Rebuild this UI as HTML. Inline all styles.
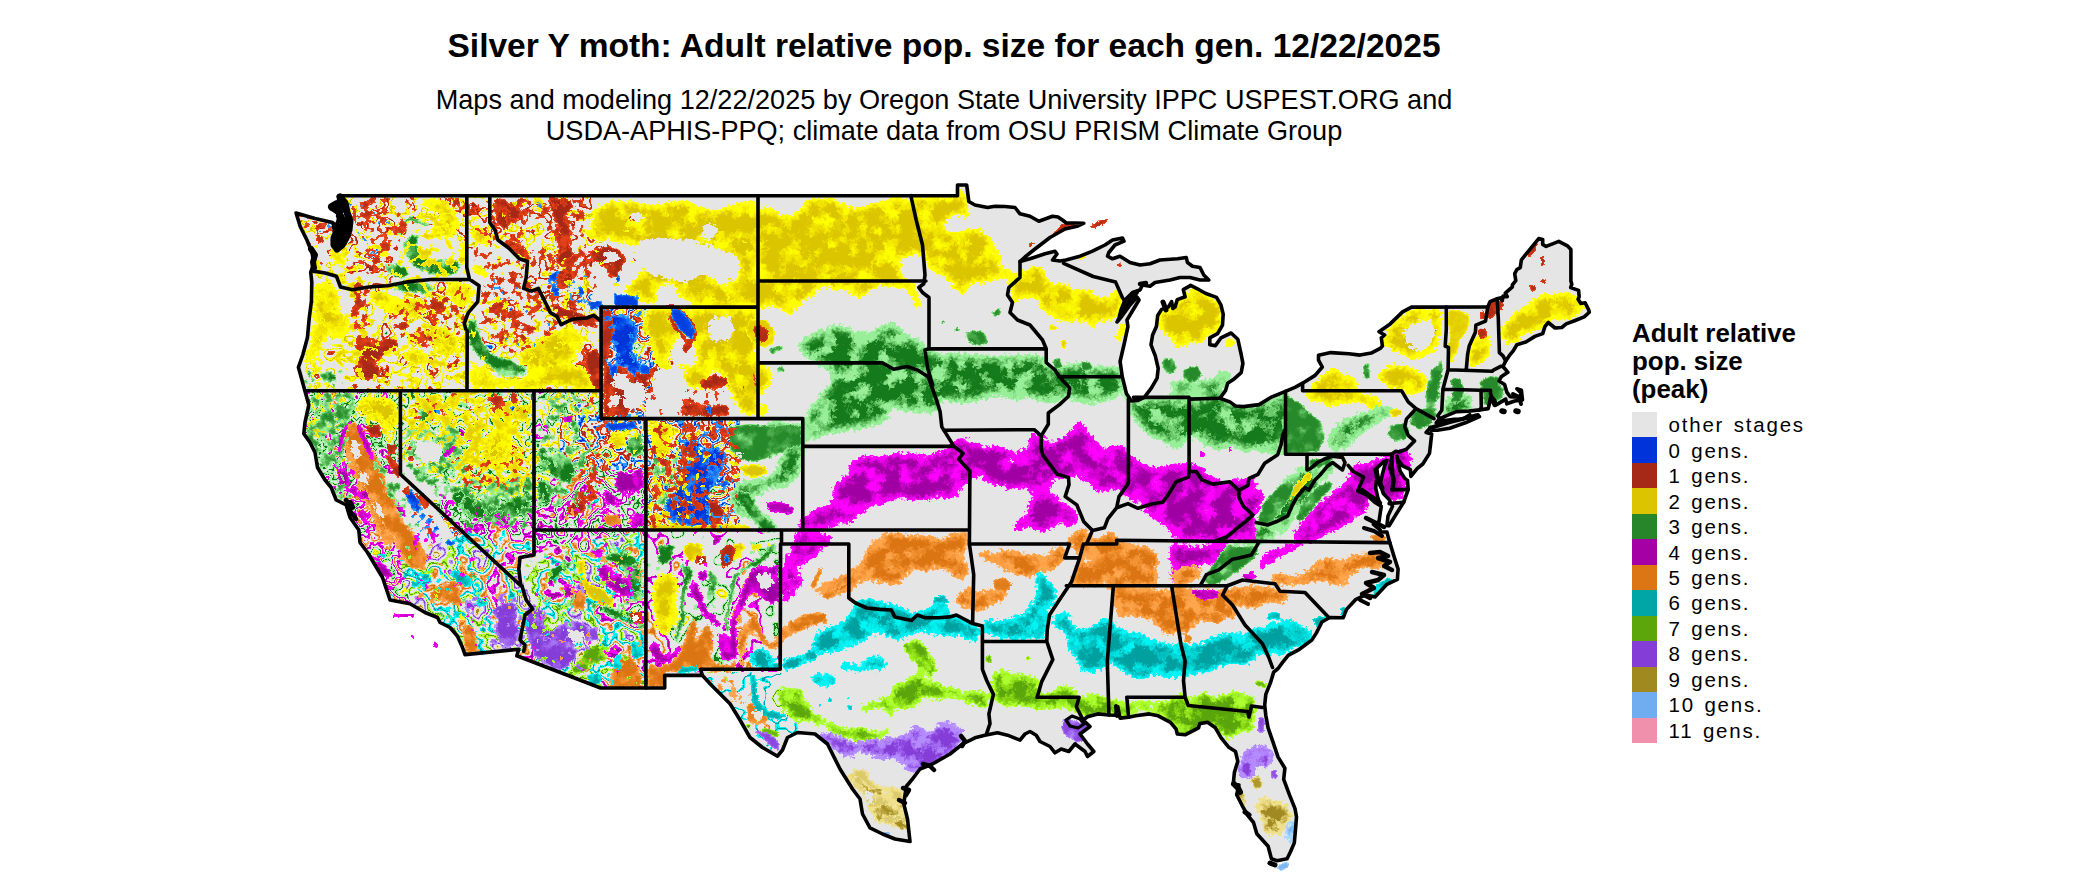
<!DOCTYPE html>
<html><head><meta charset="utf-8"><title>Silver Y moth</title>
<style>
html,body{margin:0;padding:0;background:#fff;}
body{width:2100px;height:892px;position:relative;overflow:hidden;font-family:"Liberation Sans",sans-serif;color:#000;}
#t{position:absolute;left:0;width:1888px;top:28px;text-align:center;font-weight:bold;font-size:33.55px;line-height:36px;white-space:nowrap}
#s{position:absolute;left:0;width:1888px;top:84px;text-align:center;font-size:27.1px;line-height:31.3px;white-space:nowrap}
#lt{position:absolute;left:1632px;top:320.2px;font-weight:bold;font-size:25.9px;line-height:27.8px;white-space:nowrap}
.sw{position:absolute;left:1632px;width:25px;}
.lb{position:absolute;left:1668.5px;font-size:20.5px;line-height:26px;height:26px;letter-spacing:1.8px;word-spacing:2px;white-space:nowrap}
#map{position:absolute;left:0;top:0}
</style></head><body>
<div id="t">Silver Y moth: Adult relative pop. size for each gen. 12/22/2025</div>
<div id="s">Maps and modeling 12/22/2025 by Oregon State University IPPC USPEST.ORG and<br>USDA-APHIS-PPQ; climate data from OSU PRISM Climate Group</div>
<div id="lt">Adult relative<br>pop. size<br>(peak)</div>

<div class="sw" style="top:412.00px;height:25.76px;background:#e5e5e5"></div>
<div class="lb" style="top:412.20px">other stages</div>
<div class="sw" style="top:437.46px;height:25.76px;background:#0033d9"></div>
<div class="lb" style="top:437.66px">0 gens.</div>
<div class="sw" style="top:462.92px;height:25.76px;background:#a62817"></div>
<div class="lb" style="top:463.12px">1 gens.</div>
<div class="sw" style="top:488.38px;height:25.76px;background:#dcc400"></div>
<div class="lb" style="top:488.58px">2 gens.</div>
<div class="sw" style="top:513.85px;height:25.76px;background:#27862a"></div>
<div class="lb" style="top:514.05px">3 gens.</div>
<div class="sw" style="top:539.31px;height:25.76px;background:#a500a5"></div>
<div class="lb" style="top:539.51px">4 gens.</div>
<div class="sw" style="top:564.77px;height:25.76px;background:#dc7614"></div>
<div class="lb" style="top:564.97px">5 gens.</div>
<div class="sw" style="top:590.23px;height:25.76px;background:#00a6a6"></div>
<div class="lb" style="top:590.43px">6 gens.</div>
<div class="sw" style="top:615.69px;height:25.76px;background:#5ca60c"></div>
<div class="lb" style="top:615.89px">7 gens.</div>
<div class="sw" style="top:641.15px;height:25.76px;background:#843dd6"></div>
<div class="lb" style="top:641.35px">8 gens.</div>
<div class="sw" style="top:666.62px;height:25.76px;background:#a08a20"></div>
<div class="lb" style="top:666.82px">9 gens.</div>
<div class="sw" style="top:692.08px;height:25.76px;background:#70acf0"></div>
<div class="lb" style="top:692.28px">10 gens.</div>
<div class="sw" style="top:717.54px;height:25.76px;background:#f090ac"></div>
<div class="lb" style="top:717.74px">11 gens.</div>
<svg id="map" width="2100" height="892" viewBox="0 0 2100 892">
<defs><clipPath id="us"><path d="M338.5 195.7 L957.5 195.7 L957.5 185.0 L966.7 185.0 L968.8 201.5 L975.0 205.0 L987.5 207.5 L995.0 206.2 L1005.0 206.5 L1015.0 207.5 L1020.0 213.8 L1030.0 216.2 L1038.8 221.2 L1045.0 219.0 L1052.5 216.2 L1058.0 217.0 L1062.5 220.0 L1066.2 223.0 L1075.0 223.0 L1083.8 223.2 L1078.0 226.0 L1065.0 229.0 L1050.0 237.5 L1035.0 249.0 L1025.0 257.0 L1020.0 261.5 L1030.0 258.8 L1045.0 253.8 L1055.0 251.2 L1057.0 254.0 L1052.5 260.0 L1060.0 261.0 L1066.0 260.0 L1080.0 256.2 L1092.5 251.2 L1105.0 245.0 L1112.5 240.0 L1122.5 238.0 L1124.0 241.2 L1115.0 245.0 L1108.8 252.5 L1107.5 256.2 L1112.5 258.8 L1120.0 256.2 L1130.0 262.5 L1140.0 265.0 L1150.0 263.8 L1160.0 260.0 L1177.5 258.8 L1186.2 257.5 L1187.5 262.5 L1192.5 266.2 L1200.0 267.5 L1203.8 275.0 L1208.8 280.0 L1200.0 280.0 L1190.0 277.5 L1180.0 277.5 L1170.0 280.0 L1155.0 282.5 L1150.0 286.2 L1142.5 285.0 L1140.0 290.0 L1132.5 292.5 L1125.0 300.0 L1121.0 310.0 L1119.0 318.0 L1117.0 322.0 L1122.0 316.0 L1130.0 305.0 L1137.0 297.0 L1139.0 300.0 L1133.0 310.0 L1127.0 320.0 L1127.9 326.6 L1124.6 342.0 L1120.1 361.5 L1122.3 376.8 L1126.4 393.5 L1131.3 401.0 L1138.0 400.5 L1144.3 397.4 L1151.5 387.9 L1157.1 378.2 L1158.2 368.4 L1155.3 355.9 L1151.0 344.8 L1152.6 335.0 L1156.4 326.6 L1157.7 315.5 L1161.6 309.4 L1168.3 307.1 L1171.6 301.6 L1172.8 308.5 L1175.0 307.1 L1177.3 299.6 L1185.1 296.8 L1183.3 289.6 L1190.7 285.4 L1197.4 288.8 L1205.3 293.2 L1216.5 297.4 L1221.0 305.2 L1223.2 314.1 L1222.5 325.2 L1217.6 333.6 L1209.8 337.8 L1209.8 344.8 L1215.4 345.6 L1221.0 337.8 L1231.1 333.0 L1237.8 339.2 L1241.2 354.5 L1242.9 363.4 L1241.2 372.6 L1233.3 379.6 L1227.7 383.2 L1225.5 390.7 L1219.9 398.2 L1229.9 401.9 L1235.5 406.0 L1243.4 406.6 L1259.1 404.6 L1270.3 397.7 L1285.5 391.3 L1295.4 387.1 L1302.6 383.2 L1315.1 375.4 L1322.3 367.0 L1318.5 360.1 L1318.5 355.3 L1330.8 352.6 L1348.8 353.7 L1360.0 355.1 L1371.2 353.1 L1380.2 348.4 L1382.4 346.1 L1381.3 337.8 L1384.6 335.0 L1379.0 331.7 L1390.2 323.9 L1402.6 311.9 L1411.5 307.1 L1487.8 306.9 L1490.0 301.6 L1497.2 298.8 L1500.1 297.9 L1502.3 300.7 L1503.0 296.0 L1507.3 296.6 L1505.3 293.2 L1512.4 286.8 L1512.4 284.9 L1515.8 280.7 L1514.7 273.7 L1516.9 269.5 L1520.3 267.6 L1521.4 259.8 L1538.7 238.6 L1542.7 239.4 L1542.7 244.5 L1546.1 246.4 L1558.8 241.4 L1567.4 245.8 L1570.9 249.5 L1570.9 281.0 L1571.8 284.3 L1570.7 287.6 L1578.6 290.4 L1579.2 296.6 L1578.1 299.3 L1580.8 303.5 L1585.1 302.7 L1588.7 309.9 L1589.3 312.2 L1584.2 316.9 L1575.2 320.5 L1566.2 323.9 L1561.8 327.5 L1555.0 328.0 L1548.3 322.5 L1544.9 326.6 L1542.7 333.6 L1534.9 336.4 L1525.9 342.0 L1516.9 344.8 L1513.6 350.3 L1509.1 355.9 L1505.7 360.9 L1503.0 366.5 L1507.9 372.3 L1501.2 376.8 L1499.0 381.0 L1504.6 384.6 L1506.8 392.1 L1510.2 396.8 L1519.2 397.1 L1521.4 393.5 L1516.9 388.8 L1521.4 390.2 L1522.5 399.9 L1514.7 401.0 L1506.8 403.8 L1505.7 399.1 L1496.7 404.6 L1494.5 405.5 L1490.5 397.7 L1488.9 406.0 L1488.2 408.6 L1479.7 409.9 L1468.7 411.1 L1456.4 411.6 L1449.7 414.4 L1439.6 418.6 L1436.2 422.8 L1442.9 420.8 L1454.1 419.4 L1463.1 419.1 L1469.8 414.7 L1467.6 418.6 L1479.5 416.6 L1465.4 422.8 L1449.7 428.3 L1437.3 430.3 L1431.3 430.3 L1430.6 427.5 L1426.1 432.5 L1431.7 433.9 L1430.6 443.7 L1429.5 453.4 L1422.8 464.0 L1417.1 468.7 L1410.9 476.3 L1410.4 469.6 L1402.6 465.9 L1397.6 459.0 L1397.0 456.2 L1398.1 463.2 L1400.3 471.5 L1404.8 478.5 L1407.5 480.4 L1408.2 489.6 L1403.7 502.2 L1395.8 514.7 L1389.1 525.8 L1386.9 525.8 L1388.0 516.1 L1392.5 506.3 L1389.1 499.4 L1383.5 493.8 L1380.2 484.1 L1382.4 474.3 L1384.6 465.9 L1386.9 460.4 L1383.5 461.8 L1376.8 468.2 L1376.8 475.7 L1375.7 488.2 L1377.9 498.0 L1380.2 504.1 L1373.4 498.0 L1365.6 493.8 L1374.6 502.2 L1381.3 506.3 L1380.2 513.3 L1379.0 521.7 L1373.4 524.4 L1380.2 530.0 L1380.2 532.0 L1386.9 532.0 L1389.8 542.6 L1393.6 555.1 L1398.1 569.0 L1397.4 579.3 L1386.9 584.3 L1375.0 596.9 L1365.6 594.9 L1355.5 599.7 L1346.5 609.4 L1343.2 617.8 L1329.7 617.5 L1321.9 622.0 L1316.3 633.1 L1311.8 640.1 L1299.4 649.3 L1288.2 655.4 L1282.6 662.4 L1278.1 668.5 L1273.7 672.1 L1270.3 683.2 L1265.8 694.4 L1264.7 705.3 L1265.8 715.3 L1268.1 727.8 L1274.8 747.3 L1278.1 757.1 L1284.9 768.2 L1283.7 779.4 L1289.4 794.7 L1295.0 808.6 L1296.5 817.0 L1295.4 830.9 L1294.3 842.9 L1290.5 851.8 L1287.1 858.8 L1277.0 860.7 L1271.4 858.8 L1268.1 846.2 L1256.8 833.7 L1253.5 822.5 L1247.9 815.6 L1242.3 805.8 L1236.7 794.7 L1238.9 784.9 L1233.3 783.5 L1234.4 772.4 L1237.8 761.3 L1235.5 751.5 L1228.8 747.3 L1221.0 737.6 L1215.4 727.8 L1207.5 722.3 L1199.7 723.6 L1198.6 727.8 L1185.1 734.8 L1177.3 734.0 L1176.1 729.2 L1170.5 722.3 L1158.2 715.8 L1149.2 713.9 L1135.8 715.8 L1128.6 717.2 L1120.1 718.1 L1117.8 706.9 L1115.6 715.3 L1108.9 715.0 L1097.7 713.9 L1087.6 716.7 L1083.1 720.0 L1090.0 726.5 L1080.0 734.0 L1087.5 744.0 L1093.8 751.5 L1087.5 756.5 L1085.0 751.5 L1075.0 744.0 L1068.8 751.5 L1061.2 749.0 L1055.0 752.8 L1050.0 746.5 L1040.0 741.5 L1036.2 735.2 L1030.0 731.5 L1025.0 734.0 L1020.0 740.2 L1007.5 735.2 L997.5 732.8 L985.0 735.2 L975.0 737.8 L962.5 744.0 L950.0 754.0 L932.5 764.0 L920.0 769.0 L912.5 779.0 L906.2 786.5 L903.8 804.0 L907.5 819.0 L910.0 841.5 L895.0 839.0 L882.5 834.0 L870.0 827.8 L862.5 814.0 L860.0 799.0 L852.5 789.0 L840.0 769.0 L827.5 744.0 L815.0 734.0 L812.5 733.8 L797.5 732.5 L787.5 737.5 L782.5 750.0 L777.5 756.2 L762.5 747.5 L750.0 737.5 L740.0 720.0 L730.0 703.8 L720.0 693.8 L710.0 683.8 L702.4 675.4 L664.7 675.4 L664.7 688.0 L600.6 688.0 L516.8 655.7 L518.8 649.3 L465.0 654.6 L462.5 647.5 L457.5 636.2 L450.0 627.5 L440.0 622.5 L437.5 617.5 L425.0 612.5 L410.0 603.8 L390.0 600.0 L387.5 592.5 L382.5 577.5 L375.0 565.0 L367.5 552.5 L360.0 542.5 L358.8 530.0 L350.0 517.5 L346.2 505.0 L336.2 500.0 L331.2 487.5 L325.0 480.0 L317.5 467.5 L315.0 452.5 L310.0 442.5 L303.8 433.8 L305.0 422.5 L308.8 405.0 L305.0 391.2 L301.8 379.6 L298.4 367.3 L302.9 354.5 L307.4 337.8 L309.2 318.3 L311.4 301.6 L311.8 282.1 L310.7 272.3 L313.6 264.2 L312.3 253.4 L306.9 240.0 L300.2 226.5 L296.1 213.0 L315.0 218.4 L332.5 222.5 L336.0 226.0 L338.0 221.0 L340.0 212.0 L338.0 203.0 L339.0 199.0 Z"/></clipPath>
<filter id="f0t" x="280" y="175" width="1340" height="710" filterUnits="userSpaceOnUse" color-interpolation-filters="sRGB"><feGaussianBlur in="SourceGraphic" stdDeviation="1.0" result="b"/><feTurbulence type="fractalNoise" baseFrequency="0.06" numOctaves="4" seed="42" result="n2"/><feColorMatrix in="n2" type="matrix" values="0 0 0 0 0 0 0 0 0 0 0 0 0 0 0 0 0 1.5 0 0.2" result="m"/><feComposite in="b" in2="m" operator="in" result="bm"/><feColorMatrix in="bm" type="matrix" values="0 0 0 1 0 0 0 0 1 0 0 0 0 1 0 0 0 0 1 0"/><feComponentTransfer result="c"><feFuncR type="table" tableValues="0.18 0.18 0.18 0.18 0.18 0.18 0.18 0.18 0.18 0.18 0.18 0.18 0.18 0.17 0.15 0.13 0.1 0.08 0.06 0.04 0.03 0.03 0.02 0.02 0.02 0.01"/><feFuncG type="table" tableValues="0.61 0.61 0.61 0.61 0.61 0.61 0.61 0.61 0.61 0.61 0.61 0.61 0.61 0.59 0.55 0.51 0.47 0.43 0.39 0.36 0.34 0.32 0.3 0.28 0.27 0.25"/><feFuncB type="table" tableValues="1 1 1 1 1 1 1 1 1 1 1 1 1 1 0.99 0.98 0.97 0.96 0.95 0.94 0.93 0.92 0.91 0.9 0.89 0.88"/><feFuncA type="table" tableValues="0 0 0 0 0 0 0 0 0 0 0 1 1 1 1 1 1 1 1 1 1 1 1 1 1 1"/></feComponentTransfer><feTurbulence type="fractalNoise" baseFrequency="0.28" numOctaves="2" seed="2" result="n"/><feDisplacementMap in="c" in2="n" scale="4" xChannelSelector="R" yChannelSelector="G"/></filter>
<filter id="f0m" x="280" y="175" width="1340" height="710" filterUnits="userSpaceOnUse" color-interpolation-filters="sRGB"><feGaussianBlur in="SourceGraphic" stdDeviation="1.5" result="b"/><feTurbulence type="fractalNoise" baseFrequency="0.06" numOctaves="4" seed="43" result="n2"/><feColorMatrix in="n2" type="matrix" values="0 0 0 0 0 0 0 0 0 0 0 0 0 0 0 0 0 1.5 0 0.2" result="m"/><feComposite in="b" in2="m" operator="in" result="bm"/><feColorMatrix in="bm" type="matrix" values="0 0 0 1 0 0 0 0 1 0 0 0 0 1 0 0 0 0 1 0"/><feComponentTransfer result="c"><feFuncR type="table" tableValues="0.51 0.51 0.51 0.51 0.51 0.51 0.51 0.51 0.51 0.51 0.51 0.51 0.18 0.18 0.18 0.17 0.14 0.12 0.09 0.07 0.04 0.03 0.02 0.01 0.01 0"/><feFuncG type="table" tableValues="0.76 0.76 0.76 0.76 0.76 0.76 0.76 0.76 0.76 0.76 0.76 0.76 0.61 0.61 0.61 0.59 0.54 0.5 0.45 0.41 0.36 0.33 0.29 0.26 0.23 0.2"/><feFuncB type="table" tableValues="1 1 1 1 1 1 1 1 1 1 1 1 1 1 1 0.99 0.98 0.97 0.96 0.95 0.94 0.92 0.9 0.88 0.87 0.85"/><feFuncA type="table" tableValues="0 0 0 0 0 0 0 0 0 0 0 1 1 1 1 1 1 1 1 1 1 1 1 1 1 1"/></feComponentTransfer><feTurbulence type="fractalNoise" baseFrequency="0.28" numOctaves="2" seed="3" result="n"/><feDisplacementMap in="c" in2="n" scale="6" xChannelSelector="R" yChannelSelector="G"/></filter>
<filter id="f1t" x="280" y="175" width="1340" height="710" filterUnits="userSpaceOnUse" color-interpolation-filters="sRGB"><feGaussianBlur in="SourceGraphic" stdDeviation="1.0" result="b"/><feTurbulence type="fractalNoise" baseFrequency="0.06" numOctaves="4" seed="45" result="n2"/><feColorMatrix in="n2" type="matrix" values="0 0 0 0 0 0 0 0 0 0 0 0 0 0 0 0 0 1.5 0 0.2" result="m"/><feComposite in="b" in2="m" operator="in" result="bm"/><feColorMatrix in="bm" type="matrix" values="0 0 0 1 0 0 0 0 1 0 0 0 0 1 0 0 0 0 1 0"/><feComponentTransfer result="c"><feFuncR type="table" tableValues="0.91 0.91 0.91 0.91 0.91 0.91 0.91 0.91 0.91 0.91 0.91 0.91 0.91 0.9 0.88 0.85 0.83 0.81 0.79 0.77 0.75 0.74 0.73 0.71 0.7 0.69"/><feFuncG type="table" tableValues="0.26 0.26 0.26 0.26 0.26 0.26 0.26 0.26 0.26 0.26 0.26 0.26 0.26 0.26 0.25 0.24 0.23 0.22 0.21 0.2 0.2 0.19 0.19 0.18 0.18 0.17"/><feFuncB type="table" tableValues="0.1 0.1 0.1 0.1 0.1 0.1 0.1 0.1 0.1 0.1 0.1 0.1 0.1 0.1 0.1 0.09 0.09 0.09 0.08 0.08 0.08 0.08 0.08 0.08 0.09 0.09"/><feFuncA type="table" tableValues="0 0 0 0 0 0 0 0 0 0 0 1 1 1 1 1 1 1 1 1 1 1 1 1 1 1"/></feComponentTransfer><feTurbulence type="fractalNoise" baseFrequency="0.28" numOctaves="2" seed="5" result="n"/><feDisplacementMap in="c" in2="n" scale="4" xChannelSelector="R" yChannelSelector="G"/></filter>
<filter id="f1m" x="280" y="175" width="1340" height="710" filterUnits="userSpaceOnUse" color-interpolation-filters="sRGB"><feGaussianBlur in="SourceGraphic" stdDeviation="1.5" result="b"/><feTurbulence type="fractalNoise" baseFrequency="0.06" numOctaves="4" seed="46" result="n2"/><feColorMatrix in="n2" type="matrix" values="0 0 0 0 0 0 0 0 0 0 0 0 0 0 0 0 0 1.5 0 0.2" result="m"/><feComposite in="b" in2="m" operator="in" result="bm"/><feColorMatrix in="bm" type="matrix" values="0 0 0 1 0 0 0 0 1 0 0 0 0 1 0 0 0 0 1 0"/><feComponentTransfer result="c"><feFuncR type="table" tableValues="0.95 0.95 0.95 0.95 0.95 0.95 0.95 0.95 0.95 0.95 0.95 0.95 0.91 0.91 0.91 0.9 0.87 0.85 0.82 0.79 0.77 0.74 0.72 0.69 0.67 0.65"/><feFuncG type="table" tableValues="0.56 0.56 0.56 0.56 0.56 0.56 0.56 0.56 0.56 0.56 0.56 0.56 0.26 0.26 0.26 0.26 0.25 0.24 0.23 0.21 0.2 0.19 0.18 0.17 0.16 0.16"/><feFuncB type="table" tableValues="0.46 0.46 0.46 0.46 0.46 0.46 0.46 0.46 0.46 0.46 0.46 0.46 0.1 0.1 0.1 0.1 0.1 0.09 0.09 0.08 0.08 0.08 0.08 0.09 0.09 0.09"/><feFuncA type="table" tableValues="0 0 0 0 0 0 0 0 0 0 0 1 1 1 1 1 1 1 1 1 1 1 1 1 1 1"/></feComponentTransfer><feTurbulence type="fractalNoise" baseFrequency="0.28" numOctaves="2" seed="6" result="n"/><feDisplacementMap in="c" in2="n" scale="6" xChannelSelector="R" yChannelSelector="G"/></filter>
<filter id="f2" x="280" y="175" width="1340" height="710" filterUnits="userSpaceOnUse" color-interpolation-filters="sRGB"><feGaussianBlur in="SourceGraphic" stdDeviation="3.6" result="b"/><feTurbulence type="fractalNoise" baseFrequency="0.06" numOctaves="4" seed="47" result="n2"/><feColorMatrix in="n2" type="matrix" values="0 0 0 0 0 0 0 0 0 0 0 0 0 0 0 0 0 1.3 0 0.3" result="m"/><feComposite in="b" in2="m" operator="in" result="bm"/><feColorMatrix in="bm" type="matrix" values="0 0 0 1 0 0 0 0 1 0 0 0 0 1 0 0 0 0 1 0"/><feComponentTransfer result="c"><feFuncR type="table" tableValues="1 1 1 1 1 1 1 1 1 1 1 1 1 1 1 1 1 0.99 0.98 0.97 0.96 0.95 0.94 0.91 0.88 0.86"/><feFuncG type="table" tableValues="1 1 1 1 1 1 1 1 1 1 1 1 1 1 1 1 1 0.99 0.97 0.94 0.92 0.9 0.88 0.84 0.8 0.77"/><feFuncB type="table" tableValues="0.4 0.4 0.4 0.4 0.4 0.4 0.4 0.4 0.4 0.4 0.4 0.4 0 0 0 0 0 0 0 0 0 0 0 0 0 0"/><feFuncA type="table" tableValues="0 0 0 0 0 0 0 0 0 0 0 1 1 1 1 1 1 1 1 1 1 1 1 1 1 1"/></feComponentTransfer><feTurbulence type="fractalNoise" baseFrequency="0.28" numOctaves="2" seed="7" result="n"/><feDisplacementMap in="c" in2="n" scale="9" xChannelSelector="R" yChannelSelector="G"/></filter>
<filter id="f2t" x="280" y="175" width="1340" height="710" filterUnits="userSpaceOnUse" color-interpolation-filters="sRGB"><feGaussianBlur in="SourceGraphic" stdDeviation="1.0" result="b"/><feTurbulence type="fractalNoise" baseFrequency="0.06" numOctaves="4" seed="48" result="n2"/><feColorMatrix in="n2" type="matrix" values="0 0 0 0 0 0 0 0 0 0 0 0 0 0 0 0 0 1.3 0 0.3" result="m"/><feComposite in="b" in2="m" operator="in" result="bm"/><feColorMatrix in="bm" type="matrix" values="0 0 0 1 0 0 0 0 1 0 0 0 0 1 0 0 0 0 1 0"/><feComponentTransfer result="c"><feFuncR type="table" tableValues="1 1 1 1 1 1 1 1 1 1 1 1 1 1 0.99 0.98 0.97 0.96 0.95 0.94 0.93 0.92 0.91 0.9 0.9 0.89"/><feFuncG type="table" tableValues="1 1 1 1 1 1 1 1 1 1 1 1 1 0.99 0.97 0.95 0.93 0.91 0.89 0.88 0.86 0.85 0.84 0.83 0.81 0.8"/><feFuncB type="table" tableValues="0 0 0 0 0 0 0 0 0 0 0 0 0 0 0 0 0 0 0 0 0 0 0 0 0 0"/><feFuncA type="table" tableValues="0 0 0 0 0 0 0 0 0 0 0 1 1 1 1 1 1 1 1 1 1 1 1 1 1 1"/></feComponentTransfer><feTurbulence type="fractalNoise" baseFrequency="0.28" numOctaves="2" seed="8" result="n"/><feDisplacementMap in="c" in2="n" scale="4" xChannelSelector="R" yChannelSelector="G"/></filter>
<filter id="f2m" x="280" y="175" width="1340" height="710" filterUnits="userSpaceOnUse" color-interpolation-filters="sRGB"><feGaussianBlur in="SourceGraphic" stdDeviation="1.5" result="b"/><feTurbulence type="fractalNoise" baseFrequency="0.06" numOctaves="4" seed="49" result="n2"/><feColorMatrix in="n2" type="matrix" values="0 0 0 0 0 0 0 0 0 0 0 0 0 0 0 0 0 1.3 0 0.3" result="m"/><feComposite in="b" in2="m" operator="in" result="bm"/><feColorMatrix in="bm" type="matrix" values="0 0 0 1 0 0 0 0 1 0 0 0 0 1 0 0 0 0 1 0"/><feComponentTransfer result="c"><feFuncR type="table" tableValues="1 1 1 1 1 1 1 1 1 1 1 1 1 1 1 0.99 0.98 0.97 0.96 0.95 0.94 0.92 0.91 0.89 0.88 0.86"/><feFuncG type="table" tableValues="1 1 1 1 1 1 1 1 1 1 1 1 1 1 1 0.99 0.97 0.94 0.92 0.9 0.88 0.86 0.83 0.81 0.79 0.77"/><feFuncB type="table" tableValues="0.4 0.4 0.4 0.4 0.4 0.4 0.4 0.4 0.4 0.4 0.4 0.4 0 0 0 0 0 0 0 0 0 0 0 0 0 0"/><feFuncA type="table" tableValues="0 0 0 0 0 0 0 0 0 0 0 1 1 1 1 1 1 1 1 1 1 1 1 1 1 1"/></feComponentTransfer><feTurbulence type="fractalNoise" baseFrequency="0.28" numOctaves="2" seed="9" result="n"/><feDisplacementMap in="c" in2="n" scale="6" xChannelSelector="R" yChannelSelector="G"/></filter>
<filter id="f3" x="280" y="175" width="1340" height="710" filterUnits="userSpaceOnUse" color-interpolation-filters="sRGB"><feGaussianBlur in="SourceGraphic" stdDeviation="4.2" result="b"/><feTurbulence type="fractalNoise" baseFrequency="0.06" numOctaves="4" seed="50" result="n2"/><feColorMatrix in="n2" type="matrix" values="0 0 0 0 0 0 0 0 0 0 0 0 0 0 0 0 0 1.4 0 0.27" result="m"/><feComposite in="b" in2="m" operator="in" result="bm"/><feColorMatrix in="bm" type="matrix" values="0 0 0 1 0 0 0 0 1 0 0 0 0 1 0 0 0 0 1 0"/><feComponentTransfer result="c"><feFuncR type="table" tableValues="0.76 0.76 0.76 0.76 0.76 0.76 0.76 0.76 0.76 0.76 0.76 0.76 0.6 0.6 0.6 0.6 0.6 0.6 0.6 0.54 0.49 0.43 0.38 0.32 0.2 0.08"/><feFuncG type="table" tableValues="0.96 0.96 0.96 0.96 0.96 0.96 0.96 0.96 0.96 0.96 0.96 0.96 0.94 0.94 0.94 0.94 0.94 0.94 0.94 0.89 0.85 0.8 0.75 0.7 0.58 0.48"/><feFuncB type="table" tableValues="0.76 0.76 0.76 0.76 0.76 0.76 0.76 0.76 0.76 0.76 0.76 0.76 0.6 0.6 0.6 0.6 0.6 0.6 0.6 0.54 0.49 0.43 0.38 0.32 0.21 0.11"/><feFuncA type="table" tableValues="0 0 0 0 0 0 0 0 0 0 0 1 1 1 1 1 1 1 1 1 1 1 1 1 1 1"/></feComponentTransfer><feTurbulence type="fractalNoise" baseFrequency="0.28" numOctaves="2" seed="10" result="n"/><feDisplacementMap in="c" in2="n" scale="9" xChannelSelector="R" yChannelSelector="G"/></filter>
<filter id="f3t" x="280" y="175" width="1340" height="710" filterUnits="userSpaceOnUse" color-interpolation-filters="sRGB"><feGaussianBlur in="SourceGraphic" stdDeviation="1.0" result="b"/><feTurbulence type="fractalNoise" baseFrequency="0.06" numOctaves="4" seed="51" result="n2"/><feColorMatrix in="n2" type="matrix" values="0 0 0 0 0 0 0 0 0 0 0 0 0 0 0 0 0 1.4 0 0.27" result="m"/><feComposite in="b" in2="m" operator="in" result="bm"/><feColorMatrix in="bm" type="matrix" values="0 0 0 1 0 0 0 0 1 0 0 0 0 1 0 0 0 0 1 0"/><feComponentTransfer result="c"><feFuncR type="table" tableValues="0.6 0.6 0.6 0.6 0.6 0.6 0.6 0.6 0.6 0.6 0.6 0.6 0.6 0.57 0.53 0.48 0.44 0.39 0.34 0.3 0.28 0.25 0.23 0.2 0.18 0.15"/><feFuncG type="table" tableValues="0.94 0.94 0.94 0.94 0.94 0.94 0.94 0.94 0.94 0.94 0.94 0.94 0.94 0.92 0.88 0.84 0.8 0.76 0.72 0.68 0.66 0.64 0.61 0.59 0.57 0.54"/><feFuncB type="table" tableValues="0.6 0.6 0.6 0.6 0.6 0.6 0.6 0.6 0.6 0.6 0.6 0.6 0.6 0.57 0.53 0.48 0.44 0.39 0.34 0.3 0.28 0.26 0.24 0.21 0.19 0.17"/><feFuncA type="table" tableValues="0 0 0 0 0 0 0 0 0 0 0 1 1 1 1 1 1 1 1 1 1 1 1 1 1 1"/></feComponentTransfer><feTurbulence type="fractalNoise" baseFrequency="0.28" numOctaves="2" seed="11" result="n"/><feDisplacementMap in="c" in2="n" scale="4" xChannelSelector="R" yChannelSelector="G"/></filter>
<filter id="f3m" x="280" y="175" width="1340" height="710" filterUnits="userSpaceOnUse" color-interpolation-filters="sRGB"><feGaussianBlur in="SourceGraphic" stdDeviation="1.5" result="b"/><feTurbulence type="fractalNoise" baseFrequency="0.06" numOctaves="4" seed="52" result="n2"/><feColorMatrix in="n2" type="matrix" values="0 0 0 0 0 0 0 0 0 0 0 0 0 0 0 0 0 1.4 0 0.27" result="m"/><feComposite in="b" in2="m" operator="in" result="bm"/><feColorMatrix in="bm" type="matrix" values="0 0 0 1 0 0 0 0 1 0 0 0 0 1 0 0 0 0 1 0"/><feComponentTransfer result="c"><feFuncR type="table" tableValues="0.76 0.76 0.76 0.76 0.76 0.76 0.76 0.76 0.76 0.76 0.76 0.76 0.6 0.6 0.6 0.57 0.52 0.47 0.41 0.36 0.31 0.26 0.21 0.17 0.12 0.08"/><feFuncG type="table" tableValues="0.96 0.96 0.96 0.96 0.96 0.96 0.96 0.96 0.96 0.96 0.96 0.96 0.94 0.94 0.94 0.92 0.87 0.83 0.78 0.74 0.69 0.65 0.6 0.56 0.51 0.48"/><feFuncB type="table" tableValues="0.76 0.76 0.76 0.76 0.76 0.76 0.76 0.76 0.76 0.76 0.76 0.76 0.6 0.6 0.6 0.57 0.52 0.47 0.41 0.36 0.31 0.27 0.23 0.18 0.14 0.11"/><feFuncA type="table" tableValues="0 0 0 0 0 0 0 0 0 0 0 1 1 1 1 1 1 1 1 1 1 1 1 1 1 1"/></feComponentTransfer><feTurbulence type="fractalNoise" baseFrequency="0.28" numOctaves="2" seed="12" result="n"/><feDisplacementMap in="c" in2="n" scale="6" xChannelSelector="R" yChannelSelector="G"/></filter>
<filter id="f4" x="280" y="175" width="1340" height="710" filterUnits="userSpaceOnUse" color-interpolation-filters="sRGB"><feGaussianBlur in="SourceGraphic" stdDeviation="3.6" result="b"/><feTurbulence type="fractalNoise" baseFrequency="0.06" numOctaves="4" seed="53" result="n2"/><feColorMatrix in="n2" type="matrix" values="0 0 0 0 0 0 0 0 0 0 0 0 0 0 0 0 0 1.5 0 0.2" result="m"/><feComposite in="b" in2="m" operator="in" result="bm"/><feColorMatrix in="bm" type="matrix" values="0 0 0 1 0 0 0 0 1 0 0 0 0 1 0 0 0 0 1 0"/><feComponentTransfer result="c"><feFuncR type="table" tableValues="1 1 1 1 1 1 1 1 1 1 1 1 1 1 1 1 1 1 0.97 0.93 0.9 0.86 0.83 0.77 0.69 0.63"/><feFuncG type="table" tableValues="0.4 0.4 0.4 0.4 0.4 0.4 0.4 0.4 0.4 0.4 0.4 0.4 0 0 0 0 0 0 0 0 0 0 0 0 0 0"/><feFuncB type="table" tableValues="1 1 1 1 1 1 1 1 1 1 1 1 1 1 1 1 1 1 0.97 0.93 0.9 0.86 0.83 0.77 0.7 0.64"/><feFuncA type="table" tableValues="0 0 0 0 0 0 0 0 0 0 0 1 1 1 1 1 1 1 1 1 1 1 1 1 1 1"/></feComponentTransfer><feTurbulence type="fractalNoise" baseFrequency="0.28" numOctaves="2" seed="13" result="n"/><feDisplacementMap in="c" in2="n" scale="9" xChannelSelector="R" yChannelSelector="G"/></filter>
<filter id="f4t" x="280" y="175" width="1340" height="710" filterUnits="userSpaceOnUse" color-interpolation-filters="sRGB"><feGaussianBlur in="SourceGraphic" stdDeviation="1.0" result="b"/><feTurbulence type="fractalNoise" baseFrequency="0.06" numOctaves="4" seed="54" result="n2"/><feColorMatrix in="n2" type="matrix" values="0 0 0 0 0 0 0 0 0 0 0 0 0 0 0 0 0 1.5 0 0.2" result="m"/><feComposite in="b" in2="m" operator="in" result="bm"/><feColorMatrix in="bm" type="matrix" values="0 0 0 1 0 0 0 0 1 0 0 0 0 1 0 0 0 0 1 0"/><feComponentTransfer result="c"><feFuncR type="table" tableValues="1 1 1 1 1 1 1 1 1 1 1 1 1 0.98 0.95 0.92 0.89 0.86 0.83 0.81 0.79 0.77 0.74 0.72 0.7 0.68"/><feFuncG type="table" tableValues="0 0 0 0 0 0 0 0 0 0 0 0 0 0 0 0 0 0 0 0 0 0 0 0 0 0"/><feFuncB type="table" tableValues="1 1 1 1 1 1 1 1 1 1 1 1 1 0.98 0.95 0.92 0.89 0.86 0.83 0.81 0.79 0.77 0.75 0.73 0.71 0.69"/><feFuncA type="table" tableValues="0 0 0 0 0 0 0 0 0 0 0 1 1 1 1 1 1 1 1 1 1 1 1 1 1 1"/></feComponentTransfer><feTurbulence type="fractalNoise" baseFrequency="0.28" numOctaves="2" seed="14" result="n"/><feDisplacementMap in="c" in2="n" scale="4" xChannelSelector="R" yChannelSelector="G"/></filter>
<filter id="f4m" x="280" y="175" width="1340" height="710" filterUnits="userSpaceOnUse" color-interpolation-filters="sRGB"><feGaussianBlur in="SourceGraphic" stdDeviation="1.5" result="b"/><feTurbulence type="fractalNoise" baseFrequency="0.06" numOctaves="4" seed="55" result="n2"/><feColorMatrix in="n2" type="matrix" values="0 0 0 0 0 0 0 0 0 0 0 0 0 0 0 0 0 1.5 0 0.2" result="m"/><feComposite in="b" in2="m" operator="in" result="bm"/><feColorMatrix in="bm" type="matrix" values="0 0 0 1 0 0 0 0 1 0 0 0 0 1 0 0 0 0 1 0"/><feComponentTransfer result="c"><feFuncR type="table" tableValues="1 1 1 1 1 1 1 1 1 1 1 1 1 1 1 0.98 0.95 0.91 0.88 0.85 0.81 0.77 0.73 0.7 0.66 0.63"/><feFuncG type="table" tableValues="0.4 0.4 0.4 0.4 0.4 0.4 0.4 0.4 0.4 0.4 0.4 0.4 0 0 0 0 0 0 0 0 0 0 0 0 0 0"/><feFuncB type="table" tableValues="1 1 1 1 1 1 1 1 1 1 1 1 1 1 1 0.98 0.95 0.91 0.88 0.85 0.81 0.78 0.74 0.71 0.67 0.64"/><feFuncA type="table" tableValues="0 0 0 0 0 0 0 0 0 0 0 1 1 1 1 1 1 1 1 1 1 1 1 1 1 1"/></feComponentTransfer><feTurbulence type="fractalNoise" baseFrequency="0.28" numOctaves="2" seed="15" result="n"/><feDisplacementMap in="c" in2="n" scale="6" xChannelSelector="R" yChannelSelector="G"/></filter>
<filter id="f5" x="280" y="175" width="1340" height="710" filterUnits="userSpaceOnUse" color-interpolation-filters="sRGB"><feGaussianBlur in="SourceGraphic" stdDeviation="3.4" result="b"/><feTurbulence type="fractalNoise" baseFrequency="0.06" numOctaves="4" seed="56" result="n2"/><feColorMatrix in="n2" type="matrix" values="0 0 0 0 0 0 0 0 0 0 0 0 0 0 0 0 0 1.5 0 0.2" result="m"/><feComposite in="b" in2="m" operator="in" result="bm"/><feColorMatrix in="bm" type="matrix" values="0 0 0 1 0 0 0 0 1 0 0 0 0 1 0 0 0 0 1 0"/><feComponentTransfer result="c"><feFuncR type="table" tableValues="1 1 1 1 1 1 1 1 1 1 1 1 1 1 1 1 1 0.99 0.98 0.97 0.95 0.94 0.93 0.9 0.88 0.86"/><feFuncG type="table" tableValues="0.79 0.79 0.79 0.79 0.79 0.79 0.79 0.79 0.79 0.79 0.79 0.79 0.65 0.65 0.65 0.65 0.65 0.64 0.62 0.6 0.58 0.56 0.54 0.51 0.48 0.46"/><feFuncB type="table" tableValues="0.58 0.58 0.58 0.58 0.58 0.58 0.58 0.58 0.58 0.58 0.58 0.58 0.3 0.3 0.3 0.3 0.3 0.29 0.26 0.24 0.21 0.18 0.16 0.13 0.1 0.08"/><feFuncA type="table" tableValues="0 0 0 0 0 0 0 0 0 0 0 1 1 1 1 1 1 1 1 1 1 1 1 1 1 1"/></feComponentTransfer><feTurbulence type="fractalNoise" baseFrequency="0.28" numOctaves="2" seed="16" result="n"/><feDisplacementMap in="c" in2="n" scale="9" xChannelSelector="R" yChannelSelector="G"/></filter>
<filter id="f5t" x="280" y="175" width="1340" height="710" filterUnits="userSpaceOnUse" color-interpolation-filters="sRGB"><feGaussianBlur in="SourceGraphic" stdDeviation="1.0" result="b"/><feTurbulence type="fractalNoise" baseFrequency="0.06" numOctaves="4" seed="57" result="n2"/><feColorMatrix in="n2" type="matrix" values="0 0 0 0 0 0 0 0 0 0 0 0 0 0 0 0 0 1.5 0 0.2" result="m"/><feComposite in="b" in2="m" operator="in" result="bm"/><feColorMatrix in="bm" type="matrix" values="0 0 0 1 0 0 0 0 1 0 0 0 0 1 0 0 0 0 1 0"/><feComponentTransfer result="c"><feFuncR type="table" tableValues="1 1 1 1 1 1 1 1 1 1 1 1 1 0.99 0.98 0.97 0.96 0.95 0.93 0.92 0.92 0.91 0.9 0.9 0.89 0.88"/><feFuncG type="table" tableValues="0.65 0.65 0.65 0.65 0.65 0.65 0.65 0.65 0.65 0.65 0.65 0.65 0.65 0.64 0.62 0.61 0.59 0.57 0.55 0.54 0.53 0.52 0.51 0.5 0.5 0.49"/><feFuncB type="table" tableValues="0.3 0.3 0.3 0.3 0.3 0.3 0.3 0.3 0.3 0.3 0.3 0.3 0.3 0.29 0.27 0.24 0.22 0.2 0.17 0.15 0.15 0.14 0.13 0.12 0.11 0.1"/><feFuncA type="table" tableValues="0 0 0 0 0 0 0 0 0 0 0 1 1 1 1 1 1 1 1 1 1 1 1 1 1 1"/></feComponentTransfer><feTurbulence type="fractalNoise" baseFrequency="0.28" numOctaves="2" seed="17" result="n"/><feDisplacementMap in="c" in2="n" scale="4" xChannelSelector="R" yChannelSelector="G"/></filter>
<filter id="f5m" x="280" y="175" width="1340" height="710" filterUnits="userSpaceOnUse" color-interpolation-filters="sRGB"><feGaussianBlur in="SourceGraphic" stdDeviation="1.5" result="b"/><feTurbulence type="fractalNoise" baseFrequency="0.06" numOctaves="4" seed="58" result="n2"/><feColorMatrix in="n2" type="matrix" values="0 0 0 0 0 0 0 0 0 0 0 0 0 0 0 0 0 1.5 0 0.2" result="m"/><feComposite in="b" in2="m" operator="in" result="bm"/><feColorMatrix in="bm" type="matrix" values="0 0 0 1 0 0 0 0 1 0 0 0 0 1 0 0 0 0 1 0"/><feComponentTransfer result="c"><feFuncR type="table" tableValues="1 1 1 1 1 1 1 1 1 1 1 1 1 1 1 0.99 0.98 0.97 0.95 0.94 0.93 0.91 0.9 0.89 0.87 0.86"/><feFuncG type="table" tableValues="0.79 0.79 0.79 0.79 0.79 0.79 0.79 0.79 0.79 0.79 0.79 0.79 0.65 0.65 0.65 0.64 0.62 0.6 0.58 0.56 0.54 0.52 0.51 0.49 0.48 0.46"/><feFuncB type="table" tableValues="0.58 0.58 0.58 0.58 0.58 0.58 0.58 0.58 0.58 0.58 0.58 0.58 0.3 0.3 0.3 0.29 0.26 0.24 0.21 0.18 0.16 0.14 0.12 0.11 0.09 0.08"/><feFuncA type="table" tableValues="0 0 0 0 0 0 0 0 0 0 0 1 1 1 1 1 1 1 1 1 1 1 1 1 1 1"/></feComponentTransfer><feTurbulence type="fractalNoise" baseFrequency="0.28" numOctaves="2" seed="18" result="n"/><feDisplacementMap in="c" in2="n" scale="6" xChannelSelector="R" yChannelSelector="G"/></filter>
<filter id="f6" x="280" y="175" width="1340" height="710" filterUnits="userSpaceOnUse" color-interpolation-filters="sRGB"><feGaussianBlur in="SourceGraphic" stdDeviation="3.2" result="b"/><feTurbulence type="fractalNoise" baseFrequency="0.06" numOctaves="4" seed="59" result="n2"/><feColorMatrix in="n2" type="matrix" values="0 0 0 0 0 0 0 0 0 0 0 0 0 0 0 0 0 1.5 0 0.2" result="m"/><feComposite in="b" in2="m" operator="in" result="bm"/><feColorMatrix in="bm" type="matrix" values="0 0 0 1 0 0 0 0 1 0 0 0 0 1 0 0 0 0 1 0"/><feComponentTransfer result="c"><feFuncR type="table" tableValues="0.4 0.4 0.4 0.4 0.4 0.4 0.4 0.4 0.4 0.4 0.4 0.4 0 0 0 0 0 0 0 0 0 0 0 0 0 0"/><feFuncG type="table" tableValues="0.98 0.98 0.98 0.98 0.98 0.98 0.98 0.98 0.98 0.98 0.98 0.98 0.96 0.96 0.96 0.96 0.96 0.94 0.91 0.88 0.85 0.82 0.78 0.73 0.67 0.63"/><feFuncB type="table" tableValues="0.98 0.98 0.98 0.98 0.98 0.98 0.98 0.98 0.98 0.98 0.98 0.98 0.96 0.96 0.96 0.96 0.96 0.94 0.91 0.88 0.85 0.82 0.78 0.73 0.67 0.63"/><feFuncA type="table" tableValues="0 0 0 0 0 0 0 0 0 0 0 1 1 1 1 1 1 1 1 1 1 1 1 1 1 1"/></feComponentTransfer><feTurbulence type="fractalNoise" baseFrequency="0.28" numOctaves="2" seed="19" result="n"/><feDisplacementMap in="c" in2="n" scale="9" xChannelSelector="R" yChannelSelector="G"/></filter>
<filter id="f6t" x="280" y="175" width="1340" height="710" filterUnits="userSpaceOnUse" color-interpolation-filters="sRGB"><feGaussianBlur in="SourceGraphic" stdDeviation="1.0" result="b"/><feTurbulence type="fractalNoise" baseFrequency="0.06" numOctaves="4" seed="60" result="n2"/><feColorMatrix in="n2" type="matrix" values="0 0 0 0 0 0 0 0 0 0 0 0 0 0 0 0 0 1.5 0 0.2" result="m"/><feComposite in="b" in2="m" operator="in" result="bm"/><feColorMatrix in="bm" type="matrix" values="0 0 0 1 0 0 0 0 1 0 0 0 0 1 0 0 0 0 1 0"/><feComponentTransfer result="c"><feFuncR type="table" tableValues="0 0 0 0 0 0 0 0 0 0 0 0 0 0 0 0 0 0 0 0 0 0 0 0 0 0"/><feFuncG type="table" tableValues="0.96 0.96 0.96 0.96 0.96 0.96 0.96 0.96 0.96 0.96 0.96 0.96 0.96 0.95 0.92 0.89 0.86 0.83 0.81 0.78 0.76 0.74 0.73 0.71 0.69 0.67"/><feFuncB type="table" tableValues="0.96 0.96 0.96 0.96 0.96 0.96 0.96 0.96 0.96 0.96 0.96 0.96 0.96 0.95 0.92 0.89 0.86 0.83 0.81 0.78 0.76 0.74 0.73 0.71 0.69 0.67"/><feFuncA type="table" tableValues="0 0 0 0 0 0 0 0 0 0 0 1 1 1 1 1 1 1 1 1 1 1 1 1 1 1"/></feComponentTransfer><feTurbulence type="fractalNoise" baseFrequency="0.28" numOctaves="2" seed="20" result="n"/><feDisplacementMap in="c" in2="n" scale="4" xChannelSelector="R" yChannelSelector="G"/></filter>
<filter id="f6m" x="280" y="175" width="1340" height="710" filterUnits="userSpaceOnUse" color-interpolation-filters="sRGB"><feGaussianBlur in="SourceGraphic" stdDeviation="1.5" result="b"/><feTurbulence type="fractalNoise" baseFrequency="0.06" numOctaves="4" seed="61" result="n2"/><feColorMatrix in="n2" type="matrix" values="0 0 0 0 0 0 0 0 0 0 0 0 0 0 0 0 0 1.5 0 0.2" result="m"/><feComposite in="b" in2="m" operator="in" result="bm"/><feColorMatrix in="bm" type="matrix" values="0 0 0 1 0 0 0 0 1 0 0 0 0 1 0 0 0 0 1 0"/><feComponentTransfer result="c"><feFuncR type="table" tableValues="0.4 0.4 0.4 0.4 0.4 0.4 0.4 0.4 0.4 0.4 0.4 0.4 0 0 0 0 0 0 0 0 0 0 0 0 0 0"/><feFuncG type="table" tableValues="0.98 0.98 0.98 0.98 0.98 0.98 0.98 0.98 0.98 0.98 0.98 0.98 0.96 0.96 0.96 0.94 0.91 0.88 0.85 0.82 0.78 0.75 0.72 0.69 0.65 0.63"/><feFuncB type="table" tableValues="0.98 0.98 0.98 0.98 0.98 0.98 0.98 0.98 0.98 0.98 0.98 0.98 0.96 0.96 0.96 0.94 0.91 0.88 0.85 0.82 0.78 0.75 0.72 0.69 0.65 0.63"/><feFuncA type="table" tableValues="0 0 0 0 0 0 0 0 0 0 0 1 1 1 1 1 1 1 1 1 1 1 1 1 1 1"/></feComponentTransfer><feTurbulence type="fractalNoise" baseFrequency="0.28" numOctaves="2" seed="21" result="n"/><feDisplacementMap in="c" in2="n" scale="6" xChannelSelector="R" yChannelSelector="G"/></filter>
<filter id="f7" x="280" y="175" width="1340" height="710" filterUnits="userSpaceOnUse" color-interpolation-filters="sRGB"><feGaussianBlur in="SourceGraphic" stdDeviation="3.2" result="b"/><feTurbulence type="fractalNoise" baseFrequency="0.06" numOctaves="4" seed="62" result="n2"/><feColorMatrix in="n2" type="matrix" values="0 0 0 0 0 0 0 0 0 0 0 0 0 0 0 0 0 1.5 0 0.2" result="m"/><feComposite in="b" in2="m" operator="in" result="bm"/><feColorMatrix in="bm" type="matrix" values="0 0 0 1 0 0 0 0 1 0 0 0 0 1 0 0 0 0 1 0"/><feComponentTransfer result="c"><feFuncR type="table" tableValues="0.81 0.81 0.81 0.81 0.81 0.81 0.81 0.81 0.81 0.81 0.81 0.81 0.68 0.68 0.68 0.68 0.68 0.66 0.63 0.6 0.57 0.53 0.5 0.45 0.4 0.36"/><feFuncG type="table" tableValues="1 1 1 1 1 1 1 1 1 1 1 1 1 1 1 1 1 0.98 0.95 0.92 0.88 0.85 0.82 0.76 0.7 0.65"/><feFuncB type="table" tableValues="0.51 0.51 0.51 0.51 0.51 0.51 0.51 0.51 0.51 0.51 0.51 0.51 0.18 0.18 0.18 0.18 0.18 0.17 0.15 0.13 0.11 0.08 0.06 0.06 0.05 0.05"/><feFuncA type="table" tableValues="0 0 0 0 0 0 0 0 0 0 0 1 1 1 1 1 1 1 1 1 1 1 1 1 1 1"/></feComponentTransfer><feTurbulence type="fractalNoise" baseFrequency="0.28" numOctaves="2" seed="22" result="n"/><feDisplacementMap in="c" in2="n" scale="9" xChannelSelector="R" yChannelSelector="G"/></filter>
<filter id="f7t" x="280" y="175" width="1340" height="710" filterUnits="userSpaceOnUse" color-interpolation-filters="sRGB"><feGaussianBlur in="SourceGraphic" stdDeviation="1.0" result="b"/><feTurbulence type="fractalNoise" baseFrequency="0.06" numOctaves="4" seed="63" result="n2"/><feColorMatrix in="n2" type="matrix" values="0 0 0 0 0 0 0 0 0 0 0 0 0 0 0 0 0 1.5 0 0.2" result="m"/><feComposite in="b" in2="m" operator="in" result="bm"/><feColorMatrix in="bm" type="matrix" values="0 0 0 1 0 0 0 0 1 0 0 0 0 1 0 0 0 0 1 0"/><feComponentTransfer result="c"><feFuncR type="table" tableValues="0.68 0.68 0.68 0.68 0.68 0.68 0.68 0.68 0.68 0.68 0.68 0.68 0.68 0.66 0.64 0.61 0.58 0.55 0.52 0.5 0.48 0.47 0.45 0.43 0.42 0.4"/><feFuncG type="table" tableValues="1 1 1 1 1 1 1 1 1 1 1 1 1 0.99 0.96 0.93 0.9 0.87 0.84 0.81 0.79 0.77 0.76 0.74 0.72 0.7"/><feFuncB type="table" tableValues="0.18 0.18 0.18 0.18 0.18 0.18 0.18 0.18 0.18 0.18 0.18 0.18 0.18 0.17 0.16 0.14 0.12 0.1 0.08 0.06 0.06 0.06 0.06 0.06 0.05 0.05"/><feFuncA type="table" tableValues="0 0 0 0 0 0 0 0 0 0 0 1 1 1 1 1 1 1 1 1 1 1 1 1 1 1"/></feComponentTransfer><feTurbulence type="fractalNoise" baseFrequency="0.28" numOctaves="2" seed="23" result="n"/><feDisplacementMap in="c" in2="n" scale="4" xChannelSelector="R" yChannelSelector="G"/></filter>
<filter id="f7m" x="280" y="175" width="1340" height="710" filterUnits="userSpaceOnUse" color-interpolation-filters="sRGB"><feGaussianBlur in="SourceGraphic" stdDeviation="1.5" result="b"/><feTurbulence type="fractalNoise" baseFrequency="0.06" numOctaves="4" seed="64" result="n2"/><feColorMatrix in="n2" type="matrix" values="0 0 0 0 0 0 0 0 0 0 0 0 0 0 0 0 0 1.5 0 0.2" result="m"/><feComposite in="b" in2="m" operator="in" result="bm"/><feColorMatrix in="bm" type="matrix" values="0 0 0 1 0 0 0 0 1 0 0 0 0 1 0 0 0 0 1 0"/><feComponentTransfer result="c"><feFuncR type="table" tableValues="0.81 0.81 0.81 0.81 0.81 0.81 0.81 0.81 0.81 0.81 0.81 0.81 0.68 0.68 0.68 0.66 0.63 0.6 0.57 0.53 0.5 0.47 0.44 0.41 0.38 0.36"/><feFuncG type="table" tableValues="1 1 1 1 1 1 1 1 1 1 1 1 1 1 1 0.98 0.95 0.92 0.88 0.85 0.82 0.78 0.75 0.71 0.68 0.65"/><feFuncB type="table" tableValues="0.51 0.51 0.51 0.51 0.51 0.51 0.51 0.51 0.51 0.51 0.51 0.51 0.18 0.18 0.18 0.17 0.15 0.13 0.11 0.08 0.06 0.06 0.06 0.05 0.05 0.05"/><feFuncA type="table" tableValues="0 0 0 0 0 0 0 0 0 0 0 1 1 1 1 1 1 1 1 1 1 1 1 1 1 1"/></feComponentTransfer><feTurbulence type="fractalNoise" baseFrequency="0.28" numOctaves="2" seed="24" result="n"/><feDisplacementMap in="c" in2="n" scale="6" xChannelSelector="R" yChannelSelector="G"/></filter>
<filter id="f8" x="280" y="175" width="1340" height="710" filterUnits="userSpaceOnUse" color-interpolation-filters="sRGB"><feGaussianBlur in="SourceGraphic" stdDeviation="3.0" result="b"/><feTurbulence type="fractalNoise" baseFrequency="0.06" numOctaves="4" seed="65" result="n2"/><feColorMatrix in="n2" type="matrix" values="0 0 0 0 0 0 0 0 0 0 0 0 0 0 0 0 0 1.5 0 0.2" result="m"/><feComposite in="b" in2="m" operator="in" result="bm"/><feColorMatrix in="bm" type="matrix" values="0 0 0 1 0 0 0 0 1 0 0 0 0 1 0 0 0 0 1 0"/><feComponentTransfer result="c"><feFuncR type="table" tableValues="0.82 0.82 0.82 0.82 0.82 0.82 0.82 0.82 0.82 0.82 0.82 0.82 0.71 0.71 0.71 0.71 0.71 0.71 0.7 0.68 0.65 0.63 0.61 0.58 0.55 0.52"/><feFuncG type="table" tableValues="0.73 0.73 0.73 0.73 0.73 0.73 0.73 0.73 0.73 0.73 0.73 0.73 0.55 0.55 0.55 0.55 0.55 0.55 0.53 0.49 0.45 0.42 0.38 0.33 0.28 0.24"/><feFuncB type="table" tableValues="1 1 1 1 1 1 1 1 1 1 1 1 1 1 1 1 1 1 0.99 0.98 0.96 0.94 0.93 0.9 0.87 0.84"/><feFuncA type="table" tableValues="0 0 0 0 0 0 0 0 0 0 0 1 1 1 1 1 1 1 1 1 1 1 1 1 1 1"/></feComponentTransfer><feTurbulence type="fractalNoise" baseFrequency="0.28" numOctaves="2" seed="25" result="n"/><feDisplacementMap in="c" in2="n" scale="9" xChannelSelector="R" yChannelSelector="G"/></filter>
<filter id="f8t" x="280" y="175" width="1340" height="710" filterUnits="userSpaceOnUse" color-interpolation-filters="sRGB"><feGaussianBlur in="SourceGraphic" stdDeviation="1.0" result="b"/><feTurbulence type="fractalNoise" baseFrequency="0.06" numOctaves="4" seed="66" result="n2"/><feColorMatrix in="n2" type="matrix" values="0 0 0 0 0 0 0 0 0 0 0 0 0 0 0 0 0 1.5 0 0.2" result="m"/><feComposite in="b" in2="m" operator="in" result="bm"/><feColorMatrix in="bm" type="matrix" values="0 0 0 1 0 0 0 0 1 0 0 0 0 1 0 0 0 0 1 0"/><feComponentTransfer result="c"><feFuncR type="table" tableValues="0.71 0.71 0.71 0.71 0.71 0.71 0.71 0.71 0.71 0.71 0.71 0.71 0.71 0.7 0.68 0.67 0.65 0.63 0.62 0.6 0.59 0.58 0.57 0.56 0.55 0.54"/><feFuncG type="table" tableValues="0.55 0.55 0.55 0.55 0.55 0.55 0.55 0.55 0.55 0.55 0.55 0.55 0.55 0.53 0.5 0.47 0.44 0.41 0.38 0.36 0.34 0.33 0.32 0.3 0.29 0.28"/><feFuncB type="table" tableValues="1 1 1 1 1 1 1 1 1 1 1 1 1 0.99 0.98 0.97 0.95 0.94 0.93 0.92 0.91 0.9 0.89 0.88 0.87 0.86"/><feFuncA type="table" tableValues="0 0 0 0 0 0 0 0 0 0 0 1 1 1 1 1 1 1 1 1 1 1 1 1 1 1"/></feComponentTransfer><feTurbulence type="fractalNoise" baseFrequency="0.28" numOctaves="2" seed="26" result="n"/><feDisplacementMap in="c" in2="n" scale="4" xChannelSelector="R" yChannelSelector="G"/></filter>
<filter id="f8m" x="280" y="175" width="1340" height="710" filterUnits="userSpaceOnUse" color-interpolation-filters="sRGB"><feGaussianBlur in="SourceGraphic" stdDeviation="1.5" result="b"/><feTurbulence type="fractalNoise" baseFrequency="0.06" numOctaves="4" seed="67" result="n2"/><feColorMatrix in="n2" type="matrix" values="0 0 0 0 0 0 0 0 0 0 0 0 0 0 0 0 0 1.5 0 0.2" result="m"/><feComposite in="b" in2="m" operator="in" result="bm"/><feColorMatrix in="bm" type="matrix" values="0 0 0 1 0 0 0 0 1 0 0 0 0 1 0 0 0 0 1 0"/><feComponentTransfer result="c"><feFuncR type="table" tableValues="0.82 0.82 0.82 0.82 0.82 0.82 0.82 0.82 0.82 0.82 0.82 0.82 0.71 0.71 0.71 0.7 0.68 0.66 0.64 0.62 0.6 0.59 0.57 0.55 0.53 0.52"/><feFuncG type="table" tableValues="0.73 0.73 0.73 0.73 0.73 0.73 0.73 0.73 0.73 0.73 0.73 0.73 0.55 0.55 0.55 0.53 0.5 0.46 0.43 0.4 0.36 0.34 0.31 0.28 0.26 0.24"/><feFuncB type="table" tableValues="1 1 1 1 1 1 1 1 1 1 1 1 1 1 1 0.99 0.98 0.96 0.95 0.93 0.92 0.9 0.88 0.87 0.85 0.84"/><feFuncA type="table" tableValues="0 0 0 0 0 0 0 0 0 0 0 1 1 1 1 1 1 1 1 1 1 1 1 1 1 1"/></feComponentTransfer><feTurbulence type="fractalNoise" baseFrequency="0.28" numOctaves="2" seed="27" result="n"/><feDisplacementMap in="c" in2="n" scale="6" xChannelSelector="R" yChannelSelector="G"/></filter>
<filter id="f9" x="280" y="175" width="1340" height="710" filterUnits="userSpaceOnUse" color-interpolation-filters="sRGB"><feGaussianBlur in="SourceGraphic" stdDeviation="3.2" result="b"/><feTurbulence type="fractalNoise" baseFrequency="0.06" numOctaves="4" seed="68" result="n2"/><feColorMatrix in="n2" type="matrix" values="0 0 0 0 0 0 0 0 0 0 0 0 0 0 0 0 0 1.5 0 0.2" result="m"/><feComposite in="b" in2="m" operator="in" result="bm"/><feColorMatrix in="bm" type="matrix" values="0 0 0 1 0 0 0 0 1 0 0 0 0 1 0 0 0 0 1 0"/><feComponentTransfer result="c"><feFuncR type="table" tableValues="0.96 0.96 0.96 0.96 0.96 0.96 0.96 0.96 0.96 0.96 0.96 0.96 0.94 0.94 0.94 0.94 0.94 0.94 0.94 0.91 0.88 0.85 0.82 0.79 0.7 0.63"/><feFuncG type="table" tableValues="0.93 0.93 0.93 0.93 0.93 0.93 0.93 0.93 0.93 0.93 0.93 0.93 0.88 0.88 0.88 0.88 0.88 0.88 0.88 0.84 0.81 0.77 0.74 0.71 0.61 0.54"/><feFuncB type="table" tableValues="0.73 0.73 0.73 0.73 0.73 0.73 0.73 0.73 0.73 0.73 0.73 0.73 0.55 0.55 0.55 0.55 0.55 0.55 0.55 0.5 0.45 0.41 0.36 0.31 0.21 0.13"/><feFuncA type="table" tableValues="0 0 0 0 0 0 0 0 0 0 0 1 1 1 1 1 1 1 1 1 1 1 1 1 1 1"/></feComponentTransfer><feTurbulence type="fractalNoise" baseFrequency="0.28" numOctaves="2" seed="28" result="n"/><feDisplacementMap in="c" in2="n" scale="9" xChannelSelector="R" yChannelSelector="G"/></filter>
<filter id="f9t" x="280" y="175" width="1340" height="710" filterUnits="userSpaceOnUse" color-interpolation-filters="sRGB"><feGaussianBlur in="SourceGraphic" stdDeviation="1.0" result="b"/><feTurbulence type="fractalNoise" baseFrequency="0.06" numOctaves="4" seed="69" result="n2"/><feColorMatrix in="n2" type="matrix" values="0 0 0 0 0 0 0 0 0 0 0 0 0 0 0 0 0 1.5 0 0.2" result="m"/><feComposite in="b" in2="m" operator="in" result="bm"/><feColorMatrix in="bm" type="matrix" values="0 0 0 1 0 0 0 0 1 0 0 0 0 1 0 0 0 0 1 0"/><feComponentTransfer result="c"><feFuncR type="table" tableValues="0.94 0.94 0.94 0.94 0.94 0.94 0.94 0.94 0.94 0.94 0.94 0.94 0.94 0.93 0.9 0.88 0.86 0.83 0.81 0.78 0.77 0.75 0.73 0.71 0.69 0.68"/><feFuncG type="table" tableValues="0.88 0.88 0.88 0.88 0.88 0.88 0.88 0.88 0.88 0.88 0.88 0.88 0.88 0.86 0.84 0.81 0.78 0.75 0.73 0.7 0.68 0.66 0.65 0.63 0.61 0.59"/><feFuncB type="table" tableValues="0.55 0.55 0.55 0.55 0.55 0.55 0.55 0.55 0.55 0.55 0.55 0.55 0.55 0.53 0.49 0.45 0.42 0.38 0.34 0.31 0.29 0.27 0.25 0.22 0.2 0.18"/><feFuncA type="table" tableValues="0 0 0 0 0 0 0 0 0 0 0 1 1 1 1 1 1 1 1 1 1 1 1 1 1 1"/></feComponentTransfer><feTurbulence type="fractalNoise" baseFrequency="0.28" numOctaves="2" seed="29" result="n"/><feDisplacementMap in="c" in2="n" scale="4" xChannelSelector="R" yChannelSelector="G"/></filter>
<filter id="f9m" x="280" y="175" width="1340" height="710" filterUnits="userSpaceOnUse" color-interpolation-filters="sRGB"><feGaussianBlur in="SourceGraphic" stdDeviation="1.5" result="b"/><feTurbulence type="fractalNoise" baseFrequency="0.06" numOctaves="4" seed="70" result="n2"/><feColorMatrix in="n2" type="matrix" values="0 0 0 0 0 0 0 0 0 0 0 0 0 0 0 0 0 1.5 0 0.2" result="m"/><feComposite in="b" in2="m" operator="in" result="bm"/><feColorMatrix in="bm" type="matrix" values="0 0 0 1 0 0 0 0 1 0 0 0 0 1 0 0 0 0 1 0"/><feComponentTransfer result="c"><feFuncR type="table" tableValues="0.96 0.96 0.96 0.96 0.96 0.96 0.96 0.96 0.96 0.96 0.96 0.96 0.94 0.94 0.94 0.93 0.9 0.87 0.84 0.82 0.79 0.75 0.72 0.69 0.65 0.63"/><feFuncG type="table" tableValues="0.93 0.93 0.93 0.93 0.93 0.93 0.93 0.93 0.93 0.93 0.93 0.93 0.88 0.88 0.88 0.86 0.83 0.8 0.77 0.74 0.71 0.67 0.64 0.6 0.57 0.54"/><feFuncB type="table" tableValues="0.73 0.73 0.73 0.73 0.73 0.73 0.73 0.73 0.73 0.73 0.73 0.73 0.55 0.55 0.55 0.53 0.48 0.44 0.4 0.36 0.31 0.27 0.23 0.19 0.16 0.13"/><feFuncA type="table" tableValues="0 0 0 0 0 0 0 0 0 0 0 1 1 1 1 1 1 1 1 1 1 1 1 1 1 1"/></feComponentTransfer><feTurbulence type="fractalNoise" baseFrequency="0.28" numOctaves="2" seed="30" result="n"/><feDisplacementMap in="c" in2="n" scale="6" xChannelSelector="R" yChannelSelector="G"/></filter>
<filter id="f9l" x="280" y="175" width="1340" height="710" filterUnits="userSpaceOnUse" color-interpolation-filters="sRGB"><feGaussianBlur in="SourceGraphic" stdDeviation="1.5" result="b"/><feTurbulence type="fractalNoise" baseFrequency="0.06" numOctaves="4" seed="70" result="n2"/><feColorMatrix in="n2" type="matrix" values="0 0 0 0 0 0 0 0 0 0 0 0 0 0 0 0 0 1.5 0 0.2" result="m"/><feComposite in="b" in2="m" operator="in" result="bm"/><feColorMatrix in="bm" type="matrix" values="0 0 0 1 0 0 0 0 1 0 0 0 0 1 0 0 0 0 1 0"/><feComponentTransfer result="c"><feFuncR type="table" tableValues="0.94 0.94 0.94 0.94 0.94 0.94 0.94 0.94 0.94 0.94 0.94 0.94 0.94 0.94 0.94 0.94 0.94 0.94 0.94 0.94 0.94 0.93 0.91 0.9 0.88 0.86"/><feFuncG type="table" tableValues="0.88 0.88 0.88 0.88 0.88 0.88 0.88 0.88 0.88 0.88 0.88 0.88 0.88 0.88 0.88 0.88 0.88 0.88 0.88 0.88 0.88 0.86 0.84 0.83 0.81 0.79"/><feFuncB type="table" tableValues="0.55 0.55 0.55 0.55 0.55 0.55 0.55 0.55 0.55 0.55 0.55 0.55 0.55 0.55 0.55 0.55 0.55 0.55 0.55 0.55 0.55 0.53 0.5 0.48 0.45 0.43"/><feFuncA type="table" tableValues="0 0 0 0 0 0 0 0 0 0 0 1 1 1 1 1 1 1 1 1 1 1 1 1 1 1"/></feComponentTransfer><feTurbulence type="fractalNoise" baseFrequency="0.28" numOctaves="2" seed="30" result="n"/><feDisplacementMap in="c" in2="n" scale="6" xChannelSelector="R" yChannelSelector="G"/></filter>
<filter id="f10" x="280" y="175" width="1340" height="710" filterUnits="userSpaceOnUse" color-interpolation-filters="sRGB"><feGaussianBlur in="SourceGraphic" stdDeviation="2.5" result="b"/><feTurbulence type="fractalNoise" baseFrequency="0.06" numOctaves="4" seed="71" result="n2"/><feColorMatrix in="n2" type="matrix" values="0 0 0 0 0 0 0 0 0 0 0 0 0 0 0 0 0 1.5 0 0.2" result="m"/><feComposite in="b" in2="m" operator="in" result="bm"/><feColorMatrix in="bm" type="matrix" values="0 0 0 1 0 0 0 0 1 0 0 0 0 1 0 0 0 0 1 0"/><feComponentTransfer result="c"><feFuncR type="table" tableValues="0.8 0.8 0.8 0.8 0.8 0.8 0.8 0.8 0.8 0.8 0.8 0.8 0.66 0.66 0.66 0.66 0.66 0.66 0.65 0.62 0.6 0.57 0.55 0.51 0.47 0.44"/><feFuncG type="table" tableValues="0.91 0.91 0.91 0.91 0.91 0.91 0.91 0.91 0.91 0.91 0.91 0.91 0.85 0.85 0.85 0.85 0.85 0.85 0.84 0.82 0.8 0.78 0.76 0.74 0.7 0.67"/><feFuncB type="table" tableValues="1 1 1 1 1 1 1 1 1 1 1 1 1 1 1 1 1 1 1 0.99 0.99 0.98 0.98 0.97 0.95 0.94"/><feFuncA type="table" tableValues="0 0 0 0 0 0 0 0 0 0 0 1 1 1 1 1 1 1 1 1 1 1 1 1 1 1"/></feComponentTransfer><feTurbulence type="fractalNoise" baseFrequency="0.28" numOctaves="2" seed="31" result="n"/><feDisplacementMap in="c" in2="n" scale="9" xChannelSelector="R" yChannelSelector="G"/></filter>
<filter id="f10t" x="280" y="175" width="1340" height="710" filterUnits="userSpaceOnUse" color-interpolation-filters="sRGB"><feGaussianBlur in="SourceGraphic" stdDeviation="1.0" result="b"/><feTurbulence type="fractalNoise" baseFrequency="0.06" numOctaves="4" seed="72" result="n2"/><feColorMatrix in="n2" type="matrix" values="0 0 0 0 0 0 0 0 0 0 0 0 0 0 0 0 0 1.5 0 0.2" result="m"/><feComposite in="b" in2="m" operator="in" result="bm"/><feColorMatrix in="bm" type="matrix" values="0 0 0 1 0 0 0 0 1 0 0 0 0 1 0 0 0 0 1 0"/><feComponentTransfer result="c"><feFuncR type="table" tableValues="0.66 0.66 0.66 0.66 0.66 0.66 0.66 0.66 0.66 0.66 0.66 0.66 0.66 0.65 0.63 0.61 0.59 0.57 0.55 0.53 0.52 0.51 0.5 0.49 0.48 0.47"/><feFuncG type="table" tableValues="0.85 0.85 0.85 0.85 0.85 0.85 0.85 0.85 0.85 0.85 0.85 0.85 0.85 0.84 0.82 0.81 0.79 0.78 0.76 0.75 0.74 0.73 0.72 0.72 0.71 0.7"/><feFuncB type="table" tableValues="1 1 1 1 1 1 1 1 1 1 1 1 1 1 0.99 0.99 0.98 0.98 0.98 0.97 0.97 0.96 0.96 0.96 0.95 0.95"/><feFuncA type="table" tableValues="0 0 0 0 0 0 0 0 0 0 0 1 1 1 1 1 1 1 1 1 1 1 1 1 1 1"/></feComponentTransfer><feTurbulence type="fractalNoise" baseFrequency="0.28" numOctaves="2" seed="32" result="n"/><feDisplacementMap in="c" in2="n" scale="4" xChannelSelector="R" yChannelSelector="G"/></filter>
<filter id="fg" x="280" y="175" width="1340" height="710" filterUnits="userSpaceOnUse" color-interpolation-filters="sRGB"><feGaussianBlur in="SourceGraphic" stdDeviation="1.6" result="b"/><feTurbulence type="fractalNoise" baseFrequency="0.06" numOctaves="4" seed="77" result="n2"/><feColorMatrix in="n2" type="matrix" values="0 0 0 0 0 0 0 0 0 0 0 0 0 0 0 0 0 1.5 0 0.2" result="m"/><feComposite in="b" in2="m" operator="in" result="bm"/><feColorMatrix in="bm" type="matrix" values="0 0 0 1 0 0 0 0 1 0 0 0 0 1 0 0 0 0 1 0"/><feComponentTransfer result="c"><feFuncR type="table" tableValues="0.9 0.9 0.9 0.9 0.9 0.9 0.9 0.9 0.9 0.9 0.9 0.9 0.9 0.9 0.9 0.9 0.9 0.9 0.9 0.9 0.9 0.9 0.9 0.9 0.9 0.9"/><feFuncG type="table" tableValues="0.9 0.9 0.9 0.9 0.9 0.9 0.9 0.9 0.9 0.9 0.9 0.9 0.9 0.9 0.9 0.9 0.9 0.9 0.9 0.9 0.9 0.9 0.9 0.9 0.9 0.9"/><feFuncB type="table" tableValues="0.9 0.9 0.9 0.9 0.9 0.9 0.9 0.9 0.9 0.9 0.9 0.9 0.9 0.9 0.9 0.9 0.9 0.9 0.9 0.9 0.9 0.9 0.9 0.9 0.9 0.9"/><feFuncA type="table" tableValues="0 0 0 0 0 0 0 0 0 0 0 1 1 1 1 1 1 1 1 1 1 1 1 1 1 1"/></feComponentTransfer><feTurbulence type="fractalNoise" baseFrequency="0.28" numOctaves="2" seed="37" result="n"/><feDisplacementMap in="c" in2="n" scale="9" xChannelSelector="R" yChannelSelector="G"/></filter>
<filter id="fw" x="280" y="175" width="1340" height="710" filterUnits="userSpaceOnUse" color-interpolation-filters="sRGB"><feGaussianBlur in="SourceGraphic" stdDeviation="1.6" result="b"/><feTurbulence type="fractalNoise" baseFrequency="0.06" numOctaves="4" seed="80" result="n2"/><feColorMatrix in="n2" type="matrix" values="0 0 0 0 0 0 0 0 0 0 0 0 0 0 0 0 0 1.5 0 0.2" result="m"/><feComposite in="b" in2="m" operator="in" result="bm"/><feColorMatrix in="bm" type="matrix" values="0 0 0 1 0 0 0 0 1 0 0 0 0 1 0 0 0 0 1 0"/><feComponentTransfer result="c"><feFuncR type="table" tableValues="1 1 1 1 1 1 1 1 1 1 1 1 1 1 1 1 1 1 1 1 1 1 1 1 1 1"/><feFuncG type="table" tableValues="1 1 1 1 1 1 1 1 1 1 1 1 1 1 1 1 1 1 1 1 1 1 1 1 1 1"/><feFuncB type="table" tableValues="1 1 1 1 1 1 1 1 1 1 1 1 1 1 1 1 1 1 1 1 1 1 1 1 1 1"/><feFuncA type="table" tableValues="0 0 0 0 0 0 0 0 0 0 0 1 1 1 1 1 1 1 1 1 1 1 1 1 1 1"/></feComponentTransfer><feTurbulence type="fractalNoise" baseFrequency="0.28" numOctaves="2" seed="40" result="n"/><feDisplacementMap in="c" in2="n" scale="9" xChannelSelector="R" yChannelSelector="G"/></filter>
<filter id="txA1" x="294" y="194" width="120" height="93" filterUnits="userSpaceOnUse" color-interpolation-filters="sRGB"><feTurbulence type="fractalNoise" baseFrequency="0.05" numOctaves="3" seed="11"/><feColorMatrix type="matrix" values="1 0 0 0 0 1 0 0 0 0 1 0 0 0 0 0 0 0 0 1"/><feComponentTransfer><feFuncR type="discrete" tableValues="0.9 0.9 0.9 0.9 0.6 0.08 0.6 0.9 0.9 0.9 1 0.86 1 0.9 0.9 0.9 0.91 0.65 0.91 0.9 0.9 0.9 0.9 0.9 0.9 0.9 0.9 0.9 1 0.86 1 0.9 0.9 0.9 0.91 0.65 0.91 0.9 0.9 0.9 0.18 0 0.18 0.9 0.9 0.9 0.9 0.9 0.9 0.9"/><feFuncG type="discrete" tableValues="0.9 0.9 0.9 0.9 0.94 0.48 0.94 0.9 0.9 0.9 1 0.77 1 0.9 0.9 0.9 0.26 0.16 0.26 0.9 0.9 0.9 0.9 0.9 0.9 0.9 0.9 0.9 1 0.77 1 0.9 0.9 0.9 0.26 0.16 0.26 0.9 0.9 0.9 0.61 0.2 0.61 0.9 0.9 0.9 0.9 0.9 0.9 0.9"/><feFuncB type="discrete" tableValues="0.9 0.9 0.9 0.9 0.6 0.11 0.6 0.9 0.9 0.9 0 0 0 0.9 0.9 0.9 0.1 0.09 0.1 0.9 0.9 0.9 0.9 0.9 0.9 0.9 0.9 0.9 0 0 0 0.9 0.9 0.9 0.1 0.09 0.1 0.9 0.9 0.9 1 0.85 1 0.9 0.9 0.9 0.9 0.9 0.9 0.9"/></feComponentTransfer><feComposite in2="SourceGraphic" operator="in"/></filter>
<filter id="txA2" x="410" y="194" width="194" height="113" filterUnits="userSpaceOnUse" color-interpolation-filters="sRGB"><feTurbulence type="fractalNoise" baseFrequency="0.045" numOctaves="3" seed="12"/><feColorMatrix type="matrix" values="1 0 0 0 0 1 0 0 0 0 1 0 0 0 0 0 0 0 0 1"/><feComponentTransfer><feFuncR type="discrete" tableValues="0.9 0.9 0.9 0.9 0.6 0.08 0.6 0.9 0.9 0.9 1 0.86 1 0.9 0.9 0.9 0.91 0.65 0.91 0.9 0.9 0.9 0.9 0.9 0.9 0.9 0.9 0.9 1 0.86 1 0.9 0.9 0.9 0.91 0.65 0.91 0.9 0.9 0.9 0.18 0 0.18 0.9 0.9 0.9 0.9 0.9 0.9 0.9"/><feFuncG type="discrete" tableValues="0.9 0.9 0.9 0.9 0.94 0.48 0.94 0.9 0.9 0.9 1 0.77 1 0.9 0.9 0.9 0.26 0.16 0.26 0.9 0.9 0.9 0.9 0.9 0.9 0.9 0.9 0.9 1 0.77 1 0.9 0.9 0.9 0.26 0.16 0.26 0.9 0.9 0.9 0.61 0.2 0.61 0.9 0.9 0.9 0.9 0.9 0.9 0.9"/><feFuncB type="discrete" tableValues="0.9 0.9 0.9 0.9 0.6 0.11 0.6 0.9 0.9 0.9 0 0 0 0.9 0.9 0.9 0.1 0.09 0.1 0.9 0.9 0.9 0.9 0.9 0.9 0.9 0.9 0.9 0 0 0 0.9 0.9 0.9 0.1 0.09 0.1 0.9 0.9 0.9 1 0.85 1 0.9 0.9 0.9 0.9 0.9 0.9 0.9"/></feComponentTransfer><feComposite in2="SourceGraphic" operator="in"/></filter>
<filter id="txB" x="304" y="270" width="300" height="123" filterUnits="userSpaceOnUse" color-interpolation-filters="sRGB"><feTurbulence type="fractalNoise" baseFrequency="0.04" numOctaves="3" seed="13"/><feColorMatrix type="matrix" values="1 0 0 0 0 1 0 0 0 0 1 0 0 0 0 0 0 0 0 1"/><feComponentTransfer><feFuncR type="discrete" tableValues="0.9 0.9 0.9 0.9 0.6 0.08 0.6 0.9 0.9 0.9 0.91 0.65 0.91 0.9 0.9 0.9 1 0.86 1 0.9 0.9 0.9 0.9 0.9 0.9 0.9 0.9 0.9 1 0.86 1 0.9 0.9 0.9 0.91 0.65 0.91 0.9 0.9 0.9 0.18 0 0.18 0.9 0.9 0.9 0.9 0.9 0.9 0.9"/><feFuncG type="discrete" tableValues="0.9 0.9 0.9 0.9 0.94 0.48 0.94 0.9 0.9 0.9 0.26 0.16 0.26 0.9 0.9 0.9 1 0.77 1 0.9 0.9 0.9 0.9 0.9 0.9 0.9 0.9 0.9 1 0.77 1 0.9 0.9 0.9 0.26 0.16 0.26 0.9 0.9 0.9 0.61 0.2 0.61 0.9 0.9 0.9 0.9 0.9 0.9 0.9"/><feFuncB type="discrete" tableValues="0.9 0.9 0.9 0.9 0.6 0.11 0.6 0.9 0.9 0.9 0.1 0.09 0.1 0.9 0.9 0.9 0 0 0 0.9 0.9 0.9 0.9 0.9 0.9 0.9 0.9 0.9 0 0 0 0.9 0.9 0.9 0.1 0.09 0.1 0.9 0.9 0.9 1 0.85 1 0.9 0.9 0.9 0.9 0.9 0.9 0.9"/></feComponentTransfer><feComposite in2="SourceGraphic" operator="in"/></filter>
<filter id="txC" x="301" y="389" width="103" height="133" filterUnits="userSpaceOnUse" color-interpolation-filters="sRGB"><feTurbulence type="fractalNoise" baseFrequency="0.05" numOctaves="3" seed="14"/><feColorMatrix type="matrix" values="1 0 0 0 0 1 0 0 0 0 1 0 0 0 0 0 0 0 0 1"/><feComponentTransfer><feFuncR type="discrete" tableValues="0.9 0.9 0.9 0.9 0.9 0.9 0.9 0.9 0.9 0.9 0.91 0.65 0.91 0.9 0.9 1 0.86 1 0.9 0.9 0.6 0.08 0.6 0.9 0.9 0.6 0.08 0.6 0.9 0.9 1 0.63 1 0.9 0.9 1 0.86 1 0.9 0.9 0.9 0.9 0.9 0.9 0.9 0.9 0.9 0.9 0.9 0.9"/><feFuncG type="discrete" tableValues="0.9 0.9 0.9 0.9 0.9 0.9 0.9 0.9 0.9 0.9 0.26 0.16 0.26 0.9 0.9 1 0.77 1 0.9 0.9 0.94 0.48 0.94 0.9 0.9 0.94 0.48 0.94 0.9 0.9 0 0 0 0.9 0.9 0.65 0.46 0.65 0.9 0.9 0.9 0.9 0.9 0.9 0.9 0.9 0.9 0.9 0.9 0.9"/><feFuncB type="discrete" tableValues="0.9 0.9 0.9 0.9 0.9 0.9 0.9 0.9 0.9 0.9 0.1 0.09 0.1 0.9 0.9 0 0 0 0.9 0.9 0.6 0.11 0.6 0.9 0.9 0.6 0.11 0.6 0.9 0.9 1 0.64 1 0.9 0.9 0.3 0.08 0.3 0.9 0.9 0.9 0.9 0.9 0.9 0.9 0.9 0.9 0.9 0.9 0.9"/></feComponentTransfer><feComposite in2="SourceGraphic" operator="in"/></filter>
<filter id="txCC" x="328" y="468" width="134" height="159" filterUnits="userSpaceOnUse" color-interpolation-filters="sRGB"><feTurbulence type="fractalNoise" baseFrequency="0.05" numOctaves="3" seed="15"/><feColorMatrix type="matrix" values="1 0 0 0 0 1 0 0 0 0 1 0 0 0 0 0 0 0 0 1"/><feComponentTransfer><feFuncR type="discrete" tableValues="0.9 0.9 0.9 0.9 0.9 0.9 0.9 0.9 0.9 0.9 1 0.86 1 0.9 0.9 0.6 0.08 0.6 0.9 0.9 1 0.63 1 0.9 0.9 1 0.86 1 0.9 0.9 1 0.63 1 0.9 0.9 0.6 0.08 0.6 0.9 0.9 0.9 0.9 0.9 0.9 0.9 0.9 0.9 0.9 0.9 0.9"/><feFuncG type="discrete" tableValues="0.9 0.9 0.9 0.9 0.9 0.9 0.9 0.9 0.9 0.9 1 0.77 1 0.9 0.9 0.94 0.48 0.94 0.9 0.9 0 0 0 0.9 0.9 0.65 0.46 0.65 0.9 0.9 0 0 0 0.9 0.9 0.94 0.48 0.94 0.9 0.9 0.9 0.9 0.9 0.9 0.9 0.9 0.9 0.9 0.9 0.9"/><feFuncB type="discrete" tableValues="0.9 0.9 0.9 0.9 0.9 0.9 0.9 0.9 0.9 0.9 0 0 0 0.9 0.9 0.6 0.11 0.6 0.9 0.9 1 0.64 1 0.9 0.9 0.3 0.08 0.3 0.9 0.9 1 0.64 1 0.9 0.9 0.6 0.11 0.6 0.9 0.9 0.9 0.9 0.9 0.9 0.9 0.9 0.9 0.9 0.9 0.9"/></feComponentTransfer><feComposite in2="SourceGraphic" operator="in"/></filter>
<filter id="txJ" x="393" y="438" width="129" height="164" filterUnits="userSpaceOnUse" color-interpolation-filters="sRGB"><feTurbulence type="fractalNoise" baseFrequency="0.06" numOctaves="3" seed="16"/><feColorMatrix type="matrix" values="1 0 0 0 0 1 0 0 0 0 1 0 0 0 0 0 0 0 0 1"/><feComponentTransfer><feFuncR type="discrete" tableValues="0.9 0.9 0.9 0.9 0.9 0.9 0.9 1 0.63 1 0.9 0.9 0.6 0.08 0.6 0.9 0.9 0.91 0.65 0.91 0.9 0.9 0.18 0 0.18 0.9 0.9 0.91 0.65 0.91 0.9 0.9 1 0.86 1 0.9 0.9 0.6 0.08 0.6 0.9 0.9 0.9 0.9 0.9 0.9 0.9 0.9 0.9 0.9"/><feFuncG type="discrete" tableValues="0.9 0.9 0.9 0.9 0.9 0.9 0.9 0 0 0 0.9 0.9 0.94 0.48 0.94 0.9 0.9 0.26 0.16 0.26 0.9 0.9 0.61 0.2 0.61 0.9 0.9 0.26 0.16 0.26 0.9 0.9 1 0.77 1 0.9 0.9 0.94 0.48 0.94 0.9 0.9 0.9 0.9 0.9 0.9 0.9 0.9 0.9 0.9"/><feFuncB type="discrete" tableValues="0.9 0.9 0.9 0.9 0.9 0.9 0.9 1 0.64 1 0.9 0.9 0.6 0.11 0.6 0.9 0.9 0.1 0.09 0.1 0.9 0.9 1 0.85 1 0.9 0.9 0.1 0.09 0.1 0.9 0.9 0 0 0 0.9 0.9 0.6 0.11 0.6 0.9 0.9 0.9 0.9 0.9 0.9 0.9 0.9 0.9 0.9"/></feComponentTransfer><feComposite in2="SourceGraphic" operator="in"/></filter>
<filter id="txD" x="400" y="389" width="204" height="113" filterUnits="userSpaceOnUse" color-interpolation-filters="sRGB"><feTurbulence type="fractalNoise" baseFrequency="0.04" numOctaves="3" seed="17"/><feColorMatrix type="matrix" values="1 0 0 0 0 1 0 0 0 0 1 0 0 0 0 0 0 0 0 1"/><feComponentTransfer><feFuncR type="discrete" tableValues="0.9 0.9 0.9 0.9 0.9 0.9 0.9 0.18 0 0.18 0.9 0.9 0.91 0.65 0.91 0.9 0.9 1 0.86 1 0.9 0.9 0.6 0.08 0.6 0.9 0.9 1 0.86 1 0.9 0.9 0.6 0.08 0.6 0.9 0.9 1 0.63 1 0.9 0.9 0.9 0.9 0.9 0.9 0.9 0.9 0.9 0.9"/><feFuncG type="discrete" tableValues="0.9 0.9 0.9 0.9 0.9 0.9 0.9 0.61 0.2 0.61 0.9 0.9 0.26 0.16 0.26 0.9 0.9 1 0.77 1 0.9 0.9 0.94 0.48 0.94 0.9 0.9 1 0.77 1 0.9 0.9 0.94 0.48 0.94 0.9 0.9 0 0 0 0.9 0.9 0.9 0.9 0.9 0.9 0.9 0.9 0.9 0.9"/><feFuncB type="discrete" tableValues="0.9 0.9 0.9 0.9 0.9 0.9 0.9 1 0.85 1 0.9 0.9 0.1 0.09 0.1 0.9 0.9 0 0 0 0.9 0.9 0.6 0.11 0.6 0.9 0.9 0 0 0 0.9 0.9 0.6 0.11 0.6 0.9 0.9 1 0.64 1 0.9 0.9 0.9 0.9 0.9 0.9 0.9 0.9 0.9 0.9"/></feComponentTransfer><feComposite in2="SourceGraphic" operator="in"/></filter>
<filter id="txE" x="428" y="468" width="220" height="120" filterUnits="userSpaceOnUse" color-interpolation-filters="sRGB"><feTurbulence type="fractalNoise" baseFrequency="0.045" numOctaves="3" seed="18"/><feColorMatrix type="matrix" values="1 0 0 0 0 1 0 0 0 0 1 0 0 0 0 0 0 0 0 1"/><feComponentTransfer><feFuncR type="discrete" tableValues="0.9 0.9 0.9 0.9 0.9 0.9 0.9 1 0.86 1 0.9 0.9 0.6 0.08 0.6 0.9 0.9 1 0.63 1 0.9 0.9 0.6 0.08 0.6 0.9 0.9 1 0.63 1 0.9 0.9 1 0.86 1 0.9 0.9 0 0 0 0.9 0.9 0.9 0.9 0.9 0.9 0.9 0.9 0.9 0.9"/><feFuncG type="discrete" tableValues="0.9 0.9 0.9 0.9 0.9 0.9 0.9 1 0.77 1 0.9 0.9 0.94 0.48 0.94 0.9 0.9 0 0 0 0.9 0.9 0.94 0.48 0.94 0.9 0.9 0 0 0 0.9 0.9 0.65 0.46 0.65 0.9 0.9 0.96 0.63 0.96 0.9 0.9 0.9 0.9 0.9 0.9 0.9 0.9 0.9 0.9"/><feFuncB type="discrete" tableValues="0.9 0.9 0.9 0.9 0.9 0.9 0.9 0 0 0 0.9 0.9 0.6 0.11 0.6 0.9 0.9 1 0.64 1 0.9 0.9 0.6 0.11 0.6 0.9 0.9 1 0.64 1 0.9 0.9 0.3 0.08 0.3 0.9 0.9 0.96 0.63 0.96 0.9 0.9 0.9 0.9 0.9 0.9 0.9 0.9 0.9 0.9"/></feComponentTransfer><feComposite in2="SourceGraphic" operator="in"/></filter>
<filter id="txI" x="558" y="389" width="184" height="144" filterUnits="userSpaceOnUse" color-interpolation-filters="sRGB"><feTurbulence type="fractalNoise" baseFrequency="0.05" numOctaves="3" seed="19"/><feColorMatrix type="matrix" values="1 0 0 0 0 1 0 0 0 0 1 0 0 0 0 0 0 0 0 1"/><feComponentTransfer><feFuncR type="discrete" tableValues="0.9 0.9 0.9 0.9 0.9 0.9 0.9 0.6 0.08 0.6 0.9 0.9 1 0.86 1 0.9 0.9 0.91 0.65 0.91 0.9 0.9 0.18 0 0.18 0.9 0.9 0.91 0.65 0.91 0.9 0.9 1 0.86 1 0.9 0.9 0.6 0.08 0.6 0.9 0.9 0.9 0.9 0.9 0.9 0.9 0.9 0.9 0.9"/><feFuncG type="discrete" tableValues="0.9 0.9 0.9 0.9 0.9 0.9 0.9 0.94 0.48 0.94 0.9 0.9 1 0.77 1 0.9 0.9 0.26 0.16 0.26 0.9 0.9 0.61 0.2 0.61 0.9 0.9 0.26 0.16 0.26 0.9 0.9 1 0.77 1 0.9 0.9 0.94 0.48 0.94 0.9 0.9 0.9 0.9 0.9 0.9 0.9 0.9 0.9 0.9"/><feFuncB type="discrete" tableValues="0.9 0.9 0.9 0.9 0.9 0.9 0.9 0.6 0.11 0.6 0.9 0.9 0 0 0 0.9 0.9 0.1 0.09 0.1 0.9 0.9 1 0.85 1 0.9 0.9 0.1 0.09 0.1 0.9 0.9 0 0 0 0.9 0.9 0.6 0.11 0.6 0.9 0.9 0.9 0.9 0.9 0.9 0.9 0.9 0.9 0.9"/></feComponentTransfer><feComposite in2="SourceGraphic" operator="in"/></filter>
<filter id="txI2" x="600" y="305" width="82" height="88" filterUnits="userSpaceOnUse" color-interpolation-filters="sRGB"><feTurbulence type="fractalNoise" baseFrequency="0.05" numOctaves="3" seed="20"/><feColorMatrix type="matrix" values="1 0 0 0 0 1 0 0 0 0 1 0 0 0 0 0 0 0 0 1"/><feComponentTransfer><feFuncR type="discrete" tableValues="0.9 0.9 0.9 0.9 0.9 0.9 0.9 0.9 0.9 0.9 1 0.86 1 0.9 0.9 0.91 0.65 0.91 0.9 0.9 0.18 0 0.18 0.9 0.9 0.91 0.65 0.91 0.9 0.9 1 0.86 1 0.9 0.9 0.6 0.08 0.6 0.9 0.9 0.9 0.9 0.9 0.9 0.9 0.9 0.9 0.9 0.9 0.9"/><feFuncG type="discrete" tableValues="0.9 0.9 0.9 0.9 0.9 0.9 0.9 0.9 0.9 0.9 1 0.77 1 0.9 0.9 0.26 0.16 0.26 0.9 0.9 0.61 0.2 0.61 0.9 0.9 0.26 0.16 0.26 0.9 0.9 1 0.77 1 0.9 0.9 0.94 0.48 0.94 0.9 0.9 0.9 0.9 0.9 0.9 0.9 0.9 0.9 0.9 0.9 0.9"/><feFuncB type="discrete" tableValues="0.9 0.9 0.9 0.9 0.9 0.9 0.9 0.9 0.9 0.9 0 0 0 0.9 0.9 0.1 0.09 0.1 0.9 0.9 1 0.85 1 0.9 0.9 0.1 0.09 0.1 0.9 0.9 0 0 0 0.9 0.9 0.6 0.11 0.6 0.9 0.9 0.9 0.9 0.9 0.9 0.9 0.9 0.9 0.9 0.9 0.9"/></feComponentTransfer><feComposite in2="SourceGraphic" operator="in"/></filter>
<filter id="txF" x="398" y="528" width="204" height="164" filterUnits="userSpaceOnUse" color-interpolation-filters="sRGB"><feTurbulence type="fractalNoise" baseFrequency="0.035" numOctaves="3" seed="3"/><feColorMatrix type="matrix" values="1 0 0 0 0 1 0 0 0 0 1 0 0 0 0 0 0 0 0 1"/><feComponentTransfer><feFuncR type="discrete" tableValues="0.9 0.9 0.9 0.9 0.9 0.9 0.9 0.6 0.08 0.6 0.9 0.9 1 0.63 1 0.9 0.9 1 0.86 1 0.9 0.9 0 0 0 0.9 0.9 0.68 0.36 0.68 0.9 0.9 0.71 0.52 0.71 0.9 0.9 0.94 0.63 0.94 0.9 0.9 0.9 0.9 0.9 0.9 0.9 0.9 0.9 0.9"/><feFuncG type="discrete" tableValues="0.9 0.9 0.9 0.9 0.9 0.9 0.9 0.94 0.48 0.94 0.9 0.9 0 0 0 0.9 0.9 0.65 0.46 0.65 0.9 0.9 0.96 0.63 0.96 0.9 0.9 1 0.65 1 0.9 0.9 0.55 0.24 0.55 0.9 0.9 0.88 0.54 0.88 0.9 0.9 0.9 0.9 0.9 0.9 0.9 0.9 0.9 0.9"/><feFuncB type="discrete" tableValues="0.9 0.9 0.9 0.9 0.9 0.9 0.9 0.6 0.11 0.6 0.9 0.9 1 0.64 1 0.9 0.9 0.3 0.08 0.3 0.9 0.9 0.96 0.63 0.96 0.9 0.9 0.18 0.05 0.18 0.9 0.9 1 0.84 1 0.9 0.9 0.55 0.13 0.55 0.9 0.9 0.9 0.9 0.9 0.9 0.9 0.9 0.9 0.9"/></feComponentTransfer><feComposite in2="SourceGraphic" operator="in"/></filter>
<filter id="txG" x="558" y="529" width="90" height="163" filterUnits="userSpaceOnUse" color-interpolation-filters="sRGB"><feTurbulence type="fractalNoise" baseFrequency="0.04" numOctaves="3" seed="21"/><feColorMatrix type="matrix" values="1 0 0 0 0 1 0 0 0 0 1 0 0 0 0 0 0 0 0 1"/><feComponentTransfer><feFuncR type="discrete" tableValues="0.9 0.9 0.9 0.9 0.9 0.9 0.9 1 0.86 1 0.9 0.9 0.6 0.08 0.6 0.9 0.9 1 0.63 1 0.9 0.9 1 0.86 1 0.9 0.9 0 0 0 0.9 0.9 0.68 0.36 0.68 0.9 0.9 0.71 0.52 0.71 0.9 0.9 0.9 0.9 0.9 0.9 0.9 0.9 0.9 0.9"/><feFuncG type="discrete" tableValues="0.9 0.9 0.9 0.9 0.9 0.9 0.9 1 0.77 1 0.9 0.9 0.94 0.48 0.94 0.9 0.9 0 0 0 0.9 0.9 0.65 0.46 0.65 0.9 0.9 0.96 0.63 0.96 0.9 0.9 1 0.65 1 0.9 0.9 0.55 0.24 0.55 0.9 0.9 0.9 0.9 0.9 0.9 0.9 0.9 0.9 0.9"/><feFuncB type="discrete" tableValues="0.9 0.9 0.9 0.9 0.9 0.9 0.9 0 0 0 0.9 0.9 0.6 0.11 0.6 0.9 0.9 1 0.64 1 0.9 0.9 0.3 0.08 0.3 0.9 0.9 0.96 0.63 0.96 0.9 0.9 0.18 0.05 0.18 0.9 0.9 1 0.84 1 0.9 0.9 0.9 0.9 0.9 0.9 0.9 0.9 0.9 0.9"/></feComponentTransfer><feComposite in2="SourceGraphic" operator="in"/></filter>
<filter id="txH" x="644" y="529" width="139" height="161" filterUnits="userSpaceOnUse" color-interpolation-filters="sRGB"><feTurbulence type="fractalNoise" baseFrequency="0.03" numOctaves="3" seed="22"/><feColorMatrix type="matrix" values="1 0 0 0 0 1 0 0 0 0 1 0 0 0 0 0 0 0 0 1"/><feComponentTransfer><feFuncR type="discrete" tableValues="0.9 0.9 0.9 0.9 0.9 0.9 0.9 0.9 0.9 0.9 1 0.86 1 0.9 0.9 0.9 0.6 0.08 0.6 0.9 0.9 0.9 0.9 0.9 0.9 0.9 0.9 0.9 1 0.63 1 0.9 0.9 0.9 1 0.86 1 0.9 0.9 0.9 0.9 0.9 0.9 0.9 0.9 0.9 0.9 0.9 0.9 0.9"/><feFuncG type="discrete" tableValues="0.9 0.9 0.9 0.9 0.9 0.9 0.9 0.9 0.9 0.9 1 0.77 1 0.9 0.9 0.9 0.94 0.48 0.94 0.9 0.9 0.9 0.9 0.9 0.9 0.9 0.9 0.9 0 0 0 0.9 0.9 0.9 0.65 0.46 0.65 0.9 0.9 0.9 0.9 0.9 0.9 0.9 0.9 0.9 0.9 0.9 0.9 0.9"/><feFuncB type="discrete" tableValues="0.9 0.9 0.9 0.9 0.9 0.9 0.9 0.9 0.9 0.9 0 0 0 0.9 0.9 0.9 0.6 0.11 0.6 0.9 0.9 0.9 0.9 0.9 0.9 0.9 0.9 0.9 1 0.64 1 0.9 0.9 0.9 0.3 0.08 0.3 0.9 0.9 0.9 0.9 0.9 0.9 0.9 0.9 0.9 0.9 0.9 0.9 0.9"/></feComponentTransfer><feComposite in2="SourceGraphic" operator="in"/></filter>
<filter id="txK" x="698" y="670" width="104" height="88" filterUnits="userSpaceOnUse" color-interpolation-filters="sRGB"><feTurbulence type="fractalNoise" baseFrequency="0.035" numOctaves="3" seed="23"/><feColorMatrix type="matrix" values="1 0 0 0 0 1 0 0 0 0 1 0 0 0 0 0 0 0 0 1"/><feComponentTransfer><feFuncR type="discrete" tableValues="0.9 0.9 0.9 0.9 0.9 0.9 0.9 0.9 0.9 0.9 1 0.86 1 0.9 0.9 0.9 0.9 0.9 0.9 0.9 0.9 0.9 0 0 0 0.9 0.9 0.9 0.9 0.9 0.9 0.9 0.9 0.9 0.68 0.36 0.68 0.9 0.9 0.9 0.9 0.9 0.9 0.9 0.9 0.9 0.9 0.9 0.9 0.9"/><feFuncG type="discrete" tableValues="0.9 0.9 0.9 0.9 0.9 0.9 0.9 0.9 0.9 0.9 0.65 0.46 0.65 0.9 0.9 0.9 0.9 0.9 0.9 0.9 0.9 0.9 0.96 0.63 0.96 0.9 0.9 0.9 0.9 0.9 0.9 0.9 0.9 0.9 1 0.65 1 0.9 0.9 0.9 0.9 0.9 0.9 0.9 0.9 0.9 0.9 0.9 0.9 0.9"/><feFuncB type="discrete" tableValues="0.9 0.9 0.9 0.9 0.9 0.9 0.9 0.9 0.9 0.9 0.3 0.08 0.3 0.9 0.9 0.9 0.9 0.9 0.9 0.9 0.9 0.9 0.96 0.63 0.96 0.9 0.9 0.9 0.9 0.9 0.9 0.9 0.9 0.9 0.18 0.05 0.18 0.9 0.9 0.9 0.9 0.9 0.9 0.9 0.9 0.9 0.9 0.9 0.9 0.9"/></feComponentTransfer><feComposite in2="SourceGraphic" operator="in"/></filter>
</defs>
<path d="M338.5 195.7 L957.5 195.7 L957.5 185.0 L966.7 185.0 L968.8 201.5 L975.0 205.0 L987.5 207.5 L995.0 206.2 L1005.0 206.5 L1015.0 207.5 L1020.0 213.8 L1030.0 216.2 L1038.8 221.2 L1045.0 219.0 L1052.5 216.2 L1058.0 217.0 L1062.5 220.0 L1066.2 223.0 L1075.0 223.0 L1083.8 223.2 L1078.0 226.0 L1065.0 229.0 L1050.0 237.5 L1035.0 249.0 L1025.0 257.0 L1020.0 261.5 L1030.0 258.8 L1045.0 253.8 L1055.0 251.2 L1057.0 254.0 L1052.5 260.0 L1060.0 261.0 L1066.0 260.0 L1080.0 256.2 L1092.5 251.2 L1105.0 245.0 L1112.5 240.0 L1122.5 238.0 L1124.0 241.2 L1115.0 245.0 L1108.8 252.5 L1107.5 256.2 L1112.5 258.8 L1120.0 256.2 L1130.0 262.5 L1140.0 265.0 L1150.0 263.8 L1160.0 260.0 L1177.5 258.8 L1186.2 257.5 L1187.5 262.5 L1192.5 266.2 L1200.0 267.5 L1203.8 275.0 L1208.8 280.0 L1200.0 280.0 L1190.0 277.5 L1180.0 277.5 L1170.0 280.0 L1155.0 282.5 L1150.0 286.2 L1142.5 285.0 L1140.0 290.0 L1132.5 292.5 L1125.0 300.0 L1121.0 310.0 L1119.0 318.0 L1117.0 322.0 L1122.0 316.0 L1130.0 305.0 L1137.0 297.0 L1139.0 300.0 L1133.0 310.0 L1127.0 320.0 L1127.9 326.6 L1124.6 342.0 L1120.1 361.5 L1122.3 376.8 L1126.4 393.5 L1131.3 401.0 L1138.0 400.5 L1144.3 397.4 L1151.5 387.9 L1157.1 378.2 L1158.2 368.4 L1155.3 355.9 L1151.0 344.8 L1152.6 335.0 L1156.4 326.6 L1157.7 315.5 L1161.6 309.4 L1168.3 307.1 L1171.6 301.6 L1172.8 308.5 L1175.0 307.1 L1177.3 299.6 L1185.1 296.8 L1183.3 289.6 L1190.7 285.4 L1197.4 288.8 L1205.3 293.2 L1216.5 297.4 L1221.0 305.2 L1223.2 314.1 L1222.5 325.2 L1217.6 333.6 L1209.8 337.8 L1209.8 344.8 L1215.4 345.6 L1221.0 337.8 L1231.1 333.0 L1237.8 339.2 L1241.2 354.5 L1242.9 363.4 L1241.2 372.6 L1233.3 379.6 L1227.7 383.2 L1225.5 390.7 L1219.9 398.2 L1229.9 401.9 L1235.5 406.0 L1243.4 406.6 L1259.1 404.6 L1270.3 397.7 L1285.5 391.3 L1295.4 387.1 L1302.6 383.2 L1315.1 375.4 L1322.3 367.0 L1318.5 360.1 L1318.5 355.3 L1330.8 352.6 L1348.8 353.7 L1360.0 355.1 L1371.2 353.1 L1380.2 348.4 L1382.4 346.1 L1381.3 337.8 L1384.6 335.0 L1379.0 331.7 L1390.2 323.9 L1402.6 311.9 L1411.5 307.1 L1487.8 306.9 L1490.0 301.6 L1497.2 298.8 L1500.1 297.9 L1502.3 300.7 L1503.0 296.0 L1507.3 296.6 L1505.3 293.2 L1512.4 286.8 L1512.4 284.9 L1515.8 280.7 L1514.7 273.7 L1516.9 269.5 L1520.3 267.6 L1521.4 259.8 L1538.7 238.6 L1542.7 239.4 L1542.7 244.5 L1546.1 246.4 L1558.8 241.4 L1567.4 245.8 L1570.9 249.5 L1570.9 281.0 L1571.8 284.3 L1570.7 287.6 L1578.6 290.4 L1579.2 296.6 L1578.1 299.3 L1580.8 303.5 L1585.1 302.7 L1588.7 309.9 L1589.3 312.2 L1584.2 316.9 L1575.2 320.5 L1566.2 323.9 L1561.8 327.5 L1555.0 328.0 L1548.3 322.5 L1544.9 326.6 L1542.7 333.6 L1534.9 336.4 L1525.9 342.0 L1516.9 344.8 L1513.6 350.3 L1509.1 355.9 L1505.7 360.9 L1503.0 366.5 L1507.9 372.3 L1501.2 376.8 L1499.0 381.0 L1504.6 384.6 L1506.8 392.1 L1510.2 396.8 L1519.2 397.1 L1521.4 393.5 L1516.9 388.8 L1521.4 390.2 L1522.5 399.9 L1514.7 401.0 L1506.8 403.8 L1505.7 399.1 L1496.7 404.6 L1494.5 405.5 L1490.5 397.7 L1488.9 406.0 L1488.2 408.6 L1479.7 409.9 L1468.7 411.1 L1456.4 411.6 L1449.7 414.4 L1439.6 418.6 L1436.2 422.8 L1442.9 420.8 L1454.1 419.4 L1463.1 419.1 L1469.8 414.7 L1467.6 418.6 L1479.5 416.6 L1465.4 422.8 L1449.7 428.3 L1437.3 430.3 L1431.3 430.3 L1430.6 427.5 L1426.1 432.5 L1431.7 433.9 L1430.6 443.7 L1429.5 453.4 L1422.8 464.0 L1417.1 468.7 L1410.9 476.3 L1410.4 469.6 L1402.6 465.9 L1397.6 459.0 L1397.0 456.2 L1398.1 463.2 L1400.3 471.5 L1404.8 478.5 L1407.5 480.4 L1408.2 489.6 L1403.7 502.2 L1395.8 514.7 L1389.1 525.8 L1386.9 525.8 L1388.0 516.1 L1392.5 506.3 L1389.1 499.4 L1383.5 493.8 L1380.2 484.1 L1382.4 474.3 L1384.6 465.9 L1386.9 460.4 L1383.5 461.8 L1376.8 468.2 L1376.8 475.7 L1375.7 488.2 L1377.9 498.0 L1380.2 504.1 L1373.4 498.0 L1365.6 493.8 L1374.6 502.2 L1381.3 506.3 L1380.2 513.3 L1379.0 521.7 L1373.4 524.4 L1380.2 530.0 L1380.2 532.0 L1386.9 532.0 L1389.8 542.6 L1393.6 555.1 L1398.1 569.0 L1397.4 579.3 L1386.9 584.3 L1375.0 596.9 L1365.6 594.9 L1355.5 599.7 L1346.5 609.4 L1343.2 617.8 L1329.7 617.5 L1321.9 622.0 L1316.3 633.1 L1311.8 640.1 L1299.4 649.3 L1288.2 655.4 L1282.6 662.4 L1278.1 668.5 L1273.7 672.1 L1270.3 683.2 L1265.8 694.4 L1264.7 705.3 L1265.8 715.3 L1268.1 727.8 L1274.8 747.3 L1278.1 757.1 L1284.9 768.2 L1283.7 779.4 L1289.4 794.7 L1295.0 808.6 L1296.5 817.0 L1295.4 830.9 L1294.3 842.9 L1290.5 851.8 L1287.1 858.8 L1277.0 860.7 L1271.4 858.8 L1268.1 846.2 L1256.8 833.7 L1253.5 822.5 L1247.9 815.6 L1242.3 805.8 L1236.7 794.7 L1238.9 784.9 L1233.3 783.5 L1234.4 772.4 L1237.8 761.3 L1235.5 751.5 L1228.8 747.3 L1221.0 737.6 L1215.4 727.8 L1207.5 722.3 L1199.7 723.6 L1198.6 727.8 L1185.1 734.8 L1177.3 734.0 L1176.1 729.2 L1170.5 722.3 L1158.2 715.8 L1149.2 713.9 L1135.8 715.8 L1128.6 717.2 L1120.1 718.1 L1117.8 706.9 L1115.6 715.3 L1108.9 715.0 L1097.7 713.9 L1087.6 716.7 L1083.1 720.0 L1090.0 726.5 L1080.0 734.0 L1087.5 744.0 L1093.8 751.5 L1087.5 756.5 L1085.0 751.5 L1075.0 744.0 L1068.8 751.5 L1061.2 749.0 L1055.0 752.8 L1050.0 746.5 L1040.0 741.5 L1036.2 735.2 L1030.0 731.5 L1025.0 734.0 L1020.0 740.2 L1007.5 735.2 L997.5 732.8 L985.0 735.2 L975.0 737.8 L962.5 744.0 L950.0 754.0 L932.5 764.0 L920.0 769.0 L912.5 779.0 L906.2 786.5 L903.8 804.0 L907.5 819.0 L910.0 841.5 L895.0 839.0 L882.5 834.0 L870.0 827.8 L862.5 814.0 L860.0 799.0 L852.5 789.0 L840.0 769.0 L827.5 744.0 L815.0 734.0 L812.5 733.8 L797.5 732.5 L787.5 737.5 L782.5 750.0 L777.5 756.2 L762.5 747.5 L750.0 737.5 L740.0 720.0 L730.0 703.8 L720.0 693.8 L710.0 683.8 L702.4 675.4 L664.7 675.4 L664.7 688.0 L600.6 688.0 L516.8 655.7 L518.8 649.3 L465.0 654.6 L462.5 647.5 L457.5 636.2 L450.0 627.5 L440.0 622.5 L437.5 617.5 L425.0 612.5 L410.0 603.8 L390.0 600.0 L387.5 592.5 L382.5 577.5 L375.0 565.0 L367.5 552.5 L360.0 542.5 L358.8 530.0 L350.0 517.5 L346.2 505.0 L336.2 500.0 L331.2 487.5 L325.0 480.0 L317.5 467.5 L315.0 452.5 L310.0 442.5 L303.8 433.8 L305.0 422.5 L308.8 405.0 L305.0 391.2 L301.8 379.6 L298.4 367.3 L302.9 354.5 L307.4 337.8 L309.2 318.3 L311.4 301.6 L311.8 282.1 L310.7 272.3 L313.6 264.2 L312.3 253.4 L306.9 240.0 L300.2 226.5 L296.1 213.0 L315.0 218.4 L332.5 222.5 L336.0 226.0 L338.0 221.0 L340.0 212.0 L338.0 203.0 L339.0 199.0 Z" fill="#e5e5e5"/>
<g clip-path="url(#us)"><path d="M296 196 412 196 405 240 390 285 312 272 296 213Z" fill="#000" filter="url(#txA1)"/>
<path d="M412 196 602 196 602 250 590 305 540 300 520 262 495 235 470 250 440 225 412 225Z" fill="#000" filter="url(#txA2)"/>
<path d="M306 272 390 285 470 280 480 300 540 300 590 305 602 322 602 391 306 391Z" fill="#000" filter="url(#txB)"/>
<path d="M303 391 402 391 402 474 380 474 350 520 330 490 303 434Z" fill="#000" filter="url(#txC)"/>
<path d="M330 490 360 470 395 520 430 580 460 620 440 625 390 600 360 545Z" fill="#000" filter="url(#txCC)"/>
<path d="M402 440 402 474 520 585 500 600 470 560 430 500 395 470Z" fill="#000" filter="url(#txJ)"/>
<path d="M402 391 602 391 602 415 560 415 560 470 536 500 470 500 402 460Z" fill="#000" filter="url(#txD)"/>
<path d="M430 500 536 500 560 470 646 470 646 531 560 545 521 560 521 586Z" fill="#000" filter="url(#txE)"/>
<path d="M560 415 602 415 602 391 646 391 646 420 740 420 740 531 646 531 646 470 560 470Z" fill="#000" filter="url(#txI)"/>
<path d="M602 307 660 307 680 391 602 391Z" fill="#000" filter="url(#txI2)"/>
<path d="M400 560 470 530 521 560 521 586 540 560 560 545 600 560 600 690 517 656 465 656 440 622 410 604Z" fill="#000" filter="url(#txF)"/>
<path d="M560 545 646 531 646 690 600 690 600 560Z" fill="#000" filter="url(#txG)"/>
<path d="M646 531 781 531 781 672 700 672 665 676 665 688 646 688Z" fill="#000" filter="url(#txH)"/>
<path d="M700 672 781 672 800 735 777 756 740 720Z" fill="#000" filter="url(#txK)"/><g filter="url(#f2)"><path d="M758 207.5l7 0 5-3 10 10 10 1.7 10-6.2 5-8.8 10-3.2 20 0 12.5 5.8 7.5 5.7 15-5 15-4.5 7.5-2.5 21.3-.5 42.4 0 0-9.5 8.8 0 2.5 13.7 0 8.8 3.7 6.2-6.2 3-10-3-7.5 3.8-5 7 7.5 5.5 12.5-2.5 15-1.2 12.5 6.7 5.5 9.5 5.7 12.5-2 11.3 8.3-1.3 6.3 3.7-1.3 6.3-7.5 4.3-10-1.8-7.5 3.8-10-2.6-10 5-2.5 7.6-7.5 .4-5-9.2-5-7-7.5-3-8.8-5.8-3.7-1.2-1.3-10.5-5-1.3-16.2 1.3-5 7.5 2.5 15 12.5 1.2 2.5 8.8 3.7 15-2.4 8.8-5-11.3-8.8-15-12.5 0-12.5-2-10 7-10 5.5-10-3-3.8-7.5-11.2 3-10-1-10 5.5-10 5-9.5 10-4.3 8-5-4.2-6.2-3.8-8.8-5-8.7 3-4.5 2z M1013.8 277.5l7.4-7.5 8.8-3.8 12.5 0 5 6.3-2.5 7.5 7.5 2.5 10-1.3 7.5 6.3 7.5 5 7.5-5 7.5 5 7.5 7.5 10-5 6.2-7.5 3.8 2.5 3.8 10-3.8 10-5 10-15 2.5-10 7.5-10-7.5-12.5-2.5-10 2.5-5-7.5-10-5-5-10-10-5-10 5-2.5 10-3.8-5 1.3-15-3.7-5z M1118.8 322.5l6.2-2.5 2.5 5-3.7 10-3.8 10-3.8-5 0-10z M1157.5 317.5l5-7.5 10-3.8 7.5-7.4 7.5-8.8 5-2.5 12.5 5 12.5 7.5 6.3 10 0 12.5-6.3 7.5-7.5 7.5-3.8 5-6.2 2.5-10-2.5-10 5-7.5-5-7.5-7.5-5-7.5z M1226.2 337.5l6.3-1.3 2.5 8.8-5 3.8-6.2-3.8z M758 365l9.5 5 3.7 12.5-6.2 10.5-7 0z M1382.5 340l5-10 7.5-7.5 10-10 7.5-3.7 30 0 0 11.2-2.5 15-5 15-7.5 5-7.5 5-10-1.2-10-6.3-10-2.5-6.2-2.5z M1377.5 372.5l10-6.3 12.5-2.4 10 3.7 10 5 7.5 7.5 0 7.5-7.5 5-10 2.5-10-2.5-10-5-10-5z M1310 385l10-7.5 10-7.5 10-2.5 5 7.5 10 2.5 2.5 10-12.5 5-15 1.3-15-1.3z M1470 345l7.5-10 7.5-5 7.5 10-2.5 15-10 10-10 2.5-3.8-10z M1500 330l5-10 10-7.5 10-7.5 12.5-7.5 12.5-5 12.5-2.5 12.5 3.8 7.5 8.7 2.5 7.5-7.5 6.2-12.5 3.8-10 1.2-10 3.8-10 5-10 7.5-10 5-10 2.5-5-5z M1300 391.2l10 1.3 10-2.5 10 1.2 15 0 15 0 10 3.8 10 5 5 7.5-7.5 3.7-10-3.7-10-5-12.5 1.3-12.5 3.7-10-5-10-2.5-10-1.2z M1395 380l35 0-2.5 5-10 5-12.5 2.5-10-1.3z M418 200l12-2 12 2 8 6 6 8 4 10-2 10-8 4-8-2-8 2-6-4 2-6 8-4 4-6-4-8-8-2-8-2z M460 240l6-2 0 26-4 4-4-8 2-8z M328 248l8-2 6 8 6 6-2 8-8-4-8-6z M376 248l8-2 6 6-4 6-8-2z M470 228l12-2 8 8 2 10-6 4-8-4-6-6z M470 264l10 2 8 6 2 8-8-2-8-4z M316 280l14 2 8 10 2 12-4 12-6 12-4 12-6 8-6 12-6 6-4-6 6-12 2-16 2-16 0-16z M330 316l12-4 8 8-2 12-8 8-8-4z M370 292l10-4 10 8 12 4 12-2 12 2 4 8-8 8-12 2-12-2-12-4-10-6-6-6z M446 284l12-2 12 2 4 8-4 10-8 6-8-2-6-10z M430 328l12-2 12 6 6 10-4 12-10 4-10-6-6-10z M402 352l12-4 12 4 4 10-8 4-16 0z M518 354l12-8 12-8 14-8 14-2 10 4 4 12-6 10-8 8-12 4-38 0z M490 300l12-4 8 8-4 8-10-2z M598 214l12-6 12-6 12-2 8 6 8-2 12 4 12-2 12 4 12-2 12-2 0 32-8 4-12-2-8 6-12-2-8 4-4 8-8-2-8-6-8-2-8-6-8 4-8-4-8 2-12-2-8-4 8-8 8-6z M654 258l12-2 12 2 12-4 12 2 8-2 0 52-12-2-12-4-8-8-8-8-8-8-6-8z M626 284l12-2 12 6 8 8-2 8-10-1-12-3-8-6z M650 310l16-2 16 4 16-2 12 2 0 54-12 0-2-14-6-12-8-12-12-4-12 2-6-8z M590 212l8-6 16-6 16 3-4 9 4 12 12 2 14-16 10-8 16-2 16 6 12 5 16-3 16-6 16-2 0 106-56 0-4-10 12-8 16-4 12-4 2-12-6-10-16-2-16 4-16 4-10 8-6 10-12 6-12 4-12 8-12-4 8-12 8-8 6-12 6-10-4-10-10-6-10-4-12-2-12 2-12 4z M678 282l16-6 16 2 12 6-4 10-12 6-16 2-12-6-4-8z M646 308l112 0 0 58-44 0-4-10-8-8-4-12 4-12 8-8-8-4-12 4-4 12-8 12-8 12-4 14-16 0 4-14-4-12-8-12 2-12z M470 366l20 0 0 12 36 2 4-14 56 0 4 12 8 12-28 0-20-4-20 4-20-4-20 4-20-2z M660 366l50 0 0 24-20-2-16-10z M358 400l16-4 16 2 8 8 0 20-8 6-12-6-8-8-10-4z M482 438l16-12 12 8 4 16-8 16-16 4-10-14z M650 424l20-2 4 12-4 16-8 8-10-4z M650 424l20-2 4 12-4 20-8 6-10-6z M656 366l102 0 0 50-16-2-8-12-4-12-12-20-16 4-12 8-12-4-12-4z M760 366l10 2 2 10-6 8-6-2z M760 406l8-2 0 12-8 0z M654 580l12-8 10 4 2 16-4 12 6 8-4 12-6 8-8 4-6-8-2-16-2-16z" fill="#000"/></g>
<g filter="url(#f3)"><path d="M1217.5 372.5l8.7-2.5 6.3 7.5-2.5 15.5-15 0z M1212.5 377.5l15-5 5 7.5-2.5 15-10 8-10 0-2.5-13z M765 422.5l15-2.5 15 5 7.5-2.5 0 20 2.5 12.5-2.5 10-5 15-10 5-7.5 7.5-10-2.5-10 5-10 2.5-5 7.5 7.5 5 10 2.5 10 7.5 7.5 5-2.5 5-10-2.5-10-5-10-2.5-10-5-7.5-5 0-20 7.5-5 7.5-5 10 2.5 10-2.5 10-5 7.5-10 2.5-10-5-10-10-5-7.5-7.5z M796.9 343.7l11.7-8.4 16.9-6.7 13.4-5.1 16.8 6.8 13.5 3.3 13.4-8.4 10.1-3.3 13.5 11.7 20.2 10.1 3.3 6.8 30.3 3.3 33.6 1.7 33.7-1.7 16.8 1.7 6.7 11.8 10.1-1.7 16.8-3.4 16.8 3.4 30.3 1.7 0 16.8 3.4 13.4 33.6 0 26.9 0 26.9 0 13.5 3.4 20.2 3.4 40.7-13.5 0 37-7.1 6.7-20.2-6.7-13.4 6.7-20.2 10.1-13.5 6.8-13.4-10.1-13.5-6.8-13.4 13.5-13.5-6.7-16.8-6.8-16.8-23.5-3.4-16.8-16.8 6.7-20.2 3.4-20.2-6.8-13.4 6.8-13.5-3.4-13.4-3.4-13.5 3.4-20.2-6.7-13.4 6.7-20.2 3.4-13.5-3.4-6.7 10.1-13.4 3.4-13.5-3.4-20.2 3.4-13.4 10.1-13.5 3.3-20.2 3.4-20.1 3.3-16.9 6.8-3.3-6.8 0-20.1 10.1-13.5 10.1-13.4 6.7-13.5-6.7-6.7-13.5-3.4-6.7-6.7-6.8-6.7z M1170 395l17.5 3.8 32.5-1.3 12.5 7.5 12.5 1.2 15-2.4 15-8.8 8.8-1.2 0 58.7-8.8 2.5-10-2.5-12.5-2.5-7.5 5-7.5-7.5-10-2.5-7.5 5-7.5-7.5-10 2.5-7.5-7.5-7.5 5-7.5 7.5-10-2.5z M1170 380l52.5 0-2.5 10-12.5 5-12.5-2.5-12.5 2.5-12.5-2.5z M1285 405l15 7.5 10 10 10 5-5 10-10 7.5-10 7.5-10 0z M1330 430l15-10 15-7.5 15-5 15-2.5 5 5-10 10-15 7.5-10 7.5-10 10-10 7.5-10-2.5-2.5-10z M1445 397.5l15-2.5 10-2.5 7.5 10-7.5 10-12.5 5-12.5 2.5-5-7.5z M1342.5 462.5l-7.5 10-10 7.5-7.5 10-7.5 10-7.5 10-7.5 10-7.5 10-10 7.5-12.5 5-12.5 2.5-15 2.5-10-5 10-7.5 12.5-5 10-7.5 5-7.5 5-12.5 5-10 7.5-10 7.5-7.5 7.5-7.5 7.5-2.5 5 5 10-2.5 12.5-7.5z M778 460l12-10 8-8 6-10 0 30-6 12-8 8-12 4-12 4-12-2-12 2-8-4 8-4 12-2 12-2 8-6z" fill="#000"/></g>
<g filter="url(#f4)"><path d="M797.5 530l2.5-10 5-5 10-5 15-5 5-10-2.5-10 10-5 5-12.5 7.5-7.5 10-5 15 2.5 12.5-5 12.5 2.5 12.5-2.5 12.5 2.5 12.5-3.8 7.5-3.7 5-7.5 7.5-2.5 7.5 5 10 2.5 10-2.5 10 5 10 2.5 10 2.5 7.5-5 2.5-12.5 7.5-2.5 5 5 7.5 2.5 10-2.5 7.5-2.5 7.5-7.5 5-10 5 10 5 7.5 7.5 7.5 7.5 10 7.5-7.5 10 0 5 5 7.5 7.5 7.5 7.5 10 2.5 10-2.5 10 5 7.5 7.5 10-2.5 7.5-12.5 5 5 5 7.5 10 5 12.5 0 10 2.5 7.5-2.5 7.5-2.5 0 65-10-2.5-15 0-12.5 0-12.5-2.5-12.5 2.5-12.5-7.5-5-7.5-15 0-7.5-5-5-7.5-7.5-7.5-10-5-10-10-10-2.5-7.5 5-7.5-2.5-5-10-10 0-7.5-5-10 5-7.5-5-5 10 5 7.5 10 12.5 10 5 5 10-10 7.5-15-2.5-10 7.5-7.5-2.5-7.5-5-10 7.5-7.5-5 5-7.5 7.5-5 2.5-10 7.5-7.5-5-7.5-7.5-2.5-10 2.5-10-2.5-10-2.5-7.5-5-7.5-5-7.5 5-7.5 10-7.5 7.5-7.5 2.5-7.5-5-10 5-10 2.5-10-2.5-10-2.5-10 2.5-10 5-10 5-10 5-10 7.5-10 2.5-10 2.5-12.5 2.5-12.5 2.5z M795 535l10-2.5 12.5 2.5 17.5 1.2-5 8.8-12.5 5-12.5 10-5 7.5-7.5-2.5-2.5-10 2.5-10z M782.5 565l12.5 5 7.5 10-2.5 10-7.5 7.5-5 5.5-5 0z M1293.5 535.5l10.1-16.9 16.9-16.8 16.8-10.1 13.4-16.8 13.5-10.1 13.4-6.7 13.5-6.7 13.4-3.4 6.8 10.1-3.4 16.8-3.4 20.2-10 6.7-10.1-3.3-13.5 3.3-6.7 13.5-13.5 6.7-13.4 6.7-13.5 6.8-13.4 6.7-13.5 3.3z M1170 462.5l10 2.5 10-2.5 7.5 5-2.5 7.5 10 5 15 5 10-5 12.5 0 10-2.5 7.5 7.5 5 12.5-5 10-7.5 7.5-7.5 5-5 10-10 10-10 2.5-12.5-2.5-12.5 2.5-12.5-2.5-12.5 2.5z M1170 545l15 0 15 1.2 15-1.2 12.5 1.2 7.5 3.8-7.5 10-12.5 5-10-2.5-10 5-10 2.5-7.5 10-7.5 7.5z M1292.5 535l7.5-10 10-10 10-10 10-10 10-7.5 10-7.5 7.5-5 7.5 5-5 10-5 10-5 10 0 10-7.5 7.5-10-2.5-7.5 5-10 10-10 2.5-10 0z M1257.5 565l7.5-10 10-5 12.5-5 12.5-2.5-2.5 7.5-10 5-10 5-7.5 5-7.5 5z M1355 462.5l10 5 5 12.5-2.5 10-7.5 2.5-5-7.5-5-10z M1372.5 465l10-5 7.5 2.5 2.5-7.5 7.5-5 7.5-2.5-2.5 12.5 2.5 15-1.3 12.5-6.2 12.5-7.5 2.5-2.5-12.5-7.5 2.5-5-12.5z M792 550l30-2-4 6-12 8-12 6-10 4-1-16z" fill="#000"/></g>
<g filter="url(#f5)"><path d="M812.5 590l12.5-7.5 15-5 10-7.5 10-5 5-10 2.5-10 10-8.8 15-3.7 17.5 2.5 17.5 1.2 15 2.6 12.5-6.3 11.2-1.3 2.6 11.3-3.8 12.5 5 15-5 10-10-2.5-10-7.5-10-2.5-10 5-10-2.5-10 7.5-10 10-12.5-5-12.5-2.5-10 2.5-10 7.5-12.5 5-12.5 2.5-10-2.5z M972.5 550l17.5 2.5 15-2.5 15 2.5 15 2.5 15-2.5 12.5-7.5 5 7.5-5 10-10 7.5-12.5 2.5-10 5-15-2.5-12.5-5-7.5-7.5-15-2.5z M1065 542.5l11.2-12.5 8.8-2.5 6.2 7.5 1.3 5 12.5-5 8.8-5 5 10 11.2 5 12.5 0 12.5 5 5 10-5 10 5 10-10 7.5-15-2.5-15 5-15-2.5-12.5-2.5-12.5 2.5-10-5 5-12.5 5-15-5-5z M960 590l10-2.5 10 5 12.5-2.5 10 5-2.5 8-40 0z M1270 577.5l7.5-5 10 2.5 12.5-2.5 12.5-2.5 2.5-7.5 10-5 15 2.5 15-5 12.5-2.5 12.5 0 7.5 7.5-5 7.5-7.5 2.5-10-2.5-10 5-10 5 5 7.5-10 2.5-10-5-10-2.5-10 2.5-15 2.5-15 0-7.5-2.5z M1222.5 592.5l12.5-5 17.5-2.5 17.5 2.5 10 7.5-5 8-47.5 0z M1170 570l10-2.5 15-2.5 7.5 5-5 10-12.5 5-7.5 10-7.5 8z M737.5 647.5l2.5-12.5 5-10 7.5-7.5 2.5 10 7.5 10 7.5 5 10-7.5 10-7.5 12.5-7.5 12.5-5 10-1.2 1.2 6.2-11.2 2.5-10 5-10 5-10 7.5-10 7.5-7.5-2.5-10-5-7.5-10-5 10 0 15-5 5z M955 595l15-2.5 10-2.5 15 0 15 2.5-5 7.5-15 2.5-5 7.5-10 2.5-10-5-7.5-2.5z M1112.5 590l60 0 7.5 7.5-2.5 12.5-7.5 5 5 12.5-10 10-5-10-10-7.5-10-2.5-10-2.5-10 2.5-7.5-7.5z M1172.5 590l47.5 0 10 10 10 10-5 10-15-2.5-10 5-10-2.5-10 5-10-10-2.5-12.5z M730 682.5l5 2.5 5 10-2.5 7.5-7.5-2.5z M1227.5 590l27.5 0 0 15-12.5-2.5-10-5z M1220 590l70 0-2.5 10-12.5 5-10-2.5-12.5 7.5-10-2.5-10-5-7.5-5z M1170 590l10 2.5 2.5 12.5 7.5 10 5 12.5-10 7.5-10-2.5-5 2.5z M344 426l8-2 6 8 6 14 6 10 4 14 4 12-8 4 8 8 6 12 6 12 12 8 12 6 8 8-4 4-36 0-4-14-4-12-8-12-6-12-4-12-6-12-4-16-4-12z M398 544l24 0 4 12-4 10-12 2-8-8z" fill="#000"/></g>
<g filter="url(#f6)"><path d="M1035 575l7.5-3.8 5 8.8 7.5 7.5 2.5 15.5-22.5 0 2.5-13z M812.5 645l3.7-10 13.8-5 12.5-7.5 7.5-10 10-12.5 10-2.5 15 5 15 5 15 5 12.5-2.5 7.5-7.5 5-5 5 7.5-2.5 10 7.5 2.5 7.5-1.3 10 6.3 10 5 2.5 10-10 5-10-7.5-10 2.5-10-2.5-12.5-2.5-12.5 0-10 5-10 2.5-10-5-10-2.5-10 7.5-10 7.5-12.5 2.5-12.5 2.5-10 2.5-5-2.5z M782.5 660l10-2.5 12.5-2.5 10-5 2.5 7.5-10 5-12.5 2.5-10 2.5z M982.5 617.5l12.5 5 15-5 15-2.5 5-10 7.5-10 7.5-5 12.5 0-5 15-5 15-2.5 20-15-2.5-15 2.5-15-2.5-15-5z M1052.5 620l7.5-10 7.5 2.5 5 12.5 12.5 5 12.5-7.5 7.5-7.5 7.5 7.5 12.5 10 15 0 15 7.5 15 5 10-2.5 12.5 2.5 12.5-5 15-5 15-2.5 20-2.5 0 32.5-15 2.5-15-2.5-15 7.5-15 5-15-2.5-10 5-15-2.5-15 5-12.5-5-12.5-10-10 2.5-12.5 5-12.5-2.5-5-12.5-7.5-10 0-12.5-10-5z M837.5 665l10-2.5 7.5 2.5 10-5 10-5 7.5 2.5 5 10-7.5 5-10-5-10 5-10-2.5-10 0z M810 677.5l10-5 12.5 0 5 7.5-7.5 6.2-12.5 0-6.3-3.7z M750 655l7.5-5 5-2.5 7.5 5 7.5 10-2.5 5-7.5-2.5-7.5-2.5-5 5-5-2.5z M1170 657.5l10-5 15-5 15-7.5 15-2.5 15-5 10-2.5 10-2.5 15-5 12.5-5 7.5 5 15 7.5 5 7.5-10 7.5-10 2.5-12.5 7.5-12.5 2.5-12.5-5-12.5 2.5-12.5 7.5-12.5 5-12.5 5-12.5 2.5-12.5 2.5-12.5 2.5z M814 636l12-8 12-4 12-8 8-8 8-8 12 2 12 6 12 6 16 6 12-2 4-14 8-6 6 10 2 8 12 4 16 6 4 12-12 0-12-4-12-2-12 2-12-2-12-4-8 8-12-6-12-6-8 8-12 6-12 2-12 8-8 4-10-4z" fill="#000"/></g>
<g filter="url(#f7)"><path d="M777.5 690l10-3.8 10 1.3 5 7.5 2.5 7.5 7.5 5 2.5 7.5 10 2.5 10 5 7.5 5 7.5 2.5 10-5 10 5 10 2.5 10-7.5 0-10-7.5-7.5-12.5 2.5-10 2.5-2.5-5 12.5-5 10-2.5 7.5-5 5-10 12.5-2.5 5-7.5 7.5-2.5 2.5-10-10-7.5-5-10 10-6.2 10 3.7 5 12.5 7.5 7.5-2.5 10-5 7.5 10 5 10 2.5 10 2.5 10 0 10 2.5 10-2.5 2.5 10-2.5 10-10-2.5-10-5-10-2.5-10-2.5-10 2.5-10-2.5-10 2.5-5 7.5-10 2.5-10-2.5-2.5 12.5-2.5 12.5-10 7.5-15 2.5-15-2.5-10-2.5-10-5-12.5-7.5-12.5-5-10-7.5-10-7.5-6.2-7.5z M992.5 672.5l12.5-2.5 12.5 5 12.5 0 10 5-2.5 10 7.5 5 10-5 10-5 10 5 5 10 10-10 10 5 10 5 10 0 10 2.5 15-2.5 15 2.5 20-2.5 12.5-2.5 12.5-5 12.5 5 12.5-2.5 12.5 2.5 12.5-2.5 0 35-10 2.5-15-2.5-12.5-5-12.5 5-12.5 7.5-15-1.3-5-11.2-12.5-7.5-15-5-15 2.5-10 2.5-10-2.5-12.5 2.5-12.5 2.5-5-7.5-12.5-2.5-12.5-2.5-12.5 2.5-12.5-2.5-12.5-2.5-12.5 2.5-10-5-2.5-12.5z M1170 697.5l12.5-5 12.5 5 10-7.5 10 7.5 15-5 12.5-2.5 10 10 5 7.5-2.5 12.5-10 10-10 7.5-10 2.5-5-7.5-10-7.5-12.5-5-12.5 10-10 5-5-5z M778 690l12-4 12 4 2 12 6 10 12 6 8 4-36 0-8-12-8-8z" fill="#000"/></g>
<g filter="url(#f8)"><path d="M812.5 732.5l12.5 2.5 10 7.5 12.5 5 12.5 2.5 12.5 0 10-7.5 10-5 12.5-2.5 7.5-7.5 10-2.5 7.5 7.5 10-2.5 5-10 5-2.5 7.5 7.5 7.5 10-2.5 5-7.5 10-10 10-10 5-10 5-10 2.5-10-2.5-5-7.5-10-5-10 2.5-10-5-12.5 0-10 2.5-10-5-7.5-7.5-10-5z M1240 762.5l7.5-5 7.5-2.5 0 22.5-10 2.5-7.5-5z M1245 750l12.5-5 12.5 2.5 5 12.5-5 7.5-12.5-2.5-12.5 7.5-7.5-2.5 2.5-10z M827.8 731.4l13.5 6.7 20.2 3.4 20.1-3.4 20.2 0 13.5-10.1 16.8 3.4 10.1-13.5 13.4 6.7 10.1 10.1-10.1 10.1-20.1 23.6-20.2 0-13.5-13.5-13.4-10.1-20.2 6.7-26.9-3.3-23.6-15.2z" fill="#000"/></g>
<g filter="url(#f9)"><path d="M1257.5 799l10-2.5 7.5 5 10 2.5 7.5 7.5-2.5 12.5-7.5 10-12.5 2.5-7.5-5-2.5-12.5-5-10z" fill="#000"/></g>
<g filter="url(#f10)"><path d="M1285 829l8.8-10 3.7 10-3.7 15-7.6 0z" fill="#000"/></g>
<g filter="url(#f9l)"><path d="M845 776.5l10-7.5 10 0 5 10 10 7.5 12.5 0 10 5 2.5 12.5 5 15 1.2 12.5-11.2-2.5-12.5-5-12.5-2.5-7.5-12.5-5-15-7.5-7.5z" fill="#000"/></g>
<g filter="url(#f2m)"><path d="M308 422l14-4 8 8-4 10-12 2-6-6z M610 432l16 2 0 12-12 4z M738 466l12-2 14 2 4 6-10 6-12-2z M576 562l8-2 2 14 4 14 12 10 12 6-4 4-12-4-10-8-8-16z M684 544l18 0 0 12-12 6-6-8z M734 544l12 0-4 12-10 4-4-8z M590 584l12 4 12 12-4 4-12-6-8-4z" fill="#000"/></g>
<g filter="url(#f3m)"><path d="M410 236l8-2 0 12 4 10 12 4 12-2 12 2 4 8-8 6-12 2-12-2-10-2-8-8-8-10-2-10z M386 264l10-2 10 6 4 8-8 2-10-2-8-6z M394 284l12-4 12 2 12 2 4 6-8 4-12-2-12 0-10-2z M466 324l8-6 4 10 4 12 8 12 12 6 12 2 4 6-28 0-8-6-8-8-6-12z M318 374l12-2 8 4-2 6-12 1z M490 366l36 0 2 8-14 4-16-2z M418 412l10-8 6 2 0 12-6 6-8-2z M414 468l12-2 2 12-10 4z M450 494l12-8 8 8 12 8 12 4 12-4 12-8 12-4 2 16-10 8-12 6-12 4-12-4-12-2-12-8-8-6z M550 454l12-2 12 8 2 14-6 10-12-2-8-8-4-10z M538 450l8-4 2 14-8 6z M538 478l12 6 4 12-8 10-8-4z M628 438l14-6 2 22-10 4-8-8z M738 490l12 4 8 12 8 12 12 8 0 6-16 0-12-14-8-12-8-8z M550 570l12-8 12-2-4 8-10 6-4 10-6-4z M602 556l16-4 16 4 8 12 0 32-8 4-4-20-8-16-12-6z M602 604l16 6 12 2 12 8 0 8-12-4-16-6-12-6z M658 544l16 0-2 16-8 6-6-4z M680 564l10 2 4 6-4 8-4 12-2 12 2 12-4 12-4 12-4 4 2-14 4-14 0-14 2-14 2-12z M770 544l8 0-8 12-12 10-8 2-12 8-4 12-2 16-4 16 2 10-4 2-2-12 4-18 2-16 4-12 14-10 14-8z M708 568l10 10-4 16-4 10-4-8 4-12-4-10z" fill="#000"/></g>
<g filter="url(#f4m)"><path d="M370 462l8 4 6 12 6 12 8 12 8 12-4 4-8-8-8-12-6-12-6-12z M338 466l8 4 4 12-2 8-6-4-4-8z M356 492l14-2 2 8-12 2z M462 524l16-2 2 10-14 0z M498 518l8 0 0 10-8 0z M618 470l12 4 12-8 2 20-6 8-8-4-8 4-8-8z M602 490l12 4 4 12-12-2z M630 516l14-2 0 12-12 2z M362 552l12 4 12 10 8 10-8 2-10-8-10-8z M590 550l12-2 4 8-8 4z M598 568l12-2 8 8 12 6 4 16-12 0-12-8-8-8z M564 584l10 2 4 8-4 6-10-4z M690 580l8 4 4 12 4 12 8 8 8 8-4 4-10-8-8-10-6-12-6-10z M698 572l10-2-2 10-8 2z M744 584l6-12 12-6 8 2 8-4 2 36-10 4-8-6-8-6-6 4-4 12-6 8-2 12 2 28-4 4-4-20 0-16 4-14 6-12z M648 638l10 6 4 12 12-4 4-8 4 4-6 10-10 6-8-2-8-10z M720 632l10 4 4 20-4 6-8-4-4-14z M596 568l10-2 12 12 12 10 4 10-10-2-12-8-10-8z M783 580l15-2 4 6-12 6-7 6z" fill="#000"/></g>
<g filter="url(#f5m)"><path d="M430 592l12-6 12-6 8 10-2 8 6 6-12 0-12-4-12 2z M462 624l10 2 4 10 2 16-12 1-2-13z M608 674l10-2 8-8 8 4 8 8 0 12-32 0z M570 588l10-2 6 12-2 12-10-2z M648 664l10 2 12-2 8-8 6-16 6-16 4-6 4 10-4 16 8-12 4-8 6 6 2 14-4 12 8 8 12 2 4-6 4 4-8 8-20 0-12-2-32 2 0 16-18 0z M738 632l8-8 8-10 6 10 6 16 6 4 7-6 0 10-9 2-8-6-6-12-6-2-4 10-4 16 4 10-6 0-2-16z M616 658l14-2 8 8 2 16-10 8-20 0 2-16z M782 628l8-6 12-6 12-4 12 2 2 8-10 2-12 4-12 6-12 6z M343.6 425.2l12.1-3.1 15.1 24.2 12.1 24.3 9.1 24.2 9.1 24.2 15.1 18.1 12.1 18.2-3 15.1-15.2-3-15.1-24.2-15.1-24.2-12.1-24.2-12.1-30.3-10.3-24.2z" fill="#000"/></g>
<g filter="url(#f6m)"><path d="M420 574l8-2 2 8-8 2z M410 582l10-2 2 6-10 1z M450 570l16 4 8 8-4 6-10-4-8-6z M476 598l10 2 2 6-10 0z M454 612l10-2 2 6-10 2z M586 676l12-4 4 10-12 4z M630 644l12-4 2 16-10 4z M750 656l8-8 8 4 4 12 9-2 0 8-13 0-10-4z M782 664l8-6 12-2 8-6 8 2-2 8-10 4-12 4-10 4z" fill="#000"/></g>
<g filter="url(#f7m)"><path d="M538 626l12-2-2 10-8 2z M586 648l12-4 12 4-4 12-12 4-10 8-10 4-4-8 10-8z M902 644l16-4 8 8 4 12 8 12-8 4-8-8-12-8z" fill="#000"/></g>
<g filter="url(#f8m)"><path d="M492 610l10-6 10-2 6 6-2 12 4 12-2 12-12 4-8-6-4-12 4-10z M526 610l12-4 8 8-4 10 8 8 10-8 10-4 10 2 10 6 8 8-8 6-8-4-8 6 4 12-8 8-8 8-12-4-8-8-8-4-4-12-4-12z" fill="#000"/></g>
<g filter="url(#f9m)"><path d="M850 779l10-2.5 7.5 10 7.5 2.5 7.5-2.5 3.7 5-8.7 3.7-10-2.4-8.7-7.6z M872.5 809l10-5 12.5 1.2 7.5-6.2 2.5 10-7.5 7.5-12.5-1.3-5 6.3-5-2.5z M890 821.5l10-2.5 7.5 5 2.5 7.5-10-2.5z" fill="#000"/></g>
<g filter="url(#f1m)"><path d="M356 336l10-2 12 6 12-2 8 4-2 8-10 4-8 6-4 6-16 0 2-10-4-8z M406 336l12-4 12-4 8 4-4 8-8 2-8 2-8-2z M492 200l10-2 8 6 10 4 4 8-6 6-8 2-4 6-8-4-2-10z M514 242l10 4 6 8-2 10-8-8-10-8-10-8z M548 198l10 0 12 2 4 8-8 6 2 10 4 10-2 10 4 10-4 10-8 4-6-8 2-12-4-10 4-10-4-10-4-10z M556 272l10-2 8 4-4 10-6 8-8-4z M598 248l12-2 10 4 6 8-4 8-4 10-8 2-4-10-6-4-10-4-2-8z M550 300l12 8 12 2 12 6 12 0 0 12-12-2-12-2-12-4-8-8z M586 352l12-4 4 18-18 0z M352 366l28 0 0 10-10 4-12-2z M586 366l16 0 0 24-8-2-4-10z M604 366l14 0 4 16 8 16-2 18-18 0-6-10z M618 384l12-6 16-8 10-4 6 4-12 8-14 10-10 6z M366 426l14-2 2 12-12 2z M384 454l10 4 6 8 2 12-6-2-6-10z M414 494l12 2 4 10-4 4-8-6z M570 504l14-4 2 10-10 6-10-2z M702 502l16-2 6 14-4 14-12 2-6-12z M604 366l26 0 12 8 8 12-12 6-12 14-12 10-10 0z M700 382l14-8 12 4 2 8-14 4-12-2z M682 404l16-2 12 4 16-2 4 12-48 0z" fill="#000"/></g>
<g filter="url(#f0m)"><path d="M610 316l16-2 8 10-4 12-10 4-8-8z M614 346l14-2 6 14-4 8-14 0z M404 490l6-2 8 10 4 10-4 6-8-8-4-8z M682 442l12-2 4 12-10 4z M686 462l24-4 0 72-12-4-12-12-16 4-8-12 12-12 8-16z M698 450l16-4 12 8-4 16-8 16-12 8-8-12-4-16z M670 506l24-4 8 12-4 12-20 0-12-8z M609.2 317l20.4-2.9 8.7 17.5-5.8 17.5 8.7 17.5-5.8 11.7-11.7-11.7-8.7-17.5-7.3-17.5z" fill="#000"/></g>
<g filter="url(#f2t)"><path d="M1048.8 325l6.2-1.2 2.5 6.2-7.5 0z M1061.2 340l5 0 0 7.5-5 0z M1077.5 256.2l7.5-1.2 1.2 3-7.4 .8z M747.5 320l17.5-1.2 10 11.2-1.2 12.5-8.8 5-12.5-5-6.3-10z M1448.8 310l11.2 0 10 5-2.5 15-7.5 10-2.5 15-5 10-5-10 2.5-20-2.5-15z M1390 410l10-1.2 2.5 6.2-10 2.5z M1287.5 495l7.5-10 10-10 6.2-3.8 1.3 5-7.5 8.8-7.5 7.5-7.5 7.5z M426.2 252.3l.9-.5 2-.1 1.2 .1 .5 .3-1.3 .5-1.8-.2z M430 212.8l5.6-2.6 7-2 1.4 .5-8 2.9z M361.2 288.6l-1.8-4.6-.6-8.5 .8-.6 1.5 8z M466.6 279.9l-2.9-.4-3-.5-3.4-1.1 .7-.4 3.2 .6 3.1 .8z M390.1 245.7l-1.6-.7-2.4-1.5 .4-2 .2-2.1 2.4 2.2 1.4 2.6z M464.5 276.9l-.5-1.6 .2-4.2 1.4-3.4 1.3-.7-.4 4.8-.9 4.3z M464.9 224.8l-1.5-.8-2-1.9 .4-1.4 1.4 .3 1.4 2.3z M418.2 233.4l-.8-.6-1.5-6.7-.4-3.7-.3-4.3 2.1 6.8 .9 6.2z M409.9 224.6l-2.8-.9-1.6-1.9 0-2.1 2.1 .4 1.8 1.7z M432.6 228.1l0-1.1 1.7-.7 .8 1.2-1.5 1.2z M436.1 236.4l0-1.9 1.7-1.6 1.7 .2 2.1 .5-1.6 2.2-2.1 1.2z M330.8 266l1.1-1.8 4.9-1.6 .8 1.6-4.9 2.4z M420.6 283l-2.8-1-2.1-2.4 .4-2.6 3.8 3.2z M447 230.3l-2.3-2.6-2.5-3.4-.9-3.3 2.4 1.9 2.6 4.6z M391.7 266.6l-1.4-1.7-.9-2.2-.3-2 1.4 .9 1.3 3.1z M371.4 236.3l-1.4-1.8-1.5-6.1 .3-1.8 1.2 2.8 1.4 4.2z M449.1 276.7l-1.2 .2-4.5-2.4-.7-1.2 1.1-.3 5.3 2.7z M463.7 274.2l-.3-1.3 1-5.5 1.1-2.8 .6-.4-.3 3.5-1.2 3.7z M341.7 249.9l-.8-.4-1.4-1.8-1.4-1.8 .9 .5 .9 .5 1.9 2.4z M452 270.7l.7-2.7 1.9-2.3 1.8 1.1 .6 1.9-2.3 3z M317.3 260.9l1.1-1.1 1.4-1.1 1.6-.3 .7 .5-1.5 1.3-1.9 .7z M402.5 236.6l.3-3 .5-2.1 1.1-1.6 1.2-1-.3 3-1.3 2.6z M338.1 277.1l1.2-3.8 3.4 .1 1.7 2.7-2.7 2.6z M423.8 243.6l-.8-.1-.6-1-.4-1.3 .9 .1 .8 .5 .9 1.3z M432.9 259.2l-1.5-1-1-1.4-.8-1.5 1.4 .8 1.1 1.4z M429.9 216.7l1.9-.8 1.7-.8 1.2 .8 .9 .9-1.8 1-1.8-.7z M456.6 251.8l5.5-3.3 5.3-2.8 4-1-2.2 2.2-7.6 3.5z M372.3 259l-1-.3-3-2.6-.7-1.2 1.4 .6 2 2.1z M438.7 268.5l-1.3-2.7 .1-3.1 1.6-1.2 2 .9-.2 4.4z M425.4 277.3l.3-1.5 .9-2.5 1.2-2.5 .6-.3-1.3 3.2-1.1 3.3z M403.9 254.2l-1.1-.8 2.7-4.3 2.1-3.2 .7 .9-1.1 3.2-1.9 3.9z M323.5 260.6l1.5-1.8 5.9-2.1 .2 .8-5.2 3z M448 270.2l-.6 1-1.4-.2-.3-1.8 1.9-.3z M441.6 225.7l2.4-1.8 4.7-1.5 2.3 .4-6.4 2.6z M344.5 245l1.8-.9 2.5-.4-.1 1-2.3 .6z M341.8 276.6l-.6 .4-3.3-1-2.2-.9 .8-.2 1.7 .2 2.5 .8z M382.7 277.6l-1.3-.7-1.3-2.7 .2-2 1.6 .8 1.7 3.6z M326 271.7l-1.1-.2-2.7-2.2-3.1-2.3 .6-.2 2.9 2 2.3 1.7z M457.3 209.4l1-2.8 3.4-5.6 1.1-.7-1.1 2.4-2.1 3.7z M379.7 246.1l-2.3 .1-3.6-.9-2.3-.8 1.9 0 4.1 .7z M324.9 280.2l.9-4.7 2.4-6.3 .6 2-1.5 4.8z M402.2 238.1l-1.5-.1-.7-2 .8-.9 1.3 1.6z M380.1 251.8l.8-1.5 5.9-3.2 5.2-2.4 1.2 .4-4.8 3.5-6.8 3.3z M376.3 278.5l1.1-2.1 3.6-2.2 3-1.7-.1 1.3-1.7 1.9-3.3 2.3z M409.6 244.3l-1-.2-.9-1.5 .6-.7 .9-.1 1 1.7z M428.9 259.7l-6.7-1.1-6.8-2.5-.6-1.5 8.3 2.1z M429 250.4l.9-2.1 2.3-3.3 .1 .9-1.8 3.1z M397 230.3l2.2-1.9 2.7-1.1 1.7 1.3-1.1 1.8-3.1 1.3z M464.3 226.5l-2.4-4.1-.9-7.1 1.6 1.3 2 5z M425.8 265.8l-.6-.5-.8-2.1 .1-1.4 .9 1.4 .6 1.9z M369.1 240.8l1.7-1.6 5.6-1.7-1.5 1.7-3.5 1.8z M402.1 232.8l3.3-1.1 5.9-.8 3.9 .2 2 .7-5.4 1.3-5.8-.1z M442 259.4l-1.1-.3 .8-1.1 .6-.7 1 .2 .4 1.1-.8 .8z M427.8 226l.5-.8 3.8-1.2 3.2-.3-.9 .8-1.9 1.1-3.1 .4z M412.8 246.8l-2.3-1.1-3.4-2.3-1-1.6 .6-.1 1.5 .6 3.1 2.4z M386.5 229.9l2.7-1.3 7.9-1.4 5.7-.5 1.2 .7-6.3 1.6-6.5 .8z M365 285.5l-2.7-3.1-2.9-4.2 1.2 .9 2.6 3z M405.2 270.9l-.3-1.6 .6-3 2.7-.8 1.9 .9-.3 3.2-2.9 1.5z M347.2 285.2l-1.5-2.3-1.3-2.2-.7-2.5 1.5 1.7 1.6 3.2z M324.9 251l.7-.9 1.4-.6 1.5 .4-.1 1-1.3 .5-1.6 .4z M336.1 284.2l-.6-3-.1-3.5 0-4 .6-.2 .4 4.1 .2 3.7z M463.3 215.1l-2.2-.6-.9-3.2 2.1-1.3 2 .9 1 2.9z M374.8 248.8l2-1.3 5.8-1.2 2.7 .7 .2 .7-2.8 1.1-5.4 .6z M373.8 248.5l-1.7 0-4.5-1.8-6.1-3 3.3 .5 3 .3 6 3z M347.3 280.2l-.7 .5-2.6-3.5-.6-2.2-.1-1.6 2.5 2.5 1.9 3.6z M312.8 275.1l.5-1.1 3.5-3.7 3.6-3.1 1.4-.4-3.8 4.4-3.5 2.8z M338.6 253.1l2-.9 6.3-.9 3.6 .2-1.7 1.2-8.5 .9z M420.8 277.6l-.4 1-1.9-.2-1.7-.8 1.3-1.2 2.6 .1z M342.6 249.2l.2-1.1 1.9-.5 1 .5-.6 .9-1.6 .9z M329.7 251l1.9-2.8 5.3-4.5-.6 1.8-3.6 3.7z M427.7 272.2l-1.4-.1-2.2-.7-1-1.5 1-.2 1.2-.1 1.9 1.5z M418.2 259.3l-1.5 .9-1.7 .3-.1-1.4 .4-1.1 1.9-.2z M449.1 281.9l1.5-1.5 3.9-.9 .1 1.5-3.5 1.4z M404.5 280.7l1.2-1.5 3-.6 2.2 1-2.4 1.3-2.4 .8z M455.3 261.9l-3.2-2-3.2-4 .1-1.2 4.3 3.9z M436 216.2l-2.6 .6-5.1-.7-.1-.9 4.8 .3z M464.6 252.3l-1.9 .3-1.6-.4-1.8-1.2 .3-1.7 2.4-.3 2.6 1.3z M404.1 265.1l2.7-2.4 5-3.1 4.1-.8-3.5 3.1-4.6 2.1z M343.2 257.2l.1-1.8 2.4-2.5 2.5-1 1.2 .8-2.2 2.4-1.9 1.5z M406.5 278.4l-3.7-1-4.7-1.4-4.7-3.1 1.2-.7 4.8 1.6 5 2.6z M461.9 241.5l-.3-.7 2.1-2.2 1.9-2 .1 .8-.8 1.8-2.5 2.9z M440.7 209.9l.8-1.5 3.1-2.4 2.4-1.6 .2 .6-1.4 1.8-2.9 1.9z M386.8 232.5l-2.2 .2-3.9-.2-3.2-.5-1.5-.6 4.9 .2 3.4 .4z M364.8 266.5l-2.3 1.3-4.7-.9-2.3-1.1 2.6-.6 4.4-.2z M421.7 252.6l-2.3 .9-1.9-1.3-1.1-2.2 1.8-1.7 2.4 0 .7 2.1z M405.2 246.3l2.2-1 7.9-.8 4.8 .1 2.4 .6-6.9 1.1-7.5 .5z M430.9 231.8l-3.3-1-3-1.1-1.8-1-.8-.6 2.4 .5 3.1 1.5z M340 257.9l1.9-1.9 2.3-1.9 2.4-1.3-1.4 1.8-3.3 2.5z M394.7 275.7l-2.7-1.1-1.8-4.5 2.1-1.6 3.1 4.4z M401.8 234.2l-4.5 .5-5.1 0-6.3-1 1.2-1.2 5.6 0 5.2 .4z M369.3 261.2l-1.9-.3-1.6-1.4 .2-.6 2.1 .7z M442.9 241.9l-1.5-.5-4.5-3.8-2.6-2.9 3.3 2.2 4.8 3.7z M365.2 234.8l-2.2-1.7-.8-3.4 1.4-2.3 1.7 2.3 .5 2.2z M347.5 273.7l-2.3-1.6-2.5-4.1-.8-3 2.2 .8 3 5.3z M424.5 254.5l-1.5 .7-2.8-.5 .3-2.4 1-1.3 2.4-.8 2.4 2.5z M341.6 275l1-1.6 4.8-3.6 6.1-3.5-2.2 2.6-2.7 2.7-5.4 3.2z M421.5 259.2l-.2-2.2 1.2-3.1 .7-1.3 .4 1-.8 3.5z M463 255.1l-1.8 .2-5.5-.4-2.4-.9-1.4-.7 4.7 .4 4.7 .7z M446.6 274.9l-1-1 1.4-1.6 1.4 .6 .9 1.3-1.5 1.5z M445.4 231.2l.8-2.8 3.2-4.8 .7 1.2-2.5 4.8z M423.7 268.1l-1.8-2.6-.5-4 2 0 1.3 3.6z M413.3 249.1l-1.6-1.9-1.2-1.7-1.9-2.8 1 .7 1.3 1.6 2.2 3.1z M419.4 268.3l3.9-3.3 4.9-3.4 3-1 3.9-1.3-6.2 4.1-4.3 2.4z M360.4 258.6l-1.8-.9-3.4-7.4-1.5-5.2 3.1 3.8 3.9 7.6z M399.7 238.8l1-3.8 1.9-3.9 1.1-1.1-2 5.8z M373.7 275.6l-1.1-.7-1-3 1.3 .7 .9 1.6z M352.3 277.4l-.8 .4-4.1-.8-1.9-.8 1.9-.1 4.1 .7z M335.9 273.8l-3.2 2.2-2.4-1.7-.7-2.6 3.7-.9z M344 261l-.9 .2-2.2-2.4 .3-.8 .9-.2 1.5 2.1z M403.6 249.3l-.5 .5-2.1-.5-2.1-.6 .3-.6 1.9 0 1.6 .6z M428.7 228.7l-2.2-3.2-2.2-3.3-.9-3.4 1.2 .7 1.6 2.3 1.5 3.4z M322.7 243.1l.6-1.2 .6-.9 1.2-.1 .2 .9 0 1.2-1.3 .5z M397.5 265.7l1.2-2.2 1.3-2.3 2.6-2 .1 1.4-1 2.1-2.3 2.1z M338.8 267.3l-.9-1 1.9-1.1 1.6-.4 .5 .9-.7 1.3-1.8 1.5z M365.9 285l-3.5-2.9-4.5-4.6 0-1.8 1.4-.3 5.8 6.7z M423.7 253.7l-.6 .1-.1-2.5 .4-1.1 .6-1.5 .4 2.5 .1 2.8z M362.4 282.5l-2.3-.7-1.9-1.7 1.5-.8 1.9 .9z M437.2 283.1l-1.4-1.8-.5-2.3 .9-1.7 2 3.8z M422.2 248.4l-.6 1-2.3-.8-2-1.2 .8-1 1.9 .1 1.8 .9z M326.2 264.4l-6.5 .1-6.6-.2-2.6-.8 2.2-.7 8.6 .6z M384.7 261.2l-1.2 .5-1.3-.9-.2-1.3 1.3-.2 1.2 .6z M432.1 231.9l-1.4-.2-2.1-2.1 0-1.1 1.2 .2 2.2 1.9z M408.8 221.8l.4-2.4 2.2-4.1 2.8-1.7-1.2 3.6-2.2 3.7z M426.3 281.2l5.8-3.1 5.7-3 5.9-1.7-2.3 1.9-3.4 2-6.7 2.7z M441.2 238.9l-4.4-2.8-5.2-4.5 2.4 .9 3.9 2.7z M440.1 250.5l-3.2 .4-3.8 .2-1.2-2.3 2.9-.5 3.3 .1z M347.5 272.9l1.3-3.9 4.1-5.2 1.4 1.6-3.5 4.8z M422.6 230l-1-1.5-.4-7.6 .2-5.2 1.2 3.9 .4 7.8z M395.9 229.5l-.9-1.5 .2-2.1 1.3-1.4 1.2 .5 .3 1.7-.5 2.1z M440.9 207.5l1.5-1.2 3.6-.9 3.5-.9-1 .9-2 1-2.6 .5z M452 233.2l-1 0-2.8-2.1-1.4-1.5 0-.7 2.1 .9 2.7 2.3z M325.7 282.6l-1.2-.3-.5-1-.3-1.2 1.1 0 .9 .3 .5 1.1z M420.9 257.5l.5-1.5 7.7-5.2 4.9-2.2-5.5 4.5-6.2 4.6z M420.6 267.1l-1.2-.3-2.2-2-.8-1.6-.1-1.2 2.2 1.6 2.7 2.8z M418.6 237.3l.4-1.6 5.2-3.2 3.3-1.4 1.8 .1-3.7 3.2-3.8 1.6z M358.4 284.4l-.8-2-.1-3.7 .7-.5 .5 1.1 .2 2.7z M344.9 282.9l-1.9 .1-4.5-1-4.7-1.4-.1-.7 5.2 1 5.4 1.2z M400 262.9l.6-4 2.7-6.5 2.2-4.6 .3 1.4-1.1 3.9-2.4 6.4z M370.3 275.3l-1.4 .4-3-.5 .3-1.1 3.2 .2z M416 284.4l1.2-3.2 1.7-3.6 2.8-3.3-.3 2-1 2.6-2.1 3z M349 251.7l-.4-6.3 .6-6.8 .8-4.3 .9 1.8-.8 9.4z M452.2 242.9l-3.2-.8-3.8-2-1.9-1.7-.7-1.3 3.3 .8 3.6 2.7z M396.5 278.3l-1-1.2-.3-1.6-.2-2.1 1.2 1.5 .6 1.9z M415.4 218.1l-.2-1.5 2.7-.9 1.8 1.1 1.1 1.4-2.4 1.3-2-.7z M436.7 280.7l3.3-2.2 3.1-1.2 1.4 .4-4.1 2z M319.4 264.1l-3.2-.4-3.1-4.7 1.5-1.5 4 3.3z M395 237.7l.8-5.8 1.3-6.6 1.9-6.5 .1 2.6-.8 4.7-1.5 6.8z M426.2 224.1l1.5-2.4 3.9-4.7-.6 1.7-2.9 4z M362.6 272.3l-7.5-.5-8.9-1.5 2-.7 7.9 .7z M353 279.5l0-.9 4.7-1.8 2.9-.3 .7 .6-3.4 1.5-3.8 1.3z M426.8 255.1l.2-1.1 1.7-3.5 1.6-2.3-.6 2.1-2 3.8z M316.6 268.5l-.3-2.5 2.6-1.2 2.1 1 1 1.8-1.6 1.6-2.2 .8z M404.8 245.9l1.8-3.4 3.3-4.5-.2 1.2-2.3 3.5z M409.5 259.4l-1.1 .1-1.2-1.5 .2-1.3 1.3 .4 1.5 1.3z M453.1 233.7l-2.2-2.2-3.3-5 1.9 1.3 2.1 2.9z M414.9 234.8l.6-1.8 2.6-2.3 1.2-.3-2.7 3.5z M395.7 237.4l-4.3-.2-7.7-2 1.4-.6 6.2 1.3z M342.2 248.5l-.1-2.7 1.7-2.5 2.9-1.4-.6 3.3-1.3 2.9z M462.7 233.4l-1.2-.4-1.5-1.8-.6-1.2 .5 0 .9 .5 1.1 1.4z M338.2 248.2l-1.3-2 .9-6.3 1.3 1 .2 4.8z M403.3 284.1l2.7-2.9 7.9-4.6 3.7-1-2.9 2.9-6.5 3.6z M368.5 250.6l3.6-1.7 4-1.5 2.7-.4-2.3 1.3-3.9 1.2z M447.4 243.1l-.3-3.2-.1-2.3 .3-2.8 .6-.4 .1 3.3-.1 2.8z M328.7 282.3l-2.2-1.1-2.7-4.6 2.4 .3 2.3 2.8z M470.3 272.9l-2.5-.2-4-.8-1.4-1.6-.2-.8 2.8 .5 4.1 1.4z M399.7 264.8l-1.6-1.4 .1-4.5 1.7 1 .8 3.1z M387.4 232.8l1.1-1.1 2.1-.8 1.5-.2-.8 1-2.5 1.2z M343.2 257.9l-5-.1-6.8-1.1-.5-.9 8.3 .6z M468.8 208.7l-1.8-1.2-4.5-6.9-1.8-4.2 1.6 1.4 2.1 2.7 3.7 5.7z M415.6 277.7l.6-2 2.6-1.8 .7 1.5-1.6 3.4z M456.7 280.2l-1.4 .8-.6-1.6-.3-1.6 1.4-1.4 2 .9-.4 2z M334.4 258l-1.1-1.2-1-2.5 .3-.4 1.3 2.4z M363.5 258.3l-.3-1.4 1.3-3.4 .3 1.3-.4 2.2z M458.1 257.4l-3.5-.5-5-1.3-2.8-1.2-.9-.8 4.1 .9 3.9 1.3z M435.1 276.8l.9-2.7 2.5-3.5 0 1.3-1.3 3z M433.3 222.4l-1.2-.5-.5-2.6 1.3-1.8 1.4-.1 .8 2.2-.8 2z M381.1 248l-3 0-4.7-1.4-1.1-2.3 2.9-.1 4.9 1.6z M393.1 264.7l2.3-.6 5.2-.3 1.9 .7-1.7 .8-5.7 0z M355.7 274.5l-1.7-3.2-.3-3.3 1.3-2.4 1.9 2 .4 3.9z M354.2 250.8l.5-4.4 3.2-7.1 .8 1.7-1.9 5.8z M429.3 284.8l-3.3-2.5-2.8-2.4-2.6-2.9 3.1 2.2 3.7 3.1z M461.5 268.3l1.1-.6 3.2-1 2.5-.4-2.6 1-3.5 1.2z M437.9 339.5l-1.9-.8 0-4 1.7-1.4 1.5 1.5 .9 4.2z M356.7 331.4l-2.7 1-4.5-2-3.4-2.8 4.2-.3 5.3 1.6z M374 363.5l3.8-2.2 5.7-1.2 4.5-.2-3.3 2.1-5.9 1.2z M323.9 363.2l-2.3 0-3.8-2.2-2.6-2 .1-1.2 3.4 .9 4.2 2.5z M384.1 351.4l-6.2-.5-8.9-2-3.5-1.9-4.5-2.2 9.4 2.1 5.6 1.7z M421.8 306.7l.6-3.7 3.8-8.6 3.1-5.3 .5 1-1.8 5.4-3.6 7.5z M326 335.1l-2.3 .1-3.2-.3-1.4-.7 1.4-.5 3.6 .6z M377.9 360.8l-2.9-1.1-4-2.7-2.8-2.5 2.2 .1 6.3 4.4z M322.8 322.5l-1.5-.3-1.4-1.7 .6-1.1 1.1 .1 1.3 1.6z M343.8 331.6l3.7-3 5.4-3.6 2.8-.8 1.5-.2-3.7 2.7-5.6 3.3z M462.6 342.5l1.2-3.5 3.3-.7 2.7 2-3.4 3.5z M423.2 341.7l-.9-.8 .4-3.5 .5-2.2 .6 .4 .3 1.9-.3 2.4z M400.3 287.5l-1.5 .8-4.1-1.3-2.3-1.2 2.7-.1 4.2 .4z M368.9 373.2l-1.8-5.8-1.8-9.3 1.3 .7 1.9 8.7z M448.7 358.3l-1.7-4-.6-6.5 1-3.4 1.6 3.2 .5 6z M314.2 338.4l.8-3.5 3.2-6.4-.3 2.8-1.5 4.9z M464.2 320.2l-3.3-1.2-3.9-4.4 4-.2 3 2.2z M376.8 331.9l-.7-2-.2-3.2 .4-1.4 .6 1.7 .1 2.3z M357.1 286.3l-2-1.3-2.5-2.2-1.2-1.5-1.1-1.8 3 2.2 2.4 2.6z M447 306.2l-2.8-1.6-3-6.2-.5-2.7 2.1 1.4 2.6 4.6z M338.3 361.7l-2.3-1.8-.7-4 1.9-.5 1.5 3.4z M379.2 341l1.1-1.1 1.7 0-.1 1.2-1.4 1.2z M400 351.9l-.8-.8 6.5-5.7 6.9-5.7-2.4 3.6-2.1 3.4-6.3 4.9z M428.3 355.1l1.1-1.7 2.6-2.2 3.3-.4 0 1.5-2.2 1.9-3.6 1.9z M393.8 337.9l.6-1.9 2.3-3.3 2.9-2.7-.2 1.6-1.6 2.5-2.5 3.2z M360.1 337.7l2.7-2.2 4.4-2.6 1.1 1.7 .1 2-5.7 2.1z M412.4 300.9l.3-1.7 1.4-1.3 2.4-.9-.2 2.3-.6 1.3-1.8 1.6z M457.4 306.9l-2.1-2.6-2.7-7-.4-3.2 1.9 2.5 2.6 6.2z M435.3 330l.7-3.4 3.6-7.3 3-5.2-1.9 5.7-2.7 5.7z M348.9 318l.3-2 2.1-3 1.5-1.6 .7 .1-.9 2.2-1.9 3z M420 336.7l-3.5-.2-3.2-2.3 1.1-2.7 5.1 1.5z M384.1 356.8l-1.3-.1-.6-2 .7-1.7 1.4 .3 .4 1.3 .6 1.6z M329.9 302.6l-1-1.6 .5-3.3 1-1 1 1-.2 3.5z M372.8 343.6l-1.8-1.1-.6-2 1-1.7 1.4 2.6z M441.6 346.4l-1.1 .3-5.6-1.6-3-1.6 3.3 .2 6.2 1.9z M386.5 305.4l-1.3-4.1-.8-3.7 1.1-3.8 1.7 .6 1.3 3.2-.8 3.8z M425.8 303l-3.6-.9-4.2-2.1 .3-2 2.2 .1 3.5 1.8z M455.4 336.2l.1-2.8 1.8-7.2 1.3-2.2-.2 3.1-1.6 6.6z M347.8 282.9l-2.8 1.2-2.5-.3-.1-2.5 3-.5z M442.1 316.8l-2.1-1.4-2.1-2.1-1.7-2.4 .8-.3 2 .9 2.5 3.4z M369.3 314.2l-1.7-2-1.2-1.8-.2-1.3 .9 .6 1.7 2.4z M342.9 368.4l-4.6-4.9-5-7.5-3.6-6.6 5.3 6.6 4.3 5.8z M442.6 328.7l-3.2 .2-8.4-1.6-6.7-1.8 5.5 0 9.5 1.9z M415.2 330.8l-2.1-.8-4.4-3.1-2.7-2.5 2.9 1.2 4 3.1z M464.8 346.7l.3-2 1.1-1.3 .9 .7-.3 2z M460.8 339.7l-1.1-.2-1.8-4.6-.3-2.8 1.8 1.9 1.9 4.7z M412 350.2l-1.6-.4-3.3-2.1-4.1-2.5 1.1 0 3.2 1.6 2.7 1.8z M321.9 367.4l-3.1-9.1-2-11.3 .9-2.3 2.8 12.4z M365.6 358.8l-2.8-2-3.7-3.7-2.3-2.9-1-2 4.1 3.6 2.9 3.5z M429 295.8l-1.4-1.4 1.8-3.3 2 .8-1 3z M455.2 309.2l-2.3 .2-2.8-1.2-.9-.7 1.1-.1 3.4 .5z M392.8 323.9l.7-1.2 1.6-1 1.4 .3 .9 .7-1.6 1.1-1.9 .8z M356.3 334.3l1.6-.6 3.1-.8 3.3-.3-1.2 .6-2 .7-3.5 .5z M459.6 302l-1.8-.9-4.5-4.2-.2-1.6 1.9 .8 4.4 4.5z M382.8 357.1l4-4.4 5.8-5.6 4.6-2.9-4.1 4.7-6.8 6.4z M312 326.9l-.6-.6 3.8-4.7 1.6-1.2-.8 2-2.6 3.3z M404 314.1l.1-3.7 2.5-8 2.2-5.4-.4 4.6-2.5 8.3z M461.7 365.4l1.9-2.1 8.6-2.7 1.7 .7-2.1 1.5-5.4 1.8z M343.5 347.3l-1.8 .8-3.3-.8-1.4-2.4 2.4-1.5 4.6 1.7z M380.6 317.1l-1.2 .2-1.8-.2-1.9-.6 .5-.4 1.5 0 1.7 .5z M385.2 348.9l4.3-1.6 9.4-1.3 .5 1-9.4 1.9z M348.5 330.3l.6-4.4 2.3-6.5 .5 1.2-1.4 5.6z M435.6 322.5l-1.6-4.2-2.1-7-.2-3.9 .1-2.8 2.1 6.4 1 6.4z M387.4 310.9l-6.2-2.4-11-6.7 4.3 1.1 9.1 4.1z M443 299.8l-4.7-1.4-8.3-6.6 1.9-1.8 8.7 5.7z M420.5 320.7l-2.7 .2-2.3-.4-2.5-1.1 2.4-.3 2.5 .6z M403.2 340.4l-3.8-.7-4.8-2.1 1.1-.9 4.1 1.6z M342.4 352.6l.5-1.7 7.4-.5 4.4 .3-2.6 1.9-8.3 1.4z M402.4 332.8l0-2.3 4.4-8.4 2.3-2.6 .6 1.7-5.5 10.6z M328.3 310.8l1.4-1.2 6-2.2 5.9-1.4 1.9 .4-6.1 3-8.2 2.1z M370.7 338.5l3.2-2.9 4.4-3.7 5.7-3.2-1.9 2.4-3.3 2.7-5.5 3.9z M437.6 339.3l-4.5-.6-5.6-3.5-4.6-3-.6-2.4 6.2 2.3 6.6 3.8z M331.6 300.3l1.2-3.2 2.7 .9 .8 2-2 1.9z M373.6 336.9l-2 .2-1.2-2.5 1.6-1.5 2.3 1.9z M365.7 307.3l1-1.5 2.1-.3 .4 1-1.8 1.2z M451.1 319.3l-2.6-2-2.4-3.7 .4-3.4 1.7-.8 2.4 2.5 1 4.1z M348.5 335.5l-1.6-1.1-.2-3.4 1.4-.3 1 2.9z M352.5 360.7l-.9-.4-.7-1.5-.4-1.2 .4-.6 1 1.2 .9 1.6z M462.7 354.6l2.4-2.7 4.3-3.4-.1 1-3.4 2.8z M355.2 362.4l-1.9 1.1-4-1.2-3-1.6 2.4-1.1 5.5 1z M396.9 355l.9-2 2.1-1.1 .6 1.3-1.4 2.2z M417.9 342.8l-2.3-.4-4.3-3.4-.3-1.9 1.7-.5 5.8 4.4z M441 353.2l-1.3 1-2.9-.2-1-2.3 2.2-1 2 1.2z M384.8 364.7l-1.8-2.2-2.4-3.2-1-2.4 .8 .5 1.4 1.9 1.8 2.9z M331.3 308.9l1.8-1.9 2.6-.3 2.8 .8-.9 2.1-1.6 1.9-2.5-1.2z M433.4 364.3l-.1-1.6 1.2-2.8 .6 .1-.7 3.3z M380 327l-1.9-.5-2.4-2.2 .2-1.1 3.9 2.1z M353.9 346.1l-1.5 .3-2.8-.2-1.1-1.6 1.9-.5 2.4 .9z M445.1 365.8l-2.9 .6-5.8-1.9-5-2.9 .4-2 5.9 1.2 5.6 2.6z M368 287.2l1.5-2.2 3 .3 .2 2-2.2 .5z M358.3 284.8l-5.7 1-5.2-.9 .5-1.8 5.2-.4z M363.2 329l-5.5-1.2-5.8-1.6-.8-1 1.1-.4 7.5 2.2z M312.7 334.8l-.8-1.1-1.1-2.4-1.1-2.8 .6 .6 1.1 1.8 1.6 3.5z M458.4 296.2l-2.3-1.9-2.4-2.4-1.2-2.3 0-1.1 2.5 2.6 1.9 2.4z M419.6 347.1l-.1-1.1 .9-1.4 1.8 0 .3 1.9-1.7 1.6z M468.9 368l-2.9-.9-2.9-1.3-2.6-2 1.4-.1 2.1 .4 3.2 2z M311.1 355.2l-.7-3.6 2.5-4.6 1.6 1.4-.5 4.6z M466.1 346.4l-2.2-5.2-1.1-9.3 1.2-2.1 2.5 11.3z M310.4 319.7l-1-.9-.7-1.4 .4-1.4 .9 .3 .8 .8 .3 1.5z M343.4 285.6l-1.4-1.1-1.5-3.6-.1-2.3 1.6 1.3 1.2 3.6z M323.4 362.9l2.3-1.1 2.8-.2 .4 .6-3.2 1.1z M311.7 357.2l.4-1.7 1.9-3.4 1.8-.7-.2 2-2.6 4.1z M355.2 334.5l-1.8-3.2-.4-7.2 .9-2.4 2 9.3z M434.8 330.5l-4.3-1.1-3.6-4.1 1.9-2.1 4.5 3.2z M392.9 356l.8-1.1 1.6-1.1 1.5-.3 .9 .2-1.3 1.5-2.8 1.4z M348 316.3l1.5-2.6 3.1-2.5 .6 .8-2.4 2.5z M406.3 363l-1-1-1-1 .9-.7 .7-1 1.1 1-.1 1.5z M346.2 287.4l.6-1.1 7.5-.9 2.7 .7-3.6 1.2-6.5 1.1z M409.5 344.1l-1.6-.2-.4-8.6 .3-4.1 1.6 1.6 1.6 10.7z M345.6 358.2l.4-2 2.2-.7 2 .7 .4 2-1.4 1.9-2.6 .2z M356 294.5l-1.9-1.2-.8-2.3 1.2-1.5 1.3-.3 1.4 1.2-.4 2z M443.8 356.3l.3-1.1 4.3-2 3.2-.6-1.9 2-4.3 1.8z M418.7 333.1l-1.8-2.8-1.8-4.7-1.2-4.2 1.9 2.9 2.2 5.6z M439.1 346l.5-1.4 3-3.4 1.9-1.5-1.6 2.4-2.5 3.1z M448.8 346.9l-1.9-2.5-1.3-3.8 .9-2 .9-2.1 1.7 3.3 .1 3.7z M349.5 328.4l.4-1.5 1.6-2.4 2.3-2.3 1 .4-2 2.9-1.9 2.2z M418 297.6l.8-.8 1.5-.4 1.4 .5-.2 .9-1.2 .4-1.5 .2z M388.7 315.1l.5-3.1 1.8-2.8 2.2-3.5 .5 1.8-.1 2.6-2.6 3.6z M456.5 359.7l-.7-3.2 1.2-3.1 1.6 .5-.3 3z M440.9 345.8l-.4 1.1-6-1-2.6-1.3-.1-.9 3-.5 5.5 1.4z M428.3 315.4l-.4-1.5 0-2.9 .2-1.9 .3 .1 .4 1.6-.1 3.5z M413 358.5l-.2-1.5-.1-1.7 .8-.9 .7 0 0 1.4-.3 1.5z M434.1 335.4l-2.2 1.1-2.5-3.8 1.3-3 2.9 1.6 1.1 2.4z M437.4 293.6l1.2-2 3.5-3.4 4.8-3.8-1.2 2.4-2 2.9-3.9 2.7z M367.1 285.1l1.1-2.5 2.7-2.2 1.5 .2-.3 1.5-2.2 1.7z M351.8 356.1l4.3-3.1 8.3-4.3 8.4-3.3-8 5.1-9.8 5.3z M344.5 358.8l.9-1 1.6-1.2 .9 1.3 .9 1.2-1.5 1.2-1.6-.7z M411.4 349.2l0-1.1 .7-3.8 1.6-3.4 .1 1.6-.4 2.6-1.5 4.7z M409.7 292l-2.5-1.7-3.8-6.8 1.4-1 4.3 6.3z M408.5 298.9l3.2-1.4 4.1-1.2-.1 .7-3.8 1.3z M360.2 307.6l-3.7-3.8-2.6-7.8 .5-1.9 5 8.2z M470.3 316.7l-2-3.1-2-4.5-.1-2.2 1.5 .6 2.4 6.4z M430.3 293.4l-4.8-4.4-7.1-9.7-1.3-3.3 3.6 3.5 5.8 7.2z M362.5 356.2l-5.1-.3-5-2.9-2.1-2.1 1.8-1.2 5.2 3.1z M432.2 370.1l1.4-2.5 4.5-4.7 6-6.2-1.7 3.3-3.1 3.9-4.3 4.3z M437.3 351.1l1.8-2.1 3.8-1.9 2.3-.3-5.2 3.4z M328.1 294.6l-2.6-.5-4.7-4.8 1.1-2.2 2.7 1.3 2.5 3.2z M339.5 324.4l.5-1.9 2.4-2.7 1.6-1.1-.4 1.6-2 2.3z M463.3 324.5l-.2-1.9 2.4-1.4 3.2-.8-.3 3.1-3.3 1.3z M388.1 353.6l2.4-.7 5-.3 3.5 .4-3.2 .8-5.8 .3z M446.6 345.2l-2.6-4.5-1.8-4.2 .2-1.2 2.9 5.6z M316.6 342.7l-1.3 1.6-2.1-1.5 .4-2.4 2.6 .4z M459.7 358.8l-.3-1.8 .3-3.7 .4-.6 .1 4.6z M461.2 358.2l-3.2-3.2-3.2-5.8 1.6-.4 3.8 5.1z M326.1 326.5l-1.5-.8-3-3.8-1.5-4.8 1-1.3 3.5 4.5 2.3 5.3z M426.1 363.2l1.4-2.2 5.8-2.6 3.8-.2-3.4 2.7-4.8 2.2z M456 317l-1.6-2.2 .8-3.3 2.1-1.4 1.3 2.2-.5 3.1z M361.9 331.7l-3.2 .9-.3-3.4 1.1-1.8 2.8-1.2 1.3 3.2z M352.7 290.2l-.4-1.7 1.8-2.8 1.8-1.3 2.8-1.3-1.1 4.2-3.1 2.2z M419 347.8l-1.2-1.3 .8-2 1.7 .4 .4 2.1z M360.5 292.4l-.7 .7-4.7-1.4-2.4-1.6-1.4-1.4 4.4 .8 4.1 2z M342.3 323.3l.8-4.2 3.8-7 1.3 1.2-2.9 7.2z M421.8 315.6l1.6-1.1 5.6-1.4 3.6-.5-3.5 1.5-5.4 1.7z M368.4 327.9l1.3-4.1 4.9-4.2 .3 2.1-2.7 4.5z M315.4 362l-.1-2.3 1.2-5 .5 1.1-.5 4.2z M347.4 316.7l4.1-2.2 7.4 .4-.6 3-6.4 .4z M465.7 297.5l-.9-.9-1.3-2.7 1.1 .2 1.6 2.3z M349.3 360.4l.5-3.3 5.4-5 5.1-4-3.8 5.7-3.3 3.7z M462.3 292.4l-.1-1.7 1.8-1.9 1.4-.8 .1 1.5-1.6 2.6z M379.7 310.2l1.9-2.1 3.4-2.6 2.6-1.4-2.3 2.3-3.7 3.3z M403.2 351.9l-1.4-2.7-1.7-7.2 1.5 1.5 1.6 5.4z M458.7 340.7l.6-2 7.3-4 3.8-1.1 1.3 .5-4.3 3-6.2 3.8z M376.9 333.5l.3-2 .7-1.6 1-.9 .1 1.2-.6 2.5z M370.6 315.3l-.8-.9 2.8-6.4 2.3-2.2 2-1.6-1.8 5.3-3.2 5.7z M393.2 360.1l-3.4-1.9-5-3.7-3.6-4.6 4.5 1.8 5.4 5.5z M429.9 289.8l3.2-.9 6.4-.5 1.5 .6-1.9 .7-5.3 .4z M392.5 306.4l-3.7-4.1-4.8-6.1 .3-1.4 1.2-.3 5.8 8.3z M410.7 318l-1.2-.7-.6-2.8 1.5-.5 1.6 .2 .6 3.5z M446.1 354.4l1.2-3.3 1.2-3 3-2.7 1.9 .7-1.2 4.2-3.3 2z M462.8 324.2l-3-4.1-2.8-4-.8-2.7-.5-2.2 3 3.9 2.6 5.2z M423.3 365.2l-4.3-4.2-2.7-5.3-.7-3.6 4.8 7.3z M461.1 357.4l.1-1 3.3-2.9 2.5-1.2 .5 .5-2 2.2-3.7 2.7z M377.7 331.2l-.9-1.4-.4-2.9 0-2.4 .6-.3 1 2.1 .1 3.2z M434.9 320.1l-1.9-.6-1.8-3.5 1.3-1.2 1.8-.6 1.5 4.2z M412.2 308.3l-3.2-.4-3.7-3.1 0-4.1 4 1.1 2.8 3.3z M335.7 352.4l-6.7-.8-9.2-2.1-7.8-2.8 .2-1.1 8.7 1.9 6.3 2z M397.4 289.4l-.5 .6-2.6-1.5-1.9-1.3 2.3 .6 2.2 .8z M380.2 288.5l1.7-2.5 4.8 1.5 .4 2.1-4.9 1z M396.9 354.6l-1.1 0 1.3-5.2 1.7-4.3 .9 .7-.5 4.1-1.4 3.5z M387.1 297l-1.8 .9-2.3-.4 .1-1.7 2.6-.4z M345.2 367.4l-1.9-.8-6.1-5.3-1.8-3.4-1.2-2.5 5.3 4.5 6.2 6.5z M432.9 296.2l-1.7-.8 .9-2.8 1.8-.9 1.7 .2 .9 2.2-1.9 2.2z M318.4 301.9l-.1-3.6 2-8.2 1.9-4.4-.4 5-1.8 7.5z M422.3 319.1l1.2-2.2 2.3-2.5 .9 .4-2.5 3.5z M320.8 292.2l-3.5 0-3.3-.8-1.1-1.4 4.8 .8z M455.4 366.2l1.6-3.4 5.9-1.7 2.8 .6-6.4 4.5z M336.1 356.7l0-2.4 2.7-3.3 3.8-1.2 .7 2.2-.8 3.2-4.3 2.5z M465.5 322.7l-3.3-1.5-2.8-2.4-.5-1.3 4.3 2.7z M319.9 369.3l-2.5-1.7-3.4-3.1-2.8-3.5 1.6 .8 2.4 2 3.2 3.1z M354 287.7l-.4 .6-1.4-1.7-.8-1.2 .1-.7 1.4 1.2 1.8 1.5z M362.8 340.3l-.9-7.7-.7-9.5 .7-7.4 1.2 7.7 .7 11.9z M315.7 342.6l-.7-2.3 1.7-1.5 2.3-.6 .7 2.2-.5 1.6-1.5 2.2z M359.4 361.8l3.3-2 6-2.5-.4 1-4.9 2.3z M468.4 323.5l-1.5-1.3-.6-3.6 .1-1.9 .7-.5 1 2 .4 2.3z M377.4 347.6l-1.6-2.2-.8-1.7 1-1.8 2.4-.5 .8 2.2 0 2z M379.3 334.6l-.5-.7 2.3-.3 1.3 .1 .7 .5-1.5 .8-1.9-.1z M425.5 352.7l-1.6-.4-2.8-4.6 1.7 .3 2.4 2.9z M448.9 352.8l-2.6-1.9-5.2-8.8-4.1-7.8 2.4 1.7 3.7 4.1 4.8 8.7z M462.2 288.8l-3-1.5-2.7-1.8-2.4-2 .3-.5 2.6 1.3 3.8 2.7z M398.7 365.3l-.2-1.3 3.6-1.5 1.6 .7 1.7 .5-2.6 1.6-3.5 1.2z M437.9 348.2l-3.7-2-4.3-2.9-4.8-3.7 2.1 .7 3.2 1.5 4.3 3.5z M427.1 328.7l-1 1.4-3.1-2.9-3.4-3 2.4-.4 2.8 .3 2.2 3z M436.7 300l2.2-1.3 5.4-.8 3.3 .3-1.7 1.5-6.4 .7z M388.7 354l1-3.2 2.2-2.7 .9 .9-1.5 2.9z M373.7 310l-1.1 .4-.5-1.7-.1-1.3 1.3 .4 .8 1.2z M431.6 296.4l-2.5-1.2-3.1-3.3-2.8-3.4 .5-1.1 3.5 2.6 2.4 3.4z M433.2 335.4l-1.1-.9-1.6-1.8-.4-1.7 1.5 1.5 1.2 1.7z M366.2 320.8l2.2-1.8 8.2-.2 .3 1.6-7.7 1.3z M451.2 358.4l-5.2-2.3-5.4-3.2-1.1-2.1 2.4 0 5.4 3.9z M443 363.2l-1.1-.6 1.5-2.3 1.3-1.9 1.3 .3-.6 2.5-1.2 2.3z M313.1 293.9l2.9-2.6 2.2-2 3.4-1.3 1.2 .9-3.1 2.7-3.1 1.1z M317.2 318.1l-1.5-2-1.4-4.1 1.1 0 1.5 3.6z M448.6 305.1l-1.3-3-.4-4.8 .4-3.9 1.3 3.3 .8 5.6z M342.2 288.4l-2.3 .3-5.6-.5 1-.5 4.7 0z M422.5 296.9l4.2-3.1 4.1-3 3.7-1.5-3.6 2.9-4.5 3z M454.7 365l-7.3 .1-6.7 .2-7.5-1.7-.3-1.5 8.4 .1 8.8 1.1z M369 334l-.6 1.3-6.9-4.9-1.6-3-2.4-3.6 6.5 4.7 3.7 3.4z M418.1 354.9l-1.1-.8 .4-1.4 1.3-.8 .4 2z M315.9 345.6l1.8-1.9 5.9-1.8 .4 1.4-5.5 2.6z M447 350.6l-1.2-1.3-2-3.6-2.6-4.7 1.2 .7 2.2 3.5 1.7 3.3z M405.2 313.2l2.1-3.2 2.9-2.2 1.9 .8-3.4 3.2z M363.6 337.1l-1.7-3.5-1.4-4.4-1-3.9 .5-.6 1.7 3.4 1.7 6.2z M438.1 324.5l-1.6-.4-3-8.8-.6-5.2 .4-2.9 2.9 8 1.7 5.8z M438.4 372.5l-2.9-1.9-5.5-6.3-3.1-5.7 2.4 1.4 3.3 2.6 3.1 5.2z M386.5 288.1l.6-2.5 2.7-.7 2.3 .7 1.3 2.1-2.5 1.4-2-.2z M339.3 348.1l-2.9-.9-6.7-3.3-1.6-1.9 2.3 .3 7.8 4.3z M428.7 365l1.4-2 4.3-2.3 1.1 .4-4.2 2.9z M355 367.5l-.2-4.7 1.4-5.6 1.5-1.2 1.3 .9-1.7 7.2z M463.5 340.2l-1.1 1.3-2.9-.9-.2-1.2 2.7 .1z M408.4 348l-1.6 1.4-2.9 1.1-1.5-2.5 .4-2 2.2-2 3 1.7z M371.9 293.7l-6.1-1.5-7.6-2.1-1.5-1.5 3 .3 6.3 2.3z M443.9 338.5l-2-3.8-.4-6.5 1.7 .2 .9 5.3z M368.8 326.3l-3.9-1.2-5.9-2.7-4.7-2.8-.7-1.2 6.3 2.8 5.8 2.9z M392.6 299.1l1.5-1 1.5-.9 1.7 .3 .2 1-1.6 .8-1.6 .2z M482.7 242.8l0-1.6 1.8-2.6 2.6-1.6 1.1 1-2.2 2.6-1.9 2.6z M558.3 276l-1.2-.2-2.9-1.2-1.6-1.4 2.2 .6 3.1 1.4z M519.8 218.5l1.9-4.2 2.7-5.2 1-.6 0 1.2-2.8 4.7z M543.9 250.3l-1.3-3.6-1.2-4 .2-3.8 1.1 1.7 .9 2.1 1 5.4z M487 246l-1.6 .3-2.4-.8-1.2-1.4 2.2 .1 2.3 .5z M525.5 282.1l1.1-1 2.5-1 1.8 .3 .5 .6-2.1 .9-2.6 .6z M495 209.9l-3.6-3-4.7-6.2 .1-2.5 2.8 2.3 3.3 4.6z M482.5 300.9l4.1-4.8 4.7-4.5 5.6-4.7-1.5 2.5-3 3.5-4.1 3.3z M585.8 317l.3-1 1.5-.4 .1 1.5-1 .5z M495.3 307.9l3.7-3.8 6-3.5 2.8-.9-7.8 6z M478 238.2l-.3 .6-3.3-.7-1.9-.8 0-.6 2.1 0 3.2 .9z M525 368.3l-1.3-2.6-.8-4.6 0-2.7 .4-1.5 1.3 3.6 .4 4.4z M485.2 227l2.1-1 3.5-1.3 3.6 .7-1.8 1.3-1.5 1.4-4-.3z M567.1 265.3l-1.8 .6-2.6-1.3-1.7-1.1 .1-1.2 2.2 0 2.9 1.2z M532.5 305.2l-.3-.9 .8-1 .7-.7 .9 .2-.3 1.2-.8 1.1z M535.1 331.6l-.3-1.9-.1-3.1 .2-2.2 .4-1.7 .3 3.7-.1 4.3z M504.5 321.8l0-1.4 .8-3.6 .5-1 .2 .9-.8 3.2z M492.9 240.2l-1.3-1.8-.5-2.9 1.6-2.2 2.3 1.6-.4 3.9z M546.3 207.4l-4.1 .3-3.4-3.2 2-2 3.7 1.3z M496.3 327.9l-.3-2.5 .1-2.1 .8-.8 .7 .8-.3 2.8z M484.8 249.8l-1.4 .4-1.5 0-1.1-.8 0-.8 1.5 .1 1.4 .2z M504.3 342.2l-.2-2.6 1.2-5.2 .5 .7-.4 4.8z M486.9 368.7l-6.1-1.9-7.3-2.8-5-2.9 5.8 1.6 8.2 3.3z M566.2 292.8l1-4.4 1.8-5.1 2.1-3.8-.5 3.7-2.3 5.3z M484.4 331.2l.4-1.7 1.2-1.8 .6 .6-.8 2z M538.7 202.8l-1.3 .7-1.1-3.7 .3-2.4 1.1-1 1.6 2.5 .4 3.3z M515.7 322.3l-2.5-3.4-1.2-5.9 2 0 1.6 4.9z M510.1 222.4l-.7-1 .1-3.9 .5-3.9 .9 0 0 4-.2 3.3z M573.2 288l-1.7-1.8-1.9-3.3-1.7-2.9 0-1.1 2.2 3.1 2.5 4.1z M525.4 321.6l-1.6-.4-2.7-3.1 1.2 .1 2.7 1.9z M562.4 269.3l.3-1 2.3-1.9 1.8-.4-1.2 1.6-2.1 1.6z M583.7 325.7l-2-1.4-4.2-4-2.3-3.1 1 .4 2.4 1.7 3.3 3.9z M525.6 271l-.1-1.3 5-5.5 4.6-4.3-.5 2-3 3.8-4.6 5.1z M521.4 211.9l-1.6-2.2-2.3-5-1.2-4 2.1 3.4 2.2 4.9z M563.7 238.5l-3.1-3.7-3-3.7-3.1-5.1 1.8 1.3 2.6 2.8 4.2 6.1z M555.6 246.3l-1.8-1.9-3.3-4.2-1.1-3.2 .5-.3 2.4 2.7 3.4 5.6z M552.1 348.1l.6-1 3.5-.2 2.5 .4-.3 .9-2.1 .7-2.8-.1z M563 324.4l-1.8-1.7-1.3-4.1 .9-1.7 2.6 5.3z M582.4 300.5l1.1-1.3 1.8-.8 1.7 .7-1.3 1.4-1.7 .4z M572.7 303.7l-2-2.3-2.5-3-1.2-4 1.4 .3 2.1 2.9 1.8 3.7z M576.4 354.9l1.5-4 2.7-4.1 3.5-3.9-1.5 4.3-3.2 5.1z M487.9 329.1l-1.2 .1-2.6-1.2-.7-1.5 1.9 .4 2.1 1.2z M533.3 304l0-.7 3.5-1.9 3-1.6 .8 .3-2.9 2.1-3 1.5z M555.3 368.7l-2.5-1.3-4.7-4.5-2.7-3.3 1.5 .6 2.5 1.8 4.3 4.1z M555 285.7l-1.9-2.8-.6-4.4 .4-1.9 1.4 .4 1.2 5.3z M546.3 335.3l-.2-.8 .2-1 1.1 0 .5 .8 0 .9-.7 1.2z M480.1 360.4l1.4-3.6 4.4-1.9 2.1 1.2-4.1 3.4z M489.2 312.1l-1.3-1.3 1-2.9 1.8-.2 .1 3.5z M531.1 218.8l-1-1.3-.9-3 .6-1 1.2 3.5z M576.9 341.7l1.2-1.1 1.7-.8 1.2 .8 .1 .8-1 .9-1.5-.2z M536.3 358.7l-3.8-1.8-1.5-3.7 1.7-.7 3.2 2.1z M495 330.2l-2.1-.7-1.2-2.5 1-.2 2.1 1.2z M572.8 341.3l.4-2 4-1 2.8 1.6-2.4 2.2-3.4 .7z M524.8 348.5l-2.4 1.1-3-1.4 .3-1.3 3.7-.7z M526.3 258.1l-4.8-.6-4.5-1.5-4.7-2 3.9 .1 5.5 1.9z M478.8 314.3l3.7-2.9 4.7-3.3 3.4-1.3 2.1-.3-4.4 3.3-5.3 2.7z M562.2 305.6l.2-3.1 3-6.6 1.4 .1-2.5 7.7z M567.4 281.5l2-4.3 2-3.4 2.3-2.5-.9 2.9-2.5 4z M533 357.4l-2.1-1.6-2.9-3.8-.8-2.1 1.3 .2 4 5.1z M483.9 271.4l-5.5-3-5.5-4.2 1.1-.8 6.4 3.9z M503.1 233.1l.8-1.6 1-1.8 2.3-1 .7 1.2-1.3 1.9-1.9 1.2z M509.1 264.7l.6-1.1 3.4-.9 3.3 0-3 1.6-3.7 1.4z M532.2 291.9l.5-3.3 2-5.5 .7 .7-1.5 6.3z M490.1 216.9l-2.1-3.2 .5-4.2 1.8 .8 1.2 3.1z M496.7 318.1l-1.3-1.2-1.9-2.8 .7 0 2.1 2.4z M554.3 312.9l.9-2.4 1.8-2 2.3-2.3-.2 1.9-.8 1.6-2 2.8z M488.4 341.6l.6-2.5 1.9-3.7 2.3-1.9 1.1 .2-.9 3.1-2.6 2.4z M569.8 342.9l-3.2 .7-5-.4-2.3-.6 1-.8 6.4 .3z M496.6 246.9l-1.7-.5-2.6-2 0-1.3 1.4 .1 2.7 2.2z M476.6 246.3l-.1-2.1 1.2-3 .4 1.2-.3 2.2z M551 369.2l-.4-1.9 0-4.7 .6-2.7 .2 3.8 .2 4.4z M550.6 277.2l-3.8-1.8-5.6-4.1 .9-1.2 5.9 4.1z M520 292.4l-.3 .9-2.3-.7-1.9-.9 .6-.7 1.7-.3 2.8 .7z M552.7 225.2l1.2-.8 4.2-1 1.3 .2-.5 .7-4 .7z M497.6 263.3l.1-3.8 4.1-4 1.6 2.1-2.5 3.6z M500.4 332.2l-2.1-.9-4.8-4.5-1.2-1.9-1.1-1.9 3.4 2.6 3.4 3.7z M524 366.4l3.1-5.3 7.3-7.2 .7 1.2-5.6 6.3z M491.6 290.1l-1.8-1.6-2.1-3-.4-1.9 1.7 1.5 2 3z M540.5 288.3l1.2-1.4 4-1.9 2 .3 .7 .6-2.1 1.5-3.4 .8z M492.9 319.8l1.4-.8 2.7-.8 .7 .7-3.5 1.3z M565.3 303.7l1-2.2 3.2-2.2 2.2-.4-1.3 2.1-2.8 2.5z M499.4 268.4l-1.5 .6-2.8-1.1-2.9-2.2 .1-2.1 4.1 .7 2.1 2.5z M492.5 247.8l1.9-2.1 2.2-1.2 1.7 0-.7 1.5-2.4 1.7z M536.4 283.8l1.2-1.3 3.7-1.7 3.1-.8-1.9 1.7-3.9 1.5z M520.2 228.2l-3 1-2.6-1.5-.9-3 2.9-1.5 2.1 2.3z M562 316.5l.5-.6 2.2-.9 1 .5-1.1 .8-1.9 .4z M525.5 306.2l.3-1.8 2.5 0 .5 1.7-.5 1.5-2.5 .6z M518.8 321.6l-2.1-1.2-2.7-1.7-.8-.9 1.5 .7 2.9 1.7z M555.7 345.1l1.5-2.4 3.5-3.1 3.1-2.7-.6 1.4-1.8 2.1-2.9 2.8z M575.3 365.7l.5-1.2 3-2.2 3.3-1.6-.9 1.5-1.9 1.5-2.7 2z M579.9 319l-3-1-3.9-2.7-3-2.5 2.9 1 4.1 2.8z M517.2 312.7l-.2-.8 2.4-2.2 1.5-1 1.3-.3-1.9 2.3-2.5 2.5z M492.2 353.4l-1.4-.2-.1-1.6 1.1-1.4 1.6 1-.2 1.5z M582.9 290.6l-2.1-.5-3.7-5.2 .3-1.5 5.2 5.1z M527.6 320.1l-2.3-3.4-2.6-5 1.4 .9 2.6 4.1z M475.8 208.6l.9-.8 4.1-1.4 4.3-1.3 .3 .6-4.1 1.7-4.7 1.5z M500.3 213.8l1.6-1.9 4.3-1.6 1.4 1.1-4.9 2.4z M550.3 368.7l-2.5-4.8-2.3-6.5 .9 .4 2.4 5.5z M502.6 341.8l.6-1.9 1.9-1.9 .4 .4-1.2 1.9z M516.5 271.1l-.7 .7-3.4-2.8-1.7-2.3 2.8 1.3 3 2.1z M485.5 316.8l0 .5-2.7-.3-1.5-.3-.7-.4 2.3 0 2.5 .1z M513.7 264.5l-1.8-2.2-2.9-4.1 .7-.3 3.2 4.4z M574.1 290.9l-1.2-1.5-1.4-4.2 1 .6 1.3 2.9z M563.2 335.8l2.2-.6 2.8-.2 1.9 .1-1.4 .5-3 .2z M584.8 339.2l-3.8-2-3.1-2-.9-1.8 2.2 .5 3.6 2.4z M522.1 359l-3.1-.5-3.1-.9-4.1-1.9 2-.3 2.6 .3 4.1 1.7z M517.3 269.5l1.3-2.1 4.6-2.8 .6 .9-4.2 3.7z M538 363.7l-1.2-.6-2.2-2.3-1.6-2.3 1.8 1.3 2.5 2.6z M524.5 296.5l2.9-3.8 4.9-3.8 2.2-1 .1 1.4-6 5z M553.5 310.6l-4.7 1.2-4.9-.8-.5-1.7 5.4 0z M520.6 250.5l1.2-2.3 1.7-3.1 1.7-1.7 1.3-1.1-2.5 3.8-1.7 2.6z M556.4 362.8l-.8-1-.8-2 1-1.4 .8 .1 1.2 1.2-.5 2.3z M505.6 245.4l0-.9 2.5-4.6 .9-.5-.1 1-2.1 3.5z M529.3 329l-.4 .4-3.4-1.4-2-1.2 2.3 .4 3.2 1.2z M528.6 281.8l-3.1-.9-4.9-2.6-2.3-2.1 3.4 1.2 4.7 2.3z M471.8 336.9l-.8-4-.1-8.5 1 1 .9 8.6z M530 248.4l-1.9 .5-2.8-1.1 .8-1.5 3.2 0z M526.9 245.4l1.8-1.2 3.2-1.2-.3 1-2.8 1.4z M508.3 305.9l-2.4-1.1-1.1-3.4 .4-2.1 2.1 .4 1.4 3.5z M553.2 355.6l-1.7-1.9-1.3-3.1-.9-3.2 1.8 2.5 1.7 3.3z M497.6 249.2l-1.1-1.3 .7-1.7 .7-.8 1.3-.5 .5 1.7-.7 1.8z M473.1 295.9l-1-2.3-.8-8.2 .6-1.9 .9 2.9 .9 7.1z M502.1 305.8l-.3-.2 3-2.6 2.7-1.9 .3 .4-2.7 2.3-2.1 1.6z M478.1 298.6l-2.6-3-2.4-5 1.9 .1 3.2 4.4z M513.4 209.5l.3-3.4 1.6-6.7 .6 .9-1.3 6.1z M563.7 242.4l-1.8-.6-1.9-1.3-1.7-1.5 1.7 .4 2 1.5z M526.9 323.6l-.5-1.5 0-1.7 .5-.9 .4 1.1 0 1.4z M562 297l1-1.7 3.5-1 4.1 0-2.7 2.5-4.2 1z M553.2 358.3l-.2-2.5 .1-3.7 .6-.4 .3 1.2-.2 2.8z M571.7 284.4l-2.1 .7-3.3-1.2-2.5-1.9 1.9-.7 1.8-.5 2.9 1.6z M518.4 354.4l.7-1.6 .8-1.9 2.2 .5 0 1.9-.4 1.4-1.7 .8z M501.9 264.1l-2.8-3.1-3.3-4.8-1.6-4 3.2 3.5 2.4 4.3z M528.8 240.2l-2.1-.5-5-2.6-3.5-2.1 .3-.4 3.4 1.2 4.3 2.5z M576.1 284.4l-5.8-1.1-6.4-2.3 0-.8 7.9 1.9z M523.5 334.2l-1-3.3-.8-4.2 1.5-1.9 1.6 1.9-.4 4.3z M499.5 229.5l1.2-2 3.3-4.3 3-2.7-1.7 3-4.2 4.9z M511.2 215.9l.2-1.1 1.6-2.1 1-.8 .7-.3-1.2 1.8-1.4 1.9z M470.9 222.4l.6-4.6 1.4-4.7 .9 .4-1.1 4.4z M542.2 202.1l-2.9 1.4-4.9-.3-2.6-1.2 1.9-1.6 5.8 .1z M492.7 335.7l-1.1 .1-1.7-.2-.2-1.5 1.5 .1 1.3 .4z M541.7 211.2l-.7 1-3.1-1.5-1-2.1 .2-1.4 2.7 1 2.2 2z M543.5 300.9l-1.9 1.1-5.6-.6-3-1.8 1.4-.9 2.5-.6 3.5 1.3z M586.5 342.3l-1.6-1.1-1.6-2.1-.7-3.3 1.8 .7 1.9 .9 .5 3.1z M583.1 303.9l-1.1-.5-1.6-2.8-1.4-2.8 2 2.3 2.2 2.8z M497.7 353.9l-1.3-.4-2.3-2.1 .4-.4 2.4 1.6z M535.9 284l-2.8-1-3.2-2.6 .5-.9 3.3 2.2z M540.2 204.1l-.6-1.9 1.7-3.5 1.1 1.8-.1 3z M519.7 335.6l1.9-1.2 3.8-.5 3.5-.2-.9 1-2.5 .7-2.5 .3z M586.1 307.5l-.5 .5-5-1.9-4.7-2.7 .4-.9 5.2 1.8 3.9 2.2z M581.4 333.8l-1.2 0 .3-2 .5-1.9 1.2 .5 .4 1.5-.3 1.4z M484.2 287.1l-.9-1.9 .9-3.1 1.3-.4-.3 3.4z M519.2 207l3.7-3.8 6.9-3.5 0 2-5.6 4.1z M573 353.3l-1.6-.2-2.4-1.2-1.4-1-.2-.7 2.1 .9 2.1 1.1z M516.8 339.1l-1.4 .7-4-.4-1.2-.7 1.6-.4 2.9 .2z M508.4 314l-2.1 .3-3.6-.6 .7-.4 3 .1z M482.7 319.6l-1.3 .3-1.8-.5-.3-.8 .7-.6 1.8 .7z M555.4 355.6l-.8-.3-1.4-3.2 0-1.5 1.1 1.2 1.5 3.2z M478.4 275.7l0-2.4 3.8-6.1 1.6-1.1-3.5 8z M549.6 312.9l-1.6 .3-2.5-.2-2-.3-.9-.6 2.9 .2 1.9 .1z M581.3 319.8l.2-1.5 1.3-2.9 1.3-1.1-.4 2-1.3 2.6z M524.8 289.8l-.1-2.1 1.3-1.9 1.3-.5-1 2.9z M550.2 241.5l.1-1.9 1.6-2.7 2.3-1.2 1.6 .4-1.5 2.9-2.4 2.6z M565.8 307.7l1.3-1.8 2.9-3.1 2.6-1.5 0 .8-1.9 2.2-3.1 2.7z M523.7 260l-.5-.8 .9-2.9 1.2-1.7-.1 2.1-.7 2.8z M568.8 346.6l-3.5-2.5-2.7-2.3-.9-1.6 4.4 3.5z M557.8 344.5l-1.6 .1-2.2-.3-1.2-.7 .9-.4 3.1 .6z M473.5 278.4l-1.3-1.8-1.9-5.7 .4-1.6 1.2 1.1 1.8 6z M564.7 335.7l-2.7 .3-4.9-1-.7-.7 5.9 .4z M486.8 318.4l-1.1-2.2 1.2-5.7 1.5-4.3 .4 4.7-.7 4.3z M478.8 303.4l.4-1.2 .8-1.3 1.5 .3 .4 .9-.3 1.4-1.9 1.1z M574.2 315.7l-1.3-1.7-1.4-3.3-.7-2.1 1.3 2.1 1.1 2.3z M588.8 321.5l-.6-.7 .2-4 .6-2.7 .4 2.7-.2 3.4z M512.2 267.1l4.1-2.4 7.2-2.5-2 1.9-4.8 2.3z M505 270l.7-.9 1.7-.8 1.1 .3 .6 .4-1.4 .8-1.5 .3z M542 329.4l1.3-2.7 1.8-2.2 .6-.3-1.8 3.1z M491.3 258l-1.5-.8-1.9-2.7 .5-.2 2.3 2.1z M539.9 335.9l-1.9-1.7-3-3.9-3-5 1-.3 3.4 4.6 2.3 3.6z M548.2 300.2l.9-2.8 2.5-3.6 1.7-1.1 0 1.4-3.1 4.7z M548.8 271.7l-.1-5.2 1.5-7.6 1.4-4.7 .5 3.3-1.6 10.1z M562.2 259.6l.4-1 5.3-.6 2.6 1.1 .1 .9-2.8 1.1-4.2-.8z M512.6 215l-5.4 .2-7.9-.6 1.5-.7 6.4 .3z M527.2 277.3l-1-2.8-.3-6.7 .9-3.9 1.1 4.1 .3 6.9z M538.4 224.3l-.8-.9 .5-2.9 .7-1.5 .7 1.3-.4 2.5z M475.5 268.5l2.3-2.8 4.1-2.8 .8 .8-4 3.7z M558.8 288.4l-1.3-.2-1.6-.7-.1-1 1-.5 1.3 1.2z M488.8 347.8l-2.5-.9-5.1-2.7 1.3 0 4.2 2.1z M536.8 307.1l-1-1.5-.9-1.4 .4-2.1 1.6-.3 1.1 1.9 .1 2.4z M481.1 296l-.3-1.3 1.1-2.6 1.1-.6 1 .6-1.8 3z M471.1 219.9l.1-1.2 4.3-1.6 2.7-.5 3.2-.1-4.7 2.5-4.4 1.3z M545.4 275.4l-.9-1.8 1.3-2 1.5-1.4 .4 2-.2 2.6z M499.3 276.1l1.2-2.2 4.6-3.6 1.3 .3-5 5.3z M559.7 346.4l.7-.6 1.5-.9 1.6 .1-.2 .7-1 .9-2.2 .3z M550.3 269.6l1.7-3.3 2.5-4.1 1.8 .3-.4 2.2-2.6 3.1z M542.7 261.9l-.1-3.4 1.6-5.7 1.8-2.8 1.3-.7-1.1 4.6-1.4 5.6z M514.2 349.3l-2.2-2.9-2.5-5.4-2.5-6.2 1.5 1.1 2.6 3.8 2.4 6z M540.5 242.3l-.1-1 2-3.1 3-2.9 .4 1.1-1.9 3.2-2.2 2.1z M486 325.2l1.7-1.2 5.9-1.5 2 .5-3.1 1.3-4.1 1.1z M511.8 343.5l-.5-1.3-.2-2.6 1.1-1.2 .5 2 .1 2.3z M493.5 355.3l2-5.4 2.3-3.9 .8 .2-1.8 4.6z M482.7 271.8l.5-1.8 1.4-1.8 1.5 .4 1.3 .3-1.4 1.5-1.3 .9z M561.8 344.6l-.3-1.2-.1-1.4 1.4-.4 1 .6 .8 1.4-1.3 1.5z M507 217.3l-1.8 .2-2.1-1.8-.8-1.7 1.8-.2 2.4 1.7z M499.8 319.5l-2.5 .3-1.6-3.2 2-1.3 2.1 2z M577.6 292.3l.5-2.5 2.6 .5 1 1.8-.9 1.7-2.4 .9z M569.5 319.8l-2.8-.3-4.4-2.7 .5-1.2 5.6 1.9z M533.4 345.7l-.3-2.6 1.7-5 1.5-1.7 1.9-2.2-.5 4.5-2.4 4.5z M473.2 339.9l.1-3.2 1-4.9 2-2.2-.1 3.5-1.4 4.4z M532 204.3l-2.1-.9-1.5-2.3-1.1-2.3 2.1 1.4 1.4 1.6z M714.5 212l.3-.7 4.7-1.1 5.1-.8-1 1-3.3 1.4-5.5 .8z M629.3 233.6l2.4-1.4 4.6-2.1 2.4-.2 1.3 0-3.6 1.7-4.5 1.5z M666.9 263.3l.4-2.3 2.1-3.2 1.9-2.3-1.2 3-1.4 3z M737.9 210.3l-.9-.5 .2-1.5 .9 .3 .7 1.1z M661 258.8l-1.3-1.9-.9-3.2 .5 0 1.8 3.1z M683.1 298.3l-2-2.8 .2-2.9 2.5-.9 1.1 3.6z M714.5 289l2.4-.9 3.4-.7 3.8-.1 .1 .9-3.5 .9-3.7 .2z M712.2 242.1l-1.9 1.1-3.8-.7 .3-2.3 4.6-.5z M728.4 302.3l-1.5-3.5-.6-7.2 1.2-.4 1.6 7.5z M633.9 299l-1.1-.2-1.1-.8-.2-1 1-.4 1.1 1.3z M750.2 308.3l-.7-.8-1.2-3.2 0-2.4 .7 .3 1 1.9 .7 3.5z M588 293.9l1.9-1.8 2.4-1.7-.4 1-1.5 1.3z M599.4 251l-1.9 1.2-6.3-1.1-3.4-1 2.6-.9 6 .6z M728.1 275.5l.5-2.1 1.1-3.2 1.3-1.1-.3 2.2-1.3 2.7z M630.5 266.1l.4-5.1 1.4-5.6 .6 .6-.7 6z M636 292.7l2.1-1 5-1.7-.8 .9-4.1 1.4z M708.9 268.2l2.9-2.2 3.6 .5 .3 3.4-3.7-.2z M618.2 290.9l-.9-1.9 .4-4.7 1-4.4 .9 3.7-.3 5.5z M737 211l-1.2-1.6-2.2-4.4 .8 .1 2.4 4.2z M631.2 231.4l-2.9 .9-5.4 .4-.4-1.8 1-1.4 5.5 .4z M686.8 274.8l-.9-1.3 .7-1.6 .8 .3 .3 1.4z M639.1 245.6l.2-1 1.6-3.1 .9-1.1-.3 1.5-1.5 2.5z M748.5 243.1l-3.1 0-2.4-.5-2.7-1.5 1.6-.9 1.9-.6 2.6 1.5z M709 308.6l-.5-.4 2.9-5.2 2.5-3.9 1.4-1-2.8 5.5-2.3 3.8z M608.6 209.3l.2-1 .7-2 .8 0 0 .9-.9 1.9z M666.4 219.3l0-2.5 .8-4.5 1.9-1.1-.2 3-.9 3.9z M705 236.6l.8-1.6 1.7 .4 .8 .9-.6 1-1.5 .5z M632 263.1l-1.5 .1-.4-2 1.1-1.2 1.2 1.9z M636.9 272.4l-1.1 .6-1.3-1 .9-.9 1.3 .2z M691.8 232.1l-3.6-.2-4.5-.5-3.5-1.2 .3-.6 3.7 .2 4.3 1.1z M752.3 262.3l-.6-.6-.4-1.5-.2-1.9 .7 .2 .7 1.3 .2 1.8z M660.2 204.6l-1.2-.4-1.3-3.1-1-3.2 1.4 1.2 1.4 .9 .6 2.8z M599.9 236.1l-.3-1.5 .3-4 .6-2.2 .4 1.7-.5 4.2z M643.7 271l.2-1.8 2.8-1.8 1.2 1.4-2.4 2.6z M615.8 286.4l-1.6 0-1.8-.7 0-2.1 1.5-.8 2.2-.3 .2 2.3z M672.6 204.1l-1.4 .5-1.3-1.8 .7-1.9 1.5 .2 1.1 .7 .6 1.7z M742 227.9l-.2 1.1-1.3 .1-.8-.9 .2-1 .8-.8 1.4 .3z M656.7 289.3l-.7-2.6-.1-3.7-.1-3.7 .7 .1 .6 3.1-.1 3.3z M661.5 256l-2.4 1.5-5.5-.3-.9-1.7 1.2-1.5 4.9 .5z M596.7 266.6l2.4-2.6 7.5-4.5 4.2-1.4-3.7 3.3-6.4 3.8z M633.3 296.1l-2.5-5-2.2-6.5 1.2-.8 2.2 6.7z M650.9 291.5l1.4-2.2 2.5-.9 .9 1.1-2.2 2.4z M702 238.9l1-3.7 1.5-5 2.6-4.8 0 2.1-1.2 3.8-2.1 5z M609.3 284.7l-.9 .4-2.2-.8-.6-.9 1.1-.3 2.1 .7z M638 233.8l4.3-2.4 4.2-2.4 3.3-.6-3.7 2.3-4.3 2.2z M617.7 210.7l-1.3 .3-4.5-1.4-1.7-1.4-.5-.8 3.2 .9 3.4 1.4z M596.6 213l-1.9-2.8-1.5-3.9 .6-.1 1.9 3.6z M694.9 278.6l1-1.2 3.4-2.1 4-1.6-.9 1.3-2.4 1.7-3.3 1.6z M649.1 244.6l-2.1-.4-1.4-3-.9-2.9 1.5-.9 1.7 2.7 .9 1.9z M618.7 202.6l3.9-1.8 3.6-1.4 .8 .2-4.4 1.8z M601.7 240.8l-.3 .7-3.7-2.1-2.2-1.9 .9-.1 2 .4 4.2 2.6z M635 220.4l-2.8-.5-2.4-.2-2.5-1.2 1.5-.1 1.7 .2 2.5 .7z M741.4 261.3l-2.6-1.6-5.3-4.4-3.2-3.7 5 3.7 4 3.4z M603.7 304.5l1-2.4 2.4-3.5 2.9-3 .9 .3-2.8 3.9-2.6 3.5z M736.2 298.8l.5-1.2 3.2-1.9 3.6-2.1-.4 1.1-2.1 2-2.8 1.3z M738.3 256.9l-.7-1.2-.3-1.9 .7-.6 .7 .5-.1 1.7z M661 212.8l-1.3 0-1-1.8 .9-1.3 1.6 1.8z M611.9 218.6l.2-1.6 1.8-2.7 2.1-2.8-.1 1.5-.4 1.9-2.6 3.8z M759.9 266.8l-1.3 1-2.5 0-.8-1.3-.5-1.3 2.1 .2 2 0z M706.8 233.5l.4-2.2 3.2-4 3.2-4.1 1.2 0-2.7 4.7-3 3.5z M324.3 398.4l1.9-1.8 6.7-3.1 5.2-1.9-1 1.2-3.8 2.1-6.2 3z M391.5 399.8l-2.1 .1-3.4-1-1.4-1.1 1.2-.6 5 1.4z M350.7 405.8l-1.6-.4-4.1-2.6-1.6-1.8 2.2 .6 4.8 3.1z M392.3 440.7l-2.4-1.4-4.7-5-.6-1.7 1.3 .3 4.6 5z M347.6 413.1l-2.1-1.9-2.9-4.2-.8-2.6 5 6.4z M393.9 396.9l-1.1-.7 5.3-2.9 2.9-.2-.2 1-1.7 1.8-3.9 1.1z M389.6 427.4l0-4.2 1.3-7.3 1.4-3.1 .2 3.7-1.4 7.4z M317.5 435.1l-2.1 .1-2-.9-.4-1.8 1.7-1.6 3 1.9z M379.8 425.5l3.2-3 4.4-2.9 5.7-3.9 .2 1-4.3 3.7-6.3 4.1z M350.3 419l-3.1-4-4.2-7 .1-1.6 2.1 2.6 3.5 5.6z M353 418l-.2-1.7 1.1-2.3 1.9 .5-.9 3.1z M364.4 419.1l1.7-1 3.3-.3 .3 1.7-3.8 .9z M336.4 414.2l.1-1.6 1.3-2.1 1.2-.6-.4 1.6-.9 1.5z M395.8 435.2l-2.2-2.9-1.7-2.1 .7-1.9 .8-2.5 2 3.1 .8 3.2z M393.5 441.8l-2.9-1.2-4.2-5.6 1.7-.7 3.9 4.3z M343.3 424l1.9-1 3.1-.6 1.7 .5 0 .6-1.5 .9-2.5-.2z M353.3 418.1l-1.1-1.7-2-4.7 1.3 1.5 1.8 3.4z M335.7 426.7l-.6-1.4-.7-3.9 .2-1.5 .6 1.6 .8 4.1z M390.1 416.8l-1.2-.7-1.8-1.6-1.9-2.3 1.2 .5 1.5 .7 1.9 2.4z M376.7 409.3l.4-1.1 1.3 .6 0 1-1.1 .4z M321.9 407.8l1.5-2.1 3.3-1.3 1.9 .7-1.6 1.7-2.2 1z M318.2 417.3l-.9 .7-1.6-.5-.6-1-.5-1.1 1.7 .1 1.8 .6z M390.1 434.5l-1-.6 .3-1.6 .7-1.3 1 1-.1 1.9z M375.6 431.1l-3.7-3.2-2.6-4.8 .1-2.1 4.4 5.6z M387.5 420.8l0-1 1.9-4.3 1.6-1.8 0 .8-.8 2.1-1.8 3.7z M326.6 416.8l-.7-.4 .2-1.2 .9-1 .6 1.2-.2 1.3z M394.9 439.7l-1.4-2.4-2.1-5.3 .9 .5 1.9 4.4z M320.8 428.7l-1.8 .5-1-3.1 .3-1.8 .8-2.5 1.7 3.2 1.7 2.9z M385.8 406.1l.8-1.2 2.4-.2 0 1-1.8 .8z M328.2 402.4l-.9-.4-1.7-1.8-.2-.8 .7 .3 2 2z M348.9 395.5l2.4-.9 3.5 .3 1.6 1.3-5.5 .5z M333.6 414.3l-1.5-.4-2.2-1.4-2.2-2.1 .6-.7 2.5 .7 3.4 3z M381.1 402.5l-.5-1.1 2.9-5.9 2.2-3.3 1.6-1.1-2.2 5.3-2.3 4.1z M380.6 410l2.9-4.8 5.2-5.5 1.5 .3-5.3 6.3z M312.3 437.9l1.4-2.3 2.9-1.5 3-.7-1.8 2.4-2.6 1.5z M327.1 406.5l.8-1.2 5.6-.5 2.3 .8 2.8 1-5.1 .8-5.9 .4z M372.7 419.2l-1.7 .7-2.9-.2-2.9-.8 2.1-1 3.6 .5z M373.7 407.4l-1-1.1-.8-4 .9 .3 .8 3z M331.1 413.2l-.6 0-2.2-1.3-1.4-1.1 0-.3 1.8 .8 1.9 1.3z M357.4 408.9l1.6-2 3.4-.3 2.5 .5-1.6 1.7-3.8 1.3z M319.9 397.4l-3.2-.4-1.1-3.3 1.5-1.1 2.9 1.6z M394.8 413.9l1.1-1.6 1.8-1.3 2.2-.4-.1 1.2-.8 1.6-2.4 .8z M323.3 396.9l-1.3-.9 .6-2.2 1.8 0 .8 1.3-.7 1.4z M323 396.4l1.7-1.4 2.5-.8 .5 1-2.6 1.4z M377.9 422.7l-3.3-3.1-3.3-6 1.2-1.7 3.9 6.4z M342.5 402l-.8-.5-2.2-5.3-1-3.1 .6 .2 1.4 2.6 2.5 5.5z M314.3 406.9l-1.6-.3-3.1-2.7-1.4-1.6 1.7 .4 3.7 2.6z M314.7 402.1l.8-2.7 4.2-3.5 1.8 .2-4.1 4.9z M394.4 416.9l-1.2-.2-1.3-.6-1.3-1 .5-.2 1.2 .4 1.7 .8z M309 404.1l.2-1.4 1.9-1 2.2-.5-.5 1.9-2.3 1z M367.6 423.8l-.3-.9 1.6-1.5 1.4-.2 .6 .5-1 1.2-1.2 .8z M325.2 431.6l-1.5-1.1-1-2.5-.6-2.7 1.3 .4 1.3 1.4 .7 2.5z M342.9 421.5l-1.4-.1-2.5-1.8-1.7-1.6 .1-.8 2.2 .6 3.2 2.6z M383.1 418l-1.2-.2-.8-1.3 .6-1.4 1.4-.1 .7 1.1 .6 1.4z M317.6 425.3l-2-1 .1-2.4 1.7-.6 1.3 2.1z M373 401.3l1.7-1.2 3-.3 1 .5-3.4 .9z M350 401.3l-.8-.8 1-1.6 .7 .7 .3 1.5z M376.9 406.7l-1-2.7-.6-3.4-.2-3.8 .8 1.2 .9 2.1 .1 3.7z M391.4 406.9l-1.1 .1-3.7-1.8-3.5-1.9 3.9 1.2 4.1 1.6z M309.5 443.5l1.7-1.6 6.1-3.3 4-1.3-3.5 2.5-6.7 3.7z M365.6 413.4l-4.2-1.8-5.6-3.2-2.8-2.5 4.1 1.8 6.1 3.3z M346.6 428.7l-1.5-2-1.3-3.9-.2-2.2 1.4 1 1.4 4.5z M357.2 397.3l-2.8-1.4-6-4.9 1.3 0 5.5 3.9z M314.9 401l1.4-3.3 3.6-4.4 1.6 .6-3.7 5z M391.1 398.2l-.7-1.9 1-5.1 1.4-1.8 1.1 1.7-1.2 6.5z M356.6 406.5l2-1.2 4.8-.7 3.6 .4-3.7 1.3-4 .5z M383.4 433.7l-.9-1.6 1.1-3.1 2.2 .6 1.2 1.7-1.6 2.7z M346.7 400.1l-1.6 .8-6.9-.2-1.2-.9 1.8-.7 5.3 .4z M385.3 418.4l-3.2-.7-6.2-2.3-2.7-1.8 .4-.4 2.9 .4 5.5 2.8z M396.7 431.7l-.5-3.9 1-7.4 1.2-3.7 .6 3.3-1 6.8z M388.1 432.3l-1.4 1.2-4.1-1.5-2.2-2.7 1.5-1.2 2.8 0 2.5 2.4z M373.7 410.9l-2 .2-4.4-2.2-2.7-2.2-.6-1.5 4.5 1.9 3.8 2.1z M320.8 413.2l.1-2.1 1.2-1.9 2.6 .2 .9 2.2-.5 2.3-2.4 0z M329.1 411.6l-.5-.4-1-2.5-.8-2.7 .7 1 .9 1 .5 2.3z M327.5 407.2l-3.7-4.7-2.6-4.2-.3-2.2 1.9 1.7 2.6 4z M336.8 429.3l-5 .1-6.1-2.2-1.3-1.4 7.9 1.2z M342.8 412.4l-1.6 0-4.5-2.2-3.8-1.9 1.4 0 2.5 .5 5.2 2.4z M316.8 424.6l-2.4-3.4-1.2-4.4 1-.6 1.7 4z M319.3 423.4l-2.7-1.1-5.9-4.5-3.6-3.6 2.6 1.2 2.6 1.5 4.1 3.4z M370.4 414.6l-2.2-2.5-3.6-7.4-2.7-5.5 1.4 1.3 2.3 2.5 3.9 8.1z M334.2 425.6l.9-3.5 1.5-3.4 1.7-1.4-.5 2.6-1.4 3.8z M372.2 420.7l.9-1.4 1.2-.5 1.2 .8-1.5 1.4z M319.5 434.5l.8-1.1 1.9-.8 1 .5 1 .4-1.7 .7-1.3 .2z M373.4 409l-2.9 .8-4.3-1.7-4.7-1.6 .9-1.6 4.3 .7 4.8 1.2z M364.6 412.5l-3.8-1.4-4.1-1.8 .1-.9 .7-.6 4.1 2.5z M368.4 407l-.9-1.6-.8-4.3 .3-3.6 1.1 4.1 1.1 4.6z M392.3 427.2l1.4-1.8 3.7-3.3 3.4-2-.7 1.2-1.4 2-4.2 2.8z M402.7 417.3l.7 1.1-7.1-.4-4.1-.5 .2-.7 3.5-.7 5 .7z M384.3 430.6l.5-1.9 3.2-2.9 2.2-1.5-1.1 2.2-2.5 2.5z M389.6 432.3l-1.9 .3-3.4-1.3 .6-.5 3.1 .4z M347 415.6l-1.5 .4-2.9-1.2 0-1.9 2-.1 2.7 1.2z M325.3 408.1l-1.2 0-2.8-2.2 .1-.7 .5-.5 2.9 2.2z M327.4 403l-.2-1.6 .7-1.7 1.2 .7-.5 1.5z M342.8 405.9l-1.5-.8-4-4.9-3.1-4.7 .5-.5 3.9 4.7 2.4 3.3z M360.7 427.5l-.3-2.4 .5-3.3 .7-2.7 .1 2.6-.2 3.7z M376.3 426.1l-1.6-3.5-.6-6.9 .2-3.4 1.2 2.5 1 6.5z M368.3 427.8l-1.2-1.1-.5-4.3-.2-4.4 1.3 1.3 1.2 2.4 .2 4.4z M342.6 402.2l-1.6-1.3-1.5-3.1 0-3.7 1.7 1 1.2 2.3 .8 2.8z M387.2 401.9l-4-.7-4.9-1.6-2.2-1.6-.9-1.1 3.9 1 4.5 1.9z M383.8 427.4l-2.4-3.5-1.7-3.4 .5-.2 2.3 3.4z M344.1 413l1.8-1.9 3.7-1.1 1.1 .8-4.4 2.8z M363.1 421l2.1-2.5 3.7-2.2 1.6 .4-.2 1.6-4.1 2.3z M397 422l-2.7-4.8-1.4-6.5 1.5-.1 2.7 6.2z M385.9 419.4l1.8-.8 3.2 0-.5 .8-2.7 .6z M330.1 404.6l-1-3.5 1.6-5 1.9-.6-.8 5.7z M343.5 423.7l-.6-1.6 1.4-1.7 2-.4-.2 2-.9 1.9z M385.7 406.1l-.5 .7-2.6-1-1.7-1.2-.1-1.1 2.6 .6 2.1 1.1z M383.6 425.1l-2.5-.5-3.7-4.1-1.1-3.3 3.1 .9 3.7 4.4z M342.3 420.7l-.9-1.7 1-6.7 1.3 .2-.2 6.6z M347.6 406.9l1-.6 3.3-1 2.3-.5 1.6 0-3.6 1.2-2.7 .7z M468.6 458.6l-1-1 2.5-2.3 2.1-.5 1.4 .4-1 2.6-2.8 1.2z M490.7 427.8l-2.1 0-4.4-.7-1.6-1.7-.7-1.1 3.5 .4 5.4 1.9z M505.6 487.1l2.9-3 7.7-4.5 8.2-3.6-.1 1.9-7.4 4.5-7 3.6z M488.9 485.5l-.8-1.9-.8-5.9 .7-4.2 .9 .5 1.1 3.4-.3 7z M491.7 477.1l-.9-.7 1.2-4.9 .9-2.3 .6 1.8-.8 5.1z M468.1 479.2l-1.7 1.7-2-2.7-1-2.8 2-1.2 2.3 1.3 2 2.3z M430.1 397l2.5-1.3 2.8-1.2 1.7 0 .5 .4-2 1-3.6 1.3z M421.8 431.7l-2.9-1.4-.3-5.3 1.5-4.1 3.1-1 .5 5.4 .9 4.9z M444 408.6l-.6-.8 4.4-5.5 3.8-3.9 1.7-.4-3.9 5.5-3.9 4.2z M449.4 419.5l.2-2.6 1.6-4.8 2.3-5.8 .9 .7-1.8 5.7-2 6.8z M505.1 417.1l-.7-3.6 0-3.6 3.3-1.5 2.5 1.9 .7 3.1-1.9 3.6z M507.1 467.9l-1.6-3-2.4-6.8-1.3-5.5 .6-.6 2.3 5.7 1.5 5.6z M486.7 440.8l-2.3-.2-3-.9-1-.8 .8-.4 3.7 1.2z M425.8 440.7l2.3-1.9 2.7-1.9 2.7-1.1 .3 .5-2.6 1.9-4.1 2.7z M441 445.9l-6.2-.8-6.1-2-1.4-1.2 7.4 1.8z M507.9 405.7l.5-2.4 1.8-3 1 .5-1.5 3.8z M455.7 446.3l-5.1-3.7-4.6-3.9-4.9-4.9-.3-1.6 6.1 4.8 7.6 6.7z M441.4 420.6l.3-3.1 1.7-3.6 .6 .6-.9 3.3z M533.1 425l-2.9-.8-4.1-2.3 .4-.5 3.6 1.7z M503 408.6l.3-1 4.3-2 3.7-1.3-.4 1-2.5 1.8-3.8 1.4z M505.6 478.3l1.8-.7 3.6-.7 4 .2 1 1.1-4.6 1-4-.3z M478 433.1l-1.7 0-4-1.7-2.3-2.3-.7-1.7 4.3 1.3 3.5 2.9z M486.6 450.6l1.7-3.6 3.1-4.1 3.2-2.4-.2 1.7-1 2.6-3.5 3.4z M441 446l.4-1.5 2.5-.4 2 .5-1.3 1.5-2.2 .6z M483.3 404.7l-2 .3-.7-1.9 1.5-1.1 1.8 .8z M461.2 472.8l-2.6-2.4-2.5-5.2-.7-3 .6-.6 2.1 2.4 1.6 4.1z M427.2 399.4l-.2-.7 1.9-2.1 2-.7 0 .9-1.3 1.4-1.8 1.7z M479.9 419.7l-1.6-1 .7-2.1 .9-1.5 1.1 1.5-.1 1.6z M473.7 451.8l-.6-.9-.6-2.6-.1-1.6 .2-1 .9 2.1 .2 2.4z M480.3 449l2.7-6.1 4.2-7.7 3.7-4.7-2 5.4-5.4 9.5z M447.7 447.9l-1.9-3.8 .2-3.7 3.5-1.1 2.1 2.6 0 3.9z M485.4 416.4l-.2-1.7 2.5-.2 2.2 0-.1 1.6-1.3 1.4-2.2 .1z M522.6 423.1l-3.2-6-1.9-4.9 .2-1.1 2.9 6z M455.6 410l-.2-4.3 1.7-8 3-6.4 .9 2.4-1.3 5.9-1.6 5z M466.4 403.1l-1.4 .2 .9-3.9 1.3-1.2 1.1-.7 .3 2.5-1.3 2.5z M502.8 401.4l-1.2-.5-2-2.4 1.1-.2 1.7 1.8z M466.7 454.3l2.2-1.3 3-1.1 2-.4-1.2 1-3.6 1.3z M524.4 411.4l-3 1.6-3.5-1.5-3.1-2.5 1.1-3.2 4.2 .1 2.3 2.6z M436.3 413.8l-4.9 .6-8.3-1.9 1.5-1.8 8 .4z M470.3 482.5l.4-4 2.2-5.4 .7 .8-1.3 5.1z M431.1 417.5l.6-2 3.2-1.5 2.1 1.5-1.3 2.1-2.8 1z M475.1 483.7l-1.1 .1-4-1.7-2-1 0-.4 2.1 .4 3 1.4z M472.9 453.7l-1.6 .4-9.4-3.3-6.4-3.1 1.3-.5 6.2 1.7 7.7 3.1z M426.2 418.6l5.1-2 8.8-1-1.2 1.3-6.6 1.6z M527.6 435.7l-.6-2-.2-2.5 .5-2.2 .6 2.4 .1 2.3z M506.7 424l-1.1-2.8-1.1-3.6-1-4.8 .5-.4 1.5 4.8 1.1 4.5z M425.4 410.5l4.9-1.5 10.2-1.3 7.5 .1-2.2 1.2-5.8 1.1-7.4 .5z M411.2 399l-1.4-.2-1.9-2.8-2.1-3.4 1.4-.2 2.3 2.3 2.3 3z M438.8 410.4l1.7-2.9 3.5-2.5 1.4 2.6-3.3 2.8z M512.4 404.7l-2.2 .6-3.6-2.5-1.8-3 3.8 1.3 3 1.4z M494.1 470.3l-.5-1.6 4.5-3 3.7-.3 1.7 1.1-4.3 2.7-3.2 1.3z M492.1 407.9l-4-1.4-2.7-3.2 .4-1.1 3.3 2.2z M490.8 412.6l-1-.2-.2-3.1 .2-2.3 1.2 1.5 .6 3.5z M429.1 408.9l.3-1.1 3.5-3.7 2.3-2 .2 .5-1.7 2.3-3.4 3.6z M478.8 458.5l-2.4-5-2.1-10.3 1.3-.6 3 10.4z M510.4 425.6l-3 2.2-5.4-.5-2.5-2.8 3.4-1.7 3.8 .9z M505.8 496.2l1.1-1.9 3.9-3.5 4.2-2.8 .7 .7-2.6 3.5-5.9 3.9z M492.8 408.9l-2.5-8.9-2.4-13.7 2.1 3.6 2.7 10.9z M466.4 478.8l.3-3.2 3-.2 1.6 1.3-1.9 2.1z M513.9 493.2l2.7-1.7 3.7-.4 .6 .5-3.5 1.3z M461.1 467l.2-1.3 .1-1.6 1.1-.8 .7 .2 .1 1.4-1.2 1.7z M486.5 465.4l-1.3 .8-2.8 .2-1.7-1 .1-.9 1.9-.4 2.4 .4z M457 441.2l-1.7-2.9 4-3.9 1.7 2.9-.8 4.1z M509.6 487.9l-3.3-.6-3.6-2.5-1-3.4 2-.7 2.4 1.4 2.8 2.4z M452.6 460.1l.6-2.4 2.2-3.9 .5 .4-1.7 3.8z M527.2 400.8l-1.5-1.1 .2-1.8 1.6-.8 1 1.2 .1 1.5z M500.1 485.4l2.5-5.1 7.7-7.2 .1 2-5.2 6.4z M462.1 435.1l3.1-1.6 5-1.3 2.7 .4-1.3 1.7-6.5 1.3z M476.7 423.8l2-2.9 3.5-1.8 1.4 1.6-3.4 2z M437.6 407.8l0 .7-5.5-.6-4.8-.8 1.3-.5 3.8 .1 5 .5z M445.6 431.7l1.9-1.3 3.5-.9 .2 .4-3 1.3z M494.6 403.3l.8-2.1 2.3-3.1 1.8-1.2 1.3-.4-2.2 2.9-2 2.5z M483 419.8l-5.5-3.2-6.7-6.5 1.7 .1 5 4.1z M486.6 426.7l-1.5-.9-.9-1.2 .4-1.5 1.5-.7 1 1.3 1.2 1.7z M468 470.5l0-1.5 5.8-4.1 2.5-.9-2.2 2.6-3.6 2.9z M481.8 432.6l-2.5-3.1-4-6.2-1-5 3.9 5.5 2.5 5z M498 419.1l-1.9-1.8-.9-3.2 1.2-.3 1.8 2.8z M499.6 477.7l-3-4.1-1.8-4.2 1.3-.3 3.1 4.1z M502 418l-2.8-1.3-1.4-1.4-.8-2.3 1.8-1.8 2.7 1.2 .3 2.5z M497.7 457.2l0-2.3 3-2.2 2.2-.9 2.9 0-2.9 3.3-2.6 1.5z M509 481l3.1-2.7 6.9-.4 1.4 2.6-7.1 1.2z M519.4 429.8l-3.4 .9-6.1-.3-3.7-2.2 4.4-1.1 5.3 1.1z M521.7 486.3l-.5-.5 3.5-5.5 2.3-2.9 .3 .6-1.5 3.1-2.6 3.6z M487.4 485.1l-7.6-3.6-5.8-4.5-.2-1.4 7.7 4.2z M461.2 440l-3.5-.2-6.4-3 1.7-1 6.2 1.8z M458.6 405.8l3.8-5.8 5.3-6.4 4.9-4-3.9 5.9-4.7 5.4z M441.4 408l-2.2 .9-4.9-2.1-2.3-2 3.3 0 3.3 1.4z M450.8 410.6l.2-4.2 3.1-8.4 3-6.2-.9 6.1-3 9.8z M481 412.5l1-2.9 3.8-3.5 .9 1.5-2.9 3z M482.4 456.1l2.6-2.7 5.6 .1 .6 2.5-5.1 1.4z M441.6 439.2l-2.7 .3-4.9-1.8-.5-1.9 5.9 1.6z M476.7 427.2l-1.5-.8-1.1-2.3 1-2.4 2 1.8 .5 2.3z M449.4 399.1l-1.5-.6-1-1-.4-1.4 1.1-.3 1.1 .4 .4 1.2z M460.2 441.7l-.8-.6-1.2-2.8-1-2.8 .6-.2 1.4 2.3 1 2.8z M419.3 436l-3-2.4-4.4-4.5-1.9-3.4 .6-.5 2.9 2.1 6 7.2z M445.3 432.8l2.9-1 8.8-.2 5.1 .4 .8 .8-5.4 .8-9.6 .2z M464.4 427.2l-2.3-.6-2.8-2.1-.6-1.2 1.3-.1 2.6 2z M424.3 405.2l-2-.1-1.6-4.5 1.8-2.3 1.6-.5 1.9 2.3-.1 4z M490 449.2l-.8-.2-1.8-1.7-1.7-1.7-.1-.8 2.2 1.7 2.2 2.1z M459.5 436.4l-2.2 0-3.4-2.2-.1-3.2 1.4-1 2.9 .7 1.2 3.4z M476.7 480.9l-2.4-2.7-2.4-2.9-.4-1.9 1.9 1.9 2.3 2.9z M495.5 445.1l-2.5-3-4.4-7.2 1.5 0 5.1 7.4z M454.2 437.2l-3.2 .4-4.5-.6-5.9-.9 1.1-.9 4.3-.2 6.5 .9z M528.9 483.4l-2.4-1.8-3.7-3.8-1.3-2.2 2 1.1 4.5 4.7z M463.7 422.5l.1-1.6 1.6-3.2 2.4-.4 1.9 .2-1.7 3.1-2.9 2.6z M475.7 482l.6-1.4 2.5-2.6 2.9-2.8-.6 1.4-1.3 2-2.4 2.1z M497.7 472.7l1.3-1.2 3-1.5 1.1 .4-.7 1.1-3.7 1.8z M466.7 445.4l-2 .4-5.1-.4-3.7-.9-.8-.7 4.1-.2 4.8 1.1z M476.8 481.1l.8-1.3 5.8-.2 2.8 .8 .4 .9-3.6 .5-5.1 .4z M474.7 406.8l-2.7-2.7-2.3-3.3-.3-3.2 .8-2.3 2.4 4.5 2.6 4z M460 396.9l.1-1.4 1-2.5 1.8-1.9 1.3-.2-1 3.1-2 2.1z M512.1 433.2l-3.7-4-4.1-5.7 1.2 .2 3.8 4.8z M451.6 430.4l-2.9-3.1-4-5.9 .6-2.2 2.4 1.9 3.8 6z M514.7 478l-1.8-4.1-2.1-6.8-2.6-10.4 2.3 4.7 2 5.3 2.7 9.5z M464.2 445.6l-3.9-2.2-4.2-4.5-4.1-4.5 .4-1.4 4.9 4.2 4.6 4.6z M524.3 422.3l-1-1.6-1.3-2.8-.6-2.7 .8 .8 1 1.5 1 3.1z M467.8 404.5l-2.5-4.6-1.7-6.9 1.5-2.6 1.9 3.3 .8 4.9z M489.9 482.1l-.1-1.7 1.1-4.5 1.3-3.6 0 1.7-.2 2.2-1.2 4.4z M441.9 422.5l-.8-.1-2.3-3.7-1.7-3.1 .7 0 1.9 2.2 2.3 3.7z M423.7 409.9l0-1.7 1.3-1.9 2-1 1.2 .9-.8 2.3-2.1 1.5z M445.7 410.5l-1.8-1.9-.1-3.4 1.1-4.2 2.4 3.1 .4 4.8z M446.8 412.6l-1.8-3.3-2.1-4.7 .9-.3 2 4.7z M429.1 433.8l-1.7-.5-6.3-5.4-2.5-3.9 .7-.4 4.1 3.4 7 6.5z M459 464.8l-1.5 2.2-5.8-.7-2.8-1.9 2.5-2.1 5.7 .7z M518.5 479.5l-2.1 1.1-3.6 .6-3.1-1.5 .9-1.5 2.7-.9 5 .1z M507.5 458.6l-1.1-.6 .7-2.7 1.1-1.2 .7 .7 .5 1.2-.7 2.6z M467.1 415.7l-2.1-.9-.4-1.8 .2-1.8 1.9-1 1.1 1.9 .2 1.6z M504.2 416.1l-4.9-2.4-3.6-3.1-1.5-3.6 3.3-.6 4 5z M485.1 494.5l1.4-3.7 2.2-4.4 2.3-2.1 1.8-1-1.8 4.4-2.9 3.3z M437.6 416.9l.3-2.9 4.3-.6 1.9 3-4.3 3.1z M490.1 430.1l1.2-3 4.8-5.8 .9 1-4.4 6.3z M463.6 456.6l0-2.1 .6-4.3 1.4-3.1 1.4-2.1-1.2 6-1.3 5.6z M465.4 439.4l2.2-2.2 6.1-.3 2.8 .9-7.8 2.3z M528.3 461.6l-.5-1.6 .8-4.4 1.6-6.5 .6 3 .2 3.5-1.4 6.6z M426.6 403.6l-2.2-.2-3.8-1.2-1.8-2.9 1.9-.3 2.3 .2 2.3 2.4z M496.4 470.1l1.5-5.2 4.3-3 2.6 1.8-3 5.8z M443.7 434.9l-.2-1.8 1.6-4.3 1.1-1-1.5 5.5z M471.4 464l-2.6-.8-3.4-3.2-1.7-2.3 2 .2 3.7 3.5z M511.2 469.7l-1.7-.7-2.3-.9-1.3-1.7-.2-1.2 2.8 1.9 2.7 1.6z M505.7 466.6l-.4-7.4 3-12.6 1.3 3.1-.9 10.1z M427.5 413l-.5-7.8 .6-8.1 1-4.8 1 3.3-.4 12.2z M450.4 429.4l.9-4.1 1.8-4.6 3.9-.1-.6 4-2 4.7z M490.9 486.7l-1.3-2.7-.1-4.3 2.8-2.8 2.5 .4-.6 4.2-1.1 3.2z M503.4 492.9l-2.3-.9-1.8-1.8-.7-3.4 2.8-.3 2.7 1.1 .8 3.2z M423.5 405.6l-.2-1.9 4-1.5 2.7-.8 1.9 .8-3.2 2.3-3.4 1.9z M442.5 404.8l-3.8 .5-7.3-1.6-.8-1.6 8.3 1.1z M502.2 480.8l-3.1-3-1.3-3.8 2.3-.3 2.8 2.9z M477.9 475.5l-.9-2.3 3.5-5.4 2.5-.4 .5 2.6-3.2 4.5z M474.8 430.5l-.5 .6-3.2-2.1-.9-1.8-.4-1.3 2.8 2.1 3 1.9z M518.8 413.2l1.1-4 5.8-4.1 2.4 .2-5.4 6.8z M447.5 408.8l-.9-1.8-.7-4.6 .9-2.3 1.1 2.8 .2 3.9z M481.6 442.3l-4.1 .8-4.8-.8-1.8-1.7 7 .2z M449.5 399.9l.4-.8 3.6-2.5 2.2-.9 .2 .4-1.7 1.6-4.4 2.7z M443.3 437.2l-3.4 .2-4.6-1 .4-.5 3.9 .3z M453.8 470.5l3.4-3.9 4.2-4.4 6.6-5-.1 2-4.1 4.9-7.2 5.7z M486.6 400.4l1.4-1.2 2.9-.5 1.1 .2-3.3 1.3z M502.5 452l.3-3.5 2.9-4.4 1.3 .9-1.8 4.3z M469 479.5l6-2.1 10.3-2-.3 1.2-9.6 2.2z M431.8 400.3l0-2.7 .3-3.6 .9-3.9 .3 1.2 0 2.8-.9 5.3z M429 399.6l1.4-2.5 5.3-.7 3.9 1.8-3.5 2.6-5.5 1.1z M448.7 418.1l6.2-2.2 5.1-.3 1.5 1.3-6.6 1.7z M511.6 474.8l-.1-4.5 4.4-4.9 3 1.2-3 6.7z M533.9 411.7l-3.4 .8-4.1-.4-.9-1.4 5.3-.1z M517.5 479.9l-3.6-2-3.7-3.3-1.9-2.6 2.5 1 4.2 3.6z M433.2 409.2l-1.1 .7-7.9-2.6-4.2-1.7-2.9-1.7 7.3 1.8 8.3 2.4z M451.5 396.5l.5-2 3.2-1.4 4 .3-3.1 2.8-3.2 2.6z M499.1 497.4l-2.3-3.1 .6-6.2 1.3-3.5 1.7 .6 2.2 2.5-1.1 6.5z M515.5 429.2l-2.5-2.3-2.9-3.7-.8-1.8 1.9 1.9 2.9 3.4z M406.9 402.7l-.3-1.3 2.2-2.8 1.9-1.3-1 2.4-1.3 1.8z M526 486.4l-1.4 .1-2.1-2.6 .1-2.4 1-1.4 1.8 2.7 1.8 2.6z M503 427.5l1.1-1.9 2.1-2.3 .6 .3 .4 .6-2.1 1.7z M506.3 439.2l.5-5.3 3.4-8.4 2.3-2.9-3.4 12.5z M428.5 416.5l3.4-2.3 4.2-1.3 .5 1-4.5 2.8z M494.8 468.7l.6-1.4 1.1-1.1 1.7-1.1 .1 1-.7 1.2-1.7 1.9z M472.8 438.7l-.9-1.1 .1-3.5 .8-2 .9 1.8-.4 3.1z M505 407.7l.2-3.4 1.7-2.2 2.7 .1 1.6 1.8-.2 2.8-2.7 1.3z M518.8 421.8l-4.3-4.5-2.2-4.8 1.6-1.1 4.3 4.7z M497.2 419l.9-1.5 3.7-3.3 1.3-.3 .2 1-4.9 4.1z M477.1 433.1l-1.6-3.5 .2-4.4 2.6-.5 .9 5.3z M428.1 427.7l-3-.6-5.6-2.5-3.6-2.5 5 1.7 4.2 1.9z M451 419.4l-.6-3.2-.4-3.9 .8-2.2 .6 3.1 .1 3.4z M433.7 435.7l-3.5-.8-8.2-7.9 1.5-1.8 8.6 7.1z M479.8 464.5l3-2 5.2-2.1 .9 1.1-6.1 3.1z M529.2 469.8l-4 .1-8.5-1.5-9.7-2.5 .9-1.2 8.9 1.1 10.7 2.4z M454 465.5l.8-1.7 2.3-2.2 1.1 .2-.4 1.3-2.2 2.1z M505.2 457.7l.9-1 5.3-1.6 5.6-1.4-.5 1-4.7 1.7-5.9 2z M427.1 421.8l-1-1.9 2.5-3.2 2 .6-1.3 4.2z M468.9 474.2l-.6-2.1 1.6-5 1.8-4-.4 4.4-1 3.9z M408.9 430.3l1.7-1.5 2-.8 3 .1 .3 2.1-2.6 1.4-3 .4z M501 425.5l-4.6 0-4.7-4.1-.6-2.8 2.7-.8 5.9 3.4z M516.3 447.7l-.8-1.2-.9-3.8 .7-.8 .9 .1 .7 4.8z M438.8 441.4l1.4-2.8 6.7-2.2 4.5-1.4 2.8 .7-5 3.7-6.7 2.2z M410.1 424.9l-2.2-5-1.2-8.6 1.2-.5 1.8 8z M429.1 413.6l-1.5-1.5-1.8-4.5-.3-2.8 1.7 2.4 1.5 3.7z M424.3 410.8l-2.2-2.8-2.7-4.1-2.2-4.6 1.7 1.8 1.8 2.5 2.7 4.4z M467.4 433.1l.9-1.3 1.4-1 1.2 1.1-.2 1.1-.7 .8-1.1-.1z M438.4 409.2l-2.3-2.8 1.5-4.7 2.7-1.1 .8 6.1z M502.6 492.1l-2.8-.8-2.8-4 1.4-2.3 2.6 .1 2.5 4.2z M467.8 443.6l-.3-5.7 1.5-9.2 1.8-9.5 .6 4 .3 5-1.9 10.9z M465.5 420.2l-3-.6 .4-4.3 1.2-3 2.5 .1 1.4 2.8-.9 2.7z M500.1 485.4l.3-2.2 2.5-3.3 1.8-.7-.3 2.1-2.3 3.3z M508.8 493.4l-.3-1.4 2.3-3.6 2.4-2-.1 2.8-2.8 3.7z M483 488.6l-.5-4.7 0-6.5 .9-6.7 1.1 .4-.2 7.1-.2 7.5z M491.6 451.5l2.6-4.8 6.8-4.4 1.8 1.8-5.9 5.2z M470 438.3l.8-4.3 3.8-9 2.3-2.9-1 4.2-3.6 9.2z M447.9 439l-2.4-.6-1.5-2.4 .9-2.6 3.8 3z M425.4 436l-.8-.9 2.4-2 2.2-.7 1.4 .5-2 2.3-2.6 1.7z M505.9 469.7l-7-.1-9.8-2.6 .2-1.5 10.5 1.5z M475.8 432.6l-2.7-.2-6.8-2.5-3.9-2.3 1.5-.2 3.6 1 7 2.6z M511.8 432.7l1.1-3.1 3.9 .9-.1 2.7-2.7 1.4z M479.8 398.7l-2.2-1.1-2.1-1.6-2.5-2.2 .6-.6 2.6 1.4 2.4 2.3z M488.9 477.3l-1.5-.2-3.6-2.1-1-1.2 1.6 .5 4.1 1.9z M475.4 418.6l0-1.8 .7-3 .9-2.4 .4 .3-.4 2.5-.7 2.9z M519.2 431.7l-2.9 .7-11.3-1.5-11.5-2 5.4-.4 5.5-.4 13.5 2.1z M522.9 458.3l-1.4-.8-1.4-2.2-.8-2.1 .8-.5 1.4 1.9 .8 1.7z M408.3 425.9l-.3-.5 4.5-4.1 3-2.1 1.3-.4-4 3.6-3.3 3z M461.8 427.6l-.9 0-2.2-4.6-.5-2.5 1.7 1.7 1.6 3.7z M408.7 436.8l4-3.1 10.4-5.3 7-1.7-5.6 4.2-11.9 5.5z M516.9 437.8l-4.9-2.3-4.5-3.8 1.3-.6 4.5 2.6z M490.3 436.5l-3.8-.4-3.5-.5-1.6-1 2-.2 4 .8z M526.1 430.7l1.9-.7 2.3-.4 2.9-.1 .3 .7-3 .6-3.2 .5z M444.9 403.4l.5-3.1 3.8-3.8 2.5-1.2-3.9 5.5z M464.5 484.7l-2-5.7-2.1-7.1-.7-6.9 1.3 .8 1.7 6.5 1.9 7.8z M446.7 426.6l-1.4-2.5 .5-8 1.1-3.4 1.3-2.8 .6 6.1-.8 6.8z M458.2 445.6l-.9 1.8-4-1.9-2.8-1.9 1.2-1.3 2.7-1 2.9 2.5z M428.2 428.6l-3.2 .6-4-1.8-1-3.4 1.7-1.5 2.7 1.3 2.8 1.6z M526.4 424.9l-.6-3.4-.4-6.2 .7-3.8 .6 5.2 .4 5.8z M503.4 427.9l-1.6-1.7-2.4-3.2-.8-4 1.5 .2 1.9 3.3 1.2 3.1z M486.6 435.1l2.3-2 6.7-.9-.9 1.6-4.8 1.7z M500.3 484.2l-3.7-1.7-5.1-3.6-2-1.9 2.3 1 4.5 3.1z M523.6 454.9l-1.8-2.2-1.3-2.4 .6-2.3 1.4-.3 1.5 1.8 0 2.6z M446.5 427.6l-2.9-.5-2.7-4.3 1.8-3 3.1 1.6 1.1 3.3z M451.6 452.1l-2.6-2.7 3.1-7 3.2 2.3-.9 5.6z M484 408.9l-2.3 .3-3.5-.5-2.2-1.5-1-1.4 3.8 .3 3.8 1.5z M449.4 405.9l1.5-3.2 3.4-2.5 .4 1-2.1 2.4z M501.2 496l-1-.8-.8-1.4 1.1-.8 1.1-.5 1 1.1-.2 1.7z M452.6 407.8l-1.5-4.8-.7-9 1.1 .3 1.4 8.3z M435.4 439.1l0-1.6 7.7-2.9 5.4-1.7-.8 1.4-2.8 2.5-5.6 1.4z M481.1 435.3l-1.5-.1-2.6-.9-2.4-1 .7-.3 1.8 .2 3.4 1.3z M453.8 441l-4.3-.3-5.6-.6-1.7-2.8-1.2-2.1 4.7-.1 5.8 3.4z M460.3 397.7l1.2-1.8 1.3-1.8 1.3 .7-.5 1.3-1.3 1z M419.4 399l-2.7 1.3-1.5-2.7-1.3-2.9 2.7-2.2 2.7 1.9 .7 2.3z M478.4 484.7l4.4-6.4 5.2-4.7 2.4-.3-6.2 7.8z M506.3 425l-1.6-2.1 .6-3.5 3 .4 1 3.9z M444.2 408.2l-1.7-.9-2.7-1.9-.4-2.6 .8-1 2.3 2.1 1.2 2.5z M428.2 435l-1.2-.7-2.1-9.5 .1-2.4 1.3 2.8 2.1 7.4z M530.3 462.4l-5.8-2.2-7.4-4.2-3.4-2.8 2.9 .5 8.5 4.9z M462 444.1l-2.5-1.6-2.7-2.5-.7-1.2 4.1 3.2z M443.5 424.6l.4-1.5 3.3-3.5 2.1-2.1 .7 0-1.8 2.6-2.9 3.2z M444.5 422.4l.1-1.2 1.9-1.2 1.8-.7 1.1 .6-1.9 1.6-1.6 .7z M419.5 428.6l1.2-1.8 1.7-.9 1 .3-1.9 1.7z M527.6 495.2l-5.2 .8-10.7-1.2-5.9-1.2 5.4-.6 9.3 .8z M430.3 417.6l.4-2.4 1.6-4.3 1.5-.5 0 2-1.9 4z M454.4 439.2l-2.9-1.2-.6-4.7 2.1-1.7 1.7 1.8 1 3z M476.7 414.3l-3.2-1.7-.7-3.1 1.9-1.8 3.1 2.9z M517 450.6l2-4.7 2.9-4.4 .9-.1-2.8 5.6z M465 457.2l-.7-1.3 4.8-7.4 5.1-6.1 .5 1.8-3.3 6.1-4.4 5.7z M467.8 468.9l-5.4-2.3-4.3-4.6 .3-2 6.1 4.1z M528.9 439.8l-3.1-.7-2.9-1.5-2.8-2.2 2.9 .3 3.1 2.1z M527.3 478.9l-.9-2.2 .1-3.5 2.8-.4 1.7 .7 .1 2.4-1.4 2.8z M482.7 410.4l-2.1 .7-3.9 .2-.5-.9 .8-.9 4.2 0z M414.1 417.4l-.2-2.2 1.7-2 2.3-1.1 .5 2.4-2.2 2z M527.7 435.9l-1.3-1.6 0-2.9 1.3 .1 .6 2.4z M512 454.8l0-2 3.1-2.3 2.2-1.1-1 2.2-2 2.1z M501.2 431.3l2.6-1.9 7.1-.4 1.2 1.4-7.2 1.4z M493.7 452.8l-3.7 .3-2.5-3.9 1.9-1.4 3.1 1.6z M460.3 431.8l1-1.2 2.1-1.4 .5 .6-2.3 2.1z M498.4 490.5l-3.3 2-3-3.8 2.9-2.5 2.7 1.5z M495.7 428.1l1.1-2.3 4-2.2 0 1.5-2.5 2.6z M513 451l-.8-.1-.4-2.2 .1-2.1 1.1 1.7 .6 2.2z M433.9 443.9l2.6-.9 6.5-.5 1.4 .8-1.9 .9-5 .1z M468.1 401l1-1.1 8.6-.7 4.8 .8-6.1 1.2-5.9 .4z M502.7 458.9l-2 .5-3.7-5-1-5 2.5 .4 3.1 2.2 1.3 4.5z M521.2 424.1l-1.2-5.3-.4-4.7 1.8-4.5 1.3 5.1 .3 5z M528.9 427l-2.1-4-1.2-4.5 1.1-.6 2.3 5.1z M437.7 417.1l-2.2 .7-9.8-4.4-2.2-2.5 2.7-.4 8.6 4.3z M516.3 403.8l.3-1.4 1.8-.5 .6 1.8-1.6 .7z M465.9 430.3l1.3-.8 2 .1 .4 1-2.3 .3z M447.9 425.2l-7.3-3.7-8.5-5.4-4.8-4.9 6.6 2.8 7.7 5.7z M419.6 436.5l3.4-1.8 4.7-1.3-.6 1.1-3.3 1.2z M453 407.1l-6.3-2.9-6.3-3.6 .1-1 7.9 3.8z M516.6 496l-2.1 .7-7.5-3.9-4.2-3.2 4.6 .7 8.8 3.8z M526.1 436l1.8-2.8 4.1-.6 .2 1.6-2.7 1.8z M501.2 405.2l-.6 1.1-1.8-1.2-.7-1.4 1-.5 1.2-.3 1 1.4z M510.2 434l-4.5-1.5-8.6-5.7 .4-1.3 8.9 5.2z M512.2 484.4l.1-3 2.1-5.2 3-4.3-.9 5.2-2.2 5.7z M469.4 421.1l-5.1-1.1-4.4-3.3-.3-1.8 5.7 2.6z M505.5 486.4l-3.4-.2-4.9-.9 .1-.8 5.4 .7z M481.3 402l-2.7 .2-4.2-1.5 0-.7 5 .6z M439.6 421l-.9 1-2.3-.4-3.1-.6 .6-1.5 2.6-.4 2.6 .6z M515.7 447l-1.1 0-1.9-1.9 .4-.8 .8-.3 1.2 1.8z M455.8 411.3l-.5-2.3 0-3.2 .9-2.3 .5 2.8 .2 3.3z M475.4 417.9l-1 .7-1.4-.3-.7-.8 .1-.9 1.2-.4 1.7 .5z M415.6 423.8l-2.1 2.4-3.1-1.4-.5-3 .9-3 3.1 .9 2.3 1.4z M472 417.7l-3-1.7-2.4-5 .4-2.2 2.1 1.2 1.8 3.6z M450.8 422.4l-4.4 1.2-4.2-2.7-1.1-3.4 3.5-1 4.4 1.8z M468.1 449.6l1.4-2 3.5-1.3 1.7 1.7 2.1 1.6-3.6 1-2.9 .2z M477.1 422.9l-2-2-1.4-2.9 .2-1.5 2.1 3.6z M505.3 424.5l5.3-5.7 8.5-6.7-1.6 3.2-5.7 5.4z M480.9 439.8l-1.1-9.4 .4-13 1.5-1.4 0 13.6z M444.6 434.5l-.8 .7-5.3-6.6-2.8-5.2 .2-1.7 4.9 5.8 3.5 5.3z M505.2 469.8l4.8-1.7 6.5-.9 6.7-.1-2.7 1.6-2.9 1.8-7-.2z M470.4 427.4l-2.7-.6-3.3-3.6 .5-2.5 2.5 1 3.1 3z M468.4 452.5l-3.5 .1-9.7-1.8-3.8-1.9 4.5 0 9 2.2z M463.8 482.4l.5-2.8 1.5-4.3 1.5-3.6 1.6-2.7-1.9 6.3-2.1 5.5z M494.3 498l-2-5.1-1-7 1.9 .7 1.6 6.2z M477.2 426.4l1.8-3.4 5 1 3.9 1.8-3.3 2.5-4-.2z M504.4 496.3l-1.7-1.9-2.7-5.4 0-1.8 1.4 1.3 2.8 5.5z M475 453.9l.9-1.8 2.1-1.6 2.4-1.4 .1 1.2-1.6 1.5-1.8 1.3z M499.6 410.3l-2.4-3.8-2.3-6.4 .7-.9 2.9 6.5z M452 429.1l-1.8-1.4-1.6-3.1-.8-2.8 2.1 2 1.8 3z M508.2 450.4l-.4-1.3 1-2.3 1.3 .7-.8 2.1z M522.3 438.7l-3.2 .2-3.5-3.3 .5-3.2 5 3.3z M448.6 418.9l-2.4 2.6-5.2-1.5 .8-2.6 4.6-1.2z M446.6 448.1l1.7-1.4 2.3-.2 1.2 1.6-1.5 1.2-2.2 .5z M429.8 420.8l-.6-.3 .5-4.5 .5-4.1 .5 1.5 .5 2.2-.7 5.1z M481.2 423.8l1.2-2.2 3.3-3.2 .7 .2-3.2 3.9z M459.7 440.4l-1.1 0-5.5-4.5-1.8-2.3-1.2-1.7 4.3 3.3 5.8 4.6z M489.9 463.5l-5.1 .9-10-.8-8.1-1.8 .8-1.4 7.6-.2 10.4 1.3z M501.6 432.6l-3.3-2.2-3.2-5.5-2-5.7 2.3-.2 3.5 3.5 3.1 6.4z M473.4 485l.7-1 2.9-.4 .6 .4-2.6 1z M500.1 470.1l-1.3-2.2 .4-3.6 1-1.1 1.1 4.9z M482.4 448.1l-1.3-4.6-1.5-5.5 .5-3.4 .6-1 1.4 4.2 .8 7.3z M490.3 437.9l-1.6-1.2-.7-2.7 1.5-.8 1.3 2.8z M514.6 498.7l-6.1-2.3-5.3-2.6-4.6-2.7-2-1.9 6.5 2.4 7.5 4.1z M526.6 419.8l-3.3-1.2-3.4-2.5 2.3-4.4 5 .5 1.3 4.2z M487.7 432.9l-1.9-.9-1.3-1.9 .5-2.3 2.2 .8 .6 2.2z M488.9 465.9l1.8-4.2 2-4.1 2.6-2.6 .8 .5-.9 3.3-3.2 3.6z M413.1 401.4l-1.4-1.5-3.4-4.8-1-3.2-.8-2.9 3.6 5.5 3.3 5.8z M492.4 419.1l1.7-5.5 3-4.6 1 0-2.2 5.4z M486.4 461.8l4.3-1.4 7.2-1.5 .3 .9-8.2 2.1z M501.4 488.3l-4.9-3.5-3.8-5.1 3.8-1.7 4.4 4.4z M410.2 414.8l-1.2-4.6 2.6-2.1 3.3 .6-.4 4z M500.1 455.6l.1-3.3 5.2-7 2.8-1.8-.4 3-4.4 7.2z M498.5 463.1l-1.3 .2-1.6-.1-.9-1.5 .5-1.4 1.9 .4 1.7 1z M526 416l.7-5.4 1.3-5.6 3.6-4.8 .3 3.8 .5 3-3 5.2z M455.9 445.6l4.3-5.1 8-6.2 6.5-4.6-4.7 5.1-7.4 6.3z M482.4 457.3l1.4-1.8 2.8-2.7 2.7-1.1 2.6-.5-3.9 3.4-3.9 2.6z M476.3 463.6l-.2-5 2.4-7.6 1.2 2.5-.7 6.2z M525.1 445l1.1-1.4 3.6-1.1 2.7 .4-.6 1.2-1.7 1.1-3.3 .6z M485.3 394.9l.9-2.9 2.9-.8 2.2 1.8 .2 2.5-2.1 1-2.1 .2z M448.6 456.7l1.5-3.4 5.1-5.8 3.2-1.3-2.1 3.8-4.6 5.2z M482.9 443.8l-.5-.6 .3-1.9 1-.9 .5 1.1-.6 1.8z M516.4 405.3l-1.7-1.5-2.4-5.2 .8-3.8 1.5 .6 1.5 3.2 1.5 5.3z M424.2 442.2l-.7-2.7 1.6-3.8 2-1.2 .8 2.2-1.2 4.4z M512.1 490.5l-1.2-.8 1.1-6.7 1.6-4.7 .8 1.8 .6 3.2-1.6 6z M482.7 490.4l3-1.2 12.4 .2 .5 1.3-11.9 .4z M476.3 436.1l0-2.4 2.2-1 2.6 1.1-2.4 2.4z M466.4 477.6l1.8-3.7 10.4-10.5 .7 1.7-8.7 9.2z M495.2 480.9l-3.8 1-5.2-2.3 2.2-3.1 4.9 .9z M526.6 491.1l-1.7-4-1-11.7 2.1 .3 1.1 10.6z M489.1 440.9l.3-1.4 1.5-1.8 1.3 0-.3 1.4-1.4 1.3z M483.7 423.1l-2.5-2.6-2.3-3.9-.1-.9 2.8 3.9z M501.7 457.9l-1.9-2.1-2.6-4.6 .9-.1 2.8 4.2z M494.3 434.8l.9-.9 1.9-.7 1.7 .1 .1 .7-1.5 .7-1.8 .3z M509.3 427.1l.7-7.7 4.5-10.2 2.5-1.6-3.7 11.7z M442.1 407.2l-5.5-3.1-5.7-3.7-2.3-2.9 3.5 1.2 6.3 4.7z M505.5 423l-2-4.9-.1-9.8 1-5.1 1.7 4.4 .8 10.1z M477.8 415l-.8-1.1-.1-7.6 .4-6.8 .9-.2 .3 7.3-.1 5.6z M433.9 399l2.7-1.5 2.4-1.4 3.4-.4-.7 1.4-2.4 1.2-2.5 .5z M508.8 454.2l.6-1 4.2-3.1 4.6-2.3-1.5 1.8-2.6 2.1-3.8 2.2z M405.5 423.1l1.8-1.3 2.9-.5 .4 1.8-3 .6z M517.7 453.8l-2.4 .1-1.7-2.3-.9-2.5 2.6 0 3 2.3z M481.6 450.7l-.1-1.4 6.3-6.3 5.7-4.3 2.8-.7-6.3 6.9-7.6 6.8z M500.7 472.1l4.4-3.9 9.1-5.6-.7 2.3-8.2 6.1z M489.3 470.5l-3.5 .7-3.2-1.5-.5-3.7 2.7-2.5 3.4 .6 .4 3.1z M516 412.2l-2.1-5.5-.7-8.3 1.5 .9 1.8 7.1z M458.9 437.4l-1.7-2.4 1.2-2.5 2.6 .5 .7 3z M506.3 466.9l-.5-1.7 .1-4.8 .3-4.7 .6 1.8 .1 3.2 .1 5.4z M524.5 477l1.4-3.3 2.8-2.7 1 2.4-1.9 2.2z M466.9 464.3l-4.4-3.6-4.6-4.8-3.2-4.1-1.5-3.1 5.9 5.9 5.6 5.9z M508 490.4l-7.6-4.2-9.4-7.6 2.4 .5 7 4.7z M459.7 437.9l-1.1-.8 .4-1.8 1.4-1.1 0 2.6z M506.7 424.6l-3.7 1.5-4.2-1-1.5-3 6.9-.8z M488.4 442.1l.6-2 2.2-3.2 1.9-1.5-.7 2.2-2.6 4z M527.5 445.1l-1.6-1.6-1-2.4 .8-1 1.4 2.7z M450.3 408.2l1.9-2.6 3.3-3.4-.4 1.7-2.3 3.2z M430.9 426.8l-3.1-4.1-2.6-6.9 1.3-.1 2.7 5.5z M515 412.7l-4.5-.3-5.5-2.1-4.9-2.6 1.8-.8 4.1 .7 6.2 2.4z M470.9 433.3l-1.9-.6-3.7-2.3 .1-.9 3.9 2.5z M498.5 430.8l-1.2-2.5 .3-3.2 1-1.5 1.2 1.3-.1 3.1z M503.2 484l-4.4 .6-6.1-3.4-2.6-3 9.7 2.7z M520.1 484l-3-1.2-3.6-2-2.9-2.1 .6-.4 2.8 1 5.3 3.2z M485.9 418.7l.2-1.8 1.6-1.3 1.5-.5-.4 1.5-1.1 1.8z M460.9 461.3l.9-1.3 4.5-3.2 3.1-1.4 .2 .5-2.3 2.3-5.3 3.2z M478.1 447.9l-2.3-1.4-.9-2.8 .4-3.4 2.7 1.8 2.2 3.8z M414.6 428.4l-1.3 .5-4.3-2.8-1.3-1.8 2.8 .9 2.7 1.6z M411.8 438.2l-.8-3.1 1.1-7.8 1.7-2.6 .6 3.4-.9 8z M528.1 439.2l-.8-2.4-.6-2.5-.7-3.8 .3-.4 1 3.8 .6 3.1z M489.5 449.5l-2.5 .1-3-1.6 .2-1.1 3.2 1z M511.5 495.5l3.6-2.2 4-1.5 1.1 .9-4.6 1.9z M475.1 445.2l-.3-1.4 3.3-4.1 1.7-1.6 .6 .3-1 2.2-2.8 4.2z M456.6 448.1l3.2-6.1 7.1-9.2 3.5-3.1-3.6 5.8-4.4 6.1z M456.6 418.6l-.8-3.3-.7-2.6 0-2.6 .5 .3 .7 2.2 .4 3.5z M480.4 452.7l-4.2 .6-3.6-3.8 1.4-2.7 4.5 2.2z M485.2 438.7l-5.4 1-6.1 .3-4.3-1.5-2-1.8 6.1-1 5.4 1.6z M433.5 455.6l3-6.8 3.6-6.5 2.6-2.4-.5 3.1-4.3 6.8z M420.4 409.7l1.3-2.3 5.6-5.1 4.6-4 .6 .5-4.5 4.5-4.4 4.2z M473.1 463.6l-.9-2.5-.5-3.8 3.2-.9 1.6 1.6 .7 2.2-1.5 2.7z M479.1 442.6l-1.7-.4-3.1-3.1 1.1 0 2.4 1.8z M485.6 466.9l-3.1 .8-5.8-1.5 .3-1.7 5.5 .8z M501.9 483.5l2.2-3.3 3.5-3.8 2 .7-1.1 2.4-3.3 3.6z M477.6 411.9l1.5-1.9 4.2-.3 0 1.9-3.3 1z M491.5 421.1l-2.5-2.3-4.1-6.6-2.2-3.8-.8-2.4 3.8 5.1 2.7 4.6z M508.1 468.4l2.4-3.7 6-4.7 3.2-.5 4.5-1.3-5.4 5-5.7 3.1z M474.8 437.9l2.5-2.2 4.3-2.2 .5 1.5-4.4 3z M464.3 478.6l.1-2.2 1.9-.4 2.2-.2-.4 2.2-1.7 1.2z M473.7 460.2l-1.9-1.3-3.3-3-2.9-3.7 .5-.6 3.8 3.9 3.7 3.5z M490 464.7l-.1-4.5 3.3-4.4 2 .2-1.8 5.7z M508.7 419.9l-1.7 .2 .7-3.5 .9-2.3 1.1 .7 1.1 1.6-.9 3z M453.2 460.6l-1.8-1.9-1.2-3.9 1.1-1.6 1.3 1.8 1 2.9z M517.5 479.1l-2.7-8.2-1.2-12.3 1.5 1.7 2 9.2z M414 414.3l-2.4-4.1-2.4-6.3 1.2 1.1 2.1 4.4z M482.1 477.8l-3.5 .6-2.9 .4-2.6-.7 1-.7 1.5-.8 2.9 .6z M530.1 468.4l-3.3 1.2-7-.1-5.6-1.1 .7-1.4 5.6-.1 4.6 .3z M421.6 431.6l-1.3-2.9 1.6-5.7 1.5-3.4 1.5-.4-.5 4.5-.7 4.7z M468.7 444.1l.9-1.3 3.4 0 2.4 .5-2.2 1.1-2.9 .5z M522.1 475.4l-.8 2.1-6.8 .1-4.1-2 1.4-1.6 3.2-1.5 6.5 .8z M504.3 435.4l-1.3 2.8-2.8-1.9 .4-2.5 1.6-1.6 2.9 .6z M417.1 401.4l.5-2 3-1.3 1.9 0-3.3 2.8z M605.1 465.5l2.2-2.2 4.3-1.9-1 1.7-2.4 1.9z M619.8 426.3l-2.1-1-.6-2.8 1.1-1.5 1.5-1.5 1.8 2.1-.4 2.7z M609.2 466.5l-.1-1.5 2.7-1.2 1.6 .4-2.8 2.6z M580.9 411.1l.9-1.6 5-3.5 1.9-.1-.2 1.5-6 3.6z M606.5 457.8l.1-.8 2.3-2.6 1.5-1.2 1.1-.5-1.8 2.4-2.4 2.5z M634.4 431.5l.7-1.3 .9-1 1.4-.3 .1 1.1-.3 1.1-1.3 .5z M622.2 440.9l-1.6-1.6-2.3-3.6-.6-1.8 3.2 4.7z M638.9 444.8l.2-2 2-.3 1.1 .6-1.4 1.8z M629.8 458.8l-.9-1.6 .8-1.5 1.6-.1 .1 2.1z M633 436.9l.9-1.9 1.4-2.3 3.3 .3 .9 2.5-2.7 1.6-2.3 1.8z M596.2 433.2l3.8-4.1 4-3.7 1.9-.5-1.1 2.1-4.3 3.7z M576 413.2l2.5-.8 3.2 .1-.2 1.1-3.1 .5z M613.2 467.8l1.4-1 3.8-1.7 2.5-.8 .1 .3-2.3 1.3-3.8 1.6z M607.1 467.5l-.5-2 .5-5.3 1-2.2 .1 3.4-.4 3.3z M640.8 464.2l-3.5 .4-6.2-.6-.2-.8 6.1 .3z M617.8 411.3l-2 0-4-.9-2.6-.8 2.4 .1 4.1 .9z M645.6 453.8l-.5-2.4 .3-6.3 1.1 2.2 .1 4.5z M571.1 398.6l-1.8 .1-2.9-.8-1.2-1.2 .3-.4 1.5-.3 3 1.4z M619.5 439.1l-1.8 .6-4.3-1.1 .6-.9 3.5 .5z M606.8 412.9l-.1-.6 3.9-2.4 1.4-.1-1.4 1.3-2.8 1.7z M614.2 437.4l-1.2-1 .4-1.3 .9 0 .5 1z M631.7 454.6l.5-1.7 4.4-3.4 4.3-3.1-2.4 3.3-4.5 3.9z M628.3 434.5l-2-.6-2.6-1.1-1.1-1.7 2.2 .4 2.4 1.5z M638.6 465.5l-.8-1.6 .1-1.7 1.2-1.7 1.5 .7 0 1.9-.4 1.8z M599.3 410.3l2.2-1 1.7-.4 2.1-.3-1.8 .9-2.5 .9z M633.6 422.9l-.6 0-.6-5.5-.1-4.2 .5-.7 .6 5.2 .3 3.3z M591.4 455.9l1.2-5 2.4-5.8 1.2-.5-2.4 7z M604.7 408.7l-3 1.5-1.7-2 .2-3 3 .7z M624.1 435l-1.2 .4-1.3-.9 .5-1.6 1.5 1z M614.3 442.1l-1.8-.8-2.5-1.7-1.9-1.5-.3-.7 2.5 1.4 3.8 2.6z M643.8 420.8l-.5-.8 .2-1.6 1.3-.7 1.2 0-.4 1.9-.9 1.3z M625.5 446.9l-.4-1.5 .3-3.1 .9-1.6 .1 2.3-.2 2.2z M602.6 417.8l3.2-2.7 4.5-2.4 1.7 .1-5.7 3.7z M609.5 440.6l.8-2.8 3.3-1.7 1.7 1.9 2 1.4-2.1 2.2-2.6-.6z M594 431.2l-1.7-2.3-2-2.8-.6-1.9 1.4 1.5 1.8 3.1z M640.8 431.4l-.6-.6 .7-1.8 .6-.9 .7-.6 .1 1.7-.8 1.9z M596.6 458.9l2.7-.8 2.8-.1 0 1.1-2.9 .4z M599.7 438.3l1.1-1.2 1.2 .3 1 1.6-2 .4z M626.3 448.7l.8-2.4 3.3-4.7 2.8-3.5 1.7-1.1-2.6 4.9-4 5.2z M590.4 434l-2.2-.1-5.6-4-2.6-2.3-.1-.9 3.6 1.7 5.8 3.7z M586.5 439.5l-.3-1.7 2-1.1 2.2 .8-2.2 2.1z M626.5 443l-3-.6-5.8-3.5-2.4-2.7-.5-1.7 4.6 2.4 5.1 3.4z M644.9 433.4l-1.9-1.4-1.8-3.4-.3-2.1 1.6 1.1 2 3.2z M644.2 461l-2-.9 .9-2.8 1.1-1 1.8 .4-.2 3.1z M615.6 420.4l-2 .7-1.6-1 .2-1.6 .5-1.6 1.6 .4 .8 1.2z M630.7 454.2l-1 .5-3.6-1.5-2.2-1.2 1.7-.3 3.6 1.5z M592 453.1l-.9-2.2 1.6-2.5 2.3 1.2-.3 3.3z M624.3 449.4l-.9-2.2-1.1-3.3-.1-3 .7 1.3 .8 1.8 1 4.3z M588.2 415.9l-1.7-.4-1-2.4-.5-2.8 2.2 1.9 1.7 2z M605.6 445.6l.3-.9 1-1.2 1-.4 0 .8-1.5 1.6z M613.8 440.5l-.8-2 .1-6.4 1.1 1.4 .6 5.4z M638.5 429.9l-.5-2.3-.2-3 .2-3.1 .4 1.5 .3 1.7 .2 3.5z M606.9 462.7l-1-1.2 1.2-1.5 1.5 .2-.5 1.8z M567.9 401.4l-1.4-1.9-1.3-4-.9-3.2 1.4 2.4 1.8 4.2z M619.4 432.5l1.6-1.7 2.2-.3 .3 .8-1.7 1z M625.8 430.7l1.3-2.8 4-.7 .2 1.7-2.6 3z M611 456.4l0-2.4 1.8-1.3 2-.2 1.3 1.7-1 1.9-1.9 1.1z M585.5 424.4l-.8-2.8 1.9-6.1 1 .5-.6 5.4z M633 419l-.5-.5 2.3-2 2.5-2 .1 1.1-1.2 2-2.7 1.9z M639.6 421.9l-1.7-3-1.4-4.2 1.6 0 1.5 3.9z M628.5 422.1l-.1-.7 2.6-1.6 2-1 .3 .4-1.2 1.5-2.7 1.5z M584.8 423.3l.5-3.3 1.9-3 .9 1.1-1 2.5z M629.8 436l1.3-2.3 2.7-2.8 2.1-2.1 1.3-.6-2.2 3-2.7 2.5z M636 470.6l-.9-.5-2.7-5.2-2.5-6.1 2 2.6 1.9 3.1 2.5 5.4z M605.1 427.4l-1.9 1-2.6-1.8-.8-1.9 3.6 1.3z M644.7 436.3l-3-1.8-2.7-3.3-.1-1.1 3.8 3.3z M633.9 453.1l-.9-1.1-.2-2.9 .7-.3 .6 2.8z M635.7 459.1l.2-.8 1.9-.2 2.1 .3-.9 .9-1.1 .7-2.3 0z M578.4 424.2l.9-1.6 4.4-3.3 .3 .6-3.7 3.4z M579.4 415.6l1.8-2.8 3.5-3.4 .4 .7-3 3.3z M688.7 485.1l-1.4 .3-1.3-1.3 .2-1.2 1.9 1z M668.1 486.4l-.6-.3-1.1-3.2-1-3.1 .4-.3 1.4 3 1.3 3.5z M650.5 521.7l3.4-3 8.2-3.7 2 .3-2.7 2.1-5.5 2.8z M683.4 520l1.2-2.1 2.1-2.6 2.2-1.1 .9 .5-1.6 2.3-2.6 2.1z M670.4 499.1l-3.3-1.2-5.3-2.5 .9-.4 4.5 2.2z M652.6 513.5l.1-1.3 1-1.1 1.3 .4 .2 1.3-1.4 .7z M666.9 513.4l0-1.4 2.3-.3 1.6 .2-.5 1.5-2.5 1z M678.9 512.3l-.9 .6-4.1-1.3-2.2-1 1.5-.4 5.2 1.2z M668.2 508.8l-.5-.4-1.3-2.8-.8-2.4 .8 .8 .8 1.6 1.1 2.5z M652.2 494.3l2.6-1.5 2.3-1 3.5-1.5 .2 .5-2.9 1.6-3.8 1.5z M686.8 487.5l-2 .1-.6-3 1.3-1.5 1.6 2.7z M678.1 478.6l-5.1 .4-7.5-.4 1-.9 6.2 .1z M674.6 481.8l2.5-2.6 5.7-4.5 3.5-1.4-3 3.2-5.1 3.3z M676 490.4l.8-1 1.3-.5 1.3 .5-.4 1.2-.7 .7-1.7 .4z M664.7 506.6l-1-1.4-1.2-4.4-.4-5 1.1 .5 1.5 3.8 .3 4.7z M659.6 520.5l-3.7-1.4-1.3-3.9 2.8-2.1 2.1 3.5z M666 516.5l-2.6-1.9-1.6-2.9-.4-2.2 1.8 1 2.5 3.2z M673.6 516.6l1.2-.9 1.9-.8 2.2-.5 .4 .5-2.2 1-2.4 .9z M674.7 496.4l-.5-4.3 .8-6.2 .7 .3-.2 5.2z M657.5 525l1.7-4 3.7-6.2 .8 .6-3.5 6z M670.3 504.7l-.5-1-.1-1.6 .3-1.6 .6 .6 .4 1-.1 1.8z M652.8 499.3l-.9-2.6-.9-2.6-.1-3.4 .8 .5 .8 3 .3 2.5z M668.3 508.2l-.7-2.1-.4-2.6 .8-1.9 .8 2.2 .1 2.5z M673.3 474.5l-2.6 .5-2.7-1.8 .1-2.4 3.6 1.6z M677.4 481.6l2.5-2.8 6.1-4.2 3.1-.7-3.2 3-4.7 3.3z M651.9 477l2.1-1 4.5-1.1-.3 .9-4.4 1.4z M655.9 522.4l-.8 0-1.3-.5-.4-1.3 .5-.3 1.1 .6 1.3 1z M660.7 521.4l.1 .4-4.1-.1-2.4-.5 .8-.3 1.7-.2 3.6 .2z M690.9 503.2l-7.3-.5-10.8-1.6 .9-1.2 11 1.4z M675 478.5l.5-.6 4-.1 2.5-.1 .1 .4-2 .6-3-.1z M663.4 483.1l.6-1.3 1.9-.2 1.6 .5 .4 1.3-1.7 .8-2.2 .2z M684.1 516.1l1.7-2.8 1.9-2.3 1.2-.2 0 1.2-2.3 2.4z M663.4 479.8l-3-.1-3.1-.8-.9-.5 4 .6z M675.4 489.6l-.5-2.7 1.7-3.4 3-.3 .8 2.9-2.5 2.5z M649.6 478.3l.1-1 .6-2 1.3-1 .7 0-.7 2-1.2 1.5z M697.5 505.1l-4.1-.6-7.9-2.8-4-2.3-.5-1 5.8 1.9 7.1 2.5z M674.9 495.7l-.7-1.2-.1-1.1 .8 0 .4 .9z M669.7 530.1l2.5-3.9 6-4 .1 2.4-4.2 3.9z M655.5 504.8l-2.7-.3-3.5-3.1 2-.4 2.5 1.4z M687.6 479.5l-1.4-1.1-1.6-1.7-1.9-2.2 1.3 1 .9 .7 1.9 2.1z M657.9 532.1l.4-4.9 1.2-6.5 .9-.2-1.1 6.7z M681.5 490.5l.7-3 2.2-5.1 2.1-2.8-1.3 4.1-2.2 5.4z M659.3 493.7l1.4-3.1 3.3-.2 1.4 1-2.6 2.2z M664.6 518.8l-1.4-1.8-1.3-2.8 .3-1.2 1.9 3.7z M653.9 479.5l-1.5-1.3 1.8-2.1 1.8-.5 1.1 1.6-1.6 2.1z M682.4 475.8l.2 .7-3-1.7-1.5-1.1-1.2-1.1 3.1 1.4 2.6 1.3z M667.4 527l-.6 .3-2.6-2.3-2.1-2.2 .2-.6 2.6 1.9 2 1.9z M660.1 502.2l-1.8-.9-2.5-4.2 .9-2.9 2.6 1.7 2.5 5z M680.1 519.1l-1.3 .5-1.5-.4-.3-1.3 .1-1.2 1.6-.1 .5 1.3z M680.7 490.8l1.5-1.4 2.6-1-.3 .8-1.7 1.1z M685.5 479.8l-.1-.8 .4-1.1 1 .5 .8 .5-.1 1.3-1.3 .2z M651.3 519.4l.3-2.9 2.6-2.9 1.1 .9-1.5 3.3z M681.6 511.8l-2.4-2.5-2.4-5.6-.4-3.1 2.1 2.4 1.8 4.3z M685 484.1l-2.2 .2-2.3-1.6-.4-2.4 2.5 .2 1.6 1.5z M685 527.5l-1.5 1-4.4-1.9 2.1-1 3.5 0z M676.5 476.6l.6-1.5 1.6-1.8 1.3 .3 1 .1-1 1.5-1.9 1.3z M690.6 496.3l-3.2-.4-2.2-3.2-.6-3.1 3.1 .2 2.7 3.3z M663.2 477l-2.9-1.8-3.3-3.4-.5-1.5 1.4 .2 3.9 3.7z M652.8 507.9l-1-.8-.5-2.8 .6-2.6 1.7 1.8-.2 3.1z M675.5 479.4l-1.2 .9-3.5-.2-2.2-.4 .4-.7 1.9-.3 2.2 .3z M415.9 383.3l-2-1.4-1.6-2.7 1.3 0 1.9 1.7z M454.8 377.9l.4-3.5 2.7-2 2.8 .4 .9 3-3.2 2.9z M314.9 383.8l-.1-1.2 1.1-2.1 1.5-.4 .1 1.5-1.5 2.1z M396.1 375.9l2.1-1.3 7.5-1.5 3.5 .1-2.4 1.5-8.4 1.6z M308.8 386.7l.5-2.5 2.5 0 .6 1.8-1.4 1.2z M440.1 385.8l-.5 .7-1.4 0-.8-1.1 .5-.9 1.3-.1 1.3 .5z M412.2 388.4l-.9-4.3-.3-5.2 .8-2.1 .9 2.1 .4 5.9z M430.9 371.9l.7-1.3 1.9-2.6 1.9-1.7-.2 .8-1.3 1.8-1.9 2.1z M450.2 389l-1.5-2.6-1.4-2.9-.6-3 .5-.8 1.7 3.3 1.1 3.5z M396.7 376l.7-1.7 4.3-3 2.3-1.2 2.4-.9-3 3.2-4.9 3.4z M462 387.4l-5.2-3.8-4.3-5.6-.6-2.5 5.7 6.1z M441.4 378.8l1-5.4 3.2-5.9 1 .6-2.1 5.8z M421.8 372.4l.4-4.2 2.4-7.4 .9 2-1.7 5.9z M318.1 388.6l-3 0-7.9-2.8 .4-1.1 7 2.3z M357 379.7l-1.6-.5 3.8-4 3.4-3.5 .1 1.9-1 3-3.2 2.5z M353.9 391l-.9-2.3 .9-5.2 .7-2.4 1-.9 .2 3.3-.7 3.6z M407.5 382l4.6-3.1 7.1-1.4 2 1.5-7.8 2.6z M357.1 377.7l1.4-5.4 3.6-7.9 .4 2.4-2.4 6z M396.8 389l.1 1-4.2-2.4-2-1.7 1-.1 1.8 .3 3.2 2.2z M456.8 369.2l.1-.4 4.2-.9 4.1-.4-2.2 .7-1.7 .7-4.7 .7z M350.2 370.1l-4.1 .4-6-.1-2.1-.6 2-.6 6 .3z M452.6 371.2l-.3-3.5 1.6-7.9 1.6 0-1.2 8.9z M462.1 385.7l.5-1.7 1.6-1.9 .7 0-1.4 2.5z M349.1 386.5l-.3-1 .3-1.1 .9-.6 .7 .8-.6 1.9z M365.6 369.8l-.7-1.1-.6-2.1-.6-2.6 .6 .2 .8 2.2 .6 2.2z M320.3 372.3l-.5-3.8 1.5-6.4 1.4-1.4-.9 7.8z M378.3 380.5l-.5-.5 4.5-.9 3.2-.4-.5 .7-1.9 1-4.9 .8z M405.8 388.2l.7-1.6 4-2.7 2.7-.7 .4 .7-2.1 2-3.8 2.3z M352.7 370.9l1.7-2.4 3-1 2.6 1.2-1.5 2.4-3 1.1z M434.1 381.6l-3-1.1-1.6-3.3 .6-1.8 1.9 .1 2 2.9z M441.6 384.4l-1.1-2.2 .9-3.1 1.5-2.7 .9 2.7-.4 3.6z M373.2 383.2l-.7-4.5 2.4-6.3 1.4 1.6-.1 6z M343.1 376.4l-.8 0-2.9-3.7-3.1-4 1.7 1.1 2 1.4 3.9 5z M420.5 381.7l-7 .4-9.1-.7-3.6-.9 1.7-1 10.2 1z M355.9 374l-.6-1 .3-3.3 1.3-2.3 .7 1 .2 1.9-.9 2.7z M332.1 383l-2.8-1.4-4.7-3.6 .2-.6 4.7 3.2z M336.8 367.7l-1.5 .2-3.2-.8-1.3-.7 1.2-.2 3 .8z M364.1 380.4l-2.7-1 .3-2.6 .5-2.4 2.5 .2 1.2 1.7 .2 2.3z M376.3 370.6l2.6-3 4-2.5 1 .5-4 3.5z M428.9 376l-2.3-2.2-.9-4.8 2-.1 1.2 3.8z M313.7 375.3l-2.7 0-6-3.7-1.4-2.6 3.2 .3 4.5 3.3z M320.1 387.8l-2.8 0-.8-2.8 .7-1.8 1.6-1.1 2 1.1 0 2.2z M324.1 388l-1.8-.1-3.5-.8-3-1.1 2.6 .1 4 1.2z M387.2 384.4l.3-1.8 1.3-4.2 .8-.4-.2 1.6-1.2 3z M394.3 377.6l-1.5-3.8-1.2-6.3 .8-.8 .9 1.2 1.4 6.5z M372.8 387.1l-1.1-.6-.6-1.6-.3-1.5 1.1 .5 1.2 2z M387.3 377.5l.4-3 1.8-4.1 1.3-1.5-1.9 6.3z M406 390.4l-2.2-1.2-2.2-2.3-1-2 .9-.1 1.6 .5 2.1 2.8z M434.6 379.1l-2.1-.4-2.1-1-.6-1.8 0-1.8 2.4 1.7 2.5 1.5z M409.9 372.7l1.7-1.1 3-.8 2 .6-1.4 1.4-4.5 1.3z M402.1 389.2l-.6-2.1-.4-2.7 .6-2.2 .8 2.2 .2 3z M396 392.2l-.3-2.8-.2-4.1 .5 .6 .3 3.9z M387.9 374.2l-1 2.2-2-1.7-.4-1.8 1.5-.9 2.1 .3z M364.7 395.9l-.4-2.5 .1-6.4 1.1-3.6 1-2.7 0 6.5-1 8.3z M337.9 388.6l1.8-2.3 3.2-3.3 3.2-2.1-1.6 2.7-5.1 4.8z M424.9 382.9l.9-4.8 2.6-6.7 .5 2.5-1.3 5.7z M315.3 369.7l-1 .2-1.8-3-.5-2.8 1.1-.3 1.6 2.4 1.3 2.7z M323 391.4l2.4-1.7 4-1.8 .1 .5-3.5 1.9z M410.6 382.1l-2.3-.3-1.2-1.4-.2-1.9 1.6-.9 2.2 0 1.2 2.3z M398.6 378.7l4.1-2.3 6.7-3.3 8.5-2.6-1.5 1.8-6.3 3.2-7 2.2z M357.9 374.3l1.2-2.6 2.3-1.3 .8 1.8-1.3 2.4z M421.1 391.4l-1.6-.5-3.3-5.3-.5-3.4 .3-1.9 3.1 3.7 1.6 4.8z M343.3 375.1l.3-1.7 .6-2.6 1.1-2.5 .3 .4-.8 2.7-.8 2.8z M310.5 376.7l2.6-3.2 3.3-3.8 3.1-1.5 2.2-.5-4 4.1-3.5 2.5z M421.6 373.4l1.8-1.8 2.4-1.7 .7 .7-2.6 2z M385.7 388.8l-3.5 .5-4.7-1.5 1.2-1.4 4 .5z M381.2 378.8l.1-1.4 2.9-.4 1.4 1.1 1.4 1.3-2.8 .7-2.3-.3z M316 372l-1.4-4.2-1.3-6.4 1.1 0 1.2 6.1z M419.9 388.5l-1.5 .8-2.1-1-.2-1.8 1.8-.3 1.1 .9z M446.2 387.9l-3.2-.4-6.5-2.1 .7-1.2 7.2 2z M650 524l40 2 40-2 20 2 0 5-100 0z M718.1 485.1l-1.5-.4-1.2-1.2 1.3-.9 1.4 .9z M695.1 442.3l-1.1-.2-1.8-1.1 .3-.7 1.9 1.2z M684.8 520.7l.3-1.3 4.1-2.7 3.2-1-2.3 2.6-3.8 2.4z M739 530l-1.8-.3-1.4-2 .6-1.4 2.6 1.8z M669 481.4l-.6 0-2.9-2.7-.5-1 .9 .3 2.6 2.4z M663 453.3l-.2-.6 .3-2 .3-1.5 .2 .4 0 1.2-.2 2z M729.3 451.1l-.3-2.3 1.2-3.6 1.2 0-.6 4.3z M708 476.3l.5-.7 2.3-1.7 2.6-1.6 .3 .2-2.3 1.9-2.6 1.7z M662.9 493.2l-2.2-7.3-1.9-10.5 1.3 1.1 1.9 8.6z M686.6 436.7l-1.8 .2-3.8-.5-2.6-1.4 .1-.8 3.2 .2 4.2 1.2z M727.1 530.2l-1.2-.7 0-1.8 .9-.4 1.1 1.7z M724.8 494l-.7 .3-2.4 0-1.3-.6-1.1-.6 2.6 0 2.5 .5z M682.4 479.9l-.7-3 0-3.6 .5-2.5 .9-1.8 .4 4.1-.1 5.1z M712.7 516.4l-1.9-.1-1.9-2.6 1-1.4 3 2.1z M706.8 508.4l4.4-1.5 4.2-1 2.3-.2-1.7 .9-5.4 1.4z M711.1 484.8l.2-1.4 1-1.5 1.4-.6-.4 1.6-.9 1.3z M652.4 467l1.1-3.5 2.3-4.6 2-2.7 1-.3-1.1 3.4-2.7 3.9z M664.7 522.1l.1-4.8 1.9-7.5 1.4 1.6-1.4 6z M734 466.9l-2.4-.9-1.6-3.9 .4-2.9 3.3 5.1z M699.8 435.1l-.6-1.4-.9-2.7-.4-2.3 .9 1.5 1.3 4.2z M729.5 505.2l-1.7 1.2-3.5-.9-.6-1.4 3.8 .1z M718.5 444.7l1.7-1.4 4.8-2.8 .4 .6-5 3.2z M691.9 509.1l-.5-.3 3.8-2.6 2.2-1.3 2.5-1.1-3.8 3-2.8 1.7z M690.6 454.5l-2.2-.2-1.9-2.4 .5-1.3 2.4 1.9z M738.1 467.2l-2.4-1.2-1.4-1.9 .7-2.9 2.8 1 .8 2.3z M703.6 490.3l-1.4-.3 .1-1.9 1.8-.3 .5 1.6z M707.6 466.2l-2.2-1.5-2.3-1.7-1.1-2 .1-1 2.4 2.1 1.4 1.7z M737.2 526.7l-.2-1.3 1.1-2.1 1.8 .1 .8 .9-.4 1.6-1.9 1.3z M658.6 449.3l1-5.3 1.7-6.5 1.2-1.7-.2 2.8-1.9 7.5z M668.7 513.7l-2.3 1.8-3.8-.7-.8-1.6 .9-1.6 3.3 .6z M680.3 471.5l.5-2.4 1.6-1.8 2.1-.4 1.8 .9-2 2.1-1.8 2.1z M678.9 444.2l-2.9 1.1-1.7-2.7 .5-2.4 2.3-.3 2 1.5z M720.1 478.3l.2-1.2 .4-1.3 .8 .4 .7 .7-1 .8z M661.8 487.8l-2.1-.7-2.2-1.1-.4-1.6 1.6 .1 1.6 1.6z M729.1 529.2l-2.1 .3-.2-2.9 1.5-.3 1.2 1.4z M683.1 455.7l-.9 .1-3.4-6-1.1-3.2 2.7 3.4 2.6 4.2z M681.9 471.4l3.1-4 4.2-3.4 1.9-.7-5.3 5.7z M677.7 438.8l.7-1.4 1.8-.8 .1 .8-1 1.2z M722.1 483.1l1.3-2.2 3.9-1.5 2.1 .3 .8 .9-2 1.5-2.7 .7z M651.3 481.6l1.2-1.9 2.5-1.7 1.2 .4-.5 1.2-2.1 1.5z M723.6 512.2l.3-1.3 1.2-2.5 1.4-2 0 .8-.2 1.5-2.3 3.9z M727.5 426.5l-.2-2.3 2-4 2.4-.5 .5 2.4-2.6 2.9z M696.7 482.5l-.9-4.1 .5-4.3 1.2-1.8 1.5 1-.5 5.8z M665.8 452.9l-2 .1-2.3-.2-.1-.6 .7-.3 1.7 .4z M739.7 526.6l-.1-4.8 1.5-5.7 1.4-2.8-1.3 8.2z M723.8 474l-1.6-.3-2.4-1.6-1.4-1.5 1.5 .1 3.5 2.2z M715.1 503.8l-4.3-1.3-4.4-1.6-3.3-2 .3-.6 3.7 1.2 5 2.2z M725.9 511.8l-1-1.1 1.1-2.3 1-1.2 .8 .5 .6 1.3-1 2.4z M738.5 456.4l-1.8 1.2-2.1-.4-1.3-1.1-.1-1.5 1.8-1.2 2.2 1.2z M661.9 515.3l3.4-1.2 3.2-.3 2.1 1.1-1 2.1-5.4 .1z M698.3 496.4l.6-2 1.2-2.2 .2 .9-.6 2z M675.9 460.1l0-1.5 .8-2.7 2-2.4 .5 1.2-.9 2.5-1.3 2.4z M712.5 443.2l-2.2 .5-4-.3-3.2-1.4 3.6-.5 4.2 .6z M664.2 454.9l-1.2-.4-1.9-3.4-1.9-3.6 2.2 1.8 2.6 4.2z M703.8 490.6l-2.1-1.8-.4-3 1.9-1 1.8 .8 .7 2.9z M674.7 458.4l1.1-4.2 2.6-6.2 .2 1.8-1.7 4.9z M698 450.6l1.6-1.4 2.1-1.1 .3 .6-1.9 1.1z M683.4 516.1l-2.5-.8-4.2-3.3 .1-1.4 5 3.4z M682.7 463.3l1.4-.8 2.1-.6 1.5 .5 .7 .8-2.3 .4-2 .3z M653.2 528.4l-1.3-1.8-.6-6.5 .5-4.7 1.3 5.6 1.2 5.9z M653.5 458.7l-1.8-1.8-1.8-4 .1-1.6 3.1 5.1z M650.8 438.3l-.7-1.5 .2-5.4 .7-.9 .6 .9 0 5.1z M720.7 509.1l-.5-1.2 1.6-.8 .6 .9-.6 1.2z M666.6 466.5l-4-1.3-3.9-1.6-1.9-1.1 1-.2 5.4 2.3z M672.4 507.4l0-1 .6-2.2 .9-2.5-.3 2.2-.8 3z M654.5 524.3l-1-.8-1-1.8 .2-1.3 .5-.4 .8 1.3 1 2z M700.6 455.6l-1.9-1.6-.7-3.5 1.4-.9 1.3 .8 1.1 3z M668.5 493.2l-2.1-.6-1.7-.5-2-1.1 1.2 .1 1.2 .2 2.2 1z M658.2 458.4l-.6-.2-.4-3.8 .2-3.2 .6 .8 .5 2.6 .3 3.5z M668.6 448.1l.2-1.1 1-1.1 .4 1.1-.5 1z M709.5 461.6l-2.2 .1-3.6-3.6-1.7-3.7 1.6-1.1 3.1 2.9 2.3 2.7z M689.1 463.3l.2-1.2 1.5-1.3 2.1-.2-1.2 1.8-1.3 1.4z M687.8 448.2l-1.8 .1-1.9-2 1.7-1.3 1.9 1.4z M707.1 465.2l-2.1-1.1-2.8-3.4 2.1-.1 2 2.3z M676 453l-1.2-.6-1.3-1.2-.6-.9 .8 .1 1.7 1.5z M711.5 454.3l3.3-2.2 6.7-2.1 1.8 .2-7.1 2.8z M672.7 526.1l1.1-1.4 1.8-1.1 .4 .7-1.7 1.8z M680.1 526.1l-2.5 1.1-3.4-1-1.7-2.9 2-1.2 2.4-.9 1.9 2.4z M659.4 494.6l4.3-1.7 4.2 .6 1.2 1.4-5.4 1z M712 457.3l-3.1 .2-3.5-2.5 1.5-1.8 3.1 1.6z M658.3 507l2.5-4.8 5.3-6.3 4.9-5.3-2.7 5-5.2 6.2z M676.4 511.9l-.7-3.6 .9-4.8 1.1-1.4-.1 6.5z M663.1 439.9l-1 .2-5.3-2.5-2.8-1.6-.6-.9 3.9 1.6 4.6 2z M666.1 504.6l-1.8 .4-4.7-1.5-1.8-1.5-.8-1.1 3.5 .7 3.2 1.4z M677.4 486.2l-1.1-.5-1.1-1.6-.1-1 1 .4 .9 1.4z M713.5 431l-2.5-.8-1.9-2.8 .7-2.4 2.2 1.3 2.1 2.1z M725.3 424.2l1.2-.2 2-.3 1.2 .2 1.3 .3-2.6 .2-2.6 .1z M687.6 515.3l1.8-1.8 2.6-2 .9-.1-3.3 2.8z M703.5 525.4l-1.5 .2-3.3-.6 .9-.3 2.2 .2z M697.3 473.7l3.8-1 5.7-.7 1 .6-.9 .8-5.1 .3z M443.1 578.1l-2-1-1.3-1.4 .1-1.6 1.1-.4 1.5 .2 1.3 2.2z M414.1 557.2l-1.2-.8-1.8-1.6-1.5-2.2 1.3 .6 1.2 .7 1.2 1.9z M419.3 589.8l-1.3-1.9 .3-2.2 1.4-.3 .6 2.3z M461.9 609.7l-1.1-1.3-1.5-2-.7-1.7 1.3 1.4 1.2 2z M440.4 600.6l-1.8-1.3-2.8-2.9-4-4.1 2.3 1.6 2 1.4 3.3 3.6z M387.2 574.3l-.1-.4 2.1-1.9 .9-.5 .2 .2-.9 .9-1.2 1z M394.1 587.1l1.8-2.3 2.3-1.9 2.6-1.5 1.3 .2-2.3 2.7-3.1 1.7z M495.4 592.7l.6-.8 1.2-.8 1.7-.3-.5 .9-.6 .9-1.6 .5z M461.5 616.9l0-1.3 .9-2.3 1-.2-.1 1.2-.8 1.9z M499.8 574.6l-.4-1.5-.4-1.7 .1-1.2 .2-.6 .3 1.9 .5 2.5z M482.9 580.4l-1-1.1-1.3-2.8 .3-.5 .5 .2 1.3 2.8z M459 595l1.6-2.7 4.2-4.6 1.3-.5 0 1-4.1 4.2z M459.5 592.1l.7-1.5 2-1.5 .3 .7-1.4 1.6z M411.2 558l1.3-1.3 2-1.7 2-1.2-1.9 1.8-2.5 2.3z M472.5 602.7l-1.5-2.9-1.6-3.1-.2-3.1 .9-.1 1.5 2.6 1.2 4.5z M502.3 592.9l-.2-1.5 .3-2.5 .7-1.6 .5 .8-.6 4.5z M515.3 588.5l.9-.5 2.7-.5-.2 .7-2.6 .6z M468 565.6l.1-.6 .5-1.1 1.2-.1 .5 .4-.7 1.1-1 .3z M446.2 588.8l-.4-2.5 .7-5.2 .8-.7-.2 6.2z M473.3 591.2l1.9-2.7 2.8-1.8 1.9 .5-3.6 2.8z M456.7 643l1.5-1.8 4.1-3.2 0 .9-3.7 3.5z M387.5 548.5l.2-.4 1.6-.6 .9 .3 .1 .4-1.1 .4-1.5 .4z M461.7 621.5l1.9-2.7 3.3-3.8 1.7-.8-1.3 2.1-3.5 4.1z M451.1 549.6l-2.4-.4-2.2-1-.9-1.1 3.6 1.2z M458.7 618l1.8-1.6 3.2-.6-.2 1.3-2.8 1.9z M417.7 547l-.2-1.7-.3-1.4 .9-1 .9-.3 0 1.8-.2 1.9z M390.2 586.6l-.6-1.2 .6-1.2 1-.8 1.1 .6 .2 1.3-1 .8z M435.4 597.9l-.3-1.7 3-3 1.1 .6-2.1 3.9z M453.3 575.2l-1-1.4-.1-2.6 1.4-.8 .9 3.5z M479 652.4l-.3-2.5 .4-4.3 .4-3.2 .5-.2 .3 3-.6 4.1z M431.6 601.4l-1.3-.6-1.3-1.1-1-1 0-.6 1.5 1 1.6 1.2z M483.3 572.6l-1.1-.2-.7-1.3 1.2-.6 .8 .3 .8 1z M443.2 614.2l-2.3-2-2.9-4.2 .6 .1 3.2 3.4z M483.1 561.1l-1.5-1.4-1.5-2.7 .5-.9 1 .5 1.4 2.5z M411.6 606.1l-.7-.4-.3-4.7 .3-2.4 .5-1.3 .6 3.5 .2 4.4z M464.7 649.1l2.4-.7 3.5-.4 .2 .4-3.6 .6z M477 573.2l-2-.5-2.5-1.1-.6-.8 3.4 1.3z M476.1 626.9l-.4 .2-1.6-1.8-.5-1.2 .4 .1 .9 .8 1.1 1.4z M459.7 616.8l-.6 .1 1.3-5.6 1.4-4.4 .9-.9-1.2 5.6-1.2 5z M431.9 558.2l.1-1.2 1.2-1.8 .5 .8-.8 1.9z M750 544l12 0-2 6-8 0z M720.2 278.8l.3-1.8 8.6-8.7 3-1.6-3.5 4.5-5.9 6.1z M678.8 279l4.4-3.2 3.3-2.3 4.2-1-.6 1.8-2.3 2.1-3.8 1.2z M720.2 274.9l.9-3.5 4.3-6.7 1.7-1.1-4.5 8.9z M672.6 261.4l-2.9 3.2-4.1-.8-3.6-1.5-.4-3.9 4.1-2.4 4.8 1.5z M665.6 262l-4.3-1.8-11-10.3-1.2-3.4 14.3 11.7z M730.8 266.6l.5-4.8 1.7-6 1.3 1.7-1 5.5z M729.9 273.2l-2.1 1.3-4.7 .9-3.4-2.8-1.2-3.2 5.9-.4 4.4 2.1z M672.1 266.1l-5.3 .5-8-2.8 1.2-1.8 7.6 1.2z M697.5 270.7l-3.9-3.6-1.6-6.2 1.9-1.5 4 6.1z M652.2 254.8l3.7-2.6 9.4-1 9.6-.7-2.8 2.5-6 2-7.7 .5z M732.4 255.7l-2.6-.9 .6-3.9 1.6-3.8 3.5 2.1-.4 5.5z M664 251.4l3-1.4 6-1.7 9.4-1-1.4 2-7.7 1.9-6.4 .7z M662.7 260.1l-3.9 1.4-6.6-5.7 3.7-1.7 4.9 2.4z M647.4 264l-.9-1.3-.9-4.3 .6-4.9 1.3 2.7 .7 2.5 .1 4.3z M712.8 280.2l-7.1-4.9-4.9-6.9 .1-2.2 6.2 6.2z M660.3 253.7l1.4-4.9 3.3-6.7 .1 1.8-2 5.6z M733.4 282l-4.2-.5-3.2-5.5 2.1-1.3 3.9 3.2z M731.3 254.5l-4.5 1.2-10.6 .3-5.4-2.1 7.3-1.3 10.5-.1z M712.6 258.8l-4.5-1.1-7.4-2.9 .9-.9 7.3 2.7z M700.7 272.1l2.2-1.9 5.4-2.8 3.1-1.1-.7 1.3-8.4 4.6z M705.4 255.4l0-1 4-2.2 1.9-.2-1.2 1.6-3.9 2.2z M709 253.9l-2.3 1.9-5-1.2-.9-2.8 6 .1z M650.1 248.9l-.3-2.7 2.7-3 2.7-2.8 1 1.7 .2 3.1-3.6 3.2z M649.3 255.2l-7.8 1-7.4 .6-1.7-2.7 1.2-3 10.1 1z M650.5 262.9l-3.9 .7-6.1-2.1 1.8-2.2 5.9 .5z M438.6 218.8l-4.3 1.5-9.3-2.1-7.7-3.1 8.8 0 8.7 .9z M437.9 262.3l-2.1 .9-2.5 .2-4-.9 1.3-2.1 3.1-.4 2.4 .8z M425.6 216.6l-1.7 .8-2.8-2.8-1.5-2.4 2.6 .5 2.5 1.9z M452.6 212.7l-4.9 1.8-4.9-2.6-.6-4.2 7.5 .4z M444.8 264l1.8-4.6 6.9-.3 2.5 3.4-6.7 2.9z M452.2 216.7l-1.2-1.8 2.3-2.8 1.9 1.2-.8 3.4z M421.8 237.5l1.4-2.3 6.3-.9 4.1 .4 2.2 1.6-5.6 1.8-4.8 .1z M460.5 208.1l.9-2.8 2.9-2.5 1 .4-2.3 4.1z M454.9 273.7l-1.7-1-2.7-5.7-1.7-4.3 .9-.3 2.6 2.9 2.3 5.9z M464.1 256.2l.1-1.2 2.6-2.2 1.6 .2 .1 1.7-3.2 1.8z M423.4 263.1l5.1-3.6 9-.6-.4 4.8-8.4 2.5z M436 206.8l5.1-2.7 6.5-2 7.9-2.1 .4 1.5-7.8 2.6-5.7 1.8z M428.8 242l-2.1-2.9-1-3.8 1.3-1 2.2 4.4z M427.2 201.3l-1.6 .6-2.5-1.8-.4-1.9 1.8-.7 2.6 2z M435.9 210.1l-2.9-3.5 3-4.1 4.1 1.7 1 3.2-1.4 3.3z M454.3 249.7l-4.8-1-4.5-5.3 .6-2.8 2.7-.7 3.9 4.7z M450 241.3l-4.2-1.5-6.3-3.6-.9-1.4 7.4 3.8z M446.2 232.1l-4.1 .3-7.6-2.5 3-.7 4.4 .8z M435.6 265.6l-5.8-3.9-11.7-11.7 3.7 1 9.2 8.7z M443 225.7l-2.4 1.3-4.4-1.3-2.7-2.5 1.1-1.8 3.4-.3 3.1 2.3z M447.3 209.2l-.7-1.4-1.2-3.7-.3-3.3 .5-.5 1.2 4 .8 4.1z M456.3 260.2l3.6-3.3 5.3-.1 .9 4.3-5.6 2z M436.7 232.4l.4-1.7 3-5.1 4.2-6-1.5 3.8-1.1 2.9-3.9 5.5z M430.6 255.4l-.8-1.2 .6-9.1 1.2-10.7 .8 4.3 .1 6.5-.8 11.2z M423.8 255.5l-1.4-5.1 5.2-1.1 3.4 2.5-2.3 4.9z M445.2 204l-2 .5-6.1-5.6-2.3-3.2 3.3 1.1 6.7 5z M445.7 275.9l-3.7-.9 .9-5 3.6 .6 1.8 3.4z M446.7 278.9l-3.2-2.2-5.1-9.6-1.3-5.8 4.3 5.2 4.5 7.8z M456.5 254.4l-2.2-.6-2.2-1.1-2.9-1.6-.2-1 3.5 1.5 3.2 1.6z M462.5 200.3l-1.7 1.6-8.8-1.8-4.8-2.1 5.6-.3 8.1 .8z" fill="#000"/></g>
<g filter="url(#f3t)"><path d="M965 332.5l10-2.5 10 2.5 3.8 10-8.8 3.7-11.2-3.7z M991.2 312.5l7.6-3.7 3.7 3.7-7.5 5z M941 320.2l4 0 0 4-4 0z M955 327.2l4 0 0 4-4 0z M1052.5 360l7.5-2.5 2.5 10-7.5 2.5z M1080 362.5l10-1.3 2.5 8.8-10 1.2z M1162.5 360l10-2.5 5 10-7.5 7.5-7.5-5z M1182.5 370l10-2.5 5 10-10 5z M767.5 350l12.5-5 3.8 3.8-11.3 6.2z M775 367.5l8.8-1.3 1.2 5-8.8 .8z M1430 370l7.5-5 3.7-10 1.8 15-3 15-5 12.5-7.5 5.5-2.5-8 5-10z M1450 380l10-2.5 5 12.5-5 13-10 0 2.5-10.5z M1480 380l12.5-5 7.5 2.5 0 10-7.5 7.5-10 2.5-2.5-7.5z M1362.5 365l7.5-2.5 0 15-5 2.5z M1182.5 370l15-5 5 10-7.5 7.5-10-2.5z M1287.5 395l12.5 7.5 10 10 12.5 10 2.5 15-7.5 15-32.5 1.3 0-58.8z M1390 425l15-2.5 5 7.5-5 10-10 2.5-7.5-7.5z M1410 412.5l12.5-5 12.5-2.5 2.5 10-7.5 10-10 5-10-5z M1427.5 380l10 0 2.5 15-7.5 15-7.5-5z M1482.5 392.5l12.5-7.5 10 2.5-2.5 10-10 7.5-10 0z M1308.8 460l11.2-2.5 12.5-1.3-2.5 8.8-10 2.5-10 2.5z M1277.5 487.5l10-7.5 7.5 5-5 12.5-7.5 12.5-7.5 10-10 7.5-7.5-7.5 5-15 7.5-10z M1305 497.5l15-12.5 10-5 2.5 7.5-12.5 12.5-10 12.5-10 10-5-5z M1237.5 547.5l15-2.5 7.5 5-7.5 10-12.5 10-15 10-15 7.5-7.5-7.5 25-37.5z M396 232l6-10 8-6 12 6 12 4 4-2-1 3-15-2-12-5-6 5-5 10z M335.7 430l2.2-3.5 3.7-3.8 1.3 0-4 4.7z M330.6 445.6l-2-.5-1.9-1.8 .5-.4 2.1 1.1z M339.9 468.5l-1.6-.1-3-2.5-1.2-2.5 .1-1.9 3.2 2.9 2.9 2.6z M318.9 445.6l-1.8-.3-4.8-3.6-3.1-4.2 2.7 1 2.6 .6 5.4 5.4z M319.4 436.2l1.5-3.1 6.7-.7 .8 3.1-6.1 2.4z M344.1 479.4l-1.3-.9-1-1.4-.5-1.5 .3-1.1 1.5 1.5 1 2.1z M332.5 464.9l-1.2-.1-4-1.8-3.5-2.1 2.4 .7 1.5 .2 4.1 2.2z M311.2 440.5l-.6-3.6 1.2-5.2 1.3-2.4 1.2 1.3-1.2 7.5z M321 404l-2.8-.3-5.9-2.8-2.6-2.2 3.9 1 5.8 2.4z M333.9 456.9l-1.5 .1-2-.3-1-1.6 .9-.6 1.6-.7 2.3 1.7z M332.6 409.2l3.8-2.1 4.4-2.2 1.6 .1-1 1.2-5.3 2.1z M323.3 413.7l-4.3-3.3-4.6-4.1-2.9-3.7 4.4 3.4 3.4 3.3z M307.1 408.6l1.5-1.1 3.5-1.3-.6 .9-3 1.7z M335.7 395.7l.5-1.4 2.9-1.6 1.7 1.3 1.8 1.1-3 1.2-3 .5z M336.5 425l-3.9-5.8-3.7-7.5 .9-2.1 5 9.3z M324.3 429l-2.4 .2-5.7-2.1-2.1-2.7 3.3-.4 5.7 3.1z M314.9 442.7l6.2-2.7 5.1-1.9 5.3-1.3-3.7 2.1-6.5 2z M348.4 443.9l-4.7-3.7-4.7-4.8 0-1.2 5.5 5.2z M325.7 448.1l2.8-3.4 5.2-4.6 3.2-1.6-2.3 3-5.7 5z M325.9 421.2l-1.2-1.6-.7-3.1-.2-1.9 1 1.3 1.2 3.3z M325.8 478.2l.4-1.7 1.7-2.4 .2 .6-1 2z M329.1 401.2l-1.1 .1-3.5-1.7-2.9-1.7 .4-.4 3.1 1.2 2.3 1.3z M317.8 450.8l-2.7-2.7-3.9-6.9-2.3-5.6 .4-1.8 4 6.9 3 5.5z M339.7 441.1l-2-2.6-.4-5.1 1.3-1.4 1.7 5.9z M339.4 486.1l2.4-2.2 5.6 .4 1.5 1.7-6.3 1.1z M348 513.4l-1.6-1.1-1.3-1.4-1-2.1 1.2 .4 1.4 .3 .6 2z M322.8 401.4l-1.6-2.8-1.7-6 1 1 1.5 4.1z M344.5 446.9l-2 1.3-4.2-1.1 1.8-2.6 3.6-.1z M324.1 471.8l-1.3 1.3-3.9-2.1-2.5-1.9 2.8-.3 3.4 1.4z M334.7 452l.1-2.1 3.6 .8 1.5 1.1-.7 1.9-3.4-.3z M308.9 429.1l-.9-1.1 6.5-2.2 5-1-1.2 1.6-2.7 1.9-4.7 .9z M325.1 490.1l4.9-3.1 5.7-2.9 .1 .9-5.6 3.2z M321.8 425.7l.1-2.1 1-2.9 1.6-3.5 .9 .7-.6 3.2-1.7 3.3z M335.1 401l-.5-.6 5.7-3.7 4.7-2.3 1.7 0-6.1 3.9-4.6 2.9z M311.1 452.7l2.3-2.2 4.1-1.8 4.1-1.8 .8 .8-3.9 2.4-4.5 2.3z M325.8 469l-2.7-3.9-2.6-5.5-.5-2.1 1.2 1.1 2.5 5.2z M326.9 419.6l-4.7-1.3-6.3-3.8 .4-1.3 7.4 3.3z M319.5 403.7l-4-4-3.9-4.6 1.6 .2 3.5 3.8z M329.6 443.9l-1.4 .5-1.9-.7-1.8-2.2 1.9-1.1 2.1 .3 2.3 1.6z M326.5 428.8l.3-.8 2-1.7 1.5-.4-1.2 1.4-1.7 1.3z M346 415.8l-2.2-.7-1-2.9 2.4-1.2 2-.1 1.3 1.7-.3 2.6z M346 420.8l1.1-4.1 4.6-4.7 2.5-1.3-4.6 6.7z M319.8 430.9l-2.9-2.9-.2-7.6 2.3 1.9 1.7 4.4z M334.7 456.4l.8-2.9 2.8-3.6 1.8 .5-3 4.4z M320.3 444l-1.5 .3-2.3 0-1.6-.8 .2-.6 1.5-.6 3.5 .7z M319.5 419.5l1.1-2.4 7-3.6 5.2-1.8-2.4 3.3-8.4 4.8z M335.2 451l-3.5-.1-4.2-1.7 1.3-1.1 3.8 .6z M317.1 470.9l1-1.9 4.3-3.4 4.1-3.2 .1 .9-2.8 3.1-3.3 2.1z M335.1 483.2l-1.5-.2-1.6-.9-2-1.2 .3-.8 2.2 .9 2 1.1z M339.2 487.5l1.2-1.3 3.9-2.3 2.6-1.1-2.6 2-3.8 2.5z M329.9 406.3l-3.5-2.4-4-3.3-3.7-3.8 4.6 3.4 3.5 3z M317.3 471.4l1.1-3.6 5.9-9.4-.4 2.8-3.8 7.3z M341.9 445.5l.7-.8 2.6-.5-.3 .8-2.2 1z M335.6 446.2l-1.5-1.7-.9-3 1.1-2.9 2 2.3 1.1 3.9z M348.4 497.4l-.5-1.9 1.9-1.8 2.1 .2 .6 2.1-2.3 2.1z M343.6 414l5.9-4.5 9.4-4.5-.1 1.5-7.9 4.7z M327.8 476.1l.3-.5 2.5-.7 1.9-.3 .2 .4-1.7 .7-2 .4z M328.4 423.6l-1.2-2-.9-4.2 1-1.2 1.5 .4 .8 5.5z M335.9 462.1l-6-1.5-6.3-5 .4-2 7 3.8z M331.5 412.1l-2.8-1.5-2-2.8 .9-1.6 2.7 3z M322.8 421l-.9-.7 1-3.6 1.1-3.1 1 0-.7 3.6-.6 2.1z M340.3 417.4l-1-1.9-1.1-3.8-.6-3 1.2 2.3 1.1 3.9z M323.8 463.1l.2-.8 4.3-1.1 2.8 .3 1.3 .6-4.1 1-2.9 .2z M341.3 461.7l-1.2-4 .2-4.8 .5-3.7 1.2-.7 .9 3.8-.1 6.4z M339.3 438.7l1.1-4.2 2.6-1.6 2.3 1.5-1.5 3.7z M328.6 400.8l1-1.9 2.2 .3 1.1 2.2-2.8 1.1z M344.8 427.5l-1 1.1-5.3-.2-3.1-1.1 1.2-.7 2-.8 3.7 .8z M322.5 477l-.1-.9 2.3-3.7 1.5-1.9 1.5-1.3-1.8 3.7-2.6 4.1z M343.6 397.7l.6-2.9 3-1.9 2.7-1.3 2 1.2-2 3-3.2 2.1z M332 413.3l-2.7-.6-2-4.8 1.7-.4 2.7 2.9z M344.8 401.4l-.8-1.3-1.2-2.4 .4-.7 .8 1 .6 1.9z M317.6 410.3l-1.1-.8-.7-2.5 .6-1.1 .9 1 1.1 2.4z M317.3 458l0-1.5 .9-3.1 .6-.1 0 .9-.6 2z M312.5 428.7l-.7-1 1.1-1.3 1.5-.7 .3 1.2 0 1.2-1.2 1.2z M327.3 463.4l-2.2-3-2.2-6.1 .3-1.5 2.9 6.4z M319.4 452.1l-2.5-1.3-3.3-2.5-.8-1.9 4.9 3.6z M318 425.3l4.7-6.2 6.6-7.1 .1 1.9-5.9 7.1z M351.3 405.7l-1.2 .2-2 .2-1.2-.6-.2-.4 1.5-.4 3 .4z M341.2 404.7l1.5-2.1 2.3-1.7 .1 .9-1.6 1.8z M341.8 504.2l-1.2-.9-1.3-7.3 .9-2.3 1.4 2.6 .6 5.6z M341 452.6l-.1 1.5-2.1-.4-1.7-1 .7-1.3 1.5-.8 1.8 .8z M350.2 399.6l-3.2-1.4-4.4-3.9 .3-1.3 4.8 3.7z M323.1 405.8l2.8-1.1 7.5-.4 5.2 .7-4.5 1.3-7.4 0z M324.2 405.3l-5.6-2.7-6.9-6.6-1.3-2.6 8.4 6.6z M313.8 404l.6-1.8 2.4-1.7 1.2 1.6-2.3 1.9z M335.8 412.1l-.9-1.3 2.9-8.5 2.4-3.9-1.1 5.9-1.6 5.6z M334.6 427.5l2.8-2 6.9-2 6.9-1.5-6.6 2.9-6.9 2.6z M344 422.6l.5-3.1 .8-3.3 1.5-1.3 1.3-1-.9 3.3-1.5 3.6z M338.2 419.2l-1.9-2.1 1.8-3.7 2.1 .7 .6 3.8z M325.7 426.2l-2.7-.1-3.1-.8-1.5-1.1 1.6-.4 4.1 1.1z M315 454.5l-1.5-.6-1.6-1.6 .5-.6 2.3 1.3z M327.3 424.7l-1.3-.3-2.9-2.1-2.3-2.1 2.6 1.1 3.6 2.4z M339.7 439.3l-1.7 0-1.1-1.7-.1-1.3 2 1.5z M310.6 401.7l.9-.8 2-.1-.5 1-1.4 .7z M347.2 417.4l-2.4 .4-2.4-.5-.7-.6 3.2 0z M320.6 455.6l-.4-2.6 .7-2.7 1.1-1.3-.2 4.7z M325.3 418.6l.3-1.9 4.4-3.5 1.3 .5 .2 1.3-4 2.9z M326.7 448.6l-2.3-2.5-2.3-3.1 1.1 .5 2 2.3z M354.3 411.4l-1.6-5.3-1.2-8.1 .8-2.3 1.9 10.4z M323.7 406.6l-2.3-1-1.9-3.1 1.1-1 2.6 2.6z M345.3 504.8l-.2-4.5 1.4-5.3 1.1-1.1-.7 6.9z M308.7 433.4l-.8-.3 1.5-7.1 1.7-6.1 .1 3.2-.3 3.4-1.4 7z M324.1 466l1.7-.6 3-.8 .7 .3-1.2 .6-3 .8z M331.2 430.7l-1.3 .9-4.1-.3-2.1-1.4 2.7-.6 3.2 .4z M350.4 416.7l-3.2 .3-6.4-.2-2.6-1.2-2.4-.9 6 .3 5.3 .8z M318 436.7l-6.7-2.6-6.8-4 .2-.9 6.6 3.4z M317.7 441.4l.1-1.1 2.1-1.6 1.2 0 .2 1-2.5 2z M338 492.2l-1.9-1.1-2.3-2.5 .5-.3 2.2 1.9z M335.3 427.7l-2.6-3-2.3-5.7-.4-3.1 .8-.6 2.1 2.2 1 4.7z M327.5 457.5l0-2.6 .2-3.3 .5-1.4 .3 .7-.5 4z M334.7 396.5l2.4-2.1 4.3-2.2-.4 2.2-3.5 2.8z M310.5 440.6l-3.5-1.3-1.7-3.2 2.5-2.2 2.7 3z M338.2 456.7l.4-1.1 2.2-.8 1.2-.1 1.2 .2-1.6 1.3-1.8 .3z M338 413.9l-.6-3 2.6-5.7 2.5-2.7 1.4 .5-.3 3.7-2.8 4z M342.9 427.6l-1.2-.9 2.1-2.6 2.2-2.8 1.5 .9-1.2 3.2-2.1 2.2z M329.7 469.4l-1.8-1.9-1.1-2.1 0-1.2 .9 .6 1.3 2.1z M343.8 417.9l-1.6-.5-3.7-2.7-1.7-2 .6-.1 2.1 1.2 3.4 2.6z M316.3 471l2.2-.5 2.3-.4 1.8 .2 .6 .5-2.4 .5-2.3-.1z M341.3 442l2.2-2.3 6-1.6 1.1 1.2-6 2.6z M345.8 484.3l-2.8-3.5-3.7-7.4 .2-2.1 5.2 9z M337.2 492.7l0-1.6 .7-2.4 1.9-1.3 .7 .9-.7 1.9-1.2 2z M331.2 430.9l-.9-1.9 1.5-4.3 1.4-1.3 1.1 1.3-1.4 4.7z M342.7 501.2l-1.4 1-1.6-1.5-.5-1.5 1.4-.9 2.2 1.3z M323.9 422.9l-1.6-2.3-1.4-5.4 2-.4 1.8 5.6z M334.5 492.4l1.7-2.5 4.6-2.8 5.1-2.8 1.1 1-4 3.8-6.2 3.4z M330.2 457.9l-6.5-3.8-6.6-4.8-5.6-5 5.2 2.5 9.2 6.7z M328.2 420.6l.1-4.9 1.2-6.5 1.3-2.4 .2 3.1-1.2 5.4z M343.6 499.4l-5.7-2.8-7.4-5.1 2-.1 7.3 4.1z M348.5 409l.5-1.9 3.4-3.5 2.6-2.3-.9 2.3-3.9 4.8z M339.4 490.2l-4.8 .6-8-.6-6.9-1.2 7.5-.2 6.7 .4z M343.5 498.3l-2.7-.8-.8-3 2.2-.6 1.2 1.8z M326.7 399.8l1.2-1.3 2.4-1.4 1.3 1.6 1.4 1.4-2.4 1.5-2.8-.5z M312.6 421.8l-1.2-1.1-1.3-1.7-.3-1.8 1.5 1.5 1.1 1.6z M324.3 406.1l-.9-.7-1.1-5.3 .3-2.6 .5-.3 .9 3 .4 4z M342.4 415.3l-.3-2.9 .1-2.5 .4-2.4 .5-.1 .4 2.2-.6 2.9z M332.7 433.8l0-2.2 .9-2.9 1.3-.1 .8 1-1.3 3.3z M357 517.3l-1.4-.1-.2-1.6 1.2-.5 1.3 1z M342.4 511l1.6-1.4 4.2-.2 2.6 .8 .5 1.2-3 1-5.3 .3z M342 423l-1.2-4-.8-3.4 .9-1.9 1.2-2.3 1.2 3.9-.4 4.1z M315 412l-3.2-1.1-6.5-5.2 2.1-.1 6.3 3.7z M335.8 444.8l1.3-3 4.2-5.2 .2 .8-3.4 5.6z M310.7 443l-2-.4-.6-2.4 1-1.5 1.4 2.3z M315 409.1l-.4-1.9 1.9-5.4 1.8-4.8 .3 1.6-.6 3.5-1.4 4.3z M330.3 401.8l2.4-2.3 2.6-2.3 2.1-.6 .1 .5-1.3 1.6-3.8 2.5z M345.9 438.4l-.9-2.6-.7-4.3 .5 .3 1.2 4.4z M349.9 417.6l-1-.3-.3-2.1 .8 .1 1 1.3z M340.2 424.6l-1.7-2.4-2.7-8.4 1.3 1.1 2.7 6.5z M313 427l2.7-.7 3.7 .4 1.2 .6-4.6 .2z M343.5 444.5l-1.3 .1-1.9-.5-.6-.9 1.2-.2 2.1 .6z M326.9 427.4l-2.9-1.7-2.3-4.4 2.4-.2 3.1 3z M316.4 436.8l1.7-3.2 3.2-4.9 .2 .9-3.1 5.6z M319.4 467.1l2.8-2.2 6.1-1.3 3.8 .2-3.3 2.1-4.6 .8z M344.1 421.2l-.6-1.3 1-3.1 1.5-3 .5 1.6 .4 2-1.5 3.5z M330.1 468.6l-4.3-1.6-4.4-1.9-3.5-2.5-.2-1 4.6 1.8 5.1 2.9z M354.3 511.9l-1.6-.3-2.1-1.6-.1-3.1 2.2-.8 1.9 2.1 .5 2.3z M329.4 486.6l-.4-1.6-.5-3.4 .3-2.3 .5 2.8 .3 2.8z M331.5 424.8l2.4-2.2 4.4-2.6 3.7-1.5-3.2 2.6-3.8 2.3z M322.2 433.1l.2-1.7 .5-2.1 .5-1.1 .2 .6-.8 3.1z M331.4 445l.2-1.2 4-3.6 1.4 0-1 1.7-3.1 2.7z M325.7 409.7l-2.3-2.1 1.1-2.9 1.6-2.6 2.4 1.9-.2 4z M316.3 457.6l-.7-2.2 .3-4.1 1.2-2 .5 2.6-.3 3.6z M332.8 432.3l-1.9 1.2-2.1-2-.9-2.6 2.7 .2 2.2 1.2z M324.6 403.9l.3-2.5 5.4-2.4 1.2 1.8-4.5 3.2z M345.4 414l-1.2-1.7-.7-1.8 .2-2.1 1.1-.6 1.1 2.1-.1 2.1z M339.1 473l-2.3-6.2-1.7-6.5-1.2-6.2 .2-2.5 2.4 8.3 1.4 6.1z M326.8 461.7l-.6-.6-1.1-3-.7-2.6 1.1 1.4 1.7 4.3z M347.8 431.9l-1.1 1.3-2.1-.7-1.2-1.9 2.3-.4 1.6 .2z M331.3 446.5l4.3-3.1 5.8-3.3 3.1-.5-3.2 2.5-6 3.6z M302.1 418.6l5.7-.8 4.5 .2 .2 .9-5.2 .6z M347.3 502.7l-.7-.9-.9-3.6-.7-4.3 1 2 .8 2.1 .5 3z M336.7 486.7l.3-3 3.1-.2 1.1 2.3 0 2.6-2.9 .3z M323 434.8l-2.3 .7-3.2-1.6-.5-1.6 4.1 .9z M338.9 408.9l-.2-1.2 1.5-2.7 1.4-1.6 .9-.2-.5 2.4-2.1 3z M341.4 460l-1.6-3.8 .6-8.4 1.8-1.4 .2 9.1z M311.1 433.3l-2 0-4.1-1.6 1.2-.5 3.6 .8z M324.5 428l-2.8-1.8-.8-3.5 2-1.3 2.4 3.3z M330.7 460.9l1.4-2.5 2.9-1 1.7 .5 .5 2-3.9 2.1z M312.8 444l-2.3-3.1-2.2-3.5 .8-2.6 2.1 2.6 1.4 3z M326.5 475.3l-1-.9 .6-1.9 1.1-.8 1.2-.1-.2 1.7-.4 2z M314.6 430.2l-1.9 .2-1.4-1.2 .5-1.4 1.3-1.1 .8 1.7z M316.2 422.3l1.8-1.4 3-1.8 1.9-.7 1.5-.4-3.3 2-2.4 1.3z M329.8 426.8l-.7-6.2 1.2-7.7 1.5-2.9-.6 9.9z M318 420.6l3.6-1.9 4.9-1.2 4.7-.6-3.3 1.9-5.3 1.2z M341.3 413.1l-1.4 1.7-2.3-1.1 0-2.9 3 0z M351.2 400l-2.6-2.5-2.9-3.4-1.7-4.6 1.5-.8 3 4.2 3 4.5z M320.2 451.4l0-2.3 .8-3.4 .4 .2-.3 3.8z M314.5 406.4l1.7-3.5 3.6-1.1 .6 1.7-2 2.8z M332.3 488.6l-3-.6-4.6-2.6-1.5-2.3 2.3-.3 5.2 3.4z M325.9 433l.1-1.1 1.5-2.4 1.6-1.5 .3 .6-.7 1.7-1.7 2.1z M351.5 494l-4.1-3.8-4-6.2 .7-.3 3.9 4.7z M350.2 410.7l-3.1 0-5-1.4-3.4-2.2 4.4 .4 5.2 1.3z M320.2 419.5l.4-2.6 1.1-3.9 2-1 1.3-.4-.7 3.1-2.3 3.8z M327.1 450.8l-.1-.8 1-3.2 .8-2-.3 2-.9 3.6z M331.7 432.3l-1.8 .2-6.6-1.8-3.1-1.9-1.7-1.3 6 1.6 8.1 2.4z M322.9 396.5l.5-1.2 4.3-2.6 1.5 0-1 1.3-4 2.6z M337.6 414.7l-3-.4-3.6-2.5-1.2-1.5 5.8 2.4z M337.9 442.5l-2.4 1-9-1.4-6.9-1.7 7.2-.1 7.6 .8z M326.8 398.6l1-3.2 3.2-3.5 1.9 .4-.5 2.2-2.5 3.1z M328.9 397.3l-2.9 .6-2.1-1.8-.8-2.4 2.4-1.5 3.9 1.8z M333.5 434.1l-1.3-.8 1.9-3.3 1.6-1.1 1.5-.4-.5 2.8-1.8 2.3z M358.9 521l-3.7-2-4.5-2.5-1.6-2-.6-1 3.3 1.5 5.8 4.2z M332.3 434.2l-1.5-.2-5.3-6.7-1.3-3.5-.9-2.8 4.5 5.8 3.9 5.1z M315.6 446l-1.7-2.5 .4-2.6 1.2-1.7 .6 3.8z M349.5 432.2l-1-.9-1.5-1.6-.2-1.6 .4-.9 1.3 2.2 1.5 2.2z M340.1 463.1l-1.2-.3-.8-1.7 0-1 .4-.9 1.1 1.1 1 1.6z M346 444.8l-2 1-3.2-2.6-1.3-3 1.1-1.9 3.1 2.1 2.2 2.3z M327.3 413.9l-1.6-2.3-.1-6.4 1.3 .1 1 5.5z M308.3 424.2l1.8-1.3 4.5-.4 1.8 .6-6.1 1.6z M311.3 461.5l2.5-1.5 6.7-1.7 4.6-.8 1.8 .3-5.7 1.9-4.7 .8z M342.7 487.9l-3.5-.6-4-1-2.4-1.1 3.1 .5 5 1.1z M320.4 442.7l-.4 0-2.4-1.5-1.3-1.2-.9-.9 2.6 1.7 2.6 1.6z M329.8 468.4l-3.6-1.4-3.6-1.8-1.4-1.3 1.5 .1 5 2.5z M330.1 454.1l.2-7.3 2.8-10.6 2-2.7-2.4 13.9z M327.7 419.7l2-2.6 3.5-3.3 5-3.8 .8 .8-4 4.4-4.9 3.6z M356.2 507.4l-2.1 .2-5.9-2.7-.7-1.5 1.5-.5 5.4 2.7z M314.2 414.6l2.2-3.8 6-5.3-.4 2.6-4.1 5.1z M333.5 415.8l1.2-2.1 3.2-1.4 4.1-1.5-.4 2.2-2.5 1.8-3.4 1.8z M351.5 422.1l-2.6-1.4-2.6-3.9-.7-2.3 2.1 1.3 2.5 3.1z M341.1 493.5l-.2-1.1 2.6-2.1 1.4-.1 0 1.3-2.8 2.3z M320.2 424l-.6 .1-2.5-3.2 .2-.8 1.1 .9 2.1 2.6z M330 462.4l-.8-.2-2.1-2.8-1.3-2.6 .1-1.2 2.3 2.8 1.7 3z M355.5 404.4l-2.7-5.2-2.5-5.5 .7-1.8 1.7 1.8 2 5.4z M346.2 451.9l-2.7-.5-6.3-3.6 1.2-.3 6.1 2.6z M324.1 421.3l-.3-3.7 .2-4.4 1.9-1.4 1.1 2.2-1.2 4.1z M313.8 401.4l.4-2 1.3-2 2-1.4-.4 2.4-1.6 2.4z M337.3 439.3l-.5 .3-3.1-.9-2.4-1.2 1.2 0 1.6 .1 2.8 1.1z M331.4 435.2l-2.6-2.1-2.9-3.4 1.5-1 3.5 3.5z M356 409.7l-3.1-2.9-2.7-4.2 1.1-.7 3.6 4.2z M349.4 499.2l-.8-2-.8-5.2 .4-2.1 .9 3.1 .8 4.7z M304.6 400l3.6-.7 4.7-.6 5.6 .2-.5 .8-5.1 .7-5.7 .2z M400.7 517.1l-2-.6 .4-4 1.5-2.1 1.2 2.4 .2 2.9z M398.7 501.3l-3.5-2-5.3-4.2-4.6-4.4 2.3 .8 3.7 2.5 4.3 3.8z M415.3 508.6l-2 .3-4.6-.6-2.3-.8-1.5-.7 4.2 .4 4.3 .6z M397.7 486.9l-1.5-2.4 2.7-1.2 2.1 1.2-1.1 2.2z M392.7 487.7l-3.1-.1-3.2-3 1.5-2.7 3.5 3z M380.7 479.3l-1.1 .6-.8-1.4 .6-1.2 1.8 .7z M379.9 472.9l0-2.2 2.6-1.3 2.4-.5 1.6 1.4-2.3 2-2.3 1.2z M403.5 518.8l3.5-1 4.1-.7 1.1 .4-4.9 .9z M405.4 507.5l-5.3 0-5.4-2.3-1.6-1.9 7 1.8z M383.3 475.7l2.9-2.7 3.6-2.8 .3 .5-3.5 2.8z M377.1 464.6l-1-.1-2.4-2.2-1.9-2.2 1.4 .6 1.3 .8 2 1.9z M391.6 488.9l-.9-2.2-.9-3.8 .2-.8 .5 1 .8 3.4z M384.6 478l-1.4-2.7-.9-4.1 1-1.9 2 6.1z M399.3 515.4l1.3-.8 2-.5-.2 .8-1.6 .6z M405.5 501.6l-1.7 .1-3.1-.8-2.8-.9 1.5 0 1.5 0 3.2 .8z M385.9 471.6l-2.5 .1-5.2-2.7-2.5-1.9 1.7-.6 6.2 3.2z M382.4 471.4l2.4-.8 3.4-.3 1 .4-1.1 .6-3.5 .5z M385.2 484.4l-3.5-1.9-4.3-3.4-4.5-4.2 .8-.7 4.8 3.3 4.8 4z M391.3 493.3l-1.4 .6-6.1-1.4-3-1.6 3-.5 6.5 1.7z M399.8 494.6l-.7-3.1-.6-7.3 .8-1.8 .7 3.5 .8 7.7z M385.1 472.1l-1.8-.6-2.8-1.5-2.3-1.6 2 .6 4.1 2.1z M373.5 470.7l-.1-1 .5-2 .9-1.2 .8-.5-.6 2.2-.9 1.9z M410.3 529.4l-1.2-2.4-.7-1.7 .5-2 1.5-.2 .9 1.9 .3 2.4z M392.3 499l-2.8-1.2-2-2.6 2.5-2.3 3.1 .4 .7 3z M380 475l-1.1-.4-.4-1.9 .7-1 .9 1 .9 1.6z M412.1 526l2.1-1.8 2.1-1.3 3.1-.2 .8 1.8-2.6 2-3.4 .5z M376.8 464.3l-.2-1 1.4-.9 1.2 .3 0 .8-.1 1.1-1.4 0z M396.4 497.4l-1.6-3.4-1.8-9.2 1.1-.4 1.9 8.6z M380.7 471.8l-2.1 .5-2.7 .1-1-.6 1.4-.4 2.8-.3z M397.8 490.5l-.7-1.1 .1-2.8 .5-2.6 .9 .5 .4 2.1-.3 3z M394.5 502.7l3.8-2.2 7.2-2.7 3.6-.3-3.6 2.1-5.8 1.9z M389 491.6l-.3-2.3 4-6.4 .8 2.1-2.3 5.8z M395.6 504.5l-.7-2.7 .3-3.8 .7 .1 .5 3.8z M390.1 498.9l-.9-1.5-.7-2.6 .6-.6 .7 .5 .4 2.5z M413.8 518.2l-1.2-.2-3.9-1.6-.3-.7 .6-.1 4.2 1.9z M403.7 513.6l.3-5.5 2.3-8 1 1.3-1.5 6.6z M394.4 481.9l-1.2 0-1.5-.8-.4-1 .3-.6 1.2 .2 1.1 1z M394.2 493l-1.7-2.9-2.1-3.2 .2-4.1 1.6-.3 2 3.6 0 3.5z M396 489.4l-1.2-1.7-.1-2.5 1.4-3 1.7 2.2 .7 1.7-.8 2z M409.9 514.1l-.7-.8 1.2-2 1.2-2 1 .5-.1 2.1-1.5 2z M377.2 464l-3.1 .2-4.4-.2-1-.9 1.9-.2 4.1 .3z M404.2 509.1l-.2-1.6 .5-4 .8-1.1 .7 .5-1 5.8z M407.2 501.3l-2.7-1.5-3-3.9-.7-2 5.1 4.7z M387.8 473.9l-4.1-2.5-6.6-5.1-3.4-4 5 3.2 6.4 5.1z M405 524.8l2-1.2 3.6-1.1 .5 1.4-3.8 .9z M382.9 486.6l.9-2.2 2 .2 .7 1.4-1.4 .9z M384.8 471.4l-1.9-1.8-1.7-4.2 .8 0 2.4 3.5z M375.2 471.6l-1.7-.7-.3-3 .3-1.6 .9-1.3 1.5 2 .2 3z M402.2 509.5l0-3.3 1.6-2.6 1.2 .3-.7 3z M388.5 490.3l-.7-.8-.5-3.4 .6-1.7 .9 1.7 .3 3.5z M452.7 467.5l1.4-2.7 3.7-5.3 2.6-2.5-2.4 4.1-3 4z M412.2 450.5l.2-2 2.3-2.5 1 1.5-1.2 3.4z M452.4 457.1l1.2-3.4 2.8-1.9 3 1.8-3.2 3.7z M417.5 466.5l1.1-3.1 3.6-3.2 .2 2.1-1.8 3.2z M451.8 433.6l-1.8-1.8-3.1-5.4 .6-1.1 4.3 6.3z M446.2 451.2l-.6-.3-1.2-4.3-.3-3.8 .6-.3 1.1 4 .5 3.4z M406.1 451l-.7-1.2-.6-3 .2-2 .6-.8 .7 2.7 .2 2.8z M442.2 465.8l-1.8-2.4-1.3-2.7-1.1-2.8 .3-1.4 2 3.2 2 4.1z M438.1 440.4l1.5-.8 2.4-.8 3.7 .1-1.8 1.2-1.9 .7-2.5 .2z M404.3 433.5l4.2-2.3 8.5-2.2-.1 1.3-7.6 2.5z M457.9 464.1l-1.5-.9-1.5-3.6 1.2 .7 1.8 2.1z M418.1 481.7l-2.5-4.5-1.7-8 .5-2.9 3.2 10.1z M443.2 449.8l1.4-.9 6.5-.4 5.6 .6 .9 1.1-6.8 .5-5.6-.2z M411.6 458l3.7-1 6.2-.3 1.8 .7-1.7 .9-6 .2z M447.6 460.8l-2.2-1.4-2-1.5-2.2-2 .9 .2 1.6 .7 3.1 2.7z M447.6 470.6l-4.5-.5-5.8-1.6-2.4-1.5 2.8-.1 5.5 1.7z M438.2 459.1l-1.7-.8-4.6-7.8-1-2.9 2.2 2.2 4.2 6.4z M404.6 439.4l.3-1.4 3.3-3.8 2.8-.9 2.5-.6-4.1 3.9-4 3.9z M409.4 451.6l2.6-.6 2.1-.2 1.5 .2-1.5 .5-2.8 .6z M410.1 469.1l-1.1-3 2.2-2.9 2.9 1-1.4 3.3z M449.7 432.5l.9-1.7 3.8-.8 3.6 .4 1.2 2-4.6 .8-3.2 .6z M460.4 435l-2-.2-2.3-1.1-2.5-2.1 1.1-1.2 2.8 1.2 3.5 1.7z M412.9 454.6l-1.4 .8-5-2-3-1.9 1.4-.4 2.4-.1 3.3 1.9z M449.8 468.7l-6.9-.3-8.6-2.7-.5-1.3 8.3 1.8z M441.8 466.4l-1.3-1.2-1.4-3 .4-.5 2.2 3.2z M451 480.2l-.2-5.4 1.9-7.4 .8 2.5-.5 4.9z M424.7 443.7l-.3-1.9 2.3-.2 1.6 .4 .8 1.6-1.2 2-2.7 .1z M401.5 445l1.3-.6 3-.6 4.8-.2-.8 .9-4.1 .6-3.6 .5z M447.8 447.7l-1-.6-.3-2.4 .4-1.7 1.1 1.3 .2 2.1z M440.5 463.4l1.2-3.4 1.9-4.6 3.4-6.2-1.1 3.8-.9 3-3 5.8z M418.1 437.1l-.4-2.7 1.9-1.6 2 .7 1.7 2.2-2.5 1.9z M442.4 440.7l-3.1-.1-5.2-1.6 1.4-.3 3.7 .7z M445.2 431l.4-1 3.3-1.4 3.1-1 .4 .7-2.7 1.6-3.8 1.6z M441.4 473.4l-1.3-2.1-1.7-5.1 1 .4 1.9 4.5z M413.3 432l-3.5-.4-6.1-1.5-2.7-1.4-1.5-1 4.7 .9 4.6 1.6z M443.7 441.2l-.7-2.3-.7-2.1 1.3-2.1 1.8-.1 .3 2.7-.3 2.8z M412.4 454.8l2-1 1.4-.6 1.6 .3-.4 1-.6 1.3-2-.4z M439.4 457l.2-.9 2.5-2.6 1.7-.8-1.5 2.1-2.2 2.5z M448.4 469l-1.5-.7-1.2-1.7-.7-2.4 1.3-.1 1.5 1.4 .3 1.6z M433.3 439.5l7.4-3 9.8-2.5 2.4 .9-12.4 3.8z M418.9 469.3l5.6-3.7 6.6-3.6 .1 1-6.8 4.1z M424 451.3l-.9-6.7 .2-7.2 1-.4 .8 8.4z M404.5 452.2l6.2-1.7 10.3-1.2-.4 1.2-9.5 1.6z M417.9 478.8l-.1-1.4 2.2-.3 1.4 .5-.5 1.4-2.2 .9z M430.1 457l-5.9-.7-5.6-1.4-3.4-1.5 2.4-.4 7.5 2z M424.1 431.9l-.1-1.1 1.3 0 .6 .6-.1 1-1.2 .3z M455.1 433.4l-3.6-2.8-4.7-6.8 2.2 .1 5.2 5.5z M433.2 483.3l-1.7-1.5 1.2-2.6 1.4-2.2 1.5 1.4 .7 1.8-.8 3z M432.6 451.7l-2.3-1.3 1.3-3.1 2.1-1.4 2.4 .1 1.2 3.1-2.2 2.7z M450.4 431.3l-2.2-1.4-2.6-2.5-1.3-2.3 2.1 1 3.2 3.2z M417.7 428.5l-.7-1-.4-1.2 .4-.9 .6-.8 .6 1.5 .2 1.7z M426.1 432.2l6.3-.8 7.8 0 1.7 .9-9.9 .5z M417.7 470.5l4.1-2.3 4.9-1.5 2.4 .1-7.4 3.3z M411.5 446.4l-2.1-1.6 1.3-5 2.7 .1 1.8 1.6-1.7 3.6z M434.2 485.1l-3.2 .6-3.4-3.4-1-2.8 2.9-.3 3.9 2.7z M436.8 480.6l-2.5-1.3-2.5-1.9-2.2-2-.2-1.1 3.1 2.3 2.5 1.9z M458.4 430.4l-2.8-.8-2.8-.8-2.9-1.4 1.2 0 2.3 .6 2.7 1.2z M433.3 443.8l2-2.1 2.8-2.6 .9-.2-.1 .8-3.3 2.6z M408.2 455.8l.8-1.1 6-3.4 3.2-.7-2.5 2.2-6.5 3.3z M416.7 444.9l-.6 .3-1.4-.2-.7-.8-.2-.8 1.5 .5 1.2 .4z M439.4 474.1l-2.1-.9 .7-2.5 1.8-2.3 2.3 1.3 1.1 2.6-2.1 1.6z M447.6 463.5l1-2.9 4.1-3.4 1.8-.3-.5 1.9-3.4 3.8z M450.2 448.4l-1-1.2-1-2.7 .9-3.2 1.9-.3 1 3.5-.3 3.6z M424.5 464.2l-2.5-5-2.3-5.1-1.1-4 2.3 4.6 2.2 4.7z M415.7 450.6l2.1-3 2.9-2.5 1.7 3.1-.6 2.4-2.8 2z M416 477.7l-2.4-1.8 0-4.5 2.7-2.1 1.7 2.9 .1 3.4z M451.2 458.9l-.5-1.4-.2-3.5 0-2.9 .4-.9 .5 3.4-.1 2.8z M432.3 446.6l1.7-3.6 3.3-4.4 3.1-3.2-1.4 3.5-4 5.5z M431.9 457.8l-.4-1.2-.3-3 0-1.7 .2-.4 .3 2 .4 3.1z M407.7 451.9l.9-1 1.8-.5 1.7 .2 .1 1-1.6 .6-1.6 .2z M451.6 454.2l-1.2-.1-2.5-1.9-.3-1.2 1-.4 3 2.6z M422.6 444.7l-2-.8-.6-2.3 .8-.6 2.3 1.5z M446.5 461.1l-1.2-.5-.2-2.3 1 0 1 1.7z M411.2 446.3l.2-.4 4.3-.7 2.4 0 .2 .3-2.5 .6-4.9 .8z M456.5 440.3l-2.2-2.1-3.3-8.1 2.3 1.4 3.5 6.1z M435 460.5l-.7-1.2 .2-4 .2-3.3 .7-.2 .3 3.3-.2 3.2z M438.1 451.3l5.4-3.9 7.4-3.5 .1 1.8-6.2 3.2z M404.6 475.9l-1.9-1.4 .2-2.4 2.2-.1 .5 1.9z M445.3 456.1l-.6-1.3-.9-4.1 .8-1.7 .9 2.6 .6 3.9z M416.8 487.3l1.9-4.2 3.2-6 1.5-.5-.9 2.7-3.4 6.3z M431.1 465.2l2-1.6 2.3-1.2 1.8-.4-.3 1.2-4 2.1z M428.7 451.7l-1.4-.8-2.7-6.6-.5-2.6 1.6 1.5 2.8 6.2z M451.3 441.1l.3-1.4 2.8-1.5 2.4-.2 .2 1.1-1.2 1.9-3 .4z M426.5 458.5l-2.9 .2-5.8-.7 1.7-.4 4.6 0z M428.8 481.1l-.6 .4-3.5-1.8-1.7-1.3 2.5 .7 3.2 1.3z M427.1 471.7l-.1-1.6 2.9-3.2 1.8 .5-.5 2-2.3 1.9z M457.4 475.2l2.9-3.6 8.7-8.7 .7 1.3-9.1 9.2z M416.8 434l-.9-1.9-.3-3.5 .4-.7 .7 .2 .5 3.8z M423 471.3l-.9-1.1-1-2.1-.9-2.5 1.3 1.7 1.3 2.8z M450.1 455.8l-.6 1.6-4.1-2.5-3.4-2.2 1.1-1.2 3.4 1.2 4.4 1.7z M435 481.1l-.4-1.8 2.4-.5 2 0 1.1 1.5-1.6 1.8-2.7 .5z M430.2 431.4l-.8-.3-2.2-2.8-1.2-1.9 1.5 1 2 2.6z M426.1 478.4l-3.2-1.8-3.9-3.3-4.9-4.9 1.4-.5 4.8 3.3 3.7 4.2z M423.1 462.9l-.8-2.7 .4-5.2 1.6-2.9 1.2-.1 .3 3.7-1.2 4.9z M441.2 448l-3.6-1.5-2.6-1-3.3-2 1.7 .2 2.1 .6 3.5 1.9z M445.9 462.2l-1.8 .8-4.4-4.2-2.7-3.7 4.1 1.8 3.3 3z M461.4 472.3l-.2-.7 3.5-2.5 3.8-2.6-1.2 1.7-2 1.8-2.6 1.9z M431.8 465.4l-.3-2.3 .5-3.6 1.8-1 .4 2.2-.7 3.5z M421.5 460.3l-.6-2.1 1-2.3 1.5-1.9 1.8 .2-.7 2.8-.9 2.9z M457.8 461.5l1.3-5.7 2.1-6.1 2.1-3.4-.6 4-2.3 6.4z M457.8 449l-1.6 .2-2.1-.8-1.9-1 .5-.7 1.9 .1 1.9 1z M408.8 464.2l-.6-1.1 .6-5 .9-2.7 .5 2.5-.7 4.5z M445.9 480.4l-2.2 .4-.7-3.1 1.6-1.5 1.8-1.7 2 2.4-1.3 2.5z M452.3 466.8l-1-1.4-.9-2.7 0-1.4 .7 .9 .7 2.4z M445.2 450.7l1.3-1.7 4.7 .1 3.1 1.4-2.9 1.6-4.4 0z M463.4 478l-.7-5.1 .1-9.5 1.1-5.5 .5 7 .1 9.6z M446.1 452.7l3.7-1.7 9.4-1.9 1.5 1.2-10.4 2.3z M425.4 464.7l-.5-2.5 1.8-4 1.6 0-1.2 4.7z M460.6 449.3l-4.1 .3-4.2-.7 .4-.6 3.9 .1z M413.3 456l-1.4-1.4 .5-2.6 2.7-.4 1.7 2.2-1.6 2.1z M432.9 474.9l.5-1.7 2.2-2.5 .1 1.9-1.1 1.8z M452.4 431.4l-2-2.8-1.3-4.3 1.8 .4 1.6 3.3z M433.4 485.1l-.7-.5 .8-4.4 1-3.9 0 4-.5 3.4z M410.3 448.5l-.2-3.3 2.8-11.3 1.1 1.2-2.2 9.9z M408 468.4l-1.7-.9 .6-2.7 1.6-2.1 1.6 1.2 .1 2-.6 1.9z M464.5 455.8l-1.3 .6-6.9-2-3.6-1.8 4 .3 5 1.6z M413.5 471.7l-.9-1.2-.5-2.7 .8 .4 1.1 2.2z M430.7 484.3l-1.8 .3-2.5-1.5-.6-2 2.1-.1 2.1 1.5z M401.9 460.7l.8-3.4 3.4-5.7 2.2-2.8 2.3-2.3-3.3 6.1-2.4 4.3z M417.6 444.8l-1.3 .6-2 0-1.6-1.2 .4-1.2 2-.1 2.5 .4z M468.4 470.9l-.4 .8-3.7-1.2-3.8-1.7 1.1-.8 3.4 .9 4.1 1.1z M435.5 451.7l-3-1.9-2.7-3.2-2.6-3.5 .7-1.4 3.5 3.1 3.4 4z M446.6 454.6l-1-7.5-.6-7.1 .8-2.4 .9 3.4 .7 7.8z M425.9 435.7l-1.6-.2-2-.7-.8-1 .5-.2 1-.2 1.6 1.1z M444.1 457.6l-.9 .8-6.9-2.2-4-2.2 .1-1 4.5 .6 4.6 2.4z M414.1 445.4l.1-.8 1.4-1 1.5-.1 .1 .8-1 .8-1.1 .4z M457.4 454l-.6-.7 2.7-1.6 2.7-1.9-.8 1.5-.9 1.3-2.4 1.8z M417.6 445.5l.2-1.5 2.8-2.2 3.3-1.6-1.3 2.8-3.3 2.1z M435.5 460l-.5-.7 1.9-3.3 .8-.4-.2 1.3-1.1 2.8z M420.7 461.3l-2.1-1.1-4.1-3.4 .2-.9 5 3.7z M426.1 449.5l2.4-2.4 4-.7 1 1.4-3.9 1.8z M453.3 467.9l.8-3.3 3.1-6 .8 1.4-2.5 5.1z M461.3 455.2l-1.3-1.8-1.8-7.2 1.1 .5 1.6 5.6z M443.4 430.2l4-2.3 5.9 .1 2.3 1.8-7.5 1.2z M418.1 482.3l2.7-3.2 4.8-3.1 3.8-1.1 1.8 .6-4.6 3.1-4 2.4z M434.1 455.5l-1.4-1.4-.3-2.9 1.8-1.8 1.9 1.8-.5 3.1z M453.8 451.4l.4-2.8 1.5-3.1 1.4 .6-1.1 3.8z M409.2 471.3l-2.6-.2-5.5-2.2 1.5-.4 4.5 1.2z M455.9 472l.2-6.3 .5-5.1 .9-1.5-.5 7.1z M427.6 465.4l.3-3.2 5.1 0 1.5 3-4.8 2.5z M411.9 442.2l3.4-2.7 5.4-3.2 6.1-3.2-.4 1.1-4.2 3.2-8.5 4.8z M449.6 447.5l1.9-3.4 2.5-2.9 1.8-1.2 .3 1.3-3.7 4.2z M446.6 470.3l-.6-2.8-.2-7.6 .9-1.9 .7 2.6-.2 6.6z M423.3 456.6l-.7-2.3 .8-2.3 2.2-.3 1.2 1.9-1 2.5z M435.8 466.9l-2.4-1.8-2.4-6.2 .1-4.1 2.9 3.6 1.4 4.6z M440.1 439.4l-3.9-2-5.1-3.2-5.4-4.3-.8-1.9 7 4.3 5.2 4.3z M420.3 449.2l-1.6 1-5.7-1.2 .9-1.2 4.6 .3z M421.8 431.8l1.7-1.7 1.8-1.4 1.4 .7 1.6 .6-1.7 1.8-2.9 .7z M456.4 470.5l-4.2-1.4-2.8-1.4-3.9-2.8 1.2-1.6 4.1 1.5 3.5 2.7z M451.4 467.3l1.6-2.6 8-6.5 3.7-1.6-2.5 3.2-8 6.6z M492 519.9l-3 .1-5.7-2.6-.7-1.6 6.9 2.2z M491 504.3l-.6-.8 1.6-6.6 1.5-4 1.3-2.1-.9 6.1-1.8 5.2z M511.5 523.6l-1.9-1.8-2.1-4.3-1.5-4.6 2.9 3.8 2.9 5z M475.9 521.3l1.2-1.7 3.1-.8 2.3-.2-1.7 1.5-2.6 1.3z M518.2 516.7l-2.1-4.2-2-5.4-1.1-4.6 2 3.3 2.1 6.3z M498.4 516.7l-.5-2.5 .9-2.7 3.1-1.4 1.3 3.1-2.2 3.1z M496 499.1l-4.5-.2-9.4-2.6-6-2.1-1.4-1.3 7.5 1.3 10.6 2.9z M445.4 488.2l-2.6-.8-2.7-1-1.4-1.2 1.5-.1 3.4 1.7z M514.7 492.3l-2.2 2.6-4.7-1.7 2.2-4.2 4.1 .1z M468.5 499.1l.6-1.3 2.6-1.5 1.7-.1-.7 1.5-3.1 2z M506.9 511.1l.3-2.3 .8-2.1 .7-.1-.6 2.9z M497 526.2l-2.5-.5-4.9-4.6-4.2-4.9 5.4 3.3 4.6 4z M476.9 498.2l-.9 .9-6.6-1.6-3.8-1.2 .2-.7 3.3-.1 6.9 1.6z M431.6 496.1l1.8-3.5 3.7-4.9 2.9-2.8-.7 2.6-5.3 6.9z M484.2 510.9l-2-.1 5.2-7.1 3.6-3.5 3.1-1.7-4.5 7-3.7 4.5z M505 487.2l-1.9-.5-5-3.8-4-3.6 4.8 2.8 5.5 3.7z M489 491l-1.1-1.8 .6-3.5 2.5-1.9 2.7 0-1.4 4-1 3.5z M510.5 526.5l-1.2 .5-7.2-2.1-6.4-2.7 .7-.9 6.4 1.5 5.9 2.3z M512.5 530.8l-6.4-4-5.7-3.8-3.7-3.8 5.1 2.7 6.3 4.5z M508.1 527.4l.4-3.6 4.5-2.9 .5 2.5-1.9 3z M498.5 505.5l-2.8-.6-2.2-3.5 1.8-1.6 3.1 2.9z M512.1 522.9l-.3-1.6 3.2-2.4 3.4-.7-.3 1.9-1.4 2.1-2.8 .7z M436.2 499.6l-1.5-5.2 .8-7.6 1.7-.2 .5 7.7z M481 516.4l-.5-.1-1.3-2.2-.9-2.2 .2-.6 1.5 2.3 1 2.2z M517.5 506l1.6-2.5 1.8-2.3 1.7-1.5-1.2 2-1.9 2.3z M458.1 509l-.3-1.8 1.1-4.4 .8-.6 0 1.7-.6 2.4z M494.2 506.4l.9-6.9 2.8-10.4 2.4-3.6-1.2 6.7-2 8.3z M467.1 489.6l.5-2.5 3.2-6.3 2.8-3.4 2.8-2.8-3.2 7.2-4.4 6.6z M443.6 490.1l1.7-2.2 2.6-2 .2 1.6-2 1.9z M452.1 490.6l.1-2.1 3.2-2.1 3 1.7 .6 2.5-2.6 2-3.3 0z M508 518.9l-1.5 .4-1.2-1 .1-1.1 1-.9 1.2 1.1z M506.3 514.6l2.3-4.1 3.3-4.6 1.6-1-4.5 7z M472.3 496l-.1 .6-2.5-.5-2.5-.4 .1-.6 2.5 .3 1.9 .1z M524.6 500.7l4.5-4 7.8-3.8 1 2.5-7.3 4z M469.7 495.1l-3.7-.3-3.7-2.3-.3-2.8 2.8-.6 3.7 2.5z M478.6 494.9l-3.6-2.1-8.8-7.6 3.4 1.3 6.9 5.4z M469.1 526.7l.5-1.4 8.8-4.6 7.8-3.5-5.9 4.4-8.4 4.4z M487.7 523.9l-2.3-1.5-1.1-2.6-1.3-4.1 2.5-.6 2.4 2.8 .7 3.6z M473.4 491.1l-3.7 .8-9.3-1.4-2.7-1.5 11.5 .8z M471 506.5l.5-3.4 3.7-2.1 2.3 1.1-3 4.2z M481.9 509.1l.3-3.7 2-2.6 1.6-.4-1.2 4.3z M499.1 526.9l-.5-1.9-.2-2.4 .7-.9 .7 .9 .3 3.3z M512.7 501.7l-1 0-.9-1.2 .8-.9 .7-1.2 .8 1.4 .2 1z M454 497.4l1.6-1.4 5.7-1.1 3.2 .1-3.3 1.5-4.3 .9z M472.3 485l-.1-3 5.1-2.5 1.8 1.9 .5 2.5-4.5 2.1z M506.4 504.8l.3-1.4 1.3-1.8 1.4-.6-.5 1.5-1.1 1.4z M520.4 527.8l.3-.9 4.5-1.1 1.9 .2-2.3 1.1-3.5 1.3z M536.7 487.6l-4.7-.7-7.3-3.4 2-.3 4.9 1.8z M489.3 495.3l.7-1.7 2.8-.6 .4 1-2.2 1.7z M513.3 485.6l-1.8-2.3-.6-4-.1-4.7 1.9 1.5 1.1 2.8 .1 3.4z M511.2 530.1l-.4-1.3 3.3-1.9 2.7-.7-1.4 2.3-2.8 1.5z M479.7 501.8l1.6-2.4 3-.3 0 1.9-2 2z M521.3 515.9l-.2-3.3 6.1-6.6 1.8 1.8-4.5 6.4z M470.5 497.4l-.5-1.4 1-1.5 2.3-1.4 1.2 2.1-.5 2.3-2.1 .9z M503.8 523.5l-4.3-1.1-6.3-3.2 .3-1.2 1.8 .2 5.7 2.4z M525.2 486.1l-.6-.8-1-2.6-.1-1.5 .2-.5 .8 2 .9 2.6z M464.6 489.3l-1.3-.5 1.5-8.6 1.6-1 1.2 1.4-1.6 8.8z M519.1 486.8l4.9-1.9 11.3-.7-2.7 2.1-8.1 1.3z M529.1 490.5l-1.8 .6-2.8-2.9-.5-3.5 1.7-1.1 2.8 2 2.1 3.7z M487 514.7l2.7-1.5 6.2-1.9 5.2-.7-2 1.3-2.7 1.5-4.8 .7z M488.6 512.6l-1.4 .7-1.7-.1-1.3-1 0-1.5 2 .2 1.7 .3z M443.4 490.2l-1-.4-2.5-1.9-1.7-2.4 .3-.7 2.7 2.5 2 2z M529.6 494.3l-.3-1.1 .7-2.8 .6-1.7 .3 .1 0 1.6-.7 2.6z M472.4 520.5l-2.5-2.7-1.9-5.5-1.9-5.5 1.2-1.1 2.6 5.8 1.5 4.2z M507.1 492.6l-4.1-2.2-4.1-4-2.4-4.6 4.6 2.5 4.7 4.5z M480.8 505.4l2.4-2.7 7.2-3.4 1.1 .3-6.5 4.2z M481.6 498.4l-1.3-1.1-2.4-4.8-.6-2.5 1.9 2.5 1.5 3.2z M440.6 498.1l-.5-2.6 .5-4 .7-.4-.1 4.3z M474.7 518.8l-.8 .6-3.3-2.1-3.3-2 .8-.7 3.1 1 3.7 2.1z M462.3 509.6l-.2-2.6 0-5 1.3-2.5 1.5-3.2-.2 6.1-1.3 7.3z M505.8 500.2l-.4-1.9 1.6-.9 1.6-.7 1.1 1.4-.5 1.7-1.6 1.1z M501.4 525.4l-.9 1.4-1.8-.9 .2-1.6 1.7-.3z M508.8 490.1l3.2-1 3.7 .3 1.1 1.3-5.4 .8z M494.9 512.8l.4-2 1.2-2.7 1.2-1 .5 0-.1 1.6-1.8 2.7z M513.1 521.8l2.4-2.7 5.3-3.8-1.3 2.4-3.1 2.5z M515.4 492.2l-2.1-1.8-4-6.3-1.8-3.7 2.7 2.9 4.9 6.8z M482.5 506.7l2.5-1.9 3.7-2.3 2.5-.7-3 2.1-2.7 1.5z M479 489l-1-.2 1.5-3.9 1.8-2.8 .1 2-.3 1.9-1.2 2.4z M496.2 491.6l3.7-4.4 7.1-6.4 4.2-2.6-2.7 3.7-8.5 7.8z M471.3 515l-1.3 .7-7.5-4.7-4.8-4 1.6-.3 4.5 1.5 6 4.6z M517.7 500.8l-3.2-2.2-2.7-3.9-.5-1.9 1.7 .6 2.3 3.3z M438.5 491.1l-2.8-1.6-3.4-5.7 1.5-1.2 1.9 .1 2.2 4.8z M452.7 489.4l-.6-.9 .2-2.7 1.7-1.5 1.5-.1-.8 2.9-.8 3.2z M513.5 486.4l2.6-2 3.3 .8 1.3 2-4.5 1.3z M495.8 487l-.7-.9-.6-2.7 0-1.6 .4 0 .7 1.3 .3 2.4z M490.1 502.4l-3.5-1-2.9-6 1.6-2.4 5.2 5.7z M487.8 491l-.6-.8-.4-3.2 .8-3 .7 1.5 .5 1.9-.3 2.7z M509.9 490.9l-3 .6-3-.6-3.1-2.6 2.5-1.9 2.8-.1 3.8 1.4z M462.7 504.9l-.2-3.3 1.7-4.4 1.3-.1-1.3 4.3z M500.1 506.9l-3.4-.8-3.4-2.3-2.5-3.7 1.6-2 3.9 2.8 2.1 2.5z M529.7 498.4l-2.1 1.7-3.9-2.5 1.3-2.4 4.4 .4z M474.2 498l1.8-1.6 2.7-1.5 2.6-1.3-.2 .6-1.7 1.4-2.5 1.1z M521.2 482.3l-3.9 .5-3.3-2.5 1.8-3.4 3.4-1.9 1.7 3.5z M436.8 496.7l2.8-1.5 4.1-1.2 2.9 1.5-2.8 2-3.7-.2z M491.6 491.4l-.2-4 2.8-6.9 2.7-1.2-2.6 9.2z M467.9 526l-2.9 .3-.2-3.2 .3-3.1 2.9-.3 2.3 2.1-1.1 2.5z M501.9 516.3l-2.1-2-3.1-3.3-.7-1.5 1.8 1.6 2.8 3z M492.3 490.9l3.4-5.1 6.1-7.3-1.3 3.4-3.7 5z M445.2 496.3l.2-2.8 1.6-3.5 1.1-.3-1.1 5z M524 524.1l-1-.7 1.1-7.2 1.6-3.8 .1 4.8-.7 5.9z M472.4 499.9l-4-2.5-5.9-5.2 .1-1.1 .8-.5 6.8 6z M533 486.7l-1.3 1.3-3.4-4.7-.8-2.6-.3-3 3.6 3.8 2.8 3.6z M502.3 527.1l-1.3 .7-5-2.2-2.5-2.8-.5-2 5 2.6 4.6 2.2z M511.2 500.2l-2.8-.8-2.2-1.3-1-1.2 3.7 1.6z M482.9 506.5l.3-1.4 5.5-1.9 3.6 0-.5 1.3-2.1 1.8-5.5 1.1z M519.2 515.8l-1.5-4-.2-7.4 .8-1.5 .8 7.5z M524.6 484.7l0-3.1 1.2-3.9 2.4-1.7 .8 1.1 0 2.4-1.9 2.9z M511.5 484.3l1.7-2 2.5-1.5 .3 .4-2.1 1.9z M498.4 504.4l-1.8-7.3 0-10.6 1.6 1.4 1.1 8.9z M501.7 497.3l-.1-3.5 3.5-5.5 2.1-2-.2 2.8-2.4 5.7z M468.1 491.2l-.4 .8-2-1.3-1-1.2 .2-.7 1.7 .3 1.2 1.3z M453.7 492.6l1.1-2.9 4.4-2.4 3 1-2.3 2.7-3.1 2.3z M531.9 490.5l-1.8-1.1-2-7.5 .8-5 2.6 5.5 .9 5.2z M524.9 528.3l-.9-3 1.8-2.7 1.2 .2 .2 3.3z M491.5 497.4l.7-1.5 6.6-2.9 3.7-.5 3.5-.1-5.8 3.3-6.1 1.6z M492.5 494.8l3.3-4.7 4.7-4.8 .5 .7-3.9 4.5z M501.2 491.4l-3.9 1.3-7.8-.1-4.6-1.7 5.2-1.3 7.7 .2z M490.7 516.8l1.2-2 2.8-2.7 1-.3-3.1 3.7z M498.6 507.5l.1-1.1 1.3-3.4 2-4.6-.3 1.9-.6 2.7-2.1 5.2z M486.1 514.8l-1.1 .8-1.3-.6-.4-1.2 1-.8 1.9 .1z M533.5 479.9l-1.5-.9-1.5-1 .5-.9 1 0 1.2 1.2z M526.8 517.4l-3.6-3.8-2.1-6.6 .7-2.9 3.4 7.5z M514.9 518.9l-1.2 0-3.6-1.6-2.6-1.4 2.4 .5 3.8 1.6z M530.7 495.9l-1.8-.3-1.7-.4-1.6-.9-.3-.7 2.3 .7 1.6 .7z M534.5 512.1l-1.4 2.8-3.9-1.3-2.5-2.8 1.2-3 3.7-.4 3.9 1.6z M456.5 491.5l-5.3 .5-9.2-.9-.4-1.1 8.7 .5z M497.7 500.1l6.5-4.1 8.4-4.8 4.9-1.3-5.7 3.8-7.8 4.1z M524.7 532.3l-1.3-2.9-1.3-3.9 1 .6 1.3 3.4z M453.8 493l-2-.9-6-10.5-2.1-5.8 4.9 7 5 7.7z M515.1 492l-3.1 1.8-3.5-2.1-2.4-3.2 3.8-1.3 3.7 1.7z M462.7 504.6l-1.8-.5-1.3-1.7 1.1-.8 1.7 1.2z M520.4 490.6l-.5 .9-6.8-1.7-4.6-1.7 5.2 .5 4.9 1.1z M526.1 502.3l1.6-1.7 3.4-1.9 5.6-2.7-1 1.9-3.2 2.5-4.2 1.7z M528.3 498.4l.7-1.3 2.4-2.3 1.3-.5-3.1 3.5z M489.2 517.8l.8-.9 2.5-.7 1.8 0-.2 .7-1.4 .8-2 .3z M507.5 490.9l3.2-2 2.9-.5 1.6 1.8-4.1 1.6z M479.4 490.3l-.1-3 1.2-5.4 1.9-2.4 1.6-1.4-.6 4.7-2.1 4.7z M501 530.3l.4-3.8 .6-4.1 1.4-2 .8-.2-.5 3.1-1 3.8z M474.3 528.5l-1.4 1.2-5-3.3-2.3-2.5-1-2.4 4.9 2 4.7 3.2z M501.7 490.6l-6.5 .5-7.1 .2-5.7-.8-2.5-1 8-.4 8.5 .6z M464.7 505l-.7-1.3-.4-6.6 .6-2.3 .9 2 .1 6.1z M488.9 518.6l.1-1.4 3.1-2.5 2.1-1-1.4 2.2-2.4 2.7z M444.5 487.6l.7-2.3 2 1.3 0 1.6-1.8 1.7z M523.7 529.1l-.5-4.9 1.3-6 1.7-6.4 .5 5.4-1.3 6.5z M486.2 498.4l-.7-.6 .6-2.5 1-1.1 1-.7-.2 2.3-.8 2.2z M507.4 482.6l3.5-1.7 3-1.6 3.1-.8-.2 .6-2.4 1.4-3.5 1z M459.2 504.6l1.9-2.4 2.8-1.1 .5 1-2.2 2.4z M521 504l-2.6-8.6-2-7.4-.7-6.3 .9 .7 1.9 4.6 2.1 10.6z M488.2 516.9l.6-2.6 3-1.6 3.2 .5 .4 2.5-1.9 2.2-2.8-.2z M475.1 501.8l.6-.8 1.6-1.2 2-.7 .2 .5-1.8 1.3-1.6 .7z M576.3 498.8l-1.7-1.6-.9-2.7 .4-1.9 1.8 .1 1.6 4.4z M571.6 459l-2.6-4.6-2.8-5.8-.3-4.6 1.4 .8 1.9 3.6 1.3 4.6z M554.1 405.9l-2.2-2.8-1.8-5.4 .8-.9 2 5z M550.2 468l-.3-1.1 1.4-1.1 1.4-.4 .1 .9-.1 1.2-1.4 .5z M577 406l-2.4-3.9-4.6-12.2 2.6 3.2 4 8.7z M558 421.6l-1.1-1.9 .6-2.3 1.5-2.3 .6 2.7-.3 2z M564.6 436l.6-1.8 2.4-2.8 2.7-1.5-1.1 2.7-3 2.9z M581.3 422.1l1.3-1.5 3.5-2.1 3-.9 3-.3-4.4 3.2-4.8 1.8z M567.4 481.4l-1.5-.4 0-2.1 1.4-.9 1.1 1.1 .5 1.8z M574.5 451.1l.1-1.8 .6-1.8 1.4-1.5 .8 .5-.2 1.9-1.3 1.9z M535.8 506.8l3.1-4.3 5.3-4 1.7 .6-5.4 5.1z M550.8 505.6l2-1.7 4.8-.2 4.3-.1-1.1 1.4-2.7 1.2-4 .2z M558.1 487.7l-.3-2.5 2.1-4 2.2-.2 .6 2.1-2.4 2.9z M563.8 414l-1.6-.8-2.1-2.5-.7-3.1 1.8 .7 1.8 .8 .9 3z M541.1 506.2l-2.2 .2-2.1-1.3 .9-2.4 3.3 .8z M594.9 461.4l-2.1-1.1-4-3.1 .6-.4 4.6 3z M551.5 491.4l-2.5-5.7-2.4-6.6 .7-.6 2.7 7.1z M560.3 431.6l.4-1.8 1.7-1.2 .6 .8-1 1.6z M550.8 455.6l.3-1.3 1.7-3.1 1.3-1.6-.1 1.5-2.3 4.4z M573.9 411.2l.1-1.9 .9-2.3 2-.4 1.7 .4-.9 2.4-2 1.9z M581.8 441l-2-.5-5.6-3.5-2.6-2.8 4.1 2 5.1 3.2z M562.9 459.9l-.6-3.1-.4-4.2 .6 1 .6 3.7z M590.9 477l1.8-1.4 3.2-.4-.4 1-2.3 1.1z M546.9 409.2l.9-.6 4.1-.5 1.7 0-1.2 .6-3.7 .6z M556.5 470.8l-1.4-3.6-1.6-5.4 .3-3.6 1.8 3.7 1.7 6.7z M565.7 398.5l-1.8 .1-2.8-2.8-1-2.3 2.2 .4 3.4 2.8z M567.2 430.7l-.4 1.1-2.4-.4-1.3-.9-.5-1.2 2.1-.2 1.7 .7z M561 498.5l-4-.7-4.1-1.3-1.8-1.1 6.6 1.7z M587 463.9l-3.6 .1-4.6-.7-.4-.6 5.1 .3z M584.3 481.3l-3.2-.9-3.2-1.8 .7-.5 2.9 1.2z M557.2 495.4l.9-3.4 3.7-5.6 2.2-2.4-.3 2.3-3.9 6.6z M557.9 495.8l-2-1.6-1.2-6.8 .5-3.8 2.1 3.7 1.5 5.7z M574.2 417.2l.7-1.7 3.9-4.2 1.6-.8-1.3 2.1-2.6 2.7z M549.2 493.9l.9-3.5 3.8-2.2 2.3 2.5-3.5 2.7z M588.8 485.2l-1.8 1.1-1.8-1.2-1.4-2.3 2.5-1.5 3.1 1.3z M581.3 465.9l1-5.4 2.3-7.5 1.3 .1-2.4 8.2z M571.6 458.1l3.6-3.3 3.8-2.8 2.6-1.5-1.6 1.9-4.2 3z M537.3 475.7l2.3-4.5 7-7.6 2.4-1.5-1.6 3.1-5.7 7.2z M551 456.9l-1.7 .5-3.2-1.3-3.2-1.5-.4-1.6 4.2 1.1 3.3 1.4z M575.4 402.4l-1.5-.8 .2-3.8 1.1-2.6 1.9-1.8 .1 4.6-.1 4.2z M578.5 411l-2.4-1.6-2.9-3.3-.2-1.3 .8-.4 3.1 3.9z M596 472.9l-2.6-2.9-1.7-5.4 1.9-1.3 2.3 5.7z M550.5 406.7l1.5-1.6 5-1 .3 1.2-4.4 1.4z M559.2 465.3l-.9 .9-1.8-.7 .3-1.2 1.9-.1z M605.5 455.1l-4.1-.1-5.8-1.3-5.2-1.4 1.7-.4 3.6 .3 7.1 1.4z M548.8 425.6l-2.4-1.3-3.3-3.2-2-3 3.1 2.1 3.3 3z M548.1 431.6l-1.8-2.4-.7-2.6 .1-2.2 1.2-1.6 2 2.6-.2 3.2z M592.9 452.4l2.3-4.1 5.6-7.5 .7 1.2-5.2 6.9z M560.8 458.4l2.9-1.3 3.7-1 3.5-.4-2.7 1.4-4.5 1.1z M572.3 426.7l-2.2-1.3 .3-2.8 1.4-1.9 1.8 .9 2.3 1.3-1.8 2.3z M590.4 479.8l-2.9 .5-4.4-.4-3.7-.5 .6-.6 2.8-.2 4.4 .4z M540.2 401.5l1.1-1.1 2.8-1.4 3.2-1.1-1.2 1.2-1.7 1.1-3 1.5z M582.7 403.6l-2 .4-2.2-1-1.9-1.3 .1-1.4 2.7 .8 2 .8z M565.4 424.5l-1-1.6 .1-6.8 .2-7.3 1.2 .7 .7 6 0 7.8z M597.3 470.6l-2.2 .6-2.9 .5-.9-2.9 .7-2.6 3.2 0 3.1 1.7z M562.3 507.1l-1.3-5.8-.9-8.7 .3-5.9 1.3 6 .8 8.4z M567.4 495.3l-3.4-.6-2-3.7-.3-2.5 2.4-.5 2.5 3.8z M559.9 500.2l-.8 .2-1-1.9 .1-.8 .7-.2 1.2 2z M580.9 413l-2.4-1.7-2.3-2.4-1.1-2.3 0-1.5 2.7 2.4 2.6 3.2z M587.1 456.4l1.8-6 2.6-6 2.3-4-1.4 4.8-2.2 5.4z M580.4 455.1l3.3-2.9 6.1-3.7 2.6 .2-2.7 2.5-5.5 3.3z M582.5 458.1l-.8 .3-2-1.6-1.1-2 .9-.6 1.9 .9 1.6 2.1z M546.1 442.4l-.8-3 .4-3 1.5-1.2 1 1.6 0 3.7z M568.2 408.3l3-1 6.7 0 1.6 .7-7.7 .6z M550.9 418.5l1.3-2.8 5-.6 2.7 1.3-1.8 2.5-4.2 .8z M561.2 400.2l-6.3-2-4.9-1.7-6.7-3.4 2.3-.1 5.1 1.5 6.1 2.9z M553.7 408.8l2.3-2.4 4.4-2.6 4-.3 1.1 1.3-3.5 2.7-4.9 1.4z M557.4 505.5l-.4-1 .6-5 .7-.8 .4 1.2-.7 4.5z M573.4 414.6l-1.6-1.7-.7-1.8 .6-.5 1.3 1.8z M580.8 475.9l-2.3-1.9-4.6-6.1-3.4-6 4.5 4.5 5.2 7.2z M588.4 477.1l.1-2.9 3.1-3.3 1.3 .6-2 3.9z M575.3 426.2l-1.7-.9-2-4.2-1-4.7 2.1 1.3 1.7 2.7 1.6 4z M560.3 418.1l-1.6-2.7-2.1-4-.2-2.9 .6-.9 1.7 3.6 .9 3.3z M553 400.9l-2.3 .5-6.1-1.2-2-1.5 3.1-.1 4.6 1.1z M538.5 502.9l.8-2.6 2.7-3.9 2.2 1 .2 2.3-3.2 2.4z M570.2 430.7l1.1-3.6 2.9-4.1 .8 1.2-2 4.4z M579.3 511.5l-1.9-1.7-2.9-5-.7-4.4 1.3-.4 2.4 4 1.9 4.9z M593.3 441.2l.2-1.7 4-5 .3 .9-2.9 5.1z M573.4 401.9l2.3-1.7 3-2.1 2.4 .9 .2 1.2-1.9 1.6-3.1 .2z M537.3 431.1l-.2-2 2.2-1.9 2.4 0 .6 1.6-.4 2.4-2.7 .4z M562.7 468.9l-1.5-.1-3.1-.7-1.7-.8 .3-.3 1.8 .3 3.3 .9z M547.1 453l1.2-2.4 3.2-4.3 2.9-2.2-2 3.5-3.7 4.7z M557.6 462.4l-1.7-.8-2.6-3-.1-1.1 3.3 3.2z M554.2 450.1l-1.5 1.1-6-1.6 1.6-1.2 4.8 .1z M539.2 481.2l3.9-1.4 4.6-.1 .8 1.3-5.8 1.4z M553.7 422.9l-3.6-6.9-3.9-9.2 1.5 .8 3.8 8.3z M596.1 458.2l-.8-1.8-.9-5.9 .4-3.1 .5-2.4 .8 5.8 .6 5.6z M585.9 444.8l.1-1.7 4.6-2.3 1.9 .6-1 1.9-3.7 1.6z M562.5 420.4l.1-2.1 3.2-2.1 .6 1.6-1.9 2z M574.8 454l-3.2 .8-4-1.3-3.1-1.7-.8-2.2 4.5 .1 3.6 2.1z M567.9 451.1l4.1-1.9 4.2-2 5.1-.1-.7 1.7-4.2 1.6-4 .6z M538.1 446.2l2-1.9 3.2-2.3 1.9-1 .4 0-1.7 1.5-3.2 2.2z M577.5 501.6l-.7-1.4-.5-2.2 .4-1 .7 1 .1 1.8z M583.4 491.7l-3.9-.1-5.6-1.1-1.6-1 2.1-.2 4.7 .9z M577.6 474l1.7-2.3 5.1-3.9-.4 1.4-3.6 3.1z M592.5 494.1l-2.7 .9-5.5 .2-5.8-.9 2.4-1.1 4.1-.2 5.5 0z M590.3 480.7l-.8-1.9 .5-1.7 1.1-.9 1.3 .4 1.4 1.5-1.6 1.5z M547 469.3l-2.7-.8-4.3-2-4.2-3.8 2.3-.2 3.8 1.4 4 3.3z M575.7 431.6l1-1.1 2.7-.8 1.7-.3-1 1-2.7 1.2z M554.9 463.1l-2.1 .3-4.6 0-3.8-.3 1.8-.3 1.9-.4 4 .3z M538.5 410.1l-.4-1.3 1.4-.4 1.3-.1 0 1.1-.4 1-1 0z M564.1 440.6l2.9-1.4 5.2-2 4-.7-1 .9-3.2 1.3-4.8 1.6z M546.5 453.8l-1.8 .3-4.7 0-2.8-.4-.9-.5 3.7-.2 4.4 .3z M558.8 502.6l8-3.1 6.9-1.7 3 .5-9.8 3z M560.5 447.9l-1.6-.7-.9-1.2 .7-.5 1.7 .6z M593.8 439.3l-.6-4.6-.2-3.6 .2-5.7 1.2 .3 .3 5.3-.3 4z M553.2 464.1l-3.9-.2-6.8-1.9-3.1-2 4.5 .6 6.7 1.7z M553.7 441.2l-3.3-.9-3-2.3 .2-3.7 3.6 .5 3.4 3z M554.8 505.4l.3-1.1 2.8-2.6 2.6-1.5 .2 .7-1.6 2.1-3.1 2.1z M547.4 425.2l-.2-1.5 1.6-1.6 .6 .8-.7 1.4z M581.4 496.4l-2.6-.3-3.1-1.2-2.7-2.8 2.5-.2 2.2-.3 3.5 2.6z M579.3 427.6l-.8-.5-1.5-2.6-.5-2.5 .7 .1 1.3 2 1.2 2.8z M583 470.9l-.9-7 2-9.8 1.8-.7-.6 10.7z M541.1 461l2.4-1.3 4.1-1.4 .5 .4-.6 .6-3.2 1z M570.8 439.1l.6-1.9 2.9-1.2-.2 1.4-1.3 1.2z M561.1 411.3l-1.7-.6-1.3-3 .7-2.7 2.5 1.3 1.6 4z M591.1 410.1l-1.5 .2-3-1.9-.4-1.6 2 .5 2.6 1.4z M586.3 508.2l1.4-3.2 5.1-3.5 1.4 1.8-4.5 4.5z M549 489.4l-.1-1.6 .8-2.3 1.2-1.1-.9 4.1z M546.7 505.7l-3.5-6.8-2.1-8.9 1.1-.8 3.2 8.7z M547.6 459.8l-.6-1.1-.1-1.8 .9-2.2 1.2 .3 .3 2.2-.9 1.7z M543.2 440.4l-1.3-1-1.3-2.2 .1-1 1 .5 1.3 2.1z M555.3 423.3l-1.1-.5-2.6-2.9-2.4-3.7 1.1 0 2.6 2.9 2.7 3.3z M570.7 454.8l-6.6 .4-5.1 .2-5.1-.4 1.3-.6 3.5-.5 7.7 .1z M557.7 406.8l-1.9 .7-1.8 .2-1.2-1.5 .7-1.7 1.8-.2 1.2 .8z M593.9 403.4l-5.1-.1-6.7-.8-4.8-1.4 2.2-.3 2.9-.2 7.5 1.3z M582.3 429.5l2.7-1.9 4.8-2.3 2.4-.1-.1 .7-1.7 1.4-5.5 2.1z M579.5 468.9l-2.2-3.2 .9-5 1.3-3.2 2 2.2-.6 4.9z M578.4 410.5l-4.8-3.8-5.9-7.5 1.9 .5 5.5 5.5z M571 409.9l0-2.5 1.6-4.6 1.5-.7-1.6 6z M565.4 473.3l1.4-1.1 6.4 .1 4 .5-1 .7-3.1 .6-4.4-.2z M545 436.8l2.4-1.2 5.9-1 2.9 .2-2.4 1.1-6.4 1.3z M577.1 476.4l-2.7-.6-2.1-1.6 1.2-1 2.2 1z M557.3 463.3l-2.7-2-.5-3.3 .2-3.4 2.3 2.5 1.8 3z M571.2 466.1l.8-3.2 3-2 2.5 1 .3 2.8-3.3 1.6z M562.3 455.2l-1.3-.9-1.3-1-.2-1.4 .7-.3 1.1 .6 1.2 1.8z M577.1 470.1l-.3-1.9 1.9-3.1 2.5-.7 .8 1.2-1.1 2.1-1.7 1.5z M572.9 504.2l1.1-5.5 2.6-7.1 2-4.1-1 4.7-2.2 7.6z M541.3 457.4l-1.2-.7-.7-1.5 1.5 .1 1.1 .7z M569.2 449.4l-.3-1.4 .5-1.7 .7-1.1 .5 1-.5 2.2z M547.5 494.8l-.8-2.8-.5-2.3 1.2-1.6 1.2 .5 1 1.5-.2 3.1z M572.8 466.5l.4-1.6 5.2-2.7 3.3-1.2-2 2.3-4.6 2.8z M562.5 506.7l-1.8-.5-3.4-2.6-.8-2.5 .7-.7 2.4 1.9 2.4 2.5z M547 418.6l-1.1-1.7 3-.8 2 0 .1 1.4-1.1 1.3-2.5 1.6z M581.6 471.7l-1.9-.7-1.5-1.1-1.1-1.6 .4-1.1 2.2 .4 1.8 2.5z M578.5 410.8l-2.1 1.2-2.2-.8-.1-1.4 2.5-.6z M570.8 446.6l.4-2.3 4.4-6.1 3.3-3.7-.5 2-1 2.7-3.4 4z M552.8 488.4l-2.6 1.8-3.6 .4-.8-2.5 .8-2.9 4.4 .5z M584.1 419l.7-1.3 2.3-2.2 1.7-.9 .6 .2-1.7 1.8-2.6 2.5z M561.9 451.2l-1.8 1-3.3 0-.5-2.4 1.9-1.2 2.6 .8z M546.6 405.8l4.2-3.2 7.6-4.4 7.8-3.6-3.8 3-3.5 2.5-8.9 5z M576.9 436l-2.1-3.1-1-3.9 2-3 2.8 2.1 .3 4.9z M584 512.7l-2-3.3-2.1-4.8-2.4-5.7 2 3 1.4 2.6 1.5 3.6z M560.6 404.6l2-1.9 5.5-2 2.4-.1 .5 .6-1.9 1.7-5.8 1.9z M590.8 450.2l-1-.3-1.2-2.6 .8-.2 1.5 2z M579.8 410.5l6.2-3.7 6.6-2.8 .3 1.5-6.4 3z M548.3 400.6l-.7-.5-.1-1.8 .3-.8 .6 .7 .3 1.6z M543.4 441.2l-.7-1.7 .7-3.1 1.1-1.2 .6 1.6-.4 3.2z M568 406.5l-3.3 1.3-4.3-.7-1.4-1.6 6-.6z M592 472.2l1.7-3.6 2.6-3.2 1-.3-2.6 4.3z M545.3 414.8l-4.9 .3-5.1 .1-3.5-.8 3.8-.5 6 .1z M547.9 471.3l-1.8-.1-2.1-1.8-1.9-2.8 2.9 .3 3.7 2.7z M581.2 421.8l.1-5.5 1.8-7.7 1.2 .9-1.2 6.8z M570.7 483.9l.1-1.9 1.9-1.5 1.5-.6 1.1 .5-1.1 1.7-1.5 1.4z M587.4 494.1l.6-2.6 2.6-4.1 .9-.7-2.3 4.9z M552 436.6l-2.1 1.3-5.3-1.3-.3-1.9 6.2 .1z M572.5 402l-3-1.5-6.7-6 1.8 .2 5.6 4.5z M546.6 462.9l-1.8 .5-3-.4-.5-.8 .7-.7 3.2 .4z M542.7 443l-1.1 .1-2.3-2.4-1.3-1.8-.6-1.8 2.9 2.4 2.9 2.7z M567 450l2.3-2 4.2-2.1 3.7-1.6-2.1 2-5.5 3.1z M671 486.1l-2-.2-1.4-.5-1.4-1.9 1.9-.8 1.8-.2 .6 1.7z M660.8 473.2l-1.6-1.6-1.7-3.4-.1-2.1 1.6 1.6 1 2.7z M670.3 478.6l-1.5-1.4 .4-2.4 2.3-.7 1.7 1 .3 2.1-1.5 1.4z M665.3 507.1l-1.1-1.3-.7-5.4 .1-2.5 .3-2.3 1.4 3.9 .4 5.3z M658.4 498.7l.7-3.6 2-2.8 1.3-.8-1.7 4z M671.2 470.8l-1.9-1.5-2.1-3.1-1.6-2.6 .6-.3 1.9 2 1.5 2.6z M666.5 499.9l2.6-1.5 2.9-1.4 1.1 0-.7 .7-3.2 1.4z M650.9 462.9l2.1-2.6 3.7-3.6 2.3-1 2.3-1-3.6 3.5-3.8 3z M660.4 474.3l-3.6-.3-6.5-1.5-4.4-1.9-1.3-1.3 6.9 1.7 4.2 1.5z M664.6 496.9l.5-1.5 2.1-3.4 1.5-1.5 .3 .3-1.2 2.1-1.7 2.4z M657.2 505.9l-.5 .1-1.2-2.3-.8-1.9 .6 0 1 1.4 1.3 2.4z M654.1 468.2l1-.7 2.2-.9 1.9-.4 .5 .2-2.2 1-1.8 .5z M655.9 489.1l-.3-2.1 .7-3.5 1.4-2.4 .9 .4-.5 2.8-.8 3.4z M659.5 489.6l1.8-1.6 2.8 0 1.5 .6-.6 1.5-2.9 0z M657.3 461.3l-.9 .2-1.5-.9-1.1-1.5 1.7 0 1.9 1.2z M659.3 504.6l-.3-1.3 1.5-.7 .6 1.1 .2 .9-1.1 .3z M654.8 483.8l-2.2-1.6-3.7-3.6-2.1-3.1 3 2.2 4.1 4.4z M657.6 477.6l-.8 0-2.9-3.2-.1-1.1 1.1 .3 2.4 3z M660 504.5l.8-2.1 2-2.8 3.1-2.9-1.1 3.3-3.2 3.9z M668.3 473.3l-1.8 0-2.2-.6-2-.9 1.6-.3 2.9 .9z M672.5 462l-4.8-1.6-5.1-2.7 2.5-.3 4.4 1.3z M668.5 481.6l2.7-.5 3.2 0-.1 .7-3.1 .2z M655.8 488.5l3.8-2.3 5.8-2.3-.3 1-5.2 2.5z M657.4 460.4l-1.2-.4-1.1-1.7-.1-1.9 1.2 .4 1.1 .5 .8 2.1z M664.1 491.1l-6-1.8-6.8-3.5 1.6-.3 5.7 2.2z M647.9 486.8l1.9-1.3 6.3-1.5-.8 1.5-5.1 1.5z M669.5 498.1l-2.8-.4-3.7-2.6 1.3-1.5 3.7 2.1z M655.6 474.1l.6-.8 3.8-.7 2.7-.2-1.5 1-4.2 .8z M650.3 470.1l1.8-.9 3.2-.3 0 .6-2.9 .7z M660.2 502.7l-2.1-1.2-1.7-1.4 .3-.2 1.8 1.2z M316.3 393.2l-6.2-3.6-7.8-5.4 2.6 .5 7.1 4.3z M341.4 377l-.6-.6-1.2-3.5-.6-3.3 .7 .4 1 2.7 .6 2.9z M308.8 370l1.7-.5 1.5-.5 1 .2 .1 .2-1.2 .4-1.6 .2z M336.6 371.7l2.1-1.1 5.6 .4 .9 .9-6.6 .8z M310.8 385.5l2.2-1.2 4.3-1.3 1.3 .8-1.4 1.2-4.3 1z M352.5 368.3l-2.8 .4-5.5-.5-2.1-.9 2.8-.2 4.2 .5z M344.6 384.2l-1.2 .3-3.6-2.1 .1-1 .7-.7 2.9 2.1z M312.1 389.4l-1.9-.6-1.4-1.2 .2-.6 1.8 .9z M309.2 374.9l-1.7-.5-.3-3 1.2-1.7 1.8 1.1 .6 3.2z M322.9 384.7l-1.4-.5-2.7-1.8-2.1-1.6 0-.4 2.4 1.3 2.5 1.7z M316.3 391.2l.3-.9 1.7-2.2 1.2-1 .8-.4-1.5 2-1.3 1.5z M311.3 377l-2.1 .4-2.3-1.9 .7-1 2.9 .4z M349.5 376.9l-.4-1.7 0-2.1 .9 .2 .2 2.2z M346.3 389.3l-.2-1.8 .9-2.3 .8-.3-.6 2.7z M312.1 386.8l-3.5-1-2.7-3-.1-1.6 4.4 2.5z M301.9 384.3l1.4-3 4.1-2.6 1.5 1-3.8 3.7z M349.4 377l-.9-1.7-1.4-5.2 .9 1.5 1.2 3.5z M310 381.5l1.3-1.8 2.1-1.4 2.2 .7-1 2-2.6 1.5z M311.6 389.3l-2.1 .5-2.5-1.2-1.6-1.2 1.8-.3 2.3 .8z M333.2 388.3l-1.3-1.5 0-2.1 1.2-1.4 1.8-.1 0 2.1 0 1.9z M661.3 501.3l-1.2-1.6 .4-3.3 1.1-.5 .8 3.7z M674.9 501l-2.3-.8-3.1-2-1.8-1.8 .6-.3 1.9 .3 2.4 2.5z M677.3 469.3l-1.4 .8-2.4-1.4-.3-1.3 3.3 .5z M678.5 471.6l-3.7-6-2.8-5.7 .4-1.3 4.2 7.3z M663 474.6l-1.5-2.5 .5-3.9 2.3-1.9 1.2 2.8-.8 3z M665.5 482.6l-.4-.1-.9-1.5 .1-.8 .1-.8 .8 1.3 .7 1.7z M667.7 479.9l-.8-.2 3-2.7 2.9-2.6-.6 1.5-1.7 1.9-2.2 2.3z M653.4 468.6l1.8-4 5-6.7 .3 1.8-3.8 5.4z M658.5 486.7l.4-1.3 1.3-2.5 1.4-1.8 .1 .6-.7 1.7-1.7 2.7z M672.3 507.2l-1.3-6-.5-8.2 1 1.3 1 6.9z M661.2 480.5l.5-2.3 .5-2.3 .8-2 0 .9-.3 1.6-.8 2.9z M666 503.8l-.6-4.8 .2-4.9 .7-2.3 .7 1.6-.1 5.9z M665.3 504.1l-2.3-.2-3.4-.9-2.5-1.7 2.7 0 4.4 1.5z M670.1 478l2.6-1.3 6.2-.8 1.2 .7-6.5 1.2z M651 510.1l.7-2.4 4-5.9 1.9-2 2.5-2.6-3.3 5.5-3.4 5z M659.8 464.4l-.8-1.6 .5-3.4 .7-1.2 .9 .7-.2 4.5z M667.8 458l.9-2.2 1.4-2.1 2-2-.4 2.1-2.3 3.1z M670.1 496.4l.8-3.2 1.4-3.6 1.2-2.3 1-1.3-.9 3.5-2.3 5.2z M676.2 504l-.6-.8-.2-2.3 .7-1.8 .7 .7 .5 1.3-.4 2.2z M673 485.5l1.1-2.6 1.7-2.4 2.7 1.2-.4 2.7-2.3 2.3z M675.8 461.5l-2-1.4-.3-2 1.4-1.7 1.9 2.7z M654 489.7l-.5-.5-.8-1.7-.6-1.5-.3-1.1 1.2 2.4 1 2z M644.6 500l4.1-2.4 7.7-1.5 .3 1.1-7.2 2.6z M675.6 462.4l-.7-1.4 2.1-5 2.1-2.1-.7 3.7-1.4 3.7z M676.7 462.1l-1.4-.9 1.2-1.2 1.4-.8 .8 1.2 .1 1.3-1.1 .7z M666.4 500.2l-1.4-2.9-1.5-4.7 .2-1.5 .9 .5 1.3 5.2z M656 474.5l-1.1-3.4-.9-8.6 .5-4.3 .7 .7 .8 4.1 .2 6z M655.7 456.3l-2.9-.9-3-1.4-.2-1.2 1.4 .1 3.3 1.5z M670 489.5l.9-2.1 1.7-2.1 .8-.4-1.9 2.9z M667.6 485.7l-2.4 .3-3.1-1.1-1.9-2.1 3.2 .3 3.2 .5z M670.8 475.9l1.2-3.5 1.6-3.2 1.6-2.3-.1 1.7-2.5 4.8z M667.4 489.8l-.1-1.5 .3-2 1.4-2.2 .7 1-.4 2.1-.8 2.7z M669.1 469.8l.5-1.3 2.3 0 .1 1.5-2.1 1.1z M669.3 498.3l-1.2-1.3-1.7-3.8-1.3-4.2 1.4 1.8 1.2 2.2 1.8 4z M675 495.6l-3-.7-4.4-3.1 .3-1.1 4.7 2.5z M666.4 469.5l3.8-4.4 5.2-4.6 .9 .3-5.3 5.2z M680.6 481.1l-1.3-.1-2.2-2.9-2-2.9 1.4 .2 1.9 1.4 2.3 3z M654.3 496.6l1-3.5 2.2-4.1 2.3-2.5-.1 2.8-2.8 4.2z M658.3 474.6l-1.5-2 .2-3.2 1.6-.1 .3 2.8z M669.7 481l1.4-1.9 3.6-3.3 3-2.5 1.1-.4-2.7 3.2-4.7 4.1z M730 426l20-2 20 2 20-2 12 2 0 20-16 4-16 8-16 4-12-2-12-10z M512.3 602.2l.6-4.6 1.4-4.8 1.3-2-1.7 7.3z M467 606.3l-1.7 .3-2.2-.6-2-1.3 2.5 .1 2 .4z M386.7 556l.9-2.8 1.7-1.8 2.1 .8-1.7 3.1z M414.2 575.1l-1.4-2.2-.3-4.9 .5-2.2 1.4 6.3z M504.9 598.7l.9-.9 1.6-.2 .9 .4-.4 .8-1.9 .4z M428 599l-2.7-.4-4.2-2.5-2.3-1.8 2.7 .7 3.9 2z M448.1 570.3l.3-1.2 1.5-3 .3 .1-1.3 3.2z M467.1 572.8l-.2-1.5 .6-2.7 .7-.8 .3 1-.6 2.8z M386.6 545.7l.7-1.4 2.1-1.1 .8 .4-.4 .8-1.4 .7z M489.1 555.9l-1.7 .6-2.5-1.1 .6-1.3 2.4 .4z M496.2 569l-1.2-.9-2.2-4.3 .5-.6 .8-.3 1.6 4z M490.7 601.5l-1.3 .4-1.4-.1-1.5-.5 .5-.8 1.2-.3 1.6 .5z M411.5 548l-2.5 1.1-3.5-.8-.7-2.2 4.6 .1z M501.2 581.7l-.5-.1-.7-1-.3-1.1 .4-.2 .8 .5 .9 1.7z M450 609.7l.5-2 2.1-1 2 .6-2.4 3z M461.1 601.5l0-1.5 5-2.4 1.9 .3-1.8 1.8-3.6 2.3z M518 603.2l-1.4-.1-2.3-1.6 1-.6 2.1 1.1z M482.4 560.4l-.9-1 .9-1.5 .9-1.2 1.2 .6-.4 1.5-.3 1.6z M476.8 560l.7-.8 2-1.3 1.4-.6-1 1-1.9 1.2z M438 609.4l2.1-.3 2.3-.2 1.3 .2-.7 .4-2.8 0z M470.8 621.5l-1.9-2.1-2-4.2-1.2-3.7 2.4 3.4 2.8 4.4z M461.8 586.7l-1.7 .1-4.2-.5 .4-.4 3.8 .4z M451.3 547.1l-1.8-1.1-3.6-4.9 1.2-1.1 4.3 5.2z M471.2 594.4l4.5-1.2 5.4-1.1 2.2 .6-1.6 1.2-5.7 .4z M453.1 632.1l-.9 .6-1.3-.8 .6-.9 1.3 .1z M470.6 576.8l2.2-1.4 2.2-.8 1.6 1.3-.1 1.3-1.4 1.2-2.9 .2z M432.3 574.6l-6.4 .4-6.4-.2-.2-.7 7.5-.3z M443.6 614.2l-1.6 2.1-2.8-1.9-.3-2.3 3.4 .1z M409.5 595l1.1-2.2 2.5-2.8 .6 .2-2.3 2.9z M464.1 578.2l-1.9 0-2-.5 .4-1.2 .6-1.1 1.8 1.3z M464.8 641.2l-.9-.2-.4-2.2 .2-1.1 .9 .4 .6 2.2z M409.1 564.7l-.7 .6-2.1-.7-2.1-.8 1.6-.4 2.1 .7z M450.1 619l-1.7-.9-1.7-1.1 .8-2 1.7-.7 2 .8 .2 2.3z M478.4 559l-3-.9-2.5-.8-3.9-1.6 1.6 .1 2.4 .5 3.4 1.5z M362.7 555.2l1-3.5 1.9-3.1 1.7-1.1-2.4 4.5z M457.8 645.3l-.3-1.3 1.9-3.7 1.1-.2 .5 1.1-1.9 3z M385.7 554.7l-.6 1.1-2.8 0-.3-1.2 .9-.8 2.2-.2z M458.7 592.8l-.8 .4-2.2-.1-.7-.4-.6-.4 1.4-.3 2 .3z M441.8 624.2l1.1-2.9 2-3.5 1.4-1.1-.4 1.8-2.4 4.3z M452.1 643.7l1.1-1.8 6-2.8 3.9-1.3-3.5 2.5-4.9 3z M444.7 619.4l-3-1.7-2.8-3.8-.4-1.8 1.5-.3 2.9 4z M404.6 589.3l-1 .2-1.5-.1-1.7-.2 .6-.3 .9-.4 2.1 .4z M435 605.8l1-2.7 1.6-2.7 1.4-1.9 .1 1.2-2.4 4.3z M475.4 635.2l.2-1.7 2-.2 .5 1.4-1.4 .9z M408.1 571.7l-1.7 1.2-4-1.2 .2-2 4 .5z M472 641.4l2.4-1.4 3.9-2 4.8-1.6 .4 .6-4.7 2.3-5 1.9z M506.4 584.3l-1.2-.7-2.1-2.3-.6-1.3 1.6 1.4 1.5 1.5z M481.6 596.1l-2.1-1-3.6-3.1-.7-1.2 4.6 3.5z M464.9 568.6l-3.5-3.3-4.7-5.6 .1-1.4 1.4 .3 4.3 5.8z M389.3 552.3l-.1-2.7 .5-2.5 .9 .3-.4 2.4z M515.2 594.4l1.4-1.9 2.4-1.2 .3 .9-1.9 1.9z M397.1 594.5l-1.1-2.4-.6-4.1 .7-2.2 .7-1.6 .9 3.6 .2 4.6z M440.1 600.8l.4-1.5 .9-.8 .6 .5-.4 1.4z M486.7 595.7l-1-4.2-.2-7.6 .8-2 .8 9.3z M479.8 646.8l-1.3-.6-2.9-3.4-.1-2.3 2.1 .9 2.4 4.1z M465.7 641l-2.3-.1-3.6-1.4 .4-.7 3.3 1z M394.2 585.4l-.7-.4-1.7-3.3-1-2.3 .4 0 1.3 2 1.3 2.6z M461.6 592.2l.7-.6 1.7-.5 2.2 0 .2 .7-2.2 .5-1.9 .2z M479.3 563.5l-.4-1.1 .2-1.6 .7 .4 .4 1.5z M445.9 576.4l-2.7-.7-2.6-2-2.1-2.4 3 1.1 2.9 1.8z M588.4 564.9l-.4-1.4-.3-1.5 .6-.7 .4-.3 .6 1-.3 1.8z M641.7 552.9l-2-1.2-.7-2.8 2.1-.7 2.2 0-.6 2.7z M620.1 570.8l.1-1.5 1.8-3.2 1.7-1.1 .5 .4-.2 1.9-2.8 3.9z M570.3 605.5l-2.8 .2-2.4-.1-3.5-1 1.7-.8 1.9-.6 3.9 .9z M579.2 629.2l-.1-1.7 1.7-2.2 2 .7 0 2-1.8 2.1z M562 618.5l.9-2.6 2.6-.8 1.1 1.1-1.9 1.9z M631.9 566.8l-.6-1.9 1.6-1.7 2 .6-.4 3.5z M590.7 631l3.5-1.6 7.1-1.5-1.5 1.7-5.3 1.4z M570.9 563l.4-1 2.6-2.8 1.4-1 1.1-.7-2 2.3-2 2.1z M618.9 592.7l-1-1-1.8-4.9-.5-2.7 1.5 2.3 1.2 3.9z M563.3 599.1l-.5-4.2-.1-3.2 .7-3.6 1 .5 .7 2.9-.4 5.1z M531.6 561.7l-1.1 .2-2.9-3.4-1.4-2.1 2.1 1.3 3.4 2.9z M569.6 604.7l-.1-2.7 1.4-2.8 .7 0-.6 2.8z M601.9 561.6l-1.1-2.1-.7-3.3 .9 .8 1.2 2.5z M599.3 567.6l.7-1.4 4.2-2.4 2.7-.8-.3 .9-1.4 1.6-3.2 1.1z M582.9 614.5l-2-1.2-2.1-5.5-.5-2.7 1.6 1.4 2.7 5.1z M637.5 628.5l.6-2 5.3-2.7 2.2 .4-.2 2-5.9 2.9z M641.6 574.4l-1.2-1 1.3-2.5 1.2-2.4 1.1 1.1 .6 2-1.5 2.5z M647.1 597.1l-5.1-1.4-7.8-3.3 .4-1.8 9.3 3.5z M596.1 608.7l.4 1-5.8-.4-2.9-.6 .5-.6 2.2-.7 5.9 .3z M538.7 586.8l2.2-2.7 5.8-3.7 .2 1.2-5.1 4.2z M598.7 579.1l-2.5-1.9-2.7-3.7 1.3-.3 2.5 2.9z M598.5 605.6l-2.8-.3-3.6-1.5 1.1-.2 2.9 .5z M550.7 555.6l-1.9 .8-3.3 .4-1.3-1.4-1.3-1.3 3-.7 2.5 1.2z M600.7 619l-2.7-2-4.4-6-.1-2.5 2.8 2.9 3.8 4.6z M620.7 625.4l-.6-3.1 0-8.3 .9-4.2 .3 6.4 .2 6.8z M547.1 616.7l-1.1-.1-.7-2.2 .4-2 1.2-.2 .7 2 .1 1.5z M617.5 552.4l5.2-2.1 7.5-.9-1.9 2-5.3 1.4z M540.4 599.4l2.7-2.6 7.2-4 5.3-2.4-1.3 1.6-3.8 2.5-5.8 3.4z M599.3 625.8l-2.5 .5-2.2 .2-1.5-.8-.5-1 2.3 0 2.9-.2z M570.2 574.7l-1 .2-1.1-1.4-.4-1.3 1.4 .7 .8 .8z M624.9 610.9l-3.5-2.8-1.4-4 1.5-.8 3.1 3.3z M578.7 575.4l-2.2 .8-2.1-1.4 .8-1.9 3 0z M572 628.2l-3.1-1.7-1.2-3.6 2-.5 2.5 2.3z M573.5 568.7l-1.7-.7-3-3.3 1.4-.3 2.7 2.6z M624.2 581.4l-1.3 .2-2.7-2.1-.2-1.1 1.1 0 2.5 1.7z M536.6 599.2l0-1.5 4.7-2.5 3.8-1.9-1 1.7-1 1.9-5.3 3z M615.1 552.5l-1.4-.8-1.7-5.5 0-4 1.3-.2 1.9 3.3 .6 5.5z M597.9 588.6l-4.1-1.5-3.4-1.9-1.1-1.5 5.2 2.5z M606.9 553.8l-.9 .5-3.8-.6-1.7-1-1.1-.9 3-.1 3.9 1.3z M626.8 605l.9-1.5 2.3-1.3 1.8 .5-3.3 2.3z M536 562.3l-1.5-.1-1.3-1.1 0-.8 1.6 .8z M633.8 545.9l-2.2 1.3-2.6-.4 .2-2.1 .9-1.6 2 .9z M591.1 551.1l1.4-1.8 2.8-1.9 3.4-.8-.3 1.7-1.6 2-3.3 .8z M643.1 587.3l-2.3-3.9-1.3-4.9-.1-3.6 1.8 3.3 2.3 5.4z M634.3 609.9l1.3-.5 2.5 .1 1.8 .4-1.7 .3-2.4 .2z M636.6 591.5l1.5-1.1 2.9-1.1 1.7-.2-1.6 1-2.3 1z M637.7 571.3l-2.1-3.7-1.3-3.6-.6-3.4 1.2 .7 1.3 2 1.9 5z M546 611.3l-.9-1.4-.3-4.8 .1-2.7 .6-.9 .7 3.3 .2 4.5z M574.9 630.4l.2-3.1 2.1-5.4 .6 1.3-1.2 4.2z M568 618.4l-3.3 0-4.9-.7-2.2-1.2-2.5-1.3 5.5 .9 4.5 1z M636.4 620.9l-2.3 0-7-3.5-4.9-2.5 .3-.8 4.4 1.1 5.8 3.3z M591.6 607.3l-.5-1.4 2.3-1.5 2.9-1.4-.1 1.9-.7 2.1-2.8 1z M575.8 574.4l-1.7-1.6-2.6-3.5-.3-3 2.3 1.4 3.1 5.4z M609.4 623.4l-.6-.9 .8-1.7 1.2 .5-.5 1.6z M587.4 623.6l-.6 .4-.9-5.2-.1-3.3 .8 1.5 .8 1.7 .2 3.6z M614.2 599.6l.3-.5 1.3-.6 1.2 .5 0 .6-1.1 .6-1.5 0z M621.8 605.6l3.3-3.8 4.7-2.8 1.7 1.6-5 3.9z M617.5 555.7l-2.1-2-1.6-2.3-.1-1 2.1 2.7z M591.4 595.1l2.3-1.3 2.8-.7 1.9 .3-1.6 1.2-3.5 1.4z M554.1 599l-4.7-.1-5.1-1.3-.3-1.1 6.4 .7z M636.6 580.4l1.8-1 2 .3 1.2 .8-3 .4z M609.4 616.6l0-1 4.1-.4 2.4 .5 .7 .8-3 .8-4.5 .4z M540.3 575.1l-1.4 .5-1.9 .3-.3-1.1 1-.5 1.5-.1z M605 618.7l-1.9-.6-2.2-1.1-.3-.9 3 1.4z M611.9 556.8l-2.4 1.1-2.6-2.3 .3-2.3 3.6 1.3z M629.4 616.7l-1.1-.3 .4-1.4 .7-1 1.1 .2 .8 1.2-1 1.1z M561.2 609.2l-2 .5-2.7-4.5 1.1-2.5 2.7 .8 1.3 3.9z M623.1 558.7l-2.4-2.3-2-3.6-1.5-4.4 1.4-.8 2.8 3.5 1.9 4.9z M570.2 613.5l1.6-1.3 4.5-1.1 2 .6-2.6 1.2-3.5 1.1z M603.7 627l-2.7-3.7-3.2-6.7-2.3-6.1 3.5 5.3 2.9 6.1z M576.1 585.8l1.8-2.9 2.9-3.3 .7 .1-3.1 4.2z M619.8 585.5l1.5-2.1 4.5 .5 .9 1.9-4.5 .6z M624.9 552.4l-1.1-1.4-1-1.9-.3-1.2 .1-.9 1.1 1.7 1 2.2z M565 584.5l.3-.9 1.3-.6 1.5 .3-.6 1.1-.6 .6-1.4 .4z M570.5 579.5l2.4-2.8 3.4-1.1 1.4 1-3.5 2.5z M616.9 558.9l-.6-.4-.9-4.4-.1-2.4 1 2.3 .7 3.6z M590.6 615.3l-1.1-1.2-1.7-2.4-.5-1.3 .9 .7 2 3z M598.8 591.1l3.8-.9 3.9-.1 .3 .5-4.3 .8z M620.7 584.5l-2.3-1-3.2-3 .3-1.4 4.2 3.3z M555.3 551.3l-1.5 0-2.2-1.4 .4-1 2.4 1.1z M598.9 583.9l-.1-.8 .9-1.5 1-1.3 .2 .7-.2 1.1-1.1 1.5z M638.7 603.2l1.3-.8 2.2-.9 1.8 .1-.6 .7-1.1 .6-2.6 .8z M546.6 576l1.7-2.5 3-1.1 2.4 .9-.7 2.6-3.6 1.2z M596.7 570.9l1.8-3.6 2.2-4.3 .6 .2-.4 1.4-2.1 3.8z M565.1 564.3l-1.7-.4-1.7-2 .9-2.9 2.5 .5 1.3 1.7 .8 2.4z M566.6 556.3l-1.6-2.3 0-3.2 1.4-.3 1.7 3.5z M587.2 612.2l-2.2-.1-2.5-2.8 1.8-1.7 3.6 2.1z M580.1 583l-1.1-.7 2.9-3.6 2.6-2.7 1.4 .2-2.2 3.8-2.3 2.4z M540.6 606.5l2-2.3 5.9-5 3.1-1.4-2.5 2.9-5.7 4.3z M571 614.8l.8-1.2 3.1-2.4 2.7-.9-2.4 2.4-2.8 1.8z M550.9 569.9l-1 .7-2.4-.2-2.3-.3 0-.8 2.1-.6 1.9 .7z M592.4 630l.2-1.2 .6-1 1.3-.6 .2 1.4-1.1 1.2z M603.3 632l-1.1-.8-1.6-3.4-.7-1.8 1 .6 2.3 4.1z M590.7 604.8l2.6-.7 5.2-.2 6.1 .4-5.6 .9-6.3 .2z M602.7 563.4l.4-1 3.8-1.3 1.1 .3-.4 .9-3.6 1.2z M566.5 570.1l-2.5-1.2-1.1-4.5 1.8 .1 2.2 2.9z M603.2 557.6l.6-.9 1.7-.5 1.8-.2-1 1.2-2.2 .8z M566.2 570.1l-2.2-.8-4.2-3.7 1.1-.5 4.5 3.1z M543.9 552.1l1.6-1.2 1.4-1.2 1.6-.3 .2 .5-1.1 1.1-1.9 .6z M619.1 605.8l.6-2.2 2-2.3 .7 .4-1.4 2.7z M569.1 608.8l1.4-5.1 1.8-5.5 2.6-5.4 1.6-1.2-2 7-3.3 7.4z M610 633.8l-.8-2.7-.2-4.2 .1-3.2 .7 3.6 .6 3.9z M591.7 605.9l-.7-1.8-.2-2.3 .7-1.6 .6 1.8 0 1.9z M619.2 550.9l-1.5-.3-1-2.4 .6-1.5 1-.5 .9 1.4 .6 1.9z M620.5 587.8l-.7-1 3.4-1.5 2.9-.7-.5 1.3-1.6 1.4-2.9 1.3z M603.7 587l-2.8-.9-2.2-1.4-.1-.8 2.8 1.4z M579.6 559.3l-1.9-.6-3.2-2.5 .4-.7 3.6 2.3z M596.4 557.2l-1.5 .6-1.3-1 .4-1.2 1.6 .1z M641.7 569l-3 .1-3.9-.3-4.2-1.1 .6-.8 3.9 .2 4.6 .8z" fill="#000"/></g>
<g filter="url(#f4t)"><path d="M767.5 502.5l12.5 0 2.5 7.5 10 0 0 3.8-22.5-1.3z M1242.5 575l10-5 5 7.5-10 5z M1200 451.4l5 0 0 6.2-5 0z M1228.8 447.6l2.4 0 0 3.8-2.4 0z M1190 590l30 0-2.5 7.5-15 2.5-7.5-3.8z M340 434l8-13 4-1-8 16-4 18-2 0z M356 426l4-2 10 22 4 14-4 0-6-14z M372.2 542.2l1.8-.7 2.3-.8 2.6-.6-1.4 .7-1 .6-2.8 .7z M356.6 495.2l-2.4-.7-4.7-3.3-1-1.7 1.8 .1 4.5 3.4z M348.4 505.5l1.1-2.9 5.1-5.8 .6 1.6-4.3 6.1z M348.6 491.5l-.8-.5-1.5-3.4-.9-3.1 .9 .7 1.3 1.8 1.5 4z M364.7 514.4l-.9-.5-1.5-3.4-.3-1.9 1.3 1.6 1.2 2.7z M340.3 472.4l.5-2.2 2.2-2.3 1.3 1.8-1.8 2.3z M362.7 498.9l-2.3-.5-1.1-2.6 1.1-2.4 2.6 .8 1.7 2.8z M347.6 476.5l-.3-1.6 1-2.2 1.5-.9 .6 1.5-1.3 2.8z M354.7 493.3l-2-.1-3.5-1.2-2.7-2.1 2.2 .2 1.8 .4 2.9 1.4z M346.6 498.8l1.5-2 3.8-3.1-.6 1.3-2.2 2.1z M363.8 539.2l.9-.7 2.3-.6 .4 .7-.3 .6-2.4 .4z M340.1 468.5l-.3-2.3 1-1.8 1.8 .4-.7 2.2z M353.7 519.5l.5-.7 2.9-1.3 2.1 0-.6 .8-1.4 .8-3.1 .9z M343.7 464.4l-1.8-.6 1.3-2.4 1.4-.4 1.4 .9-1.1 2z M364.7 544.5l.3-1.6 1.8-2.8 2-1.7 .2 1-.7 1.9-2.2 2.7z M354.5 481.7l-2.2-4.7-1.4-6.4 .4-1.6 2.6 7.5z M371.6 523.5l-5.3-1.9-4.4-2.5-2.2-1.8 7.2 3.3z M367.4 543.1l.5-4.1 1.8-7.5 .7 .8-1.6 7.1z M361.4 521.8l-.1-2.1 2.3-2.2 1.2 1.1-1.4 2.8z M366.4 527.3l-2.8-1-3.4-1.6-1.3-1.2 .9-.4 4.5 2.5z M364 518.9l.2-1.7 1.2-2.9 .5-.6 .1 .6-1 2.6z M345.1 475.4l-1.1 .2-.9-.5-.7-.7 .8-.3 1 .6z M358.6 495.6l-1.8 .8-2-1.6 1.7-1.3 1.9 .1z M358.8 537.7l4.5-1.9 4.9-.9 1.3 .9-5.7 1.5z M353 491.7l1.5-1.3 2.9-2 .9 .4-.7 1.1-3.4 2.1z M339.4 467.4l-.6 .2-.8-1.4 0-.7 .6-.2 1 1.5z M357.8 504.9l-2.1 .7-4.7-.4-1.1-1.4 2.5-.3 2.8 .3z M368.3 526.6l-1.9-.2-2.3-.5-.5-.4 .2-.3 2.4 .7z M344.6 470l1.9-2.8 2.6-2.4 1.2 .1-3 3.6z M367.5 521.2l1.2-.7 2.7-.2 .6 .7-3.1 .4z M354.6 481.5l-2 0-2.1-.4-.3-.6 2.5 .4z M361.3 518.5l-2-2.1-.2-4 1.3-2.8 1.8 2.5 .8 4z M371.5 528.8l-2.1-2.7-2-2.8-.5-2.7 1.2 .8 1.5 .8 1.2 3.6z M346.5 496.3l-.8-3.6 .7-4.1 1.3-.7 0 4.9z M360.7 517.1l-2.1-.9-4.4-2.8 .9-.2 3.6 2.2z M346.2 490.3l-.9-2.9 1.5-3.9 1.7-3.1 .9 2.7-1.5 3.9z M351.9 491.4l.7-.8 1.1-.1 1 .3 .4 .9-1.2 .7-1.2-.4z M369.4 520.4l-2.3-1.9-3.1-4.5-.9-3.1 .4-1.1 2.6 3.6 2 3.4z M360.2 507l.7-2 3-3.4 1.7-1.3-3.7 5.5z M361.4 516.9l2.6-1.1 4.8-.6-1.1 1.2-3.4 .7z M351.4 490.8l1.3-2.2 1.5-1.3 2.6-1 .5 1.9-1.6 1.6-2 1.3z M364.3 518.2l2.7-1.5 6.3-1.5 .7 .9-7.4 2.6z M364 511.3l-1.3 .3-.2-1.1 .4-1.2 1 .9z M360.6 517.3l0-.5 5.4-1.7 4-.8-1.3 .9-2.2 1.1-6.4 1.9z M353.9 504.8l2.1-2.8 3-3 1.7-1.3-1.1 1.7-3.1 3.4z M353.7 492.9l.2-1.5 1.2-1.6 1.9-.3 1.3 .9-1.5 1.8-1.7 1.4z M352.6 491.1l-.7-.4-.2-2.1 .9-1.9 .8 1.3 .6 1-.3 2.3z M341.2 477l-.1-1.1 1.4-2.7 1.3-2.5 .4 .3-.6 2.3-1.4 2.7z M347.1 469.1l-2.3-3-3-5.8 1.9 1.3 2.6 4.2z M351.7 492.5l-.7-1.1-.5-2.2 .2-1.2 1.4 3.5z M352.2 509.9l1.5-1.5 1.9-1.5 2.3-.5-.8 1.3-.9 1-1.9 .8z M360.4 530.8l2.9-.9 6.3 .4-.4 1-6.1 .5z M338.4 483.3l1.2-1.2 2.4-1.8 2.3-1.3 .2 .2-2.3 1.8-1.7 1.1z M337.9 468.1l-1.7 .1-3-1.8-.8-2.3 2.5 .5 2.1 1.8z M354.5 504.3l.8-1.6 1.8-2 .9 .2 .4 .7-2.6 2.5z M338.8 480.6l1.4-1.7 3.9 .1-.3 1.8-3.1 .8z M355.2 473.8l-2.3 .8-3.1-2.3 1.7-2.7 3.7 1.5z M353.2 463.9l-1.1 .6-2.8-.1-1.4-.6-1-.7 2.7 .1 1.8 .2z M355.1 506.3l-.7-1-1.5-3.7 .1-.9 .6 .6 1.6 4.3z M367.6 534.2l-.8-2.3 1-5 1.3-.7 .5 1.9-.5 3.8z M412.6 521.9l.9-1.2 1.3 0 .3 .5-1 1.1z M416.2 516.5l-1.3 0-2.7-.5 .4-.3 2.6 .3z M432.2 542l-1.6-.6-1.4-.7-2-1.3 .7-.1 1.6 .4 2.2 1.5z M411.7 533.2l.9-1.2 2.9-1.9 1.1-.3-3.3 2.6z M419.6 539.1l-.8 .9-2.2 .5-.4-1.5 .8-1.3 2.4-.1z M421.9 538.6l.7-1.1 1.8-1.2 .2 .3-1.5 1.7z M432 540.8l-1-2.1-.5-4.5 .5-.6 1 4.7z M426.3 524.9l.8-1.7 2.4-.1 .8 .7-2.1 1.2z M427.5 524.5l.7-1.2 1.8-1.5 0 .8-1.2 1.3z M427.8 527l-.8 .2-3.4-.3-1.7-.7 2.5 .1 2.9 .3z M426.8 525l-.8-2.4-.6-2 .3-2.4 1.1-.4 .4 2.7 .5 2.9z M416 539.5l1.7-5.3 3.1-6.1 .5 .6-2.2 5.3z M419.5 536.1l-.8 .5-3.7 0-3.8-.7 .4-.7 3.3-.3 4.8 .5z M434.1 542.1l-.5-.8 .2-3.5 .5-2 .4 2 0 3.7z M416.2 545.2l-2 0-2.4-2.5 1.3-.9 2.7 1.4z M439.3 530.7l-1.7-.4-1.4-.7-1.8-1.3 .4-.8 2 .8 2.2 1.2z M410.3 518.2l-.3-1-.1-2.1 1.1-1.7 .5 .9 .2 1.4-.7 2.1z M415.4 524.8l-.6-.7-.8-2.4-.4-1.6 .3-.1 .7 1.3 1.1 3.2z M414.7 518.1l-2-.4-2.5-2.4 .2-1 2.9 2z M433.5 540l-1.5-1.8-1.4-5.3 .2-2 1.2 1.5 1.5 4.8z M427.2 544.7l2.7-1.7 5.5-2-.2 .8-5.4 2.6z M424.8 542.7l-1-1.7 1.5-3 2.2 .3-.6 4z M416.3 541.2l.5-1.4 1.2-.8 .9 .8-1.2 1.2z M434.3 536.5l-1-1.6-.8-2.2 0-1.7 .6-.3 .8 1.7 .6 2.4z M418 545l-1.9-1.3-2.9-3-1.3-2.6 2.8 2.5 2.8 2.6z M431.1 538.4l-1.3-3.8-.4-4.8 1.1-1 .6 5.3z M404.4 518.8l-.6-1.4-.4-5.2 .3-3.8 .8 4.1 .2 4.4z M420.5 544.5l-.6-.6-1.1-2-.7-2.1 .5 .4 .9 1.5 1 1.9z M416.4 524.2l-1.1-.7-.3-1.7 1.4-.5 1.2 1.8z M425 541.9l.9-.9 1.3-1 .6 .8-.2 .9-1.4 .8z M446.2 541.8l-1-.3-2.4-2.7-1-1.5 1.4 1 2.7 2.5z M432.7 545.6l.5-1.8 2-3.2 2-2.7-1.2 3-1.9 3z M410 522.6l-1 .3-1.1-2.1 .1-1.8 1.5 1 1.4 1.9z M415.2 551.1l-.7-3.4-.5-6.1 .4-3.3 .5-1.5 .6 4.7-.2 4.2z M433.7 535.6l.2-1.3 3.8-.9 2.6 .5-1.5 1.9-3.6 .2z M442 454l12-9 2 3-10 10z M469.3 533.9l2.7-2.9 3.1-1.5 .3 1-2.5 2.6z M454.8 516.4l-1.2-6.4-.3-9.1 1.1-.5 .9 9.8z M466.2 527.1l.3-1.1 2.3-1.3-.2 1.2-1.3 1z M483.6 516.8l.6-.7 1.5-1 2 0 .6 .8-2.1 1-2.2 .6z M505.4 527.4l.4-1.2 1.8-1 1.2 .4 1 .5-1.8 .9-1.6 1z M515.7 527.7l-1.5 .8-3.6-.9-.7-1.4 1.7-.5 2.5 .9z M472.1 525.8l1.9-.9 1.8-.9 1.3-.2-.1 .3-.9 .6-1.9 .6z M442.7 494.6l-1.9-1.3-3.3-2.9-1.3-1.9 2.1 1.6 3.2 2.9z M445.1 507.7l2.5-3.1 2-2.7 1.9-.7 .6 .2-1.2 2-2.9 2.4z M460.5 521.2l2.7-.8 3.1 .3 .7 1.1-4 .3z M452.5 510.1l-.6-4.3 .3-8.6 .9 1.4 0 6.9z M440.1 486.6l-1.5 .3-2.7 .2-3.9-.4 .1-.8 4.1 .1 4-.1z M459.7 513.4l-1.1-1.2-.8-2.7-.6-2.5 .8 .8 1 1.1 .6 2.6z M460.3 517.7l1.1-1.2 1.2-1 1.9-1.2 .1 .4-1.5 1.3-2 1.5z M473.9 531.7l-.6-1.1-.5-3.5 .3-1.5 .7 1.6 .2 2.8z M444.9 496l-1.8 .3-3.6-.5-2.5-1-.4-.8 3.1 0 3.2 1z M529.5 527.8l-1.8-1.3-3.2-2.7-2.8-3.5 .3-.7 3.8 3.6 2.7 2.9z M479.1 518.5l-1.8-1.1-1.7-4.3-1.2-3.8 2.4 2.8 1.5 3.4z M494.5 524.6l-.8 .1-2.4-.7-2.2-.7 1-.1 1.1-.1 2.9 1z M477.6 530.8l3.9-2.5 4.3-.9 2.4 .5-6.4 2.9z M489.6 523.6l-.3-.7 .4-1 .8-.8 .4 .6 .4 .9-.9 .6z M460.7 518.8l0-1.6 1.1-3.2 .9-1 .1 1.2-1.2 2.7z M486.4 531.2l.9-.8 1.7-.7 1.5-.2-1.4 1-1.8 .8z M504.8 518.7l.5-1.3 2-2.6 1.8-2.1-.1 .7-.6 1.5-2.8 3.4z M465.3 517.1l2.2-3.9 3.3-3.6 0 1.1-2.1 3.2z M473.3 512.4l1.3-3.3 3.4-3.9 1-.2-2.9 4.4z M500.7 536.9l4.1-3 3.2-2.2 4.5-2.6 .8 .3-4.3 3.1-4.2 2.4z M510.8 514.2l-1.2 .8-2.6-.5-.5-.8 3.4-.5z M473.2 530.3l1.2-2.6 2.5-2.8 2 .3 .1 1.9-3.1 2.1z M492.5 518.8l.5-2.9 3.2-1.7 3.1-1-1 2.9-2.8 1.8z M431.2 491.3l1.6-1.8 3.5-2.9 1.2-.4-.4 1.1-3.7 2.8z M516.4 529.9l-1.3-3.2-.4-2.8 .6-2.3 1.4 1.3 .6 4.3z M467 527.5l1.5-.5 4.1 .2 .5 .5-4.3 .1z M499.7 531.8l.8-2.5 .9-2.4 1.4-1.9-.2 2-1.6 3.3z M522.6 524.9l-1.5 .1-7.3-3.9-.1-1 .8-.5 6 3.6z M509.4 527.7l-3.1-.7-4.8-1.6-4.4-2-.1-.7 5 1.6 4.5 1.9z M508 518l.5-.6 1.1-1.2 1-.1 .6 0-.9 1.1-1.8 1z M467.5 530.2l-.7-1.3 1.9-2.6 2-2.8 1.1 .8-1.2 2.9-1.7 2.8z M457.3 519l.7-1.7 1.5-.9 .9 1-1.3 1.2z M484.9 520.9l-.3-3.5 .4-5.7 .7-3.6 .7-1.5 0 4.9-.5 7.4z M518 531.5l.5-1.3 1.9-2.1 1.2-.8-.6 1.3-1.8 2.1z M479.1 509.1l-1-.1 .1-1.1 .3-.7 .9-.2 .8 .7-.1 1.2z M505.8 522.8l-.2-1.2 2.5-3.2 2.4-2.3-.5 2.4-3 4z M512.2 527.6l-.1-.7 .6-1.3 .9-1.3 .4 .5-.3 1.3-.8 1.2z M452.8 502.7l4.5-3 8.2-3.6 .2 1.2-8 4.1z M476.5 521.9l-.2-1.7 1.3-1.4 .8 .4-.4 1.9z M488.7 520.7l-1-.4-1.2-.7-.3-.7-.2-.7 1.2 .5 1.3 1.2z M510 525.4l-2.4 .5-4.9-.5 .4-.7 4.2 .1z M491.9 523.6l.4-.9 7.6-.6 .9 .8-2.4 .6-4.7 .6z M443.1 499.9l0-2.3 1.5-.8 1.7 .4-.9 2.3z M564 416l8 0 0 6-8 0z M545 425l3 0 0 4-3 0z M629.4 522.3l-1.4-.7-.9-3.2 .9-.5 1.7 2.8z M556.1 521l1.5-2.1 3-3.2 1.5-1-1.4 1.9-2.3 2.4z M601.3 513.7l-1.2 .3-.4-2 .9-.8 .8-.7 .9 1.2-.2 1.6z M612.7 520.4l-1.7 .6-4.5-.1-3.5-.3-1.8-.7 5-.3 3.9 .3z M629.6 502.2l-1.2 .2-1.3-1.9 .3-.9 .9-.1 .9 1.4z M577.8 524.9l-.9-2.4-.2-3.3 1.4-.8 1.3 .9-.3 3.5z M631.7 496.2l-1.2 2.4-3-.6-.2-2.3 .8-2.4 2.8 .6z M634.6 519.1l-.4-2.5 .6-4.1 1.7 .2-.5 4.5z M549.9 529.3l1.9-1.1 2.7-1.2 2.3-.3-.2 .6-1.9 .9-2.8 .8z M542.6 524.5l-1.6-.4-.3-1.4 .3-1.1 1.1 .3 .8 1z M622.6 499.2l-1.1-1.7 .7-2.1 1.1-2 1.4 1.6-.5 3z M611.3 505l-.9 .1-2-1.8-1.4-1.5 .7-.2 1.4 .3 1.6 1.9z M580.8 529.2l-.4-2.7 .1-4 .9-2.2 1.2-2.7-.3 5.3-.4 4.7z M628.3 505.2l-.1-.8 2.7-3.6 2.3-2.4 .4 .5-1 2.5-3.5 3.9z M617.7 508.4l-.9-1.2-1.3-3.6-.3-2 1.1 2.2 1.1 2.6z M632.6 502.5l.2-1.8 1.1-2.8 .6-.8-1 3.6z M542.8 526.4l0-1 .5-2.9 .9-1.4 .9-1.8-1.1 4-.8 3.4z M620 506.9l-.6-.5-.8-2-.2-2.1 .8 .7 .6 1.4 .5 1.8z M578.3 502.1l-.9-.3-1.5-2.9 .5-.1 1.6 2.3z M587.2 512l-.6 .6-2.1-2-2.3-2.2 1.2 0 1.9 .7 2.1 2.1z M642.4 514.9l-1.8-2.7-1.1-3.2 .2-.7 2.1 3.7z M607.7 499.8l1.2-2.4 3.2-2.2 1 .6-2.7 2.6z M553 515.5l.5-.8 2-.9 .5 .3-.5 .5-1.4 .7z M555.1 523.6l1.8-2.7 4.7-4.8 3-2.2-2 3-4 3.8z M564.3 513.5l1-.7 3.4-.5 3.9 .2-1.5 1-2.1 .9-4-.1z M547.5 511.3l-2.9-.5-3.6-1.1-1.2-.9 .9-.4 4 1.6z M602.4 528.4l1.1-.8 3.3-.8 1.4 .1-1.1 .7-3.3 1z M603.4 522.1l1-1.6 1.9-1.3 .5 .8-1.6 2z M590.6 505.3l-1.4 .1-2.2-1-1.2-1.7-.2-1.7 2.9 .9 2.5 2.1z M648.2 502.9l-2-3.3-2.5-5.7 .4-1.7 1.3 .6 2.1 6.5z M607.1 512.3l-1.8 1.5-3.6-.7-1.1-1.9 2.3-.5 3.1-.4z M580.3 511.8l-1.4 1.1-2.3-1.1 .4-2 0-2.2 2.6 .7 .8 2.1z M644.5 508.6l-3.2-.5-2.6-1.4-.9-1.8 4.2 1.7z M545.6 520.7l.4-1.3 .3-1 .8-.9 .5 .5-.3 1-.7 1.4z M619.1 497.4l-1.7-.6-3.1-3.2 1.2-.1 2.8 2.2z M624.5 536.6l-2.1-2.5-2.6-5.1-1.9-3.9-.2-1.7 3 5.2 1.8 3.4z M571.4 510.7l.9-1.3 4.3 .1 .2 1.3-4.2 .8z M639.7 516.5l-1.1-1.7 .6-2.1 1.9 .6 .7 1.1-.1 1.9z M626.7 520.7l-2.3 .4-3.2-3.3 .9-1.8 3.9 2.4z M594.3 503l1.4-.7 2.1-.7 .9 .9-1.1 .9-1.9 .1z M614.5 511.4l.2-1 1.4-1.4 1.6-.9-.3 1-.6 .9-1.2 1z M592.9 531.7l3-2.5 4.8-3 5.1-2.7-.9 1.4-2.7 2.4-5.7 3z M565.3 527.3l3.2-1.1 5.8-.5 5.9-.5-2.6 1-2.5 1.1-4.4-.1z M630.4 497.2l-.5-1.3 1.6-2.4 .6 .4-.7 2.2z M552.3 524l-1.7-3.5-1.4-4.4 1.2 .6 1.6 3.7z M541.1 521.2l.8-.7 1.1-.3 1.6 0-.6 .9-.6 .8-1.3-.3z M547.8 519.2l-.1-2.6 1.3-5.5 .9-2.2 .9-1.9-.7 4.4-1.2 5.2z M641.1 510.6l.4-2.2 1.2-2.6 1.4-1.4-.4 2-1.1 3z M542.6 528.5l.9-1.6 1.8-.6 1.1 .9-.4 1.4-1.8 .7z M591.3 507.7l-.6-1.6 3-2.5 2.1 .1-.4 2.2-2.6 2.2z M579.5 501.6l.2-.9 3.5-.1 2.4 .1-1.6 .9-3.9 .6z M557.5 508.1l4.3-.7 6.1 .3-.6 .6-4.8 .2z M570.7 510.1l-1.8-3.1-1.4-5.9-.2-3.7 1.7 2.1 1.6 6.8z M601.7 515.2l.1-1.6 2.5-4.4 .5 .4-1.8 4z M644.8 521.9l-2.2-1.3-2.2-3.3-2.3-3.4 1.4 .1 2.3 2 2.8 3.7z M642 500.2l-1.4-.8-3.1-2.7-1-1.3-1-1.4 2.6 2.1 3.2 2.9z M566.9 529.2l.4-3 1.2-2.8 .8-.3-1 3.2z M636.9 532.5l-2.6-4.1-1.4-5.9 1.3 .4 1.9 4.4z M611.1 530.3l1.8-2 3.5-.9 1.8 1.1-1.5 1.7-2.9 .9z M594.4 523.9l-2.2 .2-2.1-.1-.5-.6 .4-.6 2.3 .5z M617.7 514.9l-2.8-.4-3.9-1-4.9-1.7 2.6 .2 2.6 .4 5.5 1.7z M623.9 520.1l-2-1.6-.2-2.7 .4-1.7 1.4 1 .6 2.2z M566.7 505.2l-.7-1.5 .3-3.8 1.3 1.4 .5 2.9z M545.8 526.6l.8-1.6 4-4.9 2.8-2.1-2.8 3.8-3.2 3.6z M609 527.1l3.8-3.2 6.9-3.6-1.2 1.7-4.8 3.2z M608.2 532l-.3-2 1.5-6 .4 .9-.5 5.5z M593.9 510.4l-.4 .8-2.6-1.8-2.4-1.6 1.4-.1 1.5-.1 2.8 2z M545.8 529.8l1.4-2.1 3.1-3.3 .6 .4-3.2 3.6z M608.9 526.8l3.9-1.6 6.1-.9 .6 .6-5.8 1.4z M578.9 526.6l1.3-2.6 5.1-4.8 .6 1.3-4.5 5z M550.8 508.9l-.4 .1-1.4-.7-.7-.7-.9-.8 1.9 .8 2 1.1z M613.1 507.4l1.8-2.7 3.8 .1 1.5 2-3.9 1.3z M635.4 522.1l-1.8-.1-2.5-1.5 1.1-1.5 2.6 1.4z M587.5 508.1l-1.2-.6-2.1-2.6 1.1-.1 2.3 2.1z M560.8 529.9l1.5-4.6 2.7-5.2 1.8-1.1-.7 2.8-2.2 4z M581.2 521.9l-3.6-2.9-3.2-4.3 .2-1 4 4.2z M636 517.5l-.6-2.3 3.2-.7 1.8 .5 .1 2.1-2.8 1.8z M544 514.5l-.7-1.4 .3-3.3 .8 0 .1 3z M558 516.7l-.2-1 .3-1.2 1.3-.2 0 1.2-.2 1.3z M593.7 519.8l-.1-1.1 .3-1 .9-.2 .9 .1-.3 1.1-.6 1.2z M766 504l16-2 12 6-2 6-22-2z M444.1 595.8l.8-2.9 1.3-3.5 2-4.4 .6 .4-1.6 4.4-1.8 4.4z M457.2 588l1.7-2.7 4.1-4.9 2.7-1.5-1.9 3.1-3.7 3.7z M491.9 610l-2.3-1.7-3.1-4.1-3.2-4.1 1.4 .6 2.6 2.4 2.8 3.8z M393.6 550.4l-2 .7-1.2-1.2 .2-1.5 2.1-.2z M454.1 629.5l-1.5 .2-1.2-2.1 .8-1 2 1.4z M420.4 585.8l1.9-1.2 3.4-1.3 3.6-1-1 .9-1.9 1.2-4.7 1.6z M510 581l-1.9-.2-1.3-1.1-.6-1.6 1.6-.5 1.3 1.7z M443.3 607.6l2.1-1.1 3.2 0 2.8 .6-3 .8-2.4 .2z M450.2 550.6l-1.2 .2-1.9-.5 0-1.8 .7-1 1.5 .7 .8 1.2z M408.8 550.8l.2-2 .5-2.9 .4-.7 .1 .8-.6 3.2z M417 581.7l2.4-2.4 2.4-.8 .3 1.2-1.8 1.4z M478.7 569.9l.1-1.4 3-1.8 1.4 .4 .1 1.5-2.9 1.2z M483.8 615.5l1.8-2.5 3.6-4.1 2.8-1.5-1.7 2.9-4.6 4.7z M470.2 559.8l.3-1.5 2-.9 1.7 .2 .1 1.7-2.8 1.5z M465.7 578.3l-.6-1.3-.1-3.3 .4-1.1 .6 4.3z M436.7 611.7l.3-1.9 1.9-3.8 2-2.9 1.1-.4-1.8 4-2.3 4.6z M395.9 598l-.3 .4-2.5-1.8-1-.9-1.2-1.4 2.5 1.4 2.3 1.7z M493.6 572.8l2.4-.9 5.6-.3 2.2 .3-1 .8-6.3 .4z M486.3 565.7l-1 .5-1.9-.2 .6-.7 1.3-.2z M383.2 565.6l-1.2-.7-4.1-5.9-1.2-3.3 3.2 4.2 3.8 5z M411.7 604.7l-1.5-2.2-.7-3.5 1-1.6 1.4 4.8z M458.4 605.9l-.9 .4-.7-1.2 .5-.6 1.1 .6z M484.8 602.5l-1-.9-1.1-2.2 .8-2.9 1.9-.1 1.2 2.7-.4 3z M452 586.3l-.6-.7 4.5-2.1 3.9-1.6 1.3 .3-4.4 2.6-4.6 2.5z M502 568.8l-2.6-.1-1.7-.5-1-.7 3.1 .4z M443.7 579l-.8-.9 .8-7.3 .8-5.2 1.1-2.1 0 6.7-1.1 5.3z M395.6 573l-.6 .3-2.6-.6-2.1-.6 .6-.2 1.4 0 2.9 .7z M459.3 554.3l-.1-2.1 .4-4 .6-3.7 .6-.4-.4 4.4-.5 4.1z M429.4 584.1l-1-1 .4-2 .6-1.4 .9 .2 .7 1.3-.7 1.6z M427.8 589.5l-1 .6-.9-.7-.3-.9 .2-1.3 1.5-.1 .3 1.4z M415.5 591.1l-1.8 0-2.3-1-.8-1.4 1.8 .3 2 .7z M490.1 579l1.9-1.4 2.2-1.4 1.6-.6-1.4 1.2-2.7 1.7z M417 571.9l.2-.7 3.8-2.4 .9 0-1 1.1-2.7 1.6z M474 566.4l-2.6-2.7-2.8-3.8-3-4.6 1.2 .5 2.8 2.9 3.8 5.5z M415.8 577.1l-.5-.8 .9-1.9 1.5-1.5 1 .5-.7 2.1-1.3 1.7z M439.3 561.9l.6-.7 2.1-1.2 1.2-.2-1.3 .9-1.8 1.1z M483.1 552l-2.4-1.5-2.6-1.9-.7-1 1 .2 2.7 2.3z M380.2 556.4l-1.1 1-1.5-.2-1.3-1 1.2-1 .9-.6 1.1 .5z M513.6 608.8l1.9-1.3 6-1.8 4.1-.8-3 1.6-6.7 2.3z M463.1 549.2l-.4 .4-1.3-1.1-.5-.8 .2-.5 1 .6 1.3 .9z M481.2 614.2l.9-1.3 2.2-2.3 1.2-.7-.7 1.2-2.7 2.9z M475.2 647.7l-1-2.3 1.4-2.2 2.5 .3-1 2.8z M413.8 605.6l.6-2 1.2-2.1 1.3-1.5 1.1-.3-1.2 2.5-1.5 2.1z M507.4 586.7l-.6 .3-2.6-.3-2.2-.7 2.2-.1 2.6 .4z M456.6 618.5l-2.8-3.2-3.3-5.7 .6-.4 3.1 4.9z M443.9 556.8l.3-.7 3.7-.1 2.7 .3 0 .6-2.6 .5-2.5-.3z M378.6 563.8l-1.7-.5-.2-1.9 .6-1.9 1.9 .2 1.6 1.3-1.1 1.8z M473.7 647.8l-1.5-.1-1.4-1.9-.6-1.5 1.5 .4 1.3 1.5z M512.1 605.4l-.5-5.3 0-6.5 .9 1 .1 5.7z M427.9 555.3l-4-.7-8.6-3.4 1.3-.5 7.9 2.5z M457 650.5l.3-2.5 2.4-5 2.3-3.3 .9 0-1.4 4.1-2.2 3.2z M469.1 550l.6-4 1.6-4.3 1.2-1.1-1.7 5.5z M418.1 600.4l-1.1-2.8 1-2.9 2.3 1.5 0 2.2z M506.7 594.9l-1.1-.1-3.1-1.2 .5-.2 2.9 .9z M508.1 595.1l-1.2-1.4-1.2-4.7 .5-1 .9 1 1.1 4z M379.8 553.7l-1.2-.5-2.6-1.7-.8-1.2 1.7 .8 2.3 1.7z M432.7 559.2l-2.9 .6-3-1.6 .4-2.5 2.1-1.4 2.3 2.1z M467.9 619.8l-.5-2 .9-3 .9-.3-.4 3.2z M515.7 607.1l-2.9-.8-2.1-.6-2.1-.9 .1-.3 2.1 .5 2.1 .9z M471.8 612.2l-.2-1.7 .4-2.5 1.6-1.8 .9 .5-.6 2.4-.8 2.6z M402.2 552.5l-3.1-.1-2.2-2.6 .6-1 2.7 1.1z M390.8 570.7l.6-.8 1.6-1.2 2.2-.7 .8 .5-2.5 1.5-2.4 1.3z M393.6 590l-1.7-.6-1.2-1-.2-1.4 .9-.7 1.6 .2 .4 1.8z M458.2 627.4l-.6-1.9 2.2-1.7 .8 1.7-.3 2.4z M391 590.4l-1.8-.6-2.3-1.2-2.5-1.9 .5-.8 2.7 .9 3.5 2.5z M462 579.5l-.2-2.6 0-2.5 1.2-3.3 1 1.4-.1 2.5-.5 2.8z M483.1 558.1l1.9-3.9 3.6-4.3 2.2-1.5-4.7 7.1z M497.9 562.9l-2.5 1.6-4.7-.9 1.1-1.7 3.9-1.1z M419.2 561.1l.3-1.2 1.9-.1 1.4 .8-1.4 .9-1.6 .7z M440 614.8l.3-.6 4.7-1.7 4.3-1.2 .6 .5-4.6 1.8-5.2 1.9z M486.4 587.7l.5-.6 2.4-1.3 2.2-.5 0 .4-2 1.1-2.4 .9z M473 604.9l-.5-.7-1-2.5-.2-2 .4 .3 .7 1.8 .9 3z M496.2 577.3l-2.9-.1-1.1-3.1 1.6-2.5 3 .6 1.4 3.1z M423.2 603l.2-1.6 1.9-2.3 .4 1.4-1 2.1z M489.3 573.7l-.9 0-.6-.9 0-.8 .5-.4 .9 .2 .8 1.2z M470.5 624.5l.5-1.5 1.3-2.6 2.9-1.7-.5 2-.8 1.7-2.5 3.1z M474.8 630.3l-1.7 1.6-3-.9-1.5-1.1 .9-1.6 3.3 .6z M461.3 587.2l.5-1 1.2-.9 1.2-.1-.4 1.1-1.5 1.3z M463.2 606.4l-1.7-.1-1.6-.7-.8-1.8 1-1.1 1.9 .5 .5 1.5z M515.8 597.6l.7-.5 1.7-.6 1.4-.2-.4 .4-.9 .5-2.1 .6z M462.5 600l-.6-2 .8-2.5 1-.4-.2 3.1z M401.6 587.6l.3-1.6 1.2-2.7 1.4-.9 0 1.6-1.9 3.2z M397.3 582.2l3.8-3.1 5.5-3 5.4-2.7-4.6 3.3-5.7 3.7z M478 602.8l.2-.6 2.7-1.3 2.1-.7-2.2 1.4-2 1.1z M387.1 564.6l2.5-1.3 3.4-1.1 .6 .7-4.1 1.8z M460.8 619.5l2.4-1.8 3.3-2 3.8-1.4 .2 .9-3.7 2-3.3 1.7z M378 562.1l-.2-.8 1.6-.4 1.3 .2 .1 .9-1 .9-1.5-.1z M455.1 572.9l-1.7-1.5-.6-2 .2-1.3 1.4 2.4z M472.9 550.6l3-.8 3.8-.3-.4 1-3.8 .8z M468 554.7l0-1.8 1.7-2.5 1.8-.6 1.2 .3-1.5 2-1.2 1.4z M514.4 601.6l-2.1 .3-2.5-.7-2.3-1.3 2.5-.2 2.6 .7z M470.6 607.6l-2.3-.9-1-1.8 .7-2 2.3 2.2z M492.5 566.6l2.3-1.4 2.3-1.1 .1 .5-2.4 1.4z M435.5 596.7l1.9-.9 4-.7 1.9 .1-1.4 .8-4.6 1z M415.8 551.4l-.4-1.7 1.8-3.1 .9 .2-1 3.2z M374.2 548.8l-1.4-3-1.1-5.2 1 1.2 1.6 4.1z M422.3 591.1l1.3-3 2.6-2.9 1.3-.4-.3 1.4-2.2 3.1z M459.5 560.5l-2.5-.1-3.3-2.1-2.1-1.7 2.7 .7 3.5 1.3z M366.5 557.5l-3.3-5.9-2.7-6.7 .7-.9 3.1 6.8z M503.5 589.1l-.9-2.3 .6-4.7 1.4 .8 .1 4z M401.2 599.6l-2.1 .2-1.7-.8 0-1.8 1.6-.6 2.2 .6z M412.2 560.3l-2.7-1.5-3.3-2.8-2.1-2.7 3.1 1.9 2.7 2.4z M394.6 587.2l.5-2.2 1.6-3.7 1.1-1.5-.2 1.6-1.6 3.4z M399.3 579.7l1.2-1.2 2.1-1.4 1.2-.1-.6 .9-2.7 1.7z M367 552.3l-2.5-3.9-2.8-5.2 .7-.8 1.2 .4 1.9 4.9z M473.5 575.8l1.4-1.8 4.5-3 1.5-.2-5.2 4z M479.2 607.7l-1-.5 .2-2.1 1.2-.4 1-.4 .5 1.5-1.1 1.1z M416.5 585.1l.9-1.5 4.6-3 2.6-1.3-1.2 1.7-4.8 3.3z M450 549.1l.5-.9 2.1-.6 .2 .9-1.9 .9z M461.7 577.1l-1.1-.3-.4-2.5 .1-1.8 1.3 .7 .8 2.9z M606.4 652.2l-1.3 .7-2-2.1 .5-1.1 1-.9 2.1 2.1z M619.9 581.1l0-1.2 1.2-1.4 2.1 .5-1 1.8-1.2 1z M598.1 613l-.8 .4-2.7-1.8-2.7-2.1 1-.4 2.5 1.3 3 1.8z M573 660.1l-1.8 .6-5-2.1-1.7-1.2 2.2 .1 3.8 1.1z M579.3 628.9l-2-1.3-1.7-1.2-1.6-1.9 .3-.7 2.2 1.4 2.2 2.2z M534.5 649.3l-2.1-2.6-2-3.7 1.1 .5 1.8 2.7z M621.5 608.2l3.1-4.7 2.7-3.6 3.7-4-2.9 4.5-2.9 3.9z M594.6 547.7l-.4-.9 .4-5.2 .8-1.7 .5 1.6-.6 6.1z M570.7 594.4l-.5 .3-.6-.3-.5-.6 .3-.9 1 .3 .6 .5z M601.1 658.9l2.3-3.4 3.1-4 2.5-.7-1.9 3-2.9 3.3z M599.8 572.5l-1.1 0-.6-1.8 .5-1.3 1-.8 .7 1.7 .6 1.8z M631.7 650.6l-1 .1-1.4-1.2-.9-1.5 1.6 .2 1.8 1.3z M646.9 627.1l-3.1-5-3.3-6.5 1-.3 3.2 6.3z M536.5 567.1l2.5-1.9 3.1-.6 .7 .9-3.4 2z M535.9 574.3l.8-.6 1.6-.7 1.6-.6 .8 .2-2.1 1-2 .7z M582.9 667.2l-.8-1-.9-2.4-.6-2.1 .5 .3 .8 1.2 .9 2.7z M561.7 573.8l-1.4-.1-1.2-1.7 1.3-.6 1.9 .9z M584 547.9l-2.1 .4-3.6-.5-1.6-.7 1.8-.3 4.2 .2z M634.9 615l-.4-.7 .1-1.6 1 .2 .6 .6-.4 1.7z M615.7 551l-.7-.2-2.3-1.6-1.7-1.5 .9 .3 1.2 .6 1.6 1.4z M629.9 603.4l-2.1-.6-3.2-3.7-1.3-2.9 2.6 1.1 3.8 3.9z M630.5 681.2l-2.6 0-3.6-.1-2.9-.7-.3-.5 3.4 .1 5.1 .5z M618.1 643.6l-2.4-2.1-2.2-2.8 .7-.5 2.8 2.7z M635.3 621.8l.7-2.5 4.1-2.6 1.9 .5-1.1 2.1-2.9 2.3z M565.8 613.4l-.5-3.2 .1-4.1 .7-4 .4 3.7-.1 4.4z M584.3 671.2l-2 .4-3.5-2.2 1-1.6 4.3 1.3z M572.2 592.7l1.4-1.5 2.9-1.3 3.6-.9-.7 1.4-2.4 1.3-2.4 .8z M571.2 633.4l-1.3 .5-.9-1.1 .7-.7 1.2-.1z M574.2 675.6l.7-.7 5.6-.2 2.6 .1-1.2 .8-6.8 .5z M579.9 603.8l-1.7-.7 .4-1.9 1.7-.5 .8 1.8z M637.2 599.6l.4-1 1.2-1.8 1.5-1.7-1 2-1.4 2.3z M599.9 586.6l-1.6-.1-1.1-1.5 1.4-.9 1.4-.5 .9 1.6z M609.6 591l1.6-1.1 2.9-1.3 .4 1-.4 .9-2.8 .8z M543.1 605.7l1.5-3 1.5-2.7 1.7-2 0 .8-.6 1.7-2.4 3.5z M637.7 639.5l3-1.2 4.2-.9-.2 .8-3.7 1.1z M567.9 652.2l.2-1.6 .9-1 .8 .5-.4 1.6z M632.5 560.3l2.6-.6 4.6-.1-.9 .5-3.2 .3z M629.5 653.6l-1.3 .4-1.4-.2-1.4-.3 .1-.6 1.3-.2 1.8 .1z M598.4 662.2l-.7-1.2-.7-2.6-.1-2.5 .5-.1 .7 2.5 .5 2.7z M535 648.1l-.8 .5-.6-1.4 0-.9 .4-.8 1.2 .6 .4 1.5z M605.5 565.7l.3-2.2 4.7-2.1 .2 1.9-3.1 2.8z M532.8 559.7l-1-1.9-1-2.1-1.1-3 .5 .3 1.2 2.4 1.1 2.9z M621.9 650l3.1-2.4 4.6-2.7 5.4-2.9-1.9 1.9-2.6 2-4 1.9z M630.5 680l1.8-3.2 3.2-3.7 .2 .4-2.4 3.4z M592.3 599.3l3.9-1.9 3.1-1.2 3.9-1.2 1.7 .1-4.5 2.2-4.1 1z M547.2 559.7l.8-2.2 4.2-4.2 1.4 .9-4.2 4.5z M616.2 550.2l.1-1.6 1.3-1.3 1.7 .1 .5 1.2-.9 1-1 .4z M601 609l.9-2.9 1.8-4.5 3.2-6-.7 3.3-1.2 3.5-3.1 6.7z M573.1 614.5l-.6-.5 2.1-5.8 1.3-1.5-.2 2.3-1.9 5.5z M582.2 583.7l-2.7 .1-6.9-2.7-1.6-1.2 .5-.8 8.7 2.9z M612.9 663.5l-.7-1.3-1.3-3.5 0-2.3 .3-.9 1 3.2 1.2 4.7z M633.9 570.7l-2.8 .5-3.2-1.8-1-1.5 1.1-1.2 4.5 1.7z M545.5 579l1.7-2 3.4-2.5 3.4-2.3 1 .2-3.6 2.9-2.7 1.8z M569.8 569.7l.1-2.4 1.5-2.5 .4 .7-.5 2.1z M628.3 580.3l-.6-.9 1.4-7 1.4-3 1.6-2.9-1 6.4-1.8 6.8z M616.9 675.4l-1.3-2 .9-3.6 1.9-.7 .6 2-.6 2.1z M613.7 628.6l-1.8-.8-3.7-4-.9-1.9 2.3 1.7 3.5 3.3z M573.6 599l.2-1.1 1.7-2.8 2.1-1.1 .7 .3-1.2 2.4-2.4 2.1z M536.9 588l1.3-1.9 1.4-2.2 2.3-1.9 .4 .5-2 2.4-2.2 2.5z M599 654.9l.2-1.1 3.5-2.8 3.1-1.6 0 1-2.3 2.2-3 2z M554.2 634.7l-.4-.4 3.3-3.3 2.2-1.9 1-.3-2 2.8-3.2 3z M537.8 648.3l-2.1 .3-1.8-1.8 .1-1.6 1.6-.6 1.3 1.7z M636.1 624.7l-1.6-.5-1.4-1.9 1.5-1.1 1.6 .1 1.3 2.1z M629.5 559.2l-1.6-1-3.6-5-1.6-3.3-.3-1.7 3.3 3.8 2.2 4.1z M607.7 663l.8-1.7 2-1.7 1.2-.2-.2 1.1-2.4 2.6z M530.8 557.5l-1.5 .3-2.8-1.6-2.8-2.1 3.4 .9 3.8 1.2z M604.3 663.7l-.5-.8 .6-2.2 .9-.4 .7 .8-.9 2z M536.3 598.5l-1-2.5-.7-4.5 .8-2 .9 2.5 1 4.8z M601.3 643.7l-.4-.5 2.2-1.3 1.9-.6 .1 .6-1.3 1.2-2.3 1.2z M602.4 548.6l.1-2.4 3.5-3.6 2.2 .1-.1 2.2-3.2 3.1z M630 640.1l-.5-1.5 1.5-1.1 1.4-1 .6 1.3-.5 1.2-1 1.3z M612.9 644.5l-2-2.2-2.1-4.2-.5-2-.2-1.6 2 2.9 1.1 3z M548.6 559.1l-.9-.4-1.2-1.6-.7-1.2 .3-.3 1.1 .6 1.4 2.1z M593.2 612.6l-.1-1.3 1.7-.5 1 .7 .5 .9-.9 .9-1.5 .3z M596.4 631l-.7-1.5-.5-2-.2-1.6 .1-.9 .8 2 .3 2.2z M585.2 644.7l1.5-1.6 5.7-1.5-.5 1.4-4.3 1.8z M638.8 676.4l-1.5 .7-.9-1.7 1-1.1 .9-1.2 1.1 1.2 .4 1.4z M617.2 551.6l-.4-4.4 0-5.1 .8 .3 .2 5.3z M633.1 635.2l2.1-.5 2.2 0 .1 .5-2.4 .4z M522.3 633.7l-.1-1.3 1.9-2.4 .9-.3-1.5 3.1z M536.6 615l-.4 .3-1.4 .1-1.4-.3 .4-.4 1-.3 1.7 .3z M555 568.9l-.4-3 2.5-4 2.1 .3-2 4.4z M637 664.2l-.3-1.5 1.4-1.4 1 .3-.8 1.8z M617.5 568.4l-2-1.3-1.7-1.7 1.2-1.7 2.2-.4 .7 2.8z M607.6 585.5l-.8-1.1-1-3 .9 .4 .9 2.4z M582.6 586.6l.8-1.2 1.5 .1 .9 .9-1.8 .6z M616.6 565l-3.1-.3-1.7-2.6 2.1-1.8 2.1 1.8z M540.8 622l-1.9-3 .5-5.6 1.6-1.4 .3 5.9z M628.7 624.4l-3.8-1.2-3.4-1.5-3.6-1.9 3.3 .8 4.7 2z M622.2 671l2.5-.8 3.6 0 .5 .5-4 .6z" fill="#000"/></g>
<g filter="url(#f5t)"><path d="M992.5 580l12.5-2.5 7.5 7.5-7.5 7.5-10-2.5z M1370 535l12.5-2.5 3.7 7.5-6.2 2.5-7.5-1.3z M747.5 707.5l7.5-3.7 7.5 3.7 5 7.5-2.5 8.8-10 2.4-6.2-6.2z M1207.5 612.5l12.5-2.5 5 10-10 5z M1185 632.5l7.5 5-2.5 6.3-6.2-1.3z M602 518l16-4 4 10-12 4z M533.4 515.8l2.6-1.5 5.8-2.2 3.7-.6 .8 .3-4.2 1.8-5.7 1.8z M573.4 514.4l-1.4-.9-1.4-4.8 .4-1.6 1.2 1 1.7 4.7z M617.8 519.8l-.3-.6 .2-1 .6-1.3 .4 1.1-.2 1.7z M571.4 518.3l-2.4 .6-7.3-.7-5.2-1.1 6.4 0 6.2 .2z M571.2 516.7l-.7-.7 .7-3 .9-.9 .7-.2 .1 1.7-.8 2.4z M637.1 534.1l-.1-3.1 1.4-6.6 1-1.3-.1 2.5-1 5.9z M625.5 525.7l1.2-2 2.5-3.5 3.9-2.9 .3 1.2-3.1 3.5-2.7 2.3z M538.7 525.4l-.6-1 1.8-1.5 1.6 .4 1 .8-1.4 1.4-1.7 .7z M553.6 516.6l-1-1.1-1.4-1.8-1-1.8 .5 .1 1.1 1.4 1.6 2.3z M578.4 524.8l-.1-1.1 1.4-4.3 1-1.3-.7 2.7-.9 3.2z M575.8 509.4l-.8 .1-1.6-.7-1.3-1.1 1.5 .1 1.8 1z M586.4 517.2l1.3-1.7 4.9-3 5-3.2-.8 1.4-3.1 2.6-3.7 2z M608.6 519.4l-1.3-5.2 .1-6.8 .8-2.1 .7 8.3z M623.6 507.6l-1.3 .5-.9-1 .5-.8 1.3 0z M546.9 527.4l-2.2 .1-2-.8-2-1.3 .8-.9 2 .2 3.2 1z M563.8 516.6l.8-.6 2.3-.6 1.3 .3-1.2 .9-2.7 .7z M564.9 531.4l2.6-3.5 3.9-3.1 .6 .6-3.2 3.1z M551.1 525.1l-3-3.7-3.6-6.2 2.2 1.8 2.4 3.5z M559.6 517.6l.1-1.7 .3-1.7 .7-1.5 .3 .8 0 1.1-.5 1.7z M552.5 518.4l-1.9-2.1 1.5-4 2.4 .8 .1 3.6z M612.6 526.5l-1.9 0-1.7-1.2 1.2-.9 1.9 .2z M587.6 522.8l-.2-1.4 .8-4 .8-2.5 0 2.1-.7 3.6z M600.1 526.1l-1.4-1.4-2-2.7-1.6-2.7 .8 .4 1.6 1.7 2 3.2z M568 515.8l-.9-.3-.9-1.5-.4-1.7 1.4 .8 1.3 1.8z M608.2 516.4l-1.5-.3-2.6-1.2 0-.7 3.3 1.3z M618.8 527.1l.3-2.7 2.1-6.4 1.9-4.3-.6 4-2.3 7.4z M589.1 512.5l.5-1 3-.4 3.1 .1-.3 1.2-2.8 .6-2.9 .5z M625.6 514.8l-.9 .6-1 .5-.5-.9-.3-.8 1-.3 .8 .3z M602.9 517.7l1-5 1.8-5.4 .6-.2-1.5 6.3z M609.5 508.5l.3-.8 1.8-.6 1.9-.6 0 .7-1.5 .8-1.7 .8z M429.1 552l-.6 .2-.8-.8 .1-.8 .2-.5 .9 .3 .4 1z M382.3 560.6l1.7-1.2 3.9-.6-.8 1.6-2.9 .9z M401.6 600.3l2.8-2.5 2.5-1.3 .7 .6-2.7 2.5z M466.8 608.4l.4-.5 3.4-.6 3-.2-1.2 .6-2.1 .5-2.8 .4z M388.7 585.1l3.6-2 4.6-1.4 .7 .7-5.2 2.3z M358.2 551.4l1.1-1.3 4.8-1.8 3.3-.3 1.7 .5-5 1.7-3.8 1.3z M389.6 551.4l-2.3-.7-1.8-1.6-.3-2 2-.1 1.6 2.1z M415.4 555.1l-2.4-1.9-2.9-2.8-3.6-3.8 .5-.4 3.7 3.2 3.3 3.6z M464.2 601.8l1.3-2.9 5.1-6.7-.1 1.6-4 6z M402.9 555l-.7 .6-2.8-2.1-2.3-2.2 .8-.7 2.6 1.6 2.8 2z M516.6 582.3l-.9-1.9 0-2.9 1.9 .5 .6 2.7z M464.6 626.7l-.5-1-.1-2.1 .5-1.7 .8-.5 .3 2.3-.2 2.5z M508.5 602.2l-.9-2.1 1.3-2 2.5-1.1 .9 2.6-1.8 1.7z M399.7 597.5l-2.5-2.2-2.2-2.4 .3-.3 2.7 2.5z M494.6 571.1l1.1-.5 2.3-.1 .5 .6-2.9 .3z M416.2 550.5l.4-.9 1.2-.7 .4 .6-1 1.1z M417.5 599.6l-.7-1.1 3.2-3.8 3.1-2.7 1.1 .7-2.5 3.7-2.4 2.2z M444 565.4l-2.2 .7-4.8-2-1.5-1.4 1.8-.3 4.8 1.3z M465 629.5l-.4-.8 2.5-2.6 1.3-.5-.6 1.5-1.8 2.2z M488.8 569l-3.5-.4-4.5-.7 .1-.6 5.1 .7z M476.8 616l-.6-.7 1.3-1.5 1.4-1.4 .8 .7-.5 1.8-1.6 1.6z M483.8 569.1l-1-.5-.3-1.1 .5-.7 1-.8 .5 1.2 0 .9z M476.5 618.6l-1.9-.5-2.7-1.8 .3-1 3.2 1.8z M472.5 629.6l.5-.8 1.2-.8 .9 .9 .5 1.1-1.2 1-1.3-.7z M471.1 560.3l-.8-1.4 .4-2.1 1.5-.6 .6 1.5-.4 1.8z M474.3 600.2l.5-2.4 2.9-2.7 2.7-1.9-1.1 2.8-2.5 2.8z M472.6 590.6l.7-.6 1.6-.3 .9 .6-.2 .5-.7 .7-1.6-.3z M476.7 642.6l-1.2-.7-.5-1.8 .5-.8 1.3 1.9z M376.8 550.9l-1.4-1.4-1.1-1.8-.3-1 .7 .3 1.6 2.4z M433.6 609.7l1.3-2.4 2.1-1.1 1 .7-1.7 2.5z M406.1 547.4l-.9-1.9-.8-3.4 .5 .3 1 2.8z M453.8 576.8l-.4-2.8 1.6-5.9 .6 1.5-.5 4.4z M384.5 576.6l-1.2-1.1-.8-1.3 .4-1 1.1 .4 .7 1.5z M446.8 622l.3-.9 1.6-1.9 1.8-1.6-1.5 2.2-1.7 2.3z M447.4 603.8l-2.5-1.6-3.1-2.9-3-4 1.4 0 3.1 2.3 3.8 4.4z M448.7 595.2l.2-1.9 2.2-2.9 1.8-.1-.8 2.1-1.5 2.3z M469.5 586.6l-.4-.6 1.5-3.5 1.3-2.4-.4 2.3-1.2 3.1z M457.5 571.9l2.1-1.6 4.3-2.2 .5 .4-4.1 2.2z M463.7 598.1l-1.7-.9-3.8-3.9-3.2-3.8 1 .1 3 2.2 3.5 4.3z M479.1 643.2l-1-1-1.3-1.3-1.3-1.8 .7 .5 1 1 1.6 1.7z M416.4 564.1l-2.1-.1-5.3-1.4-.1-1 1.5-.3 5.4 1.7z M402.5 585.5l.5-4.1 .9-3.7 1.2-4.9 .3 1.1-.2 3.4-1.5 5.3z M449.4 558.2l-.5-1-.4-1.4 .4-.5 .6 .3 .1 1.6z M473.1 547.6l-3.4-2.1-3.9-3.5 0-.9 4.7 3.7z M411.5 584.4l1.3-1.1 3.3-1.8 3.5-1.8 .6 .3-3.2 2.1-2.8 1.1z M398.7 581l1.1-3.5 2.8-4.5 .4 1.5-1.8 3.5z M430.8 545.8l-1.7 1-2.3-.4 1-2.1 2.2-.7z M401.6 552.9l5.1-2.5 6.1-2.1-1.1 1.3-4.9 2.3z M437.3 593.1l-.9 .2-4.5-1.6-2.9-1.5 3.1 .6 4 1.5z M458.1 633.6l.2-4.2 .2-3.6 1.1-4.2 .7 .2-.3 4.3-.8 3.4z M426.2 558.8l1.7-1.4 2.2-.3 1.5 .4-.8 1.2-2.7 .9z M423.2 565.6l.5-1.2 1.8-1.1 1.6 .1-.1 .9-.5 1.2-1.8 .1z M462.9 616.4l-1-1.8 0-3.1 1.2-.1 .6 3.2z M428.6 554.1l2-2.5 2.4-2.5 1.1 0 .2 1-3.1 2.5z M503.4 590.3l.7-1.4 2.1-1.5 1.4 0-2.7 2.2z M477.5 610.4l-.9-1-1.3-2.1-.9-2.1 .3-.3 1.3 2.1 .7 1.5z M375 549.3l-.6-.1-.9-2.7-.9-3.2 .9 .9 1 2 1 2.8z M428 604.2l3.4-3.3 4.3-3.4 1.4 .2-.8 1.6-4.3 3z M507.8 609.5l-.2-1.9 1.1-2.7 2.3 .6 .5 2.1-1.7 2z M454.7 593.9l-1.6-1.5-2.4-3 0-1.1 1.1 .7 2.3 3.3z M449.2 579l.3-1.4 .6-1.5 .8-1.5 .4 0-.4 1.7-.9 1.7z M498.3 596.6l.6-6.1 1.5-5.6 1.4-2.1-1.6 7.7z M501.5 600.8l-3.8-2.6-2.6-2.9-1.6-2.5 1.8-.1 4.3 4.6z M487.7 570.3l-5.1-.1-6.2-1.5-.4-1 6.6 .9z M429 545.4l2.2-1.1 1.6-1.4 1.7 .9 .1 1.1-1.2 1.4-2.8 .3z M426.9 597l4.8-1.3 4.3-1.3 2.5 .2 .2 .4-3 .9-3.6 .5z M487.5 569.6l2.9-1.1 5.1-.1-.4 .9-4.4 .8z M462.4 628.4l1.1-2.3 3.5-1.6 1.6 .6-3.6 2.5z M428.4 606.6l-.2-1.5 0-2.6 .3-3.2 .3 .9 .2 2.3-.2 3.1z M452.1 619.3l-.5-1.7 0-3.6 1.1-2.5 .3 3.4-.2 2.5z M525.7 652.9l.2-1.9 1.6-2.2 1.8-1.4 1.3 .3-1.3 2.5-1.7 1.6z M621.7 623.1l.4-.8 1.8-.3 .8 .3-2.1 .9z M589.2 663l-.5-1.2 1.4-4.9 1.1-.2 .8 .8-1.7 4.2z M545.3 591.6l-.5-2 .4-4.6 1.4-3.7 1 .4-.5 4.2-.7 3.7z M543.9 646.5l1.6-2.3 1.2-1.4 2.2-1.9-.2 1.2-.7 1.6-2.1 1.6z M609.5 609.8l-3.1-1.8-3.9-3.2-.9-1.8 1.9 .7 3.7 3.3z M632.9 553l.1-2.9 2.5-2.6 2.1 1.2 .4 2.1-2.1 2.7z M638.7 569.3l-.9-1.7 .2-3.9 1.3-.8 .9 1.3 0 4.3z M581 576.9l.5-1.4 .7-1.1 .8-.3 .5 .7-1.3 1.2z M635.9 566.4l1.8-4.9 2.6-4.9 1.1-.8-2.8 6.1z M529.5 558.1l1.1-2.2 1.9-1.2 2.1 .5-.2 2.3-2.4 .6z M603.8 551.4l-2.2-.7-1.5-2.3 1.1-.7 2 1.5z M633.1 601.6l-1.4-.5-2.2-2.5 .7-.4 2.6 2.1z M623.3 560.3l-2.1-.3-2.7-3.6 1.1-.6 2.9 2.4z M582.7 629.6l-1.8-3.1-.9-5.5 .6-.3 2.1 5.5z M638.3 649.4l-.2-3.7 2.5-7.5 1.3 .2-1.6 8.2z M534.4 648.4l.2-3 1.1-3.8 1.1-2.6 .2 1.7-1.4 5.3z M538 560.5l1.5-2.2 3.3-3.3 2-1-.5 1.6-4.1 3.6z M534.2 618.2l-2.3-4.5-1.8-4.2-.3-3.8 2 2.7 2.3 6.1z M613.1 658.5l-.2-2.4 .6-4.2 .9-.5-.3 5.3z M583.2 663l-2.6 1-1.4-2.8 2.1-1.5 2.2 1z M619.8 654.8l2.2-2 2.9-1.8 2-.2 .9 .3-2 1.7-3.2 1.4z M637.3 577.8l.2-2 3.8-5.3 2.6-1.4-1.2 3.3-3.4 4.3z M586.7 665.1l-.2-1.4-.1-3.2 .4-1.3 .3 1.3-.1 3.3z M596.1 648.3l-3.8 .4-4 .1-2.8-.3-1.4-.6 3.8-.4 5.4 .1z M607.3 677.2l2.9-2 3.3-.8 2.2 .9-4.9 1.7z M583.3 586.7l-2.7-1.4-1.7-3.9 2-.4 2.7 2.7z M642.7 578.5l-2.8 .5-5-.7-.5-1.2 5.8 .3z M596 572.8l-1.3-.7-1.8-1.2-.7-.8-.9-1 2.1 1.5 2.2 1.5z M637.5 567l0-1.7 1.8-1.2 1 1-1.2 1.7z M601.6 580.9l.8-.9 8.4 0 2.5 .7-2.2 .8-8.1 0z M554.2 601.8l2.7-.9 3.1-.4 2.6-.1-2.5 .8-3.5 .7z M533.5 658.7l2.8-1.7 5.1-1.6-.8 .9-3.8 1.7z M541.9 636.2l1.3-1.2 1.6-.8 1.3 .3 1.5 .5-2 1.3-1.9 .1z M560.7 663l-.6-2.3 0-3.9 1.4-2.1 .8 .7 .8 1.8-1.3 2.9z M592.8 558.2l-1.5-.1-2.4-2.9-2-3.1 1.1-.7 2.7 2.2 1.6 2.7z M623.1 560.7l.1-.9 1.2-.8 .8 0-.1 .8-1.1 .8z M606.2 561.2l-.9 .2-1.9-2.6-1.2-2.9 1.3 .2 1.7 1.5 2 3.3z M564.3 599.8l-1-1-.4-1.3 .2-1.4 1.1-.5 1 1.3-.1 1.7z M625.3 591.2l1.1-1.1 4.8-1.6 3.6-.5-2.9 1.7-4.7 1.4z M568.5 615.7l.9-6.3 1.6-6.9 .4 1.6-.8 6.8z M605.3 564.6l-1.9 .1-2.1-.6-.2-.7 2.4 .5z M552.7 606.9l1.7-3.1 2.7-3.7 2.3-2.5-1.7 3.2-2.6 3.7z M554.9 637.5l-1.6-.2-2.8-3.2-.2-1.8 2.1 1.4 2.2 2z M584.8 672l0-1.8 1.8-1.7 2-.3 1 1.1-.9 1.9-2 .7z M645.3 633.8l-2.9-1-2.9-3.4 .5-1.4 3.4 3z M596.7 655.6l-.1-2.6 1.1-4.7 .6-1.2 .1 1.4-.7 4.5z M644.4 636.7l-1.9-1.6-1.2-2.5 1.6-.2 1.7 1.8z M598.5 578.9l-.1-1.6 2-3.9 .4 .9-1.2 3.3z M589.4 623.3l-1.4 1.4-2.9-1.5-.7-1.5 3.4 .5z M560.3 641.3l1.4-1.2 2.4-.2 1.5 .5-1.3 1-2.3 .6z M562.7 665.8l2.2-.4 2.6 0 2.2 .4-1.8 .5-3.2-.1z M558.1 638.1l-.3-.7 .1-2.5 .9-1.2 .4 0 .3 1.5-.9 2.5z M584.5 578l-1.7-.5-1.8-3.5-.6-2.8 2.2 2 1.4 2.6z M558.5 580.8l-.4-.9 .8-1.3 1-1.3 .1 1.6-.5 1.5z M588.6 593.5l-1-1.1 1.1-2 1.4-1.1 .8 1.5-.8 2.5z M541.8 601.8l.3-1.8 4.7-3.5 .8 1-4 4z M589.4 547.4l-1.6-.7-.8-2.1 1.1-.4 1.5 1.5z M556.5 577.6l-2-.2-5.4-2.7-.7-1 5.7 2.5z M613.2 559l-2.6-1.5-1.6-1.8 .9-.6 1.9 1.4z M589.7 562.7l-1.1 .5-1.4-.4 .1-1 .6-.8 1 .8z M568 665.8l.9-3.2 1.8-1.9 1 .5-1.1 2.5z M630.8 572.4l-1.8-.8-1.5-1.7 0-1 1-.1 2.2 1.9z M595.4 569.7l-1.5-1-1.3-1-1-1.2 .1-.5 1.5 1 2 1.8z M560.5 615.9l-.6-1.9-.4-1.5 .2-1.5 .7 1.3 .2 2z M592.4 628.8l.3-3.1 .8-3.3 .6-.4-.7 4.3z M623.1 601.2l.6-1.4 2-2.1 1.9-1.1-.1 .9-1.1 1.4-1.4 1z M607.8 657.6l-.9-.4-.4-3.2 1-.8 1 1-.1 2.5z M639.7 679.8l.3-5.4 1-6.1 .7 .3-.8 5.8z M589 549.5l-2.2-1.1-3.7-3.1 .5-.3 4 2.8z M538.4 660.2l2.5-1.7 4.6-1.2 1.5 .3-.8 1.1-4.4 1.2z M566.7 589.1l-3-.7-2.6-2 1.1-.5 2.7 .8z M600.6 603.3l-1.9 .7-2.4-1.7 1.1-1.6 1.3-1.1 2.4 1.6z M641.2 667.8l-.9 0-2.2-1.3-1.9-1.7 1.5 .4 1.2 .6 1.4 1z M616.7 666.9l2.3-2 3-2.1 2.1 .3 1.2 .6-2.4 1.8-3.8 1.7z M585.7 637.4l.5-2.3 2.7-2.9 3.2-1.6-.7 2.2-.6 1.8-2.6 1.9z M529 630.1l.9-2 1-1.4 1.5-1.2-.4 1.7-1.3 1.5z M552.5 568.2l-.9-.8-.9-2.2 0-1.3 .8 .7 1.2 2.5z M577.8 568.2l.5-1.1 3.8-1.2 .7 .7-.9 .8-2.9 1.3z M575.1 555.2l-.4-1.7 .9-2.3 .9 .2 0 2.7z M548.4 617l-.6 .7-3.5-.6-3.6-1 1-.7 3 .3 4.3 .4z M636.9 602.2l-2-3.2-1.7-4.5-.3-2.2 3.2 6.5z M623 649l.6-2.1 1.8-2.5 1.2-1.3 .4 .2-.5 1.6-1.6 2.1z M575.7 590l-1-.3-.1-1.3 .6-.8 1.4 0 0 1.8z M596.2 551.4l-1.3 .3-2.4 .1-2.1-.3 .7-.3 1.7-.1 2.3 0z M594.1 639.7l-3.4-2.1-4.5-4.5 .5-.8 5.1 4.2z M575.5 675.9l-3.3-3.7-2.6-3.6-1.7-3.5 2.3 1.8 3.6 5.3z M556.9 641.8l3.3-1.1 5.8-.3 3.1 .4-2.5 1.1-6.4 .5z M531.2 607.7l-.8-3.6-.8-4.4 .4-1.3 .7 1 .4 4.5z M617.3 568.7l-1.3-2.7-.9-6 .3-3.4 .7-.7 .8 4.5 .8 4.6z M810 586l12-22 2 4-10 20 12 6 14-14 8-6 0 10-10 8-10 8z M748 704l12-2 6 12-4 8-14 0z M737.7 704.6l.2-2.9 1.6-5.7 1.2-1.6 .9 .8-2.4 6.6z M735.8 711.3l1.3-1 3.6-1.1 1.2 .4-1 .9-3.5 1z M735 700.3l2.2-1.4 3.1-1.4-.1 .5-2.8 1.5z M750.1 719.8l-3.6-1.4-3.8-2.6 .8-.7 3.6 2.1z M741.4 690.8l.1 .5-2.4 0-1.5-.3-.1-.4 1.7-.2 2.6-.1z M736.7 700l-1.2 .5-3.1-.7 .2-1 2.9 .5z M728.6 681.3l-.3-1.2 2.3-.3 2.3-.1-.1 1.3-1.6 1-2.5 .6z M725.9 683l-2.4 0-2-2.9 1.6-1.2 2.1 1.8z M710 683.1l-.8-1.3 .8-1.6 1.2-1.1 .5 1.5-.1 2.2z M744.9 712.2l-.6-1.9 .4-5 .6-2.2 .5 2.1-.3 4.1z M709.2 680.4l.4-.6 1.2-.7 .9 .6-.6 .9-1.5 .5z M711.9 696.5l2.5-3.1 3.6-3.6 2.2-1.5 2.4-1.5-3.2 3.8-3.7 2.9z M740.7 720.8l.3-.4 2.7-.2 .9 .4-1.4 .3-1.8 .2z M724.1 683.6l.2-3.2 1-3.4 1.1-1-1 5z M722.4 690l-.7 .7-2-.7 .4-.6 1.8-.3z M736.5 706.3l-.5-1.2-.1-2.7 .4-2 .4 1 .2 1.2 .1 2.3z M724.4 678.3l-.5-.5 .7-1.8 .8-1.4 .4 .5 .2 1.2-.9 1.7z M708.7 679.1l3.1-2.4 3-2 4.7-2.8-2.2 2-1.8 1.5-4.4 2.8z M724 699.6l.1-1.1 1.4-2.1 1.6-1-.3 1.7-1.7 1.9z M717.8 684.4l1.3-1.7 3.2-2.5 2.4-.4-.1 1-1.7 1.5-2.3 1.2z M730.7 677.2l-1 .1-2.1-.1-1.7-.4 1.2-.3 2.8 .4z M735.2 689.5l.9-1 1.3-.1 .1 1-1.1 1z M736 682.4l-2.7 .6-5.2-.8-3.2-1 2.8-.5 5.9 .6z M748 688.9l-.9-.8-1.4-3.3 0-2 .2-1.7 1.3 3.6 .9 2.8z M722.8 712.3l2.7-1.8 7.3-2.4 4.3-1 1.5 .1-5.7 2.2-5.6 2z M733.2 699.8l.2-1.1 1.3-1.1 .7 .4-1.1 1.4z M770.1 725.2l-4.1-1-7.2-3.3-1.9-1.6 3 .8 6 2.6z M747.8 696.5l1.7-2.5 3.2-1.3 1 .4-2.9 2.9z M746.9 712.7l1.7-1.9 3.5 .2-.2 1.2-2.6 1.4z M723.5 688.3l-2.7 0-4.3-2.1 1-1.7 4.3 1.7z" fill="#000"/></g>
<g filter="url(#f6t)"><path d="M935 597.5l10-2.5 5 8-17.5 0z M1375 585l15-7.5 2.5 5-12.5 10-7.5 7.5z M752.5 675l3 0 2.5 27.5 7 7.5 15 2.5 7.5 2.5-7.5 5-12.5-2.5-10-2.5-4.5-10z M828 698l4 0 0 4-4 0z M847.8 705.2l4.4 0 0 4.6-4.4 0z M846 696.5l3 0 0 3-3 0z M818.5 703.5l3 0 0 3-3 0z M1312.5 620l10-5 3.7 5-8.7 7.5z M1267.5 612.5l12.5 0 0 7.5-12.5 0z M1340 608.1l5 0 0 6.3-5 0z M437.8 589.6l-.8-2.5 2.3-1.3 2 1.1-1.4 1.9z M458.7 549.5l-1.4 .2-.9-1.2 .2-1.2 1.8 .8z M392.9 560.5l-.8-.8-.7-3.5 .5-2.4 1 2.4 1 4z M485.3 578.9l-.2-1.3 2.6-.9 2.5-.5 .3 1.3-1.5 1.7-2.3-.1z M435.5 586.2l-.3-1.1-.3-2.7 .2-1.4 .4 1.4 .1 2.8z M409.7 560.3l-.5-1.1-.2-3 .6 1 .5 2.1z M411.9 556.2l-2.2-.6-2.3-1.3-.8-1.1 4 1.6z M398.5 605.9l-4-5.8-4.2-7 2.1 1.4 3.6 5.4z M475.8 552.5l.3-2.1 3.5-6 1.5-1.3 .2 1.3-3.5 5.5z M485.8 620.7l-2.1-1.7-1.8-2.7-.2-1.2 2.8 3.2z M386.8 588.2l.1-1 .8-1.5 1.2-1 .7 .2-.6 1.6-1.3 1.9z M439 597.4l0-.8 .3-1.6 .7-1.4 .3 .2-.1 1.6-.8 1.8z M433.1 585.5l-2-1.8-2.2-3.6 .4-.7 2.3 3.3z M393.1 595.7l-2 .1-3.5-.8-.1-1.4 1.6-.2 3.8 .7z M442.3 582.3l-.1-.8 2-1.2 1.4-.5-.9 1.2-1.6 1.3z M498 575.8l-1-.1-1.2-3.4-.1-1.3 .9 .1 1.4 3.3z M448.1 592l-1.6-1.1-.5-2.1 2-.8 1.6 .2 1.7 1.4-1.6 1.5z M422.7 589.7l-.4-2 .2-2.7 1.3-2.4 .8 1.1 0 2.1-.8 1.9z M511.7 588.3l-2.6-1.6-3.4-2.3-.2-.7 .8 0 3.3 2.6z M391.3 591.4l.9-.9 1.6-.6 1 .2 .1 .5-.5 .9-1.7 .2z M487.8 612l-.7-.4 .8-1.2 .6-.4 .7 .5-.7 1.5z M421.1 583.9l-1.4 .1-1-1.7-.6-1.9 1.5 .2 1.3 .2 .8 1.9z M480.7 599.4l-.9-.2-2.3-3.6-1.4-3.8 1.6 1.3 1.6 2 1.2 2.9z M481.2 594.5l-1.2-1-1.6-1.4-1.1-1.9 .8 .5 1.2 .6 1.9 2.5z M424.8 592.7l-.9-.1-.7-3 .8-1.5 .9-.7 .7 2.2-.2 2.2z M437.7 604.6l-1 .7-2.2-.5 .7-1.3 1.8 .1z M516.8 591.9l.2-1.8 2.2-.7 2.6-.2 0 1.9-1.3 1.7-2.1-.1z M496.7 586.5l-.8 0-1.5-1.2 .6-.5 1.4 .9z M472 560.4l-1.5 0-2.7-1-1-1 .8-.6 4.1 1.5z M472.9 606.6l.2-1.6 2.5-2.8 2.5-2-1.4 2.8-2.2 2.7z M469.7 571l1.5-.8 3.7-.4 3.5-.2-3 1-4.5 .9z M463.6 622.7l.2-2.9 1.3-3.1 1-.5-1 4z M418.9 574.4l.4-1.2 2.2 .1 1.8 .3-.1 1.1-1.6 .5-1.4-.2z M480.2 583.8l0-3 .7-4.5 .8-2.8 .6-1 .1 3.4-1.2 5.1z M444.8 599.3l.9-.4 2.6-.4 2.4 0-1.8 .6-2.9 .3z M481.6 623.6l1.4-1.4 2.6-.7 1.5 .8-1.4 1.2-2.2 .8z M454.2 612.4l.5-1.5 3.2-3.7 .1 .9-2.4 3.2z M481.7 588.1l-4.1-.8-5.3-2.9 1.9-1.1 4.9 1.8z M453.7 576.5l-1.5-1.3-1.1-1.5 .1-2.3 1.6-.9 1.7 2-.1 2.2z M445.3 602.5l.3-.7 4.1-1.3 2.4-.2 .7 .4-2.9 1.1-3.6 .9z M438.5 574.4l1-1.8 2.2-.9 .5 1.8-.5 1.1-1.5 .7z M392.9 583.7l2.1-1.7 3.5-1.7 1.6-.6-1.4 1.1-3.2 2z M523.8 605.9l-4 .1-5.2-1.1 1.4-.4 3.5 .3z M469.2 565.3l1.7-1.6 3.3-1.5-.4 1-2.1 1.3z M386.1 557.5l-2.7-.1-3.3-1.3-3.9-1.8 1-.8 3.3 .3 3.8 2z M412.5 574.4l-.3-.5 2.8-2 2.3-1.7 .8 .1-2.2 2.2-2.7 1.9z M430.5 609.4l.4-2.1 2.2-4.2 1.6-2.1 .4 .3-.8 2.3-2.2 3.9z M386.9 557.2l-1.4-.4-3.7-3.4 1.2 .3 3.1 2.2z M462.7 590.5l-1.7-.4-.4-1.5 1.1-1.1 1 1.3z M456.1 547.8l-.9-.7 2.3-3.2 1.3-.5 .2 1.3-1.8 2.9z M437.3 552.9l-1.9-.3-3.2-1.7 1.3-.1 2.1 .8z M428.9 556.8l-.5 .1-1-.5-.5-1.1 .6-.3 .9 .6 .7 .7z M441.5 613.5l1.1-.7 2.9-.8 2.3-.4-1.6 .9-3 .7z M519 579.7l-1.2 .1-4.2-3.6-1.7-1.8 1.5 .2 3.9 3.2z M452 563.1l-1.2 .5-5.3-1-2.9-1.2 3-.2 5.4 .9z M399.9 550.8l-1 .1-1.9-4.3 .3-1.7 1.5 1.5 1.1 2.9z M466.6 637.4l-2.4 .4-3.5-1-.7-.8 4.4 .3z M473.1 577.9l-1.7-2.2-2.5-8 1.3 1.4 2.3 5.5z M437.7 581.1l-2.5 .5-3.9-.4-.2-.9 4.1 .1z M376.6 564.1l.5-1.9 1.8-1.9 1.3 .4-1.7 3.1z M614 656l8-2 0 14-8 0z M589.6 588.8l-.8-.2-2.6-2.4-2.4-2.4 1.6 .9 1.4 1.1 2.1 1.9z M590.2 671l-1.2-1.3 1.5-1.4 1.8-.9 .3 1.9 0 1.2-1.2 .8z M630.7 648.7l-.7-5.8 0-7.1 1.1-.9 .4 8.3z M623.8 662.9l-.4-2.2 2.7-.8 1.8 .7-2.1 2.3z M544.5 590.8l-2 .7-2.5-.7 0-.9 2.9-.3z M602.1 566.9l-2.2 .8-6.6-.8-4.2-.9 3.7-.4 5.9 .5z M561.2 634.2l.2-2.1 2-2.9 .3 .8-.9 2.9z M569.3 612.3l-1.5-.6-1.7-2.9-1-2.6 1 0 1.7 1.3 1.6 3.2z M545.6 628.1l1-1.2 2-1.2 2.1-1.2 .1 .5-1.4 1.3-1.9 .9z M610.2 557.1l-.8-.9 .8-1.5 1.7 .5-.6 1.5z M611.4 577.6l1.6-3.3 4-4.3 3.4-2.4-2.7 4-3 3.6z M572.3 587.3l-2.5-3.4-3.5-6.8 1.8 1.4 3.4 5.2z M526.2 618.9l-1 .8-1.5-.3-.9-1 1.1-.7 1.6 .1z M604.6 624.4l1.4-.7 2.5 0 .9 .4-3.2 .6z M613 598.2l-1.5-1.2-.1-3.6 1.5-1.8 1.1 2.2-.1 2.5z M575.9 638.8l-.6-.1-.9-.4-.4-.9 .3-.6 1 .6 1.1 .8z M639.6 588.6l.1-.6 1.7-.4 .9-.1 .4 .3-.8 .7-1.7 .5z M608.8 643.8l-2.8-2.9-4-7.7 1.2-.3 4.2 6.8z M573.2 669.3l-3.4-3.8-4-4.7-.1-1.3 1.8 1.4 3 4.1z M633.5 585.6l2-.9 2.8-.8 1.9 .8-1.9 1.1-3.2 .8z M558 570l-.7 .2-1.9-4.9-.7-3.6 .7 0 1.6 3.1 .9 3.6z M630 592.3l0-2.2 1.8-1.3 2.1 1.3-1.1 3.3z M571.3 564.1l0-5.1 .9-6 1-2.9 .5 2.4-1 7.5z M584.9 579.5l-1.6 .6-3.5-.9-1.1-1.5 2-.3 3.6 .6z M592.9 563.6l-.7-1-.9-1.6-.4-2.2 .7 .3 .8 1.8 .9 2.2z M634 551.3l1.5-2.4 2.2-2.4 .7-.2-2.4 3z M581.3 555.5l2.5-1.8 4.1-2.2-.3 .7-3.3 1.9z M618.6 617l-1.4-.9-1.6-1.7-.5-1 2.6 2.3z M609.5 551.5l-.7-1 .8-3.6 1.1-.4 .6 .9-.7 3.4z M573 605.6l-1.4 .5-1.7-1.8 1.1-1.2 1.8 1.2z M513.6 652.3l5.7-1 6.3-.4 1.9 .5-1.8 .8-7.8 .8z M628.7 631.7l-1.1 1.1-1.9-.8-.4-1.2 2.1 .1z M589.3 548.5l-.3-1.4 1.1-1.2 1 1-.3 1.5z M541.6 557.3l0-1.4 1.2-.7 .9 .4 .4 1-1.2 .6z M603.6 603.1l-1.1-.4-.5-2.4-.3-2.5 1.2 .5 1 1.4 .5 2.4z M592.9 624.6l.7-1.1 2.2-.5 1.5 .2 .1 .8-1 1-2.3 .2z M619.5 642.2l-.9 0-1.5-.1-.9-.5-.2-.3 1.2 .1 1.6 .4z M595.5 564.4l1.8-3.7 3.9-5.5 2.2-1.3-2 3.5-3 4.7z M619.9 655.3l.3-1.2 .8-1 .9 .7 .3 1.1-1.1 .4z M552.2 578.6l2.6-1.7 4.2 .6-.4 1.8-3.4 .3z M593.8 625.2l-1.1-.5-2.2-2.3 .9 .1 1.8 1.7z M631.4 584l-.1-1.4 .1-2.1 .4-2.7 .4 0-.2 2.9-.3 1.7z M620.5 672.7l-2.4-1.4-3.1-3.2-1.9-2.7 0-1.1 3.1 3 1.9 2.3z M597.7 607.4l-.8-.9 1.3-2.6 1.6-1.3 .7 .7 .6 1.8-2.2 1.9z M621.2 553.8l-2.2-1.9-2-1.7 0-2.3 .8-1.5 2.1 2.2 1.7 2.9z M596.5 648.8l-1.1 1.4-3.1-.5 .5-1.8 2.4 0z M542.6 636.4l.5-.9 2.1-1.3 .7 .4 .2 .8-2.5 1.1z M570.8 609.1l.2-1.2 1.1-1.3 2.3-1.5 .3 1.4-1 1.8-1.9 1.2z M568 578.9l-.5 .9-3.6 .1-3.1-.8 .7-1 2.8-.3 3.3 .1z M563.9 616.8l-.7-2.6-.2-2.5 .9-2.5 1 1.1 .5 1.7-.2 3.1z M535.3 579.1l-.8-4.5-.3-3.5 .3-2.2 .9 .8 .5 6.1z M569.1 564.5l-.2-.4 1.1-.8 1.3-.5 .3 .6-1.2 .8-.9 .6z M525.5 571.3l1.4-1.5 3.8-2.5-.9 1.1-2.1 1.6z M523.2 625.1l.8-1.9 2.7-.3 2.1 .6 .2 1.6-1.7 1.3-2-.6z M593.3 603.1l-.7-2.3 .5-7.4 .8 .2 .1 7z M585 583.7l-1 .1-.5-1.2 .4-1 .9-.2 1 .5 .3 1.3z M577.8 592l-1-2.8-.7-4.6 .4-.7 1.6 6z M548.9 561.4l-.1-.9 1.5-3.4 1.1-2.2-.4 2.1-1.3 3.1z M631.4 668l.6-2.1 1.6-2.8 .1 .7-.9 2.2z M530.5 657.8l-.1-1.3 .1-2.5 .5-2.4 .4 .1 .1 2.2-.5 3.2z M578.5 573.9l1.6-1.1 1.4-.2 1.4 .3 .7 1.4-1.6 1.1-2-.4z M562.6 588.6l-.4-1.3 1.2-2.9 .9-.5 .6 .9-1.2 2.5z M641.1 567.8l-1.5-.1-2-.6-.4-1-.1-.7 1.4 0 1.7 1.2z M588.4 569.7l-1.2 1-1.8-.4-.4-1.2 .8-.9 1.3 .6z M564.3 645.6l-1.5-.8-1.8-2.2-1-2.3 1.4 .8 1.1 .5 1.5 2.4z M589.3 545.6l3.7-.7 5.2-.1 2.2 .7-7.2 .4z M616.7 593.2l-.4 .7-1.7-.2-.7-1.1 1.1-.7 1.7 .4z M598.7 585.6l-.2-.4 2.1-3.7 2.6-3.6-.6 1.8-1.4 2.7-2.2 3.7z M560.1 659.4l1.1-1.4 3.9-1.4-.1 1.1-3.1 1.7z M635 616.6l-3.1-1.4-5.9-5.2-.9-1.9 8 5.9z M585.1 645l.7-.7 1.6-1 .9 .3 1.5 0-2.2 .9-1.3 .5z M627.7 619.5l-1.3 .5-4.3-.5-1.5-1.2-1.3-1 3.3 0 4.9 1.2z M588.3 620.4l-1.3-1.5-.5-3.2 .7-1.6 .7-.5 1.1 1.7 .3 3.7z M641.2 666.7l-1.4 .4-2-.1-2.2-.2 .4-.4 1.8-.1 1.9 0z M583.6 644.8l-1.9 .9-2.3 0-1.3-.9-1.2-1.2 2.6-.6 2.8 .6z M629.7 639.8l-4 .1-4.4-.4-.8-1.2 2.1-.3 3.6 .4z M623.8 665.6l3.3-1.4 5.9-1.4 3.4-.1-3.4 1.5-6 1.5z M524.7 579.9l-.8-.3-.5-3.2 .3-2.3 .7-1.2 .6 3.5 .6 3.4z M555.7 613.7l.1-1.6 .7-3.2 .9-3.6 .5-.2-.5 3.6-1 3.7z M599.4 562.8l-1.8 .2-1.3-1.2 .8-1 2 0z M610.3 638.7l1.4-2.4 6.6-4 1.1 1.2-6.1 4.4z M544.1 658.1l-2.7-2.3-3.7-4.8 .9-.1 3.5 3.9z M549.3 629.4l-1.6 .1-3.2-.6-2.2-.7 0-.5 2.5 .4 2.5 .6z M616.3 689.4l-3.8-4.6-2.9-6.1 .3-2.1 4 6.9z M593.4 556.8l.8-.4 1.8-.4 .8 .3 .1 .2-1 .3-2.2 .3z M531.7 624.6l-3.8-1.5-4.3-2.9-1-1.6 6 3.3z M546.1 635.9l-.1-1.6 2-2 2.6-.8 .1 1.7-1.1 1.5-2.3 2.3z M632.5 623l-1.3-3-1-3.9 .4-.6 1.2 4.1z M612.4 611.1l2.7-1.3 3.5-1.3 4.4-.9 .3 .8-4.6 1.4-4.6 1.6z M524.6 650l3.1-.6 3.6-.4 4.5-.3-.6 .6-3.8 .5-3.3 .2z M678 668l20-2 0 6-20 2z M754 674l2 22 10 14 16 6-4 4-14-6-12-14-2-24z" fill="#000"/></g>
<g filter="url(#f7t)"><path d="M985.5 655.5l6.5 0 0 6.5-6.5 0z M1025.2 656.2l4.6 0 0 3.6-4.6 0z M767.5 728.8l12.5 3.7-2.5 5-12.5-2.5-10-3.8z M1255 680l10 2.5 1.2 6.3-8.7-2.6z M500.9 582.2l-1-.3-2.8-3.2-2.9-3.9 1.2 .3 2.7 3 2.2 2.7z M425.6 587.5l2.4-.8 2.3-.3 1.2 .6-.4 1.1-3.2 0z M386.5 576.7l-.2-2.6 .7-4 .7-4.5 .1 2.3 .3 1.8-.8 3.3z M483 600.2l-.6-1 .1-2 .5-.8 .3 1.2 .2 1.6z M454.6 630.1l-2-1.6-2.1-2.1-2.5-3 1.6 1.1 1.5 .7 2.1 2.8z M463.6 621.4l2.8-.9 4-.7 2.2 .3-2.5 .8-3.4 .5z M447.6 562.8l1.4-1.2 2.9-2 1.2-.3-.7 .9-3.5 2.3z M381.5 557.1l-1.4-2.5-.9-5.5-.5-3.7 1.2 3 1.1 4.6z M388.1 561.6l-1.9 .9-1.5-.6-.4-1.1 .8-.9 1.9-.1z M398.1 560.3l-1.9 .6-3.1-.1 0-1 3.4-.5z M510.6 604.1l2.2-2.3 3.7-1.9 0 .6-2.9 2.4z M378.1 556l-.9 .3-3-.4-1.7-.4-.3-.3 1.7-.1 3.2 .5z M502.4 601.3l-.3-.7-.3-2.3-.2-3.3 .5 1.3 .6 1.4-.1 2.6z M429 569l.6-.9 1.6-.1 1.3 .2-.1 .8-.9 .7-1.4-.2z M416.4 589.2l.5-2.3 2.4-2.1 2.4-.8-.1 2.3-3 3.4z M413 557.6l-2.1 1.6-4-1.8 1.4-1.5 2.9-.1z M479.3 594.6l-1.5 .7-2-.1-1.4-1.5 1.9-.7 1.6 .6z M478.5 570.2l-1.7-2-1.5-3.6 .4-.6 2.3 3.8z M371.1 559.6l-1.7-.4-1.9-3.9 1.1-.7 2.2 3.1z M452.9 610.5l3.2-2.8 5.5-3 2.4-.6-7.7 5.3z M479.9 600.8l-.5-.7 1.3-1 .8-.3 0 .9-.8 1z M478 620.8l-1.3-.1-2.4-.5-1.5-.6 0-.4 1.6 .1 2.1 .8z M432.5 590.9l.8-1.2 2.1-1.7 1.4-.8-.5 1.1-2.3 1.9z M457.9 577.8l2.4-.5 4-.1-.7 .8-3.2 .2z M436 592.6l1.3-1.1 2.3-.2 2.1 .2 1.1 1.1-2.6 1.1-2.9-.1z M439.7 550.1l-.5-.7 .7-1.7 .6-.7 .7-.3-.2 1.4-.6 1.3z M425.1 558.1l-.6-2.1 1.5-3.4 1.8-1.6-.3 2.7-.8 2z M473.6 593.1l-.2-1.8 .3-3.6 .4-1.2 .4 .7-.3 4.3z M390.4 583.6l-1.5-.5-2.1-1.3-1.2-.8 1 .2 2.3 1.4z M416.8 587.8l1.6-1.2 3.3-.2-.2 .8-2.8 1.1z M469.4 645l-1.2-.1-1.7-1.6 .3-.8 2 1.4z M471.7 640.6l.4-1.7 1.9-2.7 1-.3-.1 1.2-1.7 2.3z M469.2 614.8l-.7-2.7 .7-2.4 1.2-.7 0 3.4z M496.8 575.9l-.7-3.2 .2-4.4 .6-2.4 .3 6.8z M428.7 579.5l-.9-1.7 2.4-4.1 1.9-.5-1.9 4.9z M466.2 626.1l2.9-1.2 3.6-.8 4.3-.5-.6 1.1-3.4 1-3.5 .4z M465.5 645.2l-1.6-.9-2-2.8-1-2 .1-1 2 1.9 2.6 3.5z M472.2 571.4l-.6-.2-.6-.8 .2-1 .9 .1 .5 .6 .1 .8z M469.8 546.3l-.5-1 .5-1.8 1-.9 .2 1.5-.1 1.8z M405.1 547.3l-.7-.7 .7-.7 .8 0 .7 .4 0 .9-.9 .2z M486.6 575l.9-1.2 3.1-2.6 2.5-1.5-1.7 2-3.3 2.5z M438.6 602.5l-2-.5-1.2-2.8-.8-2.8 2.3 .7 2 3.3z M389.2 559.3l-1-1.4-.4-6.8 .8-1.3 .7 2.8 .5 4.5z M482.1 613.3l1.2-1.8 2.8-2.8 3.4-3.2-.1 .8-2.2 2.8-4.2 4.1z M459.5 567.6l1.3-1.3 1.7-1 1 .1-.2 .8-2 .9z M469.1 629.1l-.8 .3-.8-2-.7-1.9 1 .3 .8 1.1 1 1.7z M436.4 561.6l.1-2.5 .5-3 .5-2.2 .1 1.6-.5 3.1z M397 556.2l-1-.1-2.5-.7-2.7-1.2 1.1 .1 1.9 .4 3 1.1z M394.3 593.5l-1.3-.2-2.4-1-2.8-1.6 1.8 .2 1.6 .4 3 1.4z M523.4 594.8l-2.4 .9-2.6 .7-2.4-1.1 .4-1.4 2.5-.3 2.5 0z M423.1 574.3l2.2-1.8 4.6-2 4.4-1.2 .7 .9-4.6 2.2-4.9 2z M403.9 569.6l-1-3.4-.5-4.9 .5-.8 .7 4.9z M480.5 633.1l.4-2.3 2.7-.4 1.9 1.2-2.7 2.1z M486.9 599.6l-1.2 .5-3.6-.9-2.5-2 2.8-.4 4.6 1.6z M436.6 591.4l-2.7-.3-.2-3 1.7-1.9 2.6 2.8z M409.4 546.7l.9-.9 2.7-.3 .2 .8-2.8 1z M489.6 553.6l-1.4 .6-3.6-.4 .3-.6 2.8 0z M372.3 561.9l.6-1.5 2.5-.6 1.9 1.5-1.7 1.8-2.5 .3z M403.4 575.1l-1-.9-1.1-1.1 .1-1.1 .5-.3 .8 .9 .7 1.3z M472.1 610.9l.6-1.1 1.2-1.4 1-.7 .3 .3-.6 1-1.5 1.6z M629.9 638.7l-1.7-1.1-1.3-1.9 .2-.7 2.2 1.8z M566.6 579.7l2.5-2.1 3.8-2-.6 1.2-2.4 1.6z M563 569.5l-.7-2.5 .5-3.1 .8-3 1 2.1-.4 4.3z M570.9 641.9l-.5-1.8-.2-2.7 .3-1.4 .5 4.2z M529.7 560.4l4.9-2.3 8-2.9-.6 1.5-7 2.4z M561.4 562.8l-.8 0-1.2-1.3-.1-.9 1 .5 1 .9z M623.1 618.1l-4.1-2.8-3-2.7-.4-1.1 4.6 3.3z M604.6 639.5l-1.5 .2-3.3-1.5 .2-.9 3.2 1.2z M596.1 649.3l2.2-1.6 3-.8-.3 1.4-2.2 1.2z M636.4 660l-2.5-.3-3.3-.9-2.4-1-1.5-.9 3.7 .5 5 1.7z M543.4 612.8l1.8-1.4 1.4-1.2 1.4-.4 .1 .3-1.3 1-1.8 1.2z M575.3 594.3l-1.8 0-1.4-1.3 .5-.7 1.8 .4z M642.3 602.2l-2.3-.8-5.5-5.6 1.6-.6 5.7 4.8z M552.4 662.7l-1.4-1.4 1-2 1.8 .7 .8 2.1z M585.6 662.2l1.2-3 1.4-3.1 2-2.6 .1 1.1-.7 2.3-2.2 3.4z M569.5 670.9l-1.3 .3-3.6-.1-1.2-.3 1.1-.3 2.8 .2z M603.3 680.6l-.8-.5 .9-7.4 1.1-5.6 .7 .8-.5 5.5-.6 6.7z M632.7 605.8l-2-1.2-4-3.8-2.6-3.5 .3-.8 3.7 3.4 4.6 4.7z M596.4 554.7l-.1-2.1 .8-2 .9-.5-.5 2.7z M632.2 639.4l-.5-1-.2-1.3 0-1.6 .6 1.5 .4 1.5z M616.8 563.3l-1.5 .4-1.1-1.7-.1-1.9 1.9 .3 1.7 1.4z M581.2 569.1l-1.6-.2-5.1-4.6-2.7-3.7 1.2-.1 3.5 3 3.4 3.3z M598 579.5l-3 .6-6-.6 .3-1.1 5.8 .2z M604.1 589.8l-1.6-1.3-2.5-5.6-.4-2.3 1.6 1.4 1.8 4.5z M576.6 557.3l-1.7 .7-2.8-.7-.3-1.3 1.1-.7 2.5 .6z M568.5 639.5l-3.2-.1-3.3-.7 .8-.8 3.3 .1z M535 622.5l-1.7-5.2-1.2-6.8-.2-4.4 1.4 4.3 1.5 6.9z M633.6 600.5l-1-.7-.6-.9 0-1.3 1.1 .4 .7 1.4z M618.5 659.8l-3.6-2-2.6-2.6 .8-.7 3 2z M552.7 575l-2.1 .9-3.5-3.2 1.2-2.1 4 2.2z M596.9 649.2l.4-2 5.4-3.6 .7 1.2-4.1 3.6z M646.2 626.5l-2-.4-2.4-.7-1.3-.6-.8-.6 2.3 .6 2.5 .8z M530.9 556.2l-1.7 .4-1.6-1.1 .8-1.9 1.9 1z M527.1 581.4l-1.6-2-1.2-5 1 .6 1.5 3.6z M627.9 591.5l-1.8-.1-1.2-1.5 .4-1.1 1.8 1.1z M637.3 599.4l-1.1 .2-1.1-1.4-.1-1.3 .9-.4 1.1 .6 .6 1.3z M523.9 566.6l1.9-1.5 2.8-.5 1.9 .9-1.2 1.6-3.3 .5z M576 595.3l.3-1.3 1.6-1.1 1.3-.7 .2 .6-.5 1.1-1.4 .7z M574.3 560.5l-1.4-.1-1.8-.9-.7-1.2 .1-.9 1.7 .5 .9 1.3z M629 658.7l-.1-1.5 3.2-5.3 2.8-4.3-.5 2.2-.3 2.3-3 3.9z M526.7 653.1l-2.6-.1-9.4-3.6 3.6 .3 6 1.7z M563.1 609.4l-1.8-2.7 2.5-2.3 2.7 .5-1 3.1z M533.7 573.4l-.6 .7-1-.3-.8-.4 .2-.6 .7-.3 1 .1z M641.5 553.5l-1 0 1.2-3.4 1.2-2.5 .4 1.2 .4 1.6-1.4 3.8z M626.2 679.4l.4-1.9 1.2-1.8 2.6-1.6 1.2 1.8-1.1 2.5-2.5 2.2z M593.7 649.3l-.8-.4-.7-1.3 .2-1.7 1.3-.5 .7 1.8 0 1.4z M535.8 567.2l-.6-2.3 .7-2.5 .9-3 1.4 .1 .2 3.1-.9 3.6z M623.4 619.7l-.7-4.6 .7-8 .8-1.5 .7 1.4-.3 8.3z M635.9 623.6l.2-1.5 2-3.9 .9-.9-.3 1.4-1.8 3.7z M571 550.8l.6-1 7.2-1.1 3.9-.1-2.4 1.3-7.8 1.4z M578.2 551.5l-1 .2-.5-1.9 .4-1.4 .9-.1 .9 1.1 .1 1.7z M638.7 595.4l2.9-.6 4.2-.2 0 1-4.7 .4z M611.4 685.4l2.3-3.8 4.6-5.4-.2 1.7-3.4 4.2z M561.2 584.6l-.7-1.4 .9-1.2 1.9 .2-.6 1.9z M553.7 587.5l-.1-1.4 .4-3.3 .4 0-.3 3.4z M562.6 608.4l2.3-1.1 4.8-.2 .9 1.2-5.9 1.1z M628.7 587.2l-5.6-.4-6.3-1-3.4-1.2-2.1-1 6.1 .9 4.7 1z M542.9 657.7l-3.2 .4-6.1-.6-4.4-.9 4-.3 6.1 .6z M633.4 562.4l-.2-1.4 .2-3 .4-1.2 .1 1.7-.1 2.5z M642.6 646.6l-4-.5-4.5-1.9-2.3-1.4 6.8 2z M626 557.5l.3-1.6 5-5.8 1.5-.4-1.1 2.3-4.6 5.7z M643.8 619.5l-.9 .2-1.1-1.4-.1-1.2 .4-1 1.4 1 .3 1.4z M628.3 611.8l.6-.6 1.1-.6 1.3 .3-.1 .8-.9 .6-1.5 .1z M550.9 559.7l-1.6-.7-1.5-1.8 .5-.6 2.2 1.6z M563.6 600.5l-.5-4.9 1.3-5.7 1.4-.4-.7 5.8z M633.9 580.4l-3.5-1.3-4.6-2.4 1-.5 4.8 2.1z M599.3 583.5l1.5-1.1 4.8-1.4 2 .5-1.4 1.4-5.2 1z M633 617.7l.7-.6 2.2-.1-.4 .7-1.7 .4z M635.1 663.3l1.7-2.3 1.8-2.5 3.2-2.6 .2 1-2.2 2.8-2.9 2.7z M583 670.1l-3.1-1.4-4.5-3.5 .7-.2 4.2 2.6z M608.2 583l-.4-5.1 1.1-7.9 1.6 .6-.6 7.8z M609.3 682.6l-1.7-2.5-1.1-5.3 .8 .4 1.4 3.8z M576.7 616.8l-2-2.5-2.2-5.6-2.2-5.7 1.7 1.7 1.9 2.7 1.6 4.8z M625.5 636.8l-.7-4-.5-5.9 .6-1.3 .6 2.2 .6 6.2z M541.9 606.4l-.9 0-2.4-4.5-2.9-5.7 1.5 .8 2.7 3.3 1.7 4.5z M532.5 627.9l1.4-1.6 4.6-3 2.4-1.1-1.3 1.5-5.9 4.3z M597.9 654.9l1.1-2.5 2.2-2.4 .4 .2-1.5 2.3z M610.9 581.6l.9-1.5 3 .2 .2 2.3-3.1 .6z M535.3 572.4l-2.2-1.2 0-2.2 1.2-1.2 1.8-.9 1.2 1.8-.1 2.1z M608 594.4l-1.5-.9-2.1-2.8-1.9-2.8 2.1 1.8 2.8 3.2z M535.4 619.4l-1-.1-1.7-3.7-.5-2.7 .7-.2 1.8 1.5 1.1 4.1z M616.7 650.8l-1.7-.5-2.5-2.9 1.8-.3 2.7 1.9z M646.6 657.4l-3.9-.6-4.2-.8-1.5-.8 1.7-.1 4.9 1.1z M562 625.1l-1.7-2.2-1.5-2.4-.4-1.3-.4-1.4 1.6 2.6 1.5 2.5z M531.9 629.3l-1-.5 1-2 1.6-.8 .7 .9-.3 1.5-1.3 1.2z M634.5 570.9l1.9-.6 5.2-.1 2.4 .5-3.2 .4-4.1 .2z M542.4 615.4l-1-1 1.8-2.7 1.9-.3 .1 2-1.6 1.8z M568.8 583.9l-1.1-1.8-1.7-3.5 .2-.8 2.2 4.4z M621.5 668.2l1.2-4 2.3-5.5 2.4-3.7 1.2-.6-2 5.1-2.4 3.9z M536.5 594.1l.5-1.4 3.5-.8 1.1 1.2-1 1.3-2.8 .4z M536.4 613.8l-.7-2.8-.4-2.7 1-3 1.1 1.2 1.1 1.9-.8 3.5z M528 638.5l-.4 .6-1.2-.3-1.1-.7-.1-1.2 1.7 .2 1.5 .5z M623.4 658.5l-1.5-1.7 1.2-1.9 1.9-.8 2.3 1.5-1.4 3z M565.5 574.8l-.6-.4 1.7-5.1 1.7-3.2 .5 .5-.4 3.1-2.3 5.9z M597 595.5l-1.5-.2-2.3-.8-.6-.8 1.3 .1 1.7 .7z M571.2 574.7l-1.6 .2-4.4-.6 0-.7 .7-.4 4.6 .7z M619.1 550.2l5-3.8 6.7-3.1 1.2 .4-7.1 4.4z M538.6 644.1l-.9-.5-1.1-4.2 .4-3 1 1.3 .8 1.8 .6 3.8z M552.1 582.2l-1.8 .2-4.5-1-2.7-1.5-1.2-1.3 4.3 .7 3.3 1.7z M533.6 653.4l-.4-1.3-.5-1.9 .1-1.6 .2-.4 .4 2.3 .3 1.9z M599.3 641.5l-.4-.5 1.4-2.1 .9-.8 .8-.3-.7 1.7-1.2 1.3z M541.2 631.8l2.2-2.3 2.1-1.5 3.2-1.4 1.1 1.2-3 2.3-3.3 2.1z M609.7 599.8l1.3-1.2 1.4-.6 1.1 .6-.7 1.1-1.5 .5z M550.1 609.3l-.6 .1-.8-1.5-.5-1.1 .5-.2 .9 .6 .4 1.2z M565.1 608.2l-.8-.4 .3-1.2 .9-.7 .8 .8-.5 1.1z M585.7 664.7l1-1.3 .9-1.3 1.9-1.1-.5 1.2-.7 1-1.3 1.1z M556.3 579.8l.2-.4 2.1-.7 1.7-.4 .1 .2-1.4 .7-2.8 1z M567.1 654.8l-3-.5-5.1-2.8 1.6-.8 4.2 2z M562.5 631.7l-.5-2.4 1.9-2.2 2 2.1-.9 2.5z M604.6 601.9l3.9-3.2 6.9-4.4 .2 .9-6.9 5z M644.7 590l-2.1 .3-3.9-.2 .4-1 4 0z M558.4 577.4l-1.2-3.7-.9-6.4 .9-.2 1.4 6.9z M543.7 660l-.7-2.3 2-2.3 2 2.1-.4 3.2z M607.1 560.5l-.3-2.4 .1-2.3 .6-.8 0 3z M571 590.2l0-1.4 1.9-4.6 .7 .1-1.6 4.4z M534.6 628.8l.5-1.1 1.5-.3 1.3-.1-.2 .8-.6 .8-1.5 .5z M556.2 629.5l-3.2-3.1-4.9-7.4 2.5 1.8 3.3 4.3z M586.5 628.7l-.7-2.8-.7-4 .6-.3 .7 4.3z M537.5 629.1l.1-.5 3.2-1.2 2.8-.6-.2 .6-2.2 1.2-2.8 .6z M617.1 566.1l.7-2.4 1.3-2.9 1.8-1.4-.4 2.3-1.8 3.2z M600.8 686.9l-1.7 0-.7-2.1 1.7-.9 1.6-1 .5 2-.1 1.5z M626.9 681.5l.6-.6 1.4-.5 1.6-.3-.1 .5-1.1 .7-1.6 .4z M597.8 672l-2.2 .6-2.3-1.5 .3-.8 2.7-.1z M595 686.8l.2-1.5 3.1-2.3-.3 1.7-1.5 2.2z M578.7 634.6l-1.6 .8-1.7-1-1.1-1.8 1.1-2.4 2.7 .5 1.9 1.9z M532.6 628l-1.1-2.3 1.1-4.7 1.5 .8 .2 4.4z M566.9 621.3l-4-1.2-3.7-1.4-4.4-2.1 1.4 0 3.6 1.3 3.9 1.6z M633.7 686.9l.5-2.5 2.1-2.9 2.4-2.9-.8 3.1-2.2 3.7z M549.8 642.3l-1.8-1-2.2-2.1-.6-1.2 1.5 .8 2 1.7z M528.5 617.5l-2.1 .5-2.6-.3-2.3-1.1-1.5-1.8 4-.1 3.4 1.3z" fill="#000"/></g>
<g filter="url(#f8t)"><path d="M1062.5 720l7.5-2.5 10 5 10 2.5 7.5 2.5-2.5 7.5-10 5-10 2.5-10-7.5-3.8-7.5z M1040 745l7.5 2.5 7.5 5-2.5 3.7-10-6.2z M767.5 732.5l10 7.5 2.5 12.5-7.5-5-10-10-10-7.5z M1258 717.5l6.5 0 0 15-6.5 0z M1270.5 770l6.5 0 0 8.5-6.5 0z M491.5 645l-.4-.6 .6-.9 .9 .2 .4 .6-.1 .8-.8 .1z M514.4 640.2l-1-.3-4.6-5.3-1.6-2.8 2.9 2.7 4 4.6z M506.2 600.7l-2.6 .5-2.9-.6-3-1.2 .1-1.6 3.5 .3 2.2 1z M503.9 603.2l-2.2 .8-1.8-.4-1.3-1.3 1.5-1.2 2 .6z M490.5 632.3l-.5 .2-1-1.5-.7-1.6 .5-.3 1.1 1.4 .7 1.2z M474.9 601.6l-.9 .4-.9-.8 .4-.9 .5-.6 .9 .2 .2 1z M512.6 608.6l-.3 .2-2.1-1.2-1.3-1.1 .5-.1 1.3 .7 1.2 .8z M521.3 601.1l-.8-.3-1.6-.9-1.7-1.2 .4-.2 1.7 .9 1.4 1z M495.9 612.5l.3-1.1 2.3-2.4 0 1-1.4 2.2z M496.6 643.7l-.8-.7-.2-2.2 1.1-1.7 1 .4 .2 1.8-.4 1.7z M498.8 630.4l-1.7-1.2-2.9-4-1.2-2.9 1.1 .5 1.7 1.8 1.7 2.9z M499.1 597l2-1.9 6.4-3.5-.2 1.4-6 3.9z M519.7 615.6l-.4 .2-.1-4.3 .1-3.4 .5 .8 .2 2.8 .1 3.3z M484.6 644.2l-.6-.2 0-1.5 .2-.9 .5-.9 .4 1.6 0 1.4z M470.6 600.3l.7-1.6 3.5-3.3 .5 .6-3.4 3.9z M501 602.3l-.1-3.8 .2-4.1 1-3.4 .5 1.2-.1 2.7-.4 3.9z M480.8 626.2l1.3-1.6 5.9-1.5 .3 1.2-5.2 1.9z M516.9 622.2l1.1-2 2.3-2.7 .9-.4-2.7 4z M483.9 618l-.5-1 .1-1.5 1-.5 .4 1 0 1.5z M483.5 607.2l-1.2-.9-2-4-.6-2.5 .1-1.2 2 2.7 1.1 3.5z M499.7 597.7l-2.3-2.2-2.9-3.8 .6-.6 2.9 3.7z M501.4 636.9l-.3-1.3 .4-2.4 .4 0 0 2.3z M510.6 640.2l.7-.8 2.3-.5 .9 .3-.6 .7-2.3 .6z M471.1 621.5l1.3-2.8 4.5-4.5 1-.1-4.2 5.6z M522.3 615l-2.3-.7-4.2-4.5-.2-1.5 5.1 4.4z M499.3 613.7l-1.1-.8-2.4-5.2-1.3-3.2-.8-3.2 3 5.4 2.9 5.9z M472.6 598.8l2-1 1.9-1.2 2.2 .8-.8 1.3-1.2 1.1-2.4 .1z M507.7 650.5l-1.2-.9 .6-1.7 1.3-2.1 .6 2.4-.2 1.6z M498.3 596.2l.8-1.4 1.3-.8 .8 .1-1.4 1.2z M511.1 601.9l.2-1.1 3.2-3.5 3.2-1.9 1 .3-2.8 3.3-3.5 2.6z M493 630.6l-1.5-2-1.4-2.6-1-2.4 .5 0 1.3 2.1 1.6 3z M507.3 627.5l-.6-1.8 .8-1.9 1.9-1.6 .3 2.5-.4 2.8z M479.8 601.3l1.4-1.3 2.3-1.5 2.4-.6-.8 1.1-1.3 .9-2.6 1.4z M505.7 643.3l.1-2.3 2.6-3.4 2.5-2.2-1 3.1-2.1 3.1z M495.8 643.8l-2.3-.3-2.2-1.6-1.2-1.4 .6-.8 1.8 .2 2.8 1.8z M497.2 612.8l.3-1.6 1.5-1.1 1.6-.4-.2 1.6-1.6 1.7z M485.4 612l-1 .1-2.1-.3 0-.5 .2-.5 2.2 .6z M477.8 625.4l.9-.7 2.9-.6 1.1 .4 .2 .3-1.1 .6-2.4 .2z M497.9 645.1l-1.9-1.9-2.8-3.6-1.3-2.4-.4-1.5 2.7 3 2.6 4z M500.4 648.2l-.1-1 1.5-.5 1.1 0-.5 1-1.1 .5z M491.2 621l-2-1.2-1.1-2.8-.6-3 2.2 1.7 1.6 3z M522.3 639.8l-2.2-1.4-1.4-1.4 .2-.2 2 1.2z M505.5 640.6l-2.5 0-3.2-.3-3.2-.8 1.4-.2 1.9-.1 4.2 .6z M477.8 633.9l-.8-5.5-.6-6.4 .7-1.3 .7 1.8 .2 5.9z M512.7 612l1.1-2.8 .9-2.5 1.6-1.3 1-.1-1.3 2.6-1.4 2.3z M517.8 603.9l-1.5-.1-3-2.9-.4-1.6-.2-1.2 2.2 1.2 2.3 2.8z M481.6 649.2l2.3-.6 3.8 .2-.7 .5-2.8 .2z M517.2 651.2l-.7-1.1-.7-2.1-.3-2.4 1.1 1.6 1 3.1z M522.3 619l-1.8 .2-2-1-1.4-1.6 2-.5 3 1.2z M479.5 608.4l-2-1.5-1.2-1.5-.8-1.8 .2-1.4 1.8 2.2 2.2 2.3z M581.1 626.6l-1.2 .5-3.8-.2-3.1-1.4 .1-.9 3.6 .2 3.2 .9z M591.4 649l-3.5 .7-5.1-1.5 .3-1.2 5.1 .3z M588 673.3l1.4-.5 3.1 0-.1 .5-2.7 .3z M525.2 623.1l-1.2-1-1.4-4.7 .9-.8 1.7 4.7z M541.8 606.8l-1.5-2-2.1-3.4-1.5-3.5 .7 .2 1.9 3.4 1.9 3.3z M535.4 650l1.1-1.3 2.1-.1 1.3 1-3 1.5z M536.3 610.4l-.9 .8-1.8-.6-.3-1.3 .3-.8 1.2 .1 1.4 .5z M566.1 615.1l3.4-1.1 7-.8 6.2-.4-1.2 .8-4.7 1-4.8 .2z M542.6 657l-1.8-1.7-3.5-4.9 1 .4 3.2 3.9z M535.2 645.5l-.7 .1-1.9-.6-.2-.5 .5-.3 1.9 .7z M576.8 650.1l.2-.7 2.8-2.1 2.4-1.4-1.4 1.7-3 2.4z M548.7 632l-2.1-2-1.8-3.1-.1-1.4 2.5 3.7z M602.1 662.2l-.6 .3-3.9-2.9-3.1-3.3 1.9 .7 2.5 1.6 2.4 2.4z M550 640.1l-1.8 1.1-6-.7-.4-1.3 5.9 .1z M563.5 654.5l-1-1.2-1.4-2.6-.8-2.4 .8 .7 1 1.5 1.3 2.7z M579.1 670l-.3-2 1.1-2.7 1.2 .9-.2 2.8z M562.7 650l-1.2-1.3-1.1-2.5-.2-1 1.9 3z M550.3 640l-3.2 .2-2.9-2.2-.9-2.1 4.9 1.7z M585.4 640.4l.9-1.2 2.3-1.4 1.7-.9 .9-.1-2 1.6-2.1 1.2z M580.4 654.6l-4.3-3.4-5-6.5 1.8 .5 3.8 4.2z M575.8 667.4l.5-1.9 1.9-1 1.6 .9-.2 1.5-.4 1.5-1.9 .2z M531.2 624l.3-1.6 2.9-3.2 1.9-1 1.8-.7-2.1 3-3.1 2.8z M561.4 623.4l.1-1.9 1.2-5 1-.7 .3 1.4-1.6 5.2z M541.9 617.6l-.1-1.5 1.6-3.3 2.2-4.2 .5 1.4-.9 3.3-2.2 4.2z M579.2 648.9l.5-2 .3-1.8 1.4-1.2 1 .2-.4 2.1-1.4 2.4z M589.3 672.4l-.8 0-.6-2.5 .2-1.7 .7-.9 1.1 1.9 .1 2.7z M555.6 635.8l-2.6 .3-5-1.5-.8-1.1 5.8 1.1z M544.7 617.7l-1.7 .1-5.6-2.7-2.8-1.6 2.4 .4 5.9 2.4z M563.8 642.1l.3-2.1 .8-2.2 1.6-2.8 .5 1.2-.1 2.2-1.8 3.3z M569.2 654l-3.7-2.1-3.4-2.3-4.7-3.5 .8-.3 4.3 2.4 5.4 4z M544.2 663.1l-1.1-.2-2.6-3-.2-2.1 .1-1.4 2.3 2 1.9 3.7z M598.8 656.3l-.4-.9-.1-2.2 .5-.4 .3 2.5z M596.5 621.5l-2.4-.8-2.6-1.5-.9-1.3 1.8 .4 2.1 1.4z M556.8 659.7l-.7-1.6-.7-1.7 .7-1.9 1 .9 .8 1-.1 2.3z M592.3 632.2l0-1.8 2.8-.3 1.1 .9-.2 1.5-2.5 .7z M530.2 630.3l-.5-.2 .2-1.4 .5-.8 .5 0 .1 1.1-.3 1.4z M600.7 628.6l-2.3 .3-5-2.1-3.1-1.7 3.3 .3 4 1.5z M539 649.5l1.1-.6 3.7-.4 1.8 .5 1.1 .4-3.1 .5-4.2 .2z M527.5 623.6l-.9 .8-2.7-2.4-1.4-2.1 .6-.9 2.4 .7 2.1 2.8z M542.7 639.9l.9-1 2.8-1-.3 .8-2.1 1.2z M594.7 640.8l.2-2.4 1.9-3.2 1-.1-1.4 4.4z M568.9 655.7l-1.1-.9 1.1-1.7 1.6-1.8 .8 2.1-.9 2.5z M518.9 605.4l1.1-2.4 1.4-2.1 2.3-.7-.2 2.3-2.2 1.9z M589.9 663.7l-.4-.9 4-.5 1.8 .2 .3 .5-1.4 1.1-3-.1z M546.3 609.6l.5-1.1 3.4-2.3 3.1-1.9 .4 .5-2.5 2.2-2.9 1.6z M596.9 682l-1.1-2.9-1.2-4.7 .1-2.9 1.2 3.7 .8 3.5z M567.2 637.2l-.1-1.9 1.1-3.9 1.3-1.3 .2 2-1.2 3.8z M547.3 623.2l3.1-3.7 2.6-2.7 2.6-2.4-1.4 2.3-3.8 4z M601.3 658.6l-1.2-1.5-1.4-2.7 .8 .2 1.4 2.4z M546.9 642.6l-.4-.1-.7-3.1-.3-2.8 .5 .5 .7 1.9 .4 2.8z M574.2 660.2l-.9-3.4-.5-4.2 .4-3.9 .9 4.2 .8 4.6z M570.4 615.3l.9-.8 1.9-.6 .9 .2-2.4 1z M544.1 659.4l0-1.5 1.5-.9 .8 .1-.9 1.9z M545.6 644.6l.6-2.6 2.3-4.6 2.2-3-1.5 4-1.9 4z M536 627l-2.6-2.6-2.8-3.4-.6-2 2.1 2 2.3 2.9z M571.1 673.6l1-1.5 2.2-2.5 2.4-2.1 .1 .5-1.8 2.3-2.6 2.6z M542.1 624.4l-1.3-.1-4.6-3.5-2.6-3 4.2 2.7 3.3 2.5z M576.7 666.1l.7-.7 2.5-1.1 2.1-.2-1.9 1.2-2.7 1.2z M544 635.3l-1.5 .7-4.2-1.3-.1-1.2 4.7 .6z M585.9 671.2l-2.5-1-5.3-4-.3-1.2 .8-.5 4.6 4z M590 628l8 2 0 10-8 0z" fill="#000"/></g>
<g filter="url(#f9t)"><path d="M1236.2 791.5l8.8 2.5 2.5 10-5 5-5-7.5z M1250 779l10-2.5 2.5 10-7.5 2.5z M483 632.4l.6-.6 1.4-.6 1.6-.6-.7 .7-.7 .5-1.5 .6z M498.9 637.4l-.3 1.3-2.1-.5-.6-1 .3-1.3 2.3 .3z M509.3 604.2l-.1-1.5 1.7-1.7 1.1 .2-.2 1.1-.9 1.1z M509 604l-1.2-1.4-1.5-2.3-.5-1.4 1 1 1.2 2.2z M495.5 610.9l0-2.6 .5-2.9 .8-.3 .5 .8-.5 3.4z M487 623.2l1.2-1.1 1.6-.3 .9 .6-2.2 1.4z M483.8 609.5l2.3-1.3 3.4-1.1 2.5-.6-2.1 1.1-3.8 1.5z M479.3 619.3l.9-3.4 2-4.8 .2 1.1-1.4 4.1z M496.2 629.5l.7-1.4 1.5-1.9 2.4-2.3 .5 .6-1.9 2.5-2.3 2.4z M496.4 622.1l.4-.7 1.6 .2 .3 .5-1.6 .4z M505.6 606.5l.4-.3 2.7-.1 1.8 .2-2 .3-2.5 .2z M504.3 610.1l-1.8-.4-2.1-1.1 .8-.7 2 .9z M486.8 603.8l-.1-1.3 1.6-.8 1.8-.7 .5 1.2-1 1.4-1.5 .2z M493.6 624.9l-.1-.7 1.2-1.8 0 .8-.5 1.3z" fill="#000"/></g>
<g filter="url(#f10t)"><path d="M883 832.2l7.5 0 0 3.6-7.5 0z" fill="#000"/></g>
<g filter="url(#f1t)"><path d="M753.8 326.2l8.7-1.2 6.3 5-1.3 10-6.3 2.5-6.2-7.5z M1051.2 236.2l8.8-10 7.5-3.7 15 .5-7.5 3.2-10 5-10 6.3z M1028.5 242.5l5 0 0 3.5-5 0z M1060.2 249.5l4 0 0 3.5-4 0z M1117.8 262.8l3 0 0 4-3 0z M1525 255l7.5-10 5-2.5-1.3 7.5-6.2 7.5z M1540.8 256.2l3.4 0 0 10-3.4 0z M1530.2 285.2l5.6 0 0 5.6-5.6 0z M1541.2 278.8l3.6 0 0 5-3.6 0z M1488.8 302.5l6.2-2.5 7.5 2.5 2.5 7.5-10 5-5 5-3.8-5z M1480.8 310.5l3.4 0 0 9-3.4 0z M1477.5 330l7.5-2.5 2.5 7.5-7.5 5z M1425 330l10-2.5 0 7.5-7.5 1.2z M1417.5 342.5l5-2.5 1.3 7.5-5 2.5z M394 324l12-2 4 4-8 4-8-2z M430 300l12 2 4 8-8 2-8-4z M632 256l10-2 6 4-6 4-8-1z M628 216l10-2 4 4-6 3-6-1z M602 308l8 2 4 18-4 20-4 18-4 0z M329.1 222.6l.8-2.1 3.5-1.2 .6 1.4-2.7 2.2z M308.3 242.4l-1.2-.2-3.5-3.1-2.3-3.2 1.6 .6 2.2 1.7 1.7 2.2z M316.8 235.6l-.2-1.3 1.7-1.8 .8 .6-1.1 1.9z M318.4 218.9l-4.6-.4-6.2-1.2 .9-.6 5.8 .8z M322.9 251.3l-6.6-2.8-6.4-3.1 1.1-.4 6.8 2.9z M310.8 243.4l-.3 1.1-2.1-.9-.6-1.1-.4-1.3 2 .1 1.9 1.1z M303.1 238.5l-.8-.6-.7-2.8 .4-2 1 2 .4 2.3z M310 262.5l1.5-1.5 1.7-.1 .6 1.2-1.9 1.3z M325 227.1l-1-.9-.2-5.1 .9-.6 .9 1 .1 4z M308.6 248.2l-.8-1.8-.9-1.7 .7-1.3 .8-.4 .5 1.8 .3 1.8z M334.9 230.1l-2.3 .3-6-.5 .4-.6 6 .1z M328.5 229.7l-.3-1.2 1.5 0 1.5-.3 0 1.3-.7 1.1-1.2-.4z M310.9 252.6l-2.8-.5-4.6-3.7 1.4-.8 4.1 2.6z M302 224.3l.9-.8 1.7-1.1 2.7-.9-.4 .9-1.6 1.3-2.2 .6z M304.1 222.5l.8-2 3.6-5.6 2.9-2.8-2.6 4.7-3.2 4.4z M320.4 244.6l-.8-2.3-1-2.8 .4-2.6 .7-1.4 1.1 3.6-.2 3z M311.2 260.6l.4-1.6 1.8-3.1 1-.9 0 .9-2.1 3.9z M326 238.1l0-2.5 .5-3.4 .6-.5 .1 1.1-.4 2.9z M312.9 231.9l1.8-2 1.9-1.5 2.9-1.8-.7 1.5-1.1 1.5-2.7 1.7z M326.9 224.7l-1.2-.7 0-1.3 1.3-.4 .5 1.2z M297.2 223.5l2.4-1.8 4.6-1.3 0 .9-4.1 2z M309.9 234.1l-1-.4-.8-1.7 .1-1.3 1.1 .5 1 1.9z M307.6 227.9l-2.1-.8-2.9-2.2-.1-1 4 2.4z M320.5 230l-.9 .2-2.2-3.6-.1-1.5 1.5 1.1 2 2.8z M300.8 224.7l1.9-1 3.3-1.4 3.5-.2 .9 .8-4.4 1.3-3.4 .7z M334.8 231.5l-2.5 .1-3-.5-.5-.7 3.3 .4z M311.8 251.1l0-.9 1.9-.4 1.1 .2 .4 .4-.9 .9-2.2 .6z M314.7 256.5l-1-1.6-1.1-2.5 .4 .2 1.2 2.1z M317.4 239.2l-.9-1.8 .3-3.8 .8-2.6 1 2.2 0 4.9z M302 224.2l-1-.1-1.5-.6-.4-.7-.4-.8 1.5 .5 1 .8z M325.2 238.9l-2.9-.5-4.9-3.3 1.6-.2 3.9 1.8z M327.1 232.4l1-2.5 2.2-4.2 2.4-2.8-1.1 3.2-3.3 5.6z M315.6 226.4l1.8-1.3 3.3-.8-.5 .9-2.3 1.3z M310.8 240.7l-.2-1.2 .1-3.8 .4 .6 0 3.2z M314.9 229.3l-.1-1.3 2.8-2.5 3.2-1.4-.6 1.9-1.4 1.7-2.4 1.4z M307.1 243.6l-.6-1.9 2-1.7 1.5 1.9 .8 2.2-2.4 1.5z M333.6 235.2l-1.2 .5-1.2-.9 .8-.7 1.1-.1z M317 222.4l-.9-.6-.2-1.3 .5-.9 .9 1.7z M307.1 256.7l.5-.3 2.4-.1 2.4 .1-.6 .3-1.7 .3-2.9-.1z M320.7 245.6l-1.7-1.9-3-6.4-.8-3.6 2.2 2.8 3.2 6.9z M305.5 251.6l.8-2.8 1.3-3 1.8-1.9 1-.2-1.3 3.1-1.7 2.7z M317.9 230.2l.8-1.8 1.4-2.4 .7-.2-.4 1.2-1.2 1.7z M304.8 237.4l2.4-1.7 2.7-.5 1.8 .6-4.1 1.8z M303.2 216.2l-3.2 .8-5.3-1.9 1.6-1.2 3.8 .5z M303 216.6l-1.3 1-1.6-1.1 .7-1.5 .8-.9 1.5-.3 .3 1.6z M307.4 220.9l-.8-.5 2.1-2.4 1.8-1.8 0 1.2-.1 1.5-2 1.7z M320.5 240.2l-1.1 .8-2.5 0-.8-1-.6-.7 1.8-.3 2.2 .3z M328.8 231.1l-1-.3-.1-1.5 .6-.7 1 .2 0 1.4z M318.6 227.8l.6-2.7 2.2-2.8 2 .1-2.4 4.3z M301.8 223.2l-1.8-1.3-2.7-2.7-1-2 2.1 1.5 2.9 3z M310.5 236.1l-.7-1.3 .3-1.1 .8-.4 .1 1.4z M320.3 241.5l.2-2.3 2.1-2.4 1.6 1.3-1.6 3.1z M309.4 226.9l-1.6 .2-2.1 .3-2.3-1.2 1.3-.7 1.6-.4 2.9 .8z M306.4 227.9l-.6 .8-4.6-.3-3.6-1 1.2-.7 2.9-.2 4.7 .5z M381.7 211.6l-2.7-1.2-3.9-3.1-2.5-2.7 2.6 1 4.1 3.5z M358.6 270.4l.7-.8 1.8-1.3 2.2-.9 1 .1-2.9 1.7-1.8 1z M361.6 246.4l.6-.9 1.6-.8 .7-.2-.1 .5-1.5 .8z M402.8 235.8l-.4-1.5-.4-2.5 .2-1.7 .4-1 .5 2.5 0 3.4z M368.5 262.5l3.1-.5 3.7-.4 2.7 .4 1.2 .6-3.6 .7-4.2-.4z M384.5 226.9l-1-.2-1-1.4-.3-1 .8 .1 1.1 1.4z M368.4 239.5l-1.1 .2-3-.8-1.6-1.1 .4-.4 1.9 .4 2.1 .7z M406.5 228.2l-1.9-1-1.6-2.8 1.9-1.5 2.8 3.1z M383.4 242.5l.1-2.3 1.6-1.9 1.6 1.2-1.1 2.4z M376.4 203.9l-.8-.1-.7-1.1 .2-.9 .9-.1 .5 1.5z M376.1 240.3l-.7-.5-.5-2.3-.2-1.6 .5-.4 .6 1.8 .7 2.3z M355.9 218.2l-1.3-.5-1-2.1 .5-1.5 .7-.6 1.1 1.4 .4 1.8z M398.7 223.2l-.9-.7-.1-1.1 .1-.8 .5-.4 .7 .7 .2 1.3z M384.4 219.9l-2 .5-1.5-1.5 .1-1.8 2.7 .9z M354.7 273.6l-4.4-3-4.2-3.1-2.2-2.5 2.4 1 5.3 4.3z M380.3 219.1l1.7-1.5 1.4-.4 1.8 0-.2 1.5-.8 1.6-2.3 .3z M395.7 229.9l-.6-1.5 .4-2.3 1.4-.3 1.1-.3 .5 1.8-1.5 1.5z M395.8 230.8l0-1.4 1.6-3.7 1.2-1.3-.4 2-1.5 3.8z M390.6 260.7l.2-.5 2.8-1.6 1.5-.6-.8 .8-2.7 1.6z M360.7 241.2l-.7 .4-3.3-1.2-3.1-1 1.1-.3 2 .2 3 1.1z M376.3 257.3l2.9-5 4-5.3 .9 .9-4.1 6.3z M360.2 216.6l-1.6 0-1.4-.1-.8-.4 0-.3 1.1 0 1.5 .2z M404.6 232.2l-2.4-.5-5.3-3.4-1.1-1.7 2.5 1 4.1 2.4z M372.3 242.9l-1.4-1.2-1.9-3.3-.7-2.5 .8 .1 1.3 2.1 1.1 2.2z M378.9 273.7l-1.6-.6-2.1-2.5-.8-1.7-.4-1.8 2.5 2.2 2.2 2.9z M376.6 200.5l-2.5-.1-2.6-1.1-.3-.7 3.3 .7z M382.5 271.6l-3.3-1.3-3.8-3.1 .9-.8 3.8 2.5z M390.1 272.3l-1.7-1.1-1.6-1.5-.8-1.5 1.1 .2 2.2 2.4z M381.2 265.5l.3-2 .7-2.4 .1 .5-.4 2.2z M389.1 215.5l.6-1.1 2.9-2 1.9-.6 .7 .1-2.3 1.7-1.8 1z M403.6 228.2l-.9-1.2 .1-1.4 .6-1.3 .7 1.2 .4 1.6z M388.8 247.7l-1.1-.4-1.9-1-.2-2 .6-1.3 2.1 1.5 1.5 2.5z M367.9 215.1l-2 .8-3-.7 .9-1.2 2.5-.3z M391 245.8l-.8-2.7-.5-2.5 .4-2.3 .8 .7 .8 1.4 0 3.2z M385.7 259.5l0-1.6 3.8-1.6 1.3 .5-.2 1.3-3.4 2z M401 221.3l0-2.3 1.2-2.4 1.1-.3-.7 3.7z M364.4 264.2l-.1-1.6-.1-1.7 .3-1.7 .4-.5 .1 2.3-.3 1.8z M391.2 209.5l.5-1 2-1.4 1.3 .5-.5 1.2-2.3 .8z M369.7 231.3l-.6-1.6 1.2-1.7 1.8-.4 1.1 1.8-1.5 2.5z M405.5 202.2l-.9-.2 .3-2.1 .9-1.9 1.1 .2 .2 2.1-.6 2.1z M407.7 211l.4-1.8 .9-2.4 1.3-.7 .2 1.4-1.4 2z M380.7 223.8l2.1-.7 2.4 .1-.2 .9-2.1 .3z M374.4 234.2l-.7 .1-1-1.8-.1-1.4 .5-.5 .9 1.4 .7 1.5z M388.3 247.6l-2.3-.7-3.1-1.9 .3-.2 3.3 1.4z M387.9 237.5l-.6 1.3-2.2-.4-1-1.4 1.2-1.2 2.5 .2z M356.8 210l-2-1-3.2-2.7-.5-1 1.2 .2 2.9 2.5z M373.8 201.6l-2.4 .3-2.6-1.9 .8-2.2 3.4 1.4z M364.9 267.6l-3.3-2.5-3.1-2.9-3.8-3.9 .7-.3 3.7 3 3 3.4z M357.6 246.4l.9-2.9 2.2-3 1.1 .9-1.9 2.9z M359.1 224.1l-2.1-.3-2.4-1.5 .3-.7 2.6 1.1z M401.8 242.6l-1.2-.1-1.5-.8-1.6-1.3 .2-.9 2.1 .6 1.9 1.6z M376.4 275.2l-.7-.1-1.4-1.5-.5-.8 .6 0 1.7 1.7z M363 205.8l.9-1.5 2.8-1.6 1.5 .6 1.5 .4-1.9 1.7-2.6 .4z M369.1 215.8l-1.3 .2-3.2-.3-2.1-1.3-.5-.9 3.5 .8 2.5 .8z M381.3 201.4l.3-1.8 1-1.8 1.7-2.3 1 .4-.6 2.6-2.1 2.4z M386.6 223.5l-.3-2.2 .1-3.9 .5 .5 0 3.2z M392 262.3l-1.2 .1-1-1.6 1-.8 1.3 1.1z M361.5 218.1l1.1-1.3 4.7-2.6 2.6-.8 .1 .5-1.8 1.7-4.5 2z M371.5 269.9l-3 .1-4.7-1.5 1.1-.3 3.1 .5z M370.3 259.3l-.8-1.3 .6-2.3 1.3-.6 .6 1.3-.5 1.9z M381.1 238l.1-1.3 1.2-2.3 .8 .2 0 1-1 2.1z M383 232l-1.1 .2-1.1-.5-.4-.9 .2-.9 1.3-.1 1 1.1z M389.4 256.8l0-.7 1.4-2.4 1.2-.8 1.1-.7-1.6 2.4-1.7 2.5z M374.8 261.8l.6-1.1 2.9-1.4 1.9 0 .7 .5-2.2 1.2-2.7 1.2z M352.9 213.7l1-.6 .9-.3 1.2 0-.3 .6-.6 .5-1.2 .1z M353.7 281.8l-.3-4 1.1-6.8 1-1.8-.8 8.3z M393.6 204.5l.5-.6 1.7-1.4 1.8-.6 .2 .4-1.8 1.2-1.5 .8z M388.2 259.2l2.4-.5 2.7-.2 2.2 .1-2.1 .5-3.4 .4z M369.4 219.5l-1.3-2.1-.3-2.9 1.1-1.3 1.7 4.4z M370.1 275.3l-1.1 0-4.7-3.2-2.1-2.2 3.7 2.1 3.6 2.2z M367.9 228.9l-3.4-1.5-3-1.6-2.9-1.9 3.3 1.5 3.8 1.8z M386.7 205.4l-1.1 1.1-1.7-.4-1.5-1.6 2-.8 2.1-.1z M371.6 216.1l-1.1-2.1 1-2.8 1.2-.9-.2 3.5z M402.1 204.9l1.3-.5 2.5-.2 1.5 .1-.9 .4-2.9 .3z M368.8 266.6l-2.4-1.9-3.9-4.8 .9-.2 3.8 4.2z M373.8 253l-.4-.1-1.3-2.3-1-1.9-.1-.9 1.5 2.5 1.1 1.9z M371.9 214.9l-3.4 .4-4.1 0-2.8-.9-.1-.8 3.1-.3 3.9 .7z M381.3 220l2-3.6 2.7-3.9 .4 .3-2.7 4.5z M366 238.9l1.6-2 2.4-2.4 .9-.5-.4 .9-2.5 2.5z M360.1 218l-1.3-.5-.5-2.2 .3-1.6 1.4 .7 .3 2.1z M363 216l-1.6-1.3-3.2-5.8 1 .4 3 4.4z M404 201.8l-2.3 .1-5.5-1.7-1.7-1.1 7.3 1.5z M398.1 232.5l3.3-3.9 4.2-4.3-.8 1.7-3.2 3.8z M374.4 250.8l-1.8 .3-3.1-.8-.3-1.2 1.2-.5 2.4 .9z M362.3 247.9l-.3-1.5 .7-1.4 1.5-.5 .2 1.5-.5 1.7z M392.4 236.2l0-.6 1-.8 .8-.2 .8 0-.8 1.1-1.3 .8z M381.7 234.3l1-.8 2.8-.8-.7 .9-1.8 .8z M358.2 263.2l-.5-1.6 1.2-1.7 1.6-1.1 .3 1.5-.2 1.1-.8 1.2z M378.3 239.6l-.8-1.7 1-2.9 1.3-.8 .8 1.3-.9 2.8z M382.6 253.1l-.6 .3-4.8-1.6-5.5-2.1 1.7 0 4.4 1.3 4.2 1.4z M367.8 250.6l-1.8 .2-2.8-1.2 1.4-.9 2.2 .4z M393.6 232l.7-.9 2.6-.5 2.7-.6 .1 .8-2.1 1.1-2.6 .3z M373.7 241.4l-.8 .5-1.8-.9-.9-2 1.3-.6 1.6 .6 .9 1.5z M373.6 223.9l-3-.9-5.6-2.7-3-2-.7-.9 4.5 2 5.4 2.6z M362.1 238.9l-.9-.5-.4-1.9-.1-1.2 .3-.6 .8 1.4 .5 1.6z M372.9 244.3l1.5-3.6 3-3 1.4-.5-2.9 4.4z M360.6 240.3l-1.5-.5-2.1-.9-1.8-1.2-.3-.6 2.4 1.1 2.6 1.4z M380.6 211.9l1.4-1.4 2.7-1.5 3.5-1.6-.3 1.2-2.4 1.7-2.9 1.4z M362.3 239.2l-1.1-.6 1.3-1.6 1.4-.6 .5 1-.1 1.2-1.1 .8z M391.2 204.1l-.2-1.1-.1-2.3 .3-2.5 .3 .9 .1 1.9 0 2.2z M380.7 262l-1.5-1.4-2.2-2.9 .1-1 1.1 .4 2.4 3.5z M378.1 242.7l-3.1-.4-4.7-2-3-1.4 2.7 .4 5.3 1.7z M367.1 236.9l-1.3 .2-1.9-.5-.7-1.2 1.5-.2 1.8 .7z M371.2 240.9l1.9-1.5 5.5-2.3-1.1 1.2-3.7 2z M366.4 225.8l-2.6 .9-1.4-2.1 .2-1.9 2.3 1z M373.9 231.2l.2-1.5 .9-2.4 1-1.9 0 1.1-.3 1.3-.7 1.4z M349.1 268.9l3.4-1.9 4.4-2.3 4.2-1.2-2 1.4-1.7 1.3-5.7 2.3z M372.9 222.6l1.9-2.5 3.7-3.1 2.6-1.5-2.2 2.6-2.9 2.7z M348.8 269.1l1-1.4 2.5-2.5 2.7-2.2-.3 .9-2.2 2.2-2.8 2.7z M416.3 212.1l-.9-.6-1.6-1.5-1.6-2.4 .6-.2 1.9 1.8 1.4 2z M367.9 267.6l-.2-.8 1.1-1.7 1.1-.4 .9-.2-.9 1.6-1 .9z M381.9 236.5l1.7-.6 3.3-.2 .2 .5-3.5 .6z M357.3 228.3l.8-1.2 1.5-1.5 .7 .2-1.8 2.1z M401.1 247.1l-1.4-.2-2.5-.7-2.1-1.2-.3-.7 2.8 .8 2.6 1.2z M360.6 253.8l-.8 1.2-3.4-1.4-1-1.8-.5-1.7 3 .6 1.9 1.8z M389.9 229.9l.6-1.5 .5-1.7 1.6-.1 .8 .7-.5 1.6-1.5 1.3z M396.8 210.8l-.3 .4-2.7-.2-1.6-.3 .3-.3 1.5 0 1.9 .1z M382.1 246.4l.3-1 1.1-1.3 1.2 .7 .1 .9-.5 .9-1.4 .7z M385.6 226.3l-.6-1.3-.5-4.9 .6-.6 .6 1.4 .5 4.6z M400.5 241.1l-1.5-.1-1.1-2.3 1.6-.5 1.4 1.5z M371.3 205.7l-1.3-2.4-.8-3.9 .5 0 1.1 3.3z M357.1 222.5l-3.1-3-2.7-3.7 .8-1.1 3.8 4.2z M385.8 236.7l-.8-1.1-.1-2 1.4-1.2 1.5 0-.3 2.1-.6 1.4z M372 257.1l.7-3.4 2.6-5.7 .7 .6-2.1 5.5z M371.6 201.2l1.6-.7 2.8-.2 1.6 .3-1.7 .6-2.2 .2z M387.7 214.7l-3.1-.8-2.4-2.6-.1-1.6 4.1 2.2z M384.1 212.9l2.1-.8 3.3 .3 1.7 .9-5.4 .5z M354.5 212.5l-.7 .9-1.8-4.9-.9-3.8 1.3 1.3 1.2 2.1 1.2 3.4z M375.9 268.1l-1.5-1.7-.1-3 .8-.7 1.5 3.3z M346.3 268.9l.2-.8 1.5-1 1.4-.3 1 .3-1.3 1.5-2.3 .9z M415.2 199l-2.2 1.2-2.6-.3 .2-2.5 2.8-.3z M395.3 219.1l.2-1.6 2.1-3.3 1.9-1.6 .5 .6-.8 2.2-2.4 3.1z M372.3 246.6l-1-.1-2.4-1.2-.6-.7 .9 .1 2.1 1.2z M359.7 225.9l-.8-3.3-.5-5.4 .9 .1 .7 5.6z M358.6 254.1l.8-.8 1.6-.5 1.4-.1-.1 .6-.6 .9-2.7 .6z M357.9 231.4l.8-.9 2.6-.7 .2 .7-2.3 .9z M394.1 233.4l-1.4 0-2.5-1.9 .6-.5 2.1 1.1z M373.4 261.7l-.9-.5 3.1-3.1 3.1-2.4 .3 1.2-2.4 2.6-2.3 2.3z M389.1 218.5l.7-.9 1.3-1.3 1.6-.8 .2 .4-1.1 1.3-1.6 .9z M371.3 258.5l-2.2-2-3.4-6 .1-1.6 1.6 1.3 3.3 5.4z M384.8 245l-2.7 1.3-1.9-2.5 1.6-1.5 2 .3z M388.8 265.3l-.7-.4-1.6-2.4 0-.8 .8 .5 1.6 2.4z M408.8 210.5l.4-3.6 1.5-4.7 .9 .4-1.3 4.8z M376.5 218.3l-.9-2.1 .4-2.3 2.3-.4 .7 2-.5 1.8z M386.4 244.6l.3-1.9 2-2.5 1.2 0-.6 1.5-1.1 1.5z M385.3 201.8l-3.6-.9-4.5-1.6-1.8-1.2 2 .1 5.1 2z M356.4 265.7l-1.1-.4-2.6-2.2-2.1-2.8 1.2 .2 2.1 1.1 2.7 3.2z M399.5 238.1l-.7-1.4 .5-1.5 .7 .1 .5 1.6z M397.6 215.3l.8-.5 2.3-.3 2.3 0 .1 .5-2.4 .5-2.1 0z M381.2 229l-1.4 .7-2.6-.4-.1-1.9 3.3 0z M412.9 211.6l1.5-1.4 2.4-1.5 .5 .7-2.6 2z M362.9 272.1l-1.4-.7-1.9-2.2-.3-1.8 1.7 1 1.6 2.2z M346.7 264.6l1.1-.5 4.3-.6 2.3 .2-2.8 .7-3.8 .4z M400.5 228.6l-1.1-1.2-.4-2.9 .8-.3 1.1 3z M388.8 230.2l-.1-1.4 1.3-1.1 1.5 0-1.3 2.2z M387.8 214l-3.4-.8-5.2-1.8-3-1.6-2.1-1.4 5.7 1.9 6.4 2.3z M372.6 269.1l.1-1.3 1.2-.7 1.2 .9-.3 1.3-1.1 .2z M384.9 246.4l3.3-1.9 4.5-1.8-1 1.1-3.3 1.7z M409 227.8l-1.6 .2-1.9-.3-1.4-.5 .5-.3 .9-.3 1.9 .5z M383.4 236.3l-2-2.6-1.9-3.2 .3-.4 2.1 3.3z M359.6 208.7l-.2-1.9 .7-4.1 1-1.7 1.2-2.1-.9 4.5-.8 3.8z M372.3 212.5l-.9 .4-2.5-.8-2.3-1.5 2.5 0 3.4 .9z M378.5 224.6l1.6-2.4 1.7-1.9 .5-.1-1.9 2.7z M354.3 218.9l.3-3.1 .8-4.5 1.2-3-.4 3.7-.9 5.2z M372.7 274.6l-1.3-1 0-2.2 1.9-1.2 .9 2 .1 1.9z M390.5 233.2l2.4-1.7 3.3-1.6-.2 .7-2.6 1.5z M365.7 230.2l-1.3-1.4 1.8-1.5 1.6 .8-.8 1.8z M385.7 246.2l-.6-.2-1.2-2.8-.6-1.6-.2-1.4 1.5 2.2 1.3 3.2z M360.2 210l1.1-1.9 2.2-2.4 1.8-.9 1.5-.3-1.9 2.6-3.1 2.5z M409.4 225.4l-4.2 .3-6-.3 .6-.7 5.5 .1z M376.4 258.1l-2-1-1.7-3.1 .9-.6 2.2 2.4z M381.9 274.9l-1.1 .1-2.8-.6 .2-.8 .6-.5 2.2 1z M369.9 214.4l3.5-.8 4.2 0 1.4 .7-1.6 .6-3.5 .1z M374.1 252.2l-2.3-.5-3.1-1.1-1.3-1.2-.5-.7 2.6 .9 2.8 1.3z M369.2 207.3l-2.3-1.6-2.9-3.8-.4-2 0-1.3 2.2 2.6 1.7 2.7z M359.8 215.7l1.6-1.3 2.3-.6 .1 1.7-2.1 1.4z M396.3 223.9l-.6-2.5-.1-2.9 .3-1.3 .5 1.2 .1 2.5z M365.5 223.9l-1 .5-1.9-1.6 .3-1.6 .3-1.6 1.7 1.8 1 1.4z M403.9 223.4l.4-1.3 2.2-1.4 1.2 .1-.7 1.3-1.8 1.6z M370.7 243.7l.3-1.4 2.6-2.5 .5 .6-2.1 2.3z M372.9 222.7l-1.7-.3-2.8-2.2-.8-1.5 4.5 2.7z M383.9 213.3l-.2-1.6 1.2-1.8 .9 1.4-.4 1.4z M377.9 260.3l-.7-1.6 1.5-.9 1.4 .4-.7 1.6z M408.3 228.4l-1.9-.9-3-1.7-1.6-1.6 2.1 .9 3.7 2.3z M397.8 232.7l2.2-1.4 3.5-1.1 .3 .8-3.5 1.6z M351.2 221.2l.9-3.2 2.5-3.9 1 .4-2.1 4.9z M397.9 248.1l-1.5 .5-.9-1.3 .3-1.2 1.6 .6z M368.6 204.6l-1.6 .7-3.3-1.1-.9-1.7 .4-.9 1.9-.4 2.1 1.7z M392.1 233.3l.6-5.1 2.5-8.2 .1 2.6-1.1 4.9z M355 270.8l-1.5-.8-1-1.8 .4-.5 1.4 1.4z M366.6 219.9l-1-4.1-.3-8.8 .6-2.9 .7 3.8 .5 7.1z M383.7 206l-.3-1.9-.3-2.5 .4-1.5 .4-.5 .4 2-.2 3z M397.8 243.3l-.6-1.6 .9-3.6 .8 1.2-.2 2.4z M359.4 260.3l1.5-.4 2.6-.1 3 0-1.1 .4-1.4 .5-2.9-.2z M379.9 202.7l-6.9 .1-7.6-.6 .3-.9 7.3 .4z M394.6 237.4l-.5-1.8 1.1-3.4 1.4-2 .3 2.3-1 3.1z M364.2 263.6l-.6 1.1-1.9 .8-1.4-1.5 .4-1.6 1.7-.2 1.7 .2z M368.5 244.3l.2-1 1.9-1.1 1.9-.7-.7 1.6-2.4 1.9z M384.1 273.6l.7-1 .9-1.1 .9 .2 .7 .3-.8 1-1.5 .9z M375.9 224.3l-.4 .6-2.2-1.7-1.4-1.7 .7-.4 1.8 1.2 2.1 1.4z M385.4 223l-3.5-.8-5.1-2.4-.8-1.2 6.5 2.5z M378.1 262l-1.4 1.1-1.6-.6 .5-1.1 1.3-.9z M378.8 251.8l.6-.4 .9-.3 .8 .3 .3 .5-1 .4-1.4 .2z M378.6 206.5l-1.5 .5-1.3-.4-.1-.8 1.7-.4z M372.6 262.3l0-1.4 1.3-1.6 1.5-.1 .8 .7-.4 1.5-1.7 .5z M401.6 212.4l-1 .3-1.9-1.1-.6-1.3 1.4 .1 1.6 1z M392.4 247.5l-.7-.3-1.2-2.2-.3-1.2 .9 .8 1.7 2.5z M399.3 232l1.6-1.2 3.7-1.1 1.2 .7-.9 1.2-4.2 1.2z M370.8 225.9l-.5 .1-1.3-.8-.7-.8-.1-.4 1.2 .6 1.3 .9z M410.2 207.6l-1.8-2.5-1.7-3.9-1-3.5 1.7 1.4 2.2 5.5z M361.7 255.9l-1 .4-1.8-.1-1-.4 .6-.5 2.2 .1z M364 278.4l1.2-3.4 2.5-4.6 .9-.2-2.6 5.4z M355.9 205.7l4.7-1.6 4-.6 2.3 .1-6.2 1.5z M375.3 247.5l-1.4-.1-1.5-.3-.5-.6 .6-.4 1.6 .6z M366.2 223.7l0-.9 1.2-2.9 1.9-4.3 .2 .9-1.2 3.6-1.7 4z M392 248.3l-3.9 .6-7-.4 0-.8 6.7 0z M364.9 247l5.5-3.7 4.6-2.5 .3 .6-5 3.3z M398.1 246.9l-.6 .7-1.3-.4 .5-.9 1.1-.4z M400.9 226.7l-.7-3.2 .7-3.5 2.2-.4-.1 4.7z M381.6 246.2l-.9 .5-2.4-2.8-1.8-3.3 1.3-.4 2.4 2.7 1.5 2.2z M353.8 221.7l.1-1.3 1-1.7 .9-1.1 .1 .9-1.1 2.5z M402.9 233.5l-.8-1.7-.5-1.8-.3-1.7 .1-1.1 1 2.3 .7 2.8z M362.6 209.1l.7-1.4 3.9-1.7 1.4 0-1.1 1.2-3 1.8z M367 257.5l-.2-1.1 1.7-1.6 1.8-.3-1 1.8-1.1 1.1z M356.2 260.1l-.6 .9-2.3-.1-.5-1 .5-1.1 2.3 .5z M362 221.9l-1.9-1.4-2.1-2.2 .2-.8 2.4 2.5z M370.1 254.4l1.8-3.1 2.1-2.7 .9-.3-2.5 3.8z M356.7 255.5l.9-1.2 2.3-1.7 2.6-1.3 .6 .5-2.2 2-3 1.7z M383.4 236.1l-1.2-.1-3.2-1.4 .8-.1 2.4 .8z M382.5 263.6l-.1-1.5 .4-1 .7-.5 .7 .5-.8 1.3z M381.8 272.1l-.6-.9 1.2-4.1 1.8-2.6 1.3-.7-1.1 4.2-1.5 3.6z M392.3 250.4l-2.2 .6-7.8-.5-2.8-.9 2.9-.5 7 .5z M385.5 258.9l-.3-1.2 1.6-1.1 1.6 0 1 .9-.7 2-2.5 .7z M369.7 214.1l-1.8 .1-.8-1.8 .1-1.8 1.8 .3 1.4 1.5z M360.5 330.1l-1.3-.5-2.9-2.2-2.2-2 1 .3 1.8 1.1 2.1 1.8z M351.1 318.9l0-4 2.1-4.9 1.5-1.4-1.6 6.5z M354.1 330.4l2.3-.6 3.2-.4 .5 .6-.8 .5-3 .2z M363 289.5l.9-1.3 1.4-1 .9-.1-.5 .8-1.1 .8z M363.9 324.3l1-1.2 3.2-.6 1.9 .9-1.5 1.3-3.1 .2z M369.1 314.3l-1.3-1.8-1.1-3.3-.8-3 .9 .9 1.1 1.5 1.2 3.6z M353.7 296.4l.5-2.2 2.3-2.2 .2 1.2-1 2.4z M357.9 335.2l-.9-.7 .4-3 .9-1.5 .4 2 .1 2.4z M359.5 327.3l-1-4.9-.3-5 .5-.8 .9 6.2z M360.1 330.6l-1.7-1-1.3-3.3 .1-3.3 1.6-.1 1.6 2.6 .5 3.3z M358.1 315.8l-2.7 0-2.4-.1-3-.8 .9-.7 2.4 .1 3.1 .5z M360.4 310.1l-2.3 0-3.5-1.5-2.3-1.8 0-1.2 3.2 .8 3 1.9z M355.3 296.3l-.9-1.4-.5-4.9 .4-4.6 1 1.1 .7 3.6-.2 3.5z M365.3 320.6l-.9-.2-2.7-3.3-.6-1.2 1 .7 2.5 2.6z M364.1 329.5l-.8-.9-.6-1.4 .3-.8 .3-1 .7 1.6 .2 1.3z M363.6 323.1l-.5-.9 1-1.6 .7 1-.4 1.2z M368.8 326.2l-1.5-.1-2-.2-1.7-.8 .2-.3 2 .3 2 .5z M357.2 322.4l-.9-1.2-.5-1.6-.3-1.6 .7 .5 .6 .7 .7 1.9z M355.6 286.7l.7-1.2 1.3-.3 .9 .5 .9 1.2-1.5 .6-1.3 .1z M357.4 309l-1.1-.2-1.8-1.4 .1-.5 2.2 1.2z M356 316.9l-1-1.5-.5-2.2 .2-1.8 .7-1 1 2.2 .1 2.6z M372.8 296.8l-1.6-1-3.2-4.5-1.5-2.4 1.5 .9 3.9 4.9z M360.7 316.1l3.3-.9 4.5 .1 .6 1-5.2 .5z M369.6 307.9l-1.3-.3-1.2-.8-1.3-1.2 .3-.7 1.7 .8 1 1z M353.9 305.7l1.4-2.4 2.6-2.8 3.8-2.5-.9 2.3-1.3 2.2-3.4 2.8z M360.5 329.7l1.7-2 2.3-1.1 1.3 .6-2.9 2.5z M360.7 326.1l-.9 .1-2-1.1-1.4-1.4 1.7 .1 3 1.5z M365.9 320.8l-1-1.1 .3-1.4 .8-.5 .8 .4-.1 1.4z M358.3 308.1l.1-.6 1.3-.8 1.4-.2 .3 .6-1.2 .8-1.4 .6z M350.1 305.5l2.7-1 4.7-1-.5 .9-3.9 .9z M356.2 331.3l-1.6-.3-2.4-1.3-.2-1 3.3 1.4z M355.5 327.6l-1.2 .7-2.7-1.2-.7-1.2 3.4 .8z M355.9 315.4l-1.3-1.1 1-2.3 1.7 .5 .5 2.5z M365.7 304.7l1.1-.4 3.4-.2 3.4 0-1 .4-2.3 .3-2.3 0z M361.8 306.9l-1.3-1.8-1.4-2.1 .2-.8 .7 .4 1.1 2.4z M365.7 292.4l-.7-.8 .9-1.7 1.3 .6-.5 1.7z M358 288.7l.9-.9 2.2-1.3 3.3-1.2-1.3 1.3-1 1.3-3 .9z M359.1 321.4l1.3-3.2 2.7-5.3 2.4-3.1-1.9 4.4-2.8 5.5z M359.3 314.2l-.4-1 0-2.5 .5-2.5 .2 2.8 .1 2.5z M369.3 296.4l-1.7-.1-4-1.2-2.5-1.5-1.1-1.1 4.4 1.3 3.5 1.5z M372.4 292.5l-2.4-1.1-2.6-1.6-.8-1 3.8 2.1z M345.7 314.8l3.7-2.4 6.9-3.4 4.2-1-4 2.6-5.7 2.3z M353.1 284.9l2.8-1.2 5-.6 .7 1.7-5.7 .9z M358 300l-.4-1.2 2-7.4 1.9-3.3-.4 4.4-2.1 7.1z M361.1 319.4l1-2.1 2.5 .3-.2 1.8-1.5 .8z M352.1 288.2l.9-1.8 3.1-1.8 1.6 .3-1.5 1.6-1.7 1.1z M359 286.1l-2.1 0-3.2-.8 0-.8 3.2 .8z M364.7 316.7l1.4-.7 4.2-.8 4.7-.5-4.2 1.4-5.8 1.3z M361.5 318.7l.3-.9 3.4-.9 1.7 0-1 1.1-3.6 1.4z M357 327.6l-.6-.1-1.5-4.8-1.2-4.9 .9 1 1.4 3.1 1.5 5.6z M364.6 296.6l-.4-.3-.3-2.2 0-2.4 .6-.1 .3 2.5 .1 1.9z M356.9 315.3l-1.8-2-1.5-2.4-.6-1.8 1.3 1.3 1.9 2.7z M355.8 314.1l-.7-.2-3.3-3.3-3.2-3.6 1.9 1.3 1.9 1.4 2.6 3.1z M363 325.9l-.3-4.5 .6-6.7 1 .3-.3 6.8z M367.7 302.3l-3.6 .1-4-1.1 .9-1.4 4.4 0z M358.3 305.1l1-1.5 1.9 .6 1.8 .6-1.1 1.4-2.4 .1z M366.1 293.8l-.8-2 .2-3.4 1.8-.9 .5 5z M358.5 290.4l-.4-1.9 1.4-3.5 1.5-.6 1.4-.8-.5 2.6-1.6 3.2z M366.1 305l-3.6 0-4.5-.6-2.3-1.6 3.7 .1 4 .6z M356 316.6l-.4-.6 1.7-3.3 1.5-1.7-.6 2.3-1.4 2.5z M369.6 306l-1.1-.3-1.4-.8-1.3-1.1 1.6 .5 1.9 1z M361.2 328.6l-3.2 .1-4.9-1 .2-.6 5 .4z M358.5 300.5l-1.7-.1-.2-3.8 .1-3.4 1.9 2.5 .9 3.4z M363.1 307.9l-.6-.7 1.5-4.9 1.4-4 .7 .3-.9 4.1-1.2 4.8z M362.4 307l-1.9-.1-3.1-1.6-.5-.9 1.3 .2 2.4 .9z M358 307.1l-.7-1.1 1.2-1.1 .9 .2-.2 1.7z M355.7 303.2l-.5-1.6 1.3-2 .9 1.1-.5 1.5z M355.3 328.3l-1.1-1.9 .4-2.5 1.6-.3 0 2.7z M361 300.6l-1.3-.9-2-3.7-2.5-4.8 1.7 1.6 2 1.9 2.8 5.4z M372.8 297.7l-1.5 .6-5.9-.6 1.1-.6 4.2 .2z M436.7 339.4l-1.6-.1-1.4-1.1-.4-1.3 .4-1.1 1.6 .5 .6 1.4z M448.3 300.4l-1.2 0-2.7-2.8 .3-.8 1.2 .5 2.5 2z M402.4 313.1l-2.1-1.6-.2-2.6 1.7-2.1 2.9 .2 0 2.8-.6 1.6z M464.6 301.7l-.9-1 0-3 1.2-.2 1.3 .3-.5 3.1z M455.2 317.6l-.1-2 1.1-2.6 .8-1.8 .8-.3-.5 2.3-.8 2.7z M427 340.5l-.1-2.2 1.6-2.9 1.3-.6 .3 1.4-1.3 2.9z M449.1 331.7l-1.1-1.2-1.1-2.8 .5-.3 1.6 2.7z M444.1 303.1l-.9-.8 .5-3.3 1.3-.1 1.2 .6-.9 3.4z M427 308.4l-3.2-1-5.4-3.6-1.5-2-1.8-2.2 4.6 2.7 3.8 2.9z M403.8 313.9l-1.7 1.4-2.8-1.4-1-1.1 1.1-1 3.3 .2z M443.1 299.5l-4.7-1.6-5.6-3.3 .4-1.4 6 3.3z M393.6 319.8l-.7-1.4-.4-3.9 .1-3.6 .7 .6 .7 2.7-.2 3z M440.2 328.2l-.9-.9 1.8-2.7 1.6-1.3 .8 .7 0 2-1.9 1.7z M434.4 328.1l.5-4.1 1.5-6.2 1.7-1.9 .7 0-.7 3.5-1.6 5.1z M452.4 301.3l-2.4-1-2.4-2.8-.6-1.7 4.5 3.4z M454.9 320.6l-1.2-.3-3.3-2.2-2.7-2.2 .7-.2 2.8 1.6 3.4 2.4z M430.9 336.7l-1.9-3.5-2.1-4.4-1.1-3.8 2.2 4.3 1.6 3.3z M439.2 321.3l.8-2.1 1.5-.8 1.6 1.2-1.5 2.1z M455.3 305.8l-1.3 .3-2.5-1.2-.5-1.1 1.6 .2 2.2 .5z M451.6 337.3l-1.7 .5-2.5-.5 0-.6 2.5-.1z M425.4 311.5l-1.9-1.7-1.2-1.5-.3-1.6 1.3 .2 1.7 2.6z M449.3 320l-1.4 .7-2.6-.7-1.8-1.4 1.2-.7 1.5-.4 1.6 1.2z M394.1 315.6l-3.2-1.1-2.7-1.6 0-.6 3.7 1.4z M409.9 303.9l-1.2 .3-2.4-1.7-1-2.7 1.2-1.1 2.2 2.1 1.8 2z M458.4 295.1l.3-3.5 .8-4.4 1.5-1.9 .3 2.6-1.3 5.5z M443.7 298.5l2-1.4 1.8-.6 .9 .5-2.5 1.4z M406.1 328.5l-1.8 .4-1.9-.5 .5-.9 1.8-.2z M404.1 330l.2-3.3 1-4.4 .9-1-.9 6z M419.4 330.5l-1.3-1-1-1.9 1.9-.5 1.7 .2 .4 2.3z M420.8 310.3l-1 0-2.7-1.3-1.7-1.5-.2-.8 2.6 .9 3.2 2.1z M461.2 301.2l-.8-3.1 1.3-6.1 1.3 1-.5 4.8z M414.4 315.8l.4-4.3 .4-4.6 1.5-3.1 1.3-1.9-.6 5.5-1.5 6.2z M437.4 325.3l-2.9-3.5-2.1-5.7 2.1 1 2.3 3.7z M457.5 312.7l-.9 .6-4-3.5-2.9-3.9 1.5-.3 3.4 3 3.4 3.2z M406.7 319l-.6-2.7-.6-3.9 .7-3.5 1-.8 .7 4.3-.3 5.3z M456 328.4l-.7-.4-.3-1.5 .7-.7 .7-.7 .3 1.5-.1 1.2z M393.8 318.8l.3-1.4 3.2-3 2.7-1.2-2.1 2.8-3.1 3.4z M387.5 303.4l.6-2.4 4.1-4.5 1.4 .1-3.9 5.5z M433.3 339.7l1.7-1.9 3.2-1 1 .3-3.3 2z M416.1 338.6l.8-.9 2.2-1.4 2-.6-1.3 1.3-2.9 1.7z M411.6 304.6l-3.2-1-3.3-2.3-.1-1.7 5.1 2.5z M462.3 323.8l.4-4.6 2.6-7.9 .6 1.6-1.5 7.4z M429.5 311.6l-1.7-1.6-3.3-7.6-.5-3.7 .4-1.2 2.4 4 2.2 6.7z M427.9 321.6l2.4-4.1 4.1-3.6 .6 1.7-2.9 3.2z M451.1 328.3l-.1-1.1 1-3.1 1-2.2-.1 1.8-1.1 3.6z M445.3 302.8l-1.3 .3-1.6-1.3-.9-1.4 .8-.7 1.6 .1 1 1.6z M438.9 310l-1.7-1-.4-2.4 .5-1.2 1.2 .4 .7 2.1z M458.9 329.4l-2.2-1.7-3.5-7.3 2.5 1.3 3.4 5z M450.8 312l-.3-2 .2-2.4 .5 .4 .2 2.3z M390.6 302.4l1.2-1.3 3.2-2 1.6-.3-1.7 1.5-2.4 1.4z M442 314l-2.2 .5-3.2-1.7-1.2-2.4 3 .5 2.7 1.1z M420.8 306.5l-1.3 .4-1.7-1.7 .8-.9 1.8 .9z M399.6 339.2l1.2-3.1 4.8-5.5 .3 1.5-3.6 5.9z M427.6 297.3l-4.7 .6-7.1-.4 2.1-.9 4.8-.2z M458.3 320.9l.4-1.3 6-2.9 3.4-.5-2.5 2.3-4.9 1.8z M406.1 321.3l1.4-1 2.1-.4 1.3 .6 .5 .7-1.7 .7-2 0z M420.1 316.5l-1.1-1.7-1.3-2.1 1.1-1.1 .8-.6 1.3 1.2 0 2.6z M445.3 337.9l.2-1.4 2.8-2 2.1-.8-.8 1.8-2.8 2.4z M432.7 294.7l-.9-2.8 3.1-1.5 1.4 1.7-1.2 2.1z M409.2 320.3l-2.8 1.2-2.9-.7-1.4-2.7 2.9-1 2.1 1z M392.2 326.8l.7-1.1 1.2-.4 1 .3-.3 1-1.2 .2z M418.7 347.8l4.9-1.6 7.2-1.6 4.4-.2-4.5 1.6-7.2 1.4z M469 290.2l-1.5-2-.2-3 1.1-.4 1.4 3.1z M449.7 297.3l2.6-2.5 6.4-3.8 3.9-.8-3.9 3.1-5.2 2.7z M451.4 311.9l-2-1.1-3.5-3-3.2-3-.2-.9 3.7 2.8 4.1 3.5z M459.7 307.6l.3-1.3 2.1-1.4 1.5 .1-.3 1.5-2.3 1.3z M399 302.5l.1-1.5 1.8-3 .3 .4-1.1 3z M433.8 344.7l-1.2-.3-.6-1.1 .6-.8 .9-.7 .6 .9 .5 1.1z M448.9 318.7l-2.3-.3-4.7-2.2-3.1-2.4 .6-.8 3.8 1.5 5.9 3z M444.2 295.9l-1.1-1.3-.2-2.7 1.2-2.8 1.4 2.6 .1 3.3z M420.1 345.1l1.3-1.9 3.9-1.8 1.4 1-.4 1.8-4.4 1.8z M457.3 308.4l1-1.8 1.9-2.7 .6 0 0 .7-2.2 2.6z M417.5 331.8l1.7-3.5 3.5-3.9 2.3-1.6-4.6 6.3z M399.7 307.2l-1.5 .2-1.9-2.3 1.9-.4 1.9 .9z M433 332.5l-2.1 .3-3-.5 .7-.9 2.7 0z M443.9 300.8l-.1-1.2 .4-1.3 1.8-.8 .4 1.8 .5 1.7-1.7 .7z M452.4 333.1l-2.8-2-3.9-5.5 1.9-.7 3.8 4.9z M467.5 329.6l-.6 0-1-.5-.9-.9 .1-.9 1.5 .8 .9 .9z M458.2 313.6l-1.5-.5-1.7-3.3-.4-2.6 .5-2.1 2.6 3.1 .7 3.6z M438.2 301.5l-2 .6-2.7-1-1.3-2.1 1.3-.9 1.8 .5 2.4 1z M434.9 304.2l-.8 .9-2.1-.4-1.8-.5-.1-1 1.8-.6 2.1 .6z M423 344.3l1.4-3.6 2.9-5.3 2-1.3-1.1 3.2-2.5 4.1z M414.1 335.3l-1.5 1.4-1.9-.2-1.3-1.6 1.1-1.4 1.4-.8 1.7 .7z M393.2 326.9l-.2-.4 3.6-.9 1.6 .1 .1 .3-1.8 .6-2.3 .4z M430 293.7l-1.4-.1-3-1.6 .8-.4 2.7 1z M448.4 316.7l.1-1.8 1.8-2 2.3 .4-.8 2.3-1.7 1.8z M411.8 299.3l1.8-2.3 5.5-3.5-.7 1.9-3.7 2.9z M443.6 334.5l-1.1-1.9 .4-1.8 1.2-1.1 1.2 1.2-.5 1.8z M443.7 347.8l-2-2.5-2.5-4.8-1.8-4.3 2.4 3 3.3 6.1z M433.6 318.9l.4-2.4 3.4-4.7 2.4-2.2-1.3 3.3-2.5 3.6z M463.1 319l-1.5-6.5-.4-6.5 1.1-1.8 1.1 8.4z M411.2 331.5l3.4-1 8.8 .5-1.3 .9-6.4 .2z M456.7 289l-.8-.1-.5-2.2 0-1.4 1 .6 .4 2.2z M544.3 334.3l-.2-1.4 1.9-1.9 1.5 .2 2-.1-1.4 2.3-2.4 1.2z M527 322.7l-1.1-.2 0-1.5 .3-1.4 1 1.1 1 1.4z M509.6 329.5l-.4-1.3 .2-2.2 .5-.8 .3 3.3z M539.8 336.7l2.3-1.4 4.2-1.6 3.4-.7 .8 .5-3.4 1.8-4.7 1.1z M486.8 285.4l-.1-.8 1.5-2.1 .6-.3-1.3 2.6z M499.6 309.6l.1-1.9 1.5-2.5 1.6-.7 .6 .7-.1 1.6-2 2.5z M511.5 306.8l-.9-1.4 0-1.7 1.8 0 .4 1.9z M539.4 296.2l-2.4-1.7-2.5-1.8 .3-2.8 1.7-.7 2.6 1 .9 3.3z M540.7 339.6l-2.3 .5-4.9-.7-3.9-1 1.3-.6 3 0 4.6 .6z M497.6 295.3l-1.3 .8-1.7-.8 .1-1.5 .3-1.5 1.7 .4 1.1 1.3z M528.7 308l-1-2-.3-4.4 .1-2.4 .8 1.4 .6 4.8z M490.9 341.4l.2-3.4 .4-4.5 1.8-4.2 .2 2.7-.2 2.6-.9 5.2z M483.9 323l.6-.9 1.4-.3 .4 1-.5 .7-1.3 .5z M538 329.4l-3 .3-3.4-.3-1.8-1.6-1.2-1.7 3.8 .4 4 1z M498.9 305.4l-1.5 2-2.4-.4-1.3-1.8 1.2-2.1 2.1 1.1z M505.2 312.2l.9-3 1.7-3.9 1.7-2.5-.6 2.6-1.9 3.6z M500.1 338.2l-2.4-.2-5.8-3.3 .4-.7 5.8 2.4z M509.3 296.2l2.3-4.6 5.2-5.5-.4 2.3-2.9 4.5z M483.5 325.1l-.3-.4 .6-1.7 .8-1.4 .1 .8-.2 1-.5 1.2z M487.5 290.8l-2.7-2.1-4.6-6 1.6 0 3.8 4.7z M527.4 283.2l-2.6-2.4-2.7-4.1-.5-1.9 4.1 5.2z M516.3 350.4l.6-1.3 2.2-2.8-.3 1.1-1.4 2.2z M518.1 331.2l-1-5.7 .3-4.7 1.2-2.7 .5 7.8z M528.2 336.2l-.9-.6 .5-2.8 1.1-1.6 .4 2.1-.3 2.2z M551.5 311.1l-1 .4-4.3-.9-2.4-2 .3-.9 3.4 .6 3.7 1.8z M500.5 283.2l-1.3 .2-4-5.9-.6-2.9 2.9 3.1 2.6 3.6z M555.1 324.2l-1.7-1.6-1.2-4.5 .7-1.4 2.7 5.4z M521 307.3l1.9-1 4.7-.4 4.9-.2 1.3 .9-5.7 1-5.6 .6z M542.1 307.8l-1.6-2.2-2.9-5.6-2-5.7 3.4 5.6 2.4 5.2z M492.9 313.5l-2-1.9-2.5-4.6 .8-.5 3.2 4.4z M520.3 332l.3-1.4 2.1-1.8 1.2-.6 .3 .5-.4 1.1-1.6 1.1z M509.8 329.3l.9-2.1 4.2-3.2 3-2 .5 .6-2.2 2.5-3.8 3.1z M514.7 311.6l-.3 .7-2.6-.2-1.7-.8 .3-.7 1.8 0 2.3 .2z M513.3 333.7l.3-2.4 2-1.1 1 .6-1.1 1.8z M506.1 347.3l-.4-.7 .1-2.6 .6-1.4 .3 1.5 0 2.9z M499.4 342.9l-.2-2.5 1.9-3.6 1.5-2.2 1.3-.4-1 3.3-1.5 4.2z M528.5 302.8l.7-1.3 1.4-.8 .8 .3-1.5 1.2z M555.4 328l-1-.7-.5-1.2 .6-.8 .7 .6 .3 .9z M523 314.1l-.8-.2-1.3-1.6-.4-1 .1-.4 1 .7 1.2 1.6z M524 286.9l.6-1.9 3.2-3.9-.3 2-1.8 3.4z M504.4 322.9l-.2-5.9 .1-5 1.1-4 .3 4.6-.2 5.1z M507.4 345.3l1.6-1.3 2.3-.2-.4 2-1.8 1z M494.5 290.2l-3.1-1.2-5.1-4.5 1-1.2 5.1 4z M508.6 330.8l-1.1-.1-2.6-1.2 .5-.5 2.5 1z M497 298.8l-1.1-1.6-1.4-4.5-.5-3.4 1.5 2.6 2 5.9z M501.3 317.9l2.3-1.2 5-1.8 3.1-.2 1.1 .4-3.7 1.6-6.1 1.5z M510.6 319.3l-1.1-.7-2-3.8-1.3-2.8-.1-1.4 2.3 3 2.2 4.3z M501 305.1l-.2-.8 1.5-1.8 1.8-1-.1 1-.9 1.2-1.5 1.8z M523.9 341.6l-1.7-1.2-1.5-3 .2-2 1.6 .9 1.9 3.5z M533 319l-3-2.7-2.8-3.1-.3-1.4 1.7 1.3 2.5 2.7z M495.6 338.9l.3-1.6 .6-1.8 1.9-1.6 1.2 .8-1.1 2.3-1.4 1.7z M484.1 316.8l-2.2-3.1-.8-4.4 1.9-.3 1.3 4z M499.8 315.2l-2.4-2.5-2.8-4.6-.6-2.5 4.4 6.4z M504.9 350.9l.7-2.3 1.3-2.7 .1 .9-.8 2.4z M512.6 341.9l1.1-2.4 3.5-.5 2.1 1.7-2.1 1.9-2.2 .2z M539.2 309.1l-.7-1.1 .5-1.5 1.3 .8 .2 1.4z M530.2 323l-.4-2.5 .9-2.6 1.1-.7-.5 3.4z M517.9 353.4l2.1-2.3 3.8-3.5 5.4-3.8-1.8 2.3-2.3 2.7-5.6 4.1z M531.6 334.5l-.6-1.8-.3-2.3-.2-2.4 .4 .7 .4 1.6 .4 2.6z M511.4 279.4l.5-3.4 .8-2.6 1.4-2.2-.2 2.6-.8 3.7z M527.9 293.5l-1.1-.2-1.5-6.4 .2-2.4 1.4 1.8 2 6.7z M531.9 328.7l-2.5-.2-6.9-3.8-.4-1.5 7.4 3.6z M550.7 322.7l-1 1.2-3.4-1.3-2.5-1.6 .8-1.3 2.7 .3 2.7 1.2z M555.3 334.5l-.6 0-2.4-2.9-2-2.4-.1-.6 2.4 2.3 2.6 2.9z M507 346l-2 1.4-3.2-.6 .6-1.8 2.4 0z M500.9 314.4l.2-1.9 2.5-2.8 3.2-1.4-.8 2.3-.5 1.7-2.5 1.4z M539.8 343.2l.4-1.5 3.5-.6 .8 1.1-.7 1.2-2.4 .3z M512.7 292.8l4.7-1.6 5.3-.8 1.5 .8-7.3 1.8z M543 338.4l2.4-.7 6.7 .1 3.6 .3-.4 .5-2.5 .8-7.5-.2z M519.8 350.3l1.1-.4 2.6 0-.3 .7-2.2 0z M514.3 286.4l.9-3.2 3.8-1.3 1.3 1-2.7 2.5z M529.9 337.7l-1.3-1-1.5-2.2 .2-.8 1.9 2.5z M514.2 293.8l-1.1-.8-1.1-2.2 .2-.8 1.7 2.5z M517.6 284.8l1.7-1.9 2.4-1.2 1.2 .1-2.9 2.4z M531.9 317.9l.5-1.7 2.1-2.5 1.8-.2-.7 1.9-2.1 2.8z M535.7 310.4l-1-1.1 2.6-2.1 2.9-.7 .9 1.5-1.9 2.3-2.7 .9z M502.9 303l1.6-2 2.7-2.1 .2 1-2.3 2.3z M513.8 334.8l.2-3.3 1.6-4 .8 1.7-.7 2.7z M526.7 309.3l-1.6 .2-1.4-.9-.6-1.7 1.7-.4 2 1.1z M485.9 294.1l.4-1.6 3.1-.6 3.2-.2-.8 1.6-1.9 1.1-3.1 1z M540.2 297.1l-5-.1-6.2-.9-4.8-1.6 5.8 .4 7 .7z M547.8 342.1l2.3-.5 2.9-.2-.2 .5-2.5 .3z M507.3 312.4l-.7 .3-3.4-1.6-2.4-1.2-.8-.9 3.2 1 3 1.5z M532.9 310.1l-.2-1.2 .4-1.7 .6-1.1 .1 1.4-.2 1.8z M489.2 291.9l1.7-5.1 3.3-5.9 .3 2-2 5.3z M506.5 312.5l-.2-.9 1.1-1.9 .3 .4-.5 1.8z M523.4 316.8l5.6-4.5 8.1-4.7-1.3 1.9-6.4 4.7z M521.8 286.9l-3.6 .8-5.8-1.1 1.8-1 4.2-.2z M482.8 304.5l-.4-2.1 3.4-4.6 1 2-2 3.9z M493.7 292.5l-1.7 .6-4.1 0-1.4-.8-2-.7 4 .1 2.6 .3z M502.8 294.5l-1.3-2-.5-5.7 1.8 1.4 1.2 4.4z M520.3 279.7l-.8-.4 .1-4 .7-4 1 .6 .3 3.4-.7 3.1z M498.8 311.8l.3-1.6 1.9-.8 1.5 .5 .2 1.1-.8 1.2-1.8 .5z M492 322.1l-.7 .7-3.4-2.4-2-2.7 .7-.8 3 2 2.3 2.1z M552.5 329.9l-.3-.9 3.1-5.2 3.4-4.8 1 0-2.5 5.3-3.3 4.3z M520.3 277.9l0-.3 2.2-.1 2.6 .1-.8 .4-1.7 .2-2.5 .1z M497.9 282.4l.2-1.9 1.2-1.1 1.3-.5 1.4 .5-.4 1.9-1.8 .8z M486 296.5l.7-.7 2.3-.6 1.3 .5-1.2 .8-2.7 .8z M498.6 285.7l-1.7-.8-1.9-2.5 .3-.9 2.4 2.4z M502.9 334.4l-1.6-1.4-.8-5.4 .6-2 1.5 1.4 .8 4.8z M522.6 283.2l1.3-1.4 1.7-1.5 1.8-.8-.4 .7-.9 1-2.2 1.8z M531.5 310l.1-1.3 3.1-2.6 2.6-1.3 1.4 .2-3.1 2.7-2.1 1.4z M529.6 333.3l-1.5 .4-.8-1.7 .4-1.5 1.9-.7 .6 2.2z M511.7 318.7l-1.2 .4-.9-1.4 .5-1.2 1.4-.5 .7 1.7z M491.6 320.3l.3-2 .6-2.4 1-1.5-.3 2.2-.7 2z M524.7 344l-1-1.4 .1-1.8 1.5-.8 1.6 .5-.1 1.6-.6 1.1z M506.9 338.3l-.6-1.6-.6-2.8 .4-2 .9 2.1 .6 3.3z M504.7 347l3.1-2.5 6.1-3.3 5.8-2.6-3.1 2.8-8.8 4.7z M520.8 300.8l-1.4-1.9 2-2.5 2.2 .7-.8 3.1z M491.5 312.6l-.6-.8-.3-3 .5-2 .8-1.4 .1 3.7 .1 2.9z M514.1 355.5l.5-1.8 1.4-3 2-2.5 .9-.1-1.8 3.6-1.7 2.8z M545.7 321.7l-1.9-.4-1.5-1.5 1.6-.8 2 .6z M487.2 296.6l-2-1.1-3.7-3.3-2.6-3.1 .6-.4 3 2.1 4.1 4.3z M522.9 287l-3.3 1.1-4.3-1.5-.1-1.2 4.1 .2z M494.3 293.5l1.4-.5 1.8 0 .2 .4-1.9 .3z M534.7 312.7l-2.8-.2-3.3-1.3 .1-.9 3.8 .9z M532.9 304.4l-2.1-1.2-2.7-2.4-.1-.9 3.7 2.7z M547.6 313.5l-1.7-.5-3.1-1.7-2.3-1.8 2.9 1.3 3 1.6z M497.5 335l-.2-1.3 2.5-6 1.8-3.2-.8 3.3-2.4 7z M536.1 307.5l-.2-1.9 3-3.1 1.4 .8-2.5 3.2z M500.2 340l.9-.8 1.7-1.2 1.3-.3 1.3-.1-1.9 1.4-2.3 .9z M500.9 324.5l-1.5-.4-2.3-1.2-.1-1.3 1.3-.2 2.6 1.8z M529.5 299.1l-.1-.9 .6-1.7 .8-1.5 .5 .2-.3 1.5-.8 1.7z M505 343.9l-1.7-1.6-3.3-4.4 .7-.1 3.2 4.1z M529.3 330.1l-2-.9-3.8-3-.4-1.3 .9-.3 3.6 3.4z M506.9 299.6l.8-3 2-1.7 .9 .5-1.3 2.1z M524.3 337.4l-1.1 .7-2.5-.9-1.2-1.7 .4-1.3 2.3 .1 2.2 1.7z M495.3 285.4l1.4-.6 2-.1 .3 .5-2.4 .6z M490.3 328.3l2-1.9 3.9-.7-.9 1.4-2.2 1.3z M487.1 304.4l-.6-2-.9-4.7 .4-2 .2-2 .9 4.1 .2 4.5z M501.7 318.2l.7-1.7 1.3-2.2 1.8-1.6 .7 .1-1.2 2.4-2.1 2.4z M479.7 297.4l1.6-2.3 5.6-2.9 1.3 .6-5.9 4.4z M509.6 314.4l3.6-2.1 7.4-1.4 .3 1-6.6 2.1z M507.6 300.6l-2.2 .2-1.8-.1-1.5-1.3 1.9-.6 2.2 .4z M512.2 313.3l-.8 .1-2.3-1.6-.3-.7 .9 0 2 1.4z M503.2 338.6l-.8-1.3 1.4-1.1 1.7 .6-.9 1.7z M519.4 295.5l1.5-3.2 2.2-2.6 .9-.1-2.1 3.7z M558.4 330.3l-1 .4-3.4-1.3-1.6-1.3 .8-.2 1.4 0 2.2 1.3z M482.6 305.8l-.3-1.5 .2-2.6 .5-3.3 .3 2.6-.1 4.2z M501 285.9l-.7-1.1-.4-2.5 0-1.5 .3-.4 .6 1.7 .3 2.3z M547.7 307.9l-3.5 .2-3.2 0-1.2-.6 1.4-.4 3.4 .1z M506.7 340.2l-.4-1 2.4-4.7 1.5-1.8 0 1.8-2.2 4.3z M526.1 325.1l1.3-1.4 1.7-1.4 1.8-1.2 .4 .2-1.9 1.6-1.7 1.3z M506.5 307.9l-6.7-2.6-5.2-2.9-.1-.9 6.3 2.7z M527 298.7l1.4-1.6 2.8 .1 1.3 .6-.9 1.1-2.5 .6z M519.1 330.6l3-1.2 11.3-.7-1.6 1.3-10 1.4z M507.2 334.3l-1.7-.2-1.2-3.2 .6-2.3 1.4 0 1.4 1.5 .6 2.9z M518.6 314.6l-.9-2.7-.1-8.4 .5-5.2 .7 5.7 .3 7.1z M518.1 329.6l-1-.1-3.1-5.4-1.7-3.4 .2-1 2.5 2.7 4.2 7.1z M516.5 320.5l-.8 .4-.7-.1-.9-.5 .6-.7 .7-.8 .7 .9z M537.4 310.7l.4-1.6 2.2-2.4 1.9-2-1.3 2.4-1.8 2.6z M523.5 317.9l-.5-.6-.1-3.2 .2-2.9 .5 1 .4 1.9-.1 2.7z M539.8 340.3l.5-1.9 1.2-2.9 .8-.8-.6 1.8-.8 2z M501.6 317.5l-3.2-.5-4.9-3.3 .4-1.5 5.4 2.8z M485.5 323.9l-.5-1.3 1.2-4.2 1.3-.2 .7 1.1-1.5 3.4z M501.8 307.6l-1.1 .5-2.9-.8-2-1.8 .9-.7 2.2 0 3.9 1.7z M496.2 336.5l.3-.9 6.6-3.4 1.6-.1-.7 1.1-5.8 2.8z M513.1 343.7l-.8-.4 .1-2.3 0-2 .7 .3 .7 1.3-.1 2.7z M509.5 341.8l-.4 .5-2.4-.7-.8-.7-.5-.6 1.5-.1 1.9 .9z M552.3 319.1l-1.2-1.5-1-1.5 .4-.5 .6 .2 1 1.7z M548.4 318.3l.6-1.5 1.2-2.2 1.2-.6-.5 1.6-1.3 1.9z M525.5 339.5l-1.4 .2-1.2-2.2 .6-1.3 1.5-.4 1.4 2.6z M492.3 327l-2.1-.9-1.2-1.4 .4-1.1 2 1.4z M484.9 310.2l-.8-1.3-.6-2-.2-1.8 .9 .9 .6 2.7z M515 353.1l-2.1-1.9-1.7-2.6 .4-1 2.5 3.1z M507.3 328l2.2-1.2 5-1.4 1.5 .3-5.9 1.9z M490.4 313l-.7-1.3-.9-2.7-.7-3.2 .5 .2 1 3.1 1.1 3.4z M516.9 296.9l-1-1.5 1-1.7 1.8-.4-.2 2.6z M534.5 303.1l.6-1.1 3.2-1.2 .7 1.2-.4 1.2-2.9 .4z M499.4 285.8l.3-2.8 .7-2.9 1.3-1.5 1.1-.7-.1 2.8-1.7 2.5z M501 324.4l-.7-.8 .2-1 .4-.8 .6 .7 .1 .9z M531.4 315.2l2.9-4.9 3.9-4.8 2.3-1.9 0 1.4-4.7 5.6z M489.6 324l2.4-2.2 5.8-2.2-.2 1.5-4.4 2.1z M499.8 298.3l-.8-1.7-.8-1.4-.2-1.5 .4-.2 .8 1.4 .3 1.6z M509 305.5l3.7-1.7 4.8-1.6 2.3 .1-2 1.4-5.7 1.9z M524.4 347.5l-2.1 .5-2.3-.9 .1-.9 2.5 .1z M496.7 319.7l-3.5-.4-2.9-.4-3.2-.9 .2-.5 3.3 .6 2.8 .6z M509 279.3l-1 .4-.8-.8-.3-1.2 1.3-.5 .8 1.1z M498.9 346.1l1.4-2.9 2.7-4.1 1.7-1.2-.8 2.2-2.8 3.7z M514.9 317.4l2.8-2.2 4.4-.8 1.1 1.2-4.7 1.8z M491.6 327.8l-.2-1.9 0-2.3 .3-.9 .4 .7-.1 3z M508.6 351.7l-.5-2.1 2.3-2 1.9 .9 .9 .9 0 2.2-2.7 .8z M486.1 286.9l1.1-1 1.9-.5 1 .3-2.5 1.2z M494.5 304.7l.6-.7 1.5-.6 .7 0 0 .6-2.2 1z M539.3 322.6l.3-2.7 1.3-4.3 1.2-3.2 0 1.2-.5 2.5-1 3.3z M516.4 318.1l-1.5 .3-2.4-2.4-1.3-1.9 2.1 .7 2.3 1.6z M526 325l-1.4 .3-5.8-2.2-2.5-1.8 3.2 .3 5.4 2.2z M490.3 314.3l-.2-2 1.1-4.3 1.4-1.6 .7 1.6-1.8 4.8z M498.3 285.1l-.3-1.6 0-1.5 .3-1.9 .7 .1 .1 1.9 0 2z M521.8 331.1l-1.4-1.5-1.2-2.6 .3-.4 1.7 2.4z M529.9 288.7l.1-2 2-1.5 .8 1.8-1 1.7z M494.7 310.3l.9-3 3.2-4.2 2.4-1.7 .9 .3-1.5 3-2.7 2.9z M531.7 288.9l-1.4 .1-2.9-4.1-.9-3 .8-.8 2.5 2.3 1.4 3.3z M532.8 301l-.3-1.4 2.5-2.5 1.7-1 1 .2-1.2 2.1-2.5 3.2z M512.9 317.3l2.6-1.8 4-2.2 1.7 .2 2.8-.5-4.5 2.1-3 1.2z M529.8 348l-1.2 .9-2.5-.7-.2-2.2 1-1.4 2.2-.1 1.2 2.1z M525.4 298.9l.7-3 .9-3 2-1.8 1.3-.1-1 3.2-1.9 2.7z M494.1 314.6l-.7-.5-.5-6.6 .1-3.9 .5-.8 .7 4.5 .8 7.3z M519.2 336.7l-2.3 1-2.1-1.7-.4-2.1 3.6 .6z M508.2 281.5l1.3-2.3 5.5-1 .1 1.9-4.4 2.3z M488.1 280.2l2.4-.8 3.7-.4 1.6 .7-1.8 .8-4.4 .6z M511 326.1l.9-4.3 1-4.3 2-3.9 1.1-.5-1.3 5.2-2.1 5.5z M533.5 341.6l-.6-2.7 .1-6.7 .7-2.7 .5 3.7 .2 7z M477.9 324.7l3.5-2.6 6.5-2.8 .9 .6-7.4 4.3z M504.2 321.8l-1.4-1.1-.2-3.1 2.2-.2 .4 2.9z M516.5 327.7l-.9 1.2-1.4-.9 .3-1.2 .7-.6 1.2 .4z M546.1 311.5l-.7-3.5 .5-4.3 .8-.7 0 4.4z M510.8 282.7l.1-2.6 3.5-1.2 2 1.2-.8 2-2.6 1.7z M491.5 332l2-2.3 2.8-2.7 2.8-1.5-.3 1.1-1.7 1.9-2.8 2z M507.4 293.4l-1.8 2-2.4-1.5 .5-2.3 2.7-.8z M498.6 322.3l-.5 .4-4.2-.2-1.8-.4 1.8-.3 3.5 .2z M533.5 332.7l-3.1-2.8-2.7-3 .6-1.6 1.5-.5 2.7 4.4z M502.6 280.7l-.1-1.2 .1-1.8 .8-.5 .2 1-.3 1.6z M522.3 306.7l1.6-.4 3.3-.3 2.2 .1-.6 .4-1.7 .3-2.9 .1z M502.9 318.8l-1.2 .8-1-1.1 .8-1.3 1.5 .3z M502.7 313.1l.4-.8 1.8-.5 1.1 .7-.1 .6-.8 .9-1.8-.3z M507 293.1l-1.2 .7-6.2-2-2.5-1.4-.3-.7 3.3 .5 4.9 1.6z M501.4 350l2.7-2.8 3.5-2.1 .7 .8-3.6 3.4z M519.2 347.3l-1-.2-1.3-5.9 .1-2.3 1.2 2.1 1.7 5.6z M507.7 314.5l2.7-3 5.8-1.4-.2 2.1-3.9 1.7z M488 320.3l-1.3-.3-3.2-2.8-1.8-2.3 2.7 1.4 3.8 3z M492.2 328.8l.6-2.5 3.5-5.6 .3 1.9-2.5 4.9z M541.2 335.2l.6-2.3 1.4-3.3 .3 .7-1.1 3.2z M525.5 309.5l1.6-.7 3.4-.7 1.9 0 1.2 .1-3.2 .7-3.5 .7z M496.7 284l-1.5-1.4-2.3-2.7-1-2.2 .7 .1 1.6 1.8 1.3 2.1z M537.7 345.1l-1.3-.4-2.8-1.9-1.4-1.7 .5-.3 1.9 1.1 2.7 2.1z M524.7 300.9l-3-2.5-4.4-5.7 1.6 .3 3.9 4.4z M499.4 314.9l-1.7 .9-2.2-.5-.7-2.1 1.9-1 1.5 1.2z M537.1 307.8l.4-.5 2.8-.4 2.7-.1-1.2 .5-1.1 .7-3.4 .2z M547.1 335.4l.4-1.2 4.1-.8 3-.7-.6 .9-1.4 1.4-3.6 .6z M512.9 352.5l-2.1 .4-2.4-1.6 .1-1.2 .9-.8 2.1 1.4z M495.4 311.8l2.6-2.6 4.9-3.2 .5 1.3-5 4.1z M538 303.1l3.1-.9 3.7-.7 3 0-.1 .6-2.4 1-4.5 .3z M542.6 336.5l4.3-5.4 3.5-4.5 2.3-1.7 1.8-1.1-2.9 4-5.7 6.2z M526.2 221.2l-.8 .1-1.2-.6-1-1.1 1 0 .8-.3 1.1 1.1z M501.8 256.8l.9-1.4 2.7-.3 .3 .7-2 1z M519.3 249l.2-.8 1.4-1.6 1-.5 1-.4-1.3 1.7-1.3 1.1z M529.7 201.1l-3.6 .5-3.8-.6-.9-1.3 .8-1.3 5 .8z M476.4 213.3l-1.4-.3-1.4-1.9 .7-.4 1.5 1.2z M520.6 250.3l-2.2-.7-3.5-4.1-1.3-2.5 5.7 5z M531.2 248l1.5-1.8 3.1-1.2 0 1.2-2.2 1.7z M486.9 234.3l1-1.3 1.5-1.1 1.3-.1 1.2 .1-1.6 1.4-1.8 .8z M472.6 249.5l1.3-1.6 1.9-2.1 2.3-1.3 .5 .5-1.9 2.1-2.5 1.8z M488.2 230.5l-2.6 0-2.4-2.2 .8-1.8 3.5 1.4z M505.7 212.9l-1-1.7-.2-2.9 .4-3 1.3-.3 .3 3.4 .1 2.7z M491.5 248.7l-1.6-2.7-1.3-6.5 .8-.7 2.3 6.9z M483.3 217.8l-1.1-.2 .2-1.3 .9-.1 .7 .9z M498 230.3l2.1-2.3 2.8-2.2 2.4-.9-1.1 1.9-3.8 2.7z M511.3 263.9l-2.1-1.7-1.6-1.7-.3-.8 2.7 2.4z M517.2 254.9l-1-2.1 1.2-3.5 1.3-2 1.7-1-.8 3.7-.7 2.6z M526.1 242.5l-3.5-.1-4.4-.9-2.5-1.7 3.5 .2 3.8 1z M496.6 265.6l1.6-2 4.4-.8-.1 1.9-3.3 1.2z M548.5 260.8l-.6-1.7 .5-1.8 1.8-.8 .9 1.7-.6 2.2z M494.7 269.4l-1.3-1.8 .6-4.8 1.4 .9 .5 3.8z M502.5 214.6l-1-2.1 .7-3.3 1.6-1.2 1.4 1.4-1.3 3z M492.3 212.8l-4.4-2.6-5-4.2-.2-1.4 6 4.5z M531.5 254.2l-1 .1-.8-1.5-.4-1.3 .4-1.2 1.5 1.3 .5 1.7z M475.1 267.5l1.4-1.1 2.6-1 1.6-.6 1.2 0-2.3 1.2-3.1 1.4z M513.6 234.7l.6-1.1 .7-.8 .9 .4 .6 .5-.4 1.1-1.1 0z M507.5 216.6l.4-2 .6-2.1 .7-2 .2 .3-.1 1.6-1.1 3.2z M514.9 248.8l-2.3-.1-2.1-.6-2.1-1.6 1.5-.6 1.7-.5 2.8 1.5z M494.5 265.7l-.8-.6-.9-2.3-.2-1.3 .8 1.2 1.2 2.2z M489.9 269.4l-1.5-1.1-1.3-1.4 1.1 0 1.3 .8z M520.6 207.8l-2.2-1.4-1.5-2.3 .4-2.9 2.6 1.3 2.2 3.1z M517.3 202.7l.4-1.1 .8-.6 1.2 .1-.3 1.1-1 .8z M524.1 200.5l-1.6 1.1-3.4 .2-2.5-2.1 2.9-1.5 3.5 .6z M511.2 263.5l-.9 1.6-2.3-1.5-1-1.4-.2-1.9 2.6 .2 1.8 1.5z M482.7 208.8l-1.9 .1-2.2-.5-1.5-1 2 0 2.4 .3z M498.5 256.6l2-1.4 3.4-1.5 .5 .4-3.6 1.9z M500.6 249.8l-2.8-1.8-3.3-2.7-1.7-1.8-.8-1.3 3.2 2.5 3.6 3z M482.4 270.5l.1-1.8 1-2.7 .8 .1 .6 .6-1.3 3z M527 256.2l1.3-1.2 3.6-2.3 .6 .2 0 .6-4 2.3z M472.5 253.3l1.5-1.9 2.3-2.2 4-2.8 1 .9-3.8 3.3-3 2.1z M535.2 226.7l-2.8-.4-3.6-1.9 .3-.6 3.4 1.3z M515.9 242.7l-1.5-1.2 .1-1.5 1-1 1.3 .6 .1 1.5z M529 267.6l3-1.6 4.3-1.4-.7 .7-2.9 1.2z M490.8 263.2l-.4-.6 0-2.6 .1-2.3 .4 .2 .4 2 .1 3.2z M508 214.9l-1.1-.9 0-2.8 1.6-1.7 1.4 .4-.1 2.4-.5 2.2z M502.4 270.6l-.1 1.5-2.2-.3-.9-1.6 1.6-.6 1.5-.4z M540.6 271l-.4-.8 4.3-2.5 3.4-1.7-2.8 2.6-3.7 2.8z M487.5 231l-.6 .4-1-.4-.1-1 .9-.3 1 .6z M509.1 278.8l2.8-1.6 3.3-1.8 2.1-.5 .5 .2-2.6 1.4-2.7 1z M527.8 270.7l4-.8 5.7-.2 .1 .6-5.4 .4z M505.4 244l1.2-1.9 4.5-4 2.6-1.4 2.5-1.2-4.1 3.9-4.8 3.9z M497 234.3l-.8-3.1-.9-4.3 .4-2 .4-1.2 .7 3.4 .8 5.7z M473.8 210.7l1.9-2.8 1.4-1.8 1.8-1.5 1.6-.5-2.1 2.9-2.2 1.9z M493.3 213l.3-2.4 2.9-1.2 2.7-.1-1.6 2.4-1.9 1.8z M544.8 261.8l-6-2-5.1-2.6-1-1.4 6.4 2.8z M514.9 225.3l1.4-1.2 4.1-2.1 3-1.2-1.9 1.6-5.3 2.8z M524.1 224.9l-2-1.1 .3-2 .8-1.9 2.4-.4 1 2.2-.3 2.3z M486.4 258.5l0-2.3 2-2.4 .6 1-.7 2.1z M537.7 213.5l-6-.2-7.1-1.9-2.2-1.3 8.5 1.5z M522 213.8l1-1.9 4.5-4 5.1-4.3-.2 1.3-4.1 4-4.9 4.8z M510.9 207.2l-1.6-1.1 .9-3.3 1.9-2.9 .7 3.4 .2 3.7z M528.7 277.4l-.6-1.1 .3-1.1 1.1-.4 .4 1.8z M528.3 230.7l-1.5 .4-1.9-.6 .3-.7 2.3-.3z M485.7 227.1l1.1-1.1 2-1 .6 .2-.4 .6-2 1.3z M526.3 259.7l-.5-1.4 1-2.1 2-.9 .3 1.7 0 1.3-1.3 2z M511.5 222.7l.3-3.5 3.3-.9 1.2 2.2-1.6 2.2z M521.8 234.6l-1.8-4 .1-5.9 1.2-.1 .9 5.2z M536.5 264.7l-2.2-1.2-1.4-4.2 2-.7 1.8 3.6z M508.3 219.1l-1.6-.6-3-1.6-1.5-1.2 .5-.1 1.8 .9 2 1.2z M540.4 273.8l-1.1-2.3-1.2-3.8-.5-3.5 .6 .2 1.1 3 1 4.2z M523.2 239.2l.4-.5 4.7-1.2 3.9-.4 .5 .5-4.5 1.1-5.1 1.2z M542.8 251.6l-2-2.5-1.9-3.7 .2-1.1 3.2 4.7z M484.9 269.1l-.5-1.2 1.7-2.5 .7 .9-.8 2z M481.6 228.9l-1 .1-2-.2-.9-.6-.9-.6 2.2 .3 1.5 .6z M545.4 213.9l-1.3-3.1 0-3.6 2.2 0 .7 3.9z M487.5 270.3l-.6-2.8 .8-5.2 1.3-1.2 .7 1.9-.9 3.7z M548.2 210.3l-1.4 1.2-1.7-1.8-1.5-2.3 2.6-.3 2.7 1.4z M524.7 270l-.8-.3-2.1-2-.6-.9 .9 .3 2.1 2z M501.6 266.7l.3-1.2 3.2-3.6 2.4-.9 2.4-.8-3.9 3.7-3.8 3.6z M509.9 282.3l2.5-3.6 5.7-5.6 3-1.9-3.1 3.7-4.5 4.9z M470.9 257.1l4.9-1.3 4.7-.5 1.6 1-6.2 .8z M472.2 220.8l-1.2-1.1-1.6-1.8-.7-1.5 1.5 1.5 1.2 1.6z M511.4 277.7l-.6-1.9 2.2-4.1 .6 1.9-.7 2.5z M490.4 246.5l.9-1 2.5-2 1.1-.4-.7 .9-2.8 2.1z M516.1 251.2l-.3-2 .2-2.4 .6-1.7 .7 .1 .4 1.7-.5 3.2z M534.8 232l-.6-1.1 .4-1.7 1-2.5 1.3 .8 .1 2.2-1.1 1.6z M495.3 228.4l-2.7-1.1-5.8-6 .6-1 6.3 5.4z M491.6 250.9l.6-1 2.1-.6 1.3 .5-1.2 .9-1.5 .3z M500.7 236l.6-1 3.7-2.1 1.8-.1 .8 .2-2 1.5-3.7 1.6z M517.8 208.6l1.3-2 1.6-1.6 1 0-2.1 2.5z M520.4 204.9l1.1-.4 1.9-.1 .6 .6-2.7 .4z M501.6 268.8l-1.2 0-3.7-1.7-2.4-1.4 1.8 .2 3.8 1.9z M525.2 216.3l-2.4-.7-1.1-2.6 .4-1.7 2.2 2.6z M516.7 215.2l1.4-1.5 2.2-.9-.1 1-1.5 1.4z M518.6 216.7l-.7-1.4 0-2.5 1 .4 .5 2.1z M538.1 236.1l-.7 .3-2.5-.9 .3-.6 2.5 .5z M478.4 204.6l-1.2-.6-.8-2.1 .5-.6 .7 .3 .6 1.4z M526.3 214.2l-1.2 1.3-2-.7-1.6-1.8 2.1-1.3 2.1 .8z M505.6 235.4l1-1.1 3.8-2 3.2-1-1.4 1.2-1.2 1.2-3.3 1.2z M474.9 253.7l-.7-.3-1.4-3.9-.4-2.2 1.1 1.6 1.7 4.1z M545.1 206.1l.1-1.1 1.7-1.9 .3 .5-1.1 2.1z M472.5 214.5l-1.7-2 1.9-2 2.1 .9 .4 2.7z M507.4 227.1l-.7-2.2 0-6.8 1.1-3.9 .8 .2 .5 3.9-.7 6.9z M501.9 264.8l3.2-3.5 2.8-2.4 2.4-1.2-.9 1.9-3.6 2.8z M498.9 252.4l3.4-.7 4.2-.1-1 .5-2.9 .4z M544.6 221.1l-1.4-3.4-1.3-4.9 .3-2.7 1.4 2.6 1.3 5.5z M473.1 243.8l-2.7-5-2.6-7.5 1.2 .9 2.4 5.7z M517.4 259.1l-1.3-2.7-.8-2.3-.5-2.7 .6-.7 1.1 3.1 .9 2.9z M485.6 254.4l2.3-1.1 2.4-.5 2.1 0 .6 .8-1.9 1.3-2.6-.4z M517.5 233.4l3-.7 3.9-.1-.6 .6-3.3 .5z M491.3 277.7l-.4-.5 2.8-3.2 2.7-3.1-.5 1.5-1.6 2.2-2.2 2.8z M542.6 231l-3.2-1.2-2.6-4.1 1.7-1 2.6 2.9z M521.1 269.7l-.6-1.2 2.2-2.8 1.6-2 1.5-.2-1.2 3-1.9 2.6z M531.5 269.2l1.2-2 3.9-3.9 .5 .5-3.6 3.9z M543 200.8l-2.4 .9-4.7-.7 1-1.1 3.4-.1z M528 220.9l.5-3.6 .2-3.4 1.9-2.6 .9 .6-.3 3.1-1.4 4.1z M534.8 264.8l-1 .5-2.4-.7-1.6-1.8 .5-1.3 2.5 .7 1.7 1.5z M544.4 206.8l-2 .3-4-1.8 .9-.8 3.3 .9z M521.3 263.9l-1.8 .4-2.3-.8-.3-1 2.7 .5z M509.6 221l2.1-2.3 3.8-2-.2 1.4-2.6 1.8z M498.5 268.3l-2.4 .5-4.6-1.9-1.8-1.9 3.2 .2 2.8 1.3z M475.2 255.6l-1.4-.5 1.7-5.1 1.6-2 .3 2.7-1 3.7z M491.2 272.5l-.3-1 1.3-3.6 .9-.2 .2 1.1-1.2 3.7z M524.2 234l1.6-1.3 1.4-.8 2-1.2 .1 .4-1.7 1.3-1.6 .9z M503.1 224.8l-.2-.4 .8-2.1 .9-2 .1 .7-.3 1.4-.8 2z M529.1 214.7l.7-2.5 1.8-3.2 1.5-1.3-.6 2.1-1.5 2.7z M547.3 263.7l-2-2.8-2.1-3.2-1.3-3.5 .9 .1 2 2.4 1.4 3.8z M525.3 271.6l-3-1.6-3-2.2 0-.5 3.6 2.2z M494.2 203.6l-3.3 .2-6.7-1.6 2-.7 4.9 .5z M483.3 214.6l-.2 .6-3.3-.3-2.7-.6 1.3-.3 1.4-.4 2.4 .6z M529.6 228l-1.4-.7-1.5-1.5-1.5-1.7 .8 0 1.4 1 1.5 1.5z M493.6 255.5l-.7 0-2.1-1.5-1.5-1.3 .7 .1 1.2 .4 2.2 1.7z M518 263.7l-.8-1.2-.6-1.4 .1-1.9 1.2-.3 .9 1.8 .5 2.4z M532.9 220l1-1.4 5.5-2.3 4.8-1.4-.6 1.2-3.5 1.9-4.6 1.7z M511.5 221.6l-1.7-.9-3-4.1-3.1-4.1 1-.1 3 2.9 2 3.3z M480.6 261.1l-2.4 .5-4 0-3.3-.5 .6-.5 2.3-.6 5.1 .4z M480.7 234.9l5.6-1.5 8 .3 .4 .9-7.8 .9z M472.9 204.9l-.2-.9 2.1-4.9 1.3-2.2-.8 2.9-1.6 4.3z M500.9 243.7l-2.7-.7-2.5-.9-4.4-1.7 1.2 0 3 .7 4.6 1.8z M515 261.9l-1.6-1.7-1.7-3.5-1-3.3 2.1 3.2 1.6 2.9z M509 226.5l-1.6-.8-.1-6.6 1.5-1.6 1.3 2.2-.1 4.6z M471 224.7l.8-1.7 2.4-1.4 1.3-.3-.2 1.2-2.2 1.2z M494.7 240l-2.1-.6 .3-2.9 2.3-.3 1.4 2.5z M508.4 207.8l-1.1 .7-1.2-.8-.4-.7 .2-.7 1-.7 1.1 1z M536.6 236.1l-4-.9-6.5-4.2-.6-2 8.3 4.2z M477 242.8l-.7 .2-1.3-2.1-.4-1.5 .2-1 1.5 1.6 .8 1.8z M512.9 239.3l2.9-2.6 5.1-3.7 3.7-1.3-2.4 2.8-6.7 4.2z M488.4 278l0-.8 3.5-3.2 3.7-2.5-.1 1-2.6 2.8-3.4 2.4z M516.4 228l-.7-3.5-.5-3.5 .3-1.9 .7 1.7 .4 4.2z M490.8 225.6l.3-1.7 1.8-2.8 1.9-2.5-1.3 3-1.6 3.2z M505.6 253.8l.1-1.7 1.7 .4 1 1.2-1.6 1.3z M495.5 218.4l-2.4 1.4-3.1-.4-2.5-1.2 2-1.5 4.1-.2z M547.2 275l-3.1-1.4-3.7-2.8 .5-.3 3.9 2.2z M535.1 256.7l-1-.4-1.1-1.3 .7-.1 1.2 .8z M488.4 204.1l-1.4-1.5-.9-3 1.1 .2 1 2.1z M521.2 212.3l-1.8-.9-3-2.7-2.6-3.9 1.7 .3 2.7 2.7 2.8 2.9z M544.7 243.3l-.8-.2-.5-1.1 .1-.9 .9-.2 .9 1.7z M503.1 279.7l-.5-.9 .3-1.8 .6-1.9 .7 .4 .4 1.5-.8 1.8z M535.6 213.7l-1-.2-2.1-2.1-.4-1.1 1.2 .5 1.8 1.8z M497.3 224.6l-3.7-.2-3.9-.8-.2-.5 4.1 .6z M486.1 257.9l-.6 .8-3.3-2.7-3.4-2.9 1.4-.2 2.8 1.1 3.8 3.2z M499 253.3l-2.2-.2-2.2-.6-1.9-.9 2.1 .1 2.8 .5z M469 212.3l-.3-1 2.8-2.1 1.8-.4 2.1-.3-2 2.7-3.7 2.1z M540.9 254.4l1.5-3.1 3.9-4.3 1.7-.6-1 2.2-2.8 3.2z M500.5 206.4l.6-1.9 1.2-1.9 .8 .6-1.1 1.8z M517.8 238.2l.7-1.6 .5-1.5 1.6-.2 .4 1.1 0 1.3-1.5 .9z M472.7 229.4l1.8-.7 2.4-.6 3-.2-.3 .8-2.4 .8-3.4 .5z M518.5 257.5l3.4-1.8 7-.7-1.4 1.3-5.3 1.8z M482.7 242l2.9-.7 4-1 3.1 .4 1.4 .6-5 .7-5.6 .9z M515.8 241l-1.7-.3-2.6-2.4-1.5-2.2 .6-.7 2.3 1.6 2.4 2.3z M498 219.4l-1.6-.9 .3-4.4 1.5 .3 .6 3.5z M497.7 229.3l-4.5-.6-6.4-2.4 1.6-.3 5.2 1.3z M472.2 223l.3-1.4 2.3-.1 .7 .9-2.1 1z M486.8 239.2l-1.6-4.5-.8-4.9 .7-.2 1.7 5.5z M526.1 256.4l-1.2-3.9-.8-5.2 .9-2.2 1.2 2.6 .6 5z M540.5 258l-.7-1.1 2.4-3.2 2.2-1.5 .8 .8-.5 2.4-3 3z M527 264.5l-4.4-1.1-4.6-1.6-3.4-2 4.1 .9 4.1 1.7z M529 260.2l.6-1.5 1.3-.8 1.5-.3-.6 1.3-1.2 .8z M541.5 274.5l.9-1.6 2.4-1.8 1.8-.4-1.4 1.7-1.7 1.4z M500.3 208l-.2-.5 .7-2.3 .8-1.4 .1 1.2-.9 2.3z M504 274.1l3.3-1.3 6.7-.8 4.1 .7 1.2 1-5.9 .7-4 0z M504.3 281.3l-1.8-.3-4.1-2.1-2.5-2.3 .1-1 3.8 2.1 3.5 2.1z M479.4 212l2.9-1 4.2-.1 .9 .6-5.2 1z M488.9 237.4l-2.2-.6-8.1-5-3.9-3.5 5.3 2.5 6.5 4.4z M492.9 234.4l1.7-4.3 3.1-6.4 2.4-2.9-1.3 3.9-3.8 7.5z M525.4 234.8l-4.8-.1-5.2-1 .3-.9 5.4 .5z M540.8 265.4l.1-.9 1-2.8 .8-1.2-.3 1.5-1.1 2.6z M509 256l-.4-1.2 2.3-7.1 1.9-3.3 .8-.4-1.3 4.7-1.7 4.2z M533.9 244.6l1.1-2.5 2.1-2.7 .7 .3-2 3z M536.4 253.3l.6-1.3 5.3-2 1.9-.2-2 1.5-4.4 2.3z M539.2 255.5l.4-2 2.2-4.3 2-3.2-1.1 3.1-2.3 5.1z M483.3 214.6l-.2-.5 2.5-.6 1.6-.1 .1 .4-1.3 .7-2.1 .3z M500.8 260.6l-2 0-1.6-.9-1.1-1.8 1.9-.3 2.1 1.3z M524.2 250.7l-4.6-5.5-4.9-8.2 2.1 1.8 3.6 5z M516.2 202.7l1.8-2 4.9-1.2 3.2-.1-2.2 1.9-4.6 1.5z M500.1 225.9l-.9-.5-2.1-2.6-1.1-2.2 1.8 1.6 2.3 2.9z M497.5 214l-1.5-1.7-1.5-2.4 .3-2.5 1.1-1.2 2 2.4 .2 3.5z M490.4 274.4l-1.6 .3-2.2-1.2-1.2-1.7 1.9-.5 2.8 1.4z M528.1 204.8l-1.3-1.2 1.2-2.1 1.8-.6 1.4 .6-.3 1.9-1.2 1.7z M494.6 205.5l-.4-1.1 .9-1.5 1.5 .6 1.4 .7-1 1.6-1.6 1.2z M542.7 213.7l-.3-1.4 .8-3.6 .7-2.5 .7-.5-.2 3-.8 3.9z M515.6 219.4l1.4-2.3 3.5-4 4-3.9-.9 1.9-2.4 3.1-4 4.4z M511 272.8l1.5-.6 1.6 0 .7 .5-.4 .8-1.9-.2z M573.4 247l-1.3-1.2-2.3-3.7 0-1 1.1 1 2.3 3.4z M573.8 264.5l-2.4-.2-7.3-2.7-4-2.6 5.2 1.2 7.5 2.9z M576 284.6l-2.3 .4-3.3-.2-2.9-.3 2.5-.3 3.8-.1z M575.7 202.1l-1.7 .6-2.6-1.9-.5-1.3 1.2-.6 2.6 1.5z M577.5 259.5l-2.2 1-2.5 .7-1-2 .2-1.4 1.8-.3 2.4 .1z M555.3 264l-2.1-.3-1.8-.8-.3-1.4 .2-.8 1.5 .4 1.1 1.1z M570 296.6l.2-2.3 .1-2.7 .7-1.9 .2 .5 .1 1.5-.7 3.9z M582.8 274.2l-.1-1.1 2.6-2.2 1.3 0 .2 1.1-2.8 2.3z M566.3 208.3l-3.1-.2-2.2-2.8 1.3-2.7 2.8 .2 .8 2.5z M568 212.5l3.4-2.8 3.4-2.2 2.8-1.3-2.5 2.1-3.9 2.9z M584.2 300.9l-.7-1.1 .1-2 .8-.7 .9 .7-.4 2z M569.4 244.8l-.9-1.3-1.2-3.3-.9-3 1.3 2.5 1.1 2.8z M569.9 281l3.5-1.4 4.1-.7 .7 .8-4.5 1.1z M578.4 235.1l.4-3.3 3.1-6.9 2.1-1.8-.2 3-3.1 6.3z M551.1 202.7l-1.9-1-1.8-1.6 .3-1.4 1.5-.2 1.2 2.1z M574.9 296.8l.9-3.7 2.7-4.7 1 0-2.3 5z M549.9 212.3l.4-4.1 .7-3.9 1.6-5.3 .9 .2-.7 5.2-1.4 4.5z M577.9 287l-1.5 .9-3.4-.8 1.1-.9 2.5-.3z M559.4 280.3l-2.6-1.8-2.7-1.9-1.9-2.1 .2-.3 2.4 1.5 2.7 2.6z M574.9 281.3l3-1.7 3.4-1.8 2.4-.4 .2 .4-2.4 1.3-3 1.2z M555.8 298l0-1.3 1.1-.8 1 .7 .3 .8-.4 .7-.8 .2z M562.7 229.1l-1 .1-.7-2.9 .5-2 1.1 2.2 1.1 2.3z M554 235.1l-1.6-2.4-.4-2.5 .9-1.1 1.6 3.4z M551.2 252.1l.8-.9 1.4-.9 1.4 .3-.5 .9-.4 .8-1.6 .4z M567.3 282.8l2.3-1.9 3.8-1.9 .9 .4-4 2.2z M556.5 245.5l.9-1.2 2.2-1.2 .3 .4-2 1.6z M560.2 204.2l-.7-2.3 2.7-4.8 2.1 0-2 5.8z M568.8 300.6l.5-1.3 2.8-1 1.6 1.2-1.6 1.4-2.4 .7z M593.6 293.2l-1 .7-4.5-.5-3.1-.5 2.4-.6 3.8 .4z M556.4 208.8l-1.2-1.5-1.9-4.8 .4-.4 2.5 4.9z M558.5 270.1l-1.3-2.3-.6-3 1.2-.5 1.6 3.5z M597.1 280.8l-1.9-1-1.6-2.2 .3-.3 2.2 1.6z M572 202l1.5-1 3.1-1.3 1.9 .5 .9 .5-2.3 1.3-4.3 .8z M573.4 294.9l-.6-.9-.6-1.3 1.1-.6 1.3-.7 .5 1.7-.3 1.8z M577.6 210l.2-1.3 1.4-.2 1.5 .7-1 1.2-1.4 1.1z M567.2 260.8l-1.1-.9 0-2.6 0-2.7 1.2 1.7 .3 2.9z M561 298.8l-5.6-1.5-4.4-2.5-1-2.2 7 2.7z M588 276.4l-2.3-3.6-1.2-8.1 .8-2.5 2.9 10z M581.7 220l-.1-1.8 1.5-1.4 1.3-.1 .6 1.3-1.5 2z M570.3 273.2l-2.2-1.7-2.1-3-1.6-3 2.3 1.7 2.5 3.4z M564.8 217.4l1-.5 3-.2 2.2 .3 .2 .5-2.4 .5-2.8-.2z M569.6 275.6l-2-3.2-3.1-7.1 .3-1.3 1 .3 3.3 8.2z M585.4 301.5l.9-2 7.2-3.4-1.2 2.2-4.2 2.7z M560.4 281.3l-.7-1.2-.7-2.9-.5-4.2 1.1 2.2 .6 1.9 1 4.2z M584.9 259.3l-2.6-3.7-2.7-3.7-1.6-5.2 2.2 1.9 2 2.3 1.9 4.6z M587.6 302.2l2.7-1.9 3.2-1.5 1.6 0-1.5 1.2-3.2 1.6z M557.9 284.6l-2.8-1-2.2-2.5-1-2.3 1.4-.2 1.8 .5 2.9 2.9z M552.4 269.8l-.4-4.4 0-4.4 .5-4 .6 .5 .2 3.7-.1 5.9z M572 236l-2.4-1.6-2.9-4 1-.2 2.9 3.1z M582.3 303.8l-1.3 .5-2.7-.3 .1-1 2.6 .1z M554.9 281.4l-.9-3.1-.6-3.4 .5-.3 1 4z M567.4 223.9l.2-2.3 1.7-2.4 1.7 2.5-1.1 2.1z M582.2 266.3l5-4.6 4.9-3.2 1.6 .2-6.1 5.5z M570.1 293.5l-2.8-.2-3.2-.5-2.4-.6-2.2-.8 4.3 .4 4 .9z M555 231.6l.3-2.4 2.5-4.3 1.3-.2-2.4 5.3z M569.2 310.1l-1.4-.9-1.5-4.8 .8-.1 2.4 4.1z M563.3 223.8l.2-1.4 1.3-2.2 1.4-1.9-.3 1.8-1.5 2.5z M558.9 273.3l-1 .1-1.1-1.8-.1-.8 .8 .1 1.5 1.4z M571.9 206.8l.3-1 1.8-3 1.4-1.3 .5 0-.9 2-2.3 3z M584.5 212.7l-3.1-.6-2.8-.9-2.3-1.1 2.1 .2 3.1 1.1z M546.5 230.4l2.1-4 2.8-4.3 3.1-2.4-1.5 3.6-3.9 5.4z M553.7 263.7l1.6-2.2 2.4-2.2 1.8-.9-3.8 4.1z M550.8 232.7l1.4-.5 2.9-.1 1.7 .4-1.3 .5-3.6 .2z M581.9 304.6l-1.9-.1-4.5-2.1-1.1-1.1 1-.3 5.8 2.4z M564.5 279.4l-3.2-.5-3.2-4.2 1-.9 3.7 2.6z M566.3 206.2l-2.2-1.6-.6-4.1 1.7 .4 1.8 2.6z M577.7 219.4l-3.1-1.4-4.6-5.5 2.8 .6 3.8 3.1z M584.5 216.4l-2.1-1.2-3-1.7-.6-3.1 .8-2 3 3.1 1.7 2.8z M566.1 303l1.7-1.9 3.4 .3-.2 3.1-3.2 .7z M560.8 264.1l3.5-1.1 5.5-.8 .9 .9-2 .8-5 .9z M574 261.4l-2.8 .4-1.1-3.3 .6-2.2 2.4-.2 .9 2.7z M582.9 268.9l-4.6-1-3.9-1.2-2.1-1.2-1.7-1.3 4.1 .9 5.2 2z M585 300.8l-1.5-.9-1.5-2.4 .4-1.3 2.5 2.9z M569.1 235.4l.4-.7 1.9 .1 1.6 .4-1.2 .8-2.1-.1z M573.9 288.9l-1.6 .1-2.6-1.4-.1-.6 2.8 .8z M555 256.2l-.6-1.4 1.2-3.3 1.2-.6 .3 1.5-.9 2.3z M586.5 278.3l.4-1.1 .7-.9 1.6-.2 .2 1.6-.8 .9-1.1 .2z M553.4 210.2l1.5-2.7 1.2-2.4 2.2-1.6 1 .4-1.8 2.7-2 2.5z M589.8 256l-5.8-2.7-7.1-3.9 2.9 .7 5.2 2.4z M581.8 238.6l-1-1.8 .6-3 1.9-1.2 .6 2.2-.6 2.3z M565.9 262.2l-.4-1.7 3.7-.7 4 .1-.8 2.1-2.8 1.2-3 .3z M574.3 271.9l-2.5-1.8-3.8-4.2-.8-1.5 .9 0 3.5 4.1z M546.1 233.3l1.6-2.8 3.2-3.5 2.2-.9-1.5 2.5-2.8 3z M553.7 207.3l-.3-1.1 2.3-1.7 2.2-1-.1 1.4-.8 1.4-2.6 2.3z M579.2 310.4l-4.5-3.6-4-3.6-2.2-3.1 3.3 2.1 4.5 4.3z M555.7 262.3l-.9-.9-.6-1.4 .5-1.1 .9 .8 .4 1.4z M550 227.8l-.4-1.9-.4-3.2 .3-1.4 .4 1.7 .5 3.8z M565.2 268.4l1.8-3.4 1.3-2.8 1.6-1.5 .5-.1-1.2 2.6-1.9 2.7z M576.4 230.6l-1.9-.3-4-1.2-3.9-1.7 .4-.4 4 1.1 4.2 1.5z M557.7 301.1l-1.6-.3-2.3-2.6-.5-1.6 1.8 .9 1.4 1.6z M576.5 268.1l.7-.9 1.4-1.2 1.5-.9-.1 .4-.6 1-2.2 1.5z M562.7 292.5l-2.5-5-3-7.6-2.1-7.6 1.4 1.3 2.7 5.9 2 6.8z M549.4 304.8l1.9-3.9 3.4-4.2 .6 1.3-2.7 4.5z M564.5 243.9l2.6-1.4 2.9-1.5 4.1-1.3-1.9 1.4-1.8 1.1-4.3 1.7z M576.8 211.5l-.9-2.7-.2-3 .5-1.9 .7 .3 .9 1.3-.3 3.3z M579 205.4l.3-.9 1.4-1.1 1.8-.8-.1 .8-1.1 1.1-1.8 1.5z M574 288.1l-.3-.7 1.6-4.3 1.4-2.1 .9-.8-1 3.5-1.8 3.4z M550.7 229.6l-1.8-1.3 1.1-2.2 1.4-1.3 .8 1.8 .4 2.1z M591.3 276.1l-1-.4-2.3-4-.7-2.5 1.9 1.9 2 3.7z M580 265.9l2.2-1.2 3.2-.5 1.2 .4-3.7 .9z M559.7 292l-1.7-.2-.9-1.3 1-1.1 1.1 .9z M572.5 214.2l.4-.9 1.3-1.6 1.9-1.7-.6 1.2-.4 1.1-2 1.7z M546.4 255.9l1.3-1.1 4.6-.4 1.5 .8 1.3 .7-2.9 .7-3.2-.2z M552.7 254.8l-2.1 .5-3.1-.7-1.2-1.2 2.1-.1 2 .3z M593.9 291.9l-.6-3.6 .8-4.9 2.1-.7 .9 2.2-1 3.8z M554.1 299.7l-3.2-.3-3.2-2.5 1.8-1.5 2.9 1.5z M566.4 241.3l-2-2.4-2.6-4.7 1.2 .9 2.3 3.2z M577 257.9l-2.3-.1-2.9-2 1.4-1 3.1 1z M550.9 262.6l-.8-1.7-.5-3.4-.1-3 .6 1 .7 1.7 .6 4.5z M585 249.8l-.6-2.6 0-4.5 1-1.3 .9 1.3-.5 4.5z M585.8 251.7l-1.3-2.1-1.3-3.3 .3-1 1 1.4 .7 2.2z M568.7 222.7l-3.6-.7-3.9-3.9 1.3-1.1 3.9 2.6z M571.9 272.8l-2.5-1.8-1.5-2.1-1.6-3.3 2.2 .4 2.1 .9 .6 2.8z M571.9 273l2-1.4 3-.8-.2 .7-2.4 1.2z M570.3 227.8l-1.5-1.9-1.8-3.5 .9-.2 2.2 3.6z M569.8 278l-2.2 .3-2.7-1.4-.5-1.4 4.1 .8z M554.3 238.1l-.7 .4-1.5 .3-.6-.6-.4-.5 1.2-.2 1.2 .1z M588 280.3l-.1-2.5 .5-3.6 .6-3.1 .5-.6-.2 3.7-.6 4.8z M576.7 279.7l.8-1.5 3.1-3.6 2-1.7 .8-.3-2.3 2.8-2.7 3z M566.5 288.1l-2.2-.5-1.9-2.7 1-.7 2.2 1.8z M568.9 269l0-3.4 2.9-2.9 1.4 1.1-1.3 3.4z M563.1 285l-.4-5.9 .2-4.9 .5 0 .2 5z M563 306.1l-.7-1 .6-3.8 1.1-1.4 .9-.6-.3 2.7-.6 2.7z M587.3 266l-1.9-1.1-2-2-1.1-1.7 0-.9 2 1.6 2.7 2.7z M571.8 217.9l-4.9 .1-4.6-.7-1.5-.9 6.9 .3z M573.7 304.9l-1.1 .3-1.4 .1-1-1.3 1.2-.6 1-.5 1.3 .8z M560.4 276.4l1.4-1.6 1.9 .7 .8 1.5-2.4 .7z M568.8 249.7l-1 .6-6.9-.7-.3-.6 .8-.6 6.3 .6z M581.5 217.2l-2 1.5-3.1-.2-.7-2.3 1.6-1.6 2.6 .8z M578.1 268.8l1.4-2.1 1.7-2.4 1.9-2-.1 .7-1.3 2-2 2.2z M576.4 255l.2-1 1.6-.7 1.6 .4 .7 1.2-1.8 1-1.8 0z M568.5 277l.8-1.4 1.9-2 1.7-1.5-.7 1.3-2.5 2.6z M548.4 271.3l2.4-3 3.7-2.1 1.5 .6-4 3.1z M584 276.3l1.9-1.9 4.8-3.2 4.7-2.6-3.7 3.2-5.5 3.6z M567.4 251.2l-2.8-2.1-2.3-2.4-2.5-3.6 2.1 .6 2.1 1.7 2.8 3.1z M590 267.8l-6.4-2.3-7.3-3.8-1.4-1.9 8.9 4.4z M577.1 223.8l-.6-2 0-2.2 1-.9 1 .8-.2 2.9z M580.6 218.7l.3-3.2 1.1-3.9 .8-1.6 0 1.5-1 4.2z M579.6 267.4l-.5-.9 .3-2 .7-.8 .4 1.1-.2 1.8z M573.4 279.8l-1.2-3.3 2.2-2.8 2.4 1-.7 3z M583.7 279.3l-1.4 1-3-1.3-.3-1.3 1.3-.5 3.1 .3z M577.9 284.3l2.1-.7 2.1-.7 1 .6 .4 .5-1.4 .7-2.7 .2z M560 254.3l.1-1.3 3.5-4.6 3.4-4.1-1 2.5-1 2.3-3.8 4.9z M572.4 232.8l-6.6-.5-5.4-1.1-2.5-1.1 7.9 1.2z M548.6 269.9l.4-2.3 1.8-2.1 .9 1.6-.5 2.7z M550.6 270.4l1.1-2.2 2.3-2.3 1.9-.6-3.3 4.1z M580.1 263.4l2.3-1.6 3.8-2.5 4.4-1.8 .7 .5-5.2 2.8-3.5 1.8z M576.4 232l-1.9-2.7-2.4-4-1.8-4.2 1.1 .8 1.9 2.7 1.6 3.8z M548.2 211.2l-.9-.6 .5-2.3 .6-1.5 .7 1.4-.1 2.2z M584 216.5l-4.2 .3-4.3-.2-2.6-1.2-2.5-1.4 5.6 .4 5.2 .6z M547.7 298.9l1.5-3.5 5.5-6.8-.1 1.5-4 6.5z M572.5 274.3l.9-1.5 4-2.6-.4 1.6-2.9 2.6z M578.1 203.6l-.3-1.3 2.3-2.8 1.7 .6 .1 1.8-2.4 1.7z M564 275l-1.4-1.6 .8-2.7 1.5-.7 .8 1.4 .3 2.9z M572.9 263.5l-1.8-1.1 .9-3.1 1.9 .4 1.2 .9-.5 2.3z M554.8 208.9l-.8-1-.5-1.6-.1-1.9 .9 1.4 .7 1.9z M573.9 242.6l-1.1-.3-.8-2 .3-.9 .9 .4 1.4 2z M549.8 242.5l-.1-2.9 .7-3 1.1-.6-.5 4.1z M577.2 277.1l-.8-.2-.8-5.9 .6-3.7 .9 1.1 .9 2.7-.1 5.1z M589.1 292.6l-.9-1.1-1.6-2.7 0-1.9 .4-.3 1.4 1.4 1.1 3.9z M562.7 240l-2-2.1 2.1-2.3 2.9 .8-.9 2.6z M575.8 256.9l3.4-1.4 5.5-.8 3.5 .1-8.7 2z M567.7 290.7l.1-1.2 .9-.8 1.5 .3-.2 1.5-1.2 .9z M572.6 235.2l-.7-2-.4-2 .2-1.6 .7 .9 .4 2.9z M559.2 220.1l2.3-1.3 2.9-1 2.3 .7-.2 1.1-2.2 .7-2.1 .1z M573.2 313.6l-.6-5.3 .6-4.9 1-1.3-.2 5.7z M588.3 293.9l-.3-1.3 1.3-3.5 1.3-1.5-.4 2.6-.8 3z M563.6 221.9l-.8-2.1 .3-4.9 1-1.2 .7 1.4-.2 4.9z M554.1 235.5l1.6-4.6 5.3-6.2-.2 2.6-2.8 5.4z M571.8 305.5l.4-2.5 4.3-5.2 .7 1.2-3.1 4.9z M551.2 252.4l.4-1.1 2.3-1.5 1.5-.9 1.2-.2-1.8 1.9-2 1.1z M462.3 208.6l0-1.2 1.1-1.7 .5 .9-.4 1.7z M460.6 212.2l.7-2 1.2-3 1.9-3.1 .2 .8-1.5 3.1-1.6 3.5z M453.6 205.9l.8-2 2.3-3.4 1.8-1.8-1.6 2.9-1.5 2.2z M454.5 207.7l-.5-1.8 0-3.2 .6-2.4 .7-.6-.1 3.4-.2 2z M467.6 204.1l-1.6-.4-3.5-1.7-1.7-1.3-1.1-1.1 3.3 1.4 3 1.9z M459.8 210.9l-.8-1.7-1-6.1 .8 1.3 1.3 4.8z M458.2 202.4l-.8-1.1 .2-3.5 .5-1 .9 0-.4 3.6z M456.4 205l-1.4-1.1-.5-2.4 1-1.5 1.3-.5 1.3 1.7-.1 2.8z M455.1 200.7l-1.2-.3-1.7-1.5 .5-.2 1.9 1z M456.2 208l-3.3-2-4.7-3.4 1.4 .1 3.8 2.7z M464.3 209.5l-2.5-2.1-3-3.8 1.4 .8 2.2 2.2z M440.3 201.7l-.7-1.7 .4-1.7 1.4-2 .6 2.3-.3 1.9z M426.1 200.7l2.5-2.2 2.6-1.8 3.7-2-3.2 2.6-2.8 2z M455.3 206.6l-1.1-2.3-1.2-3.6-.6-3.1 1.4 3.3 1.4 3.9z M457.4 207.7l-.9-3.4-.7-3.1-.1-2.5 .5-.1 .6 2.7 .7 3.7z M450.9 202.2l-1.1-.3-2.5-2.4-.2-.9 1.1 .5 2 1.8z M450.3 199.5l.1-.5 2.1-.4 1.7-.2-1.5 .7-1.8 .7z M458.9 206.3l-1.5-2.4-.5-3.4 1.4-.3 1.4 3.6z M451.4 198.3l-1.1 .4-4.6 .2-4-.4 .3-.5 4.1-.2 5.2 0z M461.7 210.6l-1.1-.1-3.1-3.8-.2-1.2 1.5 1.2 2.8 2.8z M467.2 209.7l-1.8-2.2-1.6-3-.8-2.4 1.4 1.3 2.2 3.9z M452.9 203.4l.9-.6 2.1-1 2.3-.8-.9 .7-1.1 .7-2.3 .8z M439.8 200.2l-.4 .3-2.4-.5-2-1 .2-.5 2.1 .3 2.2 .9z M460.7 210l1.6-2.2 3.3-1.4 .8 .7-3.1 2.5z M423.3 198.8l-.3 .9-3-1.2-1.9-1.5 1.5-.2 1.3-.3 1.7 1.4z M450.2 200.2l1.2-1.6 4.2-3.6-.2 1.2-3.5 3.2z M456.2 200l-2.2 .3-5.2-.7-2.8-.7 .3-.3 2.7 0 3.6 .6z M451.5 206.6l.3-1.3 1.1-1.1 1.4-.5 .7 .7-.8 1.4-1.7 1.6z M444.4 200.5l-.3-1.6 2.6-.2 2 .3-.7 1.8-2.5 .4z M463 201.4l-.3-.8 1-1.9 .6-.1 0 .8-.5 1.6z M445.4 203.8l.1-.8 1.7-2.6 1.4-1.5 .5-.2-1.2 2.2-1.7 2.1z M668 316l4-4 4 12 12 16 4 8-4 0-8-12-8-10z M666 306l8-2 10 8 10 12 4 12-8 12-6 6-2-6 8-10-2-10-8-10-8-6z M635.2 408.8l1.2-2.2 2.1-1.1 .6 .7-1.4 1.7z M703.3 404.6l-.3-2.1 2.9-2.2 2.1-.2-.2 2.1-2.4 2.1z M687.2 401l-1.5-.4-.1-1.7 1.1-.8 1.4-.6 1.1 1.4-1.1 1.2z M632.8 392.5l-1.2-.9-1-1.3 .8-1.1 .8-.3 1.1 .6-.2 1.5z M641.9 382.2l-3 .2-2.8-2.6 1.4-2.3 3.5 1.9z M662 387l2.4-1.4 4.8-.5 1.2 1-6 1.6z M649.4 398.8l-5.1-.4-8.5-3.4 2.7-.4 6.7 1.5z M655.6 400.5l-1.5 .1-3.2-4-1.1-3.6 3.3 2.8 3 3.3z M625.3 401.5l4.9-2 5.7-.9 2.9 .4-7.8 1.8z M653.3 389.6l-3.1-2-4.5-3.5-.1-.8 1.4 .8 4.1 3z M667 407.9l.2-1.4 1.9-2 1.4-1.1 .7 .1-.7 1.7-2 1.8z M654 392.8l1.2-1.3 1.1-1.4 1.7-.2 .7 .5-1.4 1.5-1.9 .8z M687.6 413.3l-.8 1.5-3.3 0-.8-1.6 .1-.9 1.2-1.3 2.8 .8z M681.9 402.6l1.9-.5 2.8 .1 0 .8-3.1 .3z M678.8 403.6l-2.7-.1-3.5-1.2 .8-1.1 3.1 .9z M638.3 382.7l-.6-.3-.3-3.8 .4-1.4 .6 1.3 .3 3.5z M694.8 404.3l-2.5-1.5-1.9-1.9-1.2-2.1-.1-1.9 2.9 2 1.6 2.8z M705.3 411.2l.9-.8 1.9-1.3 2.8-1.7 .3 .3-2.5 1.9-3 1.9z M648.5 408.2l-.7-1.8-.4-4.8 .3-2.8 .6 .8 .6 1.9 0 3.9z M632.1 406l-1.3-4.6-.8-4.8-.1-3.4 .4-2 1.5 4.2 .3 6.2z M657.3 414.2l3.7-.9 8.5-.2-.6 1.2-7.3 .2z M643.9 393.4l4.1-1.7 5.6-1.2 2.6 .2-8.4 2.6z M696.1 393.4l-1.7-.5-.2-2.7 1.1-1.2 1.9 .2 .2 3z M634 406.8l-1-1-1.9-4.5-.9-2.9 1.3 1.3 2.2 5.4z M660.6 415.5l-1.1-3.7-.1-4.4 1.4-.4 .6 4.9z M637.3 406l-1.6 1.1-3.6-.4 .1-2.1 4-.4z M691.2 407.3l-3.4-2-3-2.1-3.9-3.8 1.9 .1 3.4 2.2 3.5 3z M693.8 397l-.7-1.2 1.3-1.1 1.3 .8-.2 1.2-.8 1.5z M698.7 410.4l-1.8 0-3.4-2.3-.4-1.3 4 2.1z M637.4 412.6l-.9 .8-2.5-1.5-.1-1 1-.3 1.9 .9z M635.7 383.9l-2.2 .3-2.3-.5-3.1-1.6 1.7-1 2.2-.5 2.9 1.5z M677.1 409.2l5.8-.8 8.4 .2-.6 1-7.9 .3z M715.3 404.7l-4 .1-6.3-1.4 0-1 6.3 .9z M703.3 418.4l-1-.9-1.6-5.4-.6-5.5 .9-1.2 1.8 6.5 1.5 6.1z M636.2 413.3l-.5-1.4 1.3-2.1 1.7-.3 1.3 .3-.9 1.9-1.4 1.5z M706.6 398.3l-.7-1.5 1.6-1.3 1.1-.2 .3 1.1-.6 2.2z M687.1 399.2l-2.3 .6-2.3-.4-.2-.9 2.7-.3z M693.5 403.4l-1.6 .7-4.3-3-.5-2.1 2.3 0 4 2.6z M675.1 391.2l.3-2.3 .7-2.4 1.5-1.9 1.4-.3-.6 3.1-1.7 3.7z M662 390.8l-1.3 1.4-2.1-.1-2.7-.6 0-2.3 2.7-1.1 2.2 1.2z M388 444l8 0 0 10-8 0z M433.8 525.3l-1.4-1.3-.2-2.5 .9-1.2 1.2 1 .1 2z M426.2 506.6l-.8-.2-.7-1.6-.3-.8 0-1 1 1.4 .8 1.3z M411.2 485.7l-3.7-1-5.2-2.9 .8-1 5.4 2.5z M428.4 533.3l1.6-3.5 3.6-4.5-.3 1.5-2.1 3.4z M437.5 528.4l-.2-1 1.4-2.9 1.8-3-.9 3.3-1.2 3.4z M417.8 505.5l-1.8 .8-1.3-1.3 .4-1.6 2.4 0z M427.4 509.6l-2.7 .2-1.9-1.6 .2-1.9 2.9 .9z M410.3 486.8l-1.5-.9-1.5-1.6 .1-.7 2 1.7z M419.4 507.1l1.4-1.6 5.6-2.2-.2 1-4.4 2.4z M418.1 513.8l-1.8 2.3-2.6-1.6 .9-2.1 1.8-.3z M429 526.1l-4.1-2.1-6-4.3 .8-.7 5.5 3.9z M424.1 529.3l2.2-1.4 1.6-1 1.4-.6 .2 .2-1.1 .9-2.3 1.1z M408.3 496.6l-1.5-1.8-.9-2.4 1.9-.4 1.9 0 .5 2.9z M423.1 530l-1-1.6-1.3-5-.2-2.1 .8 1 1.9 6.4z M431.3 514.5l-1.3 .2-1.4-.3-1.3-.8 1.2-.5 1.7 .5z M417.9 506.9l-2 .2-3.4-1.7-.4-1.2 4.3 1.3z M428.9 529.9l-2.2 0-6.2-1.2 0-.7 6 1.1z M424.3 517.2l-.4-.4-.4-1.9-.1-2.1 .3-.8 .7 2.4 0 2.1z M409.5 494.3l-1.1-.1-2.4-.7-1.6-.8-1-.6 2.6 .6 3.2 1.1z M421 501.2l.6-1.7 1.8-2.8 1.2-1 .2 .3-.5 1.3-1.6 2.1z M424.9 502.5l-1 1.2-2.3-.2-1.5-.6-.6-1.3 2-.9 2.6 .4z M425.3 520.1l-1-1.1-1.9-5.3 .2-1.2 1.1 1.6 1.6 4.4z M427.7 535.6l.3-3 2.3-2 1.6 .2-1.5 3.3z M417.6 494.7l-1.5 1.1-2.3-.9 .1-1 2.1-.3z M427.6 511l-.9-1-1.8-3.3 .4-.3 1.7 3.1z M425.4 533.9l-.5-.3-.3-1.9-.2-2 .5 .4 .5 1.5 .3 1.8z M403.6 494.2l-.6-2.2 2-2.5 1.4-.8 .9 .5 .1 1.7-1.6 2.7z M422.5 501.4l.1-.8 .7-.4 1.2-.1-.1 1.1-.4 .9-.9 .1z M404.8 491.8l.2-1 1.6-1.4 1.5-1.5-.1 .6-.6 1.2-1.4 1.1z M430.6 525.9l-1.6 1-3.7-.6-.1-1.4 4-.3z M409.1 515.2l2.8-1.2 6.3-1.2-.6 1-5.6 1.5z M421 498.7l-1.7-1.3-1.9-3-.8-2.5 2.1 2.4 1.4 2.1z M407.7 503.6l-.4-1.9 0-3.5 .5-1.5 .4 1.7 0 3.2z M411.6 514.6l.7-.7 1.1 .2 .4 .8-1.5 .6z M431.9 508.5l-.3 .3-3.1-.5-1.6-.5-.8-.4 2.2 0 3.6 .7z M433.6 519.4l-2.7-1.1-2.8-2-.6-2.3 2.3 .2 2.6 2.7z M407.5 491.3l-.4 .8-2.4 .1-2-.8-.1-1 2.4-.1 1.9 .4z M421.7 499.7l-.3-3.8 2-3.9 1.8-.5-1.5 4.5z M431.2 530.7l-.9 .9-1.7-.6-.8-1.1-.4-1.6 2.1 .1 2.2 .8z M412.6 488.2l-3.4 1.3-4.6-.4 .1-2.1 4.2 .2z M490 398l12-2 4 10-10 4z M510 394l6-2 2 10-6 2z M474.6 489.3l-1.3-.8-.8-4.3 1-.6 1.7 4.4z M478.5 477.9l-1.4-.2-2.9-1.5 .6-.2 2.3 1z M509.4 463.8l-2.9 .4-3.7-.2-3.7-1 .3-1 3.7 0 3.2 .7z M531.6 484.5l-1 .2-2-.9-1.6-1.4 1.4 0 1.1-.2 1.5 1.3z M524.7 454.9l-1.1-.2-.3-1 0-1 1.1 0 .6 1.1z M526.5 488.1l-1.9-.3-1.9-1.8 .8-1.1 1.1 0 1.5 1.2z M495.6 490.9l.1-1.9 1.5-3.7 1.8-2 1.1-.2-1.5 3.4-1.4 2.4z M478.5 466l.7-1 4.1-2 2.5-.2-.5 .8-1.3 1.3-4 1.1z M484.3 489.3l-2.1-.3-4.7-2.2-1.5-1.7 2.8 .7 3.9 2z M461.5 466.4l-.5 .5-2.3-1.7-.7-1.2-.3-1 1.9 .9 1.9 1.7z M509.9 471.1l-3.1-3.6-2.3-4.3 .9-.3 3.2 4.1z M527.9 476l-.4-1.4 .8-1.7 1.4 .5 .8 1.1-1.2 1.5z M522.3 464.5l-.9-1.4-.7-2 .8-1.6 1.1-.4 .9 1.9-.3 2.4z M485 482.3l-.1-1.7 .8-3.2 .8 .5-.4 3.4z M472 467.6l-1.8 2-2.6-2.4 .1-2 3.9-.4z M477.5 469.3l1.5-.5 2.7-.1 1.7 0-1.4 .5-3.2 .2z M466.6 484.6l-.9-2.2 .4-2 1.1-.4 .8 2.8z M523.8 469.4l-.7-.9 .8-5.6 1.1-4.1 .8-.1-.2 4.4-1 3.8z M487.9 464.4l-.5-2.9 2.4-3.2 2.3 .5-1.6 4.3z M451.5 470.6l.1-1.7 .9-2.1 .8-.1-.9 2.4z M477.6 489.5l-1.5-.4 .2-1.6 1-.7 1.9-.2 .3 2.4z M456 463.7l-2.1 0-5.9-1.6-.6-.8 1.4-.1 4.9 1.4z M495.6 484.9l-1.1 .4-1.3-.3-.1-1.2 1-.5 1.8 0z M468.8 471.5l-2.2-.2-1.6-.8-1.2-1.7 2-.3 2 1.2z M523 455.2l-.7-1.3-.2-3 .3-2.3 .7-.2 .7 2.2 0 3.5z M497.7 484.1l-1.6-2.5-.3-4.5 1.6-.6 1.4 .9 .4 4.2z M453.8 481.7l-1.2-.8-1-1.9-.2-1.5 .8 .1 .8 1 .6 1.3z M458.5 464.6l.2-.8 2.1-2.6 1.6-1.7 .2 .3-1.3 1.9-1.8 2.1z M490.6 473.5l.2-1.4 .8-2.1 1.1-.3 .1 1.2-1.1 1.8z M467.6 486.1l-1.9 .1-1-2.4-.4-2.3 2.2 .4 1.8 2.4z M480.3 484.9l0-2 2.4-6.9 3-6.7 .3 1.6-1.3 5.2-3.3 8z M490 466.3l-1.8-1-2.3-2.4-.8-1.3 1.3 .6 2.6 2.3z M522.8 483.8l1.9-5.5 3.2-6.1 1.4-.3-3.4 6.7z M488.5 467.5l-.6 .7-2.4-1.1-.6-1.8 .5-.9 2 .2 1 1.9z M465.8 476.6l5-1.1 6.7-.1-1.9 1-4.7 .7z M507.1 458.7l2.4-3.3 3-3.3 3.3-2.3-1.7 3.1-4.5 4.5z M497.1 466.2l-2.5-.7-.9-2.3 .8-1.2 2.3 1.6z M512.6 489.1l.7-1.7 6.2-5.6 4.7-3.5-4.5 4.9-5.4 5.4z M473.6 481.4l-2.2-.2-3.5-1.1-1.5-1.1 2.1 .3 3.3 1z M467 484.1l.8-1.4 2.7-1.3 2.3-.1-1 1.9-3 .9z M527.1 455.4l.3-.8 1.2-.2 1.4 .5-.7 1.2-1.7 0z M472.2 482.5l3.5-.9 3.7-.7 4 .1-3.6 1.2-4.8 .7z M466.2 467.5l-1.1 .8-1.4-1.2 .3-.9 1.7 .2z M511.6 481.6l3.5-2.7 4.3-2.3 4.2-1.8-4 2.8-4.5 2.9z M491.1 483.4l-2.4-.8-.9-3.6 2.3-.9 2.3 3z M482.4 480.5l1.6-2.6 2.7-2.9 1 0-3 3.6z M465.7 464.6l1.8-1 2.2-.1 0 .5-1.7 .5z M503.2 482.7l5.4-1.9 5.5-1.7 5.5-.6 0 1-5.3 1.7-6.5 1.3z M490.6 481l-4-.5-4.6-1.8-2.8-1.5 2.6 .1 5.4 1.7z M453.1 464l-.9-1.4 .5-1.9 1.6 0 1.2 1-1 1.6z M471.7 476.5l.1-1.6 1.1-1.9 .4 1-.4 1.3z M483.1 485.3l-.8-.5-.8-2.5 .1-1 .8 1.1 .6 1.6z M482.4 467.1l.2-2.1 1.2-2.9 .7-1.1-1.1 4.1z M517.8 462.2l-.6-1.3 1.1-2.2 1.8-.5 2.5-.5-2 2.9-1.4 1.9z M508.2 493.1l-2.4-2.8-1.8-5.5 0-2.4 1.6 1.6 1.9 4.8z M525.2 453.7l1.7-1.2 3-1.4 3-.8 1.5 .1-4.2 1.9-2.8 1z M460.4 485.6l-.2 .4-1.9-1.8-.8-1.4 .5 0 1.1 .6 1.6 1.9z M480 468.8l0-.9 1.2-2.1 1.3-1.8-.4 1.7-1.3 2.2z M504.8 485.2l-1 .4-1.9-.9-1-1.6 .6-1 1.9 .3 1.4 1.6z M511.3 464.6l-.7-1.6 .4-5.4 .9-.3 .2 5.6z M475.9 477.7l1.7-3.4 2.8-3.6 2.8-2.5-1.5 3.3-3.4 5.1z M514.7 473.2l-1.4-.5-.6-.9-.7-1.6 1.4-.8 1.3 1.1 .2 1.3z M517.7 470.4l-.7 1.2-2.5 .4-1.4-1.2-.7-1.4 2.5-.2 2.4-.1z M468.8 469.2l1.2-.4 2.6 0 0 .5-2.7 .3z M467.8 479.9l-2.4 1.2-3.6-.7 0-2.7 4 .3z M461 485.8l1.7-.5 1.8-.3 2.3-.4-.1 .4-2.1 .4-2.7 .6z M523.2 465.6l-1.5 .3-1.4-.1-.6-.4 .5-.3 1.9 0z M512.7 464.8l-1.4-.7-.7-1.3 .7-.4 1.2 .8z M508.7 463.1l1.7-1.5 6.2-2.4 .8 1.3-6.5 2.7z M473.6 470.4l-1.5 .1-4.3-1-1.8-1.5 2.3-.4 4.2 1.8z M516.7 411.4l-.2-.6 1.8-2.3 2.1-2.2 .3 .8-1.6 2.3-1.7 2.4z M456.8 418.2l-1.1-1.6 .8-1.6 1.2-1.1 1 1.3-.2 2.1z M522.3 407.9l-.3 .5-3.3-.4-1.3-.5-.4-.4 1.7-.2 2.6 .5z M458.2 410.2l-.5-.5-.4-2.6 .1-1.2 .2 .1 .5 .8 .1 2.1z M468.6 405.2l-1.1-.3-3.2-6.1-.1-1.7 1.1 .1 2.9 6.1z M414.6 396.7l-1.4-.2-1.9-.6-.7-.5 .7-.1 2.1 .6z M498.6 404l-1.2 .5-2.2-.4-.4-.6 .6-.5 1.8 .3z M428.5 414.2l.9-2.4 2-1.8 1.5 .5-2 3.2z M458.9 395l-3.2 .7-3.4-.8 .3-2.1 4-.1z M513 419.5l2.2-4.8 3.3-5.7 .8 .6-3.2 5.5z M481.7 408.6l-1.7-.1-1.9-1.3 .4-1.2 1.1-.4 1.2 1.4z M443.4 417.9l-.6-.9 2.7-4.6 1.8-2.1 .3 1.6-3 5.1z M496.2 410.4l-2.3 0-5-1.3-2-1.3-1.7-1.3 4.2 .8 4.8 1.7z M432.2 404.1l-3.3-2.1-5.7-6 1.9 .3 5.3 4.7z M425.1 416l0-.7 .9-1.1 1.6-.5-.1 1-.4 1-1.5 1z M492.5 408.2l1.1-2.1 2.2-1.4 1.2 .6-2.3 1.8z M490.2 413.1l2.4-2.7 3.5-2.9 2.4-.6-1.3 2.1-4.1 3.1z M454.9 397.8l-1.6-.5-2.2-1.5-2-1.7 .2-.8 2.4 1 3.2 2.6z M494.5 403.2l.6-.8 2-1.6 2.3-1.6-.6 .9-1.3 1.3-2 1.3z M414.1 414.5l.9-1.4 1.8-1.5 1-.3-.6 1-1.5 1.5z M498.1 398.7l-1.1-.4-.6-1.1 .6-1.1 1.1 .1 .8 .6-.1 1.1z M418.3 405.1l-2-.2-2-1.7 .3-1.1 3.5 1z M524.9 412.4l-1.5 .8-1.3-.6-.4-.9 .7-1 1.5 .3z M462.4 397l.3-1 1.9-1.1 1 .3-2.1 1.5z M443.2 404.3l-.3-.6 1.3-2.2 .6 .2 .3 .6-1.2 2z M462.6 406.1l-1.1 1.3-2.4-.9 .9-2.1 2.1 .1z M430.7 417.8l3.7-1.4 5.6-.8 .8 .5-5.5 1.2z M506.5 404.2l.9-1 .9-.5 1.1 .2 .7 1.1-1.2 .9-1.5 .5z M471.1 413.4l-1.2-2-.4-2.8-.2-3.2 1.2-.7 1 3.3 .1 3.1z M529.8 414.1l-1.7-.4-4.1-3.4-1.9-2.3 2.8 1.4 4.3 3.2z M498.4 398.2l-.1 1.2-4.1-4.4-2.9-4.1 1.4 .2 3.1 3.3 3.3 3.4z M488.9 399.5l-1.3-.9-.2-1.5 .6-1 1.3 0 .7 2.2z M452.4 399.7l1.7-.7 6.1-.6 .7 1.1-1.4 .9-6.3 .2z M429.3 414.6l-.8 .2-.6-.6-.2-1.1 1-.5 1 .4 .2 1z M487.8 396.9l.3-.6 .8-.5 1.2-.2 .4 .8-1 .9-1.1-.2z M416.4 418l1.4-1.5 2.8-.2 .4 1.9-2.8 .9z M479.8 399.8l.3-1 1.3-.7 1.5 .3-.5 1.1-.6 .7-1 0z M520.5 408.2l.2-4.7 .5-6.3 .8-.6 .3 1.7-.8 5.4z M519 402.6l-.1-.6 1.7-3 2-3.2-.6 2-.4 1.6-2 3.3z M433.7 410l-.8-1.4-.6-2.4 .3-1.8 .6-.1 .6 1.8 .4 2.5z M419.7 416.6l-.3-.9 .4-1.7 1-1.3 .3 1-.1 1-.6 1.6z M438.4 396.1l2.7-1 7.6-.8-1.7 .9-5.3 1z M507.2 413.8l-1.1 .5-1.2-.3-.1-.8 1.4-.1z M511.1 417.6l-3-1.5-3.3-2.1-4.1-3-.9-1.5 5.5 3.5 5.3 3.4z M434.3 407.3l.7-2.8 1.9-2.3 .8 .7-1.2 2.5z M490.2 402l-2.3 .6-2-1.3 .9-2.1 2.5 .5z M441.1 414.8l-.4-2.9 1.7-3.8 1.7 .1-.9 4.6z M506.4 413.6l1.9-.5 3.2-.4 1.5 .2-1.8 .5-3.5 .5z M454.9 410.7l-1-.4-2.3-5.3-.9-3.9 2.4 4.1 2.6 5z M433.2 407.6l-.1-2.4 .4-2.9 1-1.8 .6 1.6-.8 3.9z M593 472l-.2-2.6 3.2-4 .4 2.4-1.1 2.7z M591.8 421l2.2-4.4 3.1-4.2 .8 .1-2.8 4.4z M590.6 452.8l-.8-1.6-.5-2.5 .9-1 .7 1.5 .4 2.3z M612.5 423.5l.1-.7 1.4-2.1 1.1-1.3 .4-.1-.6 1.7-1.8 2.3z M583.1 504.3l-1.2-1.5-.2-3.3 2-.4 1.8 1-.7 3.1z M584.9 494.6l-2.9 .1-2.7-1.3-2.1-1.8 2.7 .1 3.3 .8z M605 420.6l-1.4-2.8 .1-4 1.6 .9 1 3z M592.6 466.3l.5-1.5 2.2-.4 .5 1.5-.5 1.3-1.7 .2z M583.2 504.7l.3-1.8 5.4-3.5 2-.2-.8 1.8-4.8 3.6z M601.9 445.4l.5-1.8 2.4-1.2 .6 .8-1.7 2.2z M604.5 427.1l-1.9-1.5-2.4-3.1-1.5-2.3 2.1 2.1 2.7 2.9z M579.7 499l-.7 0-2.4-6.2-.3-2.6 .3-.3 1.5 2.5 1.3 4.5z M594.2 440.6l.5-.6 3-1 2.6-.9 .2 .4-2.1 1.1-2.8 .8z M607.6 454.7l-1.8-.2-1.2-1.4 .4-.9 1.6 .9z M594.4 429.9l2.1-1.9 3.3-2.2 .6 .2-3.5 2.5z M596.6 429.4l3.6-3.1 4.1-1.9 2.6 .2-6.3 4.4z M606.8 445.9l-1.1-1.1-1.8-3.7-1.2-3.4 .7-.1 1.7 3.4 1.1 2.6z M584.3 465.1l3-1.3 4-1.4 3.6-.8-.9 .8-2.7 1.1-4.6 1.3z M610 469.5l-3.6-2-6.2-5.9 1.9 0 6.2 4.7z M600.6 481.2l1.3-2 2.3-1.9 .7 .4-2.2 2.4z M599.2 414.2l-2.2 .4-3.5-1.8-.9-1.5 2 0 2.7 1.1z M599.3 473.8l2.1-2.9 5.6-3.1 .6 1.2-4.6 3.6z M599.5 483.2l-.7-1.1-.6-1.8-.1-2.1 .8 .7 .9 .9 .1 2.2z M595.7 457.1l.4-2.9 2.9-1.7 1.4 2.7-1.8 2.3z M582.4 501.6l-2.4-3.3 0-4.3 2.1-.3 1.9 4.2z M596.2 425.9l.1-2 1-2.9 .5 .7-.6 2.4z M586.3 493l-3.4-2.9-4.3-5.1-.5-1.8 1.5 .2 4 5.3z M589 488.1l.8-2.4 3.5 .9 .7 2.3-3.4 .4z M590.7 471.6l-1.6-.5-1.4-2.6 .8-.9 1.1 .4 1.2 1.9z M603.9 490.9l-6.4-1.3-7.2-2.3 0-1 7.7 2.2z M592.5 465.9l.3-2 1.5-3.6 1.5-1.9-.7 2.9-1.3 2.7z M601.3 422.1l5.7-1.3 6.8-.3 .1 .9-7.3 1.2z M604.1 457.3l-.2-3.4 3.2-1.3 2.3 1.3-1.9 3.7z M594.8 399.8l-2.2 .4-1.9-.3-.6-.7 3-.2z M593.8 499.7l-1-.9-.8-2 .4-3.2 2-.2 .9 3.1 .2 3.1z M589.5 410.2l.5-1.7 2.6-3.3 .4 .6-2.1 3.2z M599.2 486.8l.6-3.4 2.6-5.6 2.3-3.9 1.3-.8-2.1 5.4-2.2 4.4z M578.2 507.8l-.9-.7-.1-2.6 .5-.1 .9 2.3z M593.7 493.5l.1-1 2.9-1.8 1.8-.7 .2 .4-.9 1.4-2.7 1.4z M584.1 498l0-1 6.6-2.2 5.2-.7-1.7 1.4-2.8 1.7-6.6 1.6z M607.8 477.4l-7.4-1.1-6.5-1.6-3.1-1.7 10.2 2.2z M586.7 493.2l.5-1.5 1.9-.2 .5 .7-1.4 1.2z M590.2 490.5l-.2 .6-1.5-1-1.2-.7 .4-.4 1.2 .3 1.7 .7z M591.6 482.2l-.8-.2 .8-2.6 .9-2.4 .3 1.5 .1 1.2-.7 2z M587 482.6l1.7-2.3 3.2-2.9 4.4-2.9 .7 1.1-3.8 3.5-4.7 3.9z M588.7 402.8l0-1.6 3.2-5 1.1-.5-2.8 5.8z M587.1 489.5l0-2.5 .9-3.2 1.2 .1-.7 4z M590.1 477.5l-1.4-1.6 1.5-2.8 2.1 .5 .8 1.6-1.1 2z M593.7 406.5l-2.8-2.3-.3-5.2 1.8-.7 1.3 4.3z M599.5 501.2l-2.2-1.8-3.8-4.8-2.1-3.2 1.1 .6 1.9 1.8 3.2 4.2z M599.6 470l5.9-1.9 5.3-.3 2.5 1.1-8 1.8z M595.8 483.9l-1.4-3.4-.3-6.9 1-2.1 1.6 9.4z M597.6 475.5l-2.5-1.3-2-2.6 .8-1.8 3.3 3z M588.2 458.8l-1.1 .2 0-2.9 .5-1.5 .7 .1 1 1-.3 2.4z M580 483l-1.2 .2-2.3 .1-1.6-.2 .1-.3 1.3-.4 2.8 .3z M591.3 463.4l-1-1.1-1.6-3.8-.6-2.5 .4 0 1.3 1.7 1.5 4.4z M606.6 446l-.4-.6 1.2-.6 1.2-.5 .2 .7-.8 .8-1 .6z M589 493.6l-1.4-2.8-.2-6.2 .2-3 .6-2.8 1.3 4.8 .1 6.2z M609.1 455.7l2.4-1.5 2.6-.5-.1 .8-2.2 1.3z M596.3 405.6l-2.4-3.8-2.9-7.1 1.7 2 2.2 4.4z M577 478.2l1.2-2.2 4-3.4 3.8-3.3 .8 .5-3.3 3.7-3.6 2.9z M594.4 415.1l.8-.6 1.1-.5 .6 .5 .3 .4-.8 .4-1.3 .4z M600.5 482.8l-1.9 .3-2.3-.3-3.1-.7 1.6-.5 1.7-.1 2.1 .5z M609.2 424.6l-.2 1.2-2.7 0-1.5-.9-.2-1.1 2-.3 1.9 .3z M607.8 418.9l-.3-2.3 2.3-4.4 1.6-1.1 0 2.2-1.5 4.5z M589.7 492.1l-.3-.6 3.4-.6 2.3 .1-1.2 .7-1.1 .5-3.1 .4z M591.9 415.4l-.9-.8 0-1.9 .3-1.4 .8-.2 .3 1.6 .1 1.6z M575.3 480.1l3.6-3.5 6.6-5.6 .2 1.2-6.4 5.2z M605.5 434.2l-2 0-3.1-.3-.2-.4 3.7 .2z M598.3 470.9l-.1-1.4 3.2-4.5 1.9-1.9-1.2 2.7-2.7 4.8z M597.7 468.4l1.1-1.2 .9-1.1 1.4-.5-.3 .8-.5 .8-1.2 .6z M603.7 445.3l1-1.5 2.7-2.3 3.8-1.7-.9 2-1.4 2-3.4 1.4z M612.1 445.5l-2.7-.2-2-1.4-.1-.8 2.4 .7z M592.7 503.3l-1.2-2.8-.8-3.2-.4-2.7 .7 .5 1.1 1.3 .4 3.7z M594.8 430.8l-.6-1.2 .3-1.7 1.2-.3 1.3-.4 .2 1.8-1.1 1.8z M600 424l-.7 .2-1.4-1.2-.8-1.4 1.5 .5 1.7 1.2z M583.4 498.3l-1.7 .6-4.6 .4-4.9-1 .7-1 4.4-.5 4.9 .7z M601 410.8l.9-.8 2.1-1.2 .5 .5-.1 .6-2.6 1.1z M581.8 501.2l-1-1-.7-2.6 .3-.5 1.1 2.6z M605.1 439.7l-.8-2.1 2.4-2.6 1.4 .7-1.1 3z M581.1 474.4l-.2-1.4 .4-3.6 1.1-3.4 .7-.2 0 3.6-1.2 4.4z M596.5 437.2l-.3-1.5-.1-2.3 .5-.9 .4 .9-.1 2.4z M595.4 461.1l-1-.3-1.2-.7-.4-.9 .1-.5 1.1 .5 1.4 1.2z M590.6 500.1l-.7-.5-1.2-1.3-1.3-2 .2-.4 1.7 1.8 1.5 2.2z M611.6 445.1l-4.4-2.7-4.1-3.1-1.1-1.4 1.4 .3 4.2 3.3z M570.7 497.2l1.9-.7 1.8-.5 2.3-.4-.5 .5-1.6 .5-2.7 .7z M610.9 447.7l1.4-.9 2.1-1.1 3.2-1.3-.1 .5-2.5 1.5-3.7 1.5z M592 484.2l-.7-1.9-.5-1.8 .6-1.5 1-.9 .4 2.5-.1 1.9z M608.3 449.4l1.5-1.7 3.2-2.9 3.3-1 .2 1-2.8 2.3-4.7 3.3z M577.6 506.2l-2-1.9-.7-5.8 1.5-1.7 1.6 1.7 1.2 5.5z M695.5 501l3.6-2.3 4.6-2.6 .4 .6-5.1 3.1z M690.3 515.5l1.2-2.4 5-5.1 2-1.1-.8 1.9-5 5.2z M686.7 453.8l-1.3-.1-2.6-1.4-1.2-1.4 2.1 .8 1.8 1z M682.1 518.1l-1.4-2.4 .3-3.4 1.9-1.6 1.8-.4 0 3-.2 3.6z M686.1 441.3l-1.8-1.1-2.4-4.8 1.1-.8 3.2 4.6z M702.2 521.9l-2.2-.5-.8-1.8 .5-2.5 2.6 .7 .6 2.1z M666.8 514.5l-1.1 0-1.2-1.3 .4-.7 1.4 1z M684 471.4l.5-.9 1.2 .1 .6 .3 .7 .6-1 .6-1.3 .1z M655.8 460l-1 .5-1.4 .5-.9-.9 .4-.8 .9-.5 1.8 .1z M656.4 480.1l4.6-3.2 6.2-3.5-.3 1.1-5.7 3.7z M691.6 458.6l-.4-1.1 .3-2.4 .7-.3 .6 .5-.4 2.7z M705 496.2l-1.1-3.1-1-6-.3-4.2 .3-2.6 1.3 6.4 .5 4.9z M667.4 457.9l-2-.9-2.6-1.5-2.7-1.8 1.5 .5 1.5 .5 2.4 1.7z M682.3 464.9l.9-.4 2.6-.6 2.2 0-.9 .5-1.3 .5-3 .3z M654.4 509.6l1-1.7 3.3-.7 .4 1.3-2.8 1.3z M654.3 449.6l-1.1-.4 .1-2.2 1.4-.6 1.4-.6 .3 2.1-.9 1.9z M670.3 498.3l-1.2-.7-1.2-2.1-.1-1.5 1.3 .5 1.3 2.4z M665.2 476.4l1.5-3.2 2.9-3.6 2.1-1.9-1.2 2.4-2.9 4.4z M704.6 472.1l-3.7 .2-4.7-1.6 0-2.2 5.3 1.5z M686.4 513.3l.8-.7 2.5-.3 2.1 .5 .5 .8-2.6 .5-1.9-.3z M652.5 530l-.5-1.8 .4-2.4 .6-.4 .2 2.9z M658.9 506.9l-2.2 1.5-2-1.3-2.5-1.4 1.9-1.8 2.1-1.4 1.9 1.9z M667.9 531.1l1.1-1.8 1.6-2 1.3-.9 .7-.1-1.2 1.8-2.2 2.5z M697.1 476.5l-1.7-.5-1.2-1.6 .8-.6 1.4 1z M654.3 452.6l-1.3-1.5-.3-5.1 .7-.6 1.2 4.8z M706.5 518.7l-1.8-.5-.4-2.6 1-.4 1.3 1.7z M706.9 468.2l.4-1.8 1.3-1.4 1.6 .3 .3 1.6-1.8 .7z M687.6 463.6l3.7-1.8 4.3-1.6 5.4-1 .6 1-5.5 2-5.1 1.3z M662.3 502.1l.1-1.3 1.2-2.7 1.4-2.1-.7 2.6-1.1 2.8z M660.4 463.3l-.8-.6 2.6-2.3 1.9-1.3 1.2 0-2.3 2.4-1.6 1.6z M689.6 522.2l3.7-1.3 7.3-.7 1.6 .5-8.7 1.7z M698.1 439.6l-1.8-1.4-2.2-2-.8-1.5 1.3 .7 2.2 2.5z M658.3 499l.6-3.2 3.4-7.4-.1 2.7-1.9 5.1z M700.6 482.8l2-2.2 3.4-2.2-.3 1-2.2 1.8z M666.4 471.5l-.2-1.1-.2-1.4 1-.6 .9 0 .1 1.3-.7 1z M684.8 456.7l-.6-1.6-.2-3.1 1.3-2.8 1.1 .4 .4 3-.9 2.9z M679.8 482.4l2.6-1.7 6.1-.5 3.6 .7-3 1.8-5.5 .3z M710 495.2l-3-1.2-3-2.2-2-3.3 2.3 .1 2.3 .7 2.5 3z M680 506.7l1.7-3.9 5.8-6.8-.2 1.7-4 6.4z M675.7 514l.3-1.2 1.2-1.8 .9-.5 .6 .6-2 2.2z M699.4 445.4l-4.6 1.2-5.9-1.6 .5-2.5 5.5 .6z M677.7 501.8l-.8-2 .4-2.5 2.3-.4 2.3 .5 .1 2.8-2.1 2z M679.6 464.3l-2.1-1.7 .9-3.5 2-.8 1.5 1.5 .3 3.6z M704.6 457.4l2.8-3.7 2.7-3 1.2-.3-3.4 3.9z M695 501.5l-2.2-2.4-1.7-4.2 .7-1.9 1.6 2 1 2.6z M694.8 458.5l2.5-.7 3.6-.1 .3 .6-3.8 .6z M647.9 520.7l1.5-2.2 2.8-3.7 3.5-3.2 .5 .5-3 3.9-3.1 2.9z M692.1 504.5l4-.7 4.7 0 4.7 .6-4.9 .6-5.4 .5z M672.6 504.4l-.4-4.3 .8-5.3 .6 .1 0 5.2z M672 457.3l-2.9-1.6-4.7-3.6-2.4-2.7 2.8 1.2 4.6 3.9z M705.7 528.2l-.9-.5-1.5-1.6-.9-2 .4-.9 1.8 1.8 1.5 2.6z M647.4 519.8l1.5-2.2 2.9-2.5 .8 .2-2.8 2.6z M695.6 502.5l-1.3 0-2.3-1-2-1.6 .7-.5 2 .1 2.4 1.9z M689 505.6l-1.3-.9-2.4-2.9 .3-.3 2.6 2.6z M680.8 519.7l-1.2-1-.5-1.6 1.5-.2 1.2 .2 .2 1.6z M691.1 507.4l-.5-1.7-.2-2.5 .6 .6 .3 1.8z M676.2 488.9l-1.4 .9-1.7-.3-.4-1.6 1.4-.6 1.8-.2z M712.7 533.7l-1.5-.9-4.8-7.9-3.1-6.5 4.7 6.7 3.2 5.2z M692.7 452l-3-.1-5.1-2.3-4.1-2.8 1.8-.5 3.5 .9 3.9 2.4z M686.8 506.3l-.5 1.1-3.6-1.1-1.9-1.5 2.6-.3 3.6 .5z M654.3 455.9l-2.3-2.2-1.6-5.6 1.2-.7 2.2 4.9z M659.8 512.5l-1.8-1.6-1.5-4-.5-3 1.9 2.6 1.6 3.1z M676.2 464.1l-.2 .4-2.2-2.3-1.3-1.6 .4-.1 1.3 .9 2.5 2.6z M691.9 467.7l-.6-.4-.1-1 .2-1 .8 .1 .6 .8-.4 1z M688.1 456.8l-1-1.9 3.3-1.2 2.5-.4 1.7 1.4-2.4 2.3-3.1 1.6z M675.1 467.1l-.8-1.7-1.1-3.1-.3-1.9 1 2.2 1.1 3.1z M701.6 474l-.4 .2-1.1-1.1-1.1-1.1 .7 .1 .9 .1 1.3 1.3z M696.9 496.7l3.1-2 4.2-.5 .6 1.4-4.1 1.3z M691.9 458.3l.5-2.1 .9-2.8 .6-.6-1.1 4z M680.4 439l2.9-.9 5.5-.3 5.1-.2 .1 .8-5.3 .5-4.1 .2z M656.7 506.7l1.4-.7 3-.8 1 .3-1.1 .7-3.1 .8z M684.1 526.2l-.6 .9-1.2-.9-.4-1.2 .7-.7 1.1 .2 1 .9z M676.7 461.7l4.7-1.2 5.6 .5 .8 1-5.7 .4z M656.5 528.2l-.5 0-1-1.3-.3-1.5 .7-.2 1 1 .2 1.3z M673.7 506l-1.4 .3-1-1.6 .3-1.7 1.6 .6 1.5 1.2z M682.9 526.7l-.9-2.5-.1-4.5 .8-3 .8 3.1 .2 4.7z M673.6 492.3l2.7-4.5 4.7-5.3 1 .1-4.5 5.9z M654.5 529.9l-1.5-3.1-1.8-6.7 .2-4.2 2 3.7 1.4 7.4z M685.8 523.8l-.6 .5-.9-.1-1-.5 .4-.9 .9-.1 1.5-.1z M659.5 518.6l-3-.1-2.6-.6-.8-.6 3.9 .3z M659.7 481.6l-.9-.6-.2-2.1 1.5-1.2 1.1 .6 .5 1.5-1.1 1.4z M658 500.8l-1.2 .4-2.6-1.7-1.6-1.4 1.8 .1 3.1 1.3z M685.3 512.6l1-3 3.8 .4 .6 1.8-2.8 2.7z M668.9 470.6l-2.1-1.3-2.6-3.1-2.3-3.1 1.4 .5 2 1.3 2.2 3.2z M653.6 491.3l2.1-1.9 1.8-1.5 1.8-1.1 1-.4-2 1.9-3 2z M650.4 498.1l.1-.7 3.3-1 2.8-.3 .9 .6-3.1 1.3-3 .4z M710.2 492.6l-1.7-.6-2.2-1.8-1.6-1.8 1.8 .6 3 2.2z M659.6 527l.3-.8 4.2-3.1 2-.9-1.1 1.4-3.7 2.4z M708.6 482l-.4-1 1.6-6 1.6-4.5-.4 4-1.5 6.2z M680.6 454.6l1.2-.9 2.7-1 .1 .6-2.7 1.5z M671.1 519.2l-1.8-.2-4.1-1.7-.3-.7 1-.1 3.6 1.5z M671.1 475.7l-1 .3-2.9-1.1-1-.7 1.1-.2 2.4 .8z M706.7 447l.2-1.7 .9-2.8 1.2-1.6 .6 0-.5 2.3-1.5 3.3z M670.4 483.4l.6-2.2 1.2-2.4 1.1 0-1.4 3.2z M668.5 491l-6-1.3-5.9-1.7-1.6-1.3 3.2 .5 4.8 1.5z M679.9 486.4l1.8-1.4 1.5-1.3 1.3-.5 1.1-.4-2 1.6-2.5 1.6z M652.3 500.3l-.9-.6 2.6-2.5 2.9-1.6 .4 1.2-2.3 2.2-2.2 2.2z M693 482l2.3-1.6 5-.9 2.3 1.1-2.4 1.5-4.4 .6z M687.9 466l-1.5-1.4 1.6-2.6 2 0 2 .3-1.3 2.2-1.2 1.4z M671.1 456.8l-.1-.5 .9-1.1 1.1-1.4 .5 .4-.9 1.4-1 1.1z M696.1 464.2l-2.6-.4-3.7-1.8-2.3-1.8 1.2-.1 2 .5 3.8 1.9z M709.2 516.4l-1.9 .2-1.8-.2-1.5-.4-.6-.6 2.1 0 2 .4z M667.1 524.7l2.3-1.8 5.8-2.8-1.5 1.5-3.4 2z M652.2 487.7l1.5-1 2.3-.8 2.8-.2 .7 .9-3.1 1.2-2.5 .2z M649.9 446.6l.9-.6 4.2-.3 4.2-.1 0 .6-3.8 .7-4.4 .1z M658.5 522.6l.4-1.5 1.3-2 1.6 .8 .5 1.8-2.2 1.1z M667.4 447.7l2.6-1.8 2.7-1.8 2 .4 1.7 .5-3 1.7-4 1.7z M704.4 508.7l-.6 1.9-2.9-.4-1.6-1.9 2.2-1.2 2.9-.6z M673.6 517.9l-3.9 .1-6.2-1.7 1.7-1 5.6 .4z M686.8 477.9l2.6-2.7 2.3-1.8 1-.2-3.1 2.9z M686.8 505.5l-2-.1-1.5-2.1 0-2 1.5-.1 1.4 .5 .3 1.7z M693.1 497.6l.6-2.7 5.2-2.6 .9 1.5-3.9 3.6z M680.2 514.7l-1.5-.1-2.1-.8-1-.7 3.5 .8z M697.5 502.9l-1.5 1.9-2.8-1.5-.5-3.1 2.8-.9 3.2 1z M699.2 507.1l-1.4 .7-2.7-.2-1.3-.6 .8-.8 3.2 .2z M695.7 466.9l-3-.3-3.2-1-2.2-1.5 .5-.6 2.4 .2 3.5 1.4z M698 523l1.6-.7 3.9-.9 2.7 0-1 .6-1.4 .8-3.5 .2z M662.4 508.4l1.5-.8 2.6-1.2 1.4-.1 .8 0-1.9 1-3.1 1.1z M697.1 454.8l-2.5 .3-2.7 0-2.1-1.2-.5-1.3 3.2 .3 3.1 .6z M663.5 492.1l2.8-2.3 3.1-1.8 3.3-.5 1.7 1-3.7 2.4-3.3 .6z M438.2 375.2l-2.5-2.8-2-3.1-.4-1.7 3.3 4.3z M465.4 387.2l-1.7-3.6-1.7-6.4 1.4 .7 1.9 5.5z M355.9 388.7l-1.3 .3-3.2-2.6 .3-1.3 1.2-.4 3.1 2.6z M377.3 389.3l-1.4-1.5 1.8-2.1 1.8-1.5 1.5 1.1 .1 2.4-1.8 2.4z M407.3 390.3l-4-.5-7-2.7-2.6-1.6 2.9 .3 6.8 2.3z M430.7 388.9l.1-2.8 1.2-3.2 1.1-.4-.9 4.2z M371.5 390.9l-2.4-.7-3.5-2.3-1.1-1.3 .8-.3 4.7 2.8z M391.8 382.5l-.5-.4 .6-2.3 .7-2.1 .9-.6-.5 2.8-.5 2.8z M438.6 371.2l-1.1 0-2.5-1.7-2-2.5 .5-1 2.9 2.3 1.5 1.6z M401 368.4l.8-1.3 1.3-1.5 1.6-1.1-.8 1.5-2 2.2z M439.4 391.6l2-3.4 4.2-5-.6 2.1-2.7 3.6z M444.6 383.4l-.7-1.2 .8-3.8 .9-1.9 .8-.3-.2 2.7-.6 2.4z M379.1 385.8l-1.5-.4 .3-2.7 .9-.1 1 1.9z M355.8 389.3l-1.8-2.1-1.5-2.4 2.1-2 2.7 1 .3 3.3z M387.2 368.6l.4-.6 3.4-.4 1.3 .2-1.3 .6-3.4 .7z M467.2 371.5l.8-.8 1-.2 .4 .5-1.1 .6z M451.8 373.2l-2.2-3.4-2-3.1-2.1-4.8 1.8 2 1.6 2.2 1.7 3.8z M388 373.5l-4.5 .6-5.3 .4-3.2-1.2 4.9-.5 4.4-.3z M387 383.5l-2.2-1.3 1.1-2 2.1-1.1 .6 2.6z M397.9 387.5l-2-4.3-1.3-4.9 .2-1 1.8 5.2z M352.3 383.1l0-.7 1.5-1.6 1.1-.3-.4 1.1-1.4 1.1z M417.1 394.5l-.9-2.6-.3-4.6 1.2-.7 .9 1.4 0 4.1z M390.7 379.8l-1.2-1.3-2.2-4.3 .6-.1 2.3 4z M364.7 370l-.4 .2-2.8-1.3-2.2-1.2-.2-.5 2.6 .9 2 1.1z M436.2 378.1l-2.7-.4-3.2-2.3 .6-1.6 3.7 2z M728.4 436.1l-.2-3 3-2.8 1.8 1.4 1.3 1.9-2.9 2.1z M727.4 439.4l-3.1-2.5-2.5-1.9-2.6-3.6 1-.8 3.3 3 2.5 2.9z M718.8 502l-.2 .6-4.2-.6-2.5-.7 0-.6 2.7 0 3.5 .6z M684.1 434.9l-.4-.1-.9-1.8-.8-1.8 .2-.5 1.1 1.9 .7 1.6z M692.2 520.6l-.5-2.7 2.9-1.4 2.2 .7-2.3 2.5z M715.7 482.1l-1.1-.8-.9-1.4 .5-.1 1 1.1z M683.6 504.3l.3-2 1.8-2.4 .2 1.1-.7 2.2z M683 430.8l-.8-1.6 .8-4.5 .8-1.1 .5 1.5-.2 3.9z M724 432.1l-1.9-1.1-3-3.1-2-3.7 1.3-.3 2.8 2.6 2.6 3.7z M698 516l.1-2.6 .6-3.7 1.4-2.8 0 2.9-1.1 4.6z M721.2 491.2l2.8-1.4 7-.8-1.2 1-5.1 1.3z M694.6 491.7l-2.1-2.2-.2-3.6 3.4 .2 .9 3.1z M686.4 429.1l-2.5-2.2-1.2-2.8-.1-2.7 2.3 .7 1.5 3.8z M667.8 498.1l1.7-1.3 2.7-1.7 2.1 .2 .7 .6-2.5 1.3-3.5 1.5z M668.8 477.6l-1.1-4.7-.3-5.2 .8 .7 1 4.7z M710.7 441.2l-.3-1.2 .7-3.5 .7-2.5 .1 2.1-.6 3.5z M703.2 496.8l2.4-2.2 3.3-2.5 0 .6-2.9 2.3z M695.2 431.2l-2.5-1.5-2.6-6.3-.4-3.1 4.7 7.5z M690.2 450.5l-.6-2.7 .7-3.1 1.3 .9 0 2.4z M724.7 425.6l-3-.4-5.5-2.8-.4-1.5 1.1-.9 5.9 3.4z M653.4 507l.2-1.4 1.7-3.2 .5 .1-1.5 3.4z M679.2 464.2l.8-2.6 3.6-5.4 2-1.6 1.6-1.1-2.6 4.2-2.5 3.4z M681.1 432.2l.8-2.6 2.4-1.7 2 1-2.4 3.2z M740.4 483.2l-1.9-3.3-2.4-5.9-3.2-8.7 .7-.9 3.7 8.7 2.8 7.3z M710 436.9l1.4-.8 3.8-.8 .3 .6-4.3 1.5z M682.9 484.3l.2-.7 .6-1 .8-.4 .9-.3-.7 1.4-1.3 1.1z M659.1 485.1l-4.1 .1-3.6-.2-5.6-.5 .8-.5 4.3-.1 5.2 .5z M650.1 430.5l3.1-1 3.5-.2 .3 .6-3.6 .7z M680.8 451.8l-1.8-3.5-.1-5.4 1.4-1.6 1 6.4z M661.9 437l-1.4-1.3-1.2-3.6-.3-2.9 .8-.7 1.8 2.4 .5 4z M736.6 499.3l-1.5-2.2-.1-2.5 1.7-1.1 .7 3.2z M726.8 496.2l-.1-1.8 1.6-2.4 2.7-.5-.9 2.8-1.5 2z M717.9 457.5l1.4-3.2 3.5-5.3 3.6-3.5-2.7 5.1-4 6.7z M710.8 520.8l.6-2.7 3.6-2.1 .5 2.3-2.1 2.2z M683.5 471.1l-1.8 1-3.2-.5-2.6-1.8 .1-2.2 3.6 0 4 1.2z M717.4 445.6l-.2-1.7 .9-3.4 .8-1.3-.8 4.5z M712.4 527.3l-.8-1.1 2.7-8.4 2.2-6.4 1.4-1-1.8 7.6-2.1 6.5z M720.7 435.7l.8-2 2.7-2.2 2.5-.1-1 2.3-3.2 3.1z M696.5 453.4l-2.7-.7-4.8-2.6-4.3-3.3 2.5 .6 2.8 .7 4.6 3.2z M699.7 523.7l2.9-1.1 6.9-.5-1.8 1.1-5 1.1z M665.2 465l-.9-1.1-.5-1.4-.3-1.7 .9 .1 .8 1.1 .5 1.8z M699.5 450.2l.3-.8 1.5-1.3 1.5-.7-.5 1.4-2 1.4z M703.5 491.2l-2.2-1.3-4.4-4.3 2.2 1 3 2.4z M687.6 518.9l-1.7 0-1.1-.9-.3-.9 .3-1.1 1.3 .3 1.6 .9z M720.6 436.2l-2-1.1-3-2.7-.9-1.7 2.2 1.6 2.5 1.9z M654.8 491.4l-.2-3.1 2.1-7.9 1 1.9-1.3 6.2z M658.2 445.6l-.2-2.3 .5-2.5 .6 .4-.1 2.2z M702.7 474.8l-1 0-1.1-1 .4-1 1-.7 .9 1.7z M681.2 486.8l-1.5-2.1-1.2-2.2 1.2-1.5 1.1-.2 1.8 1-.8 2.3z M658 426.8l0-1.6 1.8-2.3 1 .2 .2 1.1-1.4 2z M677.2 471.7l.7-.5 1.2-.2 1 .1 0 .4-.7 .5-1.7 .2z M692.6 446.1l-.8-1.8 1-4.6 2.4-3.7 .9 1.9 .7 2.9-2.4 5z M702.2 473l3.7-3.7 8-3.4 1 1.2-7.3 4.5z M734.6 432.6l-2.9 .2-4.4-.6-1.2-.5 1.3-.2 3.5 .4z M686.4 509.6l.6-.4 2.6-.4 2.4-.1-1.8 .7-3.6 .7z M669.2 448l-4.2-3-5-5.1-.1-1.9 7 6.2z M737.9 488l.3-2.2 .5-1.9 .6-.5-.6 2.6z M689.4 507.4l2.1-1.8 3.1-2 .8 0-3.6 2.7z M686.5 432l1.4-2.8 1.5-2.4 2.5-2.5 1.1 .5-1.5 3.2-2.8 2.8z M671.6 478.6l-1.5-6.4-1.1-9.5 .3-6 1.5 5.5 .7 9.1z M664.1 464.9l-1.9 .7-1-1.6 .3-1.6 2-1.7 2.1 2.1z M656 490.4l-2.4 .6-8.1-.8-.8-1 9.3 .2z M724.2 494l-1.2 0-.9-3.1 .2-2.1 1.5 1.5 1.3 2.9z M675.3 527.4l-.5 1.9-2.5-.3-1.4-1.8 1.3-2.1 2.3 .9z M657.6 456.6l-2.6-2.6-2.1-2.7-.1-2.8 2.4 2 1.7 2.8z M683.5 431.4l3.6-1.2 3-.7 .4 .3-3.5 1.1z M667.1 482.9l-.3-1.9 1.7-1.4 1.5-.4 .2 1.5-1.1 2.2z M672.5 465.8l-6.2 .3-7.9-1-1.4-1.2 9.6 .6z M692.5 509.4l2.5-2.2 4.2-1.8 3.3-.5-2.6 2.2-3.7 1.5z M728.4 460.5l-2.1-.3-1.7-.6-.4-.9 .5-.7 2.9 1.2z M693.7 481l-.2-2.5 .1-3.1 1.5-2.2 .5 1.4 .4 1.6-1 3.3z M671.6 503.8l2-1.4 2.8 .2 1.4 2.6-4.2 .2z M709.6 449.1l-2.4-.8-2-1.2-.6-1.9 1.9 .1 2.1 1.6z M674.1 524.4l1.3-2.6 2.2 .7 1 1.9-2 1.6z M706.6 482l-2.4-.2-2.5-1.5-.6-2.1 2-1.1 3.2 2.6z M665.4 457.7l-2.7-1.4-3.6-3.6 2.1-.7 3.1 2.9z M699.4 433l1.3-3 3.7-5.3 2.4-1.9 2-1.4-2.4 4.4-4.5 5.2z M708.9 457.5l-2.8-1.6-1.7-2.7 .2-2.1 2 0 2.6 3.3z M687.7 450.7l-1.2-.2-2.1-3.4-.5-2.4 2 2.1 1.4 2.2z M729 438.4l-2.8-4.5-2.5-5.9-.6-2.5 .9 0 3.2 7.6z M658.7 496.3l-2.3 .2-3.1-.2-3.9-.5-.4-.8 4.3 .1 4.3 .5z M680.6 452.7l.8-1.5 5.4-3.9 4.2-1.2-.5 1.4-3 2.4-6 3.7z M663.1 431.4l.4-1.6 1.4-1.7 2.2-.5 1.6 1-1.5 2.4-2.7 1.4z M722.7 465.9l-3.8-2-1.7-4.2 1.7-1.6 3.3 3.6z M686.5 524.2l-.8 .1-3.3-.7-1.8-.9-.8-.6 2.9 .5 3.8 1.2z M680.6 499.9l-.9-.7-1-2.2-.1-1.7 1.2 1.1 1 2.4z M673.2 439.2l-.8-1.1-1.4-2.6-1-2.8 .8 .8 1.1 2 1.3 2.8z M679.8 514.7l-.2-4.3-.1-5.1 .6-3.2 .6-.6 .1 4.1-.3 5.5z M708.1 493.3l4.7-1 8.3-1.2 4.1 .5-4.3 1.3-10 1z M687.5 516.6l1.3-2 3.2-2.7 2.2-.9-1.7 2.1-2.9 2.5z M715 529.9l-3.5-1.1-1.6-4.1 3.2 0 2.9 1.6z M689.8 525.7l.4-2.5 2.3-2.9 1.8 .3 0 1.9-2.1 2.2z M689.4 435l-1.1 .1-.4-1.5 .8-.5 1.1 .9z M711.9 446.4l-.4 1-4.1-1.7-3.3-2.3 1.6-.5 2.8 .6 2.7 1.8z M660 449.9l-.5-.3 .2-4.6 .7-3.8 .5 1.2 0 3.1-.3 4z M691.1 440.9l.1-4.2 0-3.7 2.2-1.7 1.9-.8-1 4.1-.9 3.4z M714.5 501.9l-2.8 1.7-4-1.1 .5-2 3.9-.8z M726.2 461.9l-1.2-.6-1.2-2.2 1.5-1.5 1.4 1.5 .6 1.9z M674 510.5l-.9-2.2 .8-6.8 1.7-5.7 .9 2.2 .1 4.2-1.1 6z M741.2 519.1l-.6-.8-.6-3.6 0-2.1 .3-.4 .8 2.4 .3 2.9z M657.1 428.4l.7-2.9 2.4-2.5 2.1 .5-.1 2.2-2.2 1.7z M654.6 493.4l.4-1.4 2.8-1 1.4 .9 1.2 .9-2.3 .9-2.2 .4z M709 426.9l.9-2.1 3-1.9 3.3-1-1.2 2.7-3.7 1.8z M713.6 459.8l2.3-1.1 3.6-.7 .7 .4-3.9 1.2z M708 475.6l.6-1.2 3.6-2.8 3.9-1.2-1 1.6-2.5 1.8-3.9 2.5z M703 454.6l-.7-1.5 1-3.2 1.5-3.2 .3 3.1-.9 3.7z M697.7 484.5l-3.8-2.2-5.2-5.7 .8-.8 5.4 4.8z M685.7 509.2l-.4-1.9 1.2-3.4 1.7-.2 .3 1.7-1.1 2.7z M728.3 431.9l1.5-1.4 6.2-2.8 4.8-1-4.6 2.8-7 3.1z M722.2 480l-1.4-1.8-.3-8.8 1-3.1 1.2 3 .5 8.2z M669.2 429.5l-.7-.4 2.4-3.7 2.1-3 1.1-.1-2 3.8-2 2.9z M676.9 463.4l-.8 .3-1.4-.4-1.2-.6 .9-.5 2.2 .5z M731.7 479.6l-3.3 .1-3.5-.5-2.4-.9 2-.4 4.5 .6z M729.2 496.8l-2.1 .2-3.9-.3-5.1-.5 1.2-.5 3.4-.1 4.6 .6z M725 529.4l-.3-1.7 .7-2.4 1.4-1.1 .7 .5-.2 1.6-.8 2.7z M723.9 461.7l-.4-1.7 .9-3.6 1.2-1.6 0 2.3-.7 2.6z M731.1 463.8l3.9-2.7 5.6-2.1 1.2 1-5.9 2.6z M732 443.5l-3.8 1-3.7-1.7-1.7-2.6 6.2 .9z M678.6 483.3l-1.2 .4-3.3-7.9-.1-3.3 2.3 2.6 3 7.1z M706.5 428.3l2.2-2.4 2.9-1.9 .9 1.7-2.9 1.8z M733.1 447.5l.3-1.4 2.5-1.3 2.8 .9-.2 2.1-1.9 1.9-2.6-1.1z M686.7 491.5l-.4 .7-1.1-.3-.9-.3 0-.8 1 0 1 0z M669.4 463.7l-4-.5-5.1-2.2-3.6-3 4 0 6.6 3z M698.9 533.7l1-3.6 2.8-5.7 1.7-.7-.3 2.4-3 6.2z M686 471l-1.2-1.2-1.2-3.7 .5-.9 1 .7 1.2 3.4z M695.5 486.4l-1-.8-.2-1.3 1-.5 1 1.5z M685.3 477.9l-2.3-2.7-3.2-7.6-1-3.7 1.7 1.5 4.5 9.4z M679.4 468.8l2.7-.4 3.3 0 1.5 .3-.7 .4-4.2 0z M654 466l-1.4-.1-2.7-1.4-1.9-1.4-.4-1 2.8 1.3 3.4 1.6z M697 521.6l1.4-1.1 2.8-.1 1.6 .6-1.8 .7-1.9 .2z M706.6 450.4l-1.4-1.3-1.4-2.3-.6-1.2 1.1 1 1.7 2.2z M678.9 524l-.6-1.4-.5-1.2-.1-1.2 .3-.3 .5 1.4 .3 1.2z M695.6 466.4l-2.9 .5-5.7-1.7-2.4-2.4 4.1 .2 4 1.4z M673.6 446.1l-1.7 0-7.1-3.8 0-1 1.2-.3 7.1 3.7z M674.8 514l-2.3-3.8-2.2-3.5-.1-3 1 .1 1.6 2.5 1.6 4.2z M689.3 473.9l-1.5 .4-3.9-4.5-.9-2 1.7-.1 4.9 4.7z M703 528.3l-.5-1.3-.3-2.6 .4-1.6 .7 .8 .2 4z M724 485.6l5.2-7.1 6.4-7.1-.5 2.2-4.6 5.6z M658.4 462.1l-1.1-1.3 .1-2.1 .5-1.2 .9-.3 1 1.3-.4 2.1z M685.5 466.4l-1.7-2.2 .5-4.7 2-.9 .7 5.5z M689.1 425.6l-2.9-.1-1.9-2.3 1.2-1.6 2.4 1.5z M679 443.2l-.5-2.9-.3-2.6 .2-3.4 .8 .5 .7 2.5-.2 4.2z M654.8 526.9l.7-1.3 1.4-.3 1 .2-.5 1-1.1 .6z M723.6 517.8l1.8-3.3 4.1-3.8 1 1.2-3.5 4.1z M712.8 432.3l-1.2 .1-1.2-.4-.4-1.1 1.1-.7 1.7 .8z M694.8 445.1l-2.8-.8-2.9-3.7 1.6-.3 2.4 2.1z M703.1 428.2l-1.9 .2-1.5-2.8-.8-2.5 2.3 .1 2.3 3.2z M738.1 459l-1-1.3 .2-1.4 .8-.9 .6 2.1z M720 430.3l4.3-1.2 7.2-1 4.6 .8-3.9 1.7-9.2 .7z M718 465.1l-2.2 1.2-5.9-1.6-.9-2.2 2.5-.8 4.9 1.3z M714.9 437.6l-1.2-3.6-1.1-3.9 .5-3.7 1.2-.1 1.4 3.3-.2 4.6z M691.4 514.6l-.4-.9 1.2-2 1.7-.8 1.1 .4-1.2 2-1.5 1.2z M718.6 426.8l-1.9-.8-3.9-3.2-2.4-2.6-.1-1 3.4 2.4 3.5 3.4z M740.6 501.4l-2.4-2.6-3.4-6 1.4 .6 3.4 4.8z M653.9 492.7l-.9-1.7-.2-1.9 .1-2 1-.5 .7 2.2-.3 1.9z M654.2 523.7l-1-1 .1-3.4 .8-2 .9 1.8 .4 3.9z M720.1 472.9l6.1-1.6 8.6 .7 .6 1.4-8.5 .5z M657.4 496.7l-1.2 .7-1.5 1.1-.9-1.7 .3-1.4 1.3-1.3 1.9 .9z M731.1 446.9l-.9-1.3 .5-2.3 2.2-.3 .5 2-.7 1.7z M711.6 476.4l2.1-.9 5.8-.9-.1 .6-4.9 1z M730.2 449.7l-.9 .4-1.6-.4 .5-.8 1.6-.2z M692.7 505.5l-.3-1.4 .1-2.1 .4-.3 .2 2.6z M688.7 426.1l-.8-.5 .2-1.3 .7-1 .9 .8 0 1.6z M663.6 516.9l-1.4 .2-1.3-2.4-.7-2 1.8 1 1.8 1.9z M689.7 497l1.2-2.3 1.7-2 2.4-1 1.4 .6-1.5 2.7-2.8 1.3z M690.1 506.2l.3-.9 5.3-1.2 5-1.2-.9 1.1-3.5 1.3-3.8 .8z M684.5 483.7l1-.9 4.2-1.2 2.7-.1-1.7 1.2-5 1.2z M686.1 479.8l-2.7-1-3.8-3.5 1.3-.4 3.5 2.4z M680.7 495.1l2.2-3.2 7.8-6.6 3.1-1.1-2.3 3.1-7.3 6.2z M698 460.6l-3.8-3.6-6.1-7.1 .6-.8 1.4 .3 5 6.5z M659.9 490.9l-1.5-.5-1.1-1.3-.5-1 1 0 1.5 1.4z M679.3 496.8l-1.5 .5-5-1.2-3.5-2 .6-.9 4 .9 3.9 1.4z M714 455.5l1.8-1.5 4.2-1.5 3.5-1-3.4 1.9-2.9 1.2z M740.7 480.4l-2.7 .7-6.7-.2-4-.9 .8-.7 3.7-.2 5.2 .4z M732.3 514.3l-1-2.8-.3-6 .4-3.8 1.2 1.4 .5 9.5z M720.6 484.3l-.6-1.9 2.2-2.8 2.2 1.3 1.1 2.2-3.1 1.9z M717.4 492l2.4-1.1 5.6-1.4 4.6-.4-4.8 1.7-6.1 1.5z M695.3 453.2l5.7-.8 4.7-.1-.2 .6-4.7 .5z M722.2 506.7l-1 .8-1.5-.3-.6-1.2 .7-1.5 2.2 .8z M727.6 449l-.6-3.3 1.2-4.6 .9-.4-.3 4.9z M663.3 439.3l-3.7-1.8-2.4-3.6-1.1-3 2.8 1 2.4 3.2z M691.1 524.3l.1-2.2 4.6-2.2 1.5 1 .7 1.9-4.7 1.9z M728.2 474.8l-.6-3.3-.5-5.5 .7 1.7 .6 4z M732.7 520.8l0-2.5 .6-3.4 .5-.5-.5 3.9z M713.1 440.2l-1.8-.9 2-3.3 2.2 0 1.8 .1-1 2.5-1.8 2.5z M687.3 504.5l-2.3-3.9-1.9-4.6-2.6-6.5 2 2.6 1.8 2.9 2.3 5.9z M691.1 447.4l.5-1.1 1.2 .3 .1 .8-.9 .6z M724.2 464.4l-.9-.6 1.7-3.4 1.9-2.1 .4 1.2 .3 1.9-2.4 2.8z M652.1 431.8l1.2-2.1 4.6-1.6 4.3-.8-2.5 2.6-5.2 2.3z M651.9 476.5l.8-.7 .9 0 .7 .5-.3 .9-1.2-.2z M688.3 384.5l1.9-1.3 5.3-.8 2.3 .2-1.3 1.1-5.4 .9z M762.3 390.7l-6-4.3-5.7-5.2 .6-.7 6.7 5.2z M713.7 422.5l-1.5-4.7-1.5-5.1 0-2.9 0-2.8 1.5 5.8 1.2 5.7z M684.4 389.7l1.9-1.4 2.5-.5 2.5-.5 .2 .9-1.9 1.3-3.5 .8z M620.1 368l-2.5 .6-4.3-.5 1.3-1.3 3.1 .2z M628 397.8l-1.3-.7-1.7-1.2-1.4-1.2 .4-.1 1.2 .5 2.5 1.9z M730.7 387.7l-.4-2.3-.4-4.9 .3-6.6 .7 2.4 .4 4.2 .1 6.7z M655.1 387.5l.2-2 1.2-2.6 .8-.9-1.2 3.4z M691.8 387.2l.1-1.5 1.3-1.2 1.6 0-.4 1.5-1.1 1.4z M689.6 383.3l-1.4-1.3 0-1.9 .5-1.7 1.2 1.2 .9 2.1z M666 391.8l-1.3-.8-2.5-3.4-.7-1.2 1.2 .9 2.8 3.1z M677.1 398.4l-2.1 .2-2.5 .1-1.4-.5-.3-.3 1.7-.4 3.4 .4z M757 383.6l-2.3-3.3-2.9-8.9 1.1-.5 3.3 8.3z M754.8 379.4l.5-1 .7-.6 .7 0 .1 .7-1 .8z M604.9 393.5l2.2-3.2 3.6-3.7 1.7-.2-4.6 5z M645.2 400.2l-1.9-.1-1.7-1.8-1.4-2.7 1.8-1 2.6 1 1.6 3z M623.7 372.3l.3-1.7 1.6-.8 1.8 .2 .5 1.6-.4 2.4-2.6-.4z M684.4 399.7l3.7-2.9 4.8-3.8 4.7-2.1 1.8-.2-6.2 4.3-6.2 3.8z M690.8 384.7l.6-.3 2-.5 2-.4-.8 .4-1.1 .4-2.1 .5z M726 394.9l-1.8-1.4-1.7-1.2 .1-1.9 1.2-.1 1 1 1.1 1.6z M644.7 392.9l.1-1.5 3.3-3.4 .4 .6-2.3 3z M668.9 372.9l-1.7-.7-2.3-2.2-.5-1.4 1.6 .8 1.5 1.6z M723.4 371.9l-1-1.9-.8-2.7 .6-.2 .9 2.7z M629.5 402.8l1.2-3.5 1.9-4.2 .7 .3-1.9 4.5z M621.9 377.8l-.3-5.1 .2-5.7 .7-7 .7 1.1 0 5.9-.4 6.2z M746 388.4l-1.3 .4-1.8 .2-1.2-1.7 1.5-.7 1.3-.9 1.4 1.3z M705.6 396.3l-.2-1.4 2.4-2.7 2.4-1.5-1 2.6-2.2 3.4z M650.9 390.1l.9-.9 1.8-.1 .9 .5-.8 .6-1.7 .4z M681.5 411.7l.2-.9 1.1 .3 1 .6-.7 1-1.6 .2z M718.3 403.4l-1.7-1.9-2.1-5.5 1.6-.4 2.7 5.6z M719 407.9l-.8 .9-1.3-.9-.4-1.2 1.2-.2 1.4 .3z M716.5 379.3l-.4-1.8 1.5-2.1 1.3-1.1 .3 1.5-1.1 2.2z M633.3 404.7l.5-1.4 .8-1.4 1.5-1.4 .2 .8-.9 1.4-1 1.6z M643 419.7l-.9-2.6-.3-6 .6-1.3 .6 1.6 .6 6z M712.3 370.8l-.4 .7-1.4 .1-.1-.8 .2-.8 1.4 0z M662.3 410.2l.6-1.5 2.2-2.7 .5 .4-2.1 3.1z M612.2 375.8l.5-1 5.2-.7 3.5 .3-.7 .9-3 .7-3.9 .4z M600.9 414.5l3.3-2.3 7.3-3.1 1.4 .3-1.5 1.4-6.1 2.5z M717.2 398l-1.2-1.3-1.8-7.7 .2-2.5 1.3 1.6 1.3 7z M645.1 394.5l1.7-3.3 2.6-3.2 3.1-1.7-1.8 3.4-2.6 3.3z M625.2 397.1l.6-1.3 3.2-2.9 2.2-1.8 .1 .5-1.2 1.8-3.2 2.7z M655.7 390.4l2.1-2.7 2.9-1.6 1.9 0 0 1.7-3.4 1.9z M723.1 397.5l-1.3-.3-3.4-3-1.4-2.7 2.8 1.5 2.9 3.2z M713.2 412.5l.1-1.2 .6-1.3 .9-1.2-.2 1.4-.6 1.3z M668.9 386.1l-.5-2.6 1.5-3.4 1.5-3.7 .8 1.5 .4 2.5-1.9 3.5z M659.8 406.5l-.7-.4 .5-2.2 .6-.7 .3 1-.1 1.5z M627.8 406.3l0-1.5 1.4-.6 1.1 .3-1 1.6z M664.8 411l.3-2.8 1.6-3.2 1-.6-1.3 4.2z M739.4 400.8l1.1-.9 2.3-.9 2.1 0-1.4 1.3-3.1 .9z M629.3 396.5l-1.2-1.4-2.2-5.6 1.2 1.5 1.8 3.4z M685.9 393.4l-2.1 0-3-4.1 1.8-1.7 3.9 3.7z M697.1 399.4l-.3 1.1-1.4-.7-1-.7 .5-.8 1-.1 1.2 .2z M610.5 396l-1.9 .1-1.3-1.2-.3-1.4 2.6 .9z M712.7 385.5l-3-.3-5.8-2 2.4-.2 3.5 .9z M632.6 413.4l-1.8-.5-1.1-2.8 1.5-1.4 1.2-.6 1.4 1.5-.3 2.3z M690.7 417l1.4-2 2.7-1.5 2.7-1-.7 1.9-3.4 1.7z M680 380.3l-3 .2-4.2-.9-3.1-1 .2-.6 3.2 .4 3.1 .7z M678.9 388.5l-2.1-1.1-2.2-3-1.6-3.3 3 2.6 2.1 2.4z M601.6 372.5l1.1-1.3 3.8-2.2 2.5-1.1-2 1.7-3.4 2.1z M678.6 415.2l-.9-1.2 0-2.6 1.1-.9 1.1 1-.3 2.4z M630 612l12 0 0 12-10-2z M696 556l10 0 0 8-10 0z M720 550l10-6 6 6-6 16-8 2z M630 612l12 0 0 10-10 0z" fill="#000"/></g>
<g filter="url(#f0t)"><path d="M631.2 360.7l1.2-1.5 2.9-.5 1.1 .8-3.3 1.8z M616.8 363.7l-1.4-1.6 1.5-2.2 2.1-.8 1 2-1.4 2z M632.4 356.5l-1.6-.8-.7-3.6 1.7 .5 1 2.2z M607.1 362.6l-1.9-2.4-1.4-4.1 0-1.6 2.8 5.1z M605.2 311.8l-1.1-.7-.8-1.8 .2-.8 1.2 1.9z M637.1 357.1l-1.4-.6-1.1-.6-1.3-1.3 .9 0 1.1 .4 1.1 1.1z M636.7 313.8l.6-1.9 .9-2 .7-1.1-.2 1.1-1 2.2z M602.5 353.8l2.3-1.1 4.9-.6 1.5 .1-.2 .8-5.2 .7z M620.7 359.1l-1.9-2.4-2.4-4 .8 .3 2.7 3.6z M606.8 353.9l-.8-.6-.2-.8 .4-.9 .8 .6 .3 .9z M611.8 357.1l2.2-.8 2.7-.6 1.2 .3-4.3 1.3z M617.9 362.3l.4-1.9 2.9-1.1 1.5 .3 .5 1.8-3.5 1.9z M639.6 360.8l-.6-2.2 1.1-4.3 1.2-4.1 .4 3.2-1.1 4.2z M618.4 333.3l.5-2.5 1.4-3.2 1-1.3-1.7 4.7z M603.8 361.3l1.5-1.4 2.7-1.2 .9 0-.8 .8-2.2 1.5z M613.1 328.4l-.7 1.1-3.9-1.1-.8-1.6 1.6-.8 2.9 1.3z M611.9 312.9l-1.9-.4-3.8-1-1.3-1-1.9-1.2 3.9 1.1 4.7 1.8z M613 344.1l1.7-2.1 2.8-.5 2 1.2-1.5 1.8-2.8 1.4z M613.4 327.8l.5-2.1 1.5-2.7 .6 .3-1.2 3.2z M627.6 353.9l-1.8-.1-4-.9-2.1-.9-.6-.5 3.3 .8 3.3 .7z M630.5 311.1l1.2-1 2.9-1 .5 .6-3 1.2z M633 365.3l0-2.4 .7-3.3 1.1-2.2 0 2.5-.7 3.5z M612.2 324.7l-1.4 .4-2.3-.6 .5-.5 1.8 .1z M628.3 318.6l-2.1 .5-2-1 1.5-1.7 2.1-.1z M624.6 359.5l-1-.6-1.2-2.6-1-2.2 .7 .4 1.1 1.2 1.5 2.8z M605.8 321.5l-1.3-1.2 0-2 1-1.2 1.2 1 .5 2.2z M620.6 341.2l.2-.8 2.6-.4 1.7 .1-1.7 .8-1.9 .5z M636.3 335.4l1.2-1.9 3.7-2.1 2.1 0-4.7 3.4z M634.7 358.2l-3-3-2.4-5.1 .4-.9 3.5 4.9z M628.6 322.6l2.2-4.4 5.6-6 .9 .7-4.5 5.7z M617.4 368.7l-1.1-1.7-.9-4 .5-1 .9 1 1 3.8z M629.9 313.9l-1.7-2.2-.7-3.8 1.3 .5 1.2 2.6z M633.8 338.3l-2.6-.4-2.7-1 .7-.2 2.1 .5z M636 338.3l1.2-2.3 3.3-3.1 .2 1-2.4 2.6z M614.5 330.1l-1.3-.3-1.1-2.1-.5-2.1 1.1 .2 1.3 .8 .3 1.8z M633.1 369.8l-.4-3.9-.1-4.5 .5 .7 .4 4z M608.3 363.9l-.2-1.3 .4-1.7 .7 .4-.1 1.6z M620.1 355.7l-1.6 .2-1.5-.3-.4-1.5 .8-1.4 1.5 .4 1.2 .9z M604.9 366.2l1.3-1.5 4.1-1.1 3.4-.5-.9 1.2-1.7 1.4-4.7 1.3z M643.2 367.9l-1.7-3.1-1.1-4-.6-4.6 2.1 3.5 1.5 5.1z M606.5 342.2l3.1-1.6 6-.2-.4 1.7-5.6 1.2z M630.2 339.5l-.9 0-.8-.6-.6-.8 .2-.6 1.1 .2 .8 1z M643.1 346.8l-3.7 .1-4.7-.3-3.2-1.5 3.7-.4 4.4 1z M606.6 312.6l-1.8-.4-2.7-2 1.2-.8 2.9 1.4z M608.5 323.3l-.3-3.1 3.1-5.5 1.4 1.6-1.8 4.9z M611.9 350.7l-1.8 .5-3.1-.6-.9-.7 4.1 0z M615 325.9l.3-2.9 2.1-4.3 1.8 .2-2.3 4.8z M608 320.4l-2.5 .7-1.2-2.8-.1-2.3 2.5-.9 2.3 2.9z M635.5 319.1l1.6-3.9 3.4-4.1 1.7-1 .2 1.5-3.7 5.1z M626.8 337.1l-2.9-.3-3.2-1.5-.6-1.1 4.3 1.2z M633.1 337.7l-2 .8-1.6-2.2-.3-2.5 1.9-1 1.8 1.4 .8 1.8z M621.6 361.7l.1-1.3 .9-1.2 .7 .5-.5 1.5z M633.1 358.8l-1.4-.9 .3-1.8 1.7-1.3 1.8 1.4-1.1 1.8z M612.5 369.3l.8-3.8 1.6-4 .5-.1-1.3 4.6z M624.5 321.1l-1.8-1.3-3.9-3.9-3.3-4.1 4.3 3.9 4.7 4.4z M632.3 325.7l-1.6-.9-.8-1.2-.4-2.2 2.2-.1 1.5 1.1 .5 1.8z M621.4 326.8l1.6-1.4 2.9-1.9 2.9-.8 1.5 .2-4 2.2-2.9 1.3z M626 335.6l-1.2-.2-2.6-1.2 .3-.6 3 1.2z M606.2 337.9l-1.1-.7-.2-1.3 1.3-.6 1 1.5z M607.5 330l1.8-2.9 6-4.2-.5 1.8-3.7 3.5z M670 312l8 2 10 12 6 10-2 4-10-8-8-10z M548 276l8-4 2 6-8 4z M554 288l5 0-1 8-4 0z M578 288l4 0 2 6-4 2z M616 276l4 0 0 6-4 0z M590 302l12-2 0 8-12 2z M614 294l24 2 0 10-24 0z M539.6 340.8l1.5-.9 4.8-1.6-.6 .8-4 1.5z M548 325l-.9-.2-1.8-4.1-1.2-3 1.7 1.8 1.6 3.6z M490.2 305.7l.3-1.2 .9-1 1.3-.4 .3 .8-.3 1.1-1.4 .9z M503.7 295.8l-.5-.2-.4-.7 .2-.7 .6-.3 .8 .5-.3 1z M486.5 299.6l2-.6 2.2-.1 1.8 .5-1.7 .6-2.6 .3z M519.9 343l-.5 .9-1.6-.1-.9-.6-.4-.9 1.4-.4 1.3 .3z M505.1 306.1l.7-1.7 1.2-2.5 .8-1 1.1-1.2-1.2 2.6-1.5 2.3z M506.7 339.7l-1.4-.3-.3-1.8 1.3-1 1.2 1.9z M526.8 340.8l-2.3-1.6-2.6-2.8 .6 0 2.3 2z M502 336.1l-.3-.8-.1-1.3 .1-1 .4-.1 .4 .9-.2 1.5z M543.6 343.8l1.6-1.8 1.9-1.8 2-1.3 0 .5-1.4 1.6-2.7 2.2z M541.6 313.6l-.6-.4 .4-3.1 .7-1.5 .8-1.2-.3 3.1-.5 2.3z M515.7 298.9l1.2-.6 2.4 .3 .8 .8-3.5 .5z M499.8 309.5l-.5 .7-3.1-.2-1.7-.6 1.8-.6 2.2 .3z M544 329.6l-.4-.5 .3-1.3 .8-1.3 .8 .2 .1 1.5-.9 1.8z M504.7 344.9l1.5-1.3 1.9-.9 .5 .2-2 1.2z M520.2 332.3l-.4-1.3 1.2-2.3 1.5-.9 1.1 .2-.4 2-1.7 1.6z M543.1 299.1l-2 .6-3.2-.9-1.2-1.3 2.2 0 2.1 .4z M505.1 341.2l.4-1 1.1-1.1 1.2 .7-.6 1.1-.9 .5z M499.5 346.5l-1.1-.7-2.4-2.1-.9-1.6 1.5 .6 2.8 2.9z M538.6 310.8l1.6-1.7 2-1.1 .6 .3-2 1.6z M513 347.2l-1.6 .4-2.3-.9-2.2-1.4 2.4-.2 2.9 .8z M492.1 297.4l1.4-.6 2.2-.7 1.7 .3 1.2 .4-2.7 .8-3.2 .3z M525.9 338.1l.7-.8 .9-.7 1.1 .1 .3 .5-.9 .7-.9 .1z M499.7 300.2l-.4-1 .8-1.4 1.4 .2 1.3 .7-1.1 1.3-1 .7z M513.3 318.7l1.2-.7 2.2-.8 .7 .5-.5 .7-2.4 .5z M501.8 288.9l-1.8-.3-1.8-.5 0-1.6 1.5-.7 1.1 1.5z M534 326.7l-1.3-.8-.2-1.3 1.3-.6 .8 1.3z M490.3 334.3l.7-.5 2.8-.7 .9 .1-.6 .4-2.4 .5z M500 337.2l.1-.6 2.9-1.2 .9 0-1 .8-2.4 1.3z M545.8 308.8l-1-.4-1.9-2.3 .4 0 2.1 1.7z M516.8 325.2l-1.1-1.5-.8-2.4-.4-2.3 1.3 1 1.2 3.8z M549.5 340.9l.2-.7 2.2-1.1 1.6-.5-1.3 1.1-1.9 1z M527.8 320.4l-.5-.8 .5-1.7 .5 0 .2 1.9z M493.8 330.7l-.7-.9-1-1.6 .1-1 .8 .9 1 1.8z M534.1 347.5l-.8-.6 .2-1.9 .7-1.7 1.2-.6 0 2.5-.3 2.2z M534.6 345.9l.7-.8 2-1.1 2-1 .2 .4-1.9 1.2-1.9 1.1z M551.7 327.3l2.2-1 3.3-.5 .8 .6-1.1 .7-3.2 .8z M503.7 295.2l-1.7-1.4-2.3-4.7 .4-1.2 3.4 5.3z M546.5 326.7l.6-1.2 2.5-.3 .4 1.2-.9 .7-1.8 .7z M522.2 345.6l-.6 .4-2.9-.8-2.5-1 .4-.5 2.3 .3 2.7 .9z M537.8 323.4l-1.3-1.2-2.5-3.9-1.2-3.1 2 2.1 2.5 4.3z M517.5 334l-.6 0-.7-.2-.3-.6 .1-.5 .8 .2 .8 .5z M509.4 331.1l-.9-1.1-.2-1.7 .7-1 .7 1 .1 1.3z M525 317l-.2-1.2 .5-1.5 .6-1.1 .4 .9-.6 1.9z M493.1 307.4l-.1-1.6 .8-2.2 .6-.1-.6 2.2z M514.7 291.1l.1-1.6 .6-1.2 1.2-1.1 1.1 .7-.2 1.7-1.3 1z M516.8 295.6l-.4-2.1 .5-2.8 .5 0-.1 2.5z M540.1 339.6l1.2-.5 3.3-.4 .1 .4-3.2 .6z M544.1 310.7l-1.7-.5-2.5-1-1.5-.9 2 .6 2.2 .9z M553.7 327l-.6-.1-.5-1.6 .3-.9 .4-.6 .4 1.4 .5 1.4z M546.9 307.7l-1.5-.1-1.4-1.6 .6-1.3 1.5-.4 .7 1.9z M518.5 328.1l2.3-1 3.8-1 3.1-.6-.7 .6-2.1 .8-2.8 .5z M538.2 339.6l-.6-.6-.3-1.3 0-1.7 .8 0 .6 1.3-.1 1.5z M528 329.2l2-1.6 2.4-1.7 2.3-1.2-1.5 1.6-3.3 2.1z M493.6 321.3l-.1-.3 3-1.4 2.6-1.1-.4 .5-1.7 1.1-2.8 1.2z M512.6 342.7l-.5-.8-.2-1.5 1.4-.6 1.1 .5 .2 1.5-1.1 .7z M497.4 327.9l-.2-3 .5-4 .6 .7-.1 3.5z M526.1 313.5l-1.2-2.1 1-2.2 1.9-.1-.1 2.6z M506.1 291.8l-.5 .3-.6-3-.2-1.6 .2-.7 .8 2 .7 2.8z M527.5 293.7l-2.1-1.2-3.2-3 .2-.8 3.6 3z M501.5 306.3l1.8-2.4 2-2.1 1.9-1.4-1.4 2-1.9 1.9z M486.9 290.1l3.4-2.1 4.8-1.4 1.1 .4-5.5 2.5z M533.4 307.8l-.8 .1-1.4-1.1 .8-.5 1.2 .7z M509.3 280.5l-.6-1-.5-2.1-.2-1.7 .6 1.8 .4 1.5z M504.1 314.4l-.4-.6-.1-1.2 .1-1 .4 .1 .3 .8 0 1.3z M492 293.5l.6-1.1 2-.4 .3 .9 .1 .9-1.9 .3z M491.7 284.1l.5-.7 3.2-.7 .5 .5-.4 .7-2.7 .4z M498.3 309.8l.8-1.6 1.6-1.7 .5-.1-1.6 2.2z M492.8 280.4l0-1.1 1.8-.4 1.1 .5 .6 .9-1.2 1-1.6-.2z M512.4 280.8l-2.4 0-2.9-.3-.9-.5 1.3-.1 2.3 .3z M494.9 285.4l-.6-.9-.4-2.3 0-1.5 .4 .6 .6 .6 .1 1.9z M500.8 294l-1.9-.8-2-.9-2.6-1.6 1.2 .2 1.8 .7 1.9 1.2z M498.4 298.5l1.6-.6 2.1-.4 2-.2-1.6 .7-2.2 .4z M493.9 288.4l1.2-.9 3.4-.1 1.3 .4-.8 .7-3.7 .6z M509.5 302.7l-.8-1.6 .8-2.1 .6 0 .4 2.1z M491.7 325l.4-2.3 1.8-3.1 .5 .3-1.3 4z M511.7 343.8l-2.7-.8-4-1.8-1.8-1.6 2.6 .7 3.2 1.7z M493.7 298l-.4-1.3 .1-3.1 .4-1.8 .2 2.1 0 2z M503.6 325.1l.1-2.3 1-3.1 1.4-1.5-.3 2.4-.8 2.2z M524.3 336.5l-.7-1.1 1-1.6 1.2 .5-.2 1.8z M503.7 312.5l.7-2.6 2-3.8 1-.7-2.2 4.7z M528.1 288.7l-1-.6 0-1.6 .8-1 1 2.2z M512 299.7l-1.6 .8-1.3-1.2-.4-1.8 1.8-.2 1.5 .7z M526.7 306.6l.3-1.4 1.6-2.5 1.1-1.8 .4 0-1 2-1.1 2z M495.4 310.8l.6-1.7 1.4-2.3 1.3-1.4-.6 1.9-1.7 3.3z M494.7 280.6l-.7 .2-1-.6-.3-.9 1 0 .8 .6z M516 287.4l1-.9 2.9-.6 .1 .6-2.7 1.2z M505.4 322.7l-.9-1.3 .3-1.6 1-.1 .5 1.7z M540.2 328.9l-1.5-1.2-1.9-1.7 .3-.2 2 1.7z M533.5 305l-.7-.9-1-2.2 .5-1.4 .5-.5 .9 1.6 .2 2.4z M519.1 283.1l-.8-.3-.9-1.7 .1-1.5 1.1 1.1 .8 1.6z M548.1 324.9l.4-1.3 2.1-.2 1.4 1-1.4 1.1-1.7 .5z M513.4 302.5l-.6-1.3 1-2.5 1.2 .1-.4 2.9z M497.7 338.7l-1.6-2.4-1.5-3-.6-2 .2-.6 1.3 2 1.2 3.1z M526 300.8l-1.4 .6-2.1-.1-.6-.8 .6-.8 2.1 .4z M513.4 275l-.9 .7-2.2-1 .8-.7 1.9 0z M500.9 302.4l.4-1.7 1.8-1.4 1.1-.2-1.7 2.1z M524.6 350.1l-.4 .4-.5-.3-.5-.7 .8-.3 .8 .2z M526.5 315l1.3-.7 3.4-1.1 1.2 0 .8 .1-1.9 .8-3 .7z M528.8 297.3l-.5 .1-1-.2-.6-.5-.1-.3 .9 0 1.3 .5z M517.3 306.4l.2-1.3 1.3-2.4 1-1.9 .2 .2-.7 1.8-1.2 2.5z M501.6 294.8l-.5-.2 .5-1.2 .5-.4 .3 .1 .3 .7-.6 1z M524.4 350.2l-3.1-.9-2.8-1.2-.5-.8 1.2 .2 2.9 1.1z M542.9 208.3l-1.9-.6-2.8-1.1-2.4-1.9 1.6 .3 1.6 .2 3 1.9z M546.5 203l1.2-.3 3-.2 .4 .5-3.4 .2z M552.3 204.1l-2.8-.4-3.3-1.1 .5-.4 2.8 .8z M541.8 203l-.4 .7-1.1-.1-.4-.7 .5-.6 .9 .2z M545.7 201.2l-1.2 .5-3.9-.4-1.5-.7 1.3-.5 3.8 .4z M538.9 202.2l-1.4-.6-1.3-1.5 1-.3 1.2 1z M542.5 206.6l-1.1-.2-1.3-.7-1.2-.9 .3-.3 1.3 .4 1 .8z M546.3 213.1l-.6-1-1-1.7-.2-1.4-.2-1 1.2 2.4 .7 1.8z M549.5 204.4l-.2-.6 .3-1.4 .7-1.4 .5 0-.1 1.6-.8 1.6z M549.9 206.5l-1.7-2.5-1.7-3.5-.9-2.7 1.7 2.8 1.3 2.6z M542.9 203.1l-2.8 .3-3.8-.4-.9-.8 4.6 .3z M540.4 208.6l-.7-.3 .3-.8 .6-.1 .4 .4 .2 .8z M548 211.9l-.8-.3-.8-1 .8-.2 .6 .7z M541.8 208.7l.9-.7 4.3-.8 1.4 .2-1.9 .7-2.7 .5z M546.9 215l0-2.3 .6-3.8 .9-3.6 .5 .1-.4 3.6-.8 3.1z M550.7 210.7l-1.5 .5-1.5-.1-1.6-.6 1.8-.4 1.5-.1z M539.6 211.1l-2.8-1-2.1-1.5-.3-.8 2.9 1.5z M547.7 206.4l.6-.9 1.1-.3 .9 .8-.6 1.2-1.5 .3z M545.1 205.7l-.5 .3-1.4-.6-1.1-.5 .1-.5 1.2 .2 1 .5z M537.6 204.7l-1-1.2-1.8-2.6-.6-1.5 .9 .6 1.8 3.1z M370.1 222.1l-.8-.2-1.4-1.6 0-.5 1.6 1.4z M363.7 203.5l-.7-.5 .2-3.1 .6-1.1 .7-.9 .2 2.2-.5 2z M361.5 241.1l.9-1 1.6-1.4 1.6-.9-.2 .5-.7 1-2.4 1.5z M356.5 249.9l-.7 .7-1.4 .3-.2-1.3 .3-1 1.1-1 1.5 .8z M370.2 220.1l1.4-2.1 3.1-1.6 .7 1-2.8 2z M373.6 211.8l.3-1.6 .9-1.6 1-.7-1.1 2.6z M377.4 232.7l-1.9-.6-2.7-2.9 1.1 .1 1.9 1.5z M352.9 211.1l-1 .9-2-.2 .9-1.5 1.4-.3z M382 210.2l-2.1-3.3-1.5-3 .6 .2 1.8 2.8z M366.9 224.2l0-1.3 1.8-.2 .7 1.2-1.6 .9z M391.6 208.9l-2.3-1.3-1.7-2.4 .6-.3 2.3 1.7z M386.5 223l1.1-.7 1.2-.6 1.3-.1-.1 .5-1 .6-1.2 .2z M362.2 206.4l-.8-.7-.1-1.2 1.1 0 .3 .9z M366.3 246.5l.8-2.5 1.8-4.2 .8-.2 .3 .8-2.1 3.7z M379.6 204.7l-.7 .1-1.3-.8-.6-.6-.4-.7 1.3 .5 1.4 .9z M370.5 208.2l.4-.3 2.9-.2 .8 .2-1.3 .3-2.2 .2z M363.4 239.1l-1.2 0-.4-1.5 .8-.7 1.1 1z M355.8 225.9l-1.1-1.5-.6-1.8 .8-1 1.2 .3 0 2.1z M363.7 227.6l-1.4-1.5-1.2-2.2 .9 .4 1.1 1.4z M347.8 205l-.1-.9 4-2 2.4-.2-2.2 1.8-3 1.4z M390.5 220.6l-2-1.4-1.7-1.6-.3-.7 2.4 2z M366.8 246.9l.3-1.4 2.1-2.7 .7 .6-1.9 2.5z M390.1 204.1l-1-.5-1-1.6-.7-1.5 1.3 1 1 1.4z M359.1 239.1l2.9-.9 4.7-.6-1 .6-3.5 .7z M381.6 236.5l.1-1.7 1.1-1.6 .8-.2 .5 .7-1.1 1.9z M389.5 224.8l-1.4-.5-1.2-1.2-.7-1.7 .9-.7 1.3 1.4 1.3 1.4z M358.5 233.9l-1.1-.5-.8-.8 0-1.3 1.3 .4 .9 1z M363.2 241.1l1.1-1.6 2.4-1.8 .8 .4-2.5 2.2z M374.2 220.1l-2 .1-1.8-.3-2.2-.9 .1-1 2.4 .2 2.4 .8z M357.9 239l0-1.5 .8-2.9 1.1-2.8 .1 2-1.2 4z M359.3 224.8l-.6-.1-2-1.3 0-.4 .5 .1 1.6 1.1z M387.2 215l-.4-1.4 .7-1.9 .7 0-.4 1.8z M365.8 222.6l1.1-1.9 2.8-3-.2 1.2-1.9 2.5z M381.7 219.4l-.5 .2-.8-.8-.3-.9 .5-.1 .6 .5 .6 .6z M354.8 231.2l.9-.9 1-.4 .6 .5 .1 1.1-1.4 .2z M375.8 233l0-1.3 1.3-1.8 .7 .3-1 1.8z M388.1 223.2l-1.4-.5-2.4-2.5 .6-.7 1 .4 1.4 1.6z M356.6 232.5l1.1-.9 2.3-1.1 1.3-.4-.6 .7-2.2 .9z M374.7 239.8l-.9-.3-1-1.1 .1-.4 .3-.2 1 1.1z M380.6 223.9l-1.1 .4-1.6-.6-.4-1.5 .9-.7 1.5-.2 1.3 1.5z M362.1 208.8l-1.3-1.1 0-1.8 .6-1.6 1.2 1.2 .4 1.9z M376.3 210.7l-.4-.2 .3-2.3 .4-2 .3 .6 .3 1.2-.4 3z M390.1 216.8l-.5 .1-1.8-.9-.3-.4 .5-.1 1.5 .8z M350.3 212.8l-.2-3.7-.1-2.6 .2-2.2 .3-1.3 .3 3-.2 3.4z M387.4 221.1l-.3 .7-1-.3-.4-.6-.1-.7 .9-.3 1.2 .4z M368.8 218.5l-2-.1-2.8-.3-3.2-.7 .6-.3 2.8 .3 2.6 .5z M360.4 203.6l-1.9-1.8-2.7-3 1.2 .9 1.7 1.7z M356.3 201.3l-1 1.1-.7-1.3 .4-.9 1.1 .1z M379.1 221.6l-.5-.6-.9-2-.5-2.4 .7 .7 .7 1.7 .4 1.6z M356.7 219.4l-.3-1.6 1.5-.7 1.7-.4 .2 1.8-1.6 1.3z M361.3 202.9l-.8 .8-1.9-1.5-.6-1.2 1.2-.4 1.9 1.3z M354.4 207l-1.3 0-2.3-.6-.9-1.1-.3-.7 1.8 .2 2.8 1.3z M359.6 246.8l-.5-1-.5-3.1 .4 .5 .5 2.4z M376.5 228.6l.1-1 .8-1.2 .9 0 .8 0-.5 1.2-1 .6z M381.4 235l.3-1.6 3.7-3.4 0 1.1-2.2 2.6z M375.9 217l-1.1 0-1.8-1 .1-.9 1 0 1.7 .9z M369.1 233.3l-1.8 0-1.4-.4-.3-.8 2.2 .2z M563.8 273l-.7-.3 0-2.2 .7-1.6 .7 .4 .2 1.5-.3 1.5z M583.5 299.1l-.6 0-2.1-2.4-.6-1.4 1.3 .9 2.3 2.4z M553.6 291.1l.2-3.3 1-3.9 .9 .2-.7 4.4z M558.6 289.4l.2-1.1 .6-.8 .6 .4-.5 .9z M558.6 276.9l-2.4 .6-6.8-1 .1-.8 6.9 .2z M575.6 301.3l-2.2-.4-3.5-2.3-1.3-1.7 2.6 1.1 2.6 1.5z M573.5 283.1l-1.6-1.4-.1-2.2 .7-.8 .9 2.1z M552.3 292.1l-.8-1.1-.3-1.4 .8-1.6 1.8 .2 .2 1.9-.1 1.8z M589 284.1l-1.1 .3-1.9-.7-.7-.9 3.1 .5z M546.5 270.9l1.3-1.7 3.1-2.6-.1 .9-2.6 2.6z M553.8 291.4l-.5-2.6 0-3.1 .1-2.6 .5 2 0 3.1z M567.4 283.6l-.7-.6 .7-2.1 .9-.5 .6 .9-.7 1.7z M584.3 308.1l.8-5.3 2.1-6.2 .6 .6-1.4 5.4z M559.1 284.1l-.8 .4-2.2-1.6-1.7-1.5 .4-.7 2.1 .7 1.6 1.5z M573 283.7l-.6-1.3 .2-1.1 .6-1.1 1.2 .1 .4 1.4-.6 1.4z M567.2 274l2.1-.7 3-.7 2.6-.1-.7 .6-2.3 .4-2.6 .5z M564.8 274.3l.5-.7 1.1-1 .6 0-.5 .7-1 .9z M563.6 275.7l-.7-2.3 .1-2.8 .5-1.3 .3 3.9z M567.5 282.5l1.2-1 1.3-.4 .3 .4-1.3 .8z M585.3 278l-1.6-1.3 0-2 1.5-1.1 1.6 .3 .2 1.5-.4 1.1z M568.7 288.2l-.4 .5-1.8-1.5-1.8-1.8 .6-.5 2 .9 1.8 1.9z M574.5 285.9l-.1-1.6 .4-1.9 .6-1.1 .1 1.3-.4 2z M578.3 301.3l1.8-1.1 2.5-.1 .1 1-2.7 1.3z M592 284.7l-1.1-.5-1.2-.8-1.5-1.1 .3-.1 1.4 .6 1.6 1.2z M590.5 305.3l-1.1-.8-1.1-2.4-.2-2 1.4 1.3 1 2.5z M595.6 304.1l-1.7-.3-1.6-.7-.2-.7 2.2 .8z M571.4 297.1l-2.1-2.3-2.4-2.7-.8-1.8 0-.7 1.8 1.9 2.4 3.4z M584.8 280.3l-.2-1.5 1.2-5.3 .8-2 1-2.4-.7 4.5-1.1 3.7z M550.3 286.2l-.6-.2 2.3-3.2 1.4-.8 .1 .4-.6 1.5-2.1 2.5z M568.3 295.3l.2-5 .8-3.9 .7-.1-.2 4.7z M552.2 287.1l-.6-.7-.6-1.1 .5-.7 .7 .5 .4 1.2z M567.8 302.3l1.6-1.1 2.5-1.6 3.3-1.4 .2 .4-3.1 1.9-3.9 2z M582.1 305.2l.6-2.1 2.2-3.5 1.1-1-.4 1.6-1.8 3.4z M586.4 293.1l.8-3.7 3.1-4.4 .3 1.2-1.6 3.3z M569.6 298.2l-.2-1.2 2.7-4.3 1.6-1.4-.9 2.4-1.8 3.2z M599.2 307.4l-.5-.6 .8-1 .8-.6 .5 .9-.7 1.4z M554.3 290.9l-1.5-1.6-.9-2 .4-.4 1.2 1.8z M590.6 292l1.4-1.2 1.7-1.3 .5 .2-.6 .7-1.4 .9z M578.7 300.1l.1-.6 2.3-.4 1.7 .3 .2 .5-1.9 .5-2 .1z M569.6 287l-1-.5 1.2-2.8 1.4-1.7 .4 2.1-1.2 2.2z M547.4 282.7l-.2-1.1 1-.9 1.9-1 .9 1.6-1.1 1.7-1.6 .2z M555.5 272.7l.7-1.3 1.8-.3 1.5 .4 .7 1.2-1.8 .8-2 .4z M558.8 294.2l-1.7-.4-.7-3.3 1.6-.1 1.5 2.3z M566.3 307l-.4-1.4 .1-3.3 .2-2 .3 .3 .1 1.8 0 2.6z M565 299.1l1.7-.6 3.3 .1-.9 .6-2.1 .2z M564.8 299.9l-1.4-1.3-1.1-2.5 1.1-.8 1.9 2.9z M569 306.5l-1.1-.7-1.5-1.7 .4 0 1.2 1.1z M598.9 305.9l-.2-.7 1.4-.9 .8 .2 .8 .2-.7 1-1.4 .4z M590.1 305.3l-.9 .1-1-1.4-.5-1.4 1.3-.2 1.6 2.1z M556 284.5l-1.1-2.6-1.5-5.2 .7-.3 1.7 5.7z M556 286.2l-.9-.2-1.9-.9-1.3-1.1 0-.5 1.8 .8 1.6 1.2z M588.9 302.6l1.6-1.1 1.9-.4-.3 1.3-1.4 1z M593.3 310.3l1.1-1.5 2.3-2.5 2.1-1.7 .5 .1-2.2 2.3-2.1 2z M596.3 303.2l-.7 .6-3.1-.7-2-1-1.4-1.3 3.9 .8 3 .7z M589.6 307.2l.2-1.6 .2-1.3 .7-1.7 .4 .4 0 1.5-.7 1.8z M569.9 305.6l-.1-1.2 .6-1.3 .8-1.4 .5 .7 .1 1.2-.9 1.2z M576.9 302.8l.2-2.2 1.9-1 1.2 1.1 .6 1.7-1.9 .8z M581.5 288.9l-1.3-1.1-.7-2 1.4-.3 1.3 1.8z M562.2 289.4l-.1-1 .8-1.6 1.6-.4-.3 1.7-1.1 1.3z M574.1 279.5l-.5-.6-.5-1.8 .6-.6 .6 .7 .2 1.6z M559.6 293.9l-.7-.4-.8-1.2 .1-1 .9 .2 .9 1.7z M588.3 296.7l1.9-.2 2.4-.1 2 .3-2.4 .2-2 0z M575.7 289.2l-1.3 .4-1.1-1.7 1-.6 1.6 .6z M560.1 288.4l-.2-1.3-.2-2.4 .2-1.8 .4-.8 .1 2.8 0 2.7z M577.8 291.6l-2.2-1.2-2.7-2.5 0-1.2 3.5 2.9z M670 310l8-2 12 12 6 12-6 4-8-10-8-8z M610 366l8 0-2 12-5 0z M638 366l12 0 0 7-10-1z M413.3 519.1l.3-2.7 2.3-6.2 .5 .6-1.7 5.4z M411.5 530.3l2.1-1.6 3.6-1.3 1.2 0-4.2 2.2z M437 541.6l1.6-3.1 3.6-2.8 1.3 1.5-3.2 3z M426.9 528.6l-1.6 .1-1.4-2 .6-.7 2 1.1z M422.3 513.5l-1.1-.6-.5-1-.2-1.2 .7-.1 .9 .5 .4 1.3z M432.5 524.3l-1.9-1-2.9-2.7-.4-1.1 1.4 .7 2 2z M415.5 517.9l-2.2-.1-2.1-2.2 .1-1.3 1.3 0 1.6 1.3z M448.6 541.9l-2-.5-.8-2 .8-.6 2.1 1z M415 523.7l2.3-1.9 5.1-2.2-1.1 1.5-3.5 2.2z M415.6 534l.6-1.7 .8-1.8 1.7-3.2-.1 1.2-.7 2-1.7 3.3z M431.3 534l-1.1-1.1-.7-2.4 0-1.1 1.4 2.8z M425 520.5l-1.9-.4-2.9-1.4-1-1 4.1 1.7z M438.6 539l1.1-1.4 1.8-1.5 .6 .2-2.1 2.3z M420.4 538.7l-1.4 0-1.9-2.1-.7-1.8 1.8 .8 2.3 1.7z M437.1 539.4l1.9-1.1 3.2-.4 .4 .7-3.1 .8z M447.5 545.3l-.3-1.6 2.2-2.8 2.1 .4-.4 2.1-1.9 2.2z M420.6 511l0-1.2 1.7-2.9 2-.9-.2 2.2-2.3 2.3z M435.5 535l.9-2.7 1.5-2.2 .7 .5-1.2 2.3z M429.6 538.6l-1.2-1.4-1.7-2.5-1-2-.3-1.5 2.1 2.7 1.4 2.8z M432.4 512.1l-.8 .4-1.8 0-.7-1.2-.3-1 1.9 .2 1.6 .7z M420.4 519.5l1-2.3 2.2-3.3 1.5-.8 .6 .1-1.3 2-2.4 3.4z M429 533.7l2.8-2.2 4.9-3 1.3 .2-1.7 1.5-4.2 2.5z M436.3 530.9l-1.9 .3-.8-1.5-.5-1.5 1.2-1.3 1.5 .9 .6 1.3z M425.3 540.8l2.2-4 3.3-4.7 .4 .7-3.2 5.4z M428.7 519.4l.5-1.2 4.6-3.3 3.5-2.3-1.3 1.9-5.9 4.5z M447 542.8l2.2-1.1 4.4-.6 3.4 .6-1.7 .9-1.5 1.1-3.9-.3z M438.4 528.3l-2.8 .6-1.1-2.3 1.1-1.7 2.2 .9z M433.1 528.8l-4.4-.5-4.6-1.8 1.1-.8 4.6 .8z M418.9 517.3l-.2-1.1 1.3-2.1 1-.1-1 2.9z M446.7 530.6l-2.1 .6-5.3-.4-.7-.7 1.1-.6 4.8 .3z M442 546l2-2.5 5.1-4.1 3.1-1.9 2-.7-4.3 3.8-4.4 3.3z M419.6 517.9l-2-1.5-3-3.3 1.1 .3 3 2.5z M433.2 544.5l-.4-.5 2-1.6 2.1-1.6-.1 .9-1.1 1.5-2.1 1.5z M438.2 542.4l-.9-1.4-.4-2.5 .9 .6 1 1.7z M416.2 534.1l3.4-2.9 6.2-2.7-.9 1.7-3.8 2.1z M422.6 518.4l-1.2-.6 .1-2.9 1.1-1.5 1.1-.1 .4 2-.1 2.8z M438.1 524.7l-1.4-.5-1.2-1.1-1.2-1.3 .5-.7 1.7 .6 1.4 1.7z M432.6 530.3l2.6-1.4 4-1.3 1.5 .4 .1 .4-1.7 .9-4 1.1z M436.2 537.2l-.5-2.8 .3-4.6 .4 .1 .3 4.1z M419.1 523.7l.5-.3 1.2-.1 1.5 .1-.1 .5-1.3 .2-1.4 0z M418.5 524.3l-.6-1.5 .5-3.6 .6 .8 .1 2.5z M422.6 519.4l1.3-1 3.2-.6 1.4 .4-1.2 .9-2.5 .2z M434.8 520.6l-3.3 .6-4.6-.3 .4-1.2 4.3 .1z M427.8 523.3l-.3-1.3 1-2.3 2-2.8 .1 2.9-1.4 3.8z M429.4 524.8l-1-.1-2.6-1.9-1.1-1.9 2.1 .8 2.7 2.3z M604 424l30-2 4 6-20 2-12 0z M688 471.6l-1.3 .2-2-.7-1.2-.9 1.7 .1 1.8 .4z M738.1 504.2l-2.3-.7-1.9-3.1 1.3-.4 2.8 1.9z M674.7 500.9l2-1.2 3.6-1.2-1.1 .9-2 .9z M682.9 466.6l-.3-.8-.1-1.1 .9-.8 .7 .4 .2 1-.6 1z M711.4 468.8l-1.6-1.8 1-2.3 3.2-.1-.6 3.1z M720.4 455.1l1.1-.5 1.5-.5 1.4 .1 .5 .6-1.6 .6-1.5-.2z M687.3 500.7l.7-1.7 5.7-3.6 2-.1-1.3 1.8-4.5 2.7z M705.9 511.3l-1.3-2.9 .2-5.1 1.6 1.1 .7 3.9z M738.6 479.5l-1.7-1.3-1.8-2.5 .9 .4 1.6 1.4z M693 452.8l-1-.9-.7-1.8-.6-2 .9 .6 .7 1 .8 1.8z M683.9 442.2l-3.5-.2-3.7-3.1 0-1.5 4.5 2.1z M688.2 497.8l-2.6 0-2.4-.7-1.9-1-.6-1.1 2.8 .4 2.5 1.1z M723.8 527.7l-1.9 .1-4.8-1.5-1.6-1.1 1.5-.3 4.4 1.7z M699.8 433.3l-.6-1.2-.4-3.4-.1-2.7 .4 0 .6 2.5 .5 3.8z M686 447l1.1-4.2 2.3-5.4 2.1-3.4-1.5 4.6-1.8 5.1z M713.5 450l-1.2 0-1.8-3.6 .7-2.7 1.2-.3 1.9 1.9 .7 4.6z M719.6 467.8l-1.8 .3-4.3-1.9-1.1-1.1 1.6-.1 3.7 1.3z M706.7 489.2l.1-1.7 .8-2.4 .8-1 .4 1-1.1 2.6z M693.5 517.7l-2.4 .5-2.3-2.6 .7-2.8 2.8 .1 1.7 2.6z M730 498.5l-2.3-.6-3.1-1.5-3-1.8 2.9 .9 4.1 1.7z M710.1 516.3l-.2-1.3 1.6-2.9 1.3-1.3 .8-.2-.6 2.2-1.5 1.9z M716.8 456.6l-.8 .2-1.8-1.3-.8-1.9 .5-1.1 2 1.5 .8 1.7z M709.8 519l3.3-2 4.7-1.1 4.4-.4-4.1 1.9-3.7 .9z M730.1 510l-.2-.6 2-.8 1.5-.3 .6 .4-1.5 1-1.5 .3z M726 488l-1.1-2.7 .9-5.1 1.9-.3-.3 5.5z M714.2 470.2l-2.3 0-5.9-2.8 .1-1.4 6.3 2.6z M690.7 493.3l-1.7-.7-1-2.5 1.4-1.1 1.6 .4 1.3 2.7z M692.4 502l.8-1.5 4.3-1.8 3.5-.8-2.2 2.1-4 1.5z M687 464.7l-1-.3 2.6-4.4 2.9-3.3-.4 2.3-.4 2.4-2.7 2.8z M708.5 475.2l.1-2.8 .6-4.6 1.2-2.4-.2 3.6-.7 3.4z M721 535.5l-1-1.1-.9-5.3-.5-3.9 .4-1.6 1.3 5 1.1 5.7z M693.9 465.3l-1.8-2.1-2.4-2.8-.2-.9 1.3 1.3 2.5 2.9z M686.2 520.3l-3.4-1-3.2-1.6-1.8-1.4 .2-.5 2.3 .7 2.9 1.6z M692.6 461l-.8-1.1-.6-2.8 0-2.4 .7-.1 .5 2.6 .3 2z M717.6 506.4l-.3-.8 .1-2.6 .2-3.7 .5 1.4 .3 2.1-.3 3.2z M698.2 430.2l-.7 .5-.7-7.3 .2-5.6 .9 2.8 .6 3.2 .6 6.8z M715.4 485.3l2.3-1.4 3.2-1.2 1.8 .4-.5 1.4-5.1 1.6z M714.9 476.7l-2.5-.9-4.2-2.2-1.5-1.8 3.3 1.5 3 1.7z M705.4 426.5l-1.2-1.1 1.4-2 1.5 .7-.4 2.1z M699.3 489.3l2.8-1.5 4.2-.1 1.4 1.2-1.7 1.1-4.4 .9z M711.9 444.1l-2.4-1.4-3.3-4.8-2.1-3.4 2.2 1.2 3.4 4.8z M695.5 443.1l-2 0-2.2-3 1.5-1.4 2.6 2.4z M730.9 492.6l.2-3 .7-3.2 1-3.2 .9-.7-.9 4.2-.7 2.9z M689.1 459l-1.5-2.2-1.4-6.2 .5-1.8 1.3 .7 1.6 7.2z M705.7 437.2l-.5-.8-.3-2.2 0-2 .5-.5 .4 2.4 .1 1.9z M724.1 427.9l-.9 .2-2.1-1.6-.6-1.3-.2-.9 1.9 1.2 1.6 1.4z M717 518l2.1-1.1 2.5-1.1 1.5 .1-1.4 1-2.7 .9z M712.3 434.9l3.5-3.5 6-4.7 1.5-.2-1.7 1.9-5.3 4.4z M709.4 487.7l-.6-1.2 2.1-3.1 2-2-.2 2.4-2 3.4z M681.5 525.8l-1.8-.5-2.5-1.6-2.4-1.8-.6-1.3 3.5 1.8 3.1 2.2z M691 503.7l-.2-.6 1.3-1.6 1-.6 1.3-.7-1.2 2-1.6 1.9z M701.3 435.3l-.4-.6-.6-2-.3-2.4 .5 .4 .5 2 .8 2.9z M715.3 486.3l-.7-.2 2-2.6 2-2.4 .1 1-.9 2-1.7 1.8z M708 462.3l-2-1.1-.2-3.4 2.4-.6 1 3.2z M723.1 491.2l1.3-2.2 2.7-2.6 .9 .2-2.8 3.3z M726.1 466.1l5.3-.8 6.1-.8 .7 .7-1.1 .7-7.3 .6z M700.9 481.3l-.8-.5-.9-1.5-.3-.8-.1-.8 1.1 .9 .7 1.5z M709.3 434.2l-.9-.6-1.4-2.8 .1-1.2 1 .8 1.4 2.9z M684.4 435.2l-1.1 .3-1-1.5-.7-1.2 .6-.9 1.3 1.1 .8 1z M715.6 497.7l-.5-2.5-.2-2.9 .4-2.3 .6 2.5-.1 2.6z M704.2 463.7l.6-2.6 3.4 0 .6 3.2-2.8 .5z M684.3 475.7l.2-.8 .8-.6 1 .4-1 1.3z M697.3 486.5l2.2-.7 3.8-.5 .4 .5-4.5 .8z M723.5 486l4.1-3 6.5-2.9 2.1-.2-7.9 4.4z M728.6 471.6l-.6 .5-1.4-1.1-1.5-1.1 1.1 0 1-.2 1.1 1.2z M679.1 456.3l-.4-2.8 .6-4.3 1-1.2-.1 6z M723.2 464.6l-.7-1.1 .6-1.6 1-.6 .8 .9-.5 1.7z M677.5 491.4l-2.5-2.3-.1-4.7 1.3-.4 2.1 4.1z M717.1 424.6l-1.7-1.1-.5-2.2 1.9-1.2 1.2 1.5 .7 1.8z M697.6 515.7l.4-1.7 .6-1.2 .6-.6 .1 .7-.7 1.5z M726.8 486.5l-.9 .4-1-.5-1-1 1.4-.2 .9 .5z M679.6 503.9l-1.1-1.5-.7-1.6-.3-1.9 .9 0 1.2 1 .8 2.9z M687.7 517.9l3-2.8 6.2-3.5-.6 1.8-5.1 3.7z M675.7 435.4l.7-1 4.9-1.7 3.2-.9 3-.4-5.7 2.4-5 2z M714.1 440.3l.4-.7 1.5-1.1 .9 0 .7 0-1.1 1-1.6 .8z M723.2 442.5l-2.1-.3-2.4-.7-.2-1.1 .9-.9 2.2 1.6z M717.1 440.2l.4-1 .9-.9 .9-.5-.2 .9-1 1.1z M707.1 527.7l-3.3-2.1-3.4-3.1 .4-.3 3 2.4z M726.1 437.7l-4.1 .9-5.4-.6 1.6-1.2 3.9-.4z M725.7 531.8l-1.9-1-2.5-1.9-2-2 .7 0 1.9 .9 2.2 2.2z M673.9 500.4l0-2.6 3-.2 2.1 1.2-2.9 1.7z M722.1 514l-.2-1.5 2.9-1.6 1.5 .2-2.8 3z M709.1 530.6l-.9-3.5-.5-3.2 .5-.9 .8 4.3z M709.2 511.3l-2.6-4.4-2.1-6.4 .3-1.1 3.5 7.5z M724.5 423.6l-.8-.5-.6-1.8 .3-.9 .8 .4 .5 1.9z M691.2 448l-.9-1 .9-.8 1-.8 .7 1.1-.6 .9z M687.4 509.1l-1.5 .2-4.1-1.5-3.1-1.4 1.6-.1 2.1 .5 3.9 1.1z M691.5 468.8l-1.5-.8-1.1-2.2 .4-.7 1.7 2z M693.2 451.3l-1.2-.3-.1-2.2 1.4 0 1 .4 .1 1.9z M682 522l-1.3-.3-.5-1.2 .7-.4 .9 .7z M701.5 528.3l-3.9-1.3-3.6-1.6-1.1-1.2 1-.4 4.8 2.4z M715.3 519.6l-3.7-4.3-3.3-6.2-.4-2.7 5.2 8z M709.6 494.6l.3-2.1 3-5.4 2.2-2.3 1.2-.6-2.3 4.2-2 3.3z M708.6 477.1l2.3-5.2 2.1-4.4 2.1-2.8 .5 .2-1.6 3.5-3.1 6.1z M680 468.9l-.4-2-.1-2.6 .1-4.4 .7 2 .3 2.4-.1 2.6z M708.8 511.3l-1.3 1-1-1.5-.4-1.8 1.7-.5 1.8 .1 0 1.8z M729.6 501.4l-2.5 0-3.6-1-3.4-.9 .4-.4 2.7 .2 4.2 1.1z M673.7 510.8l-1.8 .6-1.4-1.2 .8-1.5 1.9 .2z M683.4 442.4l-.8-.7-.3-1.7-.2-2.2 1.1 .1 .8 1.7-.1 1.7z M685.9 501.4l-1 .8-2-.3-.1-1.1 2.1-.2z M722.8 433l2.1-3.5 4-4.6 2.5-1.6-1.8 3.1-3.4 3.9z M724.5 465.7l-2.3 .2-1.7-1.7-.3-1.7 1.8-.2 1.4 1.2z M721.3 523.9l2.7-4 6.3-6.4 3.2-1.8-3.4 4.2-4.5 4.7z M733 438.5l-1.3-.7-3.5-3.9-3.8-5.4 1.4 .2 3.9 4.6 3.5 4.4z M718 473.8l-1 0-.7-1.8-.1-1.3 .8 0 .8 .6 .7 1.6z M722.6 510.5l-2-1.6-.6-3.3-.4-2.8 1.2-1.2 1.5 3.1 .3 2.5z M697.6 425.9l-1.7 .3-2.1-.2-.7-.7 3 .1z M684.7 516.9l-1.2-1.9-.8-2.8-.3-2.3 .4-1.7 1.4 3.1 .7 3.6z M704.3 515.5l1-2.2 1.8-1.2 1.9 0-.1 1.9-2.4 1.9z M711.8 501.6l-.6-.6-.8-2.1-.2-2.3 .7-.1 .7 2.4 .6 2.4z M699.8 438.3l1.2-1.7 3-3.5 2.6-1 2.6-1-3.5 4-5.4 4.1z M723.6 427.2l-2.3 .9-4-.3-1.5-1.5-.4-1.2 2.9 .1 2.6 .6z M678.6 498l-2.2 .6-6.3 0-1.1-1 2.9-.4 5.1-.1z M708.3 454.3l.8-1.5 4.1-2.9 .1 .7-3.2 3z M670.1 519.2l1.8-1.7 1.9-1.7 3.5-.1 .4 2-2.6 1.9-3.7 1.2z M717 469.1l.1-.8 2.2-.8 1.9-.1-1.1 1.3-2.5 1z M698.2 465.2l.2-.8 .8-1.1 1.7-.4-.2 1.2-.5 1-1.4 .6z M730.7 481.7l.1-.8 .9-1.2 .7-.5 .7-.1-.5 1.2-1 .7z M696 532.9l.2-.9 3.3-3.4 3.2-2.7-1 1.7-1.5 2-3.5 3.4z M664.2 526l2.5-1.7 2.3-.9 3.3-1.3 .3 .8-3.1 1.5-3.3 1.6z M699.1 491.8l-3-.6-3.5-1.5 .8-.3 2.8 .8z M704.3 478.6l0-1.4 3.4-2.3 3.5-1 .2 1.4-2.3 2.1-2.7 .8z M680.5 472.8l.1-1.7 .8-2.9 1.3-2.9 .6 .1-.2 2.8-1.9 5.1z M710.7 480.7l-.6-2.9-.6-4 .5-1.7 .6 2.6 .5 3.8z M718.5 462.8l-3.3-2.2-3.9-5.5 2.2 .5 3.6 3.4z M719.9 528.3l2.8-1.3 6.6-1.3 5-.5-4.6 1.6-5.8 1.2z M688 494l-3.6-.3-3.9-1.3-1.7-1 5.6 1.2z M719.5 433l-1 .8-2.1-.7 .7-1.1 1.6 .1z M722.1 490.9l-.7-2.4 1.3-6.2 1.4-4 .7 .8 .1 3.5-1.3 6.2z M691.4 457.6l.7-3.9 1-3.8 .5 .3-.8 4.3z M638 366l10 0 2 8-8 0z M706 406l4-2 2 10-4 2z M724 556l4-2 1 8-4.6 1z" fill="#000"/></g>
<g filter="url(#fg)"><path d="M1403.8 331.2l6.2-7.4 12.5-2.6 11.3 0 1.2 13.8-6.2 11.2-8.8 5-10-2.4-5.5-6.3z M753 711.2l5.8-1.7 3.7 5.5-2 5.5-5.5 .7z M863.8 789l8.7 5 2.5 10-6.2 0-3.3-7.5z M628 214l12-2 4 6-6 4-8-2z M602 252.4l12-.8 5.6 6.4-5.6 5.6-8-2z M702 224l12-2 4 10-8 8-8-4z M710 318l20-2 4 12-6 12-14 2-6-10z M350 438l8 4 2 14-6 2z M358 470l8 4 2 12-8-2z M374 502l8 4 2 12-8-2z M414 442l16-2 12 6-2 14-14 4-10-8z M736 452l6-1 1 6-6 1z M570 628l12 2 2 10-10 4-6-8z M756 574l14 0 4 10-8 6-8-6z M638.6 242.7l20.4-5.8 29.2 2.9 23.3 5.8 23.3 8.7 7.3 13.2-13.1 11.6-23.3-2.9-23.4 5.8-23.3-4.3-17.5-8.8-8.7-14.6z M656.1 369.5l26.2-2.9 5.9 23.3-11.7 20.4-17.5-2.9-5.8-20.4z M614 374l12-2 4 10-10 8-8-6z M610 396l10-2-2 12-9 2z M630 388l10-2-2 10-8 2z M623.7 384.1l17.5-2.9 5.9 14.5-8.8 14.6-14.6-2.9z" fill="#000"/></g>
<g filter="url(#fw)"><path d="M633 614.4l6.6 0 0 6.6-5.6-.6z M698.4 558l5.2 0 0 4-5.2 0z M632.4 614.4l7.2 0 0 5.6-6.4 0z" fill="#000"/></g></g><g filter="url(#f1t)"><path d="M1089.5 226.2l8-5 9.5-2.4 .5 2.4-7.5 5-8.8 3.3z" fill="#000"/></g>
<g filter="url(#f10t)"><path d="M1275 866.5l12.5-5 2.5 5-10 5z" fill="#000"/></g>
<g filter="url(#f4t)"><path d="M392 614l22 0 0 3-22 0z M432 641l4 1 3 7-4-1z M411 636l3 0 0 3-3 0z" fill="#000"/></g>
<g fill="none" stroke="#000" stroke-width="3.6" stroke-linejoin="round" stroke-linecap="round">
<path d="M338.5 195.7 L957.5 195.7 L957.5 185.0 L966.7 185.0 L968.8 201.5 L975.0 205.0 L987.5 207.5 L995.0 206.2 L1005.0 206.5 L1015.0 207.5 L1020.0 213.8 L1030.0 216.2 L1038.8 221.2 L1045.0 219.0 L1052.5 216.2 L1058.0 217.0 L1062.5 220.0 L1066.2 223.0 L1075.0 223.0 L1083.8 223.2 L1078.0 226.0 L1065.0 229.0 L1050.0 237.5 L1035.0 249.0 L1025.0 257.0 L1020.0 261.5 L1030.0 258.8 L1045.0 253.8 L1055.0 251.2 L1057.0 254.0 L1052.5 260.0 L1060.0 261.0 L1066.0 260.0 L1080.0 256.2 L1092.5 251.2 L1105.0 245.0 L1112.5 240.0 L1122.5 238.0 L1124.0 241.2 L1115.0 245.0 L1108.8 252.5 L1107.5 256.2 L1112.5 258.8 L1120.0 256.2 L1130.0 262.5 L1140.0 265.0 L1150.0 263.8 L1160.0 260.0 L1177.5 258.8 L1186.2 257.5 L1187.5 262.5 L1192.5 266.2 L1200.0 267.5 L1203.8 275.0 L1208.8 280.0 L1200.0 280.0 L1190.0 277.5 L1180.0 277.5 L1170.0 280.0 L1155.0 282.5 L1150.0 286.2 L1142.5 285.0 L1140.0 290.0 L1132.5 292.5 L1125.0 300.0 L1121.0 310.0 L1119.0 318.0 L1117.0 322.0 L1122.0 316.0 L1130.0 305.0 L1137.0 297.0 L1139.0 300.0 L1133.0 310.0 L1127.0 320.0 L1127.9 326.6 L1124.6 342.0 L1120.1 361.5 L1122.3 376.8 L1126.4 393.5 L1131.3 401.0 L1138.0 400.5 L1144.3 397.4 L1151.5 387.9 L1157.1 378.2 L1158.2 368.4 L1155.3 355.9 L1151.0 344.8 L1152.6 335.0 L1156.4 326.6 L1157.7 315.5 L1161.6 309.4 L1168.3 307.1 L1171.6 301.6 L1172.8 308.5 L1175.0 307.1 L1177.3 299.6 L1185.1 296.8 L1183.3 289.6 L1190.7 285.4 L1197.4 288.8 L1205.3 293.2 L1216.5 297.4 L1221.0 305.2 L1223.2 314.1 L1222.5 325.2 L1217.6 333.6 L1209.8 337.8 L1209.8 344.8 L1215.4 345.6 L1221.0 337.8 L1231.1 333.0 L1237.8 339.2 L1241.2 354.5 L1242.9 363.4 L1241.2 372.6 L1233.3 379.6 L1227.7 383.2 L1225.5 390.7 L1219.9 398.2 L1229.9 401.9 L1235.5 406.0 L1243.4 406.6 L1259.1 404.6 L1270.3 397.7 L1285.5 391.3 L1295.4 387.1 L1302.6 383.2 L1315.1 375.4 L1322.3 367.0 L1318.5 360.1 L1318.5 355.3 L1330.8 352.6 L1348.8 353.7 L1360.0 355.1 L1371.2 353.1 L1380.2 348.4 L1382.4 346.1 L1381.3 337.8 L1384.6 335.0 L1379.0 331.7 L1390.2 323.9 L1402.6 311.9 L1411.5 307.1 L1487.8 306.9 L1490.0 301.6 L1497.2 298.8 L1500.1 297.9 L1502.3 300.7 L1503.0 296.0 L1507.3 296.6 L1505.3 293.2 L1512.4 286.8 L1512.4 284.9 L1515.8 280.7 L1514.7 273.7 L1516.9 269.5 L1520.3 267.6 L1521.4 259.8 L1538.7 238.6 L1542.7 239.4 L1542.7 244.5 L1546.1 246.4 L1558.8 241.4 L1567.4 245.8 L1570.9 249.5 L1570.9 281.0 L1571.8 284.3 L1570.7 287.6 L1578.6 290.4 L1579.2 296.6 L1578.1 299.3 L1580.8 303.5 L1585.1 302.7 L1588.7 309.9 L1589.3 312.2 L1584.2 316.9 L1575.2 320.5 L1566.2 323.9 L1561.8 327.5 L1555.0 328.0 L1548.3 322.5 L1544.9 326.6 L1542.7 333.6 L1534.9 336.4 L1525.9 342.0 L1516.9 344.8 L1513.6 350.3 L1509.1 355.9 L1505.7 360.9 L1503.0 366.5 L1507.9 372.3 L1501.2 376.8 L1499.0 381.0 L1504.6 384.6 L1506.8 392.1 L1510.2 396.8 L1519.2 397.1 L1521.4 393.5 L1516.9 388.8 L1521.4 390.2 L1522.5 399.9 L1514.7 401.0 L1506.8 403.8 L1505.7 399.1 L1496.7 404.6 L1494.5 405.5 L1490.5 397.7 L1488.9 406.0 L1488.2 408.6 L1479.7 409.9 L1468.7 411.1 L1456.4 411.6 L1449.7 414.4 L1439.6 418.6 L1436.2 422.8 L1442.9 420.8 L1454.1 419.4 L1463.1 419.1 L1469.8 414.7 L1467.6 418.6 L1479.5 416.6 L1465.4 422.8 L1449.7 428.3 L1437.3 430.3 L1431.3 430.3 L1430.6 427.5 L1426.1 432.5 L1431.7 433.9 L1430.6 443.7 L1429.5 453.4 L1422.8 464.0 L1417.1 468.7 L1410.9 476.3 L1410.4 469.6 L1402.6 465.9 L1397.6 459.0 L1397.0 456.2 L1398.1 463.2 L1400.3 471.5 L1404.8 478.5 L1407.5 480.4 L1408.2 489.6 L1403.7 502.2 L1395.8 514.7 L1389.1 525.8 L1386.9 525.8 L1388.0 516.1 L1392.5 506.3 L1389.1 499.4 L1383.5 493.8 L1380.2 484.1 L1382.4 474.3 L1384.6 465.9 L1386.9 460.4 L1383.5 461.8 L1376.8 468.2 L1376.8 475.7 L1375.7 488.2 L1377.9 498.0 L1380.2 504.1 L1373.4 498.0 L1365.6 493.8 L1374.6 502.2 L1381.3 506.3 L1380.2 513.3 L1379.0 521.7 L1373.4 524.4 L1380.2 530.0 L1380.2 532.0 L1386.9 532.0 L1389.8 542.6 L1393.6 555.1 L1398.1 569.0 L1397.4 579.3 L1386.9 584.3 L1375.0 596.9 L1365.6 594.9 L1355.5 599.7 L1346.5 609.4 L1343.2 617.8 L1329.7 617.5 L1321.9 622.0 L1316.3 633.1 L1311.8 640.1 L1299.4 649.3 L1288.2 655.4 L1282.6 662.4 L1278.1 668.5 L1273.7 672.1 L1270.3 683.2 L1265.8 694.4 L1264.7 705.3 L1265.8 715.3 L1268.1 727.8 L1274.8 747.3 L1278.1 757.1 L1284.9 768.2 L1283.7 779.4 L1289.4 794.7 L1295.0 808.6 L1296.5 817.0 L1295.4 830.9 L1294.3 842.9 L1290.5 851.8 L1287.1 858.8 L1277.0 860.7 L1271.4 858.8 L1268.1 846.2 L1256.8 833.7 L1253.5 822.5 L1247.9 815.6 L1242.3 805.8 L1236.7 794.7 L1238.9 784.9 L1233.3 783.5 L1234.4 772.4 L1237.8 761.3 L1235.5 751.5 L1228.8 747.3 L1221.0 737.6 L1215.4 727.8 L1207.5 722.3 L1199.7 723.6 L1198.6 727.8 L1185.1 734.8 L1177.3 734.0 L1176.1 729.2 L1170.5 722.3 L1158.2 715.8 L1149.2 713.9 L1135.8 715.8 L1128.6 717.2 L1120.1 718.1 L1117.8 706.9 L1115.6 715.3 L1108.9 715.0 L1097.7 713.9 L1087.6 716.7 L1083.1 720.0 L1090.0 726.5 L1080.0 734.0 L1087.5 744.0 L1093.8 751.5 L1087.5 756.5 L1085.0 751.5 L1075.0 744.0 L1068.8 751.5 L1061.2 749.0 L1055.0 752.8 L1050.0 746.5 L1040.0 741.5 L1036.2 735.2 L1030.0 731.5 L1025.0 734.0 L1020.0 740.2 L1007.5 735.2 L997.5 732.8 L985.0 735.2 L975.0 737.8 L962.5 744.0 L950.0 754.0 L932.5 764.0 L920.0 769.0 L912.5 779.0 L906.2 786.5 L903.8 804.0 L907.5 819.0 L910.0 841.5 L895.0 839.0 L882.5 834.0 L870.0 827.8 L862.5 814.0 L860.0 799.0 L852.5 789.0 L840.0 769.0 L827.5 744.0 L815.0 734.0 L812.5 733.8 L797.5 732.5 L787.5 737.5 L782.5 750.0 L777.5 756.2 L762.5 747.5 L750.0 737.5 L740.0 720.0 L730.0 703.8 L720.0 693.8 L710.0 683.8 L702.4 675.4 L664.7 675.4 L664.7 688.0 L600.6 688.0 L516.8 655.7 L518.8 649.3 L465.0 654.6 L462.5 647.5 L457.5 636.2 L450.0 627.5 L440.0 622.5 L437.5 617.5 L425.0 612.5 L410.0 603.8 L390.0 600.0 L387.5 592.5 L382.5 577.5 L375.0 565.0 L367.5 552.5 L360.0 542.5 L358.8 530.0 L350.0 517.5 L346.2 505.0 L336.2 500.0 L331.2 487.5 L325.0 480.0 L317.5 467.5 L315.0 452.5 L310.0 442.5 L303.8 433.8 L305.0 422.5 L308.8 405.0 L305.0 391.2 L301.8 379.6 L298.4 367.3 L302.9 354.5 L307.4 337.8 L309.2 318.3 L311.4 301.6 L311.8 282.1 L310.7 272.3 L313.6 264.2 L312.3 253.4 L306.9 240.0 L300.2 226.5 L296.1 213.0 L315.0 218.4 L332.5 222.5 L336.0 226.0 L338.0 221.0 L340.0 212.0 L338.0 203.0 L339.0 199.0 Z"/>
<path d="M312.3 270.9 L325.0 273.0 L336.5 276.3 L340.5 287.0 L352.6 289.7 L368.8 287.0 L387.6 285.7 L409.1 281.6 L430.7 279.5 L469.5 279.3 M466.8 195.7 L466.8 267.6 L469.5 279.3 L479.1 285.7 L477.7 301.8 L468.3 312.6 L464.3 323.3 L465.6 328.7 L467.2 331.0 L467.0 390.7 M489.8 195.6 L489.8 222.5 L495.2 230.5 L497.9 240.0 L508.7 248.0 L519.4 258.8 L527.5 261.5 L526.2 277.6 L523.5 288.4 L531.5 291.1 L538.3 288.4 L545.0 301.8 L550.4 312.6 L557.1 316.6 L561.1 324.7 L571.9 319.3 L586.7 318.0 L593.4 315.3 L598.8 319.3 L601.1 321.9 M306.0 390.7 L601.1 390.7 M400.4 390.7 L400.4 474.3 L520.8 585.7 M601.1 307.1 L601.1 418.6 M601.1 307.1 L758.0 307.1 M601.1 418.6 L802.8 418.6 M534.0 390.7 L534.0 555.1 L520.0 557.5 L518.8 569.0 L520.8 585.7 M522.0 586.0 L526.2 600.0 L532.5 608.8 L525.0 615.0 L522.5 627.5 L520.0 640.0 L525.0 645.0 L523.8 651.2 M534.0 530.0 L969.4 530.0 M645.9 418.6 L645.9 688.0 M758.0 195.7 L758.0 418.6 M802.8 418.6 L802.8 530.0 M781.5 530.0 L781.5 544.0 M780.6 544.0 L780.2 669.3 L700.4 669.3 L702.4 675.4 M780.6 544.0 L848.8 544.0 L848.8 598.0 M848.8 598.0 L855.5 603.0 L866.7 608.0 L880.2 609.4 L891.4 610.0 L894.8 616.9 L911.6 620.6 L917.2 615.0 L925.0 617.8 L938.5 617.8 L949.7 616.9 L956.4 615.0 L972.6 623.6 L982.4 626.1 M758.0 281.0 L925.9 281.0 M758.0 362.9 L882.4 362.9 L893.6 369.3 L907.1 366.5 L918.3 370.4 L928.4 377.1 M802.8 446.4 L954.0 446.4 M910.8 195.7 L916.2 220.0 L922.5 245.0 L925.0 275.0 L923.8 283.8 L918.8 287.5 L922.5 292.5 L929.0 297.5 L929.0 348.8 L925.0 350.0 L927.5 367.5 L932.5 385.0 L928.4 377.1 L936.2 399.1 L940.1 411.6 L941.8 426.9 L954.0 446.4 L963.1 453.4 L958.7 459.0 L969.9 471.2 L969.4 544.0 M928.4 348.9 L1045.6 348.9 M943.6 430.3 L1034.2 429.7 L1041.2 435.9 M1020.0 261.2 L1020.0 277.5 L1008.8 287.5 L1007.5 295.0 L1012.5 302.5 L1010.0 312.5 L1017.5 320.0 L1030.0 325.0 L1042.5 340.0 L1046.2 348.8 L1046.2 362.5 L1055.0 370.0 L1060.0 377.5 L1069.6 387.9 L1068.5 396.3 L1059.5 404.6 L1048.3 413.0 L1048.3 424.2 L1041.2 435.9 L1041.2 448.4 L1042.7 454.8 L1057.3 474.3 L1068.5 477.6 L1069.0 484.6 L1065.2 496.6 L1076.8 504.9 L1083.8 521.7 L1092.5 530.6 L1086.5 544.0 L1083.5 544.0 L1079.7 557.9 L1071.4 582.1 L1059.5 599.7 L1049.5 615.0 L1047.2 630.3 L1046.8 641.5 L1052.8 659.6 L1041.6 681.9 L1037.1 697.2 L1079.1 697.2 L1076.4 706.9 L1083.1 720.0 M1058.7 376.8 L1122.3 376.8 M1063.6 263.4 L1093.2 276.5 L1115.6 282.1 L1122.3 297.4 L1126.8 304.4 M969.4 544.0 L1069.6 544.0 L1064.7 557.9 L1079.7 557.9 M969.4 544.0 L973.7 574.6 L972.6 623.6 M982.4 626.1 L982.4 669.3 L986.7 680.5 L993.4 694.4 L988.9 713.9 L990.0 723.6 L986.7 733.4 M982.4 641.5 L1046.8 641.5 M1066.3 585.7 L1227.5 585.7 M1113.4 585.7 L1107.3 661.0 L1108.9 715.0 M1171.6 585.7 L1181.1 645.1 L1185.1 661.0 L1183.5 680.5 L1185.1 697.2 M1128.6 717.2 L1126.8 697.2 L1185.1 697.2 L1188.2 705.5 L1247.5 711.5 L1249.0 717.0 L1251.5 706.0 L1262.5 707.5 M1272.5 667.5 L1268.8 657.5 L1262.5 643.8 L1245.0 625.0 L1232.5 605.0 L1222.5 595.0 L1227.5 585.7 M1227.5 585.7 L1242.5 580.0 L1275.0 583.8 L1280.0 591.2 L1305.0 592.5 L1328.8 617.5 M1200.3 585.7 L1206.4 574.6 L1218.7 569.9 L1232.2 559.3 L1238.9 557.9 L1251.2 555.1 L1259.5 541.4 M1389.8 542.6 L1259.5 541.4 L1214.7 541.2 L1116.7 540.3 L1116.7 544.0 L1086.5 544.0 M1214.7 541.2 L1226.6 537.0 L1236.7 528.6 L1245.6 521.7 L1253.0 515.0 L1243.4 506.3 L1238.9 497.4 L1238.9 490.5 M1285.5 428.6 L1282.6 435.3 L1281.1 444.5 L1277.7 454.8 L1264.7 463.2 L1258.0 474.3 L1249.0 478.5 L1247.9 485.4 L1238.9 490.5 L1229.9 481.8 L1213.1 484.1 L1201.9 479.9 L1196.3 471.5 L1189.1 471.5 L1188.5 477.1 L1176.1 481.8 L1168.3 494.6 L1162.7 502.2 L1151.5 504.1 L1138.0 508.3 L1127.9 503.6 L1116.7 507.7 L1107.8 518.9 L1104.4 527.8 L1092.5 530.6 M1116.7 507.7 L1119.0 496.6 L1128.4 483.2 L1128.4 464.5 L1128.4 399.1 M1189.1 471.5 L1189.1 399.1 M1133.5 397.4 L1189.1 397.4 L1189.1 399.1 L1219.9 398.2 M1285.5 391.3 L1285.5 454.2 M1285.5 454.2 L1391.6 454.2 M1307.0 455.0 L1307.0 470.0 L1310.0 468.8 L1317.5 462.5 L1325.0 458.8 L1332.5 456.2 L1342.5 457.5 L1345.0 462.5 L1342.5 470.0 L1332.5 462.5 L1327.5 466.2 L1320.0 475.0 L1315.0 480.0 L1308.8 490.0 L1305.0 487.5 L1297.5 496.2 L1292.5 505.0 L1287.5 516.2 L1277.5 521.2 L1267.5 525.0 L1256.2 522.5 M1348.1 465.4 L1353.3 471.5 L1363.6 477.1 L1357.7 491.0 L1364.5 493.8 L1373.4 498.0 M1408.2 489.6 L1393.6 489.6 L1391.6 454.2 L1395.8 451.2 L1399.2 452.0 M1389.1 503.6 L1403.7 502.2 M1399.2 452.0 L1406.4 449.2 L1414.5 440.9 L1408.2 435.3 L1404.8 426.9 L1406.4 419.1 L1416.0 408.6 L1434.0 418.6 M1302.6 383.2 L1302.6 390.7 L1401.5 390.7 L1408.2 401.9 L1416.0 408.6 M1439.6 418.6 L1437.8 415.8 L1441.8 410.2 L1442.9 389.3 L1448.1 369.8 L1448.5 347.5 L1445.2 346.1 L1446.3 329.4 L1446.3 307.1 M1448.1 369.8 L1492.3 371.2 L1493.4 370.1 L1501.2 366.2 L1503.0 366.5 M1442.9 389.3 L1481.0 390.2 L1490.5 390.2 L1490.5 393.5 L1491.6 396.8 L1494.5 399.9 L1496.1 404.6 M1481.0 390.2 L1481.3 407.4 L1479.7 409.9 M1466.2 370.4 L1467.6 354.5 L1469.2 346.1 L1475.4 332.2 L1475.9 325.2 L1485.5 321.1 L1487.8 306.9 M1505.7 360.9 L1503.0 355.9 L1499.4 352.6 L1498.3 318.3 L1497.2 298.8"/>
</g>
<path d="M339.0 199.0 L344.0 204.0 L346.0 212.0 L349.0 222.0 L347.0 232.0 L344.0 240.0 L341.0 247.0 L336.0 246.0 L333.0 240.0 L335.0 232.0 L334.0 226.0" fill="none" stroke="#000" stroke-width="4.5" stroke-linejoin="round" stroke-linecap="round"/>
<path d="M336.0 204.0 L340.0 210.0 L339.0 216.0 L343.0 222.0 L341.0 230.0 L343.0 236.0" fill="none" stroke="#000" stroke-width="5" stroke-linejoin="round" stroke-linecap="round"/>
<path d="M333.0 209.0 L337.0 212.0" fill="none" stroke="#000" stroke-width="5" stroke-linejoin="round" stroke-linecap="round"/>
<path d="M338.0 226.0 L342.0 229.0" fill="none" stroke="#000" stroke-width="6" stroke-linejoin="round" stroke-linecap="round"/>
<path d="M346.0 500.0 L350.0 505.0 L349.0 510.0 L354.0 516.0 L356.0 519.0" fill="none" stroke="#000" stroke-width="4.5" stroke-linejoin="round" stroke-linecap="round"/>
<path d="M350.0 503.0 L352.0 507.0" fill="none" stroke="#000" stroke-width="6" stroke-linejoin="round" stroke-linecap="round"/>
<path d="M1362.0 490.0 L1372.0 497.0 L1380.0 503.0" fill="none" stroke="#000" stroke-width="4.5" stroke-linejoin="round" stroke-linecap="round"/>
<path d="M1366.0 518.0 L1376.0 523.0 L1384.0 527.0" fill="none" stroke="#000" stroke-width="4.5" stroke-linejoin="round" stroke-linecap="round"/>
<path d="M1364.0 528.0 L1374.0 531.0 L1382.0 536.0" fill="none" stroke="#000" stroke-width="4" stroke-linejoin="round" stroke-linecap="round"/>
<path d="M1376.0 470.0 L1378.0 480.0 L1382.0 488.0" fill="none" stroke="#000" stroke-width="5" stroke-linejoin="round" stroke-linecap="round"/>
<path d="M1392.0 456.0 L1390.0 468.0 L1394.0 480.0 L1392.0 490.0" fill="none" stroke="#000" stroke-width="4" stroke-linejoin="round" stroke-linecap="round"/>
<path d="M1370.0 553.0 L1380.0 552.0 L1388.0 556.0 L1378.0 558.0 L1390.0 562.0 L1384.0 566.0 L1392.0 570.0" fill="none" stroke="#000" stroke-width="4.5" stroke-linejoin="round" stroke-linecap="round"/>
<path d="M1372.0 572.0 L1384.0 575.0 L1378.0 580.0 L1366.0 583.0 L1374.0 588.0 L1362.0 594.0 L1370.0 598.0" fill="none" stroke="#000" stroke-width="4.5" stroke-linejoin="round" stroke-linecap="round"/>
<path d="M1360.0 600.0 L1368.0 604.0" fill="none" stroke="#000" stroke-width="4" stroke-linejoin="round" stroke-linecap="round"/>
<path d="M1502.0 411.0 L1504.0 411.5" fill="none" stroke="#000" stroke-width="5.5" stroke-linejoin="round" stroke-linecap="round"/>
<path d="M1516.0 411.0 L1518.0 411.5" fill="none" stroke="#000" stroke-width="5.5" stroke-linejoin="round" stroke-linecap="round"/>
<path d="M1513.0 394.0 L1519.0 397.0 L1521.0 404.0" fill="none" stroke="#000" stroke-width="4" stroke-linejoin="round" stroke-linecap="round"/>
<path d="M1430.0 428.0 L1450.0 422.0 L1470.0 417.0 L1478.0 415.0" fill="none" stroke="#000" stroke-width="4" stroke-linejoin="round" stroke-linecap="round"/>
<path d="M1234.0 784.0 L1238.0 788.0 L1240.0 792.0" fill="none" stroke="#000" stroke-width="6" stroke-linejoin="round" stroke-linecap="round"/>
<path d="M1245.0 812.0 L1249.0 815.0" fill="none" stroke="#000" stroke-width="5" stroke-linejoin="round" stroke-linecap="round"/>
<path d="M1270.0 863.0 L1275.0 865.0" fill="none" stroke="#000" stroke-width="5" stroke-linejoin="round" stroke-linecap="round"/>
<path d="M961.0 736.0 L965.0 741.0 L962.0 746.0" fill="none" stroke="#000" stroke-width="4.5" stroke-linejoin="round" stroke-linecap="round"/>
<path d="M923.0 764.0 L930.0 766.0 L934.0 770.0" fill="none" stroke="#000" stroke-width="4.5" stroke-linejoin="round" stroke-linecap="round"/>
<path d="M903.0 788.0 L909.0 790.0 L906.0 795.0" fill="none" stroke="#000" stroke-width="4.5" stroke-linejoin="round" stroke-linecap="round"/>
<path d="M899.0 800.0 L905.0 803.0" fill="none" stroke="#000" stroke-width="4.5" stroke-linejoin="round" stroke-linecap="round"/>
<path d="M1066.0 720.0 L1072.0 716.0 L1080.0 719.0 L1084.0 724.0 L1078.0 728.0 L1070.0 726.0 L1066.0 720.0" fill="none" stroke="#000" stroke-width="3.2" stroke-linejoin="round" stroke-linecap="round"/>
<path d="M1116.0 706.0 L1117.0 716.0" fill="none" stroke="#000" stroke-width="4" stroke-linejoin="round" stroke-linecap="round"/>
<path d="M1122.0 312.0 L1130.0 300.0 L1137.0 292.0" fill="none" stroke="#000" stroke-width="4.5" stroke-linejoin="round" stroke-linecap="round"/>
<path d="M1140.0 284.0 L1146.0 283.0" fill="none" stroke="#000" stroke-width="4.5" stroke-linejoin="round" stroke-linecap="round"/>
<path d="M1163.0 302.0 L1166.0 310.0" fill="none" stroke="#000" stroke-width="5" stroke-linejoin="round" stroke-linecap="round"/>
<path d="M340.0 197.0 L345.0 203.0 L347.0 212.0 L350.0 221.0 L349.0 230.0 L346.0 238.0 L342.0 245.0 L337.0 249.0 L334.0 245.0 L334.0 238.0 L337.0 232.0" fill="none" stroke="#000" stroke-width="7" stroke-linejoin="round" stroke-linecap="round"/>
<path d="M332.0 207.0 L337.0 204.0 L342.0 209.0" fill="none" stroke="#000" stroke-width="8" stroke-linejoin="round" stroke-linecap="round"/>
<path d="M340.0 216.0 L344.0 224.0 L342.0 232.0 L339.0 240.0" fill="none" stroke="#000" stroke-width="8" stroke-linejoin="round" stroke-linecap="round"/>
<path d="M311.0 249.0 L315.0 255.0 L313.0 262.0 L314.0 268.0" fill="none" stroke="#000" stroke-width="6" stroke-linejoin="round" stroke-linecap="round"/>
</svg>
</body></html>
